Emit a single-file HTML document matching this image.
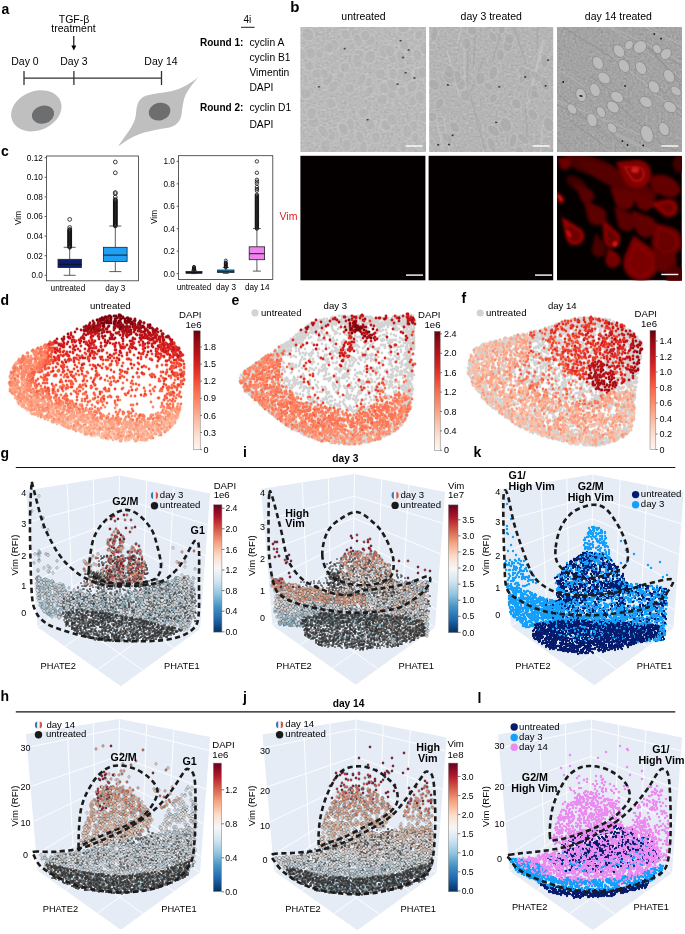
<!DOCTYPE html>
<html><head><meta charset="utf-8"><style>
html,body{margin:0;padding:0;background:#fff;width:685px;height:934px;overflow:hidden}
svg{display:block;will-change:transform}
text{font-family:"Liberation Sans",sans-serif}
</style></head><body>
<svg width="685" height="934" viewBox="0 0 685 934" fill="#000">
<text x="1.5" y="13.5" font-size="14" font-weight="bold">a</text><text x="74" y="22.5" font-size="10.5" text-anchor="middle">TGF-β</text><text x="73.5" y="31.7" font-size="10.5" text-anchor="middle">treatment</text><path d="M73.8 36V47" stroke="#000" stroke-width="1.1"/><path d="M71.3 45.5L73.8 50.6L76.3 45.5Z" fill="#000"/><text x="25" y="64.8" font-size="10.5" text-anchor="middle">Day 0</text><text x="74" y="64.8" font-size="10.5" text-anchor="middle">Day 3</text><text x="161" y="64.8" font-size="10.5" text-anchor="middle">Day 14</text><path d="M24 78.1H161.5M24 71V85M73.9 71V85M161.5 71V85" stroke="#333" stroke-width="1.3" fill="none"/><ellipse cx="36.3" cy="110.8" rx="26" ry="19.6" transform="rotate(-22 36.3 110.8)" fill="#bfbfc0"/><ellipse cx="43" cy="114.6" rx="11.3" ry="8.9" transform="rotate(-14 43 114.6)" fill="#6d6e70"/><path d="M199 76.6C190 84 180 89.5 171.3 91.2C162 93 150 93.5 143 97C137 101 136.5 108 136 114C135 122 131 128 126 135C123 139.5 120 143.5 118 146.6C124 142 131 137 139.2 134.2C148 131 160 129 168.4 127.7C176 126 180 122 181.5 115C182.5 108 183 100 186 94C190 87 195 81 199 76.6Z" fill="#bfbfc0"/><ellipse cx="159.6" cy="111.6" rx="11" ry="8.8" transform="rotate(-14 159.6 111.6)" fill="#6d6e70"/><text x="247.4" y="23.3" font-size="10" text-anchor="middle">4i</text><path d="M241 27.3H254.6" stroke="#000" stroke-width="0.9"/><text x="200" y="45.8" font-size="10" font-weight="bold">Round 1:</text><text x="249.4" y="45.8" font-size="10.3">cyclin A</text><text x="249.4" y="61" font-size="10.3">cyclin B1</text><text x="249.4" y="75.8" font-size="10.3">Vimentin</text><text x="249.4" y="91" font-size="10.3">DAPI</text><text x="249.4" y="110.8" font-size="10.3">cyclin D1</text><text x="249.4" y="127.7" font-size="10.3">DAPI</text><text x="200" y="110.8" font-size="10" font-weight="bold">Round 2:</text><text x="290.3" y="11.6" font-size="15" font-weight="bold">b</text><text x="363.5" y="19.8" font-size="10.5" text-anchor="middle">untreated</text><text x="491.2" y="19.8" font-size="10.5" text-anchor="middle">day 3 treated</text><text x="618.4" y="19.8" font-size="10.5" text-anchor="middle">day 14 treated</text><svg x="300.4" y="27" width="125.6" height="124.8" viewBox="0 0 125.6 124.8"><filter id="gr_untreated" x="0" y="0" width="100%" height="100%" color-interpolation-filters="sRGB"><feTurbulence type="fractalNoise" baseFrequency="0.45" numOctaves="2" seed="66"/><feColorMatrix type="matrix" values="0.1 0.1 0.1 0 0.58 0.1 0.1 0.1 0 0.58 0.1 0.1 0.1 0 0.58 0 0 0 0 1"/></filter><rect width="125.6" height="124.8" filter="url(#gr_untreated)"/><ellipse cx="101.5" cy="64.3" rx="4.6" ry="5.1" transform="rotate(-9 101.5 64.3)" fill="#b2b2b2" fill-opacity="0.6" stroke="#cfcfcf" stroke-width="0.6"/><ellipse cx="51.3" cy="5.7" rx="4.1" ry="7.5" transform="rotate(12 51.3 5.7)" fill="#b2b2b2" fill-opacity="0.6" stroke="#cfcfcf" stroke-width="0.6"/><ellipse cx="29.5" cy="54.3" rx="5.9" ry="7.2" transform="rotate(27 29.5 54.3)" fill="#b2b2b2" fill-opacity="0.6" stroke="#cfcfcf" stroke-width="0.6"/><ellipse cx="49.3" cy="61.5" rx="5.4" ry="5.2" transform="rotate(4 49.3 61.5)" fill="#b2b2b2" fill-opacity="0.6" stroke="#cfcfcf" stroke-width="0.6"/><ellipse cx="34.1" cy="109.8" rx="4.1" ry="6.7" transform="rotate(29 34.1 109.8)" fill="#b2b2b2" fill-opacity="0.6" stroke="#cfcfcf" stroke-width="0.6"/><ellipse cx="28.6" cy="111.8" rx="5.7" ry="5" transform="rotate(16 28.6 111.8)" fill="#b2b2b2" fill-opacity="0.6" stroke="#cfcfcf" stroke-width="0.6"/><ellipse cx="0.2" cy="62.8" rx="4.9" ry="5.5" transform="rotate(-14 0.2 62.8)" fill="#b2b2b2" fill-opacity="0.6" stroke="#cfcfcf" stroke-width="0.6"/><ellipse cx="101.3" cy="39.5" rx="4.3" ry="6.7" transform="rotate(-4 101.3 39.5)" fill="#b2b2b2" fill-opacity="0.6" stroke="#cfcfcf" stroke-width="0.6"/><ellipse cx="100.3" cy="29.4" rx="4.6" ry="7" transform="rotate(0 100.3 29.4)" fill="#b2b2b2" fill-opacity="0.6" stroke="#cfcfcf" stroke-width="0.6"/><ellipse cx="63.6" cy="29.5" rx="4" ry="7.3" transform="rotate(-33 63.6 29.5)" fill="#b2b2b2" fill-opacity="0.6" stroke="#cfcfcf" stroke-width="0.6"/><ellipse cx="106.1" cy="45.9" rx="5.9" ry="6" transform="rotate(34 106.1 45.9)" fill="#b2b2b2" fill-opacity="0.6" stroke="#cfcfcf" stroke-width="0.6"/><ellipse cx="69.9" cy="30" rx="5.5" ry="6.7" transform="rotate(14 69.9 30)" fill="#b2b2b2" fill-opacity="0.6" stroke="#cfcfcf" stroke-width="0.6"/><ellipse cx="58.3" cy="27.7" rx="5.3" ry="5.3" transform="rotate(15 58.3 27.7)" fill="#b2b2b2" fill-opacity="0.6" stroke="#cfcfcf" stroke-width="0.6"/><ellipse cx="79.8" cy="47" rx="5.6" ry="5.5" transform="rotate(-8 79.8 47)" fill="#b2b2b2" fill-opacity="0.6" stroke="#cfcfcf" stroke-width="0.6"/><ellipse cx="100.2" cy="47.5" rx="5.4" ry="6.5" transform="rotate(35 100.2 47.5)" fill="#b2b2b2" fill-opacity="0.6" stroke="#cfcfcf" stroke-width="0.6"/><ellipse cx="124.6" cy="90.3" rx="5.6" ry="5.4" transform="rotate(17 124.6 90.3)" fill="#b2b2b2" fill-opacity="0.6" stroke="#cfcfcf" stroke-width="0.6"/><ellipse cx="106.5" cy="50.1" rx="5.1" ry="6.2" transform="rotate(36 106.5 50.1)" fill="#b2b2b2" fill-opacity="0.6" stroke="#cfcfcf" stroke-width="0.6"/><ellipse cx="39.9" cy="50.2" rx="4" ry="6.1" transform="rotate(10 39.9 50.2)" fill="#b2b2b2" fill-opacity="0.6" stroke="#cfcfcf" stroke-width="0.6"/><ellipse cx="117.4" cy="115.3" rx="4.7" ry="7.5" transform="rotate(-24 117.4 115.3)" fill="#b2b2b2" fill-opacity="0.6" stroke="#cfcfcf" stroke-width="0.6"/><ellipse cx="103.4" cy="19.6" rx="4.8" ry="5.2" transform="rotate(28 103.4 19.6)" fill="#b2b2b2" fill-opacity="0.6" stroke="#cfcfcf" stroke-width="0.6"/><ellipse cx="104.1" cy="17.4" rx="5.1" ry="5.6" transform="rotate(0 104.1 17.4)" fill="#b2b2b2" fill-opacity="0.6" stroke="#cfcfcf" stroke-width="0.6"/><ellipse cx="69.5" cy="13.3" rx="5.7" ry="5.7" transform="rotate(-4 69.5 13.3)" fill="#b2b2b2" fill-opacity="0.6" stroke="#cfcfcf" stroke-width="0.6"/><ellipse cx="7.2" cy="0.3" rx="4.4" ry="5.9" transform="rotate(34 7.2 0.3)" fill="#b2b2b2" fill-opacity="0.6" stroke="#cfcfcf" stroke-width="0.6"/><ellipse cx="111.7" cy="60" rx="4.9" ry="6.7" transform="rotate(28 111.7 60)" fill="#b2b2b2" fill-opacity="0.6" stroke="#cfcfcf" stroke-width="0.6"/><ellipse cx="42.4" cy="99" rx="4.8" ry="6.5" transform="rotate(18 42.4 99)" fill="#b2b2b2" fill-opacity="0.6" stroke="#cfcfcf" stroke-width="0.6"/><ellipse cx="63" cy="86.2" rx="5.4" ry="5" transform="rotate(-36 63 86.2)" fill="#b2b2b2" fill-opacity="0.6" stroke="#cfcfcf" stroke-width="0.6"/><ellipse cx="18.7" cy="26.7" rx="4.4" ry="5.1" transform="rotate(-22 18.7 26.7)" fill="#b2b2b2" fill-opacity="0.6" stroke="#cfcfcf" stroke-width="0.6"/><ellipse cx="75.5" cy="110.6" rx="4.7" ry="5.9" transform="rotate(-6 75.5 110.6)" fill="#b2b2b2" fill-opacity="0.6" stroke="#cfcfcf" stroke-width="0.6"/><ellipse cx="85.5" cy="98" rx="5.9" ry="5.9" transform="rotate(16 85.5 98)" fill="#b2b2b2" fill-opacity="0.6" stroke="#cfcfcf" stroke-width="0.6"/><ellipse cx="42.9" cy="102.8" rx="4.5" ry="7.2" transform="rotate(0 42.9 102.8)" fill="#b2b2b2" fill-opacity="0.6" stroke="#cfcfcf" stroke-width="0.6"/><ellipse cx="91.1" cy="66.8" rx="4.6" ry="6.2" transform="rotate(-35 91.1 66.8)" fill="#b2b2b2" fill-opacity="0.6" stroke="#cfcfcf" stroke-width="0.6"/><ellipse cx="5.4" cy="66.1" rx="5" ry="7.1" transform="rotate(-38 5.4 66.1)" fill="#b2b2b2" fill-opacity="0.6" stroke="#cfcfcf" stroke-width="0.6"/><ellipse cx="69.9" cy="61.2" rx="5.2" ry="6.8" transform="rotate(1 69.9 61.2)" fill="#b2b2b2" fill-opacity="0.6" stroke="#cfcfcf" stroke-width="0.6"/><ellipse cx="70.7" cy="61.4" rx="5.2" ry="5.6" transform="rotate(4 70.7 61.4)" fill="#b2b2b2" fill-opacity="0.6" stroke="#cfcfcf" stroke-width="0.6"/><ellipse cx="84.5" cy="23.9" rx="6" ry="6.9" transform="rotate(36 84.5 23.9)" fill="#b2b2b2" fill-opacity="0.6" stroke="#cfcfcf" stroke-width="0.6"/><ellipse cx="36.9" cy="55.3" rx="4.5" ry="5.1" transform="rotate(-38 36.9 55.3)" fill="#b2b2b2" fill-opacity="0.6" stroke="#cfcfcf" stroke-width="0.6"/><ellipse cx="31" cy="107.5" rx="4.3" ry="6.7" transform="rotate(-20 31 107.5)" fill="#b2b2b2" fill-opacity="0.6" stroke="#cfcfcf" stroke-width="0.6"/><ellipse cx="8.2" cy="24" rx="5.4" ry="6.3" transform="rotate(3 8.2 24)" fill="#b2b2b2" fill-opacity="0.6" stroke="#cfcfcf" stroke-width="0.6"/><ellipse cx="56.9" cy="34.2" rx="5" ry="7.3" transform="rotate(-23 56.9 34.2)" fill="#b2b2b2" fill-opacity="0.6" stroke="#cfcfcf" stroke-width="0.6"/><ellipse cx="92" cy="31.3" rx="4.4" ry="5.8" transform="rotate(-32 92 31.3)" fill="#b2b2b2" fill-opacity="0.6" stroke="#cfcfcf" stroke-width="0.6"/><ellipse cx="117.5" cy="45.6" rx="4.4" ry="5" transform="rotate(-35 117.5 45.6)" fill="#b2b2b2" fill-opacity="0.6" stroke="#cfcfcf" stroke-width="0.6"/><ellipse cx="27" cy="52.1" rx="5.2" ry="7.5" transform="rotate(31 27 52.1)" fill="#b2b2b2" fill-opacity="0.6" stroke="#cfcfcf" stroke-width="0.6"/><ellipse cx="30.4" cy="76.3" rx="5.8" ry="5.3" transform="rotate(28 30.4 76.3)" fill="#b2b2b2" fill-opacity="0.6" stroke="#cfcfcf" stroke-width="0.6"/><ellipse cx="49.7" cy="97.6" rx="4.6" ry="6.6" transform="rotate(0 49.7 97.6)" fill="#b2b2b2" fill-opacity="0.6" stroke="#cfcfcf" stroke-width="0.6"/><ellipse cx="13.1" cy="94.8" rx="5.6" ry="6.2" transform="rotate(-8 13.1 94.8)" fill="#b2b2b2" fill-opacity="0.6" stroke="#cfcfcf" stroke-width="0.6"/><ellipse cx="119" cy="46.7" rx="5.8" ry="6" transform="rotate(-10 119 46.7)" fill="#b2b2b2" fill-opacity="0.6" stroke="#cfcfcf" stroke-width="0.6"/><ellipse cx="45.4" cy="7.5" rx="4.6" ry="5.6" transform="rotate(-35 45.4 7.5)" fill="#b2b2b2" fill-opacity="0.6" stroke="#cfcfcf" stroke-width="0.6"/><ellipse cx="68" cy="55.2" rx="4.1" ry="5.4" transform="rotate(33 68 55.2)" fill="#b2b2b2" fill-opacity="0.6" stroke="#cfcfcf" stroke-width="0.6"/><ellipse cx="16.8" cy="46.6" rx="5.9" ry="5.3" transform="rotate(-7 16.8 46.6)" fill="#b2b2b2" fill-opacity="0.6" stroke="#cfcfcf" stroke-width="0.6"/><ellipse cx="100.6" cy="2.4" rx="4.1" ry="7.3" transform="rotate(14 100.6 2.4)" fill="#b2b2b2" fill-opacity="0.6" stroke="#cfcfcf" stroke-width="0.6"/><ellipse cx="32.8" cy="59.9" rx="4.5" ry="7.2" transform="rotate(35 32.8 59.9)" fill="#b2b2b2" fill-opacity="0.6" stroke="#cfcfcf" stroke-width="0.6"/><ellipse cx="8.9" cy="65.4" rx="4.4" ry="6" transform="rotate(19 8.9 65.4)" fill="#b2b2b2" fill-opacity="0.6" stroke="#cfcfcf" stroke-width="0.6"/><ellipse cx="89.6" cy="23.7" rx="4.7" ry="6.1" transform="rotate(-9 89.6 23.7)" fill="#b2b2b2" fill-opacity="0.6" stroke="#cfcfcf" stroke-width="0.6"/><ellipse cx="85.7" cy="98.4" rx="4.7" ry="6.1" transform="rotate(-34 85.7 98.4)" fill="#b2b2b2" fill-opacity="0.6" stroke="#cfcfcf" stroke-width="0.6"/><ellipse cx="46.1" cy="118.2" rx="5" ry="6.4" transform="rotate(8 46.1 118.2)" fill="#b2b2b2" fill-opacity="0.6" stroke="#cfcfcf" stroke-width="0.6"/><ellipse cx="71.2" cy="100.4" rx="4.5" ry="5.8" transform="rotate(30 71.2 100.4)" fill="#b2b2b2" fill-opacity="0.6" stroke="#cfcfcf" stroke-width="0.6"/><ellipse cx="62.8" cy="119.8" rx="4.3" ry="7" transform="rotate(-2 62.8 119.8)" fill="#b2b2b2" fill-opacity="0.6" stroke="#cfcfcf" stroke-width="0.6"/><ellipse cx="59.5" cy="110" rx="4.3" ry="6.3" transform="rotate(-20 59.5 110)" fill="#b2b2b2" fill-opacity="0.6" stroke="#cfcfcf" stroke-width="0.6"/><ellipse cx="43.1" cy="102" rx="4.8" ry="7" transform="rotate(-38 43.1 102)" fill="#b2b2b2" fill-opacity="0.6" stroke="#cfcfcf" stroke-width="0.6"/><ellipse cx="125.5" cy="119.2" rx="5.4" ry="5.5" transform="rotate(12 125.5 119.2)" fill="#b2b2b2" fill-opacity="0.6" stroke="#cfcfcf" stroke-width="0.6"/><ellipse cx="23.9" cy="46.6" rx="4.1" ry="5.2" transform="rotate(-27 23.9 46.6)" fill="#b2b2b2" fill-opacity="0.6" stroke="#cfcfcf" stroke-width="0.6"/><ellipse cx="22.8" cy="104.6" rx="4.5" ry="7.1" transform="rotate(-39 22.8 104.6)" fill="#b2b2b2" fill-opacity="0.6" stroke="#cfcfcf" stroke-width="0.6"/><ellipse cx="7.3" cy="7.6" rx="5.9" ry="7" transform="rotate(-38 7.3 7.6)" fill="#b2b2b2" fill-opacity="0.6" stroke="#cfcfcf" stroke-width="0.6"/><ellipse cx="117" cy="28.3" rx="4.5" ry="6.5" transform="rotate(-23 117 28.3)" fill="#b2b2b2" fill-opacity="0.6" stroke="#cfcfcf" stroke-width="0.6"/><ellipse cx="122.5" cy="45.7" rx="5.1" ry="6.4" transform="rotate(-17 122.5 45.7)" fill="#b2b2b2" fill-opacity="0.6" stroke="#cfcfcf" stroke-width="0.6"/><ellipse cx="92.3" cy="123.8" rx="5.2" ry="5.2" transform="rotate(24 92.3 123.8)" fill="#b2b2b2" fill-opacity="0.6" stroke="#cfcfcf" stroke-width="0.6"/><ellipse cx="83.7" cy="61.1" rx="5.3" ry="5.7" transform="rotate(-15 83.7 61.1)" fill="#b2b2b2" fill-opacity="0.6" stroke="#cfcfcf" stroke-width="0.6"/><ellipse cx="64.7" cy="8.5" rx="5.2" ry="5.5" transform="rotate(-19 64.7 8.5)" fill="#b2b2b2" fill-opacity="0.6" stroke="#cfcfcf" stroke-width="0.6"/><ellipse cx="113" cy="73.4" rx="4.5" ry="6.7" transform="rotate(39 113 73.4)" fill="#b2b2b2" fill-opacity="0.6" stroke="#cfcfcf" stroke-width="0.6"/><ellipse cx="112.7" cy="99.7" rx="4.7" ry="6.5" transform="rotate(6 112.7 99.7)" fill="#b2b2b2" fill-opacity="0.6" stroke="#cfcfcf" stroke-width="0.6"/><ellipse cx="11.1" cy="86.4" rx="5" ry="6.3" transform="rotate(18 11.1 86.4)" fill="#b2b2b2" fill-opacity="0.6" stroke="#cfcfcf" stroke-width="0.6"/><ellipse cx="9.7" cy="26.5" rx="6" ry="5.7" transform="rotate(-19 9.7 26.5)" fill="#b2b2b2" fill-opacity="0.6" stroke="#cfcfcf" stroke-width="0.6"/><ellipse cx="9" cy="39" rx="5.1" ry="5.1" transform="rotate(-16 9 39)" fill="#b2b2b2" fill-opacity="0.6" stroke="#cfcfcf" stroke-width="0.6"/><ellipse cx="32.2" cy="19.2" rx="5.6" ry="7.4" transform="rotate(33 32.2 19.2)" fill="#b2b2b2" fill-opacity="0.6" stroke="#cfcfcf" stroke-width="0.6"/><ellipse cx="55.4" cy="8.3" rx="4.7" ry="6.3" transform="rotate(-9 55.4 8.3)" fill="#b2b2b2" fill-opacity="0.6" stroke="#cfcfcf" stroke-width="0.6"/><ellipse cx="91.8" cy="92.7" rx="5.8" ry="6.2" transform="rotate(-20 91.8 92.7)" fill="#b2b2b2" fill-opacity="0.6" stroke="#cfcfcf" stroke-width="0.6"/><ellipse cx="114.4" cy="110.4" rx="4.3" ry="5.5" transform="rotate(12 114.4 110.4)" fill="#b2b2b2" fill-opacity="0.6" stroke="#cfcfcf" stroke-width="0.6"/><ellipse cx="103.1" cy="119.8" rx="4" ry="5.5" transform="rotate(-6 103.1 119.8)" fill="#b2b2b2" fill-opacity="0.6" stroke="#cfcfcf" stroke-width="0.6"/><ellipse cx="69.2" cy="97.1" rx="5.1" ry="6.3" transform="rotate(-20 69.2 97.1)" fill="#b2b2b2" fill-opacity="0.6" stroke="#cfcfcf" stroke-width="0.6"/><ellipse cx="81.7" cy="72.7" rx="5.9" ry="5.5" transform="rotate(-30 81.7 72.7)" fill="#b2b2b2" fill-opacity="0.6" stroke="#cfcfcf" stroke-width="0.6"/><ellipse cx="44.4" cy="40.6" rx="4.9" ry="5.4" transform="rotate(16 44.4 40.6)" fill="#b2b2b2" fill-opacity="0.6" stroke="#cfcfcf" stroke-width="0.6"/><ellipse cx="103.3" cy="0.8" rx="5.8" ry="5.2" transform="rotate(-15 103.3 0.8)" fill="#b2b2b2" fill-opacity="0.6" stroke="#cfcfcf" stroke-width="0.6"/><ellipse cx="61.1" cy="52.9" rx="4.4" ry="6.8" transform="rotate(27 61.1 52.9)" fill="#b2b2b2" fill-opacity="0.6" stroke="#cfcfcf" stroke-width="0.6"/><ellipse cx="28.6" cy="20.6" rx="5" ry="5.4" transform="rotate(35 28.6 20.6)" fill="#b2b2b2" fill-opacity="0.6" stroke="#cfcfcf" stroke-width="0.6"/><ellipse cx="106.9" cy="104.2" rx="4.8" ry="7" transform="rotate(-8 106.9 104.2)" fill="#b2b2b2" fill-opacity="0.6" stroke="#cfcfcf" stroke-width="0.6"/><ellipse cx="57.5" cy="13.2" rx="4.1" ry="6.7" transform="rotate(-24 57.5 13.2)" fill="#b2b2b2" fill-opacity="0.6" stroke="#cfcfcf" stroke-width="0.6"/><ellipse cx="120.1" cy="70.5" rx="5.2" ry="7.2" transform="rotate(-16 120.1 70.5)" fill="#b2b2b2" fill-opacity="0.6" stroke="#cfcfcf" stroke-width="0.6"/><ellipse cx="1.4" cy="27.4" rx="4.9" ry="5.4" transform="rotate(-17 1.4 27.4)" fill="#b2b2b2" fill-opacity="0.6" stroke="#cfcfcf" stroke-width="0.6"/><ellipse cx="92.6" cy="47" rx="4.7" ry="5.6" transform="rotate(2 92.6 47)" fill="#b2b2b2" fill-opacity="0.6" stroke="#cfcfcf" stroke-width="0.6"/><ellipse cx="125" cy="21.1" rx="5.7" ry="6.9" transform="rotate(8 125 21.1)" fill="#b2b2b2" fill-opacity="0.6" stroke="#cfcfcf" stroke-width="0.6"/><ellipse cx="68.2" cy="64.9" rx="4.2" ry="6.4" transform="rotate(39 68.2 64.9)" fill="#b2b2b2" fill-opacity="0.6" stroke="#cfcfcf" stroke-width="0.6"/><ellipse cx="91.6" cy="58.2" rx="4.9" ry="7.2" transform="rotate(-39 91.6 58.2)" fill="#b2b2b2" fill-opacity="0.6" stroke="#cfcfcf" stroke-width="0.6"/><ellipse cx="25.1" cy="119.5" rx="5.3" ry="7.1" transform="rotate(2 25.1 119.5)" fill="#b2b2b2" fill-opacity="0.6" stroke="#cfcfcf" stroke-width="0.6"/><ellipse cx="5.2" cy="66.9" rx="5.3" ry="5.2" transform="rotate(-1 5.2 66.9)" fill="#b2b2b2" fill-opacity="0.6" stroke="#cfcfcf" stroke-width="0.6"/><ellipse cx="118.4" cy="7.8" rx="4.1" ry="5.3" transform="rotate(14 118.4 7.8)" fill="#b2b2b2" fill-opacity="0.6" stroke="#cfcfcf" stroke-width="0.6"/><circle cx="108.2" cy="22.9" r="0.9" fill="#222"/><circle cx="102.6" cy="30.5" r="0.9" fill="#222"/><circle cx="67.2" cy="92.7" r="0.9" fill="#222"/><circle cx="18.6" cy="59.8" r="0.9" fill="#222"/><circle cx="105.2" cy="45.7" r="0.9" fill="#222"/><circle cx="97.2" cy="57.2" r="0.9" fill="#222"/><circle cx="114" cy="51" r="0.9" fill="#222"/><circle cx="100.1" cy="13.7" r="0.9" fill="#222"/><circle cx="44.2" cy="21.7" r="0.9" fill="#222"/><path d="M105.1 119H122.1" stroke="#fff" stroke-width="1.4"/></svg><svg x="429.2" y="27" width="124" height="124.8" viewBox="0 0 124 124.8"><filter id="gr_day3" x="0" y="0" width="100%" height="100%" color-interpolation-filters="sRGB"><feTurbulence type="fractalNoise" baseFrequency="0.45" numOctaves="2" seed="79"/><feColorMatrix type="matrix" values="0.1 0.1 0.1 0 0.56 0.1 0.1 0.1 0 0.56 0.1 0.1 0.1 0 0.56 0 0 0 0 1"/></filter><rect width="124" height="124.8" filter="url(#gr_day3)"/><path d="M38.1 58.7L38.8 16.7" stroke="#a0a0a0" stroke-width="0.8"/><path d="M63.2 35.2L80.6 -28" stroke="#a0a0a0" stroke-width="0.8"/><path d="M40.7 66.5L55.1 30.6" stroke="#a0a0a0" stroke-width="0.8"/><path d="M22.2 134.5L14.2 89.9" stroke="#cdcdcd" stroke-width="0.8"/><path d="M35.1 74.7L35 14" stroke="#cdcdcd" stroke-width="0.8"/><path d="M-16.7 134.2L-14.4 81.2" stroke="#a0a0a0" stroke-width="0.8"/><path d="M44.3 39.9L47.6 -30.7" stroke="#a0a0a0" stroke-width="0.8"/><path d="M30.4 70.2L18.1 23.9" stroke="#cdcdcd" stroke-width="0.8"/><path d="M108 21.9L109.4 -44.6" stroke="#a0a0a0" stroke-width="0.8"/><path d="M77.5 2.5L80.3 -51.9" stroke="#cdcdcd" stroke-width="0.8"/><path d="M41.8 0.2L44.2 -30.3" stroke="#cdcdcd" stroke-width="0.8"/><path d="M28.2 16.8L39.6 -30" stroke="#cdcdcd" stroke-width="0.8"/><path d="M98 110.7L96.4 80.6" stroke="#a0a0a0" stroke-width="0.8"/><path d="M97.3 81.8L114.8 13.9" stroke="#cdcdcd" stroke-width="0.8"/><path d="M-9.6 142.1L0.7 85.1" stroke="#a0a0a0" stroke-width="0.8"/><path d="M110 144.6L113.7 97.6" stroke="#cdcdcd" stroke-width="0.8"/><path d="M-10.9 110.5L-19.9 49" stroke="#a0a0a0" stroke-width="0.8"/><path d="M58.8 134.5L40.4 65.9" stroke="#a0a0a0" stroke-width="0.8"/><path d="M14.2 122.8L6.8 92.1" stroke="#cdcdcd" stroke-width="0.8"/><path d="M96.7 36.9L82.2 -7.7" stroke="#a0a0a0" stroke-width="0.8"/><path d="M-1.7 1.6L9.1 -56.7" stroke="#cdcdcd" stroke-width="0.8"/><path d="M100 70.6L113.6 12.2" stroke="#cdcdcd" stroke-width="0.8"/><ellipse cx="25.5" cy="100.3" rx="4.3" ry="6.5" transform="rotate(-39 25.5 100.3)" fill="#a9a9a9" fill-opacity="0.6" stroke="#cccccc" stroke-width="0.6"/><ellipse cx="31.6" cy="56.8" rx="4.9" ry="6.4" transform="rotate(-5 31.6 56.8)" fill="#a9a9a9" fill-opacity="0.6" stroke="#cccccc" stroke-width="0.6"/><ellipse cx="93.9" cy="50.3" rx="3.5" ry="6.7" transform="rotate(25 93.9 50.3)" fill="#a9a9a9" fill-opacity="0.6" stroke="#cccccc" stroke-width="0.6"/><ellipse cx="4.7" cy="57.8" rx="4.8" ry="6.5" transform="rotate(-41 4.7 57.8)" fill="#a9a9a9" fill-opacity="0.6" stroke="#cccccc" stroke-width="0.6"/><ellipse cx="63.7" cy="10" rx="3.6" ry="6" transform="rotate(-35 63.7 10)" fill="#a9a9a9" fill-opacity="0.6" stroke="#cccccc" stroke-width="0.6"/><ellipse cx="62.5" cy="117.9" rx="3.9" ry="8" transform="rotate(-22 62.5 117.9)" fill="#a9a9a9" fill-opacity="0.6" stroke="#cccccc" stroke-width="0.6"/><ellipse cx="103.6" cy="65.2" rx="5.1" ry="7.6" transform="rotate(17 103.6 65.2)" fill="#a9a9a9" fill-opacity="0.6" stroke="#cccccc" stroke-width="0.6"/><ellipse cx="18.3" cy="111.2" rx="3.7" ry="7.2" transform="rotate(-46 18.3 111.2)" fill="#a9a9a9" fill-opacity="0.6" stroke="#cccccc" stroke-width="0.6"/><ellipse cx="37.2" cy="16.5" rx="4.7" ry="5.9" transform="rotate(-4 37.2 16.5)" fill="#a9a9a9" fill-opacity="0.6" stroke="#cccccc" stroke-width="0.6"/><ellipse cx="27.1" cy="49.8" rx="5.3" ry="6.8" transform="rotate(-11 27.1 49.8)" fill="#a9a9a9" fill-opacity="0.6" stroke="#cccccc" stroke-width="0.6"/><ellipse cx="90" cy="123.9" rx="4.2" ry="5.3" transform="rotate(-30 90 123.9)" fill="#a9a9a9" fill-opacity="0.6" stroke="#cccccc" stroke-width="0.6"/><ellipse cx="19.4" cy="50.6" rx="5" ry="7.3" transform="rotate(-41 19.4 50.6)" fill="#a9a9a9" fill-opacity="0.6" stroke="#cccccc" stroke-width="0.6"/><ellipse cx="20.1" cy="44.9" rx="5.2" ry="6.5" transform="rotate(-6 20.1 44.9)" fill="#a9a9a9" fill-opacity="0.6" stroke="#cccccc" stroke-width="0.6"/><ellipse cx="36.1" cy="68.6" rx="4.7" ry="6" transform="rotate(-1 36.1 68.6)" fill="#a9a9a9" fill-opacity="0.6" stroke="#cccccc" stroke-width="0.6"/><ellipse cx="93.5" cy="44.2" rx="4.4" ry="5.4" transform="rotate(-29 93.5 44.2)" fill="#a9a9a9" fill-opacity="0.6" stroke="#cccccc" stroke-width="0.6"/><ellipse cx="5" cy="7" rx="3.7" ry="7.7" transform="rotate(8 5 7)" fill="#a9a9a9" fill-opacity="0.6" stroke="#cccccc" stroke-width="0.6"/><ellipse cx="72.6" cy="99.6" rx="3.9" ry="6.1" transform="rotate(-3 72.6 99.6)" fill="#a9a9a9" fill-opacity="0.6" stroke="#cccccc" stroke-width="0.6"/><ellipse cx="106" cy="67.4" rx="3.8" ry="5.1" transform="rotate(-47 106 67.4)" fill="#a9a9a9" fill-opacity="0.6" stroke="#cccccc" stroke-width="0.6"/><ellipse cx="93.8" cy="111.6" rx="3.8" ry="7.4" transform="rotate(-46 93.8 111.6)" fill="#a9a9a9" fill-opacity="0.6" stroke="#cccccc" stroke-width="0.6"/><ellipse cx="103.6" cy="87.6" rx="4.4" ry="6.4" transform="rotate(-32 103.6 87.6)" fill="#a9a9a9" fill-opacity="0.6" stroke="#cccccc" stroke-width="0.6"/><ellipse cx="115.4" cy="34" rx="4" ry="7.3" transform="rotate(-3 115.4 34)" fill="#a9a9a9" fill-opacity="0.6" stroke="#cccccc" stroke-width="0.6"/><ellipse cx="64.1" cy="71.3" rx="3.7" ry="5.3" transform="rotate(28 64.1 71.3)" fill="#a9a9a9" fill-opacity="0.6" stroke="#cccccc" stroke-width="0.6"/><ellipse cx="87.1" cy="76.7" rx="4.6" ry="5.7" transform="rotate(-37 87.1 76.7)" fill="#a9a9a9" fill-opacity="0.6" stroke="#cccccc" stroke-width="0.6"/><ellipse cx="72.4" cy="1.3" rx="3.6" ry="6" transform="rotate(-3 72.4 1.3)" fill="#a9a9a9" fill-opacity="0.6" stroke="#cccccc" stroke-width="0.6"/><ellipse cx="115.3" cy="56.5" rx="4.1" ry="7.9" transform="rotate(-26 115.3 56.5)" fill="#a9a9a9" fill-opacity="0.6" stroke="#cccccc" stroke-width="0.6"/><ellipse cx="59.7" cy="59.6" rx="3.6" ry="5.3" transform="rotate(-49 59.7 59.6)" fill="#a9a9a9" fill-opacity="0.6" stroke="#cccccc" stroke-width="0.6"/><ellipse cx="98.5" cy="47.4" rx="4.9" ry="6.3" transform="rotate(-10 98.5 47.4)" fill="#a9a9a9" fill-opacity="0.6" stroke="#cccccc" stroke-width="0.6"/><ellipse cx="107.1" cy="49.2" rx="3.7" ry="7" transform="rotate(-47 107.1 49.2)" fill="#a9a9a9" fill-opacity="0.6" stroke="#cccccc" stroke-width="0.6"/><ellipse cx="63.9" cy="46" rx="4.4" ry="7.2" transform="rotate(17 63.9 46)" fill="#a9a9a9" fill-opacity="0.6" stroke="#cccccc" stroke-width="0.6"/><ellipse cx="119.4" cy="97.3" rx="5.1" ry="7.8" transform="rotate(-19 119.4 97.3)" fill="#a9a9a9" fill-opacity="0.6" stroke="#cccccc" stroke-width="0.6"/><ellipse cx="42.6" cy="3.5" rx="4.4" ry="5.2" transform="rotate(-32 42.6 3.5)" fill="#a9a9a9" fill-opacity="0.6" stroke="#cccccc" stroke-width="0.6"/><ellipse cx="51.2" cy="51.4" rx="5" ry="6.4" transform="rotate(6 51.2 51.4)" fill="#a9a9a9" fill-opacity="0.6" stroke="#cccccc" stroke-width="0.6"/><ellipse cx="2.8" cy="90" rx="5" ry="5" transform="rotate(-21 2.8 90)" fill="#a9a9a9" fill-opacity="0.6" stroke="#cccccc" stroke-width="0.6"/><ellipse cx="78.9" cy="17.2" rx="5.1" ry="7.9" transform="rotate(12 78.9 17.2)" fill="#a9a9a9" fill-opacity="0.6" stroke="#cccccc" stroke-width="0.6"/><ellipse cx="76.8" cy="97.8" rx="5.4" ry="7.9" transform="rotate(-23 76.8 97.8)" fill="#a9a9a9" fill-opacity="0.6" stroke="#cccccc" stroke-width="0.6"/><ellipse cx="80.3" cy="11.8" rx="5.3" ry="5.2" transform="rotate(-27 80.3 11.8)" fill="#a9a9a9" fill-opacity="0.6" stroke="#cccccc" stroke-width="0.6"/><ellipse cx="71.1" cy="27.9" rx="4.3" ry="6.1" transform="rotate(3 71.1 27.9)" fill="#a9a9a9" fill-opacity="0.6" stroke="#cccccc" stroke-width="0.6"/><ellipse cx="64.2" cy="103.6" rx="4.7" ry="7.2" transform="rotate(-48 64.2 103.6)" fill="#a9a9a9" fill-opacity="0.6" stroke="#cccccc" stroke-width="0.6"/><ellipse cx="83.8" cy="113.6" rx="3.8" ry="7.3" transform="rotate(12 83.8 113.6)" fill="#a9a9a9" fill-opacity="0.6" stroke="#cccccc" stroke-width="0.6"/><ellipse cx="10.3" cy="76.7" rx="4.1" ry="6.1" transform="rotate(29 10.3 76.7)" fill="#a9a9a9" fill-opacity="0.6" stroke="#cccccc" stroke-width="0.6"/><circle cx="70" cy="59.8" r="0.9" fill="#111"/><circle cx="95.9" cy="49.9" r="0.9" fill="#111"/><circle cx="19.8" cy="117.5" r="0.9" fill="#111"/><circle cx="23.4" cy="108.4" r="0.9" fill="#111"/><circle cx="116.4" cy="58.8" r="0.9" fill="#111"/><circle cx="18.7" cy="57.9" r="0.9" fill="#111"/><circle cx="66.9" cy="95.3" r="0.9" fill="#111"/><circle cx="118.9" cy="33.1" r="0.9" fill="#111"/><circle cx="8.9" cy="117.7" r="0.9" fill="#111"/><path d="M103.5 119H120.5" stroke="#fff" stroke-width="1.4"/></svg><svg x="557" y="27" width="124.8" height="124.8" viewBox="0 0 124.8 124.8"><filter id="gr_day14" x="0" y="0" width="100%" height="100%" color-interpolation-filters="sRGB"><feTurbulence type="fractalNoise" baseFrequency="0.45" numOctaves="2" seed="69"/><feColorMatrix type="matrix" values="0.1 0.1 0.1 0 0.49 0.1 0.1 0.1 0 0.49 0.1 0.1 0.1 0 0.49 0 0 0 0 1"/></filter><rect width="124.8" height="124.8" filter="url(#gr_day14)"/><path d="M119 109.3L206.3 164" stroke="#b8b8b8" stroke-width="0.8"/><path d="M1 66.6L53.8 113" stroke="#8e8e8e" stroke-width="0.8"/><path d="M42.8 112.2L97.3 172.4" stroke="#b8b8b8" stroke-width="0.8"/><path d="M86.2 -0.5L163 36.2" stroke="#b8b8b8" stroke-width="0.8"/><path d="M63.4 -18.7L100.6 4.2" stroke="#b8b8b8" stroke-width="0.8"/><path d="M-2 76.3L50.9 103.5" stroke="#8e8e8e" stroke-width="0.8"/><path d="M51.2 102.5L116.4 174.9" stroke="#8e8e8e" stroke-width="0.8"/><path d="M-12.8 -11.8L65.7 37.2" stroke="#8e8e8e" stroke-width="0.8"/><path d="M52.1 26.4L94.2 61.7" stroke="#b8b8b8" stroke-width="0.8"/><path d="M83.7 17.7L161 56.7" stroke="#8e8e8e" stroke-width="0.8"/><path d="M31.7 48.5L74.6 77.4" stroke="#8e8e8e" stroke-width="0.8"/><path d="M12.9 93.5L52.9 122.6" stroke="#8e8e8e" stroke-width="0.8"/><path d="M111.3 74.8L183.6 107.6" stroke="#b8b8b8" stroke-width="0.8"/><path d="M-13.9 67.6L82.6 107.5" stroke="#b8b8b8" stroke-width="0.8"/><path d="M27.3 -16.8L96.7 29.9" stroke="#b8b8b8" stroke-width="0.8"/><path d="M44.7 100.2L119 138.4" stroke="#b8b8b8" stroke-width="0.8"/><path d="M113.1 80.3L150.8 110.9" stroke="#8e8e8e" stroke-width="0.8"/><path d="M-29.8 21.5L28.8 60.7" stroke="#b8b8b8" stroke-width="0.8"/><path d="M56.5 73.8L109.7 121.5" stroke="#8e8e8e" stroke-width="0.8"/><path d="M-1 110L65.9 182.7" stroke="#8e8e8e" stroke-width="0.8"/><path d="M91.2 22.1L165.6 94.7" stroke="#8e8e8e" stroke-width="0.8"/><path d="M43.1 -5.8L140.1 42.3" stroke="#b8b8b8" stroke-width="0.8"/><path d="M55.8 104.5L108.6 130.5" stroke="#b8b8b8" stroke-width="0.8"/><path d="M91.5 62L154.4 110.9" stroke="#b8b8b8" stroke-width="0.8"/><path d="M90.8 18.3L132.9 68.4" stroke="#8e8e8e" stroke-width="0.8"/><path d="M99.7 58.3L142.3 103.9" stroke="#8e8e8e" stroke-width="0.8"/><ellipse cx="83" cy="20" rx="7" ry="6" transform="rotate(-41 83 20)" fill="#bcbcbc" stroke="#878787" stroke-width="0.7"/><ellipse cx="62" cy="24" rx="5" ry="7" transform="rotate(-36 62 24)" fill="#bcbcbc" stroke="#878787" stroke-width="0.7"/><ellipse cx="41" cy="36" rx="5" ry="7" transform="rotate(-29 41 36)" fill="#bcbcbc" stroke="#878787" stroke-width="0.7"/><ellipse cx="67" cy="39" rx="5" ry="7" transform="rotate(-31 67 39)" fill="#bcbcbc" stroke="#878787" stroke-width="0.7"/><ellipse cx="84" cy="41" rx="5" ry="7" transform="rotate(-32 84 41)" fill="#bcbcbc" stroke="#878787" stroke-width="0.7"/><ellipse cx="47" cy="51" rx="5" ry="7" transform="rotate(-51 47 51)" fill="#bcbcbc" stroke="#878787" stroke-width="0.7"/><ellipse cx="109" cy="27" rx="6" ry="5" transform="rotate(-46 109 27)" fill="#bcbcbc" stroke="#878787" stroke-width="0.7"/><ellipse cx="112" cy="49" rx="5" ry="7" transform="rotate(-30 112 49)" fill="#bcbcbc" stroke="#878787" stroke-width="0.7"/><ellipse cx="97" cy="60" rx="5" ry="7" transform="rotate(-36 97 60)" fill="#bcbcbc" stroke="#878787" stroke-width="0.7"/><ellipse cx="38" cy="63" rx="5" ry="7" transform="rotate(-23 38 63)" fill="#bcbcbc" stroke="#878787" stroke-width="0.7"/><ellipse cx="60" cy="70" rx="5" ry="7" transform="rotate(-57 60 70)" fill="#bcbcbc" stroke="#878787" stroke-width="0.7"/><ellipse cx="24" cy="68" rx="5" ry="7" transform="rotate(-20 24 68)" fill="#bcbcbc" stroke="#878787" stroke-width="0.7"/><ellipse cx="15" cy="82" rx="4" ry="6" transform="rotate(-40 15 82)" fill="#bcbcbc" stroke="#878787" stroke-width="0.7"/><ellipse cx="56" cy="80" rx="5" ry="7" transform="rotate(-48 56 80)" fill="#bcbcbc" stroke="#878787" stroke-width="0.7"/><ellipse cx="89" cy="75" rx="5" ry="7" transform="rotate(-55 89 75)" fill="#bcbcbc" stroke="#878787" stroke-width="0.7"/><ellipse cx="113" cy="80" rx="5" ry="7" transform="rotate(-57 113 80)" fill="#bcbcbc" stroke="#878787" stroke-width="0.7"/><ellipse cx="35" cy="93" rx="5" ry="7" transform="rotate(-20 35 93)" fill="#bcbcbc" stroke="#878787" stroke-width="0.7"/><ellipse cx="44" cy="85" rx="4" ry="6" transform="rotate(-28 44 85)" fill="#bcbcbc" stroke="#878787" stroke-width="0.7"/><ellipse cx="90" cy="107" rx="6" ry="9" transform="rotate(-20 90 107)" fill="#bcbcbc" stroke="#878787" stroke-width="0.7"/><ellipse cx="107" cy="102" rx="5" ry="7" transform="rotate(-26 107 102)" fill="#bcbcbc" stroke="#878787" stroke-width="0.7"/><ellipse cx="55" cy="101" rx="4" ry="6" transform="rotate(-42 55 101)" fill="#bcbcbc" stroke="#878787" stroke-width="0.7"/><ellipse cx="72" cy="18" rx="5" ry="4" transform="rotate(-52 72 18)" fill="#bcbcbc" stroke="#878787" stroke-width="0.7"/><ellipse cx="100" cy="22" rx="4" ry="5" transform="rotate(-38 100 22)" fill="#bcbcbc" stroke="#878787" stroke-width="0.7"/><ellipse cx="119" cy="64" rx="4" ry="6" transform="rotate(-50 119 64)" fill="#bcbcbc" stroke="#878787" stroke-width="0.7"/><circle cx="23.3" cy="68.8" r="0.9" fill="#111"/><circle cx="70.5" cy="118" r="0.9" fill="#111"/><circle cx="97.3" cy="7.1" r="0.9" fill="#111"/><circle cx="24.7" cy="69.1" r="0.9" fill="#111"/><circle cx="86.2" cy="118.5" r="0.9" fill="#111"/><circle cx="68.1" cy="58.9" r="0.9" fill="#111"/><circle cx="6.2" cy="55" r="0.9" fill="#111"/><circle cx="104" cy="11.7" r="0.9" fill="#111"/><circle cx="65.3" cy="114.1" r="0.9" fill="#111"/><path d="M104.3 119H121.3" stroke="#fff" stroke-width="1.4"/></svg><rect x="300.4" y="155.8" width="125" height="124.5" fill="#050000"/><path d="M406 275.1H423" stroke="#fff" stroke-width="1.4"/><rect x="428.6" y="155.8" width="124.6" height="124.5" fill="#050000"/><path d="M535 275.1H552" stroke="#fff" stroke-width="1.4"/><svg x="557" y="155.9" width="124.8" height="124.3" viewBox="0 0 124.8 124.3"><defs><filter id="rb" x="-20%" y="-20%" width="140%" height="140%"><feGaussianBlur stdDeviation="1.6"/></filter><filter id="rb1" x="-50%" y="-50%" width="200%" height="200%"><feGaussianBlur stdDeviation="0.9"/></filter></defs><rect width="124.8" height="124.3" fill="#050000"/><g filter="url(#rb)"><ellipse cx="35" cy="10" rx="30" ry="9" transform="rotate(18 35 10)" fill="#490000"/><ellipse cx="62" cy="24" rx="42" ry="9" transform="rotate(24 62 24)" fill="#550000"/><ellipse cx="108" cy="30" rx="16" ry="10" transform="rotate(25 108 30)" fill="#620000"/><ellipse cx="20" cy="28" rx="12" ry="6" transform="rotate(35 20 28)" fill="#3c0000"/><ellipse cx="122" cy="8" rx="6" ry="9" transform="rotate(0 122 8)" fill="#410000"/><path d="M59 5.9L78.6 3.9A14.2 14.2 0 1 1 67.1 23.8Z" fill="#830000"/><path d="M52.8 31.3L69.7 34.1A10 10 0 1 1 58.5 47.4Z" fill="#640000"/><path d="M74.5 34.7L89.5 37.3A8.8 8.8 0 1 1 79.7 49Z" fill="#620000"/><path d="M25.9 43.1L43.9 51.4A9.4 9.4 0 1 1 30.9 62.4Z" fill="#5b0000"/><path d="M4.1 60.2L23 72A9.4 9.4 0 1 1 8.8 82Z" fill="#6d0000"/><path d="M44.8 61.1L61.1 76.6A8.8 8.8 0 1 1 46.2 83.5Z" fill="#680000"/><path d="M38.9 76.7L47.9 90.1A7.1 7.1 0 1 1 35.1 92.3Z" fill="#490000"/><path d="M57.3 50.8L73.5 57.2A9.4 9.4 0 1 1 60.8 67.9Z" fill="#5a0000"/><path d="M74.9 54.1L92.8 61.1A10.6 10.6 0 1 1 78.6 73.1Z" fill="#600000"/><path d="M90.7 46.3L110.3 42.7A9.4 9.4 0 1 1 105.9 59.2Z" fill="#6f0000"/><path d="M99 66.9L114.2 71.2A15.3 15.3 0 1 1 95.1 82.2Z" fill="#6a0000"/><path d="M76.6 79.4L94.6 92.8A17.7 17.7 0 1 1 67.7 100Z" fill="#7a0000"/><path d="M101.2 86.4L114.5 95.2A11.8 11.8 0 1 1 96.7 101.6Z" fill="#640000"/><path d="M51.5 91.6L60.3 97.7A7.7 7.7 0 1 1 48.6 101.9Z" fill="#760000"/><path d="M115.7 107L123.3 112.2A9.4 9.4 0 1 1 110.3 114.5Z" fill="#4e0000"/><path d="M17.6 27.6L32.6 33.4A7.1 7.1 0 1 1 23.4 42.6Z" fill="#560000"/><path d="M-1.5 34.5L6.3 41.3A3.5 3.5 0 1 1 0.5 44.7Z" fill="#900000"/><path d="M0.4 1.6L8.4 2.1A5.9 5.9 0 1 1 2.3 9.4Z" fill="#680000"/></g><g filter="url(#rb1)" fill="none"><path d="M67.9 11L80 11A7 7 0 1 1 73.9 21.5Z" stroke="#ba1515" stroke-width="1.6"/><path d="M7.7 65.3L21.7 74.1A7 7 0 1 1 11.2 81.5Z" stroke="#ad0000" stroke-width="1.6"/><path d="M48.2 68.5L59.1 78.6A6 6 0 1 1 49 83.3Z" stroke="#9d0000" stroke-width="1.6"/><path d="M98.5 48.4L110.9 46.1A6 6 0 1 1 108.1 56.6Z" stroke="#9d0000" stroke-width="1.6"/><path d="M78.8 87.7L91.4 97.6A12 12 0 1 1 72.9 102.5Z" stroke="#900000" stroke-width="1.6"/><path d="M102 72.1L113.6 76.7A10 10 0 1 1 100.1 84.5Z" stroke="#890000" stroke-width="1.6"/></g><g filter="url(#rb1)"><ellipse cx="58" cy="88" rx="2.5" ry="3" transform="rotate(0 58 88)" fill="#d11313"/><ellipse cx="12" cy="78" rx="2" ry="4" transform="rotate(-30 12 78)" fill="#c30d0d"/><ellipse cx="3" cy="42" rx="1.3" ry="4" transform="rotate(-30 3 42)" fill="#d11a1a"/><ellipse cx="78" cy="14" rx="4" ry="3" transform="rotate(0 78 14)" fill="#d12222"/></g><path d="M104.3 118.5H121.3" stroke="#fff" stroke-width="1.4"/></svg><text x="279.5" y="220.2" font-size="10.5" fill="#e31a1c">Vim</text><text x="1" y="156" font-size="14" font-weight="bold">c</text><rect x="46.4" y="156" width="92" height="124.8" fill="none" stroke="#333" stroke-width="0.8"/><path d="M44.6 275.3H46.4" stroke="#333" stroke-width="0.8"/><text x="42.8" y="278.2" font-size="8.2" text-anchor="end">0.0</text><path d="M44.6 255.7H46.4" stroke="#333" stroke-width="0.8"/><text x="42.8" y="258.6" font-size="8.2" text-anchor="end">0.02</text><path d="M44.6 236.1H46.4" stroke="#333" stroke-width="0.8"/><text x="42.8" y="239" font-size="8.2" text-anchor="end">0.04</text><path d="M44.6 216.5H46.4" stroke="#333" stroke-width="0.8"/><text x="42.8" y="219.4" font-size="8.2" text-anchor="end">0.06</text><path d="M44.6 196.9H46.4" stroke="#333" stroke-width="0.8"/><text x="42.8" y="199.8" font-size="8.2" text-anchor="end">0.08</text><path d="M44.6 177.3H46.4" stroke="#333" stroke-width="0.8"/><text x="42.8" y="180.2" font-size="8.2" text-anchor="end">0.10</text><path d="M44.6 157.7H46.4" stroke="#333" stroke-width="0.8"/><text x="42.8" y="160.6" font-size="8.2" text-anchor="end">0.12</text><text transform="translate(20.8 218) rotate(-90)" font-size="8.2" text-anchor="middle">Vim</text><path d="M69.7 259.3V247.3M69.7 267.6V275.3M63.7 247.3H75.7M63.7 275.3H75.7" stroke="#333" stroke-width="0.8" fill="none"/><g fill="none" stroke="#111" stroke-width="0.8"><circle cx="69.7" cy="247.3" r="1.9"/><circle cx="69.7" cy="246.6" r="1.9"/><circle cx="69.7" cy="245.9" r="1.9"/><circle cx="69.7" cy="245.2" r="1.9"/><circle cx="69.7" cy="244.5" r="1.9"/><circle cx="69.7" cy="243.7" r="1.9"/><circle cx="69.7" cy="243" r="1.9"/><circle cx="69.7" cy="242.3" r="1.9"/><circle cx="69.7" cy="241.6" r="1.9"/><circle cx="69.7" cy="240.9" r="1.9"/><circle cx="69.7" cy="240.2" r="1.9"/><circle cx="69.7" cy="239.5" r="1.9"/><circle cx="69.7" cy="238.8" r="1.9"/><circle cx="69.7" cy="238" r="1.9"/><circle cx="69.7" cy="237.3" r="1.9"/><circle cx="69.7" cy="236.6" r="1.9"/><circle cx="69.7" cy="235.9" r="1.9"/><circle cx="69.7" cy="235.2" r="1.9"/><circle cx="69.7" cy="234.5" r="1.9"/><circle cx="69.7" cy="233.8" r="1.9"/><circle cx="69.7" cy="233.1" r="1.9"/><circle cx="69.7" cy="232.3" r="1.9"/><circle cx="69.7" cy="231.6" r="1.9"/><circle cx="69.7" cy="230.9" r="1.9"/><circle cx="69.7" cy="230.2" r="1.9"/><circle cx="69.7" cy="229.5" r="1.9"/><circle cx="69.7" cy="227.5" r="1.9"/><circle cx="69.7" cy="219.4" r="1.9"/></g><rect x="58" y="259.3" width="23.4" height="8.3" fill="#0c1f6e" stroke="#222" stroke-width="0.8"/><path d="M58 264.3H81.4" stroke="#111" stroke-width="0.9"/><path d="M115.3 247.3V226M115.3 261.5V271.6M109.3 226H121.3M109.3 271.6H121.3" stroke="#333" stroke-width="0.8" fill="none"/><g fill="none" stroke="#111" stroke-width="0.8"><circle cx="115.3" cy="226" r="1.9"/><circle cx="115.3" cy="225.2" r="1.9"/><circle cx="115.3" cy="224.5" r="1.9"/><circle cx="115.3" cy="223.7" r="1.9"/><circle cx="115.3" cy="223" r="1.9"/><circle cx="115.3" cy="222.2" r="1.9"/><circle cx="115.3" cy="221.5" r="1.9"/><circle cx="115.3" cy="220.7" r="1.9"/><circle cx="115.3" cy="219.9" r="1.9"/><circle cx="115.3" cy="219.2" r="1.9"/><circle cx="115.3" cy="218.4" r="1.9"/><circle cx="115.3" cy="217.7" r="1.9"/><circle cx="115.3" cy="216.9" r="1.9"/><circle cx="115.3" cy="216.2" r="1.9"/><circle cx="115.3" cy="215.4" r="1.9"/><circle cx="115.3" cy="214.6" r="1.9"/><circle cx="115.3" cy="213.9" r="1.9"/><circle cx="115.3" cy="213.1" r="1.9"/><circle cx="115.3" cy="212.4" r="1.9"/><circle cx="115.3" cy="211.6" r="1.9"/><circle cx="115.3" cy="210.9" r="1.9"/><circle cx="115.3" cy="210.1" r="1.9"/><circle cx="115.3" cy="209.3" r="1.9"/><circle cx="115.3" cy="208.6" r="1.9"/><circle cx="115.3" cy="207.8" r="1.9"/><circle cx="115.3" cy="207.1" r="1.9"/><circle cx="115.3" cy="206.3" r="1.9"/><circle cx="115.3" cy="205.6" r="1.9"/><circle cx="115.3" cy="204.8" r="1.9"/><circle cx="115.3" cy="204" r="1.9"/><circle cx="115.3" cy="203.3" r="1.9"/><circle cx="115.3" cy="202.5" r="1.9"/><circle cx="115.3" cy="201.8" r="1.9"/><circle cx="115.3" cy="201" r="1.9"/><circle cx="115.3" cy="200.3" r="1.9"/><circle cx="115.3" cy="199.5" r="1.9"/><circle cx="115.3" cy="197" r="1.9"/><circle cx="115.3" cy="193.6" r="1.9"/><circle cx="115.3" cy="192.5" r="1.9"/><circle cx="115.3" cy="172.8" r="1.9"/><circle cx="115.3" cy="162" r="1.9"/></g><rect x="103.5" y="247.3" width="23.6" height="14.2" fill="#1ea0f5" stroke="#222" stroke-width="0.8"/><path d="M103.5 255.1H127.1" stroke="#111" stroke-width="0.9"/><text x="67.9" y="290.6" font-size="8.2" text-anchor="middle">untreated</text><text x="115.3" y="290.6" font-size="8.2" text-anchor="middle">day 3</text><rect x="178.5" y="155.7" width="94.3" height="123.8" fill="none" stroke="#333" stroke-width="0.8"/><path d="M176.7 273.6H178.5" stroke="#333" stroke-width="0.8"/><text x="174.8" y="276.5" font-size="8.2" text-anchor="end">0.0</text><path d="M176.7 251.16H178.5" stroke="#333" stroke-width="0.8"/><text x="174.8" y="254.06" font-size="8.2" text-anchor="end">0.2</text><path d="M176.7 228.72H178.5" stroke="#333" stroke-width="0.8"/><text x="174.8" y="231.62" font-size="8.2" text-anchor="end">0.4</text><path d="M176.7 206.28H178.5" stroke="#333" stroke-width="0.8"/><text x="174.8" y="209.18" font-size="8.2" text-anchor="end">0.6</text><path d="M176.7 183.84H178.5" stroke="#333" stroke-width="0.8"/><text x="174.8" y="186.74" font-size="8.2" text-anchor="end">0.8</text><path d="M176.7 161.4H178.5" stroke="#333" stroke-width="0.8"/><text x="174.8" y="164.3" font-size="8.2" text-anchor="end">1.0</text><text transform="translate(157.2 217) rotate(-90)" font-size="8.2" text-anchor="middle">Vim</text><path d="M194 271.5V270.2M194 273.3V273.6M191 270.2H197M191 273.6H197" stroke="#333" stroke-width="0.8" fill="none"/><g fill="none" stroke="#111" stroke-width="0.8"><circle cx="194" cy="270" r="1.5"/><circle cx="194" cy="269.4" r="1.5"/><circle cx="194" cy="268.7" r="1.5"/><circle cx="194" cy="268.1" r="1.5"/><circle cx="194" cy="267.4" r="1.5"/><circle cx="194" cy="266.8" r="1.5"/></g><rect x="186" y="271.5" width="16" height="1.8" fill="#0c1f6e" stroke="#222" stroke-width="0.8"/><path d="M186 272.4H202" stroke="#111" stroke-width="0.9"/><path d="M225.8 270V267.5M225.8 272.6V273.4M222.8 267.5H228.8M222.8 273.4H228.8" stroke="#333" stroke-width="0.8" fill="none"/><g fill="none" stroke="#111" stroke-width="0.8"><circle cx="225.8" cy="267.5" r="1.5"/><circle cx="225.8" cy="266.8" r="1.5"/><circle cx="225.8" cy="266.1" r="1.5"/><circle cx="225.8" cy="265.4" r="1.5"/><circle cx="225.8" cy="264.6" r="1.5"/><circle cx="225.8" cy="263.9" r="1.5"/><circle cx="225.8" cy="263.2" r="1.5"/><circle cx="225.8" cy="262.5" r="1.5"/><circle cx="225.8" cy="260.6" r="1.5"/></g><rect x="217.6" y="270" width="16.4" height="2.6" fill="#1ea0f5" stroke="#222" stroke-width="0.8"/><path d="M217.6 271.3H234" stroke="#111" stroke-width="0.9"/><path d="M256.9 246.8V228.6M256.9 259.7V271.1M252.9 228.6H260.9M252.9 271.1H260.9" stroke="#333" stroke-width="0.8" fill="none"/><g fill="none" stroke="#111" stroke-width="0.8"><circle cx="256.9" cy="228.6" r="1.7"/><circle cx="256.9" cy="227.7" r="1.7"/><circle cx="256.9" cy="226.9" r="1.7"/><circle cx="256.9" cy="226" r="1.7"/><circle cx="256.9" cy="225.1" r="1.7"/><circle cx="256.9" cy="224.2" r="1.7"/><circle cx="256.9" cy="223.4" r="1.7"/><circle cx="256.9" cy="222.5" r="1.7"/><circle cx="256.9" cy="221.6" r="1.7"/><circle cx="256.9" cy="220.8" r="1.7"/><circle cx="256.9" cy="219.9" r="1.7"/><circle cx="256.9" cy="219" r="1.7"/><circle cx="256.9" cy="218.1" r="1.7"/><circle cx="256.9" cy="217.3" r="1.7"/><circle cx="256.9" cy="216.4" r="1.7"/><circle cx="256.9" cy="215.5" r="1.7"/><circle cx="256.9" cy="214.7" r="1.7"/><circle cx="256.9" cy="213.8" r="1.7"/><circle cx="256.9" cy="212.9" r="1.7"/><circle cx="256.9" cy="212" r="1.7"/><circle cx="256.9" cy="211.2" r="1.7"/><circle cx="256.9" cy="210.3" r="1.7"/><circle cx="256.9" cy="209.4" r="1.7"/><circle cx="256.9" cy="208.5" r="1.7"/><circle cx="256.9" cy="207.7" r="1.7"/><circle cx="256.9" cy="206.8" r="1.7"/><circle cx="256.9" cy="205.9" r="1.7"/><circle cx="256.9" cy="205.1" r="1.7"/><circle cx="256.9" cy="204.2" r="1.7"/><circle cx="256.9" cy="203.3" r="1.7"/><circle cx="256.9" cy="202.4" r="1.7"/><circle cx="256.9" cy="201.6" r="1.7"/><circle cx="256.9" cy="200.7" r="1.7"/><circle cx="256.9" cy="199.8" r="1.7"/><circle cx="256.9" cy="199" r="1.7"/><circle cx="256.9" cy="198.1" r="1.7"/><circle cx="256.9" cy="197.2" r="1.7"/><circle cx="256.9" cy="196.3" r="1.7"/><circle cx="256.9" cy="195.5" r="1.7"/><circle cx="256.9" cy="194.6" r="1.7"/><circle cx="256.9" cy="190.6" r="1.7"/><circle cx="256.9" cy="189" r="1.7"/><circle cx="256.9" cy="187" r="1.7"/><circle cx="256.9" cy="183.5" r="1.7"/><circle cx="256.9" cy="181.6" r="1.7"/><circle cx="256.9" cy="179.8" r="1.7"/><circle cx="256.9" cy="172.8" r="1.7"/><circle cx="256.9" cy="161.4" r="1.7"/></g><rect x="249.2" y="246.8" width="15.4" height="12.9" fill="#ee82ee" stroke="#222" stroke-width="0.8"/><path d="M249.2 253.7H264.6" stroke="#111" stroke-width="0.9"/><text x="194" y="289.5" font-size="8.2" text-anchor="middle">untreated</text><text x="226" y="289.5" font-size="8.2" text-anchor="middle">day 3</text><text x="257.2" y="289.5" font-size="8.2" text-anchor="middle">day 14</text><g stroke-linecap="round"><text x="0.5" y="305" font-size="14" font-weight="bold">d</text><text x="231.5" y="304.6" font-size="14" font-weight="bold">e</text><text x="461.5" y="302.5" font-size="14" font-weight="bold">f</text><text x="110.3" y="308.5" font-size="9.6" text-anchor="middle">untreated</text><path d="M36 406h0m17 12h0m108 4h0m-84 7h0m34-3h0m20 3h0m1-2h0m-50 4h0m17-2h0m8 6h0m9-3h0m27 1h0m-52 2h0m1 1h0m25 3h0m9 0h0m15-1h0m0-1h0m3-2h0m15 0h0" stroke="#fdd0bd" stroke-width="2.8"/><path d="M30 366h0m3 0h0m-16 10h0m0 14h0m1 2h0m7-2h0m2 0h0m1 1h0m-13 7h0m8-1h0m0 0h0m4 1h0m2-2h0m4 1h0m2 1h0m-12 7h0m0-1h0m3-1h0m1-2h0m0 2h0m3-3h0m22 4h0m-30 2h0m7 4h0m3-1h0m1-2h0m6 3h0m6-1h0m2 0h0m5 1h0m2-1h0m2-2h0m3-1h0m29 4h0m-47 2h0m1 1h0m4 4h0m8-5h0m8 3h0m8-4h0m10 5h0m4 1h0m6 0h0m75-3h0m7-3h0m6 2h0m-137 4h0m11 1h0m4 3h0m2-2h0m0 3h0m2 1h0m2-5h0m4 0h0m2 5h0m0-3h0m3 1h0m1-4h0m10 0h0m1 2h0m1 2h0m1 1h0m4-2h0m2 2h0m0-4h0m10 5h0m3-2h0m2 1h0m5-3h0m26 3h0m24-2h0m4 2h0m1-4h0m1 3h0m3 0h0m3 0h0m2 2h0m-118 0h0m6 2h0m5 0h0m1 3h0m4 0h0m3-1h0m1 1h0m1-3h0m6 1h0m0 3h0m6-5h0m2 3h0m5-4h0m0 6h0m4-1h0m4-2h0m0 0h0m4 2h0m7-1h0m0 0h0m3-3h0m5 4h0m1-1h0m3-2h0m2 3h0m3-3h0m4 2h0m2 0h0m2-2h0m0-1h0m0 3h0m4-1h0m7 1h0m1 1h0m1-2h0m2 2h0m2-1h0m5 1h0m1-3h0m1 4h0m1-1h0m4-4h0m2 2h0m-91 5h0m0 1h0m1-1h0m7-1h0m0 3h0m3-1h0m2-3h0m1 6h0m4-2h0m4-3h0m1 4h0m3-4h0m5 3h0m1-1h0m1-3h0m0 4h0m2 0h0m2 1h0m0-3h0m1 4h0m2-2h0m0-2h0m3 1h0m5 0h0m2-1h0m10 3h0m0-3h0m4 2h0m0 1h0m2-1h0m4 1h0m8-1h0m1-1h0m4-3h0m1 3h0m3-2h0m-69 5h0m4 3h0m3 0h0m3-2h0m1 1h0m5-2h0m0 3h0m0-2h0m0 2h0m4-1h0m2 3h0m1-4h0m0 2h0m0 1h0m0-4h0m3 2h0m3 0h0m2-1h0m5 5h0m7-4h0m1 3h0m2 0h0m2 0h0m0-1h0m4-1h0" stroke="#fcbba1" stroke-width="2.8"/><path d="M44 353h0m-28 10h0m2-2h0m1-2h0m6 1h0m10 3h0m0-1h0m5-4h0m2 1h0m-25 9h0m3-2h0m5 0h0m0 3h0m4-6h0m6 1h0m-21 9h0m17-4h0m-19 8h0m3-1h0m6 2h0m1-3h0m6 2h0m-19 6h0m3 1h0m2 0h0m1 2h0m2 1h0m0 0h0m0-2h0m1-3h0m0 0h0m0 0h0m4 5h0m-12 2h0m2 1h0m2 0h0m7 2h0m6 0h0m4-2h0m3 1h0m-21 3h0m2 1h0m5 1h0m1-2h0m2 1h0m4 2h0m6 2h0m1-4h0m1-2h0m1 2h0m6 1h0m3 1h0m20 2h0m-47 0h0m1 5h0m2-2h0m2 2h0m3-5h0m0 3h0m1 1h0m2 1h0m1 1h0m2 0h0m2-5h0m3 0h0m1 2h0m0-2h0m3 0h0m6 4h0m-25 2h0m2-1h0m3 4h0m1 0h0m0-4h0m1 4h0m0-2h0m2 4h0m5-3h0m1-3h0m1 0h0m2 2h0m3 0h0m1 3h0m0 1h0m1-4h0m1 2h0m2-3h0m2 3h0m0-3h0m0-1h0m3 0h0m1 6h0m1-5h0m1 2h0m4-2h0m3 2h0m2 0h0m-31 6h0m4 1h0m0 1h0m0-4h0m2 2h0m0-1h0m2 2h0m4 1h0m1 0h0m2-3h0m1 3h0m0-3h0m4 2h0m4 0h0m1-1h0m6 3h0m8-3h0m4 2h0m1 1h0m3-1h0m0 1h0m82 0h0m5-4h0m0-1h0m2 5h0m3-2h0m1 2h0m1-1h0m2-1h0m-132 4h0m13 3h0m1-2h0m2 2h0m0 1h0m2-1h0m0-2h0m0 0h0m4 1h0m1-4h0m1 3h0m0 1h0m1-4h0m1 6h0m2-2h0m0-2h0m1 2h0m0-4h0m2 6h0m0-2h0m7-1h0m1 1h0m2-1h0m1 2h0m0-3h0m5-1h0m2 1h0m2 2h0m4-1h0m0-2h0m5 4h0m2 0h0m5-1h0m0-2h0m3 2h0m0 2h0m2-3h0m3 3h0m0-4h0m4 3h0m1 0h0m0-1h0m5 1h0m0-2h0m1 3h0m9-2h0m2 1h0m3 1h0m0-2h0m6-3h0m2 4h0m5-3h0m4-2h0m1 1h0m1 1h0m2 2h0m2-1h0m1 3h0m4-6h0m-108 9h0m1 1h0m2 1h0m2 0h0m4 1h0m0-1h0m3-5h0m4 5h0m1-1h0m2 1h0m2 1h0m3-2h0m3 0h0m2-3h0m8 5h0m3-3h0m5 1h0m1-2h0m0-2h0m3 1h0m1-1h0m2 6h0m1-4h0m0-1h0m3 4h0m1-1h0m2-2h0m2 2h0m1 0h0m1-3h0m0-1h0m8 3h0m0 1h0m4 1h0m3-1h0m1 1h0m1-1h0m3-4h0m3 5h0m2-4h0m0 1h0m0-2h0m4 2h0m7 2h0m5-1h0m1 0h0m-91 3h0m6 3h0m0 2h0m8-5h0m0 3h0m2 2h0m11-1h0m9 1h0m5-4h0m1 1h0m4-2h0m6 4h0m4-2h0m3 0h0m5 0h0m0 0h0m1 2h0m1 2h0m5-5h0m6 4h0m3-3h0m-53 5h0m5 2h0m0-1h0m4-1h0m1 3h0m4 2h0m2-5h0m9 2h0m3 1h0m0-4h0m0 1h0m4 2h0m0-3h0m3 3h0m11-2h0m7-1h0" stroke="#fca486" stroke-width="2.8"/><path d="M32 351h0m5-2h0m8-1h0m3 1h0m-24 8h0m1 0h0m3-1h0m0-3h0m6-1h0m3 2h0m5 2h0m0-2h0m0 0h0m5 3h0m-28 3h0m1 1h0m3-2h0m6 3h0m1-1h0m0 1h0m1-3h0m0 4h0m1-4h0m3 0h0m0 3h0m0 0h0m1 0h0m0 1h0m2-4h0m1 0h0m1 4h0m1-2h0m0 0h0m1-4h0m0 5h0m0-1h0m5-4h0m-30 12h0m4-6h0m1 3h0m4 2h0m0-5h0m0 3h0m2 0h0m1 1h0m4-2h0m1 1h0m0 1h0m1-1h0m2-2h0m-23 10h0m1-4h0m4 3h0m2 1h0m1-2h0m1-1h0m0 2h0m3-2h0m0 1h0m3 0h0m2 3h0m2-5h0m-23 7h0m5 3h0m1-5h0m0 6h0m7-3h0m3 3h0m1-2h0m-12 6h0m10-1h0m2 0h0m-16 7h0m1-1h0m4-1h0m0 3h0m4-2h0m0 3h0m2-1h0m4-4h0m0 2h0m1 1h0m1-1h0m1-2h0m3 5h0m4-6h0m-16 9h0m2-2h0m11 3h0m6 1h0m2-3h0m5 2h0m3 1h0m2-1h0m3 1h0m1-1h0m27 2h0m84-2h0m-148 5h0m1-1h0m8-1h0m1 0h0m1 2h0m1-1h0m5 1h0m7-1h0m2 0h0m1 1h0m3-2h0m0 0h0m3 1h0m1 2h0m4 2h0m3-1h0m2 1h0m1-2h0m1-1h0m7-1h0m34 0h0m64 0h0m-132 7h0m28-1h0m1-1h0m3 4h0m1-2h0m2-3h0m3 0h0m2 2h0m0 0h0m1 3h0m8 1h0m1-3h0m19-1h0m10 1h0m52 0h0m13-1h0m-132 7h0m1 0h0m1 3h0m2-1h0m6 1h0m4-3h0m1-2h0m11 4h0m3-3h0m2-1h0m0 0h0m1 0h0m3 4h0m3 1h0m1-2h0m22-1h0m4 2h0m4-1h0m12-3h0m3 4h0m3 0h0m16 1h0m7-4h0m6 0h0m-117 5h0m15 4h0m11-3h0m4 2h0m4-3h0m0 2h0m5-1h0m2-1h0m5 2h0m5 1h0m4-2h0m8 4h0m2-1h0m3-2h0m2 2h0m14-2h0m8-2h0m3 1h0m8-1h0m12 4h0m-51 6h0m2 0h0m1-3h0m2 1h0m1-1h0m6 1h0m5-3h0m25 0h0m-56 8h0m25 1h0m7 0h0m16 0h0m8 6h0" stroke="#fc8c6c" stroke-width="2.8"/><path d="M45 346h0m3 0h0m1 4h0m-13 6h0m6-3h0m3-2h0m1 2h0m1 3h0m1-3h0m4-2h0m-32 10h0m2 1h0m2-3h0m4-2h0m3 3h0m11 1h0m1 1h0m3 0h0m2-3h0m3 2h0m-13 6h0m0 1h0m3 0h0m1-3h0m0-2h0m1 0h0m1 0h0m0 1h0m2 0h0m0-1h0m-19 7h0m1 2h0m6 3h0m1-3h0m-21 3h0m13 5h0m3-3h0m0 3h0m42-4h0m28 3h0m-87 3h0m10 3h0m6-1h0m2-1h0m33 3h0m21-2h0m7 3h0m58-2h0m22 0h0m9-1h0m-152 6h0m4-1h0m4 2h0m3 0h0m7 2h0m16-2h0m3-2h0m2-1h0m11 3h0m4-2h0m14 0h0m9 2h0m23 0h0m2-4h0m14 4h0m25-3h0m-127 10h0m5-3h0m1-1h0m0 1h0m1 2h0m6 1h0m5-3h0m5 1h0m17-2h0m11 0h0m0 0h0m14 3h0m38-2h0m12 3h0m7 0h0m1 0h0m4-3h0m3-1h0m1 2h0m2 2h0m3-4h0m-129 5h0m6 1h0m4 4h0m0 0h0m6-1h0m0-1h0m2-2h0m2 3h0m2-2h0m13 0h0m5 0h0m2 4h0m9-6h0m2 6h0m30 0h0m29-2h0m2-3h0m14 4h0m-110 2h0m12-1h0m2 0h0m10 4h0m3-2h0m3 2h0m1 1h0m64 0h0m5-4h0m-77 6h0m4 3h0m23-1h0m5 0h0m8-1h0m20 3h0m-28 11h0" stroke="#fb7555" stroke-width="2.8"/><path d="M45 345h0m7 3h0m-1 7h0m28 1h0m-28 4h0m19-1h0m81 0h0m-109 8h0m3-2h0m86-1h0m40 3h0m2 0h0m1 1h0m10-1h0m-148 2h0m12 4h0m11-3h0m0 1h0m28 1h0m33 2h0m17-1h0m5 0h0m12 2h0m12-2h0m17-1h0m1 2h0m0-2h0m-146 7h0m8-4h0m1 5h0m2-5h0m5 1h0m2-1h0m5 0h0m0 5h0m6-3h0m7-1h0m33 0h0m6 1h0m26 0h0m11-2h0m1 1h0m8 3h0m2-3h0m5 3h0m10-3h0m2 2h0m-116 4h0m5 3h0m4-3h0m0 2h0m16-3h0m23 3h0m1-2h0m5 0h0m15 1h0m5 1h0m3 1h0m35 1h0m0-3h0m-129 5h0m0-1h0m13 3h0m5-3h0m13 5h0m3-5h0m1 4h0m29-2h0m27 1h0m8-2h0m11-1h0m-84 7h0m7 0h0m9 2h0m7-3h0m32 2h0m9 1h0m24 2h0m8 0h0m-91 6h0m22-1h0m9 0h0m57-3h0m8 1h0m1-2h0m-83 10h0m33 3h0" stroke="#f85d41" stroke-width="2.8"/><path d="M51 345h0m48 5h0m45-5h0m35 4h0m-119 2h0m4 0h0m3 4h0m10 0h0m23 2h0m12-1h0m31-2h0m29 3h0m8-1h0m1-2h0m-128 7h0m5-2h0m7 1h0m4 1h0m8-2h0m26 1h0m3 0h0m13-1h0m22-2h0m0 0h0m19 1h0m4-1h0m5 3h0m5 3h0m-121 0h0m3 4h0m5-1h0m3 1h0m0-2h0m13 2h0m6-3h0m11 2h0m8 2h0m20-2h0m10 2h0m6-5h0m1 1h0m5 2h0m35 0h0m5-2h0m-144 8h0m18-1h0m5-2h0m8 6h0m10-6h0m1 2h0m10-2h0m4 2h0m15-1h0m56 2h0m3-3h0m2 2h0m3 2h0m6-3h0m-145 11h0m12-6h0m85 2h0m19 0h0m17-1h0m9-1h0m6 5h0m-118 1h0m29 4h0m20 4h0m17 1h0m-32 4h0m41 1h0m-23 5h0" stroke="#f14230" stroke-width="2.8"/><path d="M53 344h0m2-1h0m4 1h0m13-2h0m8-1h0m9 0h0m26 3h0m47 0h0m2-1h0m0 1h0m8-2h0m2 2h0m-110 1h0m9 4h0m29 2h0m13-1h0m0-3h0m8 1h0m1 0h0m5 1h0m1-2h0m13-1h0m5 1h0m12 0h0m1 3h0m0-3h0m10 1h0m5 0h0m-117 8h0m4-4h0m7 0h0m3 1h0m9 4h0m0-1h0m7-5h0m1 5h0m5-3h0m3-2h0m16 3h0m5 1h0m3 1h0m22-5h0m14 2h0m19 2h0m0-1h0m2 2h0m2 0h0m0-2h0m-129 6h0m28-2h0m5 0h0m67 2h0m14 1h0m4-3h0m8 0h0m-82 10h0m21-5h0m25 4h0m15-1h0m24-1h0m-56 7h0" stroke="#e02c26" stroke-width="2.8"/><path d="M84 331h0m12 1h0m32-1h0m3 1h0m9-1h0m14 2h0m-86 4h0m1 1h0m2-3h0m13 4h0m15-5h0m3 2h0m10 3h0m10-1h0m5-2h0m13 2h0m9-3h0m7 3h0m7-4h0m-101 11h0m2-2h0m4-1h0m4-2h0m2 0h0m5 0h0m1 0h0m0 3h0m1-2h0m11 2h0m13-3h0m5 3h0m13-4h0m10 0h0m0 5h0m8-4h0m2 2h0m5 1h0m9-3h0m3 0h0m2 5h0m5-1h0m4-3h0m0 3h0m3-1h0m-100 4h0m2-1h0m13 3h0m0-3h0m4 2h0m6 3h0m22-4h0m38 0h0m0-1h0m13 1h0m3 1h0m0 1h0m2 0h0m-111 5h0m44 1h0m58-4h0m-49 9h0m19-2h0m20-1h0m-76 8h0" stroke="#cb181d" stroke-width="2.8"/><path d="M98 320h0m-14 7h0m0 0h0m10-4h0m2 3h0m5-3h0m3 4h0m2-5h0m14 4h0m3-1h0m3-2h0m12 4h0m1-4h0m-64 9h0m2-3h0m10 2h0m2 2h0m1-1h0m3 0h0m2-1h0m9 0h0m18-3h0m4 3h0m1 1h0m13-5h0m1 5h0m2 0h0m5-1h0m10 1h0m3-1h0m-79 7h0m2-4h0m11 0h0m21-1h0m2 0h0m2 2h0m7-1h0m6 4h0m7-3h0m2 3h0m4-2h0m5 3h0m4-4h0m4 4h0m9-3h0m-76 4h0m15 3h0m3-4h0m54 1h0m8 4h0m5 6h0" stroke="#b51318" stroke-width="2.8"/><path d="M100 319h0m0 1h0m1 0h0m4-3h0m4-1h0m8 2h0m3-3h0m0 6h0m3-4h0m4 1h0m8 1h0m0 1h0m-45 3h0m3-2h0m1 3h0m6 2h0m3-2h0m4-3h0m8 4h0m1-4h0m4 2h0m4 4h0m7-4h0m1 0h0m0 1h0m2 1h0m4 0h0m1-1h0m2 2h0m7-1h0m-60 5h0m0-2h0m4 1h0m2 0h0m3 2h0m2-2h0m0 2h0m2-1h0m19-2h0m3 3h0m15 0h0m1-2h0m8 1h0m10-1h0m-45 8h0m33 1h0m0-4h0m15 3h0" stroke="#9c0d14" stroke-width="2.8"/><path d="M102 318h0m0 2h0m2 0h0m7-3h0m3-1h0m2 0h0m3-1h0m4 3h0m2 1h0m9 2h0m-36 5h0m4-3h0m9 0h0m8 2h0m0-4h0m10 1h0m4 3h0m1-3h0m5 1h0m-51 4h0m34 0h0m1 3h0m7-3h0m20 0h0" stroke="#79040f" stroke-width="2.8"/><path d="M143 432h0" stroke="#fee3d6" stroke-width="2.8"/><path d="M55 415h0m28 0h0m-23 3h0m110 3h0m-105 4h0m1 1h0m11-1h0m22 1h0m5 2h0m18 0h0m1-3h0m-26 10h0m31-1h0m8-3h0m13 4h0m9-1h0m-53 3h0m8 2h0m1-3h0m22 4h0m11-4h0" stroke="#fdd0bd" stroke-width="2.8"/><path d="M17 364h0m6 13h0m-1 15h0m4 1h0m7 5h0m-15 3h0m3 3h0m6-1h0m4 7h0m3 0h0m3-5h0m1 3h0m0-2h0m11 3h0m5-3h0m0 2h0m117 3h0m-137 2h0m13 2h0m3-1h0m8 1h0m2 0h0m11 1h0m5 0h0m2 1h0m4-2h0m9 0h0m68 0h0m11 0h0m4 0h0m4 2h0m-131 1h0m1-1h0m0 3h0m4 1h0m2 1h0m0-3h0m2 3h0m4-4h0m3 0h0m5 3h0m1 1h0m2 0h0m6-2h0m2-1h0m0 0h0m9 3h0m2 0h0m10 1h0m24-2h0m15 2h0m23-4h0m2 3h0m3 0h0m1-4h0m3 1h0m3 1h0m0-1h0m0 4h0m-117 1h0m5 1h0m2-1h0m2 0h0m1 1h0m3 1h0m2 1h0m3-2h0m1 4h0m1 0h0m1-4h0m2 0h0m6-1h0m8 1h0m3 2h0m1 0h0m10 0h0m3-1h0m4 2h0m1-4h0m1 3h0m7-1h0m2-1h0m4 0h0m4 0h0m3 1h0m0 0h0m0 0h0m9 1h0m1-2h0m5 0h0m1 2h0m2-3h0m2 0h0m2 2h0m0 2h0m1-1h0m5-1h0m0 0h0m5 2h0m3-4h0m-98 6h0m11 4h0m1-5h0m0 3h0m0 2h0m6-3h0m6 0h0m4 3h0m7-2h0m1 1h0m1-1h0m0 2h0m5-4h0m1 5h0m1-2h0m0 1h0m1-4h0m4 0h0m11 4h0m4-3h0m6 2h0m1 1h0m1-2h0m6 2h0m1-3h0m1 0h0m2 0h0m10-1h0m-65 7h0m2-1h0m1 1h0m1-1h0m2 3h0m0-2h0m6 0h0m2-1h0m1 1h0m0-1h0m3 4h0m1 1h0m6-1h0m2-4h0m0 3h0m1-1h0m2-2h0m1 0h0m5 4h0m3-3h0m2 2h0m1-1h0m0 2h0m0 0h0" stroke="#fcbba1" stroke-width="2.8"/><path d="M31 356h0m7-2h0m4-1h0m-17 9h0m5-4h0m5 0h0m-20 8h0m0 2h0m1 0h0m2 1h0m-3 2h0m0 3h0m2-4h0m1 2h0m1 2h0m4-4h0m1 2h0m-14 4h0m2 0h0m1 1h0m5 0h0m6-2h0m0 4h0m1 2h0m-15 2h0m2 3h0m0-4h0m0 1h0m13-2h0m2 6h0m2 0h0m-18 2h0m0 2h0m3-3h0m0 3h0m15-3h0m3 5h0m-13 5h0m3-1h0m5 0h0m0-3h0m0 0h0m6 4h0m2-4h0m1 5h0m2 0h0m5-4h0m-25 4h0m0 0h0m6 2h0m1 1h0m2-1h0m2 3h0m0 0h0m0 0h0m5-4h0m0-1h0m2 5h0m0-3h0m2 1h0m1-1h0m3 4h0m1-1h0m6-3h0m0 1h0m10 3h0m4 0h0m115 0h0m-156 1h0m2 1h0m7-2h0m1 4h0m0-1h0m2-2h0m1 3h0m3 2h0m0-5h0m1-1h0m0 5h0m3 0h0m0-1h0m4 2h0m7-1h0m4-5h0m1 2h0m1 1h0m1-1h0m1 2h0m1 0h0m3 1h0m8-1h0m8 0h0m4 2h0m88-1h0m2 0h0m0-1h0m4 2h0m1-1h0m-148 4h0m6-1h0m0-1h0m3 3h0m0-1h0m2 2h0m2-5h0m3 3h0m0 0h0m2 1h0m1 0h0m4 0h0m1 0h0m1 2h0m2-4h0m0-2h0m8 3h0m0 0h0m7 0h0m2 2h0m2-2h0m2-1h0m2 2h0m1 1h0m9-1h0m76-1h0m5 2h0m2-5h0m2 2h0m0 3h0m1-2h0m0-3h0m-132 6h0m3 0h0m5 3h0m5 1h0m7-1h0m3-1h0m0-1h0m2 0h0m1 2h0m1-3h0m1 4h0m4 1h0m1-2h0m2-1h0m2 1h0m1 1h0m2-4h0m7 4h0m2 0h0m1 0h0m1 2h0m0-3h0m1 0h0m0-2h0m7 5h0m1-5h0m0 1h0m5 1h0m1 2h0m1-1h0m12 2h0m2-1h0m5-1h0m2 2h0m2 0h0m5 0h0m3-5h0m15 3h0m1-2h0m7 2h0m0-3h0m0 5h0m3 0h0m1-4h0m2-1h0m2 4h0m0-3h0m-113 5h0m2 0h0m0 2h0m2 0h0m2 0h0m0 1h0m8-4h0m0 3h0m3-1h0m5 1h0m1-1h0m2 3h0m4 0h0m0-2h0m1 1h0m3-3h0m5 3h0m1 1h0m4-3h0m2 4h0m2-4h0m4 0h0m2 1h0m2-2h0m2 0h0m3 0h0m3-1h0m2 2h0m0-2h0m0 0h0m3 0h0m1 1h0m0 1h0m4 3h0m1 1h0m2-3h0m2-2h0m2 2h0m0 2h0m5-3h0m2 0h0m4 4h0m5-3h0m2 0h0m2 3h0m4-5h0m2 1h0m1 1h0m1-1h0m1-2h0m-98 6h0m1 0h0m5 1h0m6 3h0m0-2h0m4 2h0m8 0h0m2-2h0m3 3h0m4-4h0m1 4h0m6-1h0m0-4h0m2 0h0m2 6h0m1-1h0m1-1h0m8-1h0m3 3h0m5-1h0m3-2h0m8-1h0m5 1h0m7-2h0m-38 8h0m1 2h0m0 1h0m5-3h0m11 1h0m4 1h0m0-4h0m4 4h0" stroke="#fca486" stroke-width="2.8"/><path d="M41 347h0m1 2h0m2-2h0m0-1h0m2 1h0m-18 9h0m6-2h0m1-3h0m1 5h0m0-3h0m2 1h0m3 2h0m1-4h0m1 0h0m1 3h0m2-3h0m-27 11h0m3-4h0m2 3h0m1 0h0m3 0h0m1-1h0m0 1h0m2 0h0m8 0h0m5 0h0m-31 6h0m2-2h0m0-1h0m1-1h0m4 3h0m2 2h0m2-4h0m0 3h0m3 0h0m0 1h0m3-1h0m1-2h0m9-1h0m0 0h0m-26 5h0m4 0h0m1 0h0m6 3h0m3 0h0m3-3h0m1 0h0m1 2h0m2-3h0m-24 10h0m11-1h0m0-1h0m0 3h0m4 0h0m2-4h0m-18 8h0m1 2h0m1-3h0m2 1h0m0-2h0m11 3h0m1-3h0m0 1h0m2 0h0m-10 5h0m2 0h0m5-1h0m5 4h0m4-1h0m0 2h0m7-3h0m0 2h0m4 0h0m124-3h0m-151 10h0m1-4h0m2 3h0m1-2h0m1 0h0m4 3h0m3-2h0m5-3h0m0 0h0m2 3h0m1 1h0m1-3h0m1 0h0m6 3h0m1-2h0m1 2h0m-29 2h0m2 2h0m1-2h0m10 4h0m5 1h0m4-4h0m7 5h0m9-1h0m0 0h0m2-1h0m2-2h0m1 2h0m4-3h0m1 2h0m13 3h0m-49 0h0m4 4h0m4-2h0m0 3h0m3-3h0m3 3h0m4-2h0m3-2h0m4 2h0m12-1h0m2-1h0m0 2h0m9 1h0m12 0h0m4 2h0m3 0h0m71-6h0m4 3h0m4-1h0m-142 7h0m5-3h0m1 6h0m8-5h0m8-1h0m27 4h0m7-2h0m2 2h0m1-3h0m0 4h0m3-3h0m7 3h0m14 1h0m1-5h0m17 2h0m4 2h0m3-1h0m1 2h0m12-3h0m10 3h0m2-2h0m2-1h0m0-1h0m6-1h0m-123 10h0m43-3h0m2 2h0m2-3h0m11 1h0m4 2h0m5 0h0m5-2h0m6 0h0m6 2h0m4 1h0m3-2h0m10 3h0m0-1h0m2-4h0m-72 7h0m10 1h0m43-1h0m3-1h0m13 1h0m8 4h0m6-2h0m-49 7h0m2-3h0m28 3h0m10-4h0m3 5h0m-55 3h0m23-2h0" stroke="#fc8c6c" stroke-width="2.8"/><path d="M46 345h0m2 0h0m-15 6h0m8-2h0m-5 8h0m3-4h0m1-1h0m1 3h0m4 1h0m-22 4h0m6 3h0m10 0h0m5-3h0m2 2h0m2-5h0m1 4h0m-14 5h0m4-1h0m1 4h0m4-2h0m1 0h0m3 1h0m63-3h0m-85 6h0m7 3h0m8-3h0m-26 7h0m13-1h0m3-1h0m33 1h0m74 0h0m37 3h0m-146 1h0m0 4h0m24 1h0m10-1h0m60-2h0m52 4h0m6-4h0m-156 9h0m2-5h0m4 5h0m11-3h0m7 0h0m6 3h0m22-3h0m25 3h0m2-3h0m3 2h0m16-3h0m14 1h0m16 0h0m7 2h0m2-2h0m6 1h0m0-3h0m1 6h0m12-6h0m-136 10h0m2-2h0m1-2h0m7 4h0m4 1h0m18-4h0m18 1h0m9 1h0m27 0h0m13 0h0m7-2h0m26 1h0m-146 8h0m12-3h0m13 0h0m11 1h0m0-2h0m6 4h0m24-1h0m18 1h0m47 2h0m5-1h0m6 1h0m2-4h0m-128 7h0m36 1h0m3 1h0m30-5h0m4 5h0m12-1h0m32-2h0m4-1h0m1 2h0m-86 4h0m18 3h0m15-3h0m8 1h0m5 1h0m14 2h0m-35 1h0m25 3h0m4-1h0m11 0h0" stroke="#fb7555" stroke-width="2.8"/><path d="M48 345h0m5-2h0m-4 4h0m0-1h0m6 2h0m107 3h0m-117 8h0m1 2h0m5-4h0m0 0h0m1 3h0m27 0h0m52 0h0m41 3h0m5 0h0m-132 2h0m5-1h0m3 4h0m4-5h0m10 4h0m23-2h0m13-1h0m3 3h0m2 1h0m2-3h0m7 0h0m29 2h0m16-2h0m5 0h0m9 1h0m3-2h0m5 4h0m-151 6h0m0-2h0m1 0h0m1 0h0m6-3h0m10 3h0m14 3h0m11-1h0m21-1h0m25-2h0m5 1h0m26 3h0m13-1h0m14 0h0m2-1h0m-141 4h0m3 2h0m0 1h0m12-4h0m5 4h0m18-5h0m5 1h0m2 0h0m5 2h0m4 0h0m1-2h0m0-1h0m3 0h0m11 3h0m3-1h0m1 1h0m6-1h0m2-1h0m41 2h0m12-2h0m6 1h0m1-1h0m-147 8h0m1-3h0m3 3h0m6-1h0m16 4h0m8-6h0m11 4h0m3 0h0m8 1h0m41-5h0m27 0h0m1 0h0m6 4h0m-120 6h0m1-1h0m6-1h0m0 0h0m1-2h0m0 6h0m4-2h0m8-3h0m10 4h0m5-5h0m4 6h0m11-4h0m9-1h0m4 3h0m13-2h0m28 2h0m18-1h0m4-2h0m3-1h0m2 3h0m-124 3h0m10 5h0m24 0h0m11-1h0m5 0h0m8 0h0m6 0h0m48-1h0m2-2h0m3 1h0m-93 5h0m8-1h0m3 3h0m10 0h0m3-1h0" stroke="#f85d41" stroke-width="2.8"/><path d="M51 343h0m22 2h0m-20 3h0m0 0h0m121 1h0m-118 4h0m5 2h0m3 0h0m4 1h0m14 0h0m3-3h0m1 1h0m2 3h0m2-4h0m17 0h0m9 0h0m36 1h0m9 0h0m0 2h0m1 0h0m8 1h0m-116 4h0m2-1h0m2-2h0m5 5h0m5-3h0m6-1h0m0 3h0m14-3h0m24 2h0m4 0h0m11-2h0m1 0h0m13 0h0m40 1h0m2 1h0m-138 5h0m4 2h0m13-2h0m12 3h0m7-1h0m19-2h0m7 3h0m3-4h0m1-1h0m17 5h0m44-3h0m0 2h0m1-2h0m3 1h0m-134 4h0m3-2h0m2 6h0m16-3h0m1-1h0m6 1h0m2 0h0m6-1h0m4 3h0m14 1h0m18-3h0m6-2h0m2 1h0m21 3h0m20-2h0m10 2h0m9 0h0m-137 3h0m30 2h0m89 2h0m14-2h0m-126 5h0m20 3h0m23-2h0m23-4h0m60 5h0m0-1h0m5-1h0m-83 8h0m5-3h0m23 4h0m17 1h0" stroke="#f14230" stroke-width="2.8"/><path d="M145 337h0m-88 6h0m4 1h0m13-3h0m12 3h0m0-2h0m15 1h0m18 0h0m1 2h0m3-1h0m10-2h0m20-2h0m7 5h0m4-1h0m1-1h0m0 2h0m5-1h0m4-1h0m-114 6h0m34-1h0m8 2h0m1 0h0m18-2h0m1 0h0m2-1h0m6 4h0m13-5h0m0 3h0m15 0h0m4 0h0m0-4h0m0 4h0m2-1h0m1 1h0m3-3h0m5 3h0m1 1h0m3-2h0m-119 3h0m0 5h0m5 0h0m4-2h0m0-2h0m2 4h0m23-3h0m16 4h0m13-4h0m26 2h0m10-3h0m9-1h0m0 1h0m1 0h0m1 2h0m5-2h0m2 0h0m1 3h0m3 1h0m1-3h0m2 2h0m1 0h0m-124 3h0m0 2h0m15 1h0m15 0h0m5-3h0m8-1h0m56 4h0m19 2h0m1-6h0m0 1h0m1 0h0m2 2h0m-97 4h0m47 0h0m45 3h0m-34 6h0m23 6h0" stroke="#e02c26" stroke-width="2.8"/><path d="M140 327h0m-56 3h0m39 2h0m-50 5h0m8 1h0m12-2h0m2-2h0m28 2h0m4 0h0m10-1h0m5 1h0m1 2h0m5 1h0m0-1h0m1-4h0m2 2h0m6-1h0m9 2h0m3 0h0m-114 4h0m12 3h0m25-4h0m2 2h0m1-1h0m21 2h0m11 2h0m3-4h0m2 0h0m3-2h0m4 3h0m4 2h0m2 0h0m6-4h0m3 3h0m6-1h0m-105 7h0m2 1h0m13-3h0m26 1h0m5-1h0m4-1h0m11 4h0m4 1h0m12-3h0m3 0h0m1 1h0m9-1h0m8-1h0m3 2h0m0 2h0m2-5h0m11 1h0m0 2h0m2-1h0m1 3h0m4-4h0m0 0h0m1 1h0m2 0h0m-124 4h0m37-1h0m56 1h0m3-1h0m15 0h0m1 2h0m7 2h0" stroke="#cb181d" stroke-width="2.8"/><path d="M129 320h0m-2 6h0m16 0h0m5 1h0m-63 4h0m1-3h0m0 1h0m4-2h0m1 5h0m2 0h0m1-3h0m2 4h0m0-4h0m2 1h0m4 0h0m2 2h0m10-2h0m0-3h0m0 2h0m7 0h0m4 2h0m2-3h0m3 2h0m6-2h0m5 3h0m3-4h0m5 6h0m1 0h0m5-1h0m-91 5h0m19 0h0m1 1h0m8-2h0m6 0h0m13-1h0m0-1h0m2 1h0m2 3h0m8-4h0m6 1h0m7-1h0m0 0h0m11 2h0m0 2h0m2 0h0m2-3h0m2 3h0m1 0h0m2-4h0m0 2h0m3 2h0m-84 4h0m33-1h0m40 2h0m7-1h0m8-1h0m11 6h0m4 9h0" stroke="#b51318" stroke-width="2.8"/><path d="M100 320h0m8 0h0m0-3h0m1 1h0m21 1h0m-44 7h0m4 1h0m2 0h0m1-2h0m1-2h0m1 4h0m3-2h0m2-4h0m0 3h0m3 2h0m1 0h0m5 0h0m0-5h0m2 0h0m4 2h0m0-2h0m1 5h0m6-1h0m0 0h0m4-2h0m1-2h0m0 2h0m4-1h0m4 2h0m0 2h0m4-3h0m1-1h0m0 0h0m0-1h0m10 4h0m-62 2h0m1 2h0m2 1h0m3-2h0m1 1h0m0 2h0m2-4h0m18 1h0m8 1h0m2 2h0m0-4h0m1 2h0m1-1h0m4 2h0m4-2h0m4 2h0m5 2h0m1-1h0m4-4h0m8 2h0m-89 5h0m34-1h0m52 1h0m13 3h0m-18 2h0m14 0h0" stroke="#9c0d14" stroke-width="2.8"/><path d="M97 320h0m9-2h0m4-2h0m1 2h0m6 0h0m2-1h0m1 4h0m0-5h0m8 5h0m0-3h0m0 2h0m7 1h0m-45 6h0m14-3h0m27 0h0m2-2h0m11 1h0m6 2h0m-56 2h0" stroke="#79040f" stroke-width="2.8"/><path d="M68 412h0m4 10h0m1-2h0m25-2h0m2 3h0m77-2h0m-106 7h0m7 2h0m5 1h0m25-4h0m8 1h0m37 3h0m13-4h0m-83 7h0m13 0h0m2-1h0m12 2h0m2 2h0m2-2h0m2 0h0m5-3h0m12 4h0m17-4h0m-55 6h0m7 2h0m24 3h0m12-5h0" stroke="#fdd0bd" stroke-width="2.8"/><path d="M23 368h0m-8 2h0m0 7h0m0 14h0m19 7h0m-16 1h0m18 5h0m1-5h0m9 5h0m-21 4h0m2 2h0m2-1h0m3-3h0m5 4h0m7-4h0m1 0h0m5 4h0m4 1h0m0-4h0m8 1h0m3 1h0m-34 4h0m12 3h0m8-3h0m2 2h0m25 0h0m12 2h0m81-5h0m1 1h0m1 2h0m0 0h0m5 1h0m-126 6h0m5-4h0m2 0h0m2 5h0m1-5h0m8 1h0m12 3h0m4-3h0m3 4h0m4-1h0m3 1h0m13-2h0m6 1h0m34 0h0m7 1h0m8-1h0m1-2h0m2 2h0m0-4h0m5 4h0m1-2h0m1-1h0m-108 6h0m9 1h0m9 1h0m3 1h0m0 1h0m0-1h0m3 0h0m1-1h0m0-1h0m2 0h0m4 1h0m1-1h0m1 2h0m2-4h0m5 1h0m4 2h0m1 1h0m13-5h0m0 4h0m2 0h0m3-1h0m0 3h0m4-1h0m7-1h0m1-3h0m1 0h0m9 0h0m0 2h0m3 0h0m2 0h0m4-1h0m1 0h0m6 1h0m1-1h0m5-2h0m-93 8h0m6-1h0m2 1h0m0-1h0m1 3h0m1-2h0m1 4h0m7-4h0m4 3h0m3 0h0m0-2h0m3 1h0m8-3h0m0 1h0m1-1h0m4 1h0m2 3h0m1 0h0m0-5h0m0 4h0m3-1h0m3-2h0m7 4h0m3 0h0m2-4h0m0 0h0m1 2h0m0-2h0m0 5h0m2-5h0m2 5h0m5-5h0m3 3h0m1-1h0m0 0h0m4-2h0m4 1h0m0-1h0m1 1h0m-72 4h0m8 2h0m0 0h0m12 3h0m8-2h0m4 2h0m4 0h0m5-2h0m2 1h0m0 1h0m2-4h0m4 2h0m2-1h0m1 3h0m3-3h0m0-1h0m0 1h0m1 1h0" stroke="#fcbba1" stroke-width="2.8"/><path d="M31 358h0m4 1h0m3-2h0m-22 7h0m7 4h0m2-5h0m10 2h0m1 0h0m1-1h0m-26 10h0m0-1h0m1 0h0m6-1h0m1-1h0m5-1h0m1 5h0m3-4h0m-17 6h0m7 3h0m-6 2h0m0 0h0m1 3h0m0-3h0m3 1h0m1-1h0m1 4h0m1-4h0m3 4h0m0-3h0m0 1h0m1-3h0m2 1h0m0 3h0m-14 6h0m0 0h0m3-3h0m0 1h0m0 4h0m2-1h0m0-3h0m1 3h0m5-4h0m1 1h0m1 3h0m1-4h0m1 4h0m0 0h0m1-4h0m3 0h0m12 5h0m-26 4h0m1 2h0m1-2h0m0 0h0m1 2h0m2-3h0m2 1h0m1-1h0m0-2h0m1 4h0m2-2h0m1 1h0m0-2h0m3 4h0m3-3h0m5 2h0m4 0h0m1 0h0m-27 1h0m6 5h0m1 1h0m0-6h0m1 1h0m1 1h0m4 3h0m0-3h0m2 2h0m0-2h0m1 2h0m3-1h0m0 2h0m1-1h0m3-2h0m0 4h0m2-4h0m2-1h0m1 4h0m0-1h0m0-1h0m11 3h0m3-3h0m0 3h0m-33 3h0m3 0h0m0 1h0m0-3h0m1 4h0m5-3h0m1 0h0m2-1h0m4 5h0m0-2h0m1-4h0m4 5h0m3-3h0m1 0h0m1 0h0m15 3h0m0 1h0m4-4h0m5 3h0m2 0h0m9 0h0m77-1h0m8 1h0m1-2h0m7 0h0m-145 6h0m1 0h0m1-3h0m1 4h0m0-3h0m2 0h0m6 4h0m7-3h0m0-1h0m1 2h0m3-1h0m0 1h0m2-1h0m2 3h0m1-2h0m1 1h0m2 0h0m3-3h0m1 0h0m1 4h0m1-2h0m1 0h0m0 3h0m2-5h0m4 1h0m0-2h0m2 1h0m3 1h0m2 3h0m2 0h0m2-2h0m1-2h0m17 4h0m50-2h0m2 2h0m2-3h0m5 0h0m1 0h0m6 3h0m4-5h0m1 4h0m1-3h0m-135 5h0m1 1h0m1-1h0m3 1h0m3 3h0m4-1h0m3 0h0m1 1h0m3-3h0m0 2h0m1 2h0m7-4h0m3 0h0m5 1h0m2 0h0m3 2h0m2-4h0m5 5h0m2 0h0m12 0h0m4-1h0m2 0h0m2-1h0m0 1h0m6-2h0m0 1h0m5 1h0m4 2h0m19-1h0m1 0h0m5 0h0m1-4h0m2 3h0m1 0h0m2-4h0m1 3h0m1-2h0m0 0h0m5 2h0m10-2h0m-111 5h0m6 3h0m3-1h0m3 0h0m3 3h0m1-2h0m6 2h0m4-3h0m3 4h0m1-1h0m2-3h0m5-1h0m1 3h0m3 1h0m3-5h0m2 1h0m2 2h0m1 0h0m0 0h0m5 3h0m4-6h0m0 6h0m3-2h0m2-3h0m2 4h0m1-2h0m5-2h0m3 0h0m6 0h0m0 3h0m3-2h0m0 2h0m3-1h0m10-1h0m1-1h0m2 1h0m-88 6h0m9 3h0m2 0h0m2-3h0m1-2h0m4 4h0m5-4h0m1 0h0m9 3h0m0 3h0m1-4h0m4 3h0m3-4h0m1-1h0m1 2h0m14-2h0m1 1h0m3 4h0m0-5h0m1 5h0m0-4h0m3-1h0m2 5h0m5 0h0m2-5h0m5 5h0m2-5h0m3 3h0m1 1h0m6-3h0m-63 6h0m3-1h0m11 3h0m1-1h0m0-1h0m4 0h0m4 0h0m5-1h0m4 6h0m3-5h0m3 1h0m4 2h0m4-2h0m0 0h0m1 1h0" stroke="#fca486" stroke-width="2.8"/><path d="M33 351h0m3 0h0m3-2h0m-12 4h0m8 2h0m2-3h0m7 4h0m2 0h0m-27 6h0m3-4h0m4 1h0m1 1h0m0 1h0m0 1h0m2-2h0m0 3h0m3-4h0m3-1h0m0 1h0m1 1h0m2-2h0m2 2h0m2-1h0m3-1h0m-31 8h0m3 2h0m4 0h0m0-2h0m3-2h0m3 5h0m2-2h0m0-4h0m0 1h0m0 4h0m2-2h0m0 0h0m0 0h0m6-2h0m2 3h0m2-1h0m-30 6h0m3 0h0m1-2h0m3 0h0m5 1h0m0 3h0m2-1h0m3 1h0m2-1h0m2-3h0m0 0h0m6 0h0m2-1h0m-27 9h0m2 1h0m9-3h0m0 1h0m4-1h0m5 1h0m75 4h0m-98 4h0m2-3h0m0 2h0m5 0h0m1-2h0m10 2h0m0 2h0m1-1h0m1 1h0m1-1h0m0 1h0m-21 5h0m2 2h0m3-1h0m9 0h0m3-2h0m3-1h0m1 2h0m24 2h0m116-1h0m-153 4h0m1 2h0m5-1h0m7 0h0m4-4h0m0 2h0m2 3h0m0-2h0m1-2h0m8 2h0m1-2h0m1 4h0m0-2h0m8 3h0m-29 0h0m4 3h0m6 3h0m1 0h0m10-1h0m7 0h0m5-3h0m0 1h0m3 1h0m10 1h0m14 1h0m11-4h0m22-1h0m53 3h0m-142 3h0m1 4h0m0-5h0m11 3h0m0 2h0m5 0h0m11-5h0m1 0h0m4 4h0m4 1h0m4 1h0m0-3h0m3-1h0m0 0h0m2 0h0m4-2h0m1 2h0m35-2h0m36 2h0m8 0h0m2-1h0m3 5h0m5-2h0m6 0h0m2 0h0m-138 6h0m6 1h0m13-2h0m2-1h0m1-1h0m6 0h0m11-1h0m0 1h0m9 0h0m5 5h0m7-3h0m2 1h0m25 1h0m13-1h0m1 0h0m9 0h0m2 0h0m4 1h0m3 0h0m2-4h0m6 4h0m-114 3h0m5 0h0m9 0h0m25-2h0m4 1h0m5-1h0m7 3h0m4-2h0m5 2h0m0-3h0m3 2h0m5-2h0m13 0h0m1 5h0m10-3h0m15 0h0m-91 7h0m4-3h0m34 5h0m7-5h0m17 2h0m21-1h0m2 1h0m11 2h0m-79 7h0m9-5h0m9 0h0m40 0h0m4 1h0m12 2h0m-44 4h0m17 1h0" stroke="#fc8c6c" stroke-width="2.8"/><path d="M33 350h0m5-2h0m2 3h0m6-3h0m0 0h0m-23 8h0m18-4h0m4 0h0m3 3h0m0-4h0m-26 8h0m13 0h0m12 0h0m2-2h0m-34 11h0m6 0h0m11 1h0m5-2h0m3 0h0m0-1h0m0 3h0m2-5h0m1-1h0m5 1h0m127 1h0m-163 8h0m2-2h0m18 3h0m3-2h0m3 0h0m2-2h0m-25 9h0m3-3h0m11-1h0m4 5h0m10-2h0m1-3h0m40 3h0m87 0h0m-161 4h0m21-1h0m2 1h0m1 1h0m1 3h0m1-1h0m1 1h0m4 0h0m13 1h0m118-1h0m-136 2h0m3 3h0m4-1h0m0 3h0m0-1h0m11-3h0m6-2h0m14 4h0m80 0h0m8 0h0m0-2h0m-119 9h0m7 0h0m7-3h0m7 2h0m2-3h0m19 0h0m17 4h0m70-3h0m7 1h0m-123 5h0m1 2h0m2 0h0m0-3h0m1 1h0m5-2h0m3 5h0m14-3h0m11-2h0m1 0h0m8 3h0m49 0h0m19 2h0m0-4h0m11 4h0m-111 4h0m4-2h0m5 3h0m3-3h0m16 3h0m3-1h0m30-3h0m39 3h0m3-1h0m-77 5h0m4 1h0m1 4h0m27-5h0m11 4h0m5 0h0m-37 2h0m9 0h0m13-1h0m8 3h0m16-1h0m5-1h0" stroke="#fb7555" stroke-width="2.8"/><path d="M50 342h0m-1 8h0m1 0h0m2-1h0m1 1h0m-6 3h0m4 3h0m0-2h0m-5 8h0m2-2h0m0-2h0m1 4h0m30 1h0m39 0h0m-72 0h0m0 6h0m1-5h0m36 4h0m40-5h0m34 4h0m16 1h0m6-4h0m1 2h0m-148 7h0m2 0h0m8-2h0m16 0h0m9 3h0m21-1h0m33-1h0m31 2h0m9-2h0m6-2h0m9 4h0m1-1h0m3-3h0m2 5h0m-150 4h0m1-1h0m11 0h0m1 1h0m2 0h0m37 1h0m13-4h0m8 4h0m9 1h0m10-4h0m3 3h0m44-4h0m10 5h0m3-2h0m-147 6h0m6-2h0m4 0h0m9 2h0m15-4h0m1 1h0m1 2h0m3-3h0m18 3h0m17 1h0m22-1h0m36 3h0m9-1h0m0-1h0m4-4h0m-145 11h0m10-2h0m2 1h0m4 0h0m9-3h0m6-1h0m18 5h0m5-4h0m70 1h0m6-1h0m10 0h0m3 4h0m-131 2h0m7 2h0m0-1h0m9 1h0m2 0h0m10 1h0m18 1h0m15-2h0m8 1h0m7-3h0m46 0h0m3-1h0m7 4h0m-114 3h0m48 1h0m22 3h0m-4 7h0m7 4h0" stroke="#f85d41" stroke-width="2.8"/><path d="M51 344h0m2 0h0m109-1h0m-112 5h0m7 0h0m100 2h0m14-2h0m4-2h0m-126 10h0m3-4h0m42 3h0m3-1h0m37 1h0m7-1h0m17 0h0m6-2h0m4 1h0m-113 5h0m0 2h0m1-2h0m0 1h0m0 0h0m15 1h0m5-2h0m13 1h0m19 1h0m6-2h0m32-1h0m4 2h0m21 3h0m8-2h0m1-1h0m-122 5h0m4 3h0m13-2h0m18 0h0m41 0h0m15 4h0m17-4h0m11-2h0m3 1h0m-127 7h0m10 1h0m5-2h0m29 5h0m30-2h0m10 0h0m1-4h0m6 5h0m29-1h0m-118 2h0m13 2h0m5 0h0m21 3h0m7-2h0m19 0h0m35-1h0m19-2h0m9 1h0m-123 6h0m23-1h0m3 5h0m77 1h0m1-3h0m15 1h0m-131 3h0m5 2h0m9-1h0m9-2h0m102 5h0m-69 7h0" stroke="#f14230" stroke-width="2.8"/><path d="M91 326h0m0 12h0m64-3h0m-106 9h0m5-2h0m22-1h0m11 2h0m6 0h0m1 2h0m12 0h0m7-1h0m21-1h0m6 2h0m22 0h0m4-2h0m-102 4h0m14 2h0m3-3h0m4 3h0m3 2h0m3-3h0m0-3h0m5 2h0m29 0h0m6-1h0m1 0h0m12-1h0m4 2h0m17 1h0m2 0h0m2 1h0m2 0h0m1 0h0m2 1h0m2-2h0m3 1h0m-119 3h0m8 3h0m5-3h0m7-1h0m14 1h0m33 3h0m0-2h0m3-1h0m13 1h0m13 3h0m0-2h0m4 0h0m4 2h0m3-2h0m1 0h0m5-1h0m0 3h0m3-2h0m0-3h0m5 2h0m-127 4h0m1 3h0m7 2h0m7-3h0m5-1h0m19 0h0m2 0h0m6 1h0m9-1h0m7 0h0m12 1h0m30 0h0m8 2h0m6-4h0m1 3h0m2 0h0m-81 6h0m3-1h0m-45 6h0m119 1h0m9 3h0m-88 7h0" stroke="#e02c26" stroke-width="2.8"/><path d="M117 324h0m-20 9h0m13-1h0m9 0h0m3-1h0m12-4h0m12 2h0m-76 9h0m1-5h0m2 4h0m0 0h0m10-1h0m8 1h0m0-3h0m8 3h0m27-2h0m14 0h0m5 2h0m0-2h0m1 0h0m14 3h0m2-2h0m1 2h0m-107 4h0m7-1h0m21 1h0m6 1h0m2 0h0m7-4h0m24 2h0m8 3h0m18-5h0m0 4h0m1-3h0m2 4h0m2-2h0m1 1h0m2-2h0m6 3h0m5 1h0m3 0h0m0-1h0m-110 2h0m2 1h0m12 3h0m15-2h0m11-2h0m14 0h0m6 1h0m1 0h0m11 0h0m19-1h0m11 5h0m0-2h0m1-3h0m4 1h0m5 2h0m1 1h0m4 0h0m-88 5h0m30-3h0m19 1h0m26-1h0m5 3h0m10-3h0m-114 10h0m17-4h0" stroke="#cb181d" stroke-width="2.8"/><path d="M104 318h0m27 1h0m-2 8h0m5-5h0m4 3h0m-57 5h0m7 2h0m4 0h0m4-4h0m0 2h0m2-1h0m2-2h0m3 2h0m3 0h0m2 3h0m10-5h0m5 4h0m1 2h0m4-4h0m1 1h0m2 3h0m3-1h0m0-3h0m3-1h0m2 3h0m9 1h0m0 0h0m5 0h0m0-1h0m2-1h0m-93 9h0m2 0h0m5-2h0m17-2h0m2-1h0m15 3h0m0 1h0m2-2h0m5 2h0m4 1h0m13-2h0m13 1h0m2-3h0m1 2h0m2-3h0m7 1h0m3 1h0m4 1h0m3-3h0m1 3h0m-106 2h0m2 6h0m29 0h0m17-3h0m47-3h0m18 0h0m2 1h0" stroke="#b51318" stroke-width="2.8"/><path d="M99 321h0m8-1h0m1 0h0m1-2h0m11 0h0m-31 7h0m1 1h0m4-1h0m4-1h0m0-2h0m5 4h0m2-5h0m0 1h0m3 5h0m6-5h0m4 4h0m1-2h0m2 1h0m0-2h0m0 0h0m2 4h0m4-1h0m3 1h0m3 0h0m1-2h0m3 2h0m4-5h0m3 1h0m-60 7h0m2 0h0m11 0h0m1 0h0m9-1h0m0 3h0m13-5h0m9 5h0m6-2h0m5-2h0m1 0h0m4 1h0m4 4h0m1-5h0m2 0h0m1 1h0m0 0h0m0 1h0m3 1h0m-25 3h0m32 0h0m5 3h0" stroke="#9c0d14" stroke-width="2.8"/><path d="M101 320h0m0-1h0m1-1h0m1 1h0m2-1h0m1-1h0m0 0h0m1 4h0m4-2h0m4 0h0m6 0h0m0-3h0m9 4h0m-27 6h0m1-3h0m3 0h0m2 0h0m5 1h0m1-2h0m0-1h0m3 2h0m3 4h0m4-5h0m0-1h0m4 1h0m11 2h0m3 3h0m-23 2h0" stroke="#79040f" stroke-width="2.8"/><defs><linearGradient id="cbd" x1="0" y1="1" x2="0" y2="0"><stop offset="0.0" stop-color="#fff5f0"/><stop offset="0.1" stop-color="#fee4d8"/><stop offset="0.2" stop-color="#fdcab5"/><stop offset="0.3" stop-color="#fcab8e"/><stop offset="0.4" stop-color="#fc8a6a"/><stop offset="0.5" stop-color="#fb6a4a"/><stop offset="0.6" stop-color="#f14432"/><stop offset="0.7" stop-color="#d92623"/><stop offset="0.8" stop-color="#bc141a"/><stop offset="0.9" stop-color="#990c13"/><stop offset="1.0" stop-color="#67000d"/></linearGradient></defs><rect x="193.7" y="330.8" width="6.5" height="118.8" fill="url(#cbd)" stroke="#777" stroke-width="0.5"/><path d="M200.2 449.6H202" stroke="#444" stroke-width="0.7" stroke-linecap="butt"/><text x="203.4" y="452.7" font-size="9">0</text><path d="M200.2 432.5H202" stroke="#444" stroke-width="0.7" stroke-linecap="butt"/><text x="203.4" y="435.6" font-size="9">0.3</text><path d="M200.2 415.4H202" stroke="#444" stroke-width="0.7" stroke-linecap="butt"/><text x="203.4" y="418.5" font-size="9">0.6</text><path d="M200.2 398.3H202" stroke="#444" stroke-width="0.7" stroke-linecap="butt"/><text x="203.4" y="401.4" font-size="9">0.9</text><path d="M200.2 381.2H202" stroke="#444" stroke-width="0.7" stroke-linecap="butt"/><text x="203.4" y="384.3" font-size="9">1.2</text><path d="M200.2 364.1H202" stroke="#444" stroke-width="0.7" stroke-linecap="butt"/><text x="203.4" y="367.2" font-size="9">1.5</text><path d="M200.2 347H202" stroke="#444" stroke-width="0.7" stroke-linecap="butt"/><text x="203.4" y="350.1" font-size="9">1.8</text><text x="201.5" y="318.3" font-size="9.6" text-anchor="end">DAPI</text><text x="201.5" y="328.2" font-size="9.6" text-anchor="end">1e6</text><text x="335.3" y="309" font-size="9.6" text-anchor="middle">day 3</text><circle cx="255" cy="312.8" r="3.6" fill="#d3d3d3"/><text x="261" y="315.6" font-size="9.6">untreated</text><path d="M318 321h0m2-1h0m2 0h0m1 0h0m1-1h0m0 0h0m3 2h0m0 0h0m0-2h0m3 2h0m1-3h0m1 0h0m0 2h0m1 1h0m0-1h0m0-3h0m1 1h0m0 2h0m1 0h0m1-1h0m0-1h0m1 1h0m2-3h0m1 4h0m1 1h0m1-1h0m0-4h0m0 0h0m0 3h0m0-2h0m2 1h0m0-2h0m1 3h0m0-3h0m1 4h0m0-1h0m0 1h0m1-2h0m0 0h0m0-1h0m0 4h0m1-3h0m1-1h0m0 2h0m1-2h0m0 1h0m1-2h0m0 3h0m2-1h0m0 0h0m1-1h0m0 3h0m1 0h0m0-3h0m1 2h0m0 1h0m0-3h0m1 2h0m1-2h0m0-1h0m0 0h0m2 5h0m0-2h0m0-3h0m0 2h0m1-1h0m0 0h0m1 0h0m0 2h0m1 0h0m0-2h0m1 4h0m1-2h0m1-2h0m0 3h0m1-3h0m0 0h0m1 0h0m1 1h0m0 2h0m1-2h0m0-1h0m0 1h0m1-1h0m1 1h0m0 1h0m1 1h0m0-1h0m1 1h0m0 0h0m1-1h0m1 1h0m1-1h0m0 1h0m0-1h0m0 1h0m1-1h0m1 1h0m1-2h0m1 0h0m2 0h0m2 2h0m1 0h0m0 0h0m1-1h0m0 1h0m1-2h0m0 2h0m1 0h0m0 0h0m1 0h0m1 0h0m1-1h0m0-1h0m0 0h0m1 2h0m0-3h0m0 1h0m0 1h0m1 2h0m0-4h0m0 1h0m1 0h0m0 1h0m1-1h0m0 0h0m1-1h0m0-1h0m0 2h0m1 2h0m0 0h0m2-1h0m0-1h0m0-2h0m2 3h0m1-2h0m1-1h0m0 1h0m0-1h0m1 3h0m0 0h0m0-2h0m1 3h0m0-4h0m0 4h0m1-4h0m0 0h0m1 1h0m1-1h0m0 3h0m0 1h0m0-1h0m0 1h0m1-2h0m0 2h0m1-5h0m0 2h0m0 2h0m1 0h0m0-1h0m0-2h0m0 4h0m1-4h0m0 3h0m1 0h0m0 0h0m1 2h0m-108 5h0m2-1h0m2-1h0m0 1h0m1 0h0m0 2h0m0 0h0m1 0h0m1-1h0m0-1h0m0-1h0m1-1h0m0-1h0m0 4h0m0-4h0m0 3h0m1-1h0m0 1h0m1-3h0m0 5h0m0-3h0m0 0h0m1 2h0m0-2h0m0-3h0m1 0h0m1 0h0m0 6h0m1-1h0m1-2h0m1 2h0m0-4h0m0 2h0m1 1h0m0-3h0m0 0h0m0 1h0m1-1h0m0 1h0m0 2h0m1 1h0m0-3h0m1-1h0m0 3h0m0 1h0m0-4h0m1-1h0m0 3h0m0-2h0m1 1h0m0 2h0m1-3h0m1 1h0m1 3h0m0-1h0m1-1h0m1-1h0m1 1h0m0 0h0m0-1h0m0 1h0m0-1h0m0 1h0m1 0h0m0-2h0m0 3h0m1-2h0m1-2h0m0 2h0m2 0h0m1-1h0m0 2h0m0-1h0m0 0h0m1-1h0m0 1h0m0 1h0m0-2h0m0 1h0m1-1h0m1 0h0m1 2h0m0 0h0m0-2h0m0 2h0m0-2h0m0 2h0m1 0h0m0 1h0m1-1h0m1 0h0m0 1h0m1 2h0m0-3h0m0-3h0m1 3h0m0-3h0m0 0h0m0 3h0m1 1h0m1 0h0m1-1h0m1 0h0m1 0h0m0 0h0m2 0h0m0 0h0m1 0h0m1 0h0m3-2h0m0 1h0m2 2h0m0-3h0m1 2h0m1-1h0m0 1h0m1 0h0m1-1h0m1-1h0m0 0h0m0 0h0m1 2h0m0 0h0m1-2h0m0 4h0m0-1h0m1-3h0m1 2h0m0-1h0m0-1h0m1 4h0m0-1h0m0-1h0m0-3h0m0 1h0m1 0h0m0 1h0m2 3h0m0-4h0m0 3h0m0-3h0m0 3h0m1 0h0m0-3h0m0 2h0m1 0h0m0 2h0m1-1h0m1-2h0m1 3h0m0 0h0m0-4h0m0 3h0m1 1h0m0-2h0m1 0h0m0 2h0m1-4h0m0 1h0m0 1h0m1 0h0m0-2h0m1 1h0m1 2h0m0 1h0m0-4h0m1 2h0m0-1h0m0 0h0m0-1h0m1-1h0m0 0h0m0 1h0m0 0h0m1 3h0m1 0h0m0-3h0m1 3h0m1-2h0m0-1h0m1 4h0m0-4h0m0 2h0m1-1h0m0 1h0m1 0h0m1-2h0m0 1h0m0 0h0m1 1h0m1 0h0m0-3h0m1 2h0m1 3h0m1-5h0m0 5h0m0-3h0m0-1h0m1 1h0m0 1h0m1-2h0m1 5h0m0-4h0m0 3h0m0-2h0m1 2h0m0-4h0m1 2h0m1 3h0m0-5h0m0 4h0m0-3h0m0 4h0m0-2h0m1-1h0m0-2h0m0 2h0m2 1h0m0-3h0m1 0h0m0-1h0m1 5h0m0-2h0m0 2h0m-114 5h0m3-1h0m0 0h0m0 2h0m2-1h0m0 2h0m0-5h0m0 1h0m0 2h0m0-1h0m1 0h0m0 3h0m1-4h0m0-1h0m1 0h0m0 1h0m1 4h0m0 0h0m1-4h0m0-1h0m0 0h0m1 4h0m0-3h0m1 3h0m0-2h0m1-3h0m0 6h0m0-5h0m1 0h0m0 4h0m1-4h0m0 2h0m0 0h0m1 3h0m1-3h0m2-2h0m0 0h0m0 0h0m0 5h0m0-5h0m2 0h0m0 3h0m1 2h0m0-2h0m2-1h0m0-3h0m2 6h0m0-6h0m1 6h0m5-5h0m1 2h0m1 1h0m2 1h0m2-3h0m1-1h0m1 0h0m4 0h0m1 4h0m2-4h0m0 3h0m1-4h0m1 6h0m1-2h0m2 1h0m2-2h0m1 1h0m4-1h0m3-1h0m1 1h0m3 0h0m0 2h0m0-4h0m2 0h0m8 4h0m1 1h0m1-5h0m1 0h0m0 3h0m1-3h0m1 3h0m0-4h0m2 3h0m3 0h0m1 3h0m1-6h0m6 1h0m1 2h0m1-3h0m0 1h0m1 0h0m0 2h0m0-1h0m0 0h0m2 0h0m4 2h0m0 0h0m1-2h0m2 2h0m0 1h0m1-2h0m0-3h0m0 2h0m0-2h0m1 4h0m0 1h0m1 0h0m0-1h0m0 0h0m0 1h0m0-1h0m0 2h0m0-2h0m1 1h0m0-5h0m1 1h0m0 1h0m0 0h0m1 3h0m0-2h0m1 0h0m0-1h0m1 0h0m0-1h0m0 3h0m0-2h0m0-2h0m-120 10h0m1 2h0m1-4h0m1 3h0m0-2h0m1-2h0m1 3h0m1 0h0m0-1h0m0 2h0m0-5h0m0 5h0m0 0h0m1 1h0m0-5h0m0 4h0m1-2h0m0-3h0m0 1h0m0 4h0m0-2h0m1 3h0m0-2h0m0-4h0m0 5h0m0 0h0m0-1h0m0-3h0m1 1h0m0 0h0m0 0h0m0 0h0m0 3h0m1-1h0m0-3h0m0 4h0m1-3h0m1-1h0m0 1h0m0-2h0m1 2h0m0 0h0m1 3h0m2-1h0m1-4h0m4 1h0m3 3h0m1-1h0m4 2h0m0-3h0m1 4h0m0-3h0m3-1h0m0 0h0m2 1h0m3 2h0m2-4h0m2-1h0m3 1h0m5 0h0m2 1h0m2 0h0m2-1h0m1 3h0m3-1h0m0-1h0m2 2h0m2 0h0m1 0h0m2-2h0m6 2h0m3 1h0m0-2h0m0 3h0m2-2h0m5 1h0m1-1h0m1-1h0m3-1h0m0 4h0m2-4h0m1 1h0m5-2h0m3 1h0m2 1h0m4 2h0m2 1h0m4-2h0m0 1h0m2-5h0m0 1h0m0 3h0m0-2h0m1 1h0m0-2h0m0 2h0m0 3h0m0-3h0m0 1h0m1-1h0m0-2h0m0 0h0m2 5h0m1 0h0m0-5h0m0 3h0m0-2h0m1 0h0m0 2h0m0 0h0m0 1h0m-129 6h0m1 0h0m0-1h0m0 1h0m1 0h0m1 0h0m0 1h0m0 0h0m0-3h0m0 0h0m1 3h0m0 0h0m0-3h0m1-1h0m1 2h0m0-4h0m1 0h0m0 2h0m0-2h0m1 5h0m2-2h0m0 0h0m1 1h0m0 0h0m0-4h0m0 2h0m0-1h0m1 0h0m0 3h0m1-3h0m0 0h0m0 3h0m0-3h0m1-1h0m1 4h0m0-3h0m1 3h0m0-1h0m0 0h0m0 3h0m1-3h0m0 0h0m0 2h0m1-5h0m0 1h0m3 4h0m0 0h0m6-1h0m6-3h0m1 0h0m1 0h0m2 0h0m0 4h0m2-5h0m1 1h0m1 5h0m4-6h0m1 3h0m0 0h0m2-1h0m1 3h0m0-3h0m0 0h0m3-1h0m5 2h0m0 2h0m0-1h0m2-3h0m1 1h0m0 1h0m4 0h0m2 0h0m0-1h0m1 2h0m0 1h0m1-2h0m1 1h0m1 1h0m0-4h0m2 1h0m0 4h0m4-5h0m0 0h0m3 2h0m2 2h0m2-1h0m4 2h0m1-2h0m2-3h0m0 0h0m6 5h0m0-5h0m1 1h0m2-1h0m1 5h0m2-6h0m0 1h0m1 3h0m1-1h0m1 1h0m0-3h0m0 2h0m2 0h0m0-2h0m2 0h0m2 0h0m3 2h0m1 0h0m3-2h0m1 3h0m1-4h0m1 4h0m0-3h0m0 3h0m1 0h0m0-4h0m0 1h0m1 2h0m1 1h0m0-3h0m1 3h0m0-3h0m1 4h0m0-1h0m0 1h0m0 1h0m1-2h0m0-4h0m2 2h0m0 3h0m0-4h0m0 2h0m-139 8h0m1 0h0m0 1h0m3-1h0m0-3h0m0 1h0m1 2h0m0 1h0m0-3h0m0 0h0m1-2h0m0 5h0m0-2h0m0 2h0m1-6h0m0 2h0m0 1h0m1 1h0m0 0h0m0 1h0m0-3h0m1 3h0m0-3h0m0-2h0m1 5h0m0-4h0m0 2h0m0-1h0m1 0h0m0 4h0m1-5h0m1 3h0m0 1h0m0-5h0m0 3h0m0-2h0m1 4h0m0-4h0m1 4h0m1 0h0m0-4h0m0 1h0m3-2h0m0 1h0m2 2h0m0-2h0m1-1h0m2 4h0m0 2h0m6-2h0m8 1h0m4 0h0m0-1h0m2 0h0m7-2h0m3 1h0m3 3h0m1-5h0m2 2h0m0 3h0m0-3h0m1 0h0m0 1h0m2 1h0m2-3h0m1 1h0m3 1h0m1 2h0m0-1h0m3-1h0m1 0h0m0 2h0m3-6h0m0 2h0m1-1h0m2 0h0m0 0h0m2 0h0m0 4h0m1-4h0m1 1h0m4 1h0m2-2h0m1 5h0m4-4h0m0-1h0m1-1h0m1 1h0m2 1h0m1 2h0m2 0h0m0 1h0m0-1h0m0 0h0m2 0h0m0-1h0m4-3h0m2 2h0m0 0h0m0 1h0m4-2h0m1 0h0m0 0h0m0 3h0m4-2h0m0-2h0m1 2h0m2 3h0m1-3h0m2 0h0m1-1h0m0 4h0m2-4h0m3 1h0m0 2h0m1 0h0m0-2h0m0-2h0m1 4h0m1 2h0m1-5h0m0 4h0m0 0h0m1-5h0m0 1h0m0 2h0m1 2h0m0-1h0m1-4h0m0 2h0m1 0h0m0-1h0m0 3h0m0-4h0m0 3h0m-146 8h0m1-1h0m1 1h0m1 1h0m0-2h0m0 0h0m0-1h0m0 1h0m1 0h0m0 0h0m1 2h0m0-2h0m1 2h0m0 0h0m0-5h0m1-1h0m0 0h0m0 3h0m0-1h0m1 2h0m0 2h0m0-3h0m0-2h0m0 0h0m1 5h0m0-4h0m0 3h0m1-3h0m0 3h0m0-2h0m1-1h0m0 3h0m0 0h0m0-5h0m0 2h0m1 3h0m0-2h0m0-2h0m1 3h0m0-1h0m0 0h0m0 2h0m1-3h0m0 0h0m1-1h0m0 3h0m0-3h0m0 3h0m0-1h0m0 1h0m0-1h0m1-1h0m0 1h0m0-2h0m1 3h0m0-2h0m0-1h0m0 1h0m1-2h0m0 0h0m1 0h0m1 4h0m1-2h0m0 1h0m2-3h0m0 5h0m3 0h0m2-5h0m4 2h0m0 1h0m3-1h0m0 0h0m2 2h0m1-2h0m3 1h0m0 1h0m2 1h0m0-3h0m1 1h0m0-2h0m1 1h0m5 0h0m0 3h0m1 1h0m4-6h0m2 5h0m0-1h0m2 0h0m4-3h0m1 2h0m1 2h0m0-4h0m1 4h0m3-5h0m0 2h0m2 0h0m2 3h0m0-4h0m5 2h0m0 3h0m4-1h0m2 1h0m6-4h0m0-1h0m2 5h0m2-4h0m1 4h0m0-2h0m2-1h0m0 2h0m1-3h0m1 2h0m3 0h0m1 1h0m0-1h0m1-1h0m1 1h0m0 0h0m5 2h0m4-4h0m7 0h0m1 1h0m1-2h0m0 3h0m4 1h0m0-4h0m2 2h0m4-2h0m3 3h0m1-2h0m1 3h0m1-5h0m0 4h0m0-1h0m0-2h0m0 0h0m1 0h0m1 1h0m1 3h0m0-1h0m0-1h0m1 1h0m2-1h0m0 0h0m-154 8h0m0 0h0m0 1h0m0 0h0m1-2h0m1 2h0m0-2h0m0 1h0m0-2h0m2 2h0m0-3h0m0 2h0m0-1h0m1-1h0m0 3h0m0-1h0m0-1h0m2 2h0m0-3h0m1 2h0m0 0h0m0 1h0m0-2h0m0-3h0m1 4h0m0 1h0m0-3h0m0 1h0m1 0h0m0-1h0m0 4h0m1-6h0m0 3h0m1-2h0m0 4h0m0-4h0m1 2h0m0 2h0m0-3h0m0 2h0m0-1h0m1 1h0m0-3h0m0-1h0m1 5h0m1-4h0m2 4h0m1-4h0m1 1h0m1 0h0m3 3h0m8-5h0m5 0h0m4 5h0m1-2h0m1-3h0m2 2h0m1 0h0m5 0h0m2 3h0m1-3h0m0 3h0m1 0h0m6-4h0m4-1h0m0 0h0m1 3h0m2 1h0m0-2h0m0 4h0m1-4h0m1 3h0m3-3h0m1 4h0m4-1h0m0-4h0m3 0h0m4 1h0m1-1h0m1 0h0m0 4h0m3-2h0m1 2h0m1-5h0m1 3h0m2-2h0m0 4h0m1-3h0m1 1h0m3-2h0m1 0h0m0 1h0m0-2h0m1 3h0m4 2h0m1-3h0m1 0h0m1-1h0m3 1h0m0 2h0m1-2h0m2 1h0m1-2h0m1 4h0m5 1h0m1-2h0m1 0h0m5-2h0m1 0h0m1 2h0m1 2h0m0-3h0m2-1h0m2 3h0m2-2h0m0-2h0m2-1h0m0 2h0m0 0h0m0 0h0m1 4h0m2-2h0m2-2h0m2-1h0m1 1h0m1-2h0m0 4h0m0-3h0m0 4h0m0-2h0m0-1h0m1 1h0m1 0h0m0 0h0m0-1h0m2 1h0m0 0h0m-160 8h0m0 1h0m1-1h0m0 0h0m0-3h0m1 2h0m0 1h0m0 0h0m0-1h0m1-2h0m0 1h0m1 1h0m0-2h0m0-1h0m0 4h0m0-3h0m0 3h0m1 0h0m1-5h0m0 3h0m1-1h0m0-2h0m1 1h0m0 0h0m1 3h0m0 1h0m1-3h0m0 3h0m0-2h0m1-2h0m0 3h0m0-4h0m1 4h0m0-3h0m1 2h0m1 0h0m0 2h0m0-2h0m0 2h0m0-1h0m1 0h0m3-3h0m0-1h0m4 5h0m0-4h0m5 0h0m4 3h0m1-4h0m6 3h0m0 2h0m1-4h0m1 3h0m0-2h0m1-1h0m1 3h0m2-1h0m0 1h0m0-2h0m3 1h0m0 0h0m1-2h0m2 4h0m3-3h0m0 4h0m1 0h0m4-1h0m2-4h0m4 4h0m2-4h0m4 3h0m0 0h0m1-2h0m0 4h0m1 0h0m1-4h0m0 2h0m1 2h0m9 0h0m1-6h0m1 5h0m3-3h0m0 4h0m2-3h0m1 2h0m2-4h0m0 3h0m0 2h0m1-5h0m3 2h0m1-1h0m0 1h0m2 0h0m1-2h0m5-1h0m1 1h0m6 3h0m6 1h0m1 0h0m0 1h0m1-1h0m4 0h0m0 1h0m3-1h0m0-1h0m3-2h0m6-1h0m1-1h0m1 2h0m1 1h0m4 1h0m1 0h0m1 1h0m3-1h0m1-2h0m0-1h0m0-1h0m3 2h0m1-1h0m0 5h0m0-5h0m0 1h0m1 3h0m0-2h0m1-3h0m0 1h0m0 0h0m0 3h0m1-1h0m1 2h0m0-3h0m0 4h0m0-4h0m0 4h0m0-4h0m0-2h0m1 2h0m0 4h0m1-2h0m0-3h0m0 1h0m1 2h0m0-4h0m-170 12h0m1-2h0m0-1h0m1 1h0m0-1h0m1 0h0m0 0h0m1 1h0m0-3h0m2 0h0m0 0h0m0 4h0m0-4h0m0 0h0m1 1h0m1-1h0m0 2h0m0-1h0m0-1h0m0 2h0m1 1h0m0-4h0m1 1h0m1 4h0m0-4h0m1 5h0m0-6h0m0 1h0m0 1h0m1 1h0m1-1h0m1-1h0m0-1h0m0 1h0m0 0h0m1 1h0m2-2h0m1 4h0m0-3h0m0 0h0m1 0h0m0 3h0m1 0h0m1 2h0m7-1h0m0 0h0m0-3h0m0 1h0m2 1h0m1-4h0m3 6h0m0-6h0m1 5h0m2 1h0m1-5h0m1 0h0m1-1h0m1 2h0m0 1h0m6 1h0m1-1h0m1-3h0m6 2h0m4 3h0m6-3h0m3-2h0m2 1h0m4 4h0m1-4h0m0 2h0m1-2h0m2 1h0m2-1h0m1 0h0m1 5h0m0-3h0m0 1h0m1-4h0m2 5h0m7 0h0m1-5h0m2 2h0m1 1h0m1-2h0m2 5h0m2-1h0m2-5h0m0 4h0m1-4h0m1 5h0m1-4h0m5 5h0m0-5h0m2 3h0m2 0h0m1-1h0m1 1h0m1 1h0m2-3h0m2-2h0m3 0h0m0 1h0m1 4h0m1 1h0m4-4h0m0-1h0m1 4h0m1-5h0m1 3h0m7-1h0m1 0h0m0 0h0m1-1h0m0 2h0m0 1h0m1 1h0m3-4h0m0 0h0m1 4h0m0 0h0m1-2h0m0-3h0m2 0h0m1 6h0m1-5h0m0 1h0m0 4h0m1-4h0m2 2h0m0 2h0m1-4h0m0 3h0m1-2h0m2-2h0m1 0h0m0 2h0m0-1h0m0 0h0m1 1h0m1 0h0m1 1h0m0 0h0m1 2h0m0-2h0m2-2h0m0 3h0m0 1h0m1-2h0m0 1h0m0-4h0m1 2h0m0-1h0m1 4h0m-174 3h0m1-3h0m2 1h0m0-1h0m0 5h0m1-2h0m0-1h0m0-1h0m0 2h0m1-1h0m0 0h0m0 1h0m1 2h0m0 0h0m2 0h0m0-3h0m0 2h0m0-1h0m1-3h0m3 2h0m0 0h0m2-2h0m1 2h0m2 1h0m3-1h0m0 2h0m0-1h0m3 2h0m0 0h0m1-4h0m0-1h0m0 2h0m1 1h0m0-1h0m0-1h0m2 3h0m1-3h0m1 2h0m2 0h0m2 3h0m0-5h0m4 3h0m1-3h0m3 1h0m1 0h0m0 0h0m3 3h0m0-1h0m1-1h0m1 3h0m0-3h0m1 2h0m5 0h0m1 0h0m0 1h0m0-4h0m0 1h0m1 1h0m2 1h0m1-3h0m2 0h0m2-1h0m1-1h0m1 1h0m0 3h0m1 0h0m5 1h0m5 0h0m9-1h0m0 0h0m0 0h0m0-3h0m2 3h0m2 0h0m2-1h0m0 0h0m0 2h0m1-2h0m3-1h0m0-1h0m2 4h0m0-3h0m2 2h0m0 0h0m1 1h0m0-2h0m0 1h0m3-1h0m1-2h0m0 0h0m1 2h0m1-1h0m2-1h0m0 5h0m2-3h0m5 1h0m3-2h0m0 0h0m2 4h0m7-5h0m2 5h0m0-2h0m3 0h0m1 1h0m4-5h0m1 4h0m2-1h0m1-3h0m2 6h0m2-1h0m0-3h0m4 0h0m2 0h0m1 1h0m0-3h0m0 2h0m1 1h0m1-2h0m2 4h0m1-4h0m7-1h0m0 3h0m2-1h0m1 3h0m1 0h0m1-3h0m0-1h0m0 2h0m0 2h0m1-5h0m0 0h0m0 1h0m1 5h0m0-5h0m0 0h0m1 0h0m1 3h0m0-2h0m0-2h0m-172 7h0m1 0h0m1 1h0m0 0h0m1 4h0m0-4h0m0 4h0m1-4h0m0-1h0m0 0h0m0 4h0m1-3h0m1-2h0m1 6h0m1-6h0m1 5h0m0-3h0m0 2h0m0 0h0m0 2h0m1-5h0m1 4h0m0 0h0m6-3h0m0 3h0m2 1h0m8 0h0m0-6h0m6 3h0m0-2h0m2 2h0m0-1h0m1-2h0m3 2h0m0 1h0m1-2h0m4 1h0m1 3h0m1-5h0m1 5h0m2-3h0m0 2h0m1-4h0m2 5h0m0-1h0m1 2h0m1-4h0m1 2h0m0-3h0m1 1h0m2 1h0m0-1h0m2-1h0m1 2h0m0 2h0m0-2h0m1-1h0m0-1h0m0 2h0m7 0h0m1-2h0m0 3h0m6 0h0m1 1h0m1-4h0m7 5h0m4-6h0m4 5h0m0-3h0m0 2h0m1-1h0m1 1h0m1 2h0m3-4h0m0 2h0m1 1h0m4 0h0m2 1h0m3-2h0m2 1h0m0 1h0m0-4h0m0 0h0m5 0h0m2-2h0m0 4h0m2-3h0m1-1h0m0 6h0m1-3h0m1-3h0m0 3h0m1 0h0m1-1h0m3 4h0m2-4h0m2 4h0m0-5h0m3 0h0m0 0h0m1 5h0m1-2h0m2-2h0m7 1h0m0-3h0m1 1h0m2 3h0m1-3h0m0 4h0m0-5h0m1 3h0m0 2h0m1-1h0m0-3h0m3 0h0m0 5h0m2-5h0m2 0h0m0 3h0m2 2h0m1-1h0m0 0h0m1 1h0m1-3h0m0 1h0m1 1h0m1 1h0m1-3h0m0-2h0m1 5h0m0-5h0m1 1h0m0 1h0m1-2h0m1 2h0m1 2h0m-168 2h0m1-1h0m0 1h0m1 4h0m1-3h0m0 3h0m1-4h0m1 2h0m1-2h0m0-1h0m0 5h0m1-2h0m0 0h0m0 2h0m1 0h0m0 1h0m1-1h0m0-4h0m1-1h0m0 1h0m1 4h0m0-4h0m1 4h0m1-4h0m2 4h0m1 0h0m2-4h0m2 3h0m3-2h0m1 1h0m1 1h0m1-2h0m1 3h0m1-5h0m1 3h0m2-1h0m1-1h0m2 0h0m2-1h0m1 5h0m3-1h0m1 2h0m1-3h0m0-1h0m1-1h0m3 0h0m1 3h0m1 1h0m0-5h0m0 1h0m4 5h0m4-5h0m0 0h0m1-1h0m2 4h0m1-4h0m0 2h0m1-2h0m1 0h0m1 1h0m1 0h0m0 4h0m1-1h0m1-3h0m1 0h0m0 0h0m2 1h0m4 3h0m1-4h0m2 4h0m2-5h0m0 5h0m1-3h0m3 3h0m0-3h0m1 3h0m2 1h0m0-1h0m5-3h0m2 3h0m1 0h0m1-2h0m0 1h0m1-3h0m6 0h0m2 4h0m0-4h0m0 5h0m0-2h0m3-3h0m2 0h0m0 3h0m1-2h0m2-2h0m4 0h0m0 4h0m1 1h0m1 1h0m0-3h0m2-1h0m0 0h0m1-1h0m1 0h0m3 3h0m1 1h0m3-1h0m0-3h0m3 1h0m0 1h0m1-1h0m2-1h0m2 2h0m1-2h0m1 3h0m2-1h0m0 0h0m5-2h0m4 0h0m1 4h0m1 1h0m1-6h0m0 4h0m3 1h0m3-3h0m1 1h0m0 0h0m1-3h0m1 5h0m0-2h0m0-1h0m0 0h0m1 2h0m0-3h0m1 2h0m0-2h0m0 4h0m0-3h0m1 0h0m0 3h0m1-1h0m0-4h0m1 5h0m0-2h0m0 2h0m1-3h0m1-1h0m0 1h0m0 2h0m0-3h0m0 0h0m0 3h0m1-2h0m-164 5h0m1 1h0m1-2h0m1 1h0m0 0h0m1 4h0m0-2h0m0-1h0m1-1h0m0 0h0m1 2h0m0 0h0m2 2h0m0-1h0m0-2h0m0 0h0m1 4h0m1-2h0m1 0h0m1 1h0m0 0h0m1-2h0m0-1h0m1 3h0m0-1h0m0 0h0m1 1h0m0 0h0m0-4h0m1 2h0m8 0h0m1 0h0m0 1h0m0 1h0m0-4h0m5 2h0m0 2h0m0-5h0m1 3h0m0-1h0m3 0h0m1 0h0m1 0h0m1 1h0m0 0h0m1 2h0m1-4h0m2 1h0m0 4h0m2-3h0m1-2h0m0 0h0m4 5h0m0-2h0m0-3h0m1 3h0m2-3h0m3 1h0m0 1h0m5 3h0m1-5h0m3 5h0m2-2h0m12 0h0m1 2h0m0-5h0m1-1h0m1 4h0m2-1h0m1 1h0m6-3h0m2 3h0m5-1h0m1 0h0m0 0h0m0 1h0m1 1h0m1 0h0m0-4h0m1 5h0m0-3h0m1 2h0m1-3h0m2 4h0m1-3h0m2 2h0m0 0h0m1-2h0m1-3h0m1 1h0m2-1h0m5 2h0m3-1h0m1 3h0m0-4h0m4 3h0m2 3h0m1-6h0m6 4h0m1 1h0m1-4h0m2 2h0m1 2h0m1-2h0m4 2h0m3-4h0m0-1h0m0 5h0m1-4h0m0 5h0m3-4h0m0 3h0m2 1h0m1-3h0m1 1h0m0-4h0m0 3h0m0 3h0m0-5h0m2 3h0m2 0h0m0 2h0m0-5h0m0 1h0m0 3h0m0 0h0m0-3h0m2 4h0m0-5h0m0-1h0m1 1h0m0 2h0m0-1h0m0 4h0m1-5h0m-154 6h0m1 2h0m0 1h0m1 2h0m0-3h0m1 0h0m1 1h0m1 1h0m0 1h0m1-4h0m0 2h0m1-2h0m1 3h0m1-1h0m0-2h0m2 4h0m0-1h0m1-1h0m1-3h0m1 5h0m0-3h0m2 0h0m1 1h0m5-2h0m1 2h0m0 2h0m0-2h0m1-3h0m3 4h0m3-2h0m1 2h0m2-1h0m4-2h0m8 3h0m3-1h0m2 0h0m1 0h0m1-3h0m2 5h0m0-3h0m0 1h0m1-3h0m2 2h0m1 0h0m1-3h0m0 3h0m0 1h0m2 2h0m2-4h0m2 0h0m0 0h0m0-2h0m1 0h0m1 0h0m0 0h0m2 3h0m0 0h0m1 1h0m2 2h0m0-4h0m2 0h0m3-1h0m0 4h0m1 0h0m1 1h0m2-1h0m1-2h0m3 0h0m1 2h0m0-4h0m1 5h0m4-6h0m6 1h0m1 3h0m1-2h0m1-1h0m3 2h0m1-2h0m2 5h0m0-5h0m1 4h0m1-5h0m3 4h0m2-3h0m3 0h0m2 3h0m1-4h0m4 1h0m2 4h0m0-4h0m6-1h0m1 4h0m2 1h0m0-2h0m3 3h0m1-4h0m4 2h0m1-3h0m1 0h0m1 4h0m0-2h0m0-3h0m0 3h0m0 2h0m1-5h0m1 2h0m0 2h0m1 2h0m0-3h0m1 2h0m0-4h0m0 4h0m0-4h0m1 2h0m0 2h0m1-1h0m1-3h0m0 3h0m0 2h0m0-2h0m1 0h0m0 0h0m-148 4h0m1 1h0m0-1h0m2 2h0m1-1h0m0 2h0m0-4h0m2 0h0m0 2h0m1 1h0m0-3h0m0 1h0m1-1h0m2 1h0m0 2h0m0 1h0m0-5h0m1 2h0m0 0h0m0-1h0m0 0h0m1 4h0m1-2h0m4-2h0m1 5h0m1-1h0m4 0h0m0-4h0m2 2h0m3 2h0m0-3h0m2 3h0m2-3h0m0-2h0m1 5h0m1-1h0m0 0h0m1-4h0m0 2h0m3 2h0m3-1h0m1-2h0m0 2h0m1 2h0m2-3h0m0 0h0m1 1h0m0-2h0m1 2h0m0 1h0m3 0h0m4-2h0m1 2h0m3-1h0m4-2h0m2 2h0m4-3h0m0 5h0m1-2h0m2-2h0m0 2h0m4 2h0m0-4h0m2 0h0m6 1h0m1 3h0m1-2h0m2 1h0m0-3h0m1 2h0m0 2h0m1 0h0m0 0h0m2-3h0m1 4h0m2-1h0m2 1h0m0-3h0m0 0h0m1 1h0m4-1h0m0 1h0m1 1h0m2-1h0m1-1h0m0-1h0m0 1h0m1-1h0m0 2h0m1-1h0m3 1h0m1-4h0m2 2h0m3 0h0m3 3h0m0 1h0m4-3h0m0 3h0m1-2h0m9-1h0m0 2h0m1-1h0m1-1h0m2 1h0m1-1h0m0-1h0m1-2h0m0 3h0m0 3h0m0-4h0m1-2h0m0 3h0m1 2h0m0-3h0m0-1h0m1 1h0m0-1h0m1 2h0m0 1h0m1-4h0m0 2h0m0 0h0m0 2h0m0-1h0m1 3h0m0-3h0m0 0h0m1 2h0m0 1h0m1-4h0m0 0h0m0 1h0m0-3h0m1 2h0m-142 5h0m1 1h0m2-2h0m1 2h0m0-1h0m1 1h0m0 3h0m1 0h0m0 1h0m1-1h0m0-4h0m1 3h0m0-4h0m0 0h0m0 3h0m0 1h0m1 1h0m0 0h0m0-2h0m1-2h0m0 0h0m0 3h0m0-4h0m0 4h0m1-3h0m1 0h0m0 3h0m1 1h0m0 1h0m1-4h0m0 3h0m2-5h0m1 3h0m0 1h0m0-2h0m3 4h0m2-1h0m3-2h0m2-1h0m2-1h0m6-1h0m1 2h0m1 3h0m0-1h0m4-1h0m5 3h0m2-6h0m2 5h0m1-5h0m2 3h0m4-1h0m0-1h0m5 2h0m1 1h0m1 0h0m1-2h0m1-2h0m1 4h0m1-1h0m1-1h0m0 0h0m2 2h0m3-4h0m1 3h0m3 2h0m1-5h0m4 5h0m1-4h0m3 2h0m1-2h0m3 4h0m4-3h0m1 1h0m1 0h0m4 0h0m0 2h0m1-5h0m2 5h0m3-4h0m0 1h0m0 0h0m2 4h0m2-6h0m0 1h0m0-1h0m3 0h0m1 4h0m0 1h0m1 0h0m1-3h0m1 0h0m1 1h0m1-3h0m0 2h0m0 2h0m0-4h0m1 4h0m3 1h0m1 1h0m1-4h0m3 2h0m1 2h0m0-2h0m0-1h0m1-2h0m1 0h0m0 1h0m0-1h0m1 5h0m0-6h0m1 2h0m0-2h0m1 1h0m0 5h0m1-2h0m0 0h0m0-1h0m0-2h0m1 2h0m0 3h0m1-1h0m1-4h0m-133 5h0m1 1h0m0 0h0m1 0h0m1-1h0m1 0h0m1 0h0m0 1h0m1 2h0m0 1h0m1-3h0m0 0h0m1 4h0m0-2h0m0 0h0m0 3h0m1-1h0m1 1h0m0-2h0m0 1h0m0-1h0m1-3h0m1 2h0m0 0h0m1 0h0m0-2h0m0 4h0m1-5h0m0 4h0m0 0h0m0 0h0m0-2h0m1 3h0m0-2h0m0 2h0m0 0h0m0-4h0m1 5h0m0-1h0m0-2h0m1 0h0m0 0h0m1 0h0m1 0h0m0 2h0m1 1h0m1-3h0m0 1h0m6-1h0m1-2h0m3 1h0m2 0h0m2 1h0m1-2h0m0 1h0m4-1h0m0 5h0m2 0h0m2-2h0m0-4h0m2 1h0m0 5h0m1-6h0m0 4h0m1 1h0m0-3h0m4 1h0m2-1h0m1 3h0m0-4h0m2 5h0m2-5h0m2 4h0m0-3h0m2 3h0m0-4h0m0 4h0m1-3h0m1 1h0m2 2h0m1-4h0m0 5h0m3-4h0m1-1h0m1 3h0m3-1h0m0 1h0m2 0h0m3 1h0m1-4h0m1 4h0m0-1h0m6 0h0m2-4h0m1 0h0m0 5h0m3-2h0m1-2h0m0 0h0m2 4h0m0 1h0m2 0h0m2-4h0m3 0h0m0 3h0m1 1h0m2-2h0m6-1h0m1 3h0m0-4h0m3 1h0m1 3h0m0-2h0m0 1h0m1 0h0m1-3h0m0 1h0m0 1h0m0-2h0m1 0h0m0 3h0m0-2h0m1 0h0m0-1h0m1 4h0m0-4h0m0 1h0m1-2h0m0 5h0m1-5h0m0 1h0m0 1h0m0 3h0m1-5h0m0 4h0m0-2h0m1-1h0m0-1h0m0 2h0m3-2h0m-120 7h0m2 1h0m1 1h0m0-3h0m0 1h0m2-1h0m0 2h0m0 0h0m0-3h0m1 2h0m0 3h0m1-2h0m0 1h0m0-1h0m1 3h0m0 0h0m1 0h0m0-6h0m0 5h0m1-3h0m0 1h0m1 3h0m0-1h0m1-2h0m1-3h0m0 5h0m0-2h0m0-1h0m1 2h0m0 1h0m0-3h0m0 1h0m1 2h0m1-3h0m0 0h0m1 0h0m2 1h0m0 3h0m2-1h0m0-1h0m0 1h0m1-4h0m1 4h0m0-1h0m1 2h0m3-6h0m0 5h0m2 1h0m2-3h0m3 1h0m3 1h0m1-3h0m3 2h0m1-4h0m1 1h0m1 0h0m7 3h0m4-4h0m1 3h0m6-3h0m1 1h0m1 3h0m0 0h0m3-2h0m1 1h0m3 3h0m0-3h0m3 3h0m0-4h0m3-2h0m1 5h0m3-3h0m0 2h0m1-3h0m0 0h0m3 3h0m0-3h0m5 1h0m5 3h0m3-4h0m1 1h0m0 2h0m1 0h0m0 0h0m1 0h0m1 0h0m0-4h0m0 1h0m1 3h0m0-3h0m1 3h0m0-3h0m0 2h0m0 2h0m0-3h0m0 1h0m1-2h0m1 4h0m0-1h0m0 1h0m0-1h0m0 1h0m1-1h0m0 0h0m1-1h0m1 0h0m0-1h0m2 2h0m0 1h0m0 1h0m0-1h0m3-2h0m0-2h0m1 1h0m0-1h0m1 1h0m-110 4h0m3 1h0m0 0h0m1-1h0m1 2h0m1-1h0m2 0h0m0 1h0m1 2h0m0-2h0m0 2h0m1-2h0m0-2h0m0 1h0m0 3h0m1 1h0m1-1h0m0 0h0m1-3h0m0 3h0m0-1h0m1 1h0m0-2h0m0 3h0m2-2h0m0-2h0m0 3h0m0-3h0m0 2h0m0-2h0m1 1h0m0-2h0m0 3h0m0 1h0m0-2h0m1 2h0m0 1h0m1-4h0m0 2h0m0-2h0m1 3h0m1-3h0m0-1h0m0 2h0m0 2h0m1-1h0m0 0h0m0 2h0m1-4h0m0 1h0m1 2h0m0 1h0m1 0h0m0-2h0m0 1h0m2-1h0m0 2h0m2 0h0m1-1h0m0 2h0m0-4h0m0 4h0m1-1h0m1-1h0m1 1h0m1-4h0m0 5h0m2-1h0m1-2h0m2 3h0m2-4h0m0 2h0m1 1h0m2-3h0m1 4h0m2-2h0m1-1h0m4-2h0m1 0h0m0 4h0m1-4h0m3 4h0m0-3h0m2 0h0m1 1h0m1 0h0m2 0h0m1 2h0m1-2h0m3-2h0m1 0h0m1 0h0m2 0h0m0 4h0m1-4h0m0 4h0m1 0h0m2-3h0m1 4h0m0-3h0m1 1h0m1 0h0m0 0h0m0 2h0m2-4h0m1 4h0m0-4h0m0 3h0m0-2h0m0 1h0m1-3h0m0 3h0m0-1h0m0 3h0m1-1h0m0-4h0m0 2h0m1-1h0m0 0h0m1 1h0m1-1h0m0-1h0m1 0h0m0 0h0m0 0h0m0 2h0m0-2h0m1-1h0m0 4h0m0 1h0m0-1h0m1-3h0m0 5h0m0-4h0m0 3h0m0-2h0m0 0h0m2 2h0m1-2h0m0-2h0m0-1h0m0 4h0m0-2h0m1 1h0m0 2h0m0-1h0m1-1h0m0 2h0m3-5h0m0 3h0m0 2h0m2-2h0m0 0h0m3-2h0m0 0h0m-91 5h0m3 1h0m0 0h0m2 1h0m2-2h0m0 1h0m2 2h0m0-3h0m1 0h0m0 1h0m0 0h0m1 1h0m0 2h0m1-2h0m0 2h0m2-1h0m1-2h0m0 4h0m0 0h0m1-4h0m0 2h0m1 2h0m2 0h0m0-1h0m0 2h0m1-3h0m0 2h0m0-1h0m2-2h0m0 4h0m0-6h0m2 3h0m0 1h0m1-1h0m0 2h0m0-4h0m0 2h0m1 0h0m1-2h0m1 3h0m0-1h0m0 0h0m2 0h0m0-1h0m0 3h0m0-2h0m0 2h0m0-4h0m1 2h0m0 2h0m0-2h0m0-2h0m0 1h0m0 4h0m1-4h0m0 2h0m1 1h0m0-4h0m0 0h0m0 4h0m0-4h0m1 0h0m1 1h0m0 1h0m0 2h0m0-4h0m0-1h0m1 3h0m0 0h0m0-2h0m0 1h0m1 2h0m0-1h0m1-2h0m0 1h0m0-2h0m0 2h0m0 0h0m1 3h0m0-3h0m2 2h0m1 0h0m0 0h0m1-3h0m0 2h0m0 2h0m0-3h0m0-1h0m1 3h0m0-4h0m0 3h0m2 0h0m0-1h0m0 4h0m1-4h0m0 1h0m1 1h0m0-2h0m0-1h0m0 3h0m1 0h0m1-2h0m0 1h0m0 0h0m1 2h0m1-2h0m1 2h0m1-3h0m0-2h0m0 6h0m0-2h0m1-2h0m0-1h0m0 4h0m0-4h0m0 1h0m0 1h0m1 3h0m1-3h0m0 0h0m0 3h0m1-1h0m0-4h0m0 0h0m0 2h0m0 0h0m0 2h0m2-4h0m1 2h0m1 2h0m0 1h0m1-5h0m1 4h0m0-3h0m0 3h0m1-2h0m1 0h0m0-1h0m0 0h0m0 4h0m0-1h0m1 0h0m0-2h0m0-1h0m1 4h0m2-6h0m1 1h0m0 0h0m0 2h0m0 2h0m1-3h0m0 0h0m1 1h0m1 1h0m0-2h0m0-2h0m0 2h0m1 0h0m0 1h0m0-1h0m1-1h0m0 1h0m0-2h0m1 1h0m0 2h0m0-2h0m2 0h0m1 0h0m0 0h0m0-1h0m1 1h0m2-1h0m-63 6h0m7 2h0m1-2h0m1 2h0m1-1h0m3-1h0m1 1h0m1 2h0m1-1h0m2 0h0m0 0h0m1-2h0m1 2h0m0-1h0m1 1h0m1 1h0m2-2h0m2 0h0m2-1h0m0 3h0m1-3h0m1 3h0m0-1h0m0-1h0m1 1h0m0-1h0m1 1h0m3 0h0m2 0h0m1-1h0m1 0h0m1-1h0m1 1h0m0-1h0m0 1h0m0-1h0m1 1h0m1 0h0m1 0h0" stroke="#d3d3d3" stroke-width="2.8"/><path d="M349 444h0" stroke="#fcbba1" stroke-width="2.8"/><path d="M244 379h0m27 0h0m4 12h0m-20 6h0m17 1h0m15 4h0m-6 15h0m63-2h0m32 1h0m29-4h0m1 4h0m-124 5h0m4-1h0m29 3h0m53-4h0m-80 7h0m0-2h0m9 3h0m30 2h0m29-2h0m10-2h0m5 3h0m23-4h0m-86 5h0m7 5h0m17-2h0m31 3h0m10-2h0m0 0h0m7 1h0m10-3h0m-77 5h0m5 4h0m9-2h0m13-2h0m2 4h0m1-3h0m4 1h0m2 0h0m4 1h0m2 2h0m2-1h0m1-3h0m1-1h0m2 4h0m3 1h0m5-2h0m0-1h0m1 2h0m1 0h0m3-5h0m-39 6h0m16 0h0m0 0h0m2 1h0m1 2h0m15-3h0m0 1h0" stroke="#fca486" stroke-width="2.8"/><path d="M268 355h0m-11 8h0m5-1h0m2 0h0m0 1h0m0-3h0m3-1h0m2 2h0m3-1h0m4 2h0m4-1h0m-30 7h0m6 0h0m4-1h0m2-2h0m1 3h0m3 1h0m2-5h0m5 0h0m3 4h0m-31 6h0m4-4h0m9 1h0m4 1h0m5 0h0m2 0h0m7 2h0m-32 6h0m1 0h0m3-3h0m4 0h0m0 2h0m1-1h0m1-2h0m5 1h0m3 1h0m3 0h0m15-1h0m-33 9h0m3-4h0m1 4h0m2-1h0m3 1h0m4-3h0m1 3h0m2-3h0m0 2h0m2 2h0m5-2h0m-26 2h0m10 1h0m3 4h0m10 1h0m5-6h0m3 4h0m-18 5h0m5-2h0m3 2h0m6-3h0m1 2h0m5 1h0m1 1h0m6 0h0m1-3h0m114 4h0m5-1h0m2-1h0m3 2h0m-148 3h0m2-1h0m0 3h0m3-3h0m8 1h0m7 0h0m9 1h0m1 2h0m3 1h0m3 0h0m0-3h0m96-2h0m6 1h0m-137 4h0m2 1h0m5 1h0m12 0h0m0 3h0m2-3h0m8-1h0m3 0h0m12 1h0m20 1h0m35 0h0m12-1h0m4 3h0m8-4h0m2 3h0m1 0h0m2-2h0m2 1h0m2 2h0m8 1h0m4-1h0m-134 4h0m1 0h0m4 0h0m2 1h0m7 1h0m7-3h0m3-1h0m0 5h0m1-5h0m1 3h0m1-2h0m1 1h0m0-3h0m3 5h0m7 0h0m6-1h0m0 1h0m0-2h0m6 2h0m4-4h0m5 1h0m2 2h0m3 2h0m2-2h0m12 0h0m9 1h0m6-3h0m7 1h0m5 1h0m4-3h0m1 2h0m1 0h0m9 2h0m1-1h0m6-4h0m2 2h0m5 2h0m-128 3h0m2 0h0m6 5h0m3-6h0m4 1h0m0 2h0m19 2h0m3-1h0m3 1h0m0-1h0m12 1h0m2-2h0m3-1h0m3 2h0m1-1h0m2 0h0m0 0h0m11-1h0m1-1h0m4 1h0m4 4h0m16-5h0m3 4h0m0-4h0m0 2h0m7 3h0m0-5h0m4 0h0m3 0h0m4 1h0m1 3h0m0 1h0m4-2h0m-117 3h0m2 0h0m4 4h0m0 1h0m0-4h0m1 3h0m1-1h0m0-2h0m0 1h0m3 0h0m3-2h0m2 2h0m2-1h0m0-2h0m0 3h0m0 1h0m6 1h0m3 0h0m7-3h0m12 0h0m2 4h0m2-1h0m6-1h0m0-1h0m2 0h0m2 0h0m4-1h0m6 3h0m1-4h0m10 5h0m4-6h0m6 4h0m3 1h0m1-1h0m1 0h0m2-3h0m11 4h0m-90 6h0m1-1h0m4 0h0m2-1h0m2-1h0m6 3h0m4-4h0m4 1h0m1 1h0m0-1h0m1-1h0m2 2h0m10-2h0m2 3h0m1-3h0m10 0h0m5-1h0m2 0h0m0 1h0m1 0h0m16 5h0m0-4h0m4 1h0m4 0h0m2-1h0m5-1h0m-79 7h0m9 2h0m1-3h0m4 5h0m14-1h0m0 1h0m8-1h0m2-2h0m1-2h0m23 0h0m0 1h0m1 2h0m1-2h0m1 1h0m-19 5h0" stroke="#fc8c6c" stroke-width="2.8"/><path d="M269 356h0m8-2h0m5-1h0m2-2h0m-19 7h0m1 4h0m5 1h0m1-2h0m1 1h0m-23 6h0m10-4h0m0 1h0m4 2h0m7-1h0m1-2h0m1 3h0m2-2h0m4-1h0m1 0h0m-33 10h0m2 0h0m0 1h0m13-1h0m0 0h0m3 1h0m4-4h0m9 0h0m1 4h0m-22 3h0m1-2h0m4 4h0m0-3h0m2-1h0m4-1h0m4 4h0m10 1h0m123-4h0m-156 11h0m6-2h0m11-3h0m1-1h0m6 1h0m111 3h0m20-3h0m-159 8h0m2-3h0m0 3h0m2-3h0m0 3h0m23-3h0m2 4h0m1 1h0m2 0h0m0-1h0m0-4h0m3 5h0m1-2h0m9 2h0m92-1h0m1 1h0m-128 6h0m10-3h0m1 1h0m2 2h0m7-2h0m7-3h0m12 5h0m4 0h0m3 1h0m7-2h0m72-3h0m5 3h0m10-2h0m1 0h0m2 0h0m1 1h0m6 2h0m-143 4h0m17 3h0m1-2h0m1 2h0m11-2h0m0 0h0m0-4h0m1 0h0m0 3h0m13 1h0m8-1h0m71 3h0m9-3h0m1-1h0m2-1h0m12 4h0m3-5h0m-149 7h0m6 0h0m4 4h0m1 0h0m7 0h0m5-4h0m7 2h0m5-1h0m5 1h0m1-1h0m3 3h0m7-1h0m7-2h0m0-2h0m5 3h0m21 2h0m14-1h0m3-2h0m8 1h0m7 3h0m1-1h0m7 0h0m0-4h0m1 1h0m1 3h0m12 1h0m1-2h0m8 0h0m-128 7h0m5-3h0m5-1h0m3-1h0m5 3h0m8-3h0m3 4h0m12-2h0m1 1h0m1 2h0m8 0h0m0 1h0m5-5h0m18 5h0m3-1h0m5 0h0m2-2h0m8-2h0m5-1h0m0 5h0m1 0h0m5 0h0m5 0h0m2-2h0m0 1h0m11-4h0m4 4h0m-127 4h0m9-1h0m13 2h0m1 2h0m1-1h0m5 0h0m9 2h0m0-4h0m4 3h0m5 0h0m3-5h0m0 2h0m2-1h0m2 2h0m13 0h0m2 1h0m13 1h0m0-2h0m2 2h0m4-2h0m1-2h0m6 5h0m1-5h0m6 2h0m23-1h0m-109 8h0m9-3h0m11 4h0m7-4h0m0 5h0m2-5h0m5-1h0m1 0h0m4 1h0m2 5h0m0-3h0m15-3h0m0 3h0m2-3h0m16 5h0m7 0h0m-75 2h0m5 1h0m6 1h0m1 2h0m58-2h0m-16 4h0" stroke="#fb7555" stroke-width="2.8"/><path d="M283 354h0m-23 19h0m7 12h0m5 17h0m12 2h0m6-1h0m1 0h0m19 7h0m5 0h0m14 0h0m1-2h0m44-1h0m2 7h0m-52 6h0m13 2h0m42 2h0m-17 6h0" stroke="#f85d41" stroke-width="2.8"/><path d="M306 363h0m70-3h0m20 2h0m-67 3h0m54 0h0m-91 4h0m81 2h0m10 8h0m-14 3h0m14 1h0m-60 7h0m41-2h0m12 2h0m-61 5h0m3 3h0m5 5h0" stroke="#f14230" stroke-width="2.8"/><path d="M341 327h0m11 6h0m-28 5h0m25-5h0m-53 12h0m5 2h0m2-2h0m92 0h0m-105 9h0m58 3h0m15-2h0m35-1h0m-88 8h0m13-3h0m44 13h0m-54 4h0" stroke="#e02c26" stroke-width="2.8"/><path d="M363 320h0m-41 8h0m79 4h0m-14 5h0m16-4h0m-96 10h0m43 7h0m18-1h0m23-2h0m-37 4h0" stroke="#cb181d" stroke-width="2.8"/><path d="M338 442h0" stroke="#fcbba1" stroke-width="2.8"/><path d="M268 361h0m-13 7h0m-12 9h0m14 3h0m1-4h0m7 19h0m6 4h0m22-4h0m-33 6h0m44 3h0m6 4h0m-38 5h0m17 5h0m4 2h0m8 2h0m9 6h0m12-1h0m5-3h0m64 0h0m9 0h0m-100 5h0m6 2h0m9-1h0m20 1h0m10 3h0m3 0h0m1-2h0m2 1h0m30-1h0m6 1h0m7-2h0m1 0h0m-82 4h0m23 2h0m0 2h0m6 0h0m3-1h0m1-2h0m6 2h0m6 0h0m3 0h0m8-1h0m2 2h0m-39 3h0m0 0h0m7 0h0m6 0h0m3 2h0m2 0h0m9 0h0" stroke="#fca486" stroke-width="2.8"/><path d="M266 356h0m-7 6h0m5 1h0m1-2h0m0 1h0m1-4h0m5 3h0m0 0h0m8 0h0m2-1h0m-31 9h0m2-2h0m2-1h0m0 3h0m1-3h0m5-1h0m0 3h0m1-2h0m4-3h0m0 4h0m1 0h0m5 0h0m1-1h0m5-1h0m-28 7h0m15 3h0m3-6h0m8 3h0m4-2h0m-38 11h0m3-2h0m1 1h0m2-2h0m10-3h0m4 3h0m8-3h0m8 3h0m-36 5h0m2-1h0m8 3h0m1 1h0m5-5h0m4 4h0m0 0h0m4-3h0m5 5h0m2-5h0m2 3h0m4 2h0m-26 5h0m4-3h0m0 2h0m2-4h0m3 3h0m2 2h0m1-4h0m8 0h0m1 3h0m2 2h0m0-3h0m11 1h0m124-1h0m-154 7h0m1 1h0m2 0h0m3-3h0m6 3h0m8-3h0m0-1h0m104 3h0m22 1h0m2-4h0m-144 8h0m2 0h0m3-1h0m2 2h0m1-3h0m3 0h0m6 0h0m3 4h0m1-2h0m3-1h0m2-1h0m0 1h0m15 2h0m79 2h0m2-5h0m12 3h0m4 0h0m4-1h0m-137 3h0m1 1h0m2 1h0m5-2h0m2 1h0m3 4h0m1-2h0m8 2h0m7-4h0m0 3h0m5-2h0m1-1h0m3 5h0m4-5h0m8 1h0m3 4h0m5-3h0m55 0h0m5-1h0m6 4h0m5-2h0m6-4h0m1 1h0m4 0h0m0 2h0m-133 5h0m4 3h0m3-2h0m2 0h0m4 1h0m6-1h0m2-3h0m1 4h0m11-3h0m7 3h0m7-2h0m3 0h0m1-1h0m10 1h0m5 1h0m4-2h0m12 3h0m6-1h0m14 2h0m6-4h0m6 5h0m3-3h0m2 0h0m0 1h0m4 0h0m1 2h0m4-4h0m2 2h0m0 1h0m-120 3h0m0 0h0m4 0h0m0 1h0m4-3h0m0 2h0m4-1h0m2 4h0m5-4h0m3 4h0m2 1h0m1-5h0m1-1h0m2 4h0m1-1h0m1-1h0m0-2h0m2 5h0m10-4h0m2 5h0m0-5h0m6 1h0m6 0h0m21 1h0m1-2h0m2 3h0m0 1h0m3-1h0m7 1h0m8-4h0m0 1h0m3-1h0m1 0h0m10 4h0m2-4h0m5 1h0m2 3h0m2-2h0m-110 6h0m2 0h0m3 0h0m2 0h0m4-1h0m2 2h0m3-2h0m0 4h0m4-3h0m4 0h0m3-1h0m1 2h0m1-3h0m2 1h0m5 3h0m3-2h0m0-2h0m3 3h0m1-1h0m3 2h0m10-1h0m10-4h0m2 4h0m1-1h0m4 1h0m4-2h0m1 4h0m1-2h0m0-4h0m1 1h0m0 3h0m3-4h0m4 2h0m1 0h0m1 3h0m1-4h0m2 0h0m2 3h0m6-1h0m1 3h0m2-1h0m-99 3h0m7 0h0m2-1h0m7 2h0m4 1h0m2 0h0m2-2h0m0 0h0m1 0h0m1 3h0m0-4h0m1 1h0m5 2h0m1-3h0m3 2h0m1 0h0m0-3h0m6 3h0m3 2h0m6 0h0m3-4h0m2 1h0m2 3h0m9 0h0m4-1h0m2-1h0m13 2h0m3-4h0m-72 8h0m1 1h0m3 2h0m6-1h0m8-4h0m9 4h0m0 1h0m8-2h0m7 1h0m1-1h0m19-4h0m1 4h0" stroke="#fc8c6c" stroke-width="2.8"/><path d="M279 347h0m-1 8h0m-14 3h0m3 2h0m4 0h0m0 3h0m8-2h0m1 0h0m-24 2h0m4 1h0m9 4h0m0-1h0m9-1h0m2 1h0m7 0h0m-29 7h0m5-4h0m19 4h0m-25 6h0m7 0h0m9-3h0m5 3h0m0-2h0m-36 4h0m23 3h0m6 2h0m8-2h0m3 1h0m-29 7h0m9-3h0m0 2h0m9 0h0m2-1h0m1-4h0m2 3h0m1-1h0m2 0h0m4-2h0m2 5h0m1 0h0m4-1h0m90 0h0m5-3h0m14 0h0m0 5h0m-142 1h0m16 2h0m10 1h0m6 0h0m1-2h0m96 3h0m19 1h0m-150 1h0m4 1h0m1-1h0m2 3h0m1 2h0m6 0h0m3-2h0m1-1h0m3-2h0m2 4h0m1-1h0m4-3h0m1 4h0m4-2h0m7-2h0m12 3h0m4 1h0m70-5h0m5 4h0m1-1h0m0 1h0m5 1h0m5-2h0m1 1h0m4-2h0m5-2h0m-135 9h0m12-1h0m0 0h0m11-1h0m2 0h0m1 4h0m5-3h0m6 2h0m8 0h0m5 2h0m16-1h0m21 1h0m2-2h0m1-2h0m7 3h0m2-4h0m1 2h0m1 0h0m4-1h0m2 1h0m2-2h0m6 4h0m1-4h0m4 4h0m3-2h0m6 1h0m1-1h0m5 1h0m1 2h0m0-2h0m-126 3h0m0 1h0m1-1h0m2-1h0m4 5h0m1-5h0m2 3h0m0 0h0m2 2h0m8-4h0m4-1h0m9 1h0m3-1h0m8 2h0m9 0h0m0-2h0m3 0h0m8 2h0m2 3h0m2-1h0m7-1h0m5 0h0m5-1h0m15 2h0m3 1h0m2-4h0m2 4h0m2-2h0m1 2h0m3-3h0m0 2h0m-117 4h0m3 2h0m11-1h0m2-1h0m12-2h0m3 1h0m3 2h0m1 1h0m7-1h0m8-2h0m2 3h0m3-2h0m3 2h0m3-1h0m3 0h0m0-1h0m6 0h0m0-2h0m3 5h0m5-4h0m1 4h0m1-2h0m1 0h0m2 3h0m1-5h0m3 2h0m3 2h0m4-2h0m5 2h0m0 0h0m2 1h0m4-1h0m1-1h0m4 1h0m5-4h0m0 0h0m-101 7h0m11 2h0m11-3h0m1 4h0m14-1h0m11-1h0m2 0h0m9-1h0m0 2h0m7-4h0m4 3h0m14-2h0m2 1h0m9-1h0m10 0h0m0 0h0m-87 5h0m51 6h0m-46 1h0m7 5h0m30-3h0" stroke="#fb7555" stroke-width="2.8"/><path d="M277 360h0m-2 17h0m73 9h0m34-3h0m-106 11h0m34 3h0m28-4h0m24 7h0m20 1h0m-94 7h0m46 0h0m50 0h0m-55 8h0m48-1h0m-13 6h0m-50 4h0m5-2h0" stroke="#f85d41" stroke-width="2.8"/><path d="M376 355h0m-44 3h0m-26 11h0m34-4h0m-27 9h0m-12 3h0m58 3h0m-55 2h0m5 2h0m58-2h0m12 2h0m-18 3h0m16 0h0m1 4h0m-35 4h0m14 11h0" stroke="#f14230" stroke-width="2.8"/><path d="M364 321h0m-58 11h0m21 1h0m17-1h0m-51 8h0m80 7h0m36 5h0m-100 9h0m-5 5h0m63 0h0m4 2h0m-34 14h0m32 11h0" stroke="#e02c26" stroke-width="2.8"/><path d="M355 321h0m19 5h0m20-3h0m21 1h0m-38 6h0m-27 6h0m57 2h0m-66 28h0" stroke="#cb181d" stroke-width="2.8"/><path d="M332 442h0m25 0h0" stroke="#fcbba1" stroke-width="2.8"/><path d="M273 356h0m-14 7h0m-6 5h0m-6 4h0m12 22h0m9 11h0m16-5h0m115 5h0m-110 12h0m1-2h0m-11 3h0m24 1h0m27 5h0m11 0h0m54 3h0m-89 7h0m8-5h0m1 4h0m7 1h0m3-1h0m4-3h0m8 2h0m1 1h0m2-4h0m6 1h0m21 0h0m2 3h0m10-1h0m10 1h0m-80 3h0m4-1h0m1 2h0m1 0h0m2 1h0m1-2h0m1 2h0m1 2h0m7-3h0m2 1h0m8-2h0m1 3h0m8-1h0m4 3h0m2-4h0m4 0h0m1 1h0m5-3h0m6 4h0m3-1h0m2 2h0m3-1h0m1-2h0m1 0h0m1 1h0m-44 5h0m1-1h0m6 0h0m2 2h0m17-2h0" stroke="#fca486" stroke-width="2.8"/><path d="M273 355h0m-14 8h0m3-4h0m1 0h0m2-2h0m4 1h0m2 5h0m2-3h0m1 2h0m-21 6h0m5 0h0m10-5h0m5 1h0m0 0h0m16 0h0m-45 9h0m4-4h0m2 2h0m4-2h0m2 3h0m0 3h0m0-5h0m0 0h0m3 1h0m7 3h0m5-1h0m-29 8h0m8-2h0m14-2h0m0 1h0m0-1h0m1 4h0m5-5h0m6 3h0m-36 2h0m6 3h0m4 0h0m3 2h0m2-4h0m1 3h0m2 0h0m3 1h0m12-4h0m0 0h0m2 2h0m3-1h0m1 4h0m127-6h0m-161 10h0m4-1h0m0-2h0m7 4h0m9-5h0m7 3h0m1 2h0m0-2h0m3 1h0m4-2h0m6-2h0m-34 10h0m0-1h0m3-1h0m3 2h0m3-2h0m2-1h0m4 2h0m2-2h0m1 1h0m3 3h0m4-5h0m10 1h0m5-1h0m2 5h0m3 0h0m88-1h0m23 1h0m-151 2h0m3 3h0m1 0h0m3 0h0m13-3h0m2 2h0m6 1h0m2 1h0m1-3h0m4-1h0m3 3h0m6 1h0m76 0h0m1-3h0m3 4h0m17-1h0m1-1h0m2-2h0m9 1h0m-147 4h0m5 2h0m2-2h0m4 5h0m1-6h0m16 3h0m1-1h0m0 2h0m0-1h0m2 2h0m1-2h0m10 3h0m17-3h0m18 1h0m33 2h0m1-1h0m10 0h0m11-2h0m0-2h0m2 2h0m5 2h0m2-4h0m1 3h0m5-2h0m-141 4h0m4 3h0m6-1h0m15 4h0m2-5h0m3 4h0m6-5h0m2 6h0m6-3h0m3-2h0m3 0h0m2 4h0m3-3h0m4-1h0m8 1h0m7 1h0m1 1h0m17 2h0m5-1h0m1-2h0m25-3h0m6 4h0m2-1h0m0-1h0m1 0h0m1-2h0m1 1h0m3 0h0m0-1h0m-124 8h0m3 1h0m4 1h0m1 1h0m0-4h0m1 3h0m9-3h0m15 5h0m13-3h0m7-2h0m9 1h0m0 2h0m2-1h0m2 2h0m8 1h0m3 0h0m5-2h0m5-1h0m1-1h0m0 0h0m0 1h0m1 1h0m9 0h0m5-1h0m6-1h0m6 2h0m1 0h0m1-4h0m-113 7h0m11 4h0m0-3h0m7 1h0m1-3h0m1 5h0m0-4h0m3 4h0m3 0h0m3-3h0m1 0h0m2 3h0m0-1h0m4-3h0m3 3h0m3 2h0m7-5h0m1 4h0m1-3h0m2 4h0m2-4h0m2 4h0m1-4h0m10 2h0m2-4h0m4 2h0m14 0h0m2 3h0m0-4h0m2 0h0m3 2h0m1 1h0m3-2h0m2 1h0m1 0h0m1 2h0m1-2h0m4-3h0m1 2h0m-92 6h0m1 1h0m2 0h0m2-1h0m1-2h0m1 1h0m5 5h0m1-3h0m0-1h0m2-1h0m4 4h0m2-2h0m3-2h0m0 3h0m3-1h0m0-1h0m0 4h0m1-4h0m2 4h0m2-4h0m2 4h0m1-2h0m2-3h0m8 1h0m7 2h0m5-1h0m3 1h0m1 0h0m3 2h0m4-1h0m6 0h0m1-4h0m1 1h0m1 2h0m1-4h0m2 5h0m1-2h0m5 2h0m0 0h0m-77 3h0m4-2h0m6 1h0m3 3h0m6-1h0m4-2h0m6 2h0m6-2h0m0 0h0m6-1h0m1 2h0m21 3h0m3-1h0m1-2h0m-34 6h0m10 1h0" stroke="#fc8c6c" stroke-width="2.8"/><path d="M271 355h0m0 0h0m4-4h0m3 5h0m-10 2h0m13 1h0m-21 6h0m13 1h0m3 2h0m1-5h0m0 0h0m-32 10h0m0 1h0m0-3h0m8 4h0m4-4h0m3 3h0m2-2h0m3-2h0m7 1h0m0 0h0m2-2h0m2 6h0m1-4h0m2 1h0m-26 5h0m1 2h0m2-3h0m0 0h0m3 3h0m1 0h0m2 0h0m5-1h0m2 0h0m9-3h0m118 5h0m-155 3h0m4 2h0m0-1h0m5 1h0m1-3h0m14 4h0m-16 4h0m16-1h0m2-1h0m2 0h0m7 4h0m3 0h0m103-1h0m27 0h0m-149 6h0m3 1h0m18-1h0m9 1h0m2-3h0m0 1h0m1 3h0m98-2h0m4 1h0m5-3h0m-136 4h0m4 2h0m7 0h0m5 4h0m2-1h0m5-1h0m5 1h0m7-1h0m4 1h0m15 1h0m72-2h0m15-3h0m-140 9h0m11 0h0m7-3h0m0 0h0m4 1h0m0-2h0m8 6h0m1-3h0m3 2h0m7-3h0m3 4h0m0-1h0m1-3h0m9 2h0m6-2h0m3 3h0m46-5h0m3 2h0m5 3h0m1-2h0m0-1h0m3 1h0m14 3h0m7-2h0m1-3h0m-125 7h0m2 1h0m8-1h0m7-2h0m2 0h0m2 0h0m1 0h0m0 4h0m2-1h0m0 1h0m3 0h0m3-2h0m2 3h0m6-4h0m9 5h0m2-2h0m15 0h0m13-2h0m3-1h0m2 1h0m3 2h0m0 1h0m2-4h0m2 3h0m0 0h0m5 0h0m0 0h0m1 0h0m1-4h0m2 2h0m10 3h0m1-1h0m0 2h0m3-4h0m12-1h0m-127 6h0m22 5h0m3-1h0m1-3h0m7 2h0m11-2h0m1 0h0m5 0h0m5 4h0m1 0h0m4-5h0m1 1h0m3 1h0m8 2h0m0 0h0m1-2h0m17-1h0m1-1h0m1 1h0m5-1h0m3 3h0m6 1h0m6-2h0m0-2h0m1-1h0m8 0h0m-115 8h0m27 1h0m4 0h0m4-1h0m2 1h0m1 0h0m0 1h0m5-1h0m3-2h0m1 0h0m5 0h0m14 3h0m2-1h0m7 2h0m2-2h0m0 0h0m2 2h0m1-1h0m16-2h0m4 1h0m2-2h0m-68 10h0m25-4h0m8 5h0" stroke="#fb7555" stroke-width="2.8"/><path d="M376 373h0m-63 15h0m63 9h0m1 3h0m-63 15h0m61-4h0m-3 12h0" stroke="#f85d41" stroke-width="2.8"/><path d="M378 352h0m-68 23h0m77-3h0m-38 13h0m13 5h0m-1 14h0" stroke="#f14230" stroke-width="2.8"/><path d="M384 319h0m-70 26h0m22-1h0m29-2h0m31 3h0m-70 4h0m23 0h0m41-3h0m-60 8h0m19 2h0m16-1h0m26-3h0m-70 6h0m64 0h0m25 4h0m-43 7h0m12-6h0m34 2h0m-65 6h0m-44 8h0m30-3h0m25 4h0m-51 2h0" stroke="#e02c26" stroke-width="2.8"/><path d="M403 316h0m-77 10h0m2-1h0m18-4h0m25 4h0m33 2h0m-88 5h0m77-3h0m-74 6h0m87 1h0m-89 9h0m13-5h0m76 0h0m-90 9h0" stroke="#cb181d" stroke-width="2.8"/><path d="M337 320h0" stroke="#b51318" stroke-width="2.8"/><path d="M367 334h0" stroke="#d72422" stroke-width="2.8"/><path d="M350 323h0m3 4h0m0-1h0m1-2h0m2-3h0m6 6h0m1 0h0m-13 1h0m0 2h0m1 0h0m1 0h0m3 0h0m0 1h0m1-3h0m4-1h0m1 5h0m5-1h0m-4 2h0" stroke="#be151a" stroke-width="2.8"/><path d="M350 326h0m3-3h0m0 3h0m0-3h0m1 4h0m1-5h0m0 1h0m1-1h0m2 4h0m0 1h0m5-2h0m3 2h0m-21 0h0m7 1h0m2 3h0m1 1h0m2-5h0m0 0h0m0 1h0m1 0h0m0 0h0m1 2h0m0 0h0m1 1h0m0-3h0m1-1h0m0 1h0m1 0h0m2-1h0m-2 7h0" stroke="#a50f15" stroke-width="2.8"/><path d="M349 320h0m3-1h0m-2 5h0m4-2h0m1 1h0m0 3h0m1-1h0m1 2h0m-11 3h0m5-1h0m1 4h0m4-3h0m1-3h0m1 3h0m1-2h0m1 1h0m1-1h0m3 2h0m3 2h0m2 0h0m4-3h0" stroke="#7c0510" stroke-width="2.8"/><path d="M345 353h0" stroke="#f75a40" stroke-width="2.8"/><path d="M349 338h0m1 0h0m1 0h0m-8 17h0m1 1h0m3 0h0m-4 4h0" stroke="#ef3b2c" stroke-width="2.8"/><path d="M350 336h0m1 1h0m-7 8h0m1-2h0m1-1h0m2 2h0m1-1h0m1 0h0m4-1h0m0 0h0m-13 8h0m2-2h0m0 2h0m5 0h0m2-3h0m0 4h0m1-6h0m1 4h0m0-1h0m-12 5h0m2 0h0m2 3h0m0 0h0m1-3h0m-2 8h0" stroke="#d72422" stroke-width="2.8"/><path d="M354 339h0m-2 3h0m-8 4h0m6 1h0m-10 9h0m3-1h0m-1 6h0" stroke="#be151a" stroke-width="2.8"/><path d="M365 333h0m5 3h0m1 5h0" stroke="#d72422" stroke-width="2.8"/><path d="M366 333h0m-3 5h0m1-2h0m0-3h0m3 5h0m2-1h0m0 0h0m5-3h0m0 4h0m1-1h0m0-4h0m0 7h0m2-1h0" stroke="#be151a" stroke-width="2.8"/><path d="M367 338h0m1-1h0m1 0h0m0-1h0m1-1h0m2 0h0m-6 6h0" stroke="#a50f15" stroke-width="2.8"/><path d="M365 336h0m6 2h0" stroke="#7c0510" stroke-width="2.8"/><path d="M370 321h0" stroke="#ef3b2c" stroke-width="2.8"/><path d="M333 319h0m19 1h0m4-2h0m5-2h0m2 0h0m32 0h0m2 2h0m-85 5h0m1 2h0m0-1h0m1-1h0" stroke="#d72422" stroke-width="2.8"/><path d="M407 314h0m1 0h0m-92 6h0m19-2h0m0 1h0m9-2h0m1 0h0m7-1h0m2 1h0m2 0h0m4 1h0m2-3h0m14 3h0m3 0h0m1 0h0m6-2h0m0 2h0m6 2h0m7-2h0m0 3h0m8-4h0m1-1h0m-87 6h0m9-1h0m-29 9h0m5-2h0" stroke="#be151a" stroke-width="2.8"/><path d="M365 319h0m20 0h0m14-1h0m-86 6h0m26-2h0m-32 7h0m1-2h0" stroke="#a50f15" stroke-width="2.8"/><path d="M408 317h0m0 2h0m3-2h0m2 3h0m1 0h0m-6 4h0m5-2h0" stroke="#d72422" stroke-width="2.8"/><path d="M408 318h0m0 3h0m2-2h0m0 1h0m2 0h0m1-2h0m-5 5h0m4-1h0m0 0h0" stroke="#be151a" stroke-width="2.8"/><path d="M412 320h0m1-1h0m-4 5h0m4-1h0" stroke="#a50f15" stroke-width="2.8"/><path d="M413 332h0m0 11h0m0 11h0m2 10h0" stroke="#f75a40" stroke-width="2.8"/><path d="M412 335h0m-1 14h0m0 11h0m1 11h0" stroke="#ef3b2c" stroke-width="2.8"/><defs><linearGradient id="cbe" x1="0" y1="1" x2="0" y2="0"><stop offset="0.0" stop-color="#fff5f0"/><stop offset="0.1" stop-color="#fee4d8"/><stop offset="0.2" stop-color="#fdcab5"/><stop offset="0.3" stop-color="#fcab8e"/><stop offset="0.4" stop-color="#fc8a6a"/><stop offset="0.5" stop-color="#fb6a4a"/><stop offset="0.6" stop-color="#f14432"/><stop offset="0.7" stop-color="#d92623"/><stop offset="0.8" stop-color="#bc141a"/><stop offset="0.9" stop-color="#990c13"/><stop offset="1.0" stop-color="#67000d"/></linearGradient></defs><rect x="434.4" y="331.3" width="5.8" height="119" fill="url(#cbe)" stroke="#777" stroke-width="0.5"/><path d="M440.2 450.3H442" stroke="#444" stroke-width="0.7" stroke-linecap="butt"/><text x="444" y="453.4" font-size="9">0</text><path d="M440.2 430.9H442" stroke="#444" stroke-width="0.7" stroke-linecap="butt"/><text x="444" y="434" font-size="9">0.4</text><path d="M440.2 411.5H442" stroke="#444" stroke-width="0.7" stroke-linecap="butt"/><text x="444" y="414.6" font-size="9">0.8</text><path d="M440.2 392.1H442" stroke="#444" stroke-width="0.7" stroke-linecap="butt"/><text x="444" y="395.2" font-size="9">1.2</text><path d="M440.2 372.7H442" stroke="#444" stroke-width="0.7" stroke-linecap="butt"/><text x="444" y="375.8" font-size="9">1.6</text><path d="M440.2 353.3H442" stroke="#444" stroke-width="0.7" stroke-linecap="butt"/><text x="444" y="356.4" font-size="9">2.0</text><path d="M440.2 333.9H442" stroke="#444" stroke-width="0.7" stroke-linecap="butt"/><text x="444" y="337" font-size="9">2.4</text><text x="440.5" y="318.2" font-size="9.6" text-anchor="end">DAPI</text><text x="440.5" y="327.8" font-size="9.6" text-anchor="end">1e6</text><text x="562.3" y="308.9" font-size="9.6" text-anchor="middle">day 14</text><circle cx="480.2" cy="313" r="3.6" fill="#d3d3d3"/><text x="486" y="315.7" font-size="9.6">untreated</text><path d="M571 320h0m0 0h0m2-1h0m2 0h0m1 2h0m0-1h0m2-1h0m0 2h0m1-2h0m0-1h0m0 2h0m2 1h0m0-2h0m0-1h0m0 1h0m1 1h0m2-2h0m1 0h0m1 1h0m1-1h0m1 0h0m2 3h0m1-1h0m1 0h0m1 0h0m0 0h0m1 0h0m1 1h0m0 0h0m0-3h0m0 2h0m1-1h0m0 2h0m0-2h0m1 0h0m1 1h0m1 1h0m2-1h0m0-1h0m3 2h0m1 0h0m0-1h0m0 0h0m0-1h0m1 2h0m1-1h0m1 0h0m2 0h0m-61 7h0m3-1h0m4-2h0m2 0h0m1 1h0m1 2h0m1-4h0m1 1h0m0-1h0m0-1h0m1 3h0m1-2h0m0 0h0m1 1h0m0-3h0m0 6h0m0-5h0m1-1h0m1 1h0m0 0h0m0 1h0m1 0h0m0 4h0m1-1h0m0-2h0m0-2h0m2 4h0m0-5h0m0 1h0m0 5h0m1-2h0m0 1h0m0 0h0m1-1h0m1 1h0m0-4h0m1 4h0m0-1h0m0 1h0m1-5h0m0 4h0m1-2h0m1 3h0m0-1h0m0-2h0m0 1h0m1-2h0m0 3h0m0-3h0m1 3h0m0 1h0m1-3h0m0-2h0m0 1h0m0 0h0m0-1h0m0 6h0m1-3h0m1-2h0m0 3h0m1-3h0m0 3h0m0-2h0m2 0h0m0 4h0m1-6h0m1 5h0m0 0h0m0 1h0m0-5h0m0 2h0m0 0h0m1 2h0m0-3h0m1 3h0m0 0h0m1 1h0m0-3h0m1 1h0m0 0h0m1-2h0m0 1h0m1-1h0m0 1h0m0 0h0m0 0h0m1 2h0m0-2h0m2-3h0m0 1h0m1 4h0m0-1h0m0-1h0m0 0h0m0 2h0m0-2h0m0-1h0m1 3h0m0-4h0m0 4h0m0-1h0m0 2h0m1-1h0m0-3h0m0 0h0m0 1h0m0-1h0m1 3h0m1-5h0m0 4h0m1 1h0m0-3h0m0 1h0m1-3h0m0 3h0m0-3h0m1 2h0m0-1h0m1 1h0m0 3h0m0-2h0m1-1h0m1 2h0m1 0h0m1 1h0m2-3h0m0 1h0m0 2h0m1-3h0m0 0h0m0-1h0m0 4h0m1-4h0m0 2h0m2 2h0m1-3h0m1 2h0m0 0h0m2 0h0m0 0h0m0 1h0m1 0h0m3 0h0m-94 6h0m1 0h0m1 0h0m0 0h0m0 1h0m2-1h0m1-1h0m0 2h0m1-2h0m4 1h0m0 1h0m1-2h0m0 0h0m1-1h0m0 3h0m0-1h0m0 0h0m0 1h0m1-1h0m0-1h0m2 1h0m0-4h0m1 2h0m1 0h0m0 2h0m1-3h0m0 4h0m0-5h0m1 2h0m0 0h0m1-2h0m1 0h0m0 1h0m0 1h0m1-1h0m1 2h0m0 1h0m1 0h0m0-5h0m0 6h0m1-1h0m0-2h0m1-3h0m2 3h0m0 0h0m1 1h0m1-1h0m1-2h0m0 2h0m1 3h0m0 0h0m0-4h0m0 4h0m1-4h0m1 0h0m1-1h0m0 0h0m0 1h0m0 0h0m0-1h0m1 3h0m0-1h0m0 0h0m1-1h0m1-1h0m1 3h0m0-3h0m0 1h0m1 0h0m2-1h0m1-1h0m1 4h0m0 1h0m2 0h0m3 0h0m0-3h0m1-1h0m1 2h0m0-1h0m1 0h0m1 2h0m1-3h0m1 3h0m0-2h0m2 0h0m1-1h0m1 0h0m4 1h0m0 2h0m2 0h0m1-3h0m4 2h0m0 2h0m0-2h0m1 1h0m0-3h0m2-1h0m1 2h0m0 3h0m1-3h0m0-1h0m1 1h0m0-1h0m0 1h0m1 0h0m1-1h0m0-1h0m1 3h0m1-1h0m0-1h0m1 1h0m0-1h0m1 2h0m0-2h0m1 1h0m0 0h0m0 1h0m1 0h0m0 2h0m0-4h0m0 0h0m1 3h0m0 1h0m0-1h0m1 1h0m0 0h0m1-3h0m0 3h0m1-4h0m0 0h0m0 5h0m0-5h0m1 3h0m0-3h0m0 0h0m0 2h0m0-2h0m1 3h0m0-1h0m0 1h0m1 2h0m0-5h0m0 3h0m0 1h0m1-2h0m0-1h0m1 3h0m0-1h0m0 0h0m0 2h0m1 0h0m0-3h0m1-3h0m0 1h0m0 3h0m2 1h0m1-2h0m0 0h0m0 2h0m1 0h0m0-2h0m1 2h0m0-1h0m2 1h0m-126 6h0m4 1h0m2 0h0m0-1h0m2 1h0m0-2h0m0 0h0m0-1h0m1 2h0m0-1h0m0-1h0m2 0h0m1 3h0m0-3h0m0-1h0m0 4h0m2-3h0m0 2h0m2-3h0m0 0h0m0 0h0m1-1h0m0 2h0m1-1h0m0 3h0m1 0h0m0 1h0m0-3h0m1 1h0m0 0h0m0 2h0m1-4h0m0 0h0m0-1h0m1 4h0m1 1h0m0-1h0m1 0h0m1-4h0m1 1h0m0 3h0m0-1h0m0-1h0m1 2h0m1-2h0m0 0h0m0 0h0m1 2h0m0-4h0m1 4h0m0 0h0m0-3h0m1 2h0m0-4h0m0 4h0m1-4h0m0 5h0m0 0h0m0-2h0m1 2h0m0 0h0m2 0h0m0-4h0m0 2h0m1 1h0m0-1h0m1-1h0m0 1h0m1 3h0m0-4h0m0 2h0m1-3h0m1 2h0m2 2h0m0-1h0m0-3h0m0 1h0m1 1h0m0-2h0m1 3h0m1-4h0m0 2h0m1 1h0m0 1h0m0-2h0m1 3h0m0-2h0m0-1h0m1 2h0m0-2h0m1 2h0m0 1h0m1-4h0m0 5h0m0-2h0m3 0h0m1-3h0m0-1h0m3 1h0m2-1h0m1 3h0m1-3h0m0 3h0m1 3h0m0-4h0m1-1h0m0 4h0m2-3h0m0 0h0m1 0h0m1 3h0m1-5h0m1 2h0m0 2h0m0 2h0m1-3h0m0 0h0m1 2h0m1-3h0m0 1h0m2-2h0m2 1h0m1 0h0m2 4h0m3-3h0m1 2h0m2-1h0m0-3h0m0 4h0m1-5h0m1 4h0m1-3h0m1 1h0m4 3h0m1 0h0m2 0h0m1-2h0m2-1h0m2 1h0m1 2h0m0-2h0m1-2h0m1 5h0m1-6h0m1 6h0m1-1h0m2-5h0m1 3h0m0-3h0m0 1h0m1 1h0m2 1h0m1 1h0m0 2h0m0-3h0m1-1h0m0-1h0m0 3h0m1-1h0m1-1h0m2-1h0m0 1h0m0 2h0m0 1h0m0-1h0m1-2h0m0 3h0m1-4h0m0 0h0m0 2h0m1-2h0m0 4h0m1-1h0m0-1h0m0 1h0m1-2h0m0 3h0m0 1h0m0 0h0m0 0h0m2-1h0m0-1h0m0 0h0m0-3h0m0 0h0m1 3h0m1-2h0m1 4h0m0-2h0m0 0h0m0 0h0m2 0h0m0 0h0m0 0h0m-154 7h0m2 0h0m1 1h0m1-1h0m0 1h0m1-1h0m1 0h0m1-2h0m0 2h0m0 1h0m0 0h0m0-3h0m0 3h0m0-1h0m1-1h0m1 0h0m0 0h0m0 1h0m0-1h0m0-1h0m2 1h0m0-1h0m1 0h0m0-1h0m0 0h0m1 3h0m1 0h0m0-3h0m0 3h0m1 1h0m1-1h0m1-4h0m0 4h0m0 0h0m1-1h0m1 1h0m0 0h0m0 1h0m0-3h0m0 2h0m0-1h0m1-1h0m1 2h0m0-5h0m0 1h0m0 1h0m0-1h0m0 3h0m0 1h0m1-2h0m0-1h0m1 3h0m0-3h0m1 2h0m0-1h0m1-3h0m0 0h0m0 1h0m0-1h0m0 2h0m0 0h0m1 2h0m0-4h0m0 2h0m1 3h0m0-5h0m0 6h0m1-6h0m0 3h0m0-1h0m0 2h0m0 1h0m1-2h0m0 0h0m0 1h0m1 0h0m0-2h0m0-1h0m0 1h0m1 3h0m1-2h0m0 1h0m1 1h0m0-3h0m0 2h0m1 0h0m0 2h0m2-4h0m1-1h0m1 1h0m1 3h0m0-4h0m0 0h0m0 0h0m2 1h0m0-1h0m1 2h0m1 0h0m0 0h0m0 1h0m1-1h0m0-2h0m0 2h0m1 0h0m0-1h0m1-2h0m0 6h0m1-4h0m1 3h0m0-3h0m0-1h0m0 0h0m1 2h0m0-1h0m2 0h0m0 0h0m1-1h0m0 1h0m0-1h0m1 0h0m1 1h0m1 1h0m1-3h0m0 6h0m1-1h0m0-5h0m2 6h0m0-4h0m1 2h0m1-1h0m5-2h0m0 3h0m0-2h0m1 0h0m0 4h0m1-1h0m2-2h0m3-1h0m1 0h0m2-1h0m1 3h0m1 0h0m0-3h0m0 5h0m2-3h0m1 2h0m1-1h0m2 1h0m0-2h0m1 0h0m2 2h0m0-2h0m1 2h0m0-3h0m3-2h0m1 0h0m0 2h0m1 2h0m1-2h0m0-1h0m2 2h0m0-1h0m3 1h0m1 1h0m1-4h0m4 3h0m0-2h0m3 1h0m1 1h0m1-1h0m1-2h0m5 5h0m0-2h0m0 1h0m1-3h0m0 5h0m1 0h0m0-1h0m2-2h0m1 0h0m0 2h0m2-3h0m4 0h0m1 1h0m0 3h0m1-2h0m0-2h0m0 1h0m1 3h0m3-3h0m3 1h0m1-2h0m1 3h0m0-1h0m0 0h0m1-2h0m5-1h0m0 3h0m1 1h0m0-4h0m1-1h0m1 2h0m0-1h0m0 2h0m0-2h0m1 4h0m0-1h0m1-2h0m1 2h0m0 0h0m0-3h0m1-1h0m0 5h0m0-2h0m1 1h0m0-3h0m0-1h0m1 4h0m0-2h0m0-1h0m1-1h0m1 3h0m1 3h0m0-5h0m1 3h0m0 1h0m0-2h0m1 2h0m0-1h0m-167 7h0m2-2h0m0 2h0m1-2h0m1 1h0m1 1h0m0-2h0m0 3h0m0-3h0m2 2h0m0-4h0m1 5h0m0-2h0m0-2h0m0 3h0m0-5h0m1 3h0m0-3h0m0 4h0m1-2h0m0-1h0m0 2h0m0 2h0m1 0h0m1 0h0m0-2h0m0-1h0m0-1h0m1-1h0m0 5h0m0-4h0m1-1h0m1 5h0m0 0h0m1-4h0m0 1h0m0 3h0m1-4h0m0 2h0m0 2h0m1-2h0m1 0h0m1 0h0m0 2h0m2-4h0m1 3h0m0-2h0m1 0h0m0 4h0m1-2h0m0-1h0m1-2h0m1 3h0m1-1h0m0-2h0m0-1h0m0 2h0m0 0h0m1 0h0m1 1h0m0 0h0m0-2h0m1 2h0m0 3h0m3-6h0m1 4h0m0-2h0m0-2h0m1 5h0m0-1h0m1-4h0m0 0h0m0 1h0m0 0h0m0-1h0m1 6h0m1-1h0m2 0h0m1-2h0m1 0h0m1 0h0m2-3h0m2 0h0m0 3h0m0 1h0m1-2h0m1 0h0m1 2h0m2 2h0m0-4h0m1 3h0m2-3h0m1-1h0m3 2h0m2 0h0m0-1h0m2 0h0m0-1h0m1 2h0m2-2h0m1 4h0m1-5h0m2 1h0m0 2h0m1 2h0m0 0h0m1-1h0m0 1h0m1-1h0m0 0h0m1 0h0m0-3h0m4 5h0m0 0h0m0-4h0m2 0h0m0 0h0m0 3h0m2-3h0m0-2h0m0 0h0m3 4h0m1-4h0m1 3h0m1 0h0m1 1h0m2-2h0m0 1h0m1-1h0m0-2h0m2 0h0m0 5h0m0-3h0m0 3h0m0 1h0m0-2h0m3 0h0m0 0h0m1-4h0m0 5h0m1 0h0m2 0h0m1 0h0m1-3h0m1 0h0m1 0h0m0 2h0m1-3h0m1-1h0m0 2h0m1-1h0m2 3h0m0-1h0m2-3h0m0 1h0m2 2h0m3 3h0m1-2h0m1-3h0m1 5h0m1-3h0m1 3h0m2-5h0m0 0h0m1 2h0m1-3h0m2 2h0m1 2h0m1 1h0m1 0h0m0 1h0m1-2h0m0-4h0m2 2h0m0 1h0m0 2h0m0-2h0m1 3h0m0-2h0m2 0h0m1 1h0m1-4h0m0 5h0m3-4h0m0 1h0m0 2h0m1-2h0m1 0h0m0 0h0m1-3h0m0 4h0m1-2h0m0 4h0m1-3h0m0 2h0m2-1h0m0-3h0m0 0h0m1 3h0m0-2h0m0 1h0m0 2h0m1-3h0m3 0h0m2 0h0m0 2h0m0 0h0m0 1h0m1 1h0m0 0h0m0-5h0m0 3h0m1-3h0m0 0h0m1 4h0m1-5h0m0 2h0m1 0h0m1 2h0m0-4h0m1 2h0m0 1h0m2 2h0m0-2h0m0-2h0m2-1h0m-170 11h0m0 0h0m0 0h0m2-4h0m0 0h0m0 0h0m2 4h0m0-1h0m0 2h0m1-6h0m0 3h0m0-1h0m1 2h0m0-1h0m1-1h0m0 0h0m0-2h0m0 5h0m0-4h0m0 0h0m0 4h0m1-5h0m0 1h0m1 1h0m2-2h0m0 2h0m0-1h0m0-1h0m0 1h0m0 3h0m1-2h0m0 1h0m0-1h0m0 1h0m0-2h0m1 3h0m0 0h0m1-3h0m0-1h0m1 4h0m0-2h0m1-2h0m1 1h0m0-1h0m0 4h0m1 1h0m0-4h0m3 4h0m0-4h0m0-1h0m1 1h0m0 0h0m2 3h0m1-2h0m0 1h0m1-1h0m1 4h0m1-4h0m1-1h0m3-1h0m0 4h0m0-2h0m2 3h0m5-5h0m0 1h0m1 0h0m0 0h0m2 2h0m2 2h0m1 0h0m0-3h0m2 2h0m0-1h0m4 1h0m0-1h0m2 1h0m2 1h0m1 1h0m3-1h0m0-2h0m1 0h0m0-3h0m1 5h0m0-5h0m2 1h0m1 2h0m1-2h0m0 4h0m3 0h0m1-3h0m1 3h0m1-5h0m1 0h0m1 1h0m1 5h0m0-6h0m1 2h0m0 0h0m1 1h0m0 0h0m5-2h0m1 2h0m0-1h0m0 2h0m1-3h0m0 3h0m1 1h0m0-1h0m1-4h0m0 3h0m0-1h0m2-2h0m2 1h0m0 3h0m0-2h0m0 0h0m3 3h0m0-4h0m1 5h0m4-3h0m1 0h0m2 1h0m0-2h0m0-2h0m2 2h0m1-2h0m0 4h0m1 0h0m1 0h0m1 1h0m1 0h0m0 0h0m0 0h0m1-1h0m2-2h0m1 3h0m1-1h0m0 0h0m0 0h0m1 0h0m2-4h0m0 3h0m3 2h0m1 0h0m0-3h0m3 0h0m2 2h0m1 1h0m3-1h0m1-1h0m0 1h0m0 0h0m1-1h0m1 0h0m1-1h0m1 1h0m0-3h0m1 1h0m0 4h0m1 1h0m0 0h0m0-3h0m1 0h0m2 1h0m2 1h0m2-4h0m0 4h0m1 0h0m2-3h0m1-2h0m1 4h0m1 1h0m0-4h0m0 1h0m0-1h0m2 4h0m2-4h0m3 2h0m2 0h0m1-1h0m0 3h0m1 0h0m1-2h0m0-2h0m0 4h0m0-4h0m1 2h0m0-3h0m1 3h0m1-2h0m0 1h0m0 4h0m0-2h0m0-3h0m1 1h0m0 4h0m0-2h0m1-4h0m0 6h0m0-2h0m0 1h0m1-3h0m0 3h0m1-1h0m0-2h0m0 2h0m1-1h0m0 1h0m0 0h0m0 0h0m0 2h0m1-1h0m-171 7h0m0-3h0m1 0h0m0 1h0m1-3h0m0 2h0m1 1h0m1-2h0m0 2h0m1 0h0m0-3h0m2 2h0m0-3h0m0 5h0m0-4h0m1 2h0m0-1h0m0 3h0m1-4h0m1 1h0m0 0h0m2-2h0m1 1h0m1 4h0m0-4h0m2-1h0m1 4h0m2-1h0m0-2h0m4 3h0m0 2h0m0-3h0m0 1h0m7 1h0m0-3h0m0 3h0m0-4h0m3 1h0m1 0h0m1 2h0m1 2h0m1-3h0m0 0h0m2-1h0m1 2h0m1-2h0m0 0h0m0-2h0m1 2h0m0-1h0m1 1h0m0 2h0m1 1h0m0-2h0m3 2h0m3-1h0m1-3h0m0 4h0m0-2h0m1-1h0m0-1h0m0 1h0m1 2h0m3-3h0m1-1h0m1 3h0m1 3h0m2-3h0m1 0h0m1 0h0m1 3h0m1-1h0m1 0h0m0-4h0m1 4h0m1-5h0m0 5h0m1-5h0m3 4h0m2 1h0m0 0h0m0 0h0m1-4h0m2 5h0m0-5h0m0 1h0m2-1h0m0 4h0m1 0h0m1-4h0m1 1h0m1 4h0m2-5h0m1 2h0m2 0h0m1 1h0m2-3h0m0 0h0m0 3h0m1-1h0m0-2h0m0 0h0m1 1h0m1 3h0m1 0h0m0-1h0m1-3h0m0 1h0m1 0h0m1 2h0m0-1h0m1 0h0m1-1h0m1 4h0m4-3h0m0 3h0m3-3h0m1-2h0m0 4h0m0-2h0m1-1h0m0 3h0m2-3h0m1-1h0m2 0h0m2 2h0m1 2h0m0-1h0m1-4h0m2 6h0m2-2h0m0-1h0m0-3h0m1 4h0m1-1h0m1 1h0m1-2h0m1 4h0m0-5h0m3 0h0m4 3h0m1 1h0m0-2h0m0 3h0m1-4h0m0 1h0m1 2h0m1-4h0m1 4h0m1-2h0m2 1h0m0-4h0m1 6h0m0-1h0m0-3h0m1-2h0m0 0h0m1 5h0m2 1h0m0-4h0m0-1h0m1 3h0m3-3h0m1 2h0m2 3h0m1-4h0m0 3h0m0 1h0m0-6h0m0 5h0m0-2h0m1 0h0m1 0h0m0 2h0m1-4h0m0 1h0m3-1h0m0 4h0m0 0h0m0-2h0m1 0h0m0-1h0m0-2h0m0 5h0m0-1h0m1-4h0m0 5h0m0-2h0m1-2h0m0 1h0m0 4h0m1-2h0m0 0h0m1-2h0m1 0h0m0 3h0m0-1h0m0-1h0m2-1h0m0 0h0m1-1h0m-173 10h0m1-4h0m0 0h0m0 4h0m1-2h0m1 0h0m0-2h0m0 1h0m0-1h0m1 3h0m0-1h0m0-3h0m0 1h0m1 4h0m0-5h0m1 6h0m1-4h0m1 1h0m0-1h0m1 3h0m1-3h0m0-2h0m3 1h0m1 1h0m1 3h0m1 0h0m2 0h0m0-3h0m1 0h0m0 2h0m1 0h0m1-3h0m0 2h0m5-1h0m0 0h0m4 4h0m0-4h0m1 3h0m1-5h0m2 3h0m2 3h0m0-2h0m1-2h0m1 2h0m0-1h0m0 0h0m6 3h0m0-4h0m0 2h0m1 2h0m0-1h0m0-5h0m2 1h0m0 1h0m0 3h0m1-4h0m1-1h0m0 3h0m1 0h0m1 1h0m2 0h0m4 0h0m1 0h0m1 0h0m0 0h0m0-1h0m2-2h0m0 4h0m2 0h0m4-3h0m0-1h0m2 0h0m0 4h0m3-1h0m1-4h0m0 6h0m0-3h0m1 1h0m1 1h0m0-2h0m1-1h0m0-1h0m2 4h0m0-2h0m0-2h0m2 0h0m1 3h0m0 2h0m1-4h0m0 2h0m1-2h0m2-1h0m0 4h0m0-4h0m3 4h0m3 0h0m4-2h0m0 2h0m0-1h0m1 2h0m1 0h0m2-4h0m0-1h0m1 4h0m0-1h0m1 0h0m0-2h0m1-2h0m2 1h0m0 3h0m3 0h0m0 1h0m2 1h0m2-4h0m1-1h0m1 0h0m2 1h0m0 2h0m1-1h0m0 1h0m2-3h0m1 4h0m1-2h0m1 0h0m1 2h0m0-2h0m0 0h0m1-2h0m0 5h0m0-4h0m0 2h0m3 0h0m0 0h0m0 1h0m2 1h0m0-4h0m1 1h0m1-3h0m1 4h0m0 1h0m0-5h0m1 3h0m1-2h0m3 2h0m2 0h0m1 2h0m2-3h0m1 1h0m0-2h0m1-1h0m1 0h0m3 5h0m0-1h0m2-1h0m1-3h0m1 2h0m1 4h0m0-5h0m1 2h0m0-1h0m1 2h0m0-3h0m1 4h0m0 0h0m1-1h0m3 2h0m0-5h0m2-1h0m0 2h0m0-2h0m1 5h0m0-1h0m0-1h0m0-1h0m1 3h0m0-1h0m0-4h0m1 6h0m1 0h0m0-5h0m0 5h0m1-1h0m1-4h0m0 3h0m0-2h0m0 2h0m0-2h0m0 1h0m1-2h0m0 3h0m1 1h0m1-3h0m1 2h0m-171 5h0m0 1h0m0 1h0m1-4h0m0 2h0m0-2h0m0 1h0m0-1h0m1 0h0m0 4h0m0-4h0m0 1h0m0 0h0m1 1h0m0 1h0m0 1h0m1-1h0m0-4h0m1 0h0m1 4h0m1-3h0m0 0h0m0 2h0m0-2h0m1 1h0m1 3h0m0 0h0m0-2h0m0-1h0m0 0h0m1 3h0m0-5h0m1 6h0m0 0h0m2-2h0m0-2h0m2 3h0m0 0h0m1-2h0m0-2h0m1-1h0m0 4h0m1-4h0m2 2h0m1 3h0m1-2h0m0 2h0m1-3h0m1 3h0m0-3h0m1 0h0m0 2h0m2-4h0m0 1h0m0 3h0m0-2h0m1 3h0m1 0h0m0-3h0m1 3h0m2-3h0m1-2h0m1 0h0m2 1h0m0 4h0m1-3h0m0 2h0m0 2h0m3-5h0m0 5h0m2-5h0m0 2h0m3 0h0m1-1h0m1 3h0m5-5h0m0 6h0m1-5h0m1 1h0m2 2h0m1-3h0m2-1h0m0 0h0m1 3h0m1 0h0m0 2h0m2-1h0m0 1h0m3-4h0m1 4h0m1-3h0m1 1h0m0-3h0m4 4h0m0-1h0m0 3h0m0-1h0m5-4h0m0 2h0m0-1h0m3-2h0m3 2h0m1 3h0m2 0h0m0 0h0m2-5h0m2 5h0m2-3h0m0 1h0m1 2h0m1 1h0m1-3h0m1-1h0m3 4h0m0-2h0m1 0h0m1 1h0m2 0h0m4-2h0m3 1h0m1-4h0m1 2h0m0 4h0m1-4h0m1-2h0m1 6h0m1-1h0m0 0h0m3 1h0m1-6h0m1 4h0m0 1h0m2-3h0m0 2h0m0 0h0m3-1h0m0-2h0m0 2h0m4 0h0m1-3h0m2 2h0m0 0h0m2 0h0m0 3h0m3-2h0m0 1h0m1-4h0m2 1h0m0 4h0m1 0h0m0 0h0m3-4h0m0-1h0m0 4h0m1-2h0m2 3h0m0-2h0m0 2h0m1 0h0m0-1h0m2 0h0m0 0h0m1 0h0m2-3h0m2 4h0m1 0h0m0-3h0m1 1h0m0 1h0m0 1h0m1 1h0m1-4h0m0 0h0m0-1h0m1 3h0m0-1h0m0 2h0m1-2h0m0-2h0m1 1h0m0 1h0m0-1h0m1 3h0m0 0h0m0-3h0m1 3h0m0-4h0m0 1h0m1-1h0m1 3h0m0 1h0m0-3h0m1-1h0m0 0h0m1 3h0m0-2h0m-168 5h0m0 0h0m1 2h0m0 0h0m1 2h0m1-2h0m0-1h0m2 0h0m0 2h0m0-1h0m0 2h0m0-5h0m0 0h0m1 1h0m0 2h0m1-1h0m0-2h0m0 2h0m0 2h0m1-2h0m0 0h0m0 1h0m0 0h0m1 2h0m0 0h0m0-1h0m0 1h0m1-2h0m0 1h0m0 1h0m0-3h0m1 1h0m0 2h0m4-5h0m1 5h0m1 1h0m1-6h0m1 6h0m1-1h0m1-2h0m2 1h0m0-2h0m0-1h0m2 1h0m0 1h0m0-1h0m1 1h0m1 0h0m3-1h0m1 0h0m1-1h0m0 2h0m0 0h0m1 1h0m0-3h0m2 3h0m1 0h0m0 1h0m0-1h0m1-1h0m2 1h0m1 1h0m2-3h0m0-1h0m0 0h0m3 1h0m0 4h0m3-1h0m1-2h0m1-1h0m0 2h0m2-3h0m1 2h0m0-3h0m0 5h0m4-4h0m1 1h0m0 2h0m2 1h0m1 0h0m1-4h0m1 2h0m0-1h0m1 0h0m1 1h0m0 1h0m0-4h0m1 5h0m1-3h0m1 0h0m0 3h0m2-4h0m1 1h0m3 1h0m2-1h0m0 1h0m2-2h0m1-1h0m0 1h0m1 2h0m2 0h0m0 1h0m0 0h0m3-1h0m0 2h0m0-2h0m1-2h0m0 1h0m1 1h0m0 2h0m1 1h0m1-5h0m0 4h0m0-4h0m4 2h0m1 0h0m0 3h0m1-2h0m2-3h0m1 4h0m0-5h0m1 5h0m2-4h0m0 3h0m4 1h0m3-4h0m0 0h0m1 3h0m0-1h0m3-1h0m1-1h0m1 1h0m0 2h0m0-3h0m0-1h0m0 1h0m2 1h0m2-1h0m3 0h0m1 3h0m1 1h0m0-2h0m4-2h0m1 4h0m0-4h0m6 0h0m0 0h0m5 0h0m2 0h0m0 3h0m1-3h0m1 0h0m0 1h0m1-2h0m2 6h0m1-3h0m0 3h0m1-1h0m1-2h0m2 1h0m1 1h0m0-1h0m1 1h0m0-4h0m1 2h0m1 0h0m1 3h0m0-2h0m1-2h0m0 0h0m0 1h0m0 2h0m0 1h0m0-4h0m1 2h0m0 0h0m0-3h0m1 0h0m0 3h0m0 0h0m0 2h0m0-1h0m1-2h0m0 2h0m0-1h0m1 2h0m0-3h0m1-1h0m0-1h0m1 1h0m0 0h0m0-1h0m1 3h0m1-3h0m1 4h0m0-1h0m0-2h0m1 1h0m-164 7h0m0-1h0m0 0h0m1 1h0m0-1h0m1-3h0m1 4h0m0 1h0m0-2h0m1-3h0m1 1h0m0-1h0m0 1h0m0-1h0m0 6h0m1-2h0m0 1h0m0-3h0m1 4h0m0-4h0m0 1h0m0 3h0m1-4h0m0 0h0m0 0h0m0 3h0m0-2h0m0 2h0m1-4h0m2 5h0m0-2h0m0 1h0m1-5h0m0 2h0m0 2h0m1 1h0m0-1h0m2-3h0m2 2h0m0-3h0m0 2h0m1 2h0m0-1h0m1-3h0m1 6h0m0-1h0m0-1h0m1 0h0m0 1h0m2-2h0m2-1h0m0 0h0m3-1h0m1-1h0m0 1h0m0 2h0m1 1h0m0 0h0m1 0h0m1 1h0m0-4h0m0 5h0m1-5h0m1 3h0m4-3h0m0 3h0m0-3h0m5 3h0m1 1h0m0-3h0m0 0h0m2 0h0m1 0h0m0 0h0m1-1h0m1 1h0m1 0h0m1 3h0m0 0h0m0 1h0m1-3h0m1-2h0m1 0h0m0 0h0m1-1h0m1 4h0m1 2h0m0-4h0m1 1h0m2-3h0m0 2h0m0-1h0m1 3h0m2-2h0m0 0h0m2-1h0m1 3h0m1 2h0m0-2h0m1-4h0m1 1h0m0 1h0m5 0h0m2 1h0m2 3h0m1-1h0m1-2h0m3 0h0m1 1h0m5 0h0m0-2h0m1 1h0m0 2h0m0 1h0m0-1h0m1-3h0m0 0h0m0-1h0m1 1h0m1 2h0m0-3h0m3-1h0m3 2h0m3 2h0m2-3h0m3 2h0m1 0h0m0 0h0m1 0h0m0 2h0m1-4h0m3 1h0m1 2h0m0 1h0m0 0h0m1-4h0m1 2h0m0-1h0m2 0h0m1 0h0m0 2h0m2 2h0m0-6h0m1 6h0m0 0h0m1-6h0m1 0h0m3 1h0m1 4h0m2-1h0m0 2h0m1 0h0m2-4h0m2 3h0m4-5h0m0 5h0m0-2h0m2-2h0m1 0h0m2 2h0m1 2h0m1 1h0m0 0h0m2-3h0m1-1h0m1 4h0m0-6h0m1 0h0m1 2h0m1 0h0m1 2h0m1-3h0m0 2h0m1 3h0m0-3h0m0-2h0m1 4h0m1-1h0m0 1h0m0-4h0m1 2h0m0-1h0m1 3h0m1 1h0m0-5h0m1 1h0m1-2h0m0 2h0m0 0h0m1-1h0m-161 7h0m2 0h0m0 0h0m0 0h0m0 1h0m0 1h0m1-1h0m0 1h0m0-3h0m0 4h0m1-2h0m1-3h0m0 1h0m1 4h0m1 0h0m0-4h0m0 0h0m0 1h0m1 3h0m0-5h0m0 4h0m1 0h0m0 1h0m0-1h0m1-2h0m0 4h0m0-1h0m0-5h0m1 2h0m2 3h0m0 0h0m2 1h0m1-3h0m1 3h0m0-4h0m0 1h0m1-3h0m0 4h0m1-4h0m0 6h0m1-2h0m0 0h0m2-2h0m1-2h0m0 5h0m2 0h0m1 0h0m1 0h0m1-1h0m5-2h0m2 4h0m1-4h0m1 3h0m0-2h0m7 3h0m1-1h0m0-2h0m0 2h0m2 0h0m1-1h0m1-4h0m1 4h0m1-2h0m0 1h0m1-1h0m1-2h0m2 1h0m1 4h0m2-5h0m0 3h0m1 3h0m2-4h0m1 2h0m0 1h0m5-1h0m3-1h0m0 0h0m2 2h0m1-3h0m0 4h0m1-4h0m1 1h0m1 0h0m0-3h0m1 1h0m2 2h0m0 0h0m1-2h0m2 2h0m2-3h0m0 3h0m1 0h0m0 1h0m2-2h0m1-2h0m1 0h0m0 2h0m1 2h0m0-2h0m0 2h0m3-2h0m2 4h0m0-4h0m2 1h0m3-2h0m4 4h0m1-3h0m1 1h0m1 3h0m1-4h0m0 1h0m1 1h0m2 1h0m2-2h0m1-2h0m0 4h0m2-5h0m4 5h0m3-3h0m1 2h0m1 0h0m0 1h0m0-2h0m1-3h0m0 6h0m2-2h0m2-2h0m0-2h0m1 3h0m5-3h0m0 1h0m0 3h0m1-2h0m0 2h0m1-2h0m1 0h0m1-2h0m0 1h0m0 5h0m2 0h0m0-3h0m1 2h0m1-3h0m0 4h0m0-4h0m0-1h0m1 5h0m2-5h0m1 4h0m0-5h0m1 5h0m2-2h0m0 2h0m0-2h0m1-3h0m2 6h0m1-6h0m0 2h0m0 0h0m0-1h0m1 4h0m1-1h0m0 1h0m0 0h0m1 1h0m0 0h0m1-3h0m0 0h0m0-2h0m1-1h0m-155 6h0m1 1h0m0 1h0m1 1h0m0-1h0m1 1h0m0 1h0m0-2h0m0 4h0m0-4h0m1 2h0m0-2h0m1 4h0m0 0h0m0 0h0m1-4h0m0-1h0m0 2h0m1 3h0m0-1h0m1-3h0m0 3h0m1-3h0m0 3h0m1 0h0m1-1h0m0 0h0m1-3h0m0 1h0m0-2h0m1 2h0m0 0h0m2 1h0m0 2h0m0 1h0m1-3h0m3-1h0m1 0h0m3 0h0m0 2h0m0-3h0m1 0h0m1 0h0m0 4h0m0 0h0m0-4h0m1 2h0m1 3h0m0-4h0m0 4h0m2-5h0m0 4h0m0-3h0m1 2h0m2 0h0m2 0h0m0-2h0m2 0h0m2-1h0m2 5h0m0-3h0m0 2h0m1-2h0m0 0h0m0-2h0m1 2h0m0 3h0m1-4h0m0 2h0m2-3h0m1 3h0m1-4h0m0 1h0m2 3h0m1-1h0m0 2h0m4-2h0m3 0h0m1 2h0m3 0h0m2-1h0m1-1h0m0 0h0m1-1h0m1 0h0m1-2h0m2 1h0m4 3h0m0-4h0m3 1h0m3 4h0m0-3h0m1 2h0m0-4h0m1 4h0m4-4h0m0 5h0m0-3h0m0 1h0m2-2h0m1 1h0m1 2h0m0 0h0m0-3h0m1 3h0m0 2h0m2-1h0m1-2h0m0-1h0m2-2h0m2 0h0m0 5h0m1-3h0m0-1h0m1 4h0m1-3h0m0-2h0m1 1h0m0 1h0m2 2h0m2 1h0m6-4h0m0 1h0m0-2h0m1 2h0m2 2h0m0-1h0m1-1h0m0 3h0m1 0h0m1-2h0m1 2h0m1 1h0m0-3h0m0 1h0m0-4h0m1 3h0m0 1h0m0 0h0m3-1h0m1 2h0m2-1h0m1-3h0m0 4h0m1-2h0m0-1h0m1-2h0m2 6h0m2-1h0m1-4h0m1 2h0m0-2h0m2 2h0m1 0h0m1-2h0m0-1h0m0 2h0m3-2h0m0 6h0m0-1h0m3-5h0m0 3h0m1 3h0m1-2h0m0-3h0m0 1h0m0-1h0m1 1h0m0 0h0m0 2h0m2-3h0m0 0h0m0 3h0m0-1h0m1 0h0m1 1h0m0 1h0m2-2h0m0 2h0m0-4h0m-150 6h0m0-1h0m0 1h0m0-1h0m2 0h0m1 4h0m0-1h0m0 2h0m1 0h0m0-3h0m0-2h0m1 4h0m0 1h0m0-3h0m1 2h0m0 2h0m0-2h0m1-2h0m0 1h0m0 0h0m1-3h0m0 1h0m0 3h0m1-3h0m0 3h0m1-4h0m0 3h0m0 1h0m1-3h0m0 3h0m0-4h0m1 0h0m1 0h0m0 4h0m0 1h0m0 1h0m1-1h0m0-3h0m0 1h0m1-3h0m0 2h0m0 2h0m1-3h0m0 4h0m1-1h0m1 0h0m1 1h0m0-4h0m0 0h0m1 1h0m1 0h0m0 2h0m1-3h0m1-1h0m2 2h0m3 3h0m0-3h0m2 3h0m0-1h0m1 1h0m2-3h0m0 3h0m1-5h0m1 0h0m0 0h0m4 1h0m0 0h0m2 0h0m1 0h0m5-1h0m0 2h0m2-1h0m0 4h0m1 0h0m2-3h0m0 0h0m2-2h0m1 5h0m0-3h0m1 2h0m1 0h0m0 0h0m2-2h0m0-1h0m3 4h0m3-5h0m2 5h0m1 0h0m0 0h0m0-3h0m2 3h0m0 0h0m1 0h0m0-3h0m2 1h0m2-1h0m1 1h0m1-2h0m2 1h0m1 1h0m1-2h0m3 2h0m3-3h0m0 5h0m2-4h0m1 0h0m0-1h0m0 1h0m0-1h0m5 1h0m1 4h0m1-4h0m0 4h0m1 1h0m3-3h0m1 0h0m2 1h0m1 2h0m0-4h0m1 2h0m1-1h0m0-3h0m1 5h0m0-2h0m1-3h0m0 5h0m3-4h0m1 3h0m0-2h0m0 3h0m1 1h0m1-3h0m0 1h0m1 1h0m1 0h0m2-4h0m1 2h0m2 0h0m1 2h0m0 0h0m0-4h0m0 1h0m1 3h0m0-2h0m1-1h0m1 0h0m0 3h0m2-3h0m0 1h0m0-1h0m1 3h0m0 0h0m0 0h0m1-1h0m1 0h0m3 2h0m3-1h0m0-2h0m2 2h0m1-2h0m0 1h0m1-3h0m0 2h0m0 2h0m2 0h0m0-3h0m0 3h0m1-2h0m0 2h0m1-2h0m0-3h0m1 2h0m0 1h0m1 2h0m0-3h0m0 2h0m1 0h0m0-4h0m1 1h0m0 5h0m-143 1h0m1 0h0m1 2h0m2-3h0m0 3h0m1 1h0m0-3h0m1 1h0m1-1h0m0 1h0m0-2h0m1 3h0m0 2h0m1-4h0m1 1h0m0 2h0m0 1h0m0-4h0m1 0h0m0 2h0m1 2h0m0-5h0m0 4h0m1 0h0m0-3h0m1 4h0m0 0h0m3 1h0m0-5h0m0 3h0m0 1h0m1 0h0m1-4h0m1 4h0m5-2h0m6 1h0m0-3h0m1 0h0m0 5h0m1-5h0m2 1h0m1 0h0m1 1h0m1 2h0m1 1h0m1-6h0m0 6h0m1-5h0m0 2h0m1-2h0m1 5h0m1-5h0m2 1h0m1 2h0m1-3h0m1 0h0m0-1h0m1 1h0m0 4h0m3-4h0m0 1h0m1 1h0m0-2h0m1 0h0m0 0h0m1 4h0m1-2h0m2 3h0m0-3h0m1 1h0m0-2h0m0 4h0m2-5h0m2 4h0m2 1h0m1-3h0m0 2h0m1-2h0m1 3h0m0-5h0m0 0h0m1 3h0m1-2h0m0 0h0m2 3h0m2-3h0m0-2h0m1 6h0m0-3h0m0-1h0m0-2h0m2 4h0m2 1h0m1-2h0m0-1h0m2 0h0m0-2h0m0 6h0m0-6h0m1 4h0m1-2h0m1 1h0m0-3h0m1 6h0m0-4h0m0 3h0m3 0h0m2-3h0m1 4h0m0-2h0m1-1h0m1-1h0m1 1h0m0 0h0m2 0h0m1 1h0m1-3h0m2 4h0m1-4h0m1 0h0m0 2h0m3-3h0m1 5h0m0 1h0m0-1h0m0-3h0m2 1h0m0-2h0m4 2h0m1-1h0m2 0h0m0 1h0m1-2h0m0 4h0m1-2h0m0 0h0m1 0h0m1-3h0m1 0h0m3 6h0m1-5h0m0 3h0m3-2h0m1 4h0m0-2h0m1 0h0m0 1h0m2-1h0m1 1h0m0-5h0m1 5h0m1-2h0m0-2h0m0 3h0m1 0h0m0-2h0m0 2h0m0 1h0m0-4h0m1 4h0m0 0h0m1 0h0m1-1h0m0-4h0m0 2h0m0 1h0m0-3h0m1 0h0m0 5h0m1-2h0m0 1h0m1 1h0m0-1h0m0-3h0m1 2h0m-136 4h0m0 1h0m0-2h0m1 2h0m2 1h0m1 0h0m2 0h0m0-1h0m0 4h0m1-4h0m0 3h0m1-1h0m1-1h0m1 2h0m0-2h0m0 2h0m0-1h0m0-2h0m1 4h0m0-1h0m0-3h0m1 2h0m0 2h0m0-2h0m0-3h0m1 5h0m0-5h0m0 1h0m1 1h0m0 1h0m0-2h0m1 0h0m0 3h0m0-4h0m1 4h0m0-4h0m1 5h0m0-4h0m0 4h0m0-1h0m0 0h0m0-1h0m1 0h0m1 0h0m0 1h0m1-1h0m2-2h0m1-2h0m3 2h0m2 0h0m0 1h0m0-1h0m0 4h0m1-3h0m1 1h0m1 0h0m2 1h0m0-1h0m2 1h0m0-4h0m0 4h0m1-2h0m2-2h0m0 3h0m1-1h0m0-2h0m1 2h0m1 0h0m1 2h0m1 1h0m1 0h0m1-5h0m1 1h0m1-2h0m1 5h0m2-3h0m0 0h0m2 0h0m0-1h0m2 2h0m1 2h0m1 1h0m1-6h0m4 6h0m3-2h0m1 1h0m0 1h0m0-5h0m0 0h0m0 5h0m2-6h0m2 5h0m1-4h0m1 3h0m1 1h0m1-1h0m0-1h0m1 3h0m0-3h0m1 2h0m2-3h0m1 3h0m2-3h0m6 2h0m1-1h0m2 1h0m1 2h0m0-1h0m1-1h0m0 0h0m2-3h0m1 0h0m1 0h0m2 4h0m1-1h0m1 2h0m2-1h0m0-3h0m0 1h0m1 1h0m0 0h0m1-1h0m1 3h0m1-3h0m7 3h0m0-2h0m0 0h0m3 0h0m0 1h0m2 1h0m2-1h0m1-2h0m0-2h0m1 3h0m1-3h0m0 3h0m1 0h0m1-2h0m2-1h0m0 1h0m1 0h0m0-1h0m0 1h0m0 4h0m0-5h0m1 4h0m0-2h0m0 2h0m1 0h0m1-3h0m0 3h0m0 1h0m0-3h0m0 2h0m1-1h0m0-1h0m1-2h0m0 5h0m0-4h0m1-1h0m0 4h0m0-2h0m1 0h0m0-3h0m0 5h0m1-1h0m0 1h0m-128 1h0m1 0h0m1 1h0m0-1h0m3 3h0m0 0h0m0 0h0m1-3h0m0 5h0m0-2h0m1-2h0m1-1h0m0 2h0m1 0h0m0-1h0m1 0h0m1 3h0m0-2h0m1 3h0m1 0h0m0-4h0m0 2h0m1 2h0m0-5h0m0 6h0m1-3h0m0 2h0m0-5h0m1 5h0m0-5h0m1 3h0m0 2h0m1-4h0m0 1h0m1 0h0m1-2h0m0 3h0m1 0h0m1 1h0m0-3h0m0 4h0m1 1h0m1-1h0m1-1h0m0-3h0m1 1h0m0-1h0m1 4h0m0-1h0m0 2h0m0-3h0m1-2h0m1 1h0m0-1h0m2 2h0m0 0h0m0-1h0m0 2h0m2-2h0m1 0h0m1 0h0m0 0h0m3 1h0m3 2h0m1-1h0m2-1h0m3 1h0m0-4h0m1 2h0m0-2h0m3 3h0m1 1h0m0 1h0m1-5h0m2 3h0m1-2h0m1 4h0m0 0h0m1-1h0m0 1h0m1 0h0m0-2h0m0-2h0m0 2h0m1 2h0m2 1h0m1-3h0m1 1h0m0-1h0m3 2h0m0-5h0m0 5h0m1-1h0m1-2h0m1 3h0m0 0h0m2-5h0m1 4h0m4 0h0m0 0h0m0-4h0m1 5h0m0-4h0m1 0h0m1 1h0m0-1h0m2 3h0m1-2h0m2-2h0m3 0h0m1 3h0m2 2h0m0 0h0m1 0h0m0 0h0m0-2h0m0-3h0m1 5h0m2 0h0m1-5h0m0 6h0m0 0h0m1-4h0m1 0h0m0 3h0m1 0h0m1 0h0m0-1h0m0-3h0m3 0h0m0 1h0m2 0h0m4 3h0m2 0h0m1-2h0m0-1h0m0 0h0m2-2h0m0 4h0m2-4h0m0 1h0m0 2h0m2 2h0m0-2h0m0 0h0m0 3h0m1-3h0m1-1h0m2 2h0m0 2h0m1-3h0m1 3h0m0-4h0m0 2h0m1 0h0m0 0h0m1-2h0m0 3h0m0-2h0m1-1h0m1 1h0m-117 5h0m0 0h0m0 0h0m2 0h0m0-1h0m0 2h0m1 1h0m0-4h0m0 1h0m1 0h0m0-1h0m0 4h0m0-3h0m1 3h0m0 0h0m0-4h0m2 3h0m0 1h0m1-3h0m0 4h0m0-5h0m0 6h0m1-1h0m0-5h0m0 1h0m1 1h0m0 0h0m1 3h0m1-5h0m0 5h0m0 1h0m0-2h0m1-4h0m0 2h0m0-1h0m1 2h0m0 0h0m1 3h0m0-1h0m0-1h0m0-3h0m1 3h0m0-2h0m1 0h0m0-1h0m0 2h0m1 1h0m0-3h0m0-1h0m0 6h0m0-2h0m0 1h0m1-2h0m0 2h0m1 0h0m0-2h0m1-1h0m0 1h0m1-3h0m0 3h0m0 0h0m0 0h0m1 1h0m0-2h0m1 2h0m0 1h0m1 1h0m0-5h0m0 4h0m0 0h0m1-3h0m0-1h0m0 4h0m2-1h0m0 1h0m3-2h0m0-3h0m0 3h0m2 1h0m0 0h0m1 1h0m3-2h0m0-2h0m2 5h0m1-5h0m0 2h0m1 0h0m1 2h0m4-2h0m0-2h0m0 4h0m2-1h0m1-1h0m1 0h0m1 2h0m0-5h0m1 4h0m1-4h0m1 3h0m2-3h0m0 3h0m2-2h0m1 1h0m0-2h0m2 4h0m0 0h0m1-2h0m0-1h0m1 3h0m4 2h0m0-5h0m2 4h0m3-3h0m2 2h0m3-3h0m1 2h0m0 0h0m3-2h0m1 3h0m1-3h0m1 0h0m2 4h0m0-4h0m1 0h0m2 2h0m3-3h0m1 2h0m6 1h0m3-1h0m0 4h0m0 0h0m1-1h0m0 1h0m4-1h0m0 1h0m1-3h0m0 2h0m0-3h0m0 4h0m2 0h0m1-2h0m0 1h0m0 0h0m1-2h0m0-1h0m1 0h0m-104 4h0m0 0h0m3 0h0m1 1h0m1-1h0m0 2h0m1-1h0m0 2h0m1-2h0m0 3h0m0-4h0m0 2h0m1-2h0m2 1h0m0 2h0m1 0h0m1 0h0m0 2h0m0-2h0m1-1h0m2 4h0m1-5h0m0 1h0m0 1h0m1 2h0m2-1h0m0-3h0m1 3h0m0 0h0m2-3h0m0 3h0m1 1h0m0-5h0m0 5h0m0-2h0m0-2h0m1 1h0m1 0h0m1-1h0m0 5h0m0-1h0m1 1h0m0-3h0m0 2h0m0-3h0m1 1h0m0-2h0m0 4h0m1 1h0m0-1h0m0-3h0m1 1h0m1 0h0m0 2h0m0-2h0m0 3h0m0-1h0m1-1h0m0-1h0m0-2h0m0 3h0m0-1h0m0-1h0m0 0h0m2 4h0m1-2h0m0 1h0m1 0h0m1-2h0m1-2h0m1 0h0m2 4h0m0-1h0m1-2h0m0-1h0m1 3h0m0-2h0m0 3h0m2 0h0m1-4h0m1 4h0m0-2h0m2-2h0m2 0h0m1 4h0m1-1h0m1 1h0m1-2h0m0 2h0m0-4h0m1 4h0m1-1h0m4-1h0m1-3h0m1 5h0m1-2h0m2 1h0m0-1h0m1-1h0m1 3h0m0-2h0m3 0h0m1 1h0m0-4h0m1 4h0m0-3h0m1 5h0m6-1h0m1-5h0m0 6h0m0-1h0m1-2h0m3 3h0m0-3h0m1-1h0m1 3h0m0-3h0m0 0h0m0 3h0m0 0h0m2-3h0m0 2h0m1 0h0m0 0h0m0-1h0m2 2h0m0-1h0m0-1h0m0-1h0m1 2h0m1-3h0m1 1h0m0 3h0m1-3h0m0 3h0m1-2h0m1 1h0m0-1h0m1-2h0m0-1h0m0 3h0m0-2h0m1 1h0m0-1h0m1 4h0m0-4h0m1 2h0m0 1h0m1-2h0m1-1h0m0 0h0m-87 5h0m1 1h0m1-1h0m2 2h0m2 1h0m2-3h0m0 1h0m1 0h0m0-1h0m0 1h0m0 0h0m1 3h0m0-1h0m0-3h0m1 2h0m1 0h0m0-1h0m0 0h0m1 2h0m0 1h0m0-3h0m1 3h0m0 0h0m0-1h0m0 0h0m1 1h0m1 0h0m0 1h0m1-4h0m0 2h0m0 0h0m0-1h0m0 2h0m0-1h0m1 1h0m0-2h0m1 0h0m1-1h0m0 5h0m1-5h0m0 0h0m1 1h0m0 1h0m0 2h0m0-3h0m0 1h0m1-3h0m0 4h0m0 0h0m1 0h0m0-1h0m0 0h0m1-2h0m0 0h0m0 2h0m0 1h0m1-3h0m0 5h0m1-1h0m0-5h0m1 1h0m1 1h0m1 3h0m0 1h0m1-5h0m0 5h0m0-1h0m0-3h0m0-2h0m0 1h0m1 2h0m0-3h0m0 1h0m0 1h0m1 1h0m0 3h0m0-2h0m1-4h0m0 0h0m0 0h0m2 5h0m0 0h0m0-3h0m1 2h0m0-3h0m1 1h0m0 2h0m2-3h0m0 1h0m1 4h0m1-1h0m1 1h0m1-3h0m0-1h0m0 4h0m1-4h0m0 0h0m0 2h0m0 0h0m0-3h0m0 3h0m2-2h0m0 4h0m1-4h0m0-1h0m0 3h0m0-3h0m0 5h0m1-3h0m0-1h0m0 0h0m1 1h0m0 2h0m0 1h0m1-1h0m0-3h0m1 3h0m1-5h0m0 6h0m0-1h0m0-3h0m1 2h0m0-3h0m0 0h0m1 0h0m0 5h0m0-2h0m1-1h0m1 3h0m0-1h0m1-3h0m0 0h0m0 2h0m1-4h0m0 0h0m0 6h0m0-3h0m1 1h0m0 0h0m0-3h0m0 0h0m0 2h0m1 0h0m2 2h0m0-2h0m0 0h0m2 2h0m1 0h0m0-2h0m1-2h0m1 4h0m0-1h0m1-1h0m0 0h0m0 1h0m1-2h0m2 2h0m0-1h0m0 3h0m1-1h0m0-5h0m0 3h0m0-2h0m1 1h0m0 1h0m0 2h0m1-1h0m1-3h0m0 1h0m0 1h0m2-2h0m0 0h0m1 1h0m2-1h0m-62 5h0m0 0h0m0 0h0m1 0h0m6 2h0m1-2h0m1 3h0m4-1h0m0 1h0m1-1h0m0 0h0m0 0h0m0 1h0m1 0h0m0 0h0m1-2h0m0 2h0m1-1h0m0-2h0m2 1h0m2 2h0m1 1h0m0-4h0m0 4h0m1-1h0m0-1h0m1 2h0m0-2h0m0 2h0m1 0h0m1-1h0m0 0h0m1-3h0m0 0h0m1 4h0m0-2h0m0-1h0m1 2h0m0 1h0m1-1h0m0 0h0m1-1h0m0-1h0m1 3h0m0-2h0m0 0h0m0 2h0m0-4h0m1 3h0m0-1h0m1 3h0m1-5h0m1 2h0m0 0h0m0 2h0m0-2h0m1-2h0m0 3h0m1-1h0m0 2h0m1-3h0m1-1h0m1 3h0m1-1h0m0 1h0m1 0h0m0-1h0m0-1h0m1 0h0m2 1h0m0-1h0" stroke="#d3d3d3" stroke-width="2.8"/><path d="M525 336h0m-18 5h0m-9 8h0m-23 4h0m49-1h0m-39 8h0m-4 17h0m25 6h0m2-2h0m-30 7h0m23 0h0m-2 16h0m10-2h0m2-2h0m43 2h0m-64 3h0m3 0h0m6 1h0m21 6h0m51 0h0m59 5h0m-82 3h0m-25 6h0m8 2h0m1-3h0m41-1h0m42 1h0m-75 6h0m46 3h0m16-2h0m13 2h0m7 1h0m-70 0h0m32 1h0m-15 6h0m5 0h0" stroke="#fdd0bd" stroke-width="2.8"/><path d="M505 338h0m21-2h0m2 2h0m-38 5h0m4 1h0m5-1h0m2 1h0m0 0h0m9-1h0m11-2h0m0 2h0m2 0h0m1 0h0m-44 6h0m3 2h0m2-5h0m0 1h0m2 2h0m2-3h0m2 1h0m4 0h0m0-1h0m12 5h0m10-5h0m-46 9h0m4-3h0m1 1h0m5 3h0m10-2h0m2 3h0m4-1h0m8-3h0m9 1h0m7-2h0m-42 7h0m10 0h0m4-2h0m0 3h0m3-1h0m6 4h0m14-2h0m-41 3h0m2 4h0m5-3h0m0 4h0m6-1h0m4-2h0m11-1h0m4 1h0m-30 4h0m2 1h0m8 1h0m4 3h0m-12 3h0m4-2h0m14 3h0m-18 7h0m4-2h0m5-2h0m2 4h0m2-4h0m26 3h0m-25 4h0m5-2h0m1 1h0m25 0h0m2-1h0m85 5h0m11 0h0m-139 6h0m0 0h0m16-3h0m12-2h0m9 2h0m5 2h0m11-4h0m82 4h0m15-2h0m-146 4h0m17 3h0m2 1h0m5-2h0m15 2h0m20-4h0m0 4h0m30 0h0m27 1h0m16-3h0m11-2h0m-134 10h0m2-1h0m2 0h0m7-2h0m14 3h0m8-1h0m0-1h0m6 2h0m29-3h0m52 0h0m14 5h0m0 0h0m-128 2h0m7 1h0m20-2h0m8 4h0m1-3h0m1 3h0m1-2h0m10-3h0m4 1h0m23 0h0m42-1h0m2 2h0m2 0h0m-102 8h0m3 0h0m8 2h0m0-3h0m7 0h0m7-2h0m10 1h0m22 1h0m3 3h0m3-3h0m5 1h0m1 1h0m5-5h0m28 0h0m8 5h0m-109 1h0m2 1h0m8 2h0m2 0h0m5-1h0m19 3h0m0-4h0m8 2h0m15-2h0m1 0h0m2 3h0m21 1h0m-74 3h0m2-1h0m2 0h0m8-1h0m0 2h0m2 1h0m5 1h0m26 1h0m21 0h0m14-3h0m-69 5h0m11 0h0m11 0h0m10 3h0m1 0h0m15 1h0m2 0h0m3-5h0m0 3h0m0 2h0m5-2h0m9-2h0m5 0h0m-4 6h0" stroke="#fcbba1" stroke-width="2.8"/><path d="M519 338h0m0 0h0m5-3h0m-28 9h0m3 1h0m14-6h0m3 6h0m3-3h0m5-2h0m1 2h0m-40 3h0m2 2h0m5-1h0m4-1h0m7 0h0m6 5h0m1-4h0m7 2h0m3-1h0m1-2h0m6 3h0m-56 9h0m12 0h0m12-4h0m2 2h0m4 0h0m3 0h0m1-1h0m6 1h0m5-4h0m6 1h0m-52 8h0m8-1h0m9 4h0m4-2h0m8-1h0m4 1h0m0-3h0m3 0h0m4 5h0m5-3h0m-39 5h0m10 1h0m1 1h0m8 1h0m14-4h0m1 3h0m12-3h0m-47 8h0m24-3h0m5 2h0m1 4h0m3-3h0m2 1h0m-32 5h0m9-3h0m4 3h0m1 1h0m0-3h0m2 1h0m3 1h0m10 1h0m3-2h0m0-2h0m5 2h0m25 3h0m-68 2h0m1 1h0m2 3h0m3 1h0m0-4h0m19 2h0m3-2h0m3 1h0m15-3h0m-22 7h0m1 1h0m3 3h0m20-4h0m3 5h0m0-2h0m3-1h0m2 2h0m4-4h0m78 4h0m-128 5h0m18-1h0m31 1h0m4-3h0m2-1h0m16 5h0m56-2h0m6-1h0m0 2h0m5-2h0m4 3h0m6-4h0m3 1h0m-142 7h0m1-1h0m4 1h0m12 1h0m2 1h0m23-4h0m1 5h0m9-3h0m9 1h0m1-1h0m12 3h0m37-5h0m3 1h0m1-1h0m3 1h0m3 2h0m7-3h0m8-1h0m-122 9h0m4-2h0m0 5h0m5-6h0m9 5h0m3-3h0m5-2h0m4 5h0m5-4h0m1 5h0m0-6h0m1 5h0m2-3h0m6 4h0m0-5h0m3 5h0m3-4h0m3-1h0m8-1h0m1 2h0m8-1h0m2 0h0m16 4h0m11-4h0m13 1h0m5 0h0m6 0h0m-127 7h0m7 0h0m16-2h0m1 1h0m10 1h0m26-1h0m0 1h0m0 0h0m10 2h0m6 1h0m3-3h0m6-1h0m12-2h0m22 5h0m3 0h0m-112 4h0m29 1h0m7 0h0m16 0h0m1 0h0m0 0h0m6-4h0m1 5h0m1-2h0m2 1h0m5-3h0m1 0h0m2 0h0m5-1h0m2 1h0m1 0h0m9 2h0m1 3h0m3 0h0m16-2h0m-95 2h0m23 0h0m13 2h0m2 3h0m2-3h0m46 1h0m2 1h0m-75 3h0m8 3h0m15 0h0m4-4h0m19 2h0m8 2h0m1-1h0m6 2h0m14-3h0m0 2h0m13 1h0m-58 2h0m20 2h0m12 0h0m23-1h0m-21 6h0" stroke="#fca486" stroke-width="2.8"/><path d="M518 335h0m-1 18h0m-43 6h0m21 1h0m19 3h0m10-2h0m-45 7h0m14-5h0m16 4h0m9-1h0m-34 4h0m26 1h0m33 3h0m11-1h0m-35 5h0m17 7h0m-53 8h0m52-2h0m12 2h0m-36 0h0m17 1h0m8 2h0m4-1h0m16-2h0m9 5h0m2 0h0m17-2h0m26-2h0m15 3h0m2 1h0m6-2h0m-93 5h0m7 2h0m38-3h0m10 3h0m-24 5h0m5-1h0m4 3h0m3 1h0m17-5h0m4 0h0m-49 5h0m34 2h0m4 4h0m0-6h0m1 4h0m2 1h0m-64 2h0m51 1h0m22 2h0m8 2h0m-64 12h0m0-4h0m2-2h0m10 1h0m47 0h0" stroke="#fc8c6c" stroke-width="2.8"/><path d="M533 338h0m-3 5h0m-1 10h0m-2 8h0m1-2h0m15 1h0m6 1h0m24-1h0m2 1h0m26-3h0m-86 9h0m14-1h0m20 0h0m-6 8h0m21 1h0m-40 5h0m2-1h0m47 2h0m-43 5h0m19-3h0m20 0h0m-35 7h0m9-1h0m40 15h0m13-1h0" stroke="#fb7555" stroke-width="2.8"/><path d="M590 320h0m-35 6h0m31 0h0m1 0h0m-41 4h0m30 0h0m-6 8h0m3-3h0m-20 15h0m11-1h0m11-2h0m19 2h0m-48 11h0m7-3h0m10 5h0m19-4h0m6 4h0m-28 2h0m2 0h0m6 1h0m-33 7h0m33 1h0m3-3h0m1 4h0m-29 6h0m38-3h0m-44 10h0m64 9h0m-22 8h0" stroke="#f85d41" stroke-width="2.8"/><path d="M584 318h0m8 1h0m11 1h0m-35 1h0m4 4h0m14 0h0m2 0h0m1 2h0m6-3h0m11 3h0m-50 3h0m29 0h0m4 0h0m2 1h0m32-2h0m-91 7h0m2-1h0m17 2h0m9-2h0m8 0h0m1 1h0m11-2h0m21 2h0m16 1h0m-65 8h0m18-6h0m0 1h0m2 1h0m8 4h0m13-4h0m13-2h0m0 5h0m2 0h0m-31 4h0m3 3h0m15-5h0m10 1h0m-47 8h0m4 0h0m6-2h0m13 4h0m3-4h0m31 3h0m-60 3h0m6 0h0m8 2h0m8-1h0m2-2h0m5-1h0m13 0h0m-31 7h0m7 3h0m5-2h0m6 3h0m-15 3h0m0-1h0m3 2h0m3 2h0m6-4h0m5 2h0m30 1h0m5-1h0m-44 3h0m7 4h0m3 0h0m35-1h0m-5 5h0" stroke="#f14230" stroke-width="2.8"/><path d="M599 319h0m-36 5h0m14 3h0m2-6h0m0 1h0m38 4h0m5-1h0m-36 3h0m19 3h0m6 1h0m1-1h0m0 0h0m-36 4h0m1 2h0m0 0h0m9-2h0m13 0h0m2 1h0m3 2h0m8 0h0m11-3h0m-74 5h0m24 3h0m21-2h0m2 3h0m9-1h0m11-3h0m3 2h0m4-2h0m2 2h0m-70 7h0m20 0h0m12 0h0m20 1h0m3-5h0m12 4h0m-60 8h0m17-1h0m10 1h0m11-4h0m8 0h0m4 3h0m3-2h0m1 2h0m3-3h0m3 1h0m-68 6h0m39 0h0m14-1h0m1 3h0m0-1h0m-35 7h0m22-2h0m17 0h0m3 2h0m8-2h0m-52 6h0m1-2h0m2 1h0m46-2h0m-2 11h0m3-5h0m3 5h0" stroke="#e02c26" stroke-width="2.8"/><path d="M618 329h0m12 2h0m-6 4h0m6 0h0m-28 8h0m3-1h0m7 0h0m8-2h0m-20 9h0m8-2h0m4 3h0m13 3h0m2 4h0m6-1h0m-23 3h0m6 3h0m4-4h0m7 0h0m3 0h0m0 2h0m-37 3h0m8 3h0m18 0h0m8 3h0m1 0h0m0-4h0m4 2h0m-20 8h0m1-1h0m0-2h0m-16 5h0m27 3h0m-37 2h0m6 1h0m5 2h0m1 0h0m14 0h0m2 2h0m-3 2h0" stroke="#cb181d" stroke-width="2.8"/><path d="M617 323h0m9 8h0m6 5h0m2-2h0m1 3h0m-17 11h0m22 3h0m-42 11h0m3 0h0m32-3h0m-40 6h0m1 3h0m1-2h0m0-1h0m2-1h0m3 2h0m0 0h0m1 3h0m33-1h0m1-1h0m-40 4h0m3-1h0m6 4h0m7-3h0m24 0h0m-41 5h0m2 1h0m5 0h0m11 2h0m-19 6h0m2 0h0m3 2h0m0-4h0m12 2h0m3 0h0m0-2h0m2-1h0m-19 7h0m3 0h0m8 4h0" stroke="#b51318" stroke-width="2.8"/><path d="M640 343h0m-7 5h0m5-3h0m3 5h0m-1 3h0m-6 10h0m4 6h0m-43 5h0m8-4h0m5 4h0m6 0h0m-18 6h0m1-2h0m3-1h0m3-1h0m6 3h0m-16 5h0m9-3h0m11 5h0m3-1h0" stroke="#9c0d14" stroke-width="2.8"/><path d="M600 375h0m4 9h0m10-1h0" stroke="#79040f" stroke-width="2.8"/><path d="M613 438h0" stroke="#fee3d6" stroke-width="2.8"/><path d="M519 339h0m-33 5h0m21-4h0m0 9h0m-35 10h0m13 9h0m-12 4h0m12 0h0m-10 4h0m9 1h0m3-2h0m-11 6h0m9 1h0m12 1h0m-18 7h0m4 7h0m27 7h0m-11 6h0m52-4h0m68 2h0m14 0h0m-120 4h0m10 0h0m0 4h0m41-1h0m-33 2h0m4 3h0m8-1h0m13 1h0m7-1h0m66 2h0m2-1h0m-16 8h0m3 0h0m-91 2h0m12 0h0m6 5h0m68-5h0m6 3h0m4-1h0m-60 8h0m13 4h0m3-1h0m8 2h0" stroke="#fdd0bd" stroke-width="2.8"/><path d="M526 338h0m-38 7h0m6-2h0m2-1h0m14 1h0m0 1h0m2-5h0m10 2h0m-22 10h0m14-2h0m10-2h0m5 3h0m-47 7h0m5-2h0m17-3h0m1 5h0m-23 2h0m3 2h0m3-3h0m2 4h0m3 0h0m10-3h0m2-1h0m7 0h0m9 0h0m4 2h0m-52 8h0m2-3h0m1 3h0m0-3h0m3-1h0m3 1h0m6 1h0m14-3h0m11 5h0m-38 4h0m1 3h0m9-5h0m3 0h0m2 2h0m0 1h0m10 1h0m3-4h0m5 2h0m-33 4h0m8 3h0m2-3h0m11 5h0m4-2h0m10-1h0m1 2h0m-38 5h0m3 1h0m5-5h0m1 1h0m3 1h0m5 2h0m2-4h0m4 2h0m7-2h0m2 2h0m5 2h0m14-1h0m-37 8h0m17-3h0m8 0h0m7 4h0m0-3h0m2 0h0m3-2h0m2 1h0m96-1h0m9 2h0m-140 9h0m1-4h0m1 4h0m3-5h0m4 1h0m2-2h0m2 1h0m3 1h0m6-1h0m0 1h0m2 1h0m1 3h0m107 0h0m1-3h0m2 2h0m2 1h0m1-4h0m-138 7h0m0-1h0m1 3h0m5 0h0m1 1h0m5-6h0m8 2h0m23-1h0m1 2h0m2-2h0m2 5h0m4-1h0m0-4h0m2 5h0m3-5h0m0 2h0m11 2h0m42-1h0m19-3h0m8 2h0m-124 5h0m7-2h0m31 3h0m6 1h0m20 0h0m4-1h0m22 1h0m4-1h0m7 2h0m4 1h0m1-3h0m17 2h0m3-4h0m-125 9h0m1-4h0m2 3h0m7-2h0m1 3h0m6-3h0m3 2h0m1-1h0m1 1h0m3-2h0m30 4h0m6-1h0m12-2h0m22 1h0m8 1h0m9 0h0m2 1h0m15-3h0m-127 4h0m3 2h0m20 2h0m11-2h0m2 2h0m4-3h0m9 2h0m4-2h0m2 0h0m5 1h0m7 1h0m16-3h0m4 2h0m4-1h0m8 5h0m1-4h0m10 0h0m0 0h0m2 1h0m3-3h0m0 0h0m10 0h0m-117 7h0m2 0h0m2-1h0m0 0h0m4 1h0m2-1h0m12 5h0m28-1h0m12-1h0m14-1h0m5-1h0m3 2h0m2-2h0m1 2h0m22-1h0m4-2h0m-94 6h0m7 4h0m5 2h0m9-6h0m3 6h0m5-2h0m2-1h0m6 0h0m8-1h0m6 1h0m10-2h0m0 0h0m20 4h0m1 0h0m2-4h0m5 1h0m4 1h0m4-2h0m-73 9h0m0 0h0m12-1h0m0 3h0m4 0h0m2-1h0m5-1h0m1 0h0m14-2h0m1-2h0m14 2h0m6 1h0m-32 4h0m12-1h0" stroke="#fcbba1" stroke-width="2.8"/><path d="M511 338h0m5 1h0m4-1h0m-17 6h0m6-1h0m8-1h0m4-3h0m1 1h0m-36 11h0m9-2h0m9 1h0m3-4h0m9 1h0m10 0h0m0 0h0m1 2h0m-52 8h0m12-4h0m10-1h0m6 0h0m3 1h0m4 2h0m5 0h0m8 2h0m-50 5h0m1-3h0m8 0h0m5-2h0m11 6h0m10-3h0m2 1h0m1-1h0m10-3h0m4 0h0m-26 8h0m0 0h0m0 3h0m-17 3h0m23 1h0m5 3h0m1-2h0m-31 8h0m1-3h0m6-3h0m8 2h0m16-1h0m-20 8h0m1 1h0m8-3h0m5 1h0m6 2h0m8-1h0m3-1h0m-26 5h0m4 4h0m3-5h0m16 5h0m1 1h0m12 0h0m39-1h0m38 0h0m6 1h0m-129 6h0m2-5h0m20 4h0m6-1h0m10 2h0m12-2h0m17-2h0m67 2h0m2 2h0m2-5h0m-137 8h0m20 2h0m24 1h0m1-1h0m4-4h0m10-1h0m20 4h0m24 0h0m16 2h0m1-4h0m4-1h0m1 0h0m7 5h0m13-3h0m-124 5h0m9 2h0m7 0h0m19-1h0m33 2h0m18-1h0m0 1h0m15 0h0m13-3h0m12 1h0m-122 6h0m1-3h0m18 5h0m45-1h0m2 0h0m39-1h0m9 1h0m-99 4h0m23 2h0m5 0h0m2 2h0m3-5h0m10 1h0m2 1h0m4 2h0m1 1h0m2-3h0m7-2h0m10 2h0m3-1h0m1 1h0m1 1h0m1-1h0m0-2h0m4 4h0m1-2h0m1-1h0m2-1h0m2 2h0m3 1h0m2-2h0m4 0h0m1 3h0m4 0h0m-106 4h0m11 0h0m7 0h0m2 0h0m11 1h0m6-4h0m1 3h0m24-2h0m2 2h0m9-1h0m8 0h0m11-1h0m2 5h0m17-2h0m-91 5h0m9-3h0m0 2h0m0 3h0m12 0h0m3-3h0m0 1h0m20-1h0m2 2h0m2-2h0m17 3h0m3 0h0m1-1h0m2 0h0m-39 5h0m14 0h0m7 2h0m3 0h0m4-3h0m1 0h0m1 0h0m8 1h0m2-1h0m2 4h0m-47 0h0m26 4h0m3-1h0" stroke="#fca486" stroke-width="2.8"/><path d="M525 341h0m-19 18h0m11 5h0m-24 10h0m6-2h0m8 0h0m48-2h0m-73 9h0m38 2h0m15 3h0m41-2h0m-57 10h0m10-3h0m29 4h0m6-4h0m6 0h0m21 2h0m35 1h0m-116 5h0m28-1h0m25-1h0m40 0h0m1 4h0m6-1h0m-51 1h0m0 4h0m24 1h0m8-1h0m6-1h0m31-2h0m-86 10h0m2-2h0m1-2h0m3 3h0m8-1h0m5-3h0m15 0h0m2 1h0m1 3h0m9-1h0m9 0h0m3-1h0m6-2h0m10 0h0m-81 6h0m25 3h0m7 0h0m-18 14h0m29-2h0m1 0h0m-20 3h0" stroke="#fc8c6c" stroke-width="2.8"/><path d="M534 332h0m8 1h0m3-4h0m4 21h0m-22 6h0m9-1h0m-10 7h0m14-4h0m-16 7h0m25 5h0m-15 6h0m31 0h0m-43 5h0m10 1h0m1 4h0m5-3h0m33 2h0m-26 7h0m8-3h0m14 2h0m-20 5h0m26 1h0m29 1h0m-22 3h0m4 0h0m5 3h0m3 2h0" stroke="#fb7555" stroke-width="2.8"/><path d="M596 319h0m-3 5h0m-41 8h0m9-5h0m11 1h0m-29 11h0m2-5h0m10 3h0m20 1h0m-21 3h0m19 2h0m1 6h0m6-2h0m-18 8h0m13 2h0m-19 3h0m9-1h0m11-1h0m-12 7h0m2 1h0m17 3h0m-54 4h0m50-2h0m38 1h0m-86 14h0m36 8h0m18 10h0" stroke="#f85d41" stroke-width="2.8"/><path d="M565 321h0m3 2h0m5 3h0m5-5h0m-27 10h0m5-3h0m2 1h0m8 2h0m5-3h0m17 3h0m21-3h0m3 4h0m-81 1h0m22 6h0m26-2h0m12-1h0m23 0h0m-45 8h0m7-2h0m14 1h0m3 2h0m18-1h0m3-4h0m10-1h0m-58 11h0m1-4h0m1 4h0m11-1h0m15 1h0m24 1h0m-66 2h0m5 1h0m11-3h0m7 4h0m6-2h0m14 0h0m2-1h0m-34 5h0m3 3h0m5 1h0m18 0h0m4-3h0m23 4h0m1-4h0m3 2h0m-44 4h0m5 1h0m1 4h0m2-6h0m-19 8h0m10 2h0m8-2h0m0 3h0m-3 1h0m0 3h0m3-1h0" stroke="#f14230" stroke-width="2.8"/><path d="M591 321h0m7-1h0m2 1h0m6 0h0m-28 1h0m4 4h0m2 1h0m5-3h0m18 2h0m6 1h0m8-2h0m-69 5h0m2 3h0m10-3h0m7-2h0m9 3h0m28-3h0m-35 6h0m13 1h0m21 3h0m2-2h0m-21 6h0m16-2h0m13 1h0m1 3h0m1-2h0m-63 8h0m30-1h0m11 0h0m3-1h0m3-2h0m16 2h0m1-2h0m3 2h0m0-1h0m2 3h0m-62 2h0m5 5h0m2-6h0m6 2h0m9 3h0m0-2h0m0 0h0m5 2h0m13-1h0m2-3h0m1 0h0m7 4h0m2-2h0m-34 9h0m4-6h0m9 1h0m27 3h0m2-2h0m-49 5h0m3 4h0m40-1h0m2-4h0m9 3h0m-58 6h0m6 0h0m8 2h0m10-5h0m31 6h0m-45 4h0m44 2h0" stroke="#e02c26" stroke-width="2.8"/><path d="M610 333h0m3-5h0m8-1h0m-22 12h0m7-4h0m5 0h0m11-1h0m-19 7h0m21 1h0m-49 4h0m44 3h0m11 1h0m1-5h0m-21 7h0m2 2h0m1-3h0m-9 7h0m-14 10h0m2-2h0m26 0h0m-21 4h0m4 2h0m10 3h0m20-5h0m-27 6h0m20 4h0m9-2h0m0-2h0m-18 7h0m-10 7h0m3 1h0m1-4h0" stroke="#cb181d" stroke-width="2.8"/><path d="M609 323h0m25 13h0m-2 8h0m4-3h0m5 2h0m-10 5h0m-2 9h0m-34 5h0m4-1h0m21-1h0m18 2h0m-49 4h0m3-2h0m2 2h0m4 1h0m4 0h0m1-3h0m7 3h0m0 0h0m-20 3h0m8 5h0m15-2h0m18-1h0m2-2h0m-41 8h0m2-1h0m1 0h0m0-2h0m1 5h0m1-3h0m5 4h0m4-3h0m5 2h0m1-3h0m2 1h0m15 2h0m-32 3h0m3 1h0m3 0h0m7 1h0m13-3h0m-26 6h0" stroke="#b51318" stroke-width="2.8"/><path d="M640 345h0m-1 18h0m-43 10h0m34-3h0m3 3h0m3-2h0m-46 5h0m3 6h0m6 1h0m2 0h0m14 0h0m-17 5h0m11 2h0m0 0h0" stroke="#9c0d14" stroke-width="2.8"/><path d="M637 352h0m-36 19h0" stroke="#79040f" stroke-width="2.8"/><path d="M579 439h0" stroke="#fee3d6" stroke-width="2.8"/><path d="M507 350h0m11-3h0m-42 5h0m13 0h0m36 0h0m-50 6h0m0 1h0m0 26h0m8 0h0m4 3h0m36 11h0m107 2h0m-107 5h0m5 2h0m-11 5h0m5 1h0m4-1h0m4 4h0m1-3h0m0-1h0m67 4h0m29-3h0m6 1h0m-119 3h0m3 1h0m1 0h0m75 1h0m-40 7h0m16-4h0m61 6h0m2-4h0m0 0h0m-102 7h0m2-3h0m71 2h0m-62 4h0m71 6h0" stroke="#fdd0bd" stroke-width="2.8"/><path d="M511 338h0m-11 2h0m12 4h0m4 0h0m6 0h0m4-4h0m-47 8h0m4 1h0m2-1h0m2 3h0m4-5h0m3 0h0m3 1h0m1 2h0m0-4h0m5 1h0m26 2h0m-50 3h0m2 3h0m2 3h0m0-2h0m0 1h0m3-2h0m4-3h0m16 0h0m10 3h0m5 2h0m-52 5h0m13 2h0m6-1h0m3-5h0m8 5h0m0-4h0m-25 9h0m4 0h0m11-2h0m21 2h0m-41 7h0m1-4h0m3 1h0m1 2h0m8-1h0m15 2h0m14-2h0m-37 5h0m2 2h0m3-2h0m7 1h0m10 0h0m20 3h0m-21 2h0m18 3h0m117 0h0m-150 3h0m12 2h0m16-1h0m13-2h0m5 1h0m0 4h0m86-2h0m16 1h0m7-2h0m-152 5h0m10 2h0m21-2h0m1-2h0m0 5h0m6-3h0m17 4h0m67 0h0m7-5h0m6 1h0m-120 10h0m7-5h0m3 0h0m0-1h0m13 4h0m2 1h0m0-1h0m4-1h0m0-1h0m2 0h0m4 3h0m13-2h0m2-2h0m2 2h0m73-2h0m8 5h0m-135 3h0m1 0h0m1-1h0m4 4h0m2-5h0m15 2h0m1 2h0m5-2h0m1-2h0m26 2h0m4-3h0m0 5h0m2-2h0m49-1h0m24 3h0m3 0h0m-134 2h0m15 2h0m6-1h0m0 1h0m1 2h0m4-1h0m1-2h0m3 2h0m7 0h0m3 0h0m0-4h0m21 3h0m11 0h0m14 0h0m4 1h0m9-1h0m3 0h0m7-2h0m14 4h0m2-4h0m7 5h0m-115 2h0m2 1h0m4 0h0m0-2h0m8 5h0m2-2h0m3 1h0m0-2h0m5 0h0m14 1h0m7-3h0m2 4h0m12-4h0m10 3h0m5 0h0m9-4h0m10 1h0m2 0h0m5 3h0m7-1h0m8-3h0m2 1h0m-108 11h0m9-2h0m6-3h0m3 2h0m8 2h0m11-3h0m22 2h0m8-1h0m8-1h0m7 3h0m7 1h0m1-3h0m0 0h0m14 1h0m2-1h0m-105 3h0m12 2h0m2 3h0m3-2h0m22-2h0m2 1h0m0-2h0m4 6h0m8-1h0m8-2h0m1 0h0m11-2h0m8 3h0m10-1h0m-63 3h0m0 3h0m8-1h0m1 4h0m0-2h0m22-2h0m2 2h0m1 0h0m2 0h0m-18 4h0m8-2h0m8 1h0m4 2h0m10-2h0" stroke="#fcbba1" stroke-width="2.8"/><path d="M511 339h0m6-3h0m-21 6h0m13 1h0m14 0h0m3 1h0m1-3h0m-53 9h0m29-3h0m1 3h0m3-3h0m9 2h0m2 0h0m5 0h0m-47 7h0m31-3h0m4-1h0m8 4h0m1-2h0m4 0h0m2-1h0m-34 6h0m21 4h0m2-4h0m-31 7h0m8 2h0m1-1h0m20-2h0m-30 10h0m7-2h0m2-1h0m12 3h0m-31 3h0m5 3h0m5-4h0m3 0h0m4-2h0m1 5h0m5-4h0m3 3h0m11-4h0m0 4h0m1-3h0m0-1h0m17 2h0m-52 7h0m4-2h0m0 4h0m7-5h0m1 2h0m2 4h0m0-5h0m7 4h0m2-4h0m-16 8h0m20 1h0m0 1h0m12-2h0m18 2h0m44-4h0m-93 7h0m7-1h0m10 1h0m4 2h0m5-1h0m3 1h0m10-4h0m2 6h0m4-1h0m4 0h0m3-4h0m8 4h0m2 0h0m2 0h0m57 0h0m2-3h0m1 3h0m0-3h0m6-2h0m3 6h0m14-3h0m-112 4h0m1 1h0m3-1h0m2 5h0m9-1h0m1 1h0m2-6h0m5 1h0m3 2h0m4 0h0m3 0h0m0-2h0m1 3h0m19 1h0m15 1h0m18-3h0m4 0h0m9 2h0m2-5h0m8 6h0m3-6h0m-132 7h0m1 5h0m1-2h0m3-1h0m1-1h0m7 2h0m33-2h0m3 1h0m4 2h0m15-3h0m3 4h0m6-3h0m5 1h0m20-3h0m16 4h0m7-5h0m1 2h0m7 3h0m1-4h0m-121 10h0m9-2h0m1-1h0m5 2h0m46-2h0m0-2h0m15 3h0m15 2h0m13 0h0m10 0h0m-115 1h0m2 5h0m5-4h0m5 1h0m13 1h0m7 2h0m12-1h0m3 1h0m3-5h0m1 1h0m7 2h0m4 3h0m2-1h0m3-1h0m1-2h0m1-1h0m6 5h0m5-1h0m4-2h0m11 0h0m8-2h0m0 3h0m6 0h0m1-4h0m11 3h0m-94 4h0m1 2h0m15-1h0m1 3h0m1-4h0m1 2h0m6 0h0m18 2h0m7-1h0m10 2h0m18-4h0m0 1h0m4-1h0m-37 9h0m13-2h0m28 2h0m-72 4h0m20 2h0m3-2h0m4 1h0m1-3h0m34 3h0m-41 3h0m22 0h0" stroke="#fca486" stroke-width="2.8"/><path d="M493 351h0m29 2h0m-2 8h0m14-4h0m-24 11h0m6-3h0m-6 10h0m-9 8h0m13 3h0m28-4h0m14-1h0m33 3h0m-94 6h0m16 1h0m22-2h0m12 3h0m14-4h0m21 1h0m34 3h0m-102 6h0m15-3h0m12-1h0m5 3h0m11-1h0m28-1h0m33 3h0m-95 3h0m18 1h0m34 1h0m4-1h0m21 0h0m-29 8h0m10-5h0m-35 9h0m30 3h0m1-1h0m9-1h0m-26 4h0m2 1h0m3-2h0m22 3h0m34-4h0m-75 9h0m16 3h0m26-1h0m-1 2h0m18 5h0m19 0h0" stroke="#fc8c6c" stroke-width="2.8"/><path d="M576 334h0m-30 6h0m-16 7h0m-2 9h0m43-2h0m-30 4h0m1 1h0m-17 6h0m14-2h0m12 5h0m-24 4h0m36-1h0m-36 6h0m17-2h0m4 5h0m4-1h0m-19 6h0m5-1h0m14 1h0m-6 5h0m35-2h0m0 0h0m-37 7h0m12 2h0m4 4h0m35 0h0m3 2h0" stroke="#fb7555" stroke-width="2.8"/><path d="M562 322h0m4 3h0m17 1h0m-28 6h0m7-4h0m1 2h0m-33 5h0m20 4h0m11-3h0m-11 6h0m1-3h0m5 4h0m3 0h0m14-1h0m4-1h0m-33 7h0m7 0h0m6 0h0m6 1h0m9-3h0m12 4h0m14 1h0m8-4h0m-73 5h0m6 2h0m21 1h0m1 2h0m15-5h0m-28 7h0m2 0h0m19 0h0m-5 9h0m23 0h0m-67 2h0m1 4h0m48-3h0m-27 8h0m7-4h0m-19 13h0m36 1h0" stroke="#f85d41" stroke-width="2.8"/><path d="M575 319h0m0 1h0m15-1h0m2 0h0m-26 5h0m5 2h0m0-5h0m18 4h0m18-3h0m17 4h0m-84 5h0m46 0h0m9-2h0m11-1h0m4 1h0m-59 8h0m0-4h0m22 3h0m1 0h0m9-1h0m2 3h0m4-1h0m11-3h0m16 3h0m14 0h0m-82 4h0m5 2h0m12-1h0m2 2h0m2-4h0m9 3h0m6-4h0m2 5h0m1-5h0m6 4h0m4 1h0m7-4h0m2 3h0m-75 8h0m21-5h0m11 1h0m11 3h0m5 1h0m8 0h0m4-4h0m8 0h0m13-1h0m-55 5h0m14 0h0m12 0h0m24 5h0m4 0h0m7-1h0m0-3h0m10 1h0m-82 6h0m40-1h0m9 1h0m1-2h0m-37 8h0m8 4h0m1-2h0m6-3h0m9 4h0m5-5h0m-17 9h0m6-1h0m2 3h0m4-5h0m32 4h0" stroke="#f14230" stroke-width="2.8"/><path d="M578 320h0m6 0h0m6-2h0m1-1h0m2 2h0m-34 5h0m14 2h0m12-4h0m1 5h0m5-4h0m11 3h0m3-3h0m2 0h0m5 1h0m4 1h0m-61 7h0m7-3h0m17 4h0m11-2h0m2 0h0m0-2h0m24 2h0m-34 3h0m11 3h0m10 1h0m16-3h0m5 3h0m-59 1h0m23 4h0m3 1h0m7-1h0m3 2h0m8-1h0m7-2h0m5 0h0m12-3h0m-33 11h0m4-5h0m16 2h0m1 1h0m-58 4h0m0 1h0m2-2h0m7 4h0m4-4h0m2 4h0m10-3h0m7-1h0m1 3h0m4 0h0m7 3h0m5-6h0m11 1h0m-46 10h0m3 0h0m24-5h0m10 0h0m-46 8h0m16-2h0m29 0h0m1 3h0m9-3h0m-47 8h0m10 3h0m29-5h0m7 5h0m1 6h0" stroke="#e02c26" stroke-width="2.8"/><path d="M557 326h0m52-2h0m-21 9h0m23-1h0m11-2h0m0-3h0m-36 8h0m26-1h0m16 0h0m-44 6h0m30 4h0m12-3h0m1 0h0m13 1h0m-29 8h0m3-1h0m6-3h0m4-1h0m7 1h0m-2 5h0m-4 8h0m-35 7h0m11-2h0m8 3h0m8 0h0m5-4h0m4 5h0m5-1h0m-25 6h0m3 0h0m-10 7h0m25 1h0m-2 2h0m-21 7h0" stroke="#cb181d" stroke-width="2.8"/><path d="M609 323h0m22 12h0m2 8h0m0-2h0m0 4h0m1 1h0m1 5h0m2-5h0m1 1h0m-4 5h0m3 5h0m-47 11h0m4-1h0m8-3h0m0 3h0m2-2h0m33-1h0m-46 9h0m9 2h0m1-5h0m0 0h0m1-1h0m4 4h0m4 0h0m-19 5h0m6 0h0m4-1h0m2-2h0m-5 6h0m1 4h0m5-4h0m3 4h0m0 0h0m6-1h0m-6 6h0" stroke="#b51318" stroke-width="2.8"/><path d="M615 339h0m26 10h0m1 0h0m-4 8h0m1 3h0m-32 5h0m30-1h0m-48 11h0m49-5h0m-49 8h0m20-1h0m-5 5h0m3 3h0m3-3h0m-8 8h0m3-3h0" stroke="#9c0d14" stroke-width="2.8"/><defs><linearGradient id="cbf" x1="0" y1="1" x2="0" y2="0"><stop offset="0.0" stop-color="#fff5f0"/><stop offset="0.1" stop-color="#fee4d8"/><stop offset="0.2" stop-color="#fdcab5"/><stop offset="0.3" stop-color="#fcab8e"/><stop offset="0.4" stop-color="#fc8a6a"/><stop offset="0.5" stop-color="#fb6a4a"/><stop offset="0.6" stop-color="#f14432"/><stop offset="0.7" stop-color="#d92623"/><stop offset="0.8" stop-color="#bc141a"/><stop offset="0.9" stop-color="#990c13"/><stop offset="1.0" stop-color="#67000d"/></linearGradient></defs><rect x="650" y="330.5" width="5.8" height="119" fill="url(#cbf)" stroke="#777" stroke-width="0.5"/><path d="M655.8 449.5H657.6" stroke="#444" stroke-width="0.7" stroke-linecap="butt"/><text x="659.6" y="452.6" font-size="9">0</text><path d="M655.8 434H657.6" stroke="#444" stroke-width="0.7" stroke-linecap="butt"/><text x="659.6" y="437.1" font-size="9">0.2</text><path d="M655.8 418.5H657.6" stroke="#444" stroke-width="0.7" stroke-linecap="butt"/><text x="659.6" y="421.6" font-size="9">0.4</text><path d="M655.8 403H657.6" stroke="#444" stroke-width="0.7" stroke-linecap="butt"/><text x="659.6" y="406.1" font-size="9">0.6</text><path d="M655.8 387.5H657.6" stroke="#444" stroke-width="0.7" stroke-linecap="butt"/><text x="659.6" y="390.6" font-size="9">0.8</text><path d="M655.8 372H657.6" stroke="#444" stroke-width="0.7" stroke-linecap="butt"/><text x="659.6" y="375.1" font-size="9">1.0</text><path d="M655.8 356.5H657.6" stroke="#444" stroke-width="0.7" stroke-linecap="butt"/><text x="659.6" y="359.6" font-size="9">1.2</text><path d="M655.8 341H657.6" stroke="#444" stroke-width="0.7" stroke-linecap="butt"/><text x="659.6" y="344.1" font-size="9">1.4</text><text x="657" y="317.4" font-size="9.6" text-anchor="end">DAPI</text><text x="657" y="327" font-size="9.6" text-anchor="end">1e6</text><text x="0.5" y="458" font-size="14" font-weight="bold">g</text><text x="243" y="457" font-size="14" font-weight="bold">i</text><text x="473.5" y="456.5" font-size="14" font-weight="bold">k</text><text x="345.4" y="462" font-size="10.2" text-anchor="middle" font-weight="bold">day 3</text><path d="M15.8 467.5H675.3" stroke="#111" stroke-width="1.1" stroke-linecap="butt"/><text x="0.5" y="701.4" font-size="14" font-weight="bold">h</text><text x="243" y="701.8" font-size="14" font-weight="bold">j</text><text x="477.5" y="703" font-size="14" font-weight="bold">l</text><text x="348.6" y="706.9" font-size="10.2" text-anchor="middle" font-weight="bold">day 14</text><path d="M15.8 711.9H675.3" stroke="#111" stroke-width="1.1" stroke-linecap="butt"/><path d="M26 490.5L119.5 475.4L210.1 493.5L200 629L120.8 686.3L37.5 627Z" fill="#e5ecf6"/><path d="M67.14 483.86L72.92 602.8M93.32 479.63L95.46 587.4M28.65 522L119.15 497.69M31.27 553L118.81 519.63M33.71 582L118.49 540.15M35.98 609L118.2 559.26M146.68 480.83L142.6 589.1M173.86 486.26L167.2 606.2M119.15 497.69L207.77 524.77M118.81 519.63L205.48 555.54M118.49 540.15L203.33 584.33M118.2 559.26L201.33 611.13M145.06 590.81L64.99 646.57M91.43 590.15L173.86 647.91M177.04 613.04L97.48 669.7M60.04 611.6L142.98 670.26M119.5 475.4L118 572M37.5 627L118 572L200 629" stroke="#fff" stroke-width="0.9" fill="none" stroke-linecap="butt"/><text x="23.8" y="495.5" font-size="9" text-anchor="middle">4</text><text x="23.8" y="526.6" font-size="9" text-anchor="middle">3</text><text x="23.8" y="559.1" font-size="9" text-anchor="middle">2</text><text x="23.8" y="588.6" font-size="9" text-anchor="middle">1</text><text x="23.8" y="615.9" font-size="9" text-anchor="middle">0</text><text transform="translate(17.8 555) rotate(-90)" font-size="9.6" text-anchor="middle">Vim (RFI)</text><text x="40.5" y="668.7" font-size="9.3">PHATE2</text><text x="164.1" y="668.7" font-size="9.3">PHATE1</text><defs><path id="q1" d="M183 581h0m-127 6h0m72 4h0m29-4h0m7 2h0m4-3h0m11 4h0m-116 5h0m0-4h0m7 3h0m24 2h0m31-1h0m3-1h0m3 0h0m1-1h0m20 2h0m3-1h0m3-2h0m15 0h0m1-1h0m6 5h0m11-4h0m-104 7h0m9 2h0m1-3h0m8 3h0m4-3h0m1 2h0m34-2h0m1 2h0m3 1h0m12-3h0m8 4h0m-126 6h0m21-4h0m15 4h0m5-3h0m0-2h0m1 0h0m8 5h0m2-2h0m2 2h0m18-4h0m11 0h0m29 2h0m0-2h0m2 2h0m2 2h0m0-2h0m4-1h0m21 1h0m2 2h0m-130 2h0m38-1h0m21 3h0m28-3h0m8 6h0m10-3h0m5-1h0m2 3h0m-107 1h0m39 3h0m27 2h0m16-1h0m22-3h0m14 0h0m5 3h0m8-1h0m-66 5h0m16 1h0m3 0h0m8 1h0m3 8h0"/></defs><use href="#q1" stroke="#6e6e6e" stroke-width="2.8"/><use href="#q1" stroke="#8bc1dc" stroke-width="2"/><defs><path id="q2" d="M47 533h0m1 22h0m-8 25h0m7 3h0m111 1h0m5-2h0m12-2h0m3 3h0m9-1h0m4 0h0m-153 4h0m8-1h0m3 2h0m14 1h0m88 0h0m2-2h0m0 1h0m15-2h0m2 6h0m20-3h0m2-2h0m-147 7h0m10 3h0m2-2h0m1-1h0m1-2h0m1 5h0m8-1h0m2 0h0m42 1h0m24-2h0m3 3h0m6-3h0m3 0h0m1-1h0m0 1h0m1-2h0m4 4h0m2 0h0m0 0h0m6-2h0m3-3h0m2 3h0m8 2h0m12-2h0m3 1h0m0 1h0m2-2h0m-153 4h0m28 1h0m27-2h0m1 3h0m9 0h0m8 0h0m3-2h0m6 0h0m4 1h0m8 3h0m10-5h0m1 5h0m6-4h0m0 3h0m10 1h0m6-5h0m2 3h0m19 3h0m-146 3h0m5 2h0m1-1h0m6 0h0m14-2h0m6 0h0m6-1h0m13 1h0m5 1h0m2 0h0m9-1h0m0-1h0m2-1h0m1 4h0m3-1h0m6-2h0m4 1h0m1 1h0m18 2h0m5 0h0m8-2h0m1-2h0m2 5h0m5-5h0m8 3h0m8-4h0m2 5h0m2-2h0m4 3h0m-138 4h0m36-3h0m9 2h0m4 1h0m1-1h0m1-2h0m3 3h0m9-2h0m2-2h0m5 6h0m2-6h0m3 1h0m8-1h0m11 3h0m8 1h0m2-3h0m9 0h0m22 2h0m9 0h0m-144 3h0m1 0h0m59 3h0m3-2h0m1 3h0m20-4h0m14 6h0m1-5h0m11-1h0m3 3h0m29 0h0m0-1h0m-68 5h0m20-1h0m0 4h0m13-1h0m15 2h0m3 0h0m3-5h0m1 2h0m-5 6h0m8-1h0"/></defs><use href="#q2" stroke="#6e6e6e" stroke-width="2.8"/><use href="#q2" stroke="#c1ddec" stroke-width="2"/><defs><path id="q3" d="M39 496h0m9 70h0m-4 2h0m-6 13h0m3 0h0m12 1h0m115 1h0m15 1h0m2-2h0m0-2h0m4-1h0m2 6h0m-154 3h0m2-2h0m0 1h0m3 0h0m2 2h0m6 0h0m6 1h0m3-2h0m3-1h0m89 1h0m2-1h0m9 1h0m11 2h0m6-3h0m7 0h0m-144 6h0m4 1h0m13-2h0m38 5h0m20-3h0m10 3h0m1-5h0m1 4h0m8 1h0m4-5h0m7 0h0m5-1h0m2 2h0m4 3h0m1-4h0m8 2h0m2 2h0m8-4h0m2 1h0m5 2h0m7 1h0m0-4h0m-142 9h0m7-3h0m42-1h0m0 4h0m5-2h0m11 3h0m3 1h0m1-1h0m18-2h0m13-3h0m0 0h0m7 4h0m7 0h0m6-2h0m8-2h0m3 4h0m1 2h0m3-2h0m1 0h0m7-4h0m-152 6h0m24 1h0m3 1h0m2 2h0m1 0h0m1 0h0m2-2h0m5 3h0m12-1h0m1 2h0m4-4h0m4-2h0m9 2h0m3 0h0m2 2h0m16-2h0m0 3h0m2-3h0m9 0h0m1 1h0m3-1h0m2 1h0m9 2h0m1-2h0m1 2h0m0 0h0m3-1h0m1-3h0m15 3h0m3-2h0m6 0h0m7-1h0m-141 11h0m2-1h0m6-4h0m26 0h0m12 3h0m3-1h0m15 0h0m4 0h0m7 2h0m7-3h0m7-2h0m7 5h0m0-1h0m5-1h0m6 1h0m8 0h0m2 0h0m4-2h0m5 3h0m2-3h0m2 1h0m-120 3h0m36 3h0m7 0h0m18-2h0m19 0h0m6 1h0m2 3h0m3 0h0m8-2h0m4 2h0m2-1h0m1 2h0m7-6h0m7 1h0m-70 6h0m16 1h0m3 1h0m5-1h0m4 0h0m2-2h0m5 1h0m13 1h0m14 4h0m1 0h0m3-3h0m1-2h0m3 1h0m2 3h0m-27 2h0m1 0h0m5 1h0m3 3h0m2-5h0"/></defs><use href="#q3" stroke="#6e6e6e" stroke-width="2.8"/><use href="#q3" stroke="#e7f0f4" stroke-width="2"/><defs><path id="q4" d="M169 585h0m5-1h0m3-4h0m17-1h0m-46 7h0m19 1h0m3 3h0m22 4h0m-52 11h0m49-1h0m0 4h0m-44 8h0m10 0h0m17 3h0m13 0h0m-12 4h0m-13 13h0"/></defs><use href="#q4" stroke="#6e6e6e" stroke-width="2.8"/><use href="#q4" stroke="#faebe3" stroke-width="2"/><path d="M157 579h0m0 0h0m-73 2h0m1 2h0m24-1h0m2 0h0m9 3h0m4 0h0m3-3h0m6 0h0m3-2h0m1 2h0m3 3h0m2-1h0m4-3h0m10 2h0m3-2h0m5 1h0m2 1h0m-82 3h0m1 0h0m13 2h0m4 2h0m2-1h0m32 1h0m17 0h0m1-4h0m3 0h0m2 4h0m0 0h0m7-3h0m3 2h0m8-2h0m16 3h0m-123 5h0m1 0h0m2 2h0m3-5h0m14 2h0m6 2h0m4-4h0m36 3h0m27 1h0m6-2h0m1-2h0m7 0h0m3 0h0m7-1h0m2 3h0m2-2h0m-127 9h0m7-2h0m11 1h0m21 1h0m0-4h0m9 5h0m8 0h0m2-1h0m8-2h0m4 3h0m1-3h0m3 4h0m1-3h0m17 1h0m1 1h0m4-4h0m9 5h0m1-1h0m6-3h0m10 0h0m1 1h0m6 2h0m-98 7h0m1-6h0m3 4h0m2-3h0m9 3h0m18-1h0m2-3h0m5 1h0m7 2h0m0 3h0m1-1h0m3 1h0m14-6h0m10 4h0m15-1h0m3 1h0m-110 8h0m17-2h0m14-3h0m7 1h0m3 3h0m0 0h0m1-4h0m4 1h0m2-1h0m19 2h0m0-1h0m2-2h0m0 5h0m1-1h0m0-2h0m3 4h0m18-6h0m25 3h0m1 1h0m-132 3h0m49 1h0m1 0h0m12 2h0m4 0h0m15 1h0m14-3h0m8 4h0m8-3h0m12-3h0m1 3h0m3-2h0m4 2h0m-17 3h0" stroke="#333333" stroke-width="1.7"/><defs><path id="q5" d="M39 560h0m-2 19h0m6 2h0m6 2h0m106 7h0m19-4h0m-129 8h0m8 2h0m13-5h0m14 6h0m65-4h0m25 3h0m-118 2h0m24 1h0m11-2h0m2 4h0m10 0h0m9 0h0m7 1h0m1 1h0m1-1h0m5-4h0m25 3h0m3 2h0m4-5h0m3 5h0m-94 5h0m11-3h0m1-2h0m20 6h0m23-2h0m25-1h0m3 0h0m0-1h0m1 2h0m11-1h0m0-3h0m-76 7h0m23 1h0m6 0h0m9 3h0m38 1h0m8-2h0m-63 3h0m5 1h0m22 2h0m17-2h0m3 4h0m3-3h0m2 1h0m-14 4h0m1 0h0m24-2h0m-1 11h0m7-1h0m-17 2h0m9 1h0"/></defs><use href="#q5" stroke="#6e6e6e" stroke-width="2.8"/><use href="#q5" stroke="#8bc1dc" stroke-width="2"/><defs><path id="q6" d="M43 527h0m-5 50h0m1 0h0m6 2h0m133 0h0m7-2h0m-147 6h0m3-4h0m5 1h0m3 1h0m118 3h0m14-4h0m2 1h0m10 2h0m-155 5h0m0-2h0m25 0h0m1 1h0m10 3h0m72-3h0m7-1h0m5-1h0m18 2h0m10-1h0m8 3h0m-137 4h0m12 2h0m10-3h0m37 0h0m1 0h0m12 2h0m7 0h0m1 2h0m13 0h0m2-2h0m3 2h0m29-2h0m-140 8h0m1-4h0m2 4h0m1-4h0m1 0h0m21 0h0m13 2h0m0-2h0m1 5h0m1-4h0m4 1h0m4 1h0m4-2h0m6 1h0m7 2h0m5-3h0m2 3h0m5-2h0m8-1h0m5-2h0m6 1h0m5 1h0m9 3h0m3-1h0m19 0h0m0 0h0m1 2h0m11-1h0m2 0h0m1-4h0m-141 9h0m10 1h0m0-2h0m3-1h0m0 3h0m3-5h0m2 3h0m3 2h0m5-4h0m0 0h0m11 1h0m3-2h0m3 2h0m7-1h0m5 0h0m1 3h0m3-4h0m6 3h0m0 3h0m4-5h0m1 5h0m1-4h0m2 2h0m2 1h0m2 1h0m12-4h0m3 0h0m4-2h0m2 4h0m3-3h0m2 2h0m7-1h0m1 1h0m2-3h0m2 4h0m0-4h0m4 5h0m8-4h0m1 4h0m2-1h0m8 0h0m1 1h0m2-3h0m0-2h0m-148 8h0m4 3h0m16-4h0m2 1h0m1 2h0m1 0h0m1 0h0m16-4h0m3 0h0m10 2h0m10 1h0m1-3h0m14 2h0m13-1h0m17 0h0m1-1h0m1 4h0m8 1h0m7-1h0m5 0h0m5 1h0m4-4h0m4 3h0m-136 4h0m47 3h0m4-1h0m1 0h0m12-1h0m14 0h0m5-3h0m4 6h0m9-2h0m3-4h0m22 2h0m3 1h0m13 3h0m-49 3h0m2 0h0m0-1h0m10 0h0m5 3h0m14-1h0m0-1h0m5-3h0m4 1h0m2-1h0m0 3h0m5 2h0m-42 1h0m9 6h0m2 0h0m5 1h0"/></defs><use href="#q6" stroke="#6e6e6e" stroke-width="2.8"/><use href="#q6" stroke="#c1ddec" stroke-width="2"/><defs><path id="q7" d="M32 511h0m16 19h0m-13 24h0m2 29h0m4-1h0m12 3h0m115-1h0m12-3h0m-137 4h0m2 6h0m12-6h0m84 5h0m8-3h0m6 2h0m5-4h0m0 4h0m1 1h0m5-5h0m1 5h0m4-4h0m-133 9h0m2 0h0m0-2h0m1 1h0m7-1h0m18 0h0m5 3h0m2 0h0m7-1h0m11 1h0m39-4h0m6 3h0m4-3h0m0 2h0m1-1h0m7-2h0m9 5h0m16-2h0m3-3h0m0 5h0m2-5h0m3 4h0m1 0h0m-129 6h0m10-1h0m3-2h0m8 2h0m17-1h0m2 1h0m0 1h0m6 0h0m6-3h0m3 0h0m9 3h0m3-3h0m0 5h0m7-1h0m19 0h0m7 0h0m3-2h0m0 2h0m17 0h0m5-4h0m6 0h0m3 2h0m0 2h0m4-2h0m-148 6h0m4-1h0m1-2h0m2 2h0m6-2h0m3 2h0m6 3h0m7-4h0m6 0h0m13 0h0m1 1h0m7-1h0m9 1h0m1 0h0m5 0h0m2 3h0m3-1h0m6 2h0m5-5h0m10-1h0m5 2h0m4 0h0m7 2h0m12 2h0m13-5h0m3 1h0m3-1h0m0 0h0m-99 8h0m3-1h0m5-1h0m0 2h0m6-1h0m5 0h0m4 2h0m7 2h0m0-5h0m7 0h0m7 2h0m3-1h0m1 3h0m8-4h0m8 4h0m8-2h0m15-2h0m7 3h0m9-3h0m0 2h0m-87 8h0m3-3h0m2 3h0m5-3h0m2 4h0m4-4h0m1 0h0m3 3h0m25-4h0m0 4h0m6-5h0m1 2h0m6 1h0m7-1h0m-68 4h0m19 1h0m36 4h0m3-4h0m6-1h0m25 2h0m0-1h0m-44 6h0m8 0h0m1 4h0m11 0h0m6 0h0"/></defs><use href="#q7" stroke="#6e6e6e" stroke-width="2.8"/><use href="#q7" stroke="#e7f0f4" stroke-width="2"/><defs><path id="q8" d="M173 600h0m18-2h0m-10 10h0m-18 8h0m9 3h0m-14 4h0m11 4h0"/></defs><use href="#q8" stroke="#6e6e6e" stroke-width="2.8"/><use href="#q8" stroke="#faebe3" stroke-width="2"/><path d="M90 580h0m3 2h0m5 2h0m38 0h0m4 0h0m19-1h0m7 1h0m0-2h0m1 0h0m1 0h0m2 2h0m3 0h0m-83 5h0m1 2h0m7-3h0m1 1h0m3-3h0m5 1h0m5 2h0m7-2h0m1 4h0m15-2h0m15 0h0m0-1h0m1 1h0m15 2h0m2-1h0m6 1h0m11-3h0m-114 4h0m9 4h0m0-2h0m24 1h0m1 2h0m0-2h0m6-1h0m34-1h0m4 4h0m3-3h0m2 3h0m8-3h0m0-2h0m1 2h0m13 0h0m6 3h0m5-1h0m-119 3h0m0 4h0m2-4h0m3 0h0m0-1h0m5-1h0m4 2h0m2 1h0m1-2h0m1-1h0m3 5h0m9 0h0m6-4h0m1 4h0m4-3h0m4 2h0m24-4h0m9 1h0m5 5h0m10-2h0m1-2h0m4 3h0m0-1h0m4 0h0m11 2h0m10-2h0m-127 3h0m30 0h0m24 3h0m7 1h0m4-3h0m14 0h0m3 1h0m19-1h0m2 4h0m3-3h0m10-3h0m10 2h0m6 1h0m-124 6h0m15-2h0m6 5h0m8-4h0m4 4h0m8-3h0m6-2h0m1 0h0m1 1h0m6 3h0m5-2h0m1-1h0m0 4h0m11-1h0m12-3h0m6 1h0m1 0h0m11 1h0m1 2h0m4-5h0m12 1h0m2 0h0m-131 4h0m7 2h0m5 0h0m5-1h0m3 0h0m1-1h0m3 3h0m12-2h0m0 2h0m13-3h0m9 5h0m1-1h0m2-1h0m1 2h0m2-4h0m5 4h0m1-3h0m15 0h0m7 3h0m1-5h0m7 3h0m7 2h0m2-2h0m18 2h0m5-4h0m1 5h0m-7 0h0" stroke="#333333" stroke-width="1.7"/><defs><path id="q9" d="M38 554h0m-1 24h0m138 1h0m-112 6h0m100-1h0m-114 5h0m0-3h0m4 1h0m96 4h0m21-3h0m-120 4h0m23 2h0m30-2h0m2 1h0m37 2h0m-102 3h0m57 5h0m3-6h0m25 5h0m1-3h0m3-1h0m16 2h0m26-2h0m5-1h0m-128 7h0m9 2h0m15-2h0m17 0h0m19 4h0m6 1h0m11-5h0m15-1h0m1 6h0m3-2h0m5-4h0m9 2h0m19 3h0m4-3h0m-134 8h0m0-3h0m3 4h0m4-2h0m5-1h0m28-2h0m7 0h0m1 2h0m6 2h0m2 0h0m0-2h0m6 4h0m1-5h0m16 4h0m8-2h0m17 0h0m4-2h0m9 0h0m3-1h0m19 5h0m-84 7h0m58-4h0m8 0h0m1 0h0m-18 7h0m2-1h0m6 2h0m3 1h0m6 7h0m3-5h0m9 2h0"/></defs><use href="#q9" stroke="#6e6e6e" stroke-width="2.8"/><use href="#q9" stroke="#8bc1dc" stroke-width="2"/><defs><path id="q10" d="M39 556h0m0 5h0m-1 10h0m0 7h0m150-1h0m5 1h0m-156 1h0m0 5h0m1 1h0m6-5h0m16 5h0m97 0h0m18-2h0m10 1h0m1 0h0m1 1h0m-141 2h0m1 2h0m22-1h0m88 1h0m35-1h0m0-3h0m-147 12h0m6-1h0m1 0h0m8-2h0m7 2h0m21-3h0m7 2h0m6 1h0m3 0h0m4 0h0m7-3h0m32 4h0m12-2h0m8-1h0m1-2h0m-121 5h0m6 1h0m19-1h0m7 5h0m14 0h0m8-1h0m0-1h0m5-1h0m2 3h0m0 0h0m11 1h0m1-5h0m3 1h0m0 0h0m8 3h0m9-1h0m1-1h0m8-1h0m1 3h0m-107 5h0m3-3h0m3 2h0m13-2h0m9 5h0m2 0h0m6-2h0m4-2h0m9 4h0m6-4h0m2-1h0m7 2h0m0-2h0m7 5h0m10-6h0m2 6h0m1-2h0m7 0h0m6-1h0m1-2h0m0 0h0m1 0h0m6 3h0m11-4h0m22 4h0m5 1h0m5 0h0m-146 2h0m1 1h0m4 0h0m15 2h0m1 0h0m14-2h0m16-1h0m0 5h0m10-1h0m3-3h0m1 4h0m6-6h0m1 2h0m1 2h0m17-2h0m1 1h0m3 0h0m3 1h0m7-1h0m7 0h0m1 0h0m3 1h0m2 1h0m11 0h0m8 0h0m4-3h0m8-2h0m-134 9h0m1-1h0m43-2h0m14 2h0m5 4h0m2-2h0m29 2h0m13-4h0m5 0h0m8 1h0m7-3h0m3 5h0m1-2h0m-71 5h0m21 1h0m6-1h0m35 3h0m0-2h0m8-1h0m-25 4h0m16 3h0m4-3h0m0 2h0"/></defs><use href="#q10" stroke="#6e6e6e" stroke-width="2.8"/><use href="#q10" stroke="#c1ddec" stroke-width="2"/><defs><path id="q11" d="M53 573h0m133 6h0m1-2h0m0 1h0m-148 2h0m12 2h0m2 1h0m7 1h0m118 1h0m0-5h0m-129 11h0m6-1h0m2 0h0m90-1h0m11-2h0m18 0h0m4 1h0m-142 4h0m10 2h0m0-2h0m1 3h0m1-1h0m5-1h0m7 3h0m5 0h0m27 0h0m2-1h0m1 1h0m1-1h0m2 0h0m4-2h0m7 0h0m39 2h0m2 1h0m21 0h0m2-5h0m10 4h0m3 0h0m3-1h0m-152 4h0m15 0h0m25 1h0m25 2h0m4 0h0m0-2h0m1 3h0m7 0h0m2-3h0m4-1h0m4 3h0m3 1h0m1 1h0m16-5h0m9 1h0m3 3h0m3-2h0m10 1h0m5-3h0m11 2h0m4 2h0m-139 7h0m8-4h0m12-1h0m0 1h0m3 2h0m0 1h0m0-4h0m18 4h0m3 0h0m0 1h0m7-3h0m1-2h0m2 3h0m7-1h0m2 2h0m6-1h0m23-2h0m5 3h0m5 1h0m3 0h0m1-1h0m4-4h0m1-1h0m15 5h0m8 0h0m5-3h0m-144 7h0m10 2h0m45 0h0m2-4h0m4 5h0m1-4h0m4 3h0m2-3h0m1 1h0m28 2h0m4-1h0m6 1h0m1 0h0m3-3h0m1-1h0m5 3h0m2-3h0m0 0h0m1 3h0m18-2h0m3-1h0m1 1h0m-130 5h0m40 5h0m10-5h0m2 4h0m4-5h0m17 0h0m11 1h0m2 4h0m4-2h0m1 1h0m1-2h0m6-1h0m5 4h0m3 0h0m5 1h0m16-3h0m3 1h0m-43 6h0m2 2h0m2-4h0m12-1h0m8 3h0m1-2h0m2 0h0m-26 4h0m12 4h0m4 2h0m3-2h0m4 1h0m-7 2h0m1 0h0"/></defs><use href="#q11" stroke="#6e6e6e" stroke-width="2.8"/><use href="#q11" stroke="#e7f0f4" stroke-width="2"/><defs><path id="q12" d="M182 586h0m2 3h0m-11 6h0m1-1h0m18 1h0m-49 9h0m8 2h0m19-1h0m5 0h0m19 3h0m-5 2h0m-44 7h0m2 0h0m16 2h0m-17 3h0m5 4h0m4-4h0m21 1h0m12 3h0m-19 7h0"/></defs><use href="#q12" stroke="#6e6e6e" stroke-width="2.8"/><use href="#q12" stroke="#faebe3" stroke-width="2"/><path d="M81 583h0m21-2h0m0 2h0m5 1h0m16-3h0m8 3h0m3-4h0m5 3h0m5-1h0m5-1h0m2-1h0m9 4h0m7 1h0m5-1h0m-94 4h0m6 1h0m9-2h0m3 0h0m2 1h0m17-2h0m9 4h0m1 0h0m2-4h0m12 1h0m2-1h0m0 3h0m4-2h0m9 1h0m4-1h0m1 0h0m5 3h0m8-5h0m10 6h0m1-4h0m1 0h0m-107 8h0m3 0h0m7 0h0m1 1h0m0-5h0m1 1h0m13 0h0m2 5h0m6-4h0m1 0h0m17-1h0m14 1h0m28 3h0m4-1h0m5 0h0m2-2h0m0 0h0m11 4h0m-121 3h0m3-1h0m3 2h0m22-3h0m7 1h0m13-1h0m2 3h0m3-2h0m4 1h0m8 0h0m8 2h0m0-2h0m1-1h0m4 0h0m12-1h0m13 2h0m11-1h0m1 2h0m9 2h0m0-3h0m-123 7h0m6-3h0m2 1h0m12 1h0m1-1h0m3 3h0m9-3h0m0 3h0m0-4h0m24 0h0m0 0h0m7 2h0m20 0h0m1-2h0m3 4h0m4-2h0m2-3h0m12 1h0m3 4h0m3 0h0m3-5h0m2 3h0m-125 4h0m9 0h0m0 2h0m3 0h0m0 2h0m11-2h0m5 1h0m17-3h0m7 4h0m16-4h0m17 0h0m2 5h0m3 0h0m7-1h0m9-2h0m4 0h0m5 2h0m9 0h0m5 0h0m-126 3h0m10 1h0m2 0h0m5 0h0m7-2h0m4 0h0m6 1h0m0 1h0m3-2h0m1 1h0m9 2h0m4 1h0m8-3h0m1-1h0m24 4h0m10-3h0m7-1h0m1 2h0m6 2h0m0-2h0m5 0h0m1-2h0m4 1h0m0-2h0m11 6h0m-30 0h0m29 0h0" stroke="#333333" stroke-width="1.7"/><defs><path id="q13" d="M178 578h0m6 0h0m-145 7h0m6-2h0m8 0h0m115 0h0m19-3h0m-147 7h0m3 2h0m19 2h0m82-4h0m1 1h0m20 0h0m6-3h0m8 2h0m6 0h0m-145 9h0m18-5h0m13 4h0m65 1h0m6 0h0m27 0h0m16-5h0m-138 9h0m11 2h0m9-2h0m10 0h0m4-2h0m6 5h0m19-1h0m17 1h0m15-3h0m1 2h0m18-3h0m-115 5h0m5 4h0m1-3h0m4-1h0m27 4h0m3-1h0m9 1h0m13-5h0m0 2h0m42 2h0m13-3h0m12 0h0m12 5h0m-133 4h0m6-2h0m4 3h0m9-2h0m15-1h0m16 3h0m11-3h0m1-1h0m7 2h0m24-2h0m5 3h0m10-3h0m14 0h0m-113 6h0m64 4h0m3-1h0m5-2h0m10 0h0m5 4h0m0-1h0m3-3h0m12-1h0m10 5h0m19-2h0m-46 2h0m8 2h0m15-2h0m16 7h0"/></defs><use href="#q13" stroke="#6e6e6e" stroke-width="2.8"/><use href="#q13" stroke="#8bc1dc" stroke-width="2"/><defs><path id="q14" d="M39 551h0m7 3h0m3 18h0m-2 11h0m0-3h0m2 3h0m3-2h0m120 0h0m2 4h0m1-2h0m12 2h0m-149 3h0m6-3h0m4 0h0m5 3h0m2 2h0m7 0h0m82 0h0m3 1h0m5-4h0m3 2h0m5 1h0m14-1h0m10-2h0m5 2h0m-150 5h0m0-3h0m5 2h0m1 3h0m11-3h0m4 0h0m15 1h0m4 2h0m4-2h0m15 2h0m4 1h0m1-3h0m3 1h0m14-1h0m48 0h0m2-3h0m1 5h0m2-3h0m2 1h0m12 3h0m7-1h0m-145 5h0m4 0h0m1 0h0m12 1h0m2-2h0m14-2h0m1 0h0m6 2h0m2-3h0m6 4h0m0-1h0m4-2h0m3 5h0m7-6h0m3 2h0m3 1h0m1-3h0m1 4h0m9-4h0m15 5h0m2-3h0m9 3h0m2-2h0m25 0h0m13-1h0m-147 7h0m0-1h0m4 4h0m13-2h0m18-2h0m11 3h0m0 0h0m6 1h0m2-3h0m3-1h0m3-1h0m2 5h0m0-3h0m6-2h0m0 1h0m5 4h0m3-3h0m18-1h0m1-2h0m7 0h0m2 5h0m1-1h0m1-2h0m14 0h0m10 0h0m4 0h0m-136 7h0m2-1h0m1-1h0m19-1h0m0 5h0m0 0h0m5-4h0m14 0h0m2-1h0m14 1h0m2 1h0m0 1h0m4 0h0m1-2h0m6 0h0m2 1h0m2 3h0m0 1h0m1-6h0m9 0h0m13 3h0m5 1h0m5-2h0m1 2h0m2 1h0m3 1h0m6-6h0m10 1h0m12 4h0m1-2h0m-122 5h0m43 2h0m2 1h0m11 0h0m6-3h0m5 4h0m13-5h0m7 4h0m4-5h0m6 4h0m10-1h0m11 3h0m-42 0h0m11 5h0m19-1h0m8-2h0m1 2h0m8 0h0m1 1h0m-37 2h0m3 4h0m3 0h0m0 1h0m2-2h0m20-2h0"/></defs><use href="#q14" stroke="#6e6e6e" stroke-width="2.8"/><use href="#q14" stroke="#c1ddec" stroke-width="2"/><defs><path id="q15" d="M57 568h0m119 10h0m4 1h0m-143 0h0m7 4h0m10 1h0m123-1h0m5-1h0m3 0h0m1-3h0m-144 6h0m8 4h0m10-3h0m3 4h0m83 1h0m4-4h0m1 2h0m7-2h0m9 3h0m7 0h0m10 0h0m9 0h0m-142 7h0m10-1h0m10-2h0m0 1h0m10-4h0m7 2h0m18-1h0m5 4h0m9 1h0m1-1h0m7-2h0m0 0h0m0 1h0m4 1h0m5-4h0m1 3h0m3-3h0m8 2h0m2 1h0m1-1h0m7-2h0m2 4h0m13-3h0m1 3h0m9-3h0m0 1h0m10 0h0m0 1h0m-143 4h0m1 2h0m8 1h0m2 0h0m0 0h0m6-4h0m4 4h0m10-1h0m5 1h0m10-4h0m1 0h0m2 2h0m4 1h0m17-3h0m14 1h0m1 0h0m4 0h0m5 1h0m0 2h0m1-2h0m17 3h0m0-6h0m12 2h0m2 4h0m5-3h0m7-3h0m0 3h0m5-1h0m-120 6h0m6 4h0m14-1h0m2 0h0m4 1h0m4-5h0m1 4h0m4 0h0m9-5h0m1 2h0m1 0h0m0-2h0m22 5h0m1 0h0m2 0h0m1-5h0m1 1h0m1-1h0m10 1h0m6 3h0m4-3h0m1 0h0m6 4h0m-131 3h0m16-1h0m9 0h0m2 1h0m0 0h0m23 2h0m4-1h0m8-3h0m10 4h0m3-2h0m8 1h0m14 2h0m0-4h0m7 1h0m27-1h0m1 1h0m4-1h0m2-1h0m7 3h0m-130 5h0m57 2h0m15-3h0m9 2h0m4-2h0m1 1h0m3 3h0m6-5h0m1 6h0m32-4h0m2 4h0m1-1h0m-77 2h0m4-1h0m25 4h0m3-3h0m5 0h0m15 2h0m7 1h0m13-1h0m-41 3h0m11 3h0m29-2h0"/></defs><use href="#q15" stroke="#6e6e6e" stroke-width="2.8"/><use href="#q15" stroke="#e7f0f4" stroke-width="2"/><defs><path id="q16" d="M184 579h0m1 8h0m2-1h0m-45 8h0m7 12h0m12-2h0m11 1h0m-29 14h0m10 5h0m33 0h0m-21 6h0m19 0h0"/></defs><use href="#q16" stroke="#6e6e6e" stroke-width="2.8"/><use href="#q16" stroke="#faebe3" stroke-width="2"/><path d="M87 581h0m0 1h0m1 2h0m8 0h0m4 1h0m4-1h0m4-3h0m11 2h0m13 0h0m8-3h0m20 5h0m2-2h0m6 2h0m9-1h0m-80 7h0m1-4h0m6 4h0m0-4h0m3 0h0m1 2h0m3 0h0m4-1h0m2 3h0m3-2h0m2-4h0m18 5h0m2-4h0m4 4h0m21 0h0m16-2h0m11 2h0m-123 3h0m1 4h0m6-5h0m3 2h0m14 2h0m0 0h0m2 1h0m52-4h0m21 3h0m5-4h0m0 1h0m16 2h0m-124 6h0m3 1h0m4-3h0m5 4h0m8-5h0m6 5h0m1 0h0m8-2h0m19 0h0m1-4h0m6 5h0m8-3h0m14 2h0m4 0h0m9-3h0m4 3h0m3-3h0m2 3h0m17 1h0m-127 4h0m2 2h0m6-1h0m10-1h0m2 2h0m28-5h0m1 4h0m6-2h0m2 0h0m2 3h0m0-2h0m1 2h0m2-1h0m1-1h0m1 2h0m5 1h0m8-3h0m14-1h0m1 2h0m11 0h0m2-2h0m-94 7h0m3 3h0m1-1h0m20-2h0m5-2h0m1 1h0m6 0h0m18 1h0m7 0h0m25-1h0m2 3h0m3-4h0m3 0h0m5 0h0m3 3h0m1 2h0m3-1h0m7-1h0m8-2h0m-129 6h0m16 0h0m12-2h0m2 0h0m3 1h0m0 0h0m13-1h0m18 4h0m9 0h0m2 0h0m26-2h0m1 1h0m4 0h0m5-2h0m11 5h0m1-3h0m1 3h0m3-6h0" stroke="#333333" stroke-width="1.7"/><defs><path id="q17" d="M43 518h0m-3 35h0m-3 26h0m139-1h0m-8 3h0m-128 9h0m114 0h0m2-5h0m7 5h0m-114 3h0m14 2h0m15 1h0m17 1h0m42-5h0m7 3h0m1-3h0m4 4h0m16-3h0m14 0h0m7 3h0m-96 7h0m13-1h0m27-3h0m0 2h0m8 0h0m3-2h0m8 3h0m17-1h0m26 0h0m-137 8h0m29-3h0m8 3h0m0-5h0m3 3h0m8-3h0m3 3h0m10-1h0m6-1h0m1 2h0m15 0h0m1-4h0m30 0h0m3 6h0m1-6h0m2 5h0m-126 6h0m16 0h0m42-4h0m0 3h0m5-2h0m2 1h0m11 2h0m13-1h0m14-2h0m7 3h0m35-3h0m-88 8h0m31-3h0m9 0h0m5 4h0m33 0h0m6-4h0m-73 6h0m21 2h0m21-1h0m6 0h0m11-2h0"/></defs><use href="#q17" stroke="#6e6e6e" stroke-width="2.8"/><use href="#q17" stroke="#8bc1dc" stroke-width="2"/><defs><path id="q18" d="M57 561h0m-23 2h0m4 7h0m12-2h0m116 16h0m-126 1h0m10 2h0m14 2h0m82 2h0m2-4h0m8-1h0m18 5h0m-132 4h0m0-1h0m1 0h0m1 2h0m6-4h0m26 2h0m4-3h0m5 4h0m20 1h0m15-2h0m16 2h0m26 0h0m15-4h0m2 4h0m4-5h0m3 0h0m3 2h0m0 0h0m-151 5h0m20 1h0m4 3h0m2-4h0m4 5h0m3-4h0m5 0h0m1-1h0m9 1h0m3-2h0m3 5h0m7-1h0m1-4h0m18 2h0m1 1h0m2 2h0m27-1h0m8 0h0m3-2h0m23 3h0m6-1h0m-148 4h0m19 0h0m13 2h0m18 0h0m0 0h0m1-2h0m0-2h0m1 4h0m4 2h0m1-1h0m2-1h0m10-1h0m7 2h0m5-1h0m3 2h0m5 0h0m14-5h0m1 1h0m13 1h0m2 0h0m3-2h0m31 0h0m-137 10h0m4-3h0m29 1h0m14 1h0m0-4h0m4 2h0m3 1h0m1 0h0m1 1h0m0 2h0m5-1h0m19-5h0m9 5h0m1 1h0m7-5h0m1 2h0m0 3h0m0-5h0m4 2h0m0-2h0m2 0h0m2 4h0m1 0h0m4 0h0m8 1h0m0-3h0m3 2h0m1 0h0m2-4h0m12 0h0m-72 10h0m1-5h0m4 5h0m11-2h0m15-1h0m3-1h0m1 0h0m6 3h0m8 0h0m-50 4h0m14-1h0m1-1h0m5 4h0m5 0h0m1-1h0m2 1h0m8-4h0m4 1h0m7 0h0m14 1h0m-9 10h0"/></defs><use href="#q18" stroke="#6e6e6e" stroke-width="2.8"/><use href="#q18" stroke="#c1ddec" stroke-width="2"/><defs><path id="q19" d="M48 555h0m0 16h0m-9 7h0m139 0h0m-139 6h0m133-1h0m10 2h0m6-4h0m-151 9h0m10 0h0m5-2h0m7 2h0m0-4h0m88 1h0m5-1h0m2 3h0m6 2h0m16-3h0m10 3h0m3-2h0m0-2h0m-151 4h0m7 5h0m4-2h0m6-2h0m5 3h0m5 0h0m4-2h0m4 0h0m9 1h0m5 1h0m25 2h0m5-2h0m19-2h0m4 3h0m2 0h0m1-3h0m10 1h0m9-2h0m5 4h0m12-2h0m1 0h0m14-2h0m-155 9h0m2 0h0m4-3h0m15 0h0m8 0h0m27 0h0m2 4h0m0-4h0m2 1h0m12 3h0m1-2h0m2 1h0m3 1h0m10 1h0m5-2h0m15-1h0m1 3h0m4-5h0m10 3h0m0-1h0m1 0h0m2 2h0m10-3h0m3 0h0m7 3h0m4 1h0m-138 1h0m0 3h0m8-3h0m2 1h0m3 0h0m7 2h0m1-3h0m2 1h0m3 0h0m5 3h0m2 0h0m5-3h0m3 0h0m9 1h0m4 2h0m12-1h0m0 2h0m25-2h0m4 0h0m3 1h0m6-5h0m4 0h0m3 3h0m2-1h0m2 0h0m23-1h0m-136 7h0m5 2h0m5 2h0m1-4h0m0 4h0m3 0h0m1 0h0m2-2h0m2 0h0m15 0h0m2-4h0m29 1h0m1 0h0m2 4h0m0-4h0m0 2h0m4-3h0m2 3h0m1 3h0m3-6h0m7 2h0m2 2h0m0-3h0m11-1h0m3 5h0m3 1h0m5-1h0m2-1h0m6-3h0m3 4h0m3 0h0m12-1h0m-132 3h0m46-1h0m17 5h0m2-5h0m3 0h0m5 4h0m4-1h0m4-2h0m6 1h0m10-1h0m6 4h0m2 1h0m7-6h0m2 4h0m15 1h0m7-4h0m-75 6h0m4 1h0m2-1h0m1-1h0m33 3h0m2-1h0m1 2h0m17-1h0m1 1h0m5 0h0m-35 3h0m3 0h0m2 1h0m3 0h0m19 0h0m0 1h0m12-1h0"/></defs><use href="#q19" stroke="#6e6e6e" stroke-width="2.8"/><use href="#q19" stroke="#e7f0f4" stroke-width="2"/><defs><path id="q20" d="M164 591h0m-11 2h0m-3 7h0m-2 4h0m8 3h0m14-1h0m6 5h0m18-1h0m-2 5h0m-29 12h0m8-1h0"/></defs><use href="#q20" stroke="#6e6e6e" stroke-width="2.8"/><use href="#q20" stroke="#faebe3" stroke-width="2"/><path d="M140 579h0m-48 6h0m4-4h0m6-1h0m2 0h0m17 1h0m26 1h0m1 3h0m9-4h0m5 1h0m-84 5h0m4-1h0m1 3h0m3-3h0m1-1h0m0 5h0m3-1h0m0-3h0m11 2h0m8 1h0m1-1h0m4-2h0m4 0h0m1 1h0m4 2h0m7-1h0m8-2h0m8 2h0m4-2h0m3 0h0m8 2h0m1 1h0m25-1h0m5 1h0m-108 8h0m9-1h0m1-1h0m4-2h0m5 2h0m3-2h0m9 2h0m0-1h0m2-2h0m9 4h0m3-3h0m5-2h0m12 1h0m3 1h0m11-2h0m14 3h0m5-1h0m14 3h0m2-2h0m-132 8h0m1-3h0m0-1h0m5 3h0m4-2h0m4-1h0m6 1h0m9 2h0m2-3h0m7 0h0m4 2h0m10 1h0m1-2h0m0 3h0m2-4h0m2 2h0m11 2h0m2 0h0m16 0h0m6-4h0m12 2h0m18-2h0m7 0h0m0 4h0m4-1h0m-132 6h0m6-2h0m3 3h0m9-4h0m4 2h0m5-3h0m2 1h0m4 4h0m8-1h0m1-4h0m7 4h0m0 1h0m3 1h0m4-4h0m5 4h0m4-6h0m0 4h0m3 1h0m4-1h0m13-1h0m3 0h0m6-1h0m11 0h0m7 3h0m5-2h0m3 1h0m1 1h0m-115 5h0m1-3h0m3 3h0m12 0h0m6-4h0m1 4h0m15-3h0m5 4h0m2-2h0m1 0h0m18-2h0m9 4h0m10-4h0m2 3h0m4 2h0m10-4h0m16 2h0m2-1h0m-120 6h0m16-1h0m34-2h0m4 4h0m4-1h0m15 0h0m9 0h0m1-3h0m4 4h0m1-1h0m2 2h0m2-5h0m4 6h0m5-5h0m3 2h0m3 1h0m5-2h0m11-1h0" stroke="#333333" stroke-width="1.7"/><defs><path id="q21" d="M79 623h0m3 0h0m61 2h0m-2 8h0"/></defs><use href="#q21" stroke="#6e6e6e" stroke-width="2.8"/><use href="#q21" stroke="#8bc1dc" stroke-width="2"/><defs><path id="q22" d="M77 621h0m20-1h0m16 7h0"/></defs><use href="#q22" stroke="#6e6e6e" stroke-width="2.8"/><use href="#q22" stroke="#c1ddec" stroke-width="2"/><defs><path id="q23" d="M105 618h0m0 1h0m-4 13h0m17-5h0m33 3h0m-54 6h0"/></defs><use href="#q23" stroke="#6e6e6e" stroke-width="2.8"/><use href="#q23" stroke="#e7f0f4" stroke-width="2"/><path d="M72 613h0m1 0h0m4-2h0m6 2h0m0-2h0m6 4h0m3-1h0m0-2h0m1-1h0m2 2h0m4 1h0m3 0h0m4-1h0m2 2h0m2-2h0m2 2h0m-48 5h0m1-4h0m9 4h0m0-3h0m1 2h0m7-2h0m5 1h0m2 1h0m1 1h0m3 0h0m2 0h0m1 1h0m4-3h0m0-1h0m0 1h0m1 0h0m2 0h0m3 0h0m1-1h0m1 1h0m0 1h0m0-2h0m0-1h0m1 1h0m1 3h0m0-2h0m0 1h0m1-1h0m1-1h0m1 4h0m3-1h0m0-4h0m1 3h0m5 1h0m0 1h0m4-2h0m1-2h0m0 0h0m2 3h0m3-1h0m4 2h0m4-1h0m1 0h0m4 1h0m-79 1h0m2 2h0m1-3h0m3 3h0m0 1h0m1-2h0m1 0h0m1-1h0m3 4h0m2-3h0m0 3h0m2-4h0m0 0h0m3 1h0m2 4h0m0-5h0m1 2h0m1-1h0m1-1h0m2 4h0m3-2h0m2 0h0m0 1h0m1 0h0m4-3h0m1-1h0m1 5h0m2 1h0m2-1h0m1-4h0m0 3h0m5-1h0m3-1h0m2-2h0m5 5h0m0-5h0m2 6h0m0 0h0m2-1h0m3 1h0m6-5h0m0 4h0m1-4h0m0 2h0m5 1h0m2-3h0m2 2h0m1-2h0m3 0h0m7 4h0m1-1h0m-85 3h0m2-1h0m1 0h0m4 2h0m0 1h0m1 2h0m1 0h0m1-5h0m0 0h0m2 3h0m0-2h0m2-1h0m2 4h0m1-2h0m1-2h0m0 3h0m1-1h0m2 1h0m0 0h0m1 1h0m4-4h0m0 5h0m3-2h0m1-2h0m1 2h0m1-1h0m0-2h0m0 0h0m0 1h0m1 1h0m1 3h0m1-4h0m1-1h0m2 3h0m2 1h0m0-2h0m1 3h0m4-4h0m1 3h0m1-2h0m0 3h0m2-1h0m1-2h0m1-1h0m1 3h0m0-3h0m4 1h0m0 3h0m1-3h0m1 1h0m1-1h0m2-1h0m2 0h0m1 2h0m3 0h0m2 2h0m1-1h0m0-4h0m2 1h0m3-1h0m2 0h0m2 1h0m0 3h0m2 2h0m0-2h0m2-4h0m1 5h0m2 0h0m1-3h0m0 4h0m1-4h0m0-1h0m1 0h0m1 1h0m3 1h0m1 1h0m0-3h0m1 0h0m1 2h0m1 0h0m1 3h0m7-4h0m2 2h0m-101 3h0m1 0h0m7 0h0m4 4h0m0-4h0m1-1h0m2 1h0m0 5h0m2-5h0m0 1h0m0 4h0m0-5h0m1 2h0m1-2h0m0 2h0m2 2h0m1 0h0m4-1h0m0 0h0m1-2h0m0 2h0m1 2h0m1-2h0m3-1h0m4-1h0m2 1h0m0 1h0m1 1h0m1-1h0m2 0h0m1 0h0m6 1h0m4 1h0m1-1h0m0-5h0m2 2h0m1 4h0m0-1h0m1-2h0m0-1h0m1 3h0m2-1h0m1-3h0m2 3h0m0-2h0m1 3h0m0-1h0m4-3h0m1 2h0m0 1h0m0 0h0m2-1h0m3 0h0m0 1h0m0 0h0m0-1h0m1 0h0m1-1h0m1 1h0m2 2h0m2-5h0m2 2h0m8-2h0m-77 7h0m4 0h0m0-1h0m2 1h0m1-1h0m2 1h0m1 1h0m0-1h0m1 1h0m1-1h0m8 0h0m4 0h0m2 1h0m9-1h0m8 1h0m0-1h0" stroke="#333333" stroke-width="1.7"/><defs><path id="q24" d="M96 621h0"/></defs><use href="#q24" stroke="#6e6e6e" stroke-width="2.8"/><use href="#q24" stroke="#8bc1dc" stroke-width="2"/><defs><path id="q25" d="M100 619h0m-12 5h0m4 3h0m33-6h0m0 4h0m7 0h0m-24 9h0m27 1h0"/></defs><use href="#q25" stroke="#6e6e6e" stroke-width="2.8"/><use href="#q25" stroke="#c1ddec" stroke-width="2"/><defs><path id="q26" d="M82 621h0m6 1h0m19 8h0m12-2h0m14 1h0m15-1h0"/></defs><use href="#q26" stroke="#6e6e6e" stroke-width="2.8"/><use href="#q26" stroke="#e7f0f4" stroke-width="2"/><path d="M63 613h0m5 0h0m1 2h0m0-3h0m3-1h0m1 3h0m4 0h0m0-4h0m2 2h0m1 1h0m1 1h0m4-4h0m2 1h0m0 1h0m1 0h0m4 1h0m1-1h0m2 0h0m2 1h0m2 1h0m4-1h0m2 0h0m-40 5h0m2 3h0m3-5h0m1 4h0m2-2h0m2-2h0m0 3h0m5 1h0m0-1h0m2 1h0m1-1h0m2-1h0m2-1h0m4-1h0m2 1h0m0 4h0m0-5h0m8 4h0m2 0h0m1-2h0m2 0h0m1 2h0m0-5h0m1 6h0m1-4h0m1-1h0m3 4h0m3-4h0m0 2h0m2-2h0m4 1h0m0 1h0m0 2h0m1-4h0m3 4h0m6-3h0m0 1h0m3 1h0m2 0h0m1 1h0m5 0h0m-76 3h0m1-1h0m4 2h0m0-2h0m1 5h0m1-4h0m1 2h0m4 0h0m1-4h0m3 1h0m0 0h0m2 4h0m0 0h0m0-3h0m3 2h0m0-3h0m1-1h0m0 5h0m2 0h0m0-4h0m0 3h0m0-2h0m0 2h0m2-4h0m0 0h0m1 2h0m1-1h0m2-1h0m2 2h0m1-1h0m2 3h0m1-2h0m5 2h0m0-1h0m2 2h0m2-2h0m2 1h0m2 0h0m0-4h0m2 3h0m0 2h0m2-1h0m1-2h0m0 2h0m1-3h0m3 4h0m1-1h0m3 0h0m1-2h0m1 2h0m1-3h0m2 1h0m2 1h0m0 2h0m2-5h0m2 2h0m1-1h0m1 4h0m0-5h0m0 1h0m2 0h0m0 5h0m1-4h0m0 3h0m2-5h0m0 5h0m1-1h0m0-2h0m10 2h0m4 1h0m3-1h0m2 2h0m5 0h0m-100 1h0m0 1h0m3 0h0m1 0h0m1 2h0m3 2h0m0-3h0m0-2h0m1 3h0m3 1h0m0-3h0m1 0h0m0-1h0m2 4h0m1-4h0m2 0h0m0 4h0m5-1h0m1-3h0m6 1h0m0 2h0m7 0h0m2-2h0m1 1h0m1-2h0m0 2h0m2 3h0m0-3h0m2 3h0m0-3h0m1-3h0m6 1h0m1 2h0m0 0h0m1 1h0m1-2h0m0 4h0m3 0h0m0-1h0m3-2h0m1 1h0m0-3h0m3 3h0m1 0h0m4-4h0m2 6h0m0-3h0m4-3h0m1 3h0m1 1h0m0 2h0m2-1h0m1-4h0m4 5h0m1-1h0m1-4h0m2 2h0m0 0h0m0 0h0m2-3h0m4 4h0m0-1h0m1-1h0m0 4h0m3 0h0m0-4h0m1 4h0m1-3h0m1-2h0m2 3h0m1 1h0m2-3h0m2 1h0m1 0h0m-98 5h0m0-1h0m1 1h0m1-2h0m0 3h0m1 1h0m1 0h0m1-1h0m0 0h0m5-1h0m2 3h0m8 0h0m0-2h0m0 0h0m5 3h0m4-5h0m1 2h0m0 1h0m2 0h0m1-1h0m3-2h0m1 0h0m2 1h0m2-2h0m2 4h0m5-1h0m1 1h0m2-2h0m2 1h0m1 1h0m1-2h0m3 1h0m0 0h0m3-2h0m1-1h0m1 2h0m2-2h0m1 4h0m1 2h0m2-2h0m2-4h0m1 6h0m3-5h0m1-1h0m1 0h0m5 1h0m1 3h0m0-1h0m0 0h0m1-3h0m2 1h0m4 0h0m-75 5h0m12 1h0m0 0h0m6 1h0m0-1h0m1-1h0m0 0h0m3 0h0m7 0h0m1 1h0" stroke="#333333" stroke-width="1.7"/><defs><path id="q27" d="M121 619h0m-38 3h0"/></defs><use href="#q27" stroke="#6e6e6e" stroke-width="2.8"/><use href="#q27" stroke="#8bc1dc" stroke-width="2"/><defs><path id="q28" d="M101 619h0m11-2h0m13 9h0m25 1h0m-13 8h0"/></defs><use href="#q28" stroke="#6e6e6e" stroke-width="2.8"/><use href="#q28" stroke="#c1ddec" stroke-width="2"/><defs><path id="q29" d="M92 631h0m7 1h0m42-4h0"/></defs><use href="#q29" stroke="#6e6e6e" stroke-width="2.8"/><use href="#q29" stroke="#e7f0f4" stroke-width="2"/><path d="M63 612h0m0 2h0m5 1h0m1-1h0m2 1h0m0-1h0m2-2h0m5 3h0m3-6h0m1 1h0m0 4h0m0-3h0m0-2h0m5 4h0m1 2h0m2-3h0m6 1h0m0-1h0m5 1h0m2 0h0m2 1h0m4 0h0m3 0h0m-41 7h0m1-3h0m0 2h0m2-1h0m2 1h0m2-1h0m1 0h0m3 1h0m1-5h0m0 5h0m0 0h0m0-1h0m1-3h0m1-1h0m1 5h0m0-4h0m5 5h0m1-6h0m0 5h0m2-3h0m0 1h0m0-2h0m7 0h0m1 2h0m1 1h0m1 0h0m2-4h0m6 3h0m1 2h0m0-3h0m1 2h0m6-3h0m0 0h0m1 2h0m0-2h0m2 3h0m2-2h0m0 3h0m1-1h0m1-1h0m2 2h0m3-2h0m0 1h0m1 2h0m3-2h0m10 2h0m-80 3h0m1-1h0m2 3h0m3-1h0m2 0h0m4 1h0m0-1h0m4 1h0m0-5h0m1 2h0m1-2h0m0 6h0m1-6h0m0 4h0m6-4h0m2 1h0m0 1h0m0-2h0m5 3h0m3-3h0m1 0h0m0 3h0m0 3h0m3-3h0m1-1h0m8-2h0m1 1h0m1 1h0m1 3h0m1-5h0m1 3h0m0 1h0m0-1h0m2-2h0m1 2h0m1-1h0m2 0h0m0 2h0m2-3h0m0 0h0m3 1h0m2-1h0m0 5h0m5-1h0m3 1h0m2-5h0m1-1h0m1 3h0m0 3h0m1-6h0m1 3h0m1-1h0m4 0h0m1 1h0m1 2h0m0-3h0m2 2h0m0-1h0m4 3h0m5-2h0m5 2h0m-97 0h0m2 2h0m1-1h0m0 3h0m1-1h0m1-2h0m1 3h0m1-3h0m2 0h0m7 5h0m0-2h0m1-4h0m3 4h0m2 0h0m1-2h0m7 2h0m0 0h0m2-2h0m0-1h0m1 5h0m0-2h0m1-1h0m0 0h0m8 0h0m4 3h0m1-1h0m0 0h0m2 0h0m0-2h0m2 1h0m2 0h0m1 1h0m1 0h0m2-4h0m4 3h0m0-4h0m1 2h0m2 3h0m1 1h0m7-3h0m0-2h0m2 2h0m1-2h0m2 1h0m0-1h0m2 0h0m0 1h0m2-2h0m1 4h0m3 1h0m2 0h0m1-2h0m2-1h0m4 4h0m0-2h0m0-2h0m1 2h0m0 2h0m2-4h0m1 0h0m2 2h0m0-2h0m1 2h0m1 2h0m0-6h0m0 6h0m1-5h0m3 3h0m-93 2h0m2 1h0m3 0h0m0 2h0m7 2h0m1-3h0m0 0h0m3 2h0m1-3h0m1 0h0m0 1h0m2 2h0m0 1h0m0-5h0m1 4h0m2-1h0m4-1h0m2 0h0m0 3h0m0 1h0m1-1h0m1 0h0m0-4h0m1 1h0m0 2h0m1-1h0m3-2h0m1 4h0m1-3h0m0 3h0m0-4h0m1 3h0m5-4h0m0 4h0m0 0h0m3-3h0m1-1h0m1 2h0m0 3h0m1-4h0m3 1h0m2 3h0m0-4h0m1 0h0m1 0h0m0 0h0m1 4h0m0-2h0m2 0h0m0-3h0m1 5h0m1 0h0m2-3h0m3 1h0m0-1h0m0 3h0m1 0h0m1-3h0m1 0h0m3 0h0m3 0h0m2 1h0m2 0h0m1 1h0m5-2h0m-72 4h0m5 0h0m9 2h0m2-1h0m1 0h0m3 1h0m5-1h0m3 1h0m1-1h0m3 1h0m3-1h0m3 0h0m6 0h0m3 0h0" stroke="#333333" stroke-width="1.7"/><defs><path id="q30" d="M71 615h0m27 18h0"/></defs><use href="#q30" stroke="#6e6e6e" stroke-width="2.8"/><use href="#q30" stroke="#8bc1dc" stroke-width="2"/><defs><path id="q31" d="M107 623h0m18 2h0m8 2h0m-14 9h0m8 0h0"/></defs><use href="#q31" stroke="#6e6e6e" stroke-width="2.8"/><use href="#q31" stroke="#c1ddec" stroke-width="2"/><defs><path id="q32" d="M85 620h0m9-4h0m-13 5h0m36 0h0m1 14h0m2-1h0"/></defs><use href="#q32" stroke="#6e6e6e" stroke-width="2.8"/><use href="#q32" stroke="#e7f0f4" stroke-width="2"/><path d="M66 615h0m1-2h0m2-1h0m2 3h0m3-1h0m2-4h0m1 0h0m1 3h0m1-4h0m0 3h0m0-3h0m8 3h0m4 3h0m2 0h0m5 0h0m2-2h0m0-1h0m2 1h0m3 2h0m2-2h0m2 1h0m3 1h0m5 0h0m-51 4h0m1 2h0m2-2h0m2-1h0m4 0h0m4 1h0m2-4h0m0 6h0m2-4h0m3 3h0m0-4h0m0 4h0m6-4h0m1 2h0m2-2h0m1 0h0m1-1h0m3 4h0m1-2h0m0 1h0m1 0h0m1 1h0m2-3h0m0 4h0m11-2h0m1 1h0m3 2h0m1-6h0m1 2h0m0 0h0m0 3h0m0-1h0m4 1h0m0-3h0m4 1h0m1 2h0m1-2h0m8 1h0m1 0h0m-76 3h0m1 2h0m0 2h0m1-1h0m1-2h0m4 0h0m0 1h0m0 3h0m1-5h0m1 1h0m1-1h0m0 1h0m1 2h0m2-3h0m0 0h0m1 0h0m1 2h0m1 2h0m2-4h0m4 1h0m1 2h0m4 1h0m1-1h0m1 1h0m1 0h0m0-4h0m1 2h0m0-3h0m5 2h0m1-1h0m2 4h0m1-4h0m0 2h0m0 1h0m1 2h0m2-5h0m1 0h0m4 3h0m1-1h0m0 2h0m2-2h0m1 3h0m2-6h0m0 2h0m1-1h0m0 4h0m2-1h0m7-2h0m1 1h0m1 2h0m1-5h0m2 4h0m0 2h0m1-2h0m4-1h0m0 3h0m1-1h0m0-3h0m1 1h0m2-3h0m0 5h0m0-5h0m2 6h0m2-2h0m0-3h0m2 0h0m1 2h0m1-1h0m2 3h0m2-3h0m2 4h0m1-3h0m3 2h0m2 1h0m2 0h0m-93 2h0m0 0h0m1-1h0m1 2h0m3 2h0m0-5h0m1 2h0m2-2h0m2 6h0m1-3h0m3 1h0m2 2h0m0 0h0m3-2h0m0 1h0m1-3h0m4 2h0m3 0h0m1-4h0m1 0h0m1 5h0m0 1h0m0-6h0m2 1h0m1 3h0m1 0h0m2-3h0m1 3h0m1-2h0m0 1h0m1 0h0m0 0h0m2 0h0m0 2h0m1 0h0m1 0h0m1-1h0m8-3h0m1 5h0m3-3h0m5-1h0m1 0h0m3-2h0m2 3h0m1-2h0m3 0h0m1 4h0m2-4h0m2 0h0m1 3h0m1-3h0m1 2h0m2 1h0m1-2h0m3 1h0m0 3h0m1-5h0m1 4h0m0-1h0m2 1h0m1-1h0m3 1h0m0 1h0m2-5h0m1 0h0m1-1h0m1 6h0m1-5h0m2 0h0m3 4h0m1-1h0m3-1h0m-103 3h0m4 0h0m4 3h0m0-2h0m3 1h0m0 2h0m1-2h0m0 2h0m4 0h0m1-3h0m3 5h0m1-4h0m3 4h0m1-2h0m3 0h0m0 2h0m0-5h0m4 4h0m5-2h0m1-1h0m0 1h0m2-1h0m1 3h0m1-2h0m1-1h0m0-2h0m4 4h0m6-3h0m1 2h0m1-1h0m0 3h0m1-3h0m0 3h0m3-5h0m0 4h0m5 0h0m7-3h0m0 4h0m1-1h0m1-3h0m6 5h0m3-5h0m2 3h0m1 1h0m2-2h0m0-1h0m0-1h0m0 0h0m3 3h0m1-2h0m1 0h0m0-2h0m-59 7h0m3 1h0m13 0h0m4-1h0m0-1h0m7 1h0m1-1h0m5 1h0m2 0h0m1-1h0m1 1h0m2-1h0m5 0h0" stroke="#333333" stroke-width="1.7"/><defs><path id="q33" d="M138 626h0m-5 6h0"/></defs><use href="#q33" stroke="#6e6e6e" stroke-width="2.8"/><use href="#q33" stroke="#8bc1dc" stroke-width="2"/><defs><path id="q34" d="M73 615h0m42 4h0m33 7h0m-35 4h0m-20 4h0"/></defs><use href="#q34" stroke="#6e6e6e" stroke-width="2.8"/><use href="#q34" stroke="#c1ddec" stroke-width="2"/><defs><path id="q35" d="M74 617h0m22 2h0m21 1h0m9 2h0m6 4h0m-18 7h0m12-5h0m3 5h0"/></defs><use href="#q35" stroke="#6e6e6e" stroke-width="2.8"/><use href="#q35" stroke="#e7f0f4" stroke-width="2"/><path d="M66 612h0m4 1h0m7-3h0m0 2h0m4 2h0m5-1h0m2-2h0m0 0h0m4 1h0m0 1h0m0-1h0m2 1h0m2-1h0m4 1h0m2 2h0m1-2h0m2 2h0m4-1h0m2 1h0m5 0h0m-49 2h0m1-2h0m1 5h0m1-3h0m0 0h0m4 0h0m1 2h0m1-1h0m0 0h0m1 3h0m1-2h0m1-1h0m2 2h0m1-3h0m0 2h0m0-1h0m2 2h0m1-3h0m0-2h0m3 0h0m3 4h0m2 2h0m1-1h0m1-2h0m1 0h0m0 0h0m0 0h0m0 3h0m2-2h0m1-3h0m2 1h0m0-1h0m2 5h0m0-4h0m2 3h0m1-2h0m1-1h0m3 0h0m0 4h0m1-2h0m3-1h0m0 3h0m1-5h0m2-1h0m1 6h0m4-3h0m8 0h0m3 1h0m1 1h0m2-1h0m-69 3h0m1 2h0m2 2h0m2-2h0m1 0h0m9 0h0m2 0h0m2 1h0m2-1h0m0 2h0m1-3h0m0 0h0m1-1h0m1 4h0m2-1h0m0-1h0m0-1h0m1 3h0m3-4h0m1 1h0m0 0h0m1 1h0m0-2h0m0 3h0m3 2h0m1-4h0m1 2h0m3 1h0m4-5h0m1 0h0m2 4h0m2-3h0m0 5h0m6-3h0m0 3h0m4-5h0m0 4h0m1-3h0m2 1h0m1 1h0m1 0h0m1-1h0m2 0h0m4 3h0m1-1h0m4-2h0m1 0h0m0-2h0m4 2h0m2 1h0m2-1h0m3 0h0m-80 6h0m2 2h0m0-4h0m0 0h0m0 1h0m1 2h0m4 1h0m3-5h0m0 1h0m4 3h0m2 0h0m3 2h0m6-6h0m0 5h0m3-1h0m4 0h0m0 0h0m3 1h0m0-5h0m1 6h0m1-5h0m2 2h0m3-1h0m0 1h0m0 1h0m0 0h0m6 1h0m4-3h0m2 0h0m1 2h0m1 1h0m0-1h0m0-4h0m2 5h0m3 0h0m0-2h0m1 2h0m3-4h0m0 2h0m0-1h0m1 0h0m1 2h0m1-2h0m4 0h0m1 3h0m7-3h0m0 1h0m0 2h0m2-2h0m4 0h0m1-2h0m1 1h0m1 4h0m3 0h0m1-4h0m1-2h0m3 3h0m0-3h0m0 2h0m1-1h0m2 0h0m0 2h0m1 2h0m1-1h0m3-1h0m-101 3h0m3 0h0m2 1h0m2 2h0m0-3h0m3 5h0m2-1h0m2 1h0m1-4h0m2 1h0m0-2h0m1 0h0m2 4h0m1-2h0m0 3h0m2-2h0m1 2h0m0 0h0m1 0h0m2-1h0m1 0h0m0 0h0m0 1h0m1-3h0m0 2h0m0 1h0m1-1h0m2-4h0m1 2h0m0 2h0m0-3h0m0 5h0m1-5h0m1 3h0m1 1h0m1-3h0m1 3h0m1 0h0m1-2h0m0-3h0m0 4h0m0 2h0m1-4h0m4-1h0m1 0h0m0-1h0m2 2h0m1 1h0m1-1h0m3 1h0m1-2h0m1 1h0m1-1h0m1 5h0m0-4h0m2-1h0m0-1h0m8 1h0m1 4h0m0-4h0m3-1h0m0 5h0m1-2h0m1 2h0m1-3h0m0 1h0m1 0h0m1-2h0m2 2h0m0 1h0m2-2h0m1 2h0m6-3h0m5-1h0m3 1h0m-76 6h0m8 0h0m4 0h0m13 0h0m2 1h0m3-2h0m2 2h0m1-2h0m1 3h0m11-3h0" stroke="#333333" stroke-width="1.7"/><defs><path id="q36" d="M114 548h0m-2 4h0m19 0h0m-13 5h0m13 1h0m11 1h0m-29 2h0m5 7h0m18 1h0m5-2h0m-33 7h0m30 4h0m2-1h0m-20 5h0m15-3h0"/></defs><use href="#q36" stroke="#6e6e6e" stroke-width="2.8"/><use href="#q36" stroke="#860a24" stroke-width="2"/><defs><path id="q37" d="M130 532h0m-22 10h0m12-2h0m16 4h0m-4 8h0m-14 12h0m19 0h0m-26 7h0m11-1h0m10 3h0m1 3h0m6-3h0m3 5h0m-36 3h0m3-1h0m19 1h0m1-2h0m4 2h0"/></defs><use href="#q37" stroke="#6e6e6e" stroke-width="2.8"/><use href="#q37" stroke="#bb2a34" stroke-width="2"/><defs><path id="q38" d="M112 535h0m11 2h0m-3 6h0m74 8h0m-85 9h0m2 0h0m10 0h0m-32 3h0m26 0h0m1 1h0m6 1h0m16 0h0m-28 3h0m6 2h0m2 3h0m0-4h0m-7 6h0m7 2h0m21-2h0m-32 10h0m15-6h0"/></defs><use href="#q38" stroke="#6e6e6e" stroke-width="2.8"/><use href="#q38" stroke="#d96651" stroke-width="2"/><defs><path id="q39" d="M121 552h0m-5 6h0m-25 8h0m8-1h0m4 0h0m13 2h0m-26 4h0m0-1h0m33-3h0m6 5h0m2-2h0m-24 5h0m2 1h0m5 0h0m5 3h0m23-1h0m1-1h0m-37 6h0m14-2h0"/></defs><use href="#q39" stroke="#6e6e6e" stroke-width="2.8"/><use href="#q39" stroke="#f19f7e" stroke-width="2"/><defs><path id="q40" d="M98 554h0m79 8h0m8 0h0m-67 9h0m7-2h0m1-1h0m-18 7h0m19 2h0m6-2h0m2 1h0m1 0h0m-45 7h0m16 0h0m12 2h0m21-1h0"/></defs><use href="#q40" stroke="#6e6e6e" stroke-width="2.8"/><use href="#q40" stroke="#fbceb6" stroke-width="2"/><path d="M104 556h0m22 2h0m4 0h0m-31 3h0m0 3h0m4 1h0m4 2h0m35-1h0m3-3h0m-50 10h0m2-1h0m5 0h0m1 0h0m1-1h0m2 1h0m5 0h0m0 0h0m2-4h0m10-1h0m8 1h0m3 3h0m1 1h0m4-5h0m5 5h0m3-2h0m-56 3h0m2 5h0m1-4h0m0 0h0m3 0h0m0 1h0m0 3h0m0 0h0m1-2h0m0 0h0m0 3h0m1-3h0m2 2h0m2-4h0m19 0h0m7-1h0m8 1h0m3 0h0m0 1h0m-48 7h0m2-3h0m1 3h0m0-2h0m0-1h0m1 2h0m0-2h0m2 3h0m9-2h0m16 1h0m5-1h0m-7 6h0" stroke="#333333" stroke-width="1.7"/><defs><path id="q41" d="M119 533h0m-7 14h0m23 4h0m-24 5h0m23 4h0m0-4h0m5 9h0m-31 6h0m0 1h0m2-2h0m1 2h0m6-1h0m25 0h0m-34 3h0"/></defs><use href="#q41" stroke="#6e6e6e" stroke-width="2.8"/><use href="#q41" stroke="#860a24" stroke-width="2"/><defs><path id="q42" d="M115 521h0m3 12h0m-4 7h0m1-2h0m5 8h0m-13 20h0m6 1h0m-7 1h0m15 2h0m2-1h0m-16 9h0m9 1h0m18-1h0m7 0h0m0-4h0"/></defs><use href="#q42" stroke="#6e6e6e" stroke-width="2.8"/><use href="#q42" stroke="#bb2a34" stroke-width="2"/><defs><path id="q43" d="M118 531h0m-2 5h0m5 6h0m-3 8h0m10 2h0m-21 5h0m25 1h0m10-1h0m-57 5h0m54 1h0m40 0h0m-72 8h0m8-1h0m3-2h0m5 0h0m5 3h0m2-3h0m2 5h0m-19 5h0m8-3h0m-15 4h0m2 1h0m4 1h0m17 4h0m4-6h0m7 2h0"/></defs><use href="#q43" stroke="#6e6e6e" stroke-width="2.8"/><use href="#q43" stroke="#d96651" stroke-width="2"/><defs><path id="q44" d="M173 548h0"/></defs><use href="#q44" stroke="#6e6e6e" stroke-width="2.8"/><use href="#q44" stroke="#e7f0f4" stroke-width="2"/><defs><path id="q45" d="M132 547h0m-14 4h0m1 1h0m2-2h0m9 2h0m11 0h0m41 0h0m-89 4h0m30 0h0m7 0h0m-6 10h0m21 1h0m-42 10h0m22 0h0m13-2h0"/></defs><use href="#q45" stroke="#6e6e6e" stroke-width="2.8"/><use href="#q45" stroke="#f19f7e" stroke-width="2"/><defs><path id="q46" d="M123 572h0m-27 5h0m6-4h0m19 3h0m-16 4h0m3 1h0m32 2h0m2-2h0m0 2h0"/></defs><use href="#q46" stroke="#6e6e6e" stroke-width="2.8"/><use href="#q46" stroke="#fbceb6" stroke-width="2"/><path d="M101 556h0m1 2h0m2-1h0m9 4h0m1-1h0m11 0h0m0-2h0m11 0h0m6 2h0m-40 2h0m2 1h0m7 1h0m1-2h0m5 3h0m12-4h0m3 6h0m2-2h0m6-1h0m4 0h0m2 3h0m0-2h0m-53 8h0m1-1h0m7-2h0m3 1h0m10-2h0m1 3h0m6-3h0m7 4h0m8-4h0m2 2h0m1 1h0m5 0h0m1-2h0m3 3h0m-63 1h0m1 0h0m8 1h0m0 0h0m1 0h0m0 2h0m2-3h0m1 3h0m1 1h0m2-3h0m2 4h0m10-1h0m3-3h0m2-1h0m20 2h0m7-2h0m0 4h0m-53 3h0m5 2h0m2-3h0m4 0h0m0 0h0m5 2h0m11 1h0m11-1h0m1 1h0m10 1h0m-42 3h0m10-2h0m12 2h0" stroke="#333333" stroke-width="1.7"/><defs><path id="q47" d="M114 516h0m10-1h0m11 12h0m-14 8h0m-7 5h0m-1 13h0m25-2h0m-6 6h0m7 2h0m-16 7h0m7 1h0m0-1h0m-13 1h0m15 5h0m-10 2h0m17 2h0m0-3h0m-31 10h0m13-3h0m18-1h0"/></defs><use href="#q47" stroke="#6e6e6e" stroke-width="2.8"/><use href="#q47" stroke="#860a24" stroke-width="2"/><defs><path id="q48" d="M112 517h0m3 19h0m0 5h0m2-4h0m19 7h0m-20 6h0m-7 9h0m8 1h0m-7 3h0m10 3h0m23 0h0m1 7h0m-4 4h0m44 1h0m-52 2h0m3 1h0"/></defs><use href="#q48" stroke="#6e6e6e" stroke-width="2.8"/><use href="#q48" stroke="#bb2a34" stroke-width="2"/><defs><path id="q49" d="M195 569h0"/></defs><use href="#q49" stroke="#6e6e6e" stroke-width="2.8"/><use href="#q49" stroke="#c1ddec" stroke-width="2"/><defs><path id="q50" d="M125 520h0m7 8h0m-9 9h0m-15 6h0m5-1h0m2-1h0m7 5h0m11 2h0m-14 3h0m21-1h0m-26 5h0m3 6h0m2 0h0m16-4h0m-22 10h0m5-3h0m18-1h0m-28 8h0m28-1h0m6-2h0m-32 6h0m0 4h0m2-1h0m1-1h0m6 2h0m16-1h0m-34 5h0m15 0h0m3-3h0m2 4h0m1 0h0m1-1h0m6-3h0m7 1h0m8 3h0"/></defs><use href="#q50" stroke="#6e6e6e" stroke-width="2.8"/><use href="#q50" stroke="#d96651" stroke-width="2"/><defs><path id="q51" d="M114 532h0m-5 9h0m14 0h0m11 8h0m-23 2h0m20-1h0m-45 14h0m28 1h0m-12 7h0m17 1h0m20-4h0m0-2h0m-48 9h0m20 2h0m18-1h0m8-3h0m1 3h0m3-2h0m2-1h0m-51 10h0m48-3h0"/></defs><use href="#q51" stroke="#6e6e6e" stroke-width="2.8"/><use href="#q51" stroke="#f19f7e" stroke-width="2"/><defs><path id="q52" d="M85 562h0m32 10h0m3-2h0m19 0h0m-24 12h0m23-3h0"/></defs><use href="#q52" stroke="#6e6e6e" stroke-width="2.8"/><use href="#q52" stroke="#fbceb6" stroke-width="2"/><path d="M102 558h0m1 0h0m5 3h0m12 0h0m12-2h0m1 1h0m-34 6h0m18-2h0m1-2h0m24 3h0m-49 7h0m0 1h0m8 0h0m18-1h0m3 0h0m20 1h0m-48 4h0m2-1h0m0 2h0m1-2h0m0 0h0m0 2h0m1 0h0m0-1h0m2-1h0m8-2h0m0-1h0m1 6h0m1-3h0m0-2h0m2 1h0m34-1h0m1 0h0m-53 7h0m1 2h0m0-3h0m3 4h0m7-3h0m25-1h0m15 2h0m1 0h0m1 1h0m1 1h0m-50 1h0m10 1h0m28 1h0" stroke="#333333" stroke-width="1.7"/><defs><path id="q53" d="M110 529h0m4 12h0m4 11h0m22 2h0m-33 2h0m15 6h0m8 2h0m-10 8h0m3 1h0m10-5h0m-26 7h0m3 2h0m2-1h0m22-2h0m4 2h0m-15 6h0"/></defs><use href="#q53" stroke="#6e6e6e" stroke-width="2.8"/><use href="#q53" stroke="#860a24" stroke-width="2"/><defs><path id="q54" d="M120 539h0m3 3h0m-14 7h0m4-6h0m26 3h0m-1 5h0m-9 8h0m1-1h0m-8 5h0m20 0h0m-13 8h0m4-3h0m4 0h0m-18 8h0m-1 3h0m3 4h0m8-1h0"/></defs><use href="#q54" stroke="#6e6e6e" stroke-width="2.8"/><use href="#q54" stroke="#bb2a34" stroke-width="2"/><defs><path id="q55" d="M127 515h0m-9 17h0m-7 7h0m3 0h0m9 3h0m-10 4h0m1-2h0m-6 6h0m5 2h0m2 0h0m14 0h0m6-1h0m-39 7h0m14-1h0m10 2h0m11 2h0m-47 8h0m35 3h0m21-3h0m-31 4h0m4 5h0m26-2h0m-18 6h0"/></defs><use href="#q55" stroke="#6e6e6e" stroke-width="2.8"/><use href="#q55" stroke="#d96651" stroke-width="2"/><defs><path id="q56" d="M123 548h0m-14 2h0m20 3h0m-18 6h0m3 0h0m14 8h0m16-5h0m-41 7h0m0 1h0m5 2h0m14-2h0m8 2h0m7 0h0m-48 6h0m12-3h0m12 0h0m23-2h0m3 5h0m-44 3h0m17 0h0m20 1h0"/></defs><use href="#q56" stroke="#6e6e6e" stroke-width="2.8"/><use href="#q56" stroke="#f19f7e" stroke-width="2"/><defs><path id="q57" d="M185 567h0"/></defs><use href="#q57" stroke="#6e6e6e" stroke-width="2.8"/><use href="#q57" stroke="#faebe3" stroke-width="2"/><defs><path id="q58" d="M94 564h0m2 1h0m13 2h0m11 2h0m-35 15h0m16 1h0m6-3h0m19-2h0"/></defs><use href="#q58" stroke="#6e6e6e" stroke-width="2.8"/><use href="#q58" stroke="#fbceb6" stroke-width="2"/><path d="M115 559h0m16 0h0m0-2h0m4 3h0m0 0h0m-33 3h0m4-1h0m3 0h0m8 0h0m11 3h0m1 1h0m-38 5h0m15-3h0m2 5h0m5-3h0m6 0h0m12-1h0m1 4h0m4-2h0m11-3h0m0 5h0m-58 3h0m2 1h0m1 0h0m0-3h0m3 0h0m1 1h0m1 3h0m0-5h0m1 2h0m1 3h0m1-1h0m0-2h0m0-1h0m1 4h0m3-2h0m0 0h0m1 1h0m0-2h0m1 3h0m9-4h0m3 4h0m6 0h0m2-5h0m12 5h0m1-1h0m-43 6h0m4-1h0m3-2h0m1-1h0m4 1h0m3 2h0m3 2h0m2 0h0m6-2h0m1 1h0m1 0h0m2-2h0m6 5h0" stroke="#333333" stroke-width="1.7"/><defs><path id="q59" d="M111 519h0m7 0h0m8 9h0m-16 12h0m10 0h0m4-1h0m4 13h0m5 4h0m-12 8h0m0-1h0m10 3h0m7-1h0m-29 6h0m28-3h0m2 1h0m-24 7h0m22 0h0m-32 6h0m3-2h0m22 0h0"/></defs><use href="#q59" stroke="#6e6e6e" stroke-width="2.8"/><use href="#q59" stroke="#860a24" stroke-width="2"/><defs><path id="q60" d="M131 520h0m-13 13h0m-10 11h0m10 4h0m-1 4h0m20 1h0m-14 6h0m5-1h0m1 1h0m-5 2h0m9 3h0m6 2h0m3 0h0m-23 2h0m1 4h0m8-5h0m9 1h0m-25 8h0"/></defs><use href="#q60" stroke="#6e6e6e" stroke-width="2.8"/><use href="#q60" stroke="#bb2a34" stroke-width="2"/><defs><path id="q61" d="M116 529h0m-2 14h0m-6 1h0m2 2h0m9 1h0m21 7h0m-18 2h0m6 10h0m1-3h0m11 4h0m-26 4h0m14-3h0m16 3h0m-25 7h0m11-4h0m6 1h0m1 2h0"/></defs><use href="#q61" stroke="#6e6e6e" stroke-width="2.8"/><use href="#q61" stroke="#d96651" stroke-width="2"/><defs><path id="q62" d="M186 557h0m-24 7h0m20 11h0"/></defs><use href="#q62" stroke="#6e6e6e" stroke-width="2.8"/><use href="#q62" stroke="#e7f0f4" stroke-width="2"/><defs><path id="q63" d="M108 540h0m10 9h0m20 12h0m-51 3h0m56 1h0m-58 6h0m45-4h0m1 0h0m3 5h0m-28 3h0m12 3h0m4-4h0m11 1h0m2-1h0m5 1h0m-54 9h0m7-3h0m0 1h0m19 1h0"/></defs><use href="#q63" stroke="#6e6e6e" stroke-width="2.8"/><use href="#q63" stroke="#f19f7e" stroke-width="2"/><defs><path id="q64" d="M91 559h0m-7 2h0m50 5h0m-36 6h0m4-1h0m9-3h0m29 1h0m-39 7h0m-7 6h0m19 0h0m18-3h0m0 5h0m7-1h0"/></defs><use href="#q64" stroke="#6e6e6e" stroke-width="2.8"/><use href="#q64" stroke="#fbceb6" stroke-width="2"/><path d="M98 558h0m3 1h0m10 0h0m4-2h0m4 0h0m2-1h0m13 1h0m-31 8h0m12-2h0m0 0h0m2 2h0m12-2h0m5 1h0m1-2h0m11 3h0m-56 7h0m22 0h0m7-3h0m4 0h0m8 1h0m16-1h0m-57 8h0m8-4h0m1 6h0m0-1h0m1-1h0m0 0h0m1-1h0m6 1h0m1 2h0m15-3h0m1 0h0m1-1h0m1 2h0m2-4h0m1 2h0m1-2h0m0 6h0m7 0h0m3 0h0m5-5h0m-48 8h0m1 0h0m2 0h0m6 1h0m2 0h0m3 0h0m9-4h0m21 0h0m1 4h0m5 1h0m-33 1h0m5 2h0m6-1h0m15 1h0" stroke="#333333" stroke-width="1.7"/><path d="M31.5 484.5C31 490 30.17 507.42 30 520C29.83 532.58 30.17 547.33 30.5 560C30.83 572.67 31.25 587.67 32 596C32.75 604.33 33.33 606 35 610C36.67 614 38.5 617 42 620C45.5 623 48 625.08 56 628C64 630.92 79 635.33 90 637.5C101 639.67 110.92 640.47 122 641C133.08 641.53 147.1 641.37 156.5 640.7C165.9 640.03 172.32 638.95 178.4 637C184.48 635.05 189.65 632.5 193 629C196.35 625.5 197.5 624.17 198.5 616C199.5 607.83 198.95 591.67 199 580C199.05 568.33 199.43 552.55 198.8 546C198.17 539.45 196.42 540.73 195.2 540.7C193.98 540.67 193.33 542.75 191.5 545.8C189.67 548.85 186.38 555.35 184.2 559C182.02 562.65 180.6 565.03 178.4 567.7C176.2 570.37 173.18 573.05 171 575C168.82 576.95 167.72 578.07 165.3 579.4C162.88 580.73 160.4 582.02 156.5 583C152.6 583.98 146.77 584.8 141.9 585.3C137.03 585.8 132.62 585.88 127.3 586C121.98 586.12 114.57 586.33 110 586C105.43 585.67 104.25 585.43 99.9 584C95.55 582.57 89.05 580.4 83.9 577.4C78.75 574.4 73.32 570.07 69 566C64.68 561.93 61.5 558.17 58 553C54.5 547.83 50.78 540.83 48 535C45.22 529.17 43.8 526 41.3 518C38.8 510 34.63 492.58 33 487C31.37 481.42 32 479 31.5 484.5Z" fill="none" stroke="#1b1b1b" stroke-width="2.6" stroke-dasharray="5.2 3.4" stroke-linecap="butt"/><path d="M88.7 571C89.23 565.12 90.57 547.47 93.5 538.9C96.43 530.33 101.22 524.42 106.3 519.6C111.38 514.78 118.63 510.8 124 510C129.37 509.2 133.95 511.6 138.5 514.8C143.05 518 148.22 524.17 151.3 529.2C154.38 534.23 155.38 539.03 157 545C158.62 550.97 160.83 559.83 161 565C161.17 570.17 159.62 573.4 158 576C156.38 578.6 155.63 579.3 151.3 580.6C146.97 581.9 139.5 583.53 132 583.8C124.5 584.07 113.25 583.8 106.3 582.2C99.35 580.6 93.23 576.07 90.3 574.2C87.37 572.33 88.17 576.88 88.7 571Z" fill="none" stroke="#1b1b1b" stroke-width="2.6" stroke-dasharray="5.2 3.4" stroke-linecap="butt"/><text x="112.3" y="504.9" font-size="10.7" font-weight="bold">G2/M</text><text x="190.6" y="534" font-size="10.7" font-weight="bold">G1</text><clipPath id="fl2040"><circle cx="154.5" cy="495.4" r="3.7"/></clipPath><g clip-path="url(#fl2040)"><rect x="150.8" y="491.7" width="2.67" height="7.4" fill="#3a78b8"/><rect x="153.27" y="491.7" width="2.67" height="7.4" fill="#f4f4f4"/><rect x="155.73" y="491.7" width="2.47" height="7.4" fill="#d8554a"/></g><text x="159.8" y="498.2" font-size="9.6">day 3</text><circle cx="154.5" cy="505.8" r="3.7" fill="#1a1a1a"/><text x="159.8" y="508.1" font-size="9.6">untreated</text><defs><linearGradient id="cbg" x1="0" y1="1" x2="0" y2="0"><stop offset="0.0" stop-color="#053061"/><stop offset="0.1" stop-color="#2166ac"/><stop offset="0.2" stop-color="#4393c3"/><stop offset="0.3" stop-color="#92c5de"/><stop offset="0.4" stop-color="#d1e5f0"/><stop offset="0.5" stop-color="#f7f7f7"/><stop offset="0.6" stop-color="#fddbc7"/><stop offset="0.7" stop-color="#f4a582"/><stop offset="0.8" stop-color="#d6604d"/><stop offset="0.9" stop-color="#b2182b"/><stop offset="1.0" stop-color="#67001f"/></linearGradient></defs><rect x="213.7" y="504.8" width="8.2" height="127.3" fill="url(#cbg)" stroke="#777" stroke-width="0.5"/><path d="M221.9 631.8H224.5" stroke="#444" stroke-width="0.7" stroke-linecap="butt"/><text x="225.4" y="634.9" font-size="8.6">0.0</text><path d="M221.9 611.2H224.5" stroke="#444" stroke-width="0.7" stroke-linecap="butt"/><text x="225.4" y="614.3" font-size="8.6">0.4</text><path d="M221.9 590.6H224.5" stroke="#444" stroke-width="0.7" stroke-linecap="butt"/><text x="225.4" y="593.7" font-size="8.6">0.8</text><path d="M221.9 570H224.5" stroke="#444" stroke-width="0.7" stroke-linecap="butt"/><text x="225.4" y="573.1" font-size="8.6">1.2</text><path d="M221.9 549.4H224.5" stroke="#444" stroke-width="0.7" stroke-linecap="butt"/><text x="225.4" y="552.5" font-size="8.6">1.6</text><path d="M221.9 528.8H224.5" stroke="#444" stroke-width="0.7" stroke-linecap="butt"/><text x="225.4" y="531.9" font-size="8.6">2.0</text><path d="M221.9 508.2H224.5" stroke="#444" stroke-width="0.7" stroke-linecap="butt"/><text x="225.4" y="511.3" font-size="8.6">2.4</text><text x="213.7" y="488.5" font-size="9.6">DAPI</text><text x="213.7" y="498.2" font-size="9.6">1e6</text><path d="M261 489L354.5 473.9L445.1 492L435 627.5L355.8 684.8L272.5 625.5Z" fill="#e5ecf6"/><path d="M302.14 482.36L307.92 601.3M328.32 478.13L330.46 585.9M263.65 520.5L354.15 496.19M266.27 551.5L353.81 518.13M268.71 580.5L353.49 538.65M270.98 607.5L353.2 557.76M381.68 479.33L377.6 587.6M408.86 484.76L402.2 604.7M354.15 496.19L442.77 523.27M353.81 518.13L440.48 554.04M353.49 538.65L438.33 582.83M353.2 557.76L436.33 609.63M380.06 589.31L299.99 645.07M326.43 588.65L408.86 646.41M412.04 611.54L332.48 668.2M295.04 610.1L377.98 668.76M354.5 473.9L353 570.5M272.5 625.5L353 570.5L435 627.5" stroke="#fff" stroke-width="0.9" fill="none" stroke-linecap="butt"/><text x="262.5" y="495.8" font-size="9" text-anchor="middle">4</text><text x="262.5" y="529.7" font-size="9" text-anchor="middle">3</text><text x="262.5" y="562.3" font-size="9" text-anchor="middle">2</text><text x="262.5" y="593.5" font-size="9" text-anchor="middle">1</text><text x="262.5" y="621.1" font-size="9" text-anchor="middle">0</text><text transform="translate(254.6 555.7) rotate(-90)" font-size="9.6" text-anchor="middle">Vim (RFI)</text><text x="276.3" y="668.9" font-size="9.3">PHATE2</text><text x="398.5" y="668.9" font-size="9.3">PHATE1</text><defs><path id="q65" d="M292 621h0m3-4h0m-15 7h0m17 2h0m44-3h0"/></defs><use href="#q65" stroke="#6e6e6e" stroke-width="2.8"/><use href="#q65" stroke="#4a97c5" stroke-width="2"/><defs><path id="q66" d="M387 590h0m24-2h0m7 13h0m8-1h0m-60 6h0m19 2h0m15 1h0m12-4h0m-68 8h0m69 0h0m5 0h0m-132 5h0m8 2h0m29-1h0m2-1h0m0 1h0m9-2h0m5 3h0m19-3h0m24-1h0m45 1h0m-135 8h0m4-3h0m0 2h0m10 0h0m5-2h0m0 2h0m14-3h0m22 0h0m26 4h0m27-2h0m-30 10h0m1 6h0m11-4h0"/></defs><use href="#q66" stroke="#6e6e6e" stroke-width="2.8"/><use href="#q66" stroke="#8bc1dc" stroke-width="2"/><defs><path id="q67" d="M390 582h0m15 1h0m22 1h0m-56 6h0m18-1h0m19-4h0m1 0h0m3 5h0m-35 1h0m14 4h0m5 1h0m24 0h0m-141 6h0m93-4h0m21 0h0m15 3h0m-130 5h0m0 2h0m0 0h0m21-3h0m2 3h0m61 1h0m4-1h0m1-1h0m10 2h0m1-2h0m7-3h0m4 0h0m1 4h0m9 0h0m11-1h0m4-3h0m-138 7h0m3 2h0m0 2h0m3-1h0m2-4h0m2 2h0m11 3h0m1-4h0m3 2h0m7-2h0m1 1h0m2-2h0m0 1h0m3-2h0m1 2h0m0 0h0m4 1h0m0-3h0m1 4h0m1 1h0m11-4h0m3 3h0m3 0h0m0-1h0m0 2h0m3-4h0m1 3h0m1 0h0m0 2h0m6-2h0m6 0h0m3 0h0m4-3h0m0 3h0m16 2h0m14-2h0m11-4h0m1 3h0m5 0h0m14-2h0m-146 7h0m24 1h0m1 1h0m2-2h0m3 0h0m8 3h0m5-3h0m1-2h0m14 5h0m1 0h0m3-2h0m8 0h0m3-1h0m1 2h0m3-3h0m20 3h0m22-3h0m18 4h0m11-1h0m-117 3h0m13-1h0m27 2h0m19 1h0m18 1h0m10-3h0m33 2h0m-58 3h0m3 1h0m5 0h0m41 2h0m-48 8h0m1-4h0m25-1h0m3 0h0m2 4h0m-29 3h0"/></defs><use href="#q67" stroke="#6e6e6e" stroke-width="2.8"/><use href="#q67" stroke="#c1ddec" stroke-width="2"/><defs><path id="q68" d="M396 582h0m29 1h0m-59 5h0m7 0h0m11 1h0m8-1h0m-27 3h0m30 4h0m3-3h0m1 3h0m-122 3h0m0 5h0m0-3h0m6 0h0m2-3h0m6 1h0m104 3h0m1-3h0m-116 10h0m3-1h0m7-3h0m1 3h0m0 0h0m5-2h0m5 1h0m12 0h0m3-2h0m0 4h0m7-3h0m4 0h0m15 1h0m7 1h0m0 1h0m6-1h0m1 0h0m9-1h0m6-2h0m14 4h0m26-4h0m7 4h0m-101 3h0m3 1h0m4 0h0m4 0h0m0-3h0m0 3h0m7-1h0m5-1h0m3 2h0m12-2h0m2 3h0m6 0h0m12-1h0m20-2h0m29 4h0m-125 2h0m2 0h0m64 5h0m2-2h0m19 1h0m12-2h0m4 1h0m4-1h0m5 0h0m15 1h0m-137 6h0m138-2h0m-53 7h0m2 2h0m0-5h0m25 5h0m23 1h0m-43 0h0m5 1h0m5 3h0m6 0h0m6-3h0m7 5h0m15-4h0"/></defs><use href="#q68" stroke="#6e6e6e" stroke-width="2.8"/><use href="#q68" stroke="#e7f0f4" stroke-width="2"/><defs><path id="q69" d="M397 595h0m6-3h0m5 9h0m13 4h0m-56 14h0m2-3h0m19 2h0m-3 5h0m3 1h0m24 4h0"/></defs><use href="#q69" stroke="#6e6e6e" stroke-width="2.8"/><use href="#q69" stroke="#f19f7e" stroke-width="2"/><defs><path id="q70" d="M385 583h0m14 0h0m19-2h0m8 4h0m-60 4h0m6-1h0m14 2h0m31-3h0m-135 9h0m103 1h0m8-2h0m4-1h0m5 0h0m0 0h0m12-3h0m8 0h0m6 5h0m-152 2h0m6-1h0m3 5h0m6-1h0m0-2h0m7 4h0m69-2h0m1-2h0m2 3h0m6-3h0m1 0h0m1-1h0m19 2h0m12 0h0m11-3h0m-134 6h0m22 2h0m24 1h0m33 2h0m11-1h0m6-1h0m27 0h0m6 0h0m1-2h0m5 2h0m-118 5h0m67 0h0m13 2h0m27-1h0m11-1h0m3 0h0m3 1h0m-48 8h0m3-4h0m3 0h0m5 1h0m21 3h0m3-3h0m-46 5h0m10 4h0m15-2h0m4-3h0m13 2h0m1 0h0m3-1h0m2 2h0m4 1h0m-53 3h0m24 4h0m-22 4h0m4-2h0m6 4h0m9-3h0m1 3h0m4-1h0m2 1h0m0-3h0m9 3h0m13-4h0m-28 6h0m4 1h0m10-1h0"/></defs><use href="#q70" stroke="#6e6e6e" stroke-width="2.8"/><use href="#q70" stroke="#faebe3" stroke-width="2"/><defs><path id="q71" d="M393 583h0m13 0h0m11-2h0m-50 10h0m17 0h0m2-4h0m1 3h0m8-3h0m10 0h0m5 1h0m0-2h0m6 3h0m4-1h0m-47 4h0m40 4h0m11 0h0m-102 7h0m52-1h0m22-2h0m8-1h0m4 3h0m9-3h0m8 3h0m-52 2h0m20 2h0m1 1h0m2 0h0m8 0h0m-38 5h0m17-2h0m9 3h0m16 0h0m13-2h0m-57 8h0m33-2h0m3 0h0m4 2h0m9 0h0m1-1h0m3-3h0m0 5h0m3 4h0m-51 4h0m13 3h0m4-2h0m28 3h0m-45 2h0m18 1h0m20 0h0m-35 6h0m7-1h0"/></defs><use href="#q71" stroke="#6e6e6e" stroke-width="2.8"/><use href="#q71" stroke="#fbceb6" stroke-width="2"/><path d="M353 576h0m6 2h0m16-1h0m7-1h0m7 0h0m2 3h0m6-5h0m1 4h0m-97 4h0m13-1h0m16 2h0m5-3h0m0 4h0m2 1h0m1-1h0m1-4h0m18 1h0m8 1h0m6-2h0m1 2h0m3-2h0m0 1h0m13-1h0m8 3h0m20 0h0m-105 6h0m37 2h0m1-4h0m2 3h0m1-5h0m13 2h0m1-2h0m27 3h0m2-1h0m-91 5h0m7-1h0m14 3h0m46-2h0m12 1h0m9-2h0m10 3h0m0 0h0m16 0h0m7-2h0m3-1h0m-109 7h0m6 1h0m8 2h0m1-1h0m7-2h0m3 3h0m8-3h0m6 4h0m3-1h0m3-1h0m6-3h0m2 3h0m11 3h0m2-4h0m23 1h0m19 0h0m-123 8h0m4-1h0m5 1h0m5-5h0m10 1h0m10 2h0m23 0h0m12 2h0m1-4h0m2 4h0m4-3h0m11 2h0m13-3h0m9 3h0m14-2h0m2-1h0m-118 8h0m12-1h0m3 1h0m2-3h0m5 0h0m0 1h0m19-1h0m8 1h0m11 1h0m1 3h0m1-4h0m14 0h0m38 4h0m-122 5h0m2-1h0m7 2h0m5-2h0m11-1h0m0 2h0m12-2h0m34 2h0m24 0h0m3-3h0m1 0h0m20 0h0" stroke="#333333" stroke-width="1.7"/><defs><path id="q72" d="M291 625h0m8-3h0m2 2h0m5 1h0m6 0h0m4-3h0m2 2h0m3 0h0"/></defs><use href="#q72" stroke="#6e6e6e" stroke-width="2.8"/><use href="#q72" stroke="#4a97c5" stroke-width="2"/><defs><path id="q73" d="M377 580h0m18 3h0m11 2h0m18-1h0m-9 1h0m10 5h0m-39 6h0m15-4h0m13 1h0m-49 12h0m13-1h0m40 3h0m-133 7h0m1-5h0m21 0h0m4 1h0m23 5h0m1 0h0m87-4h0m-137 9h0m15-2h0m8 3h0m13-1h0m0-2h0m2 1h0m1-2h0m2-1h0m8 5h0m7-2h0m13-3h0m2 0h0m11 1h0m35 1h0m21 2h0m-144 2h0m3 0h0m7 3h0m2 0h0m7-1h0m8-2h0m2 3h0m3-3h0m6 1h0m2-1h0m7 0h0m1 1h0m41 8h0m49 3h0"/></defs><use href="#q73" stroke="#6e6e6e" stroke-width="2.8"/><use href="#q73" stroke="#8bc1dc" stroke-width="2"/><defs><path id="q74" d="M399 584h0m1 0h0m16-2h0m0 7h0m-53 8h0m0-3h0m4-1h0m6 0h0m15 2h0m20 0h0m13-1h0m-43 4h0m14 0h0m2 0h0m22 1h0m0 2h0m0 0h0m-139 7h0m1 1h0m27-4h0m23 3h0m1 0h0m10-1h0m4 2h0m4-2h0m2 0h0m13-3h0m4 2h0m1 0h0m9 2h0m8-1h0m11-2h0m-115 6h0m7 3h0m1-2h0m8 2h0m6 1h0m3-5h0m11 4h0m3-2h0m9-1h0m2 3h0m3-4h0m9 4h0m2 1h0m4-2h0m1 1h0m6-2h0m19-3h0m2 5h0m5-4h0m4 3h0m8 1h0m3-3h0m2 1h0m7-3h0m-113 9h0m3-3h0m3 0h0m7 4h0m14 2h0m3-1h0m5-3h0m1-1h0m2 1h0m14-2h0m11 3h0m2 2h0m4 0h0m16-5h0m0 4h0m19-2h0m-102 5h0m6 0h0m16 3h0m2-1h0m10-1h0m6-1h0m5-1h0m39 6h0m0-4h0m3-1h0m4 3h0m6-3h0m8 4h0m1-1h0m5-2h0m2 0h0m6 1h0m-45 4h0m17 3h0m5-3h0m1 3h0m14 2h0m15-1h0m-41 6h0m4 0h0m7 0h0m0 0h0m14 1h0m5-5h0m4 0h0"/></defs><use href="#q74" stroke="#6e6e6e" stroke-width="2.8"/><use href="#q74" stroke="#c1ddec" stroke-width="2"/><defs><path id="q75" d="M383 582h0m-13 4h0m9 2h0m0 0h0m34-2h0m5 2h0m7-1h0m-25 5h0m5 2h0m18 2h0m-124 4h0m0 2h0m9 0h0m56-4h0m17 3h0m16-4h0m23 1h0m-143 9h0m3-3h0m9 2h0m2-2h0m1 5h0m0-2h0m3 0h0m9-2h0m1 1h0m3 1h0m2-1h0m14 2h0m1-3h0m9 0h0m0 2h0m1-1h0m1 0h0m8 3h0m17-1h0m12-5h0m7 6h0m36-2h0m-135 5h0m9 2h0m7 0h0m6-3h0m2 1h0m0-2h0m1 2h0m5-1h0m3 2h0m1 1h0m8-4h0m4 3h0m2-1h0m7-3h0m3 1h0m47 3h0m-99 3h0m8 3h0m76-4h0m18 3h0m11 3h0m20-6h0m4 2h0m1 1h0m-49 8h0m25-4h0m13 2h0m8-2h0m5 5h0m-55 5h0m5-4h0m3 3h0m15-2h0m1-2h0m29 2h0m2 1h0m-53 7h0m4 1h0m0-4h0m14 2h0m13-1h0m10 0h0m-20 4h0"/></defs><use href="#q75" stroke="#6e6e6e" stroke-width="2.8"/><use href="#q75" stroke="#e7f0f4" stroke-width="2"/><defs><path id="q76" d="M424 594h0m-36 14h0m7-1h0m2-1h0m2 8h0"/></defs><use href="#q76" stroke="#6e6e6e" stroke-width="2.8"/><use href="#q76" stroke="#f19f7e" stroke-width="2"/><defs><path id="q77" d="M394 583h0m-17 4h0m0-2h0m5 1h0m16 3h0m3-1h0m3 2h0m16-3h0m-144 9h0m2 0h0m6 1h0m106 0h0m10-3h0m18-2h0m1 1h0m-132 7h0m6-2h0m9 4h0m2 0h0m66-3h0m11 4h0m2-4h0m19 2h0m8-4h0m12 2h0m-143 5h0m0 4h0m3-4h0m2 2h0m5-3h0m12 0h0m67 4h0m28 2h0m21-4h0m-138 5h0m25 2h0m84-2h0m13 1h0m3 2h0m8 2h0m1-4h0m0 3h0m-31 6h0m1-3h0m20 3h0m12-5h0m4 4h0m3-3h0m3 4h0m-28 7h0m1-2h0m22 0h0m-50 6h0m26-2h0m3 3h0m6 0h0m-3 5h0m4 0h0m2-2h0m7 0h0m12-1h0m-29 5h0"/></defs><use href="#q77" stroke="#6e6e6e" stroke-width="2.8"/><use href="#q77" stroke="#faebe3" stroke-width="2"/><defs><path id="q78" d="M394 584h0m21-3h0m-34 4h0m9 1h0m15 4h0m3-1h0m1-3h0m1-1h0m2 1h0m-128 11h0m87-6h0m4 4h0m6-2h0m14 2h0m4-3h0m13 1h0m3 3h0m-136 1h0m2 2h0m118-1h0m6 5h0m3-3h0m4-1h0m-17 5h0m2 1h0m5 3h0m8 0h0m13 0h0m-59 6h0m1 1h0m5-3h0m0 0h0m21-2h0m21 1h0m6-2h0m3 3h0m-39 5h0m2 3h0m3-3h0m0 3h0m6-3h0m2 2h0m8-3h0m3 2h0m3-1h0m17 0h0m-56 6h0m20-1h0m4 4h0m28-2h0m-55 3h0m2 0h0m11 4h0m10 0h0m0-1h0m2-3h0m17 2h0m-33 4h0m14 6h0m17-2h0m-16 3h0"/></defs><use href="#q78" stroke="#6e6e6e" stroke-width="2.8"/><use href="#q78" stroke="#fbceb6" stroke-width="2"/><path d="M366 578h0m1 0h0m7-1h0m5 1h0m8 0h0m0-2h0m10-1h0m1 2h0m7 1h0m-101 4h0m7 0h0m3 1h0m14 2h0m14-3h0m1 2h0m6-4h0m2 1h0m0 0h0m13 0h0m3 3h0m14-4h0m5 4h0m0-3h0m27 0h0m3 1h0m-109 4h0m16 2h0m18 1h0m1-2h0m9 1h0m4 2h0m13-2h0m9 1h0m12 1h0m5-2h0m19 2h0m2 0h0m2 1h0m6-4h0m5 2h0m-116 4h0m8 1h0m15-3h0m2 3h0m40-2h0m9 4h0m13-3h0m4 1h0m19 0h0m2-2h0m2-1h0m4 5h0m-100 3h0m4-1h0m3 4h0m15-4h0m1 4h0m4 0h0m23-2h0m2 1h0m17 0h0m4-2h0m22 2h0m4 0h0m-118 6h0m4 2h0m11-5h0m30 3h0m12-4h0m16 1h0m5 4h0m28-4h0m-111 6h0m24 0h0m4 4h0m12-5h0m16 3h0m4-1h0m1 2h0m16-2h0m10 1h0m4 2h0m6 1h0m3-2h0m3-4h0m13 1h0m4 1h0m-118 10h0m29-1h0m5-4h0m18 2h0m16-2h0m20 4h0m4-5h0m2 3h0m1-3h0m0 1h0m17 0h0m3-1h0m-10 6h0" stroke="#333333" stroke-width="1.7"/><defs><path id="q79" d="M355 620h0m-71 5h0m28 0h0m10-2h0"/></defs><use href="#q79" stroke="#6e6e6e" stroke-width="2.8"/><use href="#q79" stroke="#4a97c5" stroke-width="2"/><defs><path id="q80" d="M427 582h0m-4 9h0m0-3h0m-36 8h0m8-2h0m7 10h0m-109 11h0m11-2h0m58-1h0m12-2h0m10 2h0m25 2h0m13 0h0m-140 6h0m20-4h0m16 4h0m3 0h0m6-3h0m6 0h0m1 2h0m15 2h0m11-2h0m16 2h0m13-4h0m9-1h0m-117 7h0m7-2h0m3 4h0m9 1h0m2-1h0m4-1h0m2 0h0m4-2h0m5 3h0m0-1h0m4-2h0m11 2h0m3-2h0m2 1h0m3 0h0m7-2h0m60 3h0m2 4h0m15 6h0m-39 6h0m13 0h0"/></defs><use href="#q80" stroke="#6e6e6e" stroke-width="2.8"/><use href="#q80" stroke="#8bc1dc" stroke-width="2"/><defs><path id="q81" d="M375 582h0m12 2h0m26 0h0m9 1h0m-45 3h0m15 3h0m2-6h0m13 5h0m6-1h0m11 2h0m1-1h0m-54 2h0m5 3h0m18-2h0m0-2h0m1 5h0m2-2h0m10-2h0m-42 11h0m1-3h0m1-1h0m10 2h0m4-1h0m23 1h0m19 2h0m1-1h0m-129 5h0m42-1h0m49 2h0m33-3h0m7 2h0m-145 7h0m4-1h0m5-1h0m11-1h0m2-1h0m0 0h0m8 3h0m8-1h0m5-2h0m11 1h0m4 0h0m0 0h0m6 4h0m1-2h0m28-2h0m24 1h0m10-2h0m-122 7h0m2 3h0m0-3h0m1 3h0m9-5h0m6 4h0m3 0h0m7-1h0m13-2h0m14 0h0m7 3h0m7-4h0m6 1h0m16 3h0m9-1h0m1-3h0m7 1h0m5 0h0m17 0h0m-131 6h0m1 0h0m11 2h0m10-1h0m15 0h0m4-1h0m2 2h0m9-3h0m4 1h0m2 0h0m9-1h0m31 5h0m6-5h0m10 4h0m0 2h0m14-5h0m-44 11h0m16-5h0m8 3h0m17 1h0m3-4h0m-40 10h0m28-2h0m3-2h0m5 4h0m13-5h0m1 1h0m-36 5h0m11 1h0m7 0h0"/></defs><use href="#q81" stroke="#6e6e6e" stroke-width="2.8"/><use href="#q81" stroke="#c1ddec" stroke-width="2"/><defs><path id="q82" d="M376 585h0m21-2h0m16-1h0m-48 9h0m8-5h0m2 1h0m1 1h0m11 2h0m1 1h0m5-5h0m7 5h0m3-6h0m7 0h0m9 3h0m5 3h0m0-2h0m-28 5h0m2 1h0m3 1h0m10 0h0m0 1h0m-135 5h0m3 1h0m89-6h0m20 5h0m1-1h0m3 0h0m4 1h0m5 0h0m14-4h0m5-1h0m-144 10h0m1-1h0m0-2h0m8 3h0m1 1h0m8-4h0m1 4h0m9 1h0m0 0h0m4-1h0m8 1h0m2-3h0m3 0h0m3 2h0m1 0h0m12-1h0m2-2h0m3 2h0m7 0h0m1 1h0m0-1h0m1 0h0m42 0h0m7-2h0m16 3h0m-141 4h0m13-3h0m4 5h0m14-4h0m1 0h0m15-1h0m3 3h0m4-3h0m13 1h0m6 1h0m2-2h0m-48 9h0m16-3h0m24 2h0m5 1h0m20 0h0m40 1h0m4 1h0m-15 4h0m21 1h0m2 1h0m8-1h0m-57 4h0m7 2h0m3-1h0m2 1h0m1-2h0m2 3h0m6-1h0m4 1h0m11-1h0m9-2h0m-34 8h0m20-1h0m12-2h0m-27 6h0"/></defs><use href="#q82" stroke="#6e6e6e" stroke-width="2.8"/><use href="#q82" stroke="#e7f0f4" stroke-width="2"/><defs><path id="q83" d="M406 588h0m0 2h0m-123 6h0m108 1h0m12-2h0m-6 11h0m-32 3h0m6 10h0m1 11h0m22-1h0m23 2h0m-23 3h0m25 0h0"/></defs><use href="#q83" stroke="#6e6e6e" stroke-width="2.8"/><use href="#q83" stroke="#f19f7e" stroke-width="2"/><defs><path id="q84" d="M375 581h0m7 2h0m19-1h0m-16 8h0m6-2h0m11 2h0m6-5h0m7 1h0m10 2h0m-144 8h0m100-2h0m6-1h0m10 4h0m12-5h0m6 0h0m4 3h0m3-2h0m-143 4h0m1 2h0m7 2h0m3 0h0m13 0h0m100 0h0m11 2h0m7-1h0m-130 2h0m1-1h0m20 0h0m35 4h0m3 1h0m17-2h0m32-2h0m10 5h0m8-6h0m0 6h0m-111 4h0m50-4h0m14 2h0m16 3h0m9-2h0m16 0h0m-41 5h0m13 1h0m6 0h0m27-1h0m5 2h0m5-2h0m-57 9h0m21-3h0m11-1h0m3 0h0m-36 10h0m0-3h0m0 1h0m1 3h0m-1 1h0m5 0h0m12 3h0m25-2h0m8 2h0"/></defs><use href="#q84" stroke="#6e6e6e" stroke-width="2.8"/><use href="#q84" stroke="#faebe3" stroke-width="2"/><defs><path id="q85" d="M379 581h0m3-2h0m6 3h0m6 3h0m4 0h0m9-2h0m17 0h0m2 2h0m-56 1h0m12-1h0m32 3h0m-31 7h0m11 2h0m19-5h0m-129 5h0m92 0h0m5 0h0m3 4h0m4-2h0m15 0h0m19 0h0m4 2h0m1 0h0m-146 2h0m85 1h0m19 5h0m29-6h0m2 2h0m-50 10h0m34-3h0m-2 8h0m5 0h0m18 0h0m-56 2h0m5 4h0m19-1h0m3-1h0m4 1h0m1-2h0m8 3h0m-24 4h0m5 2h0m0-4h0m11 4h0m16 1h0m-35 1h0m3 1h0m6 2h0m18-3h0"/></defs><use href="#q85" stroke="#6e6e6e" stroke-width="2.8"/><use href="#q85" stroke="#fbceb6" stroke-width="2"/><path d="M339 579h0m24-3h0m3 2h0m5-2h0m5 0h0m9-3h0m12 3h0m5 0h0m-83 5h0m5 2h0m24-4h0m10 1h0m4 2h0m9-1h0m4 0h0m0 1h0m6 2h0m4-1h0m0-3h0m6 1h0m3-1h0m3 2h0m12 2h0m15 1h0m-118 0h0m11 1h0m5 0h0m8 4h0m3-2h0m4 3h0m13-2h0m13-1h0m1-1h0m5 0h0m6 1h0m15 0h0m15 2h0m5-2h0m3 0h0m7 2h0m-119 5h0m14 1h0m1 0h0m19-2h0m39 2h0m9-1h0m6-2h0m2-1h0m1 4h0m3-3h0m31-1h0m-123 10h0m11-1h0m14-2h0m3 2h0m4 1h0m24 1h0m18-6h0m1 5h0m1-1h0m25 0h0m3 0h0m-103 3h0m1 4h0m20-3h0m20-1h0m6-1h0m4 2h0m14 2h0m10 0h0m12-3h0m1 3h0m1-3h0m33 0h0m2 0h0m-95 6h0m15 3h0m11 0h0m12 2h0m8-3h0m13-2h0m5 3h0m22-4h0m1 6h0m1 0h0m4-3h0m0 2h0m-118 5h0m18-3h0m18 2h0m6 1h0m11 0h0m10-2h0m2 1h0m2 3h0m1-2h0m4-3h0m3 5h0m10-6h0m3 1h0m5 0h0m0 0h0m14 1h0m1-2h0m-1 7h0m7-1h0m3 1h0" stroke="#333333" stroke-width="1.7"/><defs><path id="q86" d="M336 619h0m-43 6h0m1-3h0m12 3h0"/></defs><use href="#q86" stroke="#6e6e6e" stroke-width="2.8"/><use href="#q86" stroke="#4a97c5" stroke-width="2"/><defs><path id="q87" d="M391 585h0m15-3h0m-37 4h0m6 1h0m21 2h0m-26 7h0m27 0h0m8-2h0m15-3h0m-145 20h0m50 2h0m52 0h0m33 1h0m-127 4h0m1 0h0m7 0h0m1-1h0m3 3h0m21-2h0m9 3h0m4-4h0m3 4h0m9-2h0m3 1h0m1-1h0m1 1h0m4 0h0m5 0h0m1-1h0m4 2h0m2-1h0m-82 4h0m5 0h0m6-3h0m0 3h0m1 0h0m7 0h0m2-1h0m4 0h0m5 2h0m7-4h0m12 0h0m7 0h0m20 0h0m17 4h0m7-1h0m32 0h0m11 2h0m1 1h0m1-5h0m-54 8h0m13-1h0m28 1h0"/></defs><use href="#q87" stroke="#6e6e6e" stroke-width="2.8"/><use href="#q87" stroke="#8bc1dc" stroke-width="2"/><defs><path id="q88" d="M372 584h0m11-1h0m18 1h0m-26 2h0m0 0h0m5 5h0m27-4h0m3 0h0m5 3h0m9 0h0m-50 3h0m3 0h0m4-1h0m21 1h0m2 0h0m12-1h0m6 5h0m-60 1h0m7 0h0m3 4h0m8-4h0m12 5h0m31-1h0m-136 4h0m22-1h0m35 1h0m9 1h0m24 1h0m38-3h0m8 4h0m-146 1h0m2 0h0m1 4h0m1-4h0m3 1h0m9-1h0m0 3h0m2 2h0m2-6h0m7 1h0m1 5h0m6-4h0m2 3h0m0-1h0m2-2h0m7-1h0m0 5h0m0-4h0m9 3h0m1-2h0m10 2h0m7 0h0m1-2h0m0 2h0m5-3h0m0 2h0m7 0h0m5-4h0m5 1h0m14 3h0m0 2h0m1-1h0m3 1h0m12-4h0m1 0h0m3-1h0m-127 7h0m1-1h0m6 2h0m1-2h0m9 1h0m10 4h0m2-6h0m2 2h0m15-1h0m5 5h0m3-6h0m2 4h0m18-4h0m4 0h0m2 5h0m1-4h0m5 5h0m2-2h0m5-2h0m10 1h0m20 2h0m4 0h0m13-2h0m-136 3h0m16 2h0m0 1h0m7-1h0m19 1h0m55-3h0m17 5h0m17-3h0m10 0h0m-47 8h0m8-4h0m11 2h0m5 1h0m24 0h0m3 1h0m-44 7h0m1-1h0m5-3h0m12 5h0m-19 2h0"/></defs><use href="#q88" stroke="#6e6e6e" stroke-width="2.8"/><use href="#q88" stroke="#c1ddec" stroke-width="2"/><defs><path id="q89" d="M415 582h0m6 7h0m0 0h0m-25 4h0m1 3h0m2-1h0m3 1h0m5 1h0m12-1h0m-140 6h0m17-2h0m67-2h0m10 5h0m6-3h0m16-1h0m26 4h0m-145 3h0m1 1h0m4-3h0m1 3h0m0 0h0m1-4h0m0 3h0m1 3h0m12-2h0m2-3h0m6 2h0m6-2h0m0 4h0m8-4h0m4 0h0m5 4h0m2 0h0m2-3h0m2 4h0m1-4h0m4 3h0m5-2h0m1 2h0m10-1h0m8-3h0m30 1h0m-102 9h0m1-2h0m2-2h0m0 2h0m9 0h0m4-3h0m13 3h0m13-3h0m1 2h0m2 1h0m1 1h0m3-3h0m3 0h0m0 0h0m7-1h0m1 5h0m0 1h0m1-4h0m4 3h0m10 1h0m7-6h0m4 5h0m1 0h0m20-5h0m16 5h0m0-2h0m-129 4h0m1 1h0m95 2h0m4-4h0m2 5h0m5-2h0m15-2h0m-126 7h0m24-1h0m68 0h0m10 0h0m2-1h0m12 1h0m12 1h0m-40 5h0m7 5h0m15-6h0m17 1h0m9 0h0m-31 5h0m1 2h0m1-1h0m7 4h0m-21 2h0"/></defs><use href="#q89" stroke="#6e6e6e" stroke-width="2.8"/><use href="#q89" stroke="#e7f0f4" stroke-width="2"/><defs><path id="q90" d="M411 586h0m-25 7h0m-15 21h0m31 17h0m23 4h0"/></defs><use href="#q90" stroke="#6e6e6e" stroke-width="2.8"/><use href="#q90" stroke="#f19f7e" stroke-width="2"/><defs><path id="q91" d="M373 584h0m12-4h0m36 2h0m-50 8h0m16-3h0m8 1h0m5 0h0m1-1h0m0 1h0m6-1h0m7-1h0m1-1h0m-137 11h0m3 0h0m87-2h0m40 2h0m-133 7h0m2-1h0m0-2h0m11-3h0m3 3h0m4 2h0m13 1h0m5 0h0m61-2h0m23 0h0m1 1h0m3-1h0m24 1h0m2 0h0m-149 3h0m0-1h0m8 1h0m1 3h0m9 0h0m27 0h0m13-3h0m10 0h0m29 3h0m42-1h0m6 1h0m0-2h0m-142 3h0m90 3h0m12 3h0m10-4h0m9 0h0m9-1h0m-12 9h0m-6 7h0m9-2h0m2-2h0m4 0h0m5 1h0m11-1h0m-27 7h0m1 2h0m19-2h0m1 3h0m3 0h0m-42 6h0m15-2h0m1 1h0m8 2h0m9-1h0m0-2h0m3 2h0m-36 2h0"/></defs><use href="#q91" stroke="#6e6e6e" stroke-width="2.8"/><use href="#q91" stroke="#faebe3" stroke-width="2"/><defs><path id="q92" d="M393 581h0m-14 7h0m13-1h0m2 0h0m0-1h0m1 5h0m1-4h0m11-2h0m-38 10h0m12 4h0m17 2h0m2-4h0m-32 10h0m12 1h0m6-5h0m9 4h0m8 1h0m3-4h0m0 1h0m7 0h0m-45 4h0m11 1h0m18 4h0m4-5h0m-16 7h0m39 4h0m-55 5h0m0 1h0m20 0h0m20 1h0m10-5h0m-49 10h0m4-4h0m0 0h0m23 3h0m2-3h0m1 3h0m3-3h0m-18 10h0m30-3h0m12 1h0"/></defs><use href="#q92" stroke="#6e6e6e" stroke-width="2.8"/><use href="#q92" stroke="#fbceb6" stroke-width="2"/><path d="M364 577h0m7 1h0m14-2h0m16 1h0m-94 7h0m14 1h0m6-3h0m1 1h0m3-4h0m2 4h0m48-1h0m4-2h0m4 3h0m23-1h0m-104 8h0m9 0h0m25-3h0m4 1h0m2-2h0m8 0h0m47 4h0m1-3h0m1 2h0m7-3h0m7 0h0m-115 10h0m13 0h0m12-5h0m14 3h0m0 1h0m21-1h0m1 2h0m13 1h0m19-5h0m22 2h0m-109 6h0m6 0h0m11-2h0m1 5h0m3-4h0m18-1h0m16 0h0m19 5h0m3-4h0m0 1h0m5 2h0m8 0h0m2-5h0m23 2h0m3 3h0m-124 1h0m6 4h0m1 2h0m13-3h0m21 2h0m5 0h0m12-1h0m20 1h0m6-1h0m4-1h0m10 0h0m13 0h0m2 0h0m-97 7h0m8-3h0m0 4h0m5-4h0m0 3h0m17-1h0m7 1h0m2 2h0m1-4h0m9 0h0m6 2h0m21 2h0m24-5h0m3 0h0m4 0h0m2 1h0m-119 7h0m4-1h0m37-1h0m4 3h0m17-3h0m17 2h0m7 3h0m4-2h0m8-3h0m7 0h0m-112 5h0m2 1h0m23 0h0m53 0h0m2 0h0m2-1h0m26 1h0" stroke="#333333" stroke-width="1.7"/><defs><path id="q93" d="M286 624h0m37-2h0"/></defs><use href="#q93" stroke="#6e6e6e" stroke-width="2.8"/><use href="#q93" stroke="#4a97c5" stroke-width="2"/><defs><path id="q94" d="M395 582h0m20 2h0m6 4h0m-26 13h0m12-2h0m-53 9h0m-37 4h0m6 2h0m27 0h0m31 1h0m5-5h0m17 1h0m-117 6h0m9 0h0m0 4h0m8-5h0m4 5h0m10-6h0m2 3h0m13 2h0m1-1h0m6-2h0m2 0h0m34 4h0m51-2h0m-146 5h0m5 0h0m3-1h0m4 2h0m1-2h0m14 3h0m1-2h0m3 0h0m6 1h0m4-3h0m2 0h0m7 0h0m3 0h0m15 0h0m41-1h0m2 11h0m23-2h0m-44 4h0m27 5h0m-1 1h0"/></defs><use href="#q94" stroke="#6e6e6e" stroke-width="2.8"/><use href="#q94" stroke="#8bc1dc" stroke-width="2"/><defs><path id="q95" d="M406 583h0m8-2h0m8 3h0m6-1h0m-49 5h0m5-2h0m25 3h0m-42 2h0m21 0h0m1 3h0m-102 5h0m96 2h0m15 1h0m4-1h0m7 2h0m5-5h0m8 0h0m-118 6h0m5 4h0m1 1h0m0-1h0m0-3h0m6-1h0m4 1h0m10 2h0m27 2h0m33-3h0m22-2h0m4 1h0m11 1h0m-149 5h0m1-1h0m4-1h0m2 1h0m9 4h0m3-5h0m1 4h0m4-2h0m3 2h0m4 0h0m7-1h0m3 0h0m1 1h0m6-1h0m0 0h0m1-1h0m1 4h0m2-5h0m3 0h0m1 3h0m1-1h0m1 2h0m19 0h0m1-1h0m18 2h0m2 0h0m2 0h0m2-3h0m18 1h0m22 1h0m5-1h0m-144 6h0m0-3h0m6 5h0m7-5h0m2 5h0m4-4h0m1 1h0m16 1h0m12-2h0m9 0h0m6-1h0m12 4h0m3-2h0m9 2h0m6-1h0m13-1h0m17 0h0m10 0h0m2-1h0m-120 5h0m11 3h0m12-1h0m52-1h0m0 9h0m6-5h0m19 3h0m30-1h0m-24 11h0"/></defs><use href="#q95" stroke="#6e6e6e" stroke-width="2.8"/><use href="#q95" stroke="#c1ddec" stroke-width="2"/><defs><path id="q96" d="M401 582h0m23 1h0m-53 7h0m13-2h0m31 0h0m9-3h0m-138 12h0m125-6h0m-127 11h0m6 1h0m1-5h0m16 3h0m2 1h0m53-2h0m29-2h0m7-1h0m10 4h0m-133 8h0m8-3h0m2-2h0m5 2h0m0 0h0m3 0h0m3-3h0m5 2h0m2 1h0m3 1h0m1-1h0m6-1h0m3 3h0m4 0h0m2 1h0m6-4h0m0 1h0m3 2h0m5-3h0m5 1h0m13 1h0m1 0h0m8 1h0m1-1h0m28 1h0m17-1h0m9 0h0m-133 6h0m3-3h0m26 3h0m4-3h0m12 2h0m4-1h0m5 3h0m5-3h0m0 2h0m0-4h0m3 5h0m0-3h0m1 0h0m11-1h0m4 1h0m16 3h0m2-3h0m1 3h0m26-2h0m9-2h0m5 1h0m-115 7h0m4 1h0m45-1h0m3 1h0m5-3h0m2 0h0m0 1h0m18 1h0m17-1h0m12 3h0m10-1h0m5 0h0m-134 6h0m108 1h0m3-3h0m21 3h0m-47 6h0m7 1h0m22-5h0m-34 11h0m18 0h0"/></defs><use href="#q96" stroke="#6e6e6e" stroke-width="2.8"/><use href="#q96" stroke="#e7f0f4" stroke-width="2"/><defs><path id="q97" d="M368 590h0m2-4h0m35 2h0m-125 9h0m24 5h0m59-3h0m31 20h0m8 15h0"/></defs><use href="#q97" stroke="#6e6e6e" stroke-width="2.8"/><use href="#q97" stroke="#f19f7e" stroke-width="2"/><defs><path id="q98" d="M375 583h0m2 1h0m18-1h0m30-1h0m-60 8h0m3-4h0m27-1h0m12 4h0m5-2h0m4 0h0m-49 9h0m12-4h0m17 4h0m19 0h0m-134 3h0m4 0h0m14 4h0m6-1h0m6 0h0m54 0h0m45-5h0m7 4h0m-135 7h0m3 1h0m5-2h0m10-2h0m2-2h0m7 4h0m15-4h0m3 1h0m17 2h0m6 1h0m12-4h0m19 6h0m29-3h0m1-2h0m2 1h0m-32 8h0m34-3h0m3-1h0m10 4h0m-55 4h0m11 4h0m8-2h0m4-4h0m21 4h0m8 2h0m-56 4h0m2-3h0m1 5h0m26-6h0m3 0h0m3 3h0m7 2h0m10-2h0m-47 5h0m5 2h0m2 2h0m5-5h0m-16 7h0m2-1h0m4 2h0m1-1h0m8 2h0m17 2h0m14-3h0m-28 4h0m0 1h0m3-2h0m16 0h0"/></defs><use href="#q98" stroke="#6e6e6e" stroke-width="2.8"/><use href="#q98" stroke="#faebe3" stroke-width="2"/><defs><path id="q99" d="M378 580h0m2 0h0m2-1h0m4 2h0m4 1h0m32 3h0m-20 6h0m8-1h0m6-2h0m3-2h0m-38 11h0m4-2h0m32-1h0m-119 7h0m91-3h0m8 5h0m5-3h0m4-2h0m4 5h0m3-2h0m5-1h0m8 0h0m-50 6h0m2 2h0m4 0h0m15 1h0m19-3h0m3-2h0m-26 9h0m3 1h0m13-4h0m16 4h0m-49 6h0m1-2h0m4-1h0m2 0h0m3 4h0m0-4h0m7 1h0m13 0h0m10 1h0m9 0h0m-28 6h0m4-4h0m15 6h0m-46 0h0m3 1h0m3 2h0m4 0h0m3-3h0m0 2h0m19 2h0m-3 2h0m16 2h0m9-1h0m-25 7h0"/></defs><use href="#q99" stroke="#6e6e6e" stroke-width="2.8"/><use href="#q99" stroke="#fbceb6" stroke-width="2"/><path d="M362 577h0m8-2h0m13 3h0m5 1h0m3-6h0m10 2h0m-83 8h0m2 0h0m7-3h0m4 3h0m4-4h0m13 3h0m1 0h0m31-1h0m-77 6h0m13-1h0m2 4h0m14-1h0m3-3h0m10 4h0m4-4h0m2 0h0m3 2h0m6-1h0m9-2h0m2 2h0m2 3h0m14-4h0m18 4h0m12-2h0m-109 4h0m5 1h0m2 1h0m4-2h0m1 5h0m2-2h0m1-1h0m29-3h0m17 3h0m5-1h0m0 2h0m11-3h0m3 4h0m4 0h0m17-4h0m-90 6h0m7 2h0m6 1h0m2-2h0m18 3h0m31-3h0m3 3h0m13-4h0m4 3h0m9 0h0m4 1h0m12-1h0m-115 2h0m1 2h0m1 1h0m0-1h0m6 2h0m19-2h0m10 3h0m15-3h0m12 1h0m14 2h0m0 0h0m12-5h0m27 3h0m-128 4h0m12 3h0m7 0h0m18 0h0m3-3h0m7 1h0m1 2h0m0-1h0m1-2h0m1 5h0m4-5h0m9 2h0m0-2h0m6 4h0m8-2h0m26 2h0m1-2h0m5 1h0m1-4h0m2 0h0m-110 8h0m0 4h0m2-1h0m2-4h0m8 0h0m6 2h0m15 0h0m1 0h0m1 3h0m13-5h0m1 2h0m1-1h0m15 2h0m7-2h0m5 3h0m9 0h0m1-3h0m9 4h0m6-4h0m4 1h0m5 0h0m2 2h0m-69 1h0" stroke="#333333" stroke-width="1.7"/><defs><path id="q100" d="M331 618h0m22-2h0m-36 9h0m74-3h0m-54 6h0m7 2h0m22-1h0m3 4h0m28-6h0m13 3h0m-16 4h0"/></defs><use href="#q100" stroke="#6e6e6e" stroke-width="2.8"/><use href="#q100" stroke="#8bc1dc" stroke-width="2"/><defs><path id="q101" d="M406 621h0m-10 2h0m14-2h0m-1 12h0m-58 4h0m24-1h0m18 1h0m8-3h0m-59 6h0"/></defs><use href="#q101" stroke="#6e6e6e" stroke-width="2.8"/><use href="#q101" stroke="#c1ddec" stroke-width="2"/><defs><path id="q102" d="M286 586h0m12 7h0m26 4h0m-6 0h0m4 3h0m15 2h0m27-4h0"/></defs><use href="#q102" stroke="#6e6e6e" stroke-width="2.8"/><use href="#q102" stroke="#d96651" stroke-width="2"/><defs><path id="q103" d="M369 616h0m-24 9h0m26-1h0m0 3h0m-15 6h0m19-5h0m10 3h0m-41 6h0m25-3h0m-18 10h0"/></defs><use href="#q103" stroke="#6e6e6e" stroke-width="2.8"/><use href="#q103" stroke="#e7f0f4" stroke-width="2"/><defs><path id="q104" d="M272 578h0m1 4h0m1 2h0m0-1h0m0-1h0m3-2h0m5 4h0m2 0h0m4 1h0m-8 4h0m1-3h0m1 4h0m5-2h0m3 2h0m6 1h0m1-2h0m3-1h0m5 1h0m2 0h0m9-1h0m-32 7h0m2-1h0m4 3h0m6-5h0m4 3h0m0-1h0m3-2h0m0-1h0m6 1h0m1 0h0m0 0h0m22 4h0m7-1h0m3 0h0m0 1h0m3-3h0m1 3h0m2 0h0m4-2h0m0 1h0m8 0h0m-62 3h0m4 0h0m20 1h0m7-2h0m7 2h0m0-1h0m4 3h0m4-1h0m0 1h0m0 2h0m2-1h0m1-2h0m4 0h0m2-1h0m5-1h0m0-1h0m2 4h0m0 1h0m1-1h0m0 0h0m2-3h0m-8 6h0m8-1h0"/></defs><use href="#q104" stroke="#6e6e6e" stroke-width="2.8"/><use href="#q104" stroke="#f19f7e" stroke-width="2"/><defs><path id="q105" d="M281 584h0m2 6h0m15 0h0m1 0h0m24-1h0m-38 6h0m12-3h0m10 2h0m10 0h0m2 3h0m1-3h0m24 0h0m0 0h0m14 2h0m4-1h0m-74 3h0m17 0h0m1 0h0m22 3h0m15-3h0m4 4h0m2 1h0m2-2h0m12 2h0"/></defs><use href="#q105" stroke="#6e6e6e" stroke-width="2.8"/><use href="#q105" stroke="#fbceb6" stroke-width="2"/><path d="M320 615h0m0-2h0m1 1h0m3 0h0m0 1h0m1-2h0m1 1h0m0-1h0m6 0h0m0 0h0m7 1h0m3 0h0m10 1h0m2 0h0m1-1h0m5 1h0m6 0h0m0-1h0m4 0h0m7 0h0m-68 4h0m2 3h0m0-4h0m3-1h0m2 2h0m0-1h0m0 0h0m3 4h0m1-4h0m1 3h0m4-3h0m0 1h0m1-3h0m2 1h0m1 3h0m0-3h0m1 0h0m0 0h0m2 2h0m3-3h0m1 3h0m3 1h0m0 1h0m2-3h0m0 1h0m1-3h0m1 3h0m1-3h0m0 3h0m2-2h0m1 2h0m4-1h0m0 3h0m2-2h0m1 3h0m2-2h0m0 2h0m2-6h0m0 2h0m3 4h0m1-1h0m2 0h0m1-2h0m1-1h0m4 1h0m2 2h0m0-4h0m2-1h0m0 4h0m1-1h0m3-1h0m0 0h0m4-1h0m4-1h0m4 1h0m2 3h0m1 0h0m1-1h0m4 0h0m0 1h0m3-1h0m1-1h0m3 1h0m2 1h0m1 0h0m2-1h0m0 2h0m-102 5h0m2 0h0m0-2h0m5 4h0m3-1h0m2-3h0m1-1h0m6 4h0m3-2h0m2-1h0m1 1h0m0-2h0m3 5h0m0-1h0m2-4h0m2 2h0m3-3h0m1 4h0m0-3h0m2 0h0m1 3h0m5-2h0m0 1h0m6 3h0m1-2h0m2 0h0m2 0h0m3 2h0m0-5h0m1-1h0m2 3h0m0-1h0m5 3h0m0-1h0m3 1h0m1-1h0m0-1h0m2 0h0m1 2h0m0-3h0m0 2h0m2 0h0m1 0h0m4-2h0m4 2h0m1 1h0m2-2h0m1 0h0m3-1h0m1 2h0m0 0h0m7-3h0m1 0h0m3 0h0m5 1h0m3 3h0m3-2h0m1 0h0m-118 5h0m0 3h0m1-4h0m1 4h0m0-2h0m1-1h0m0 1h0m1 0h0m3 3h0m0-3h0m2 3h0m1-5h0m3 2h0m0 2h0m2-5h0m5 2h0m0 2h0m5 1h0m2-2h0m4-2h0m0-1h0m2 1h0m0-1h0m0 1h0m10 3h0m2-1h0m1-1h0m1 1h0m2 1h0m1 0h0m0 1h0m1-3h0m2-2h0m5 2h0m2 1h0m2 2h0m2-4h0m1 0h0m5 2h0m0 1h0m1-3h0m2 5h0m2-5h0m0 4h0m1-2h0m0 1h0m2 1h0m2-3h0m1 0h0m1-1h0m2 0h0m2 2h0m1-1h0m2 0h0m0 0h0m1 2h0m2 1h0m1-1h0m2-4h0m0 4h0m1-1h0m2 2h0m1-4h0m3 2h0m2-2h0m1 2h0m1 2h0m2-1h0m0-3h0m3 1h0m1-1h0m2 0h0m1 1h0m0 1h0m1 2h0m1-2h0m-117 4h0m9 4h0m0-4h0m1 1h0m1-1h0m8 2h0m0 2h0m6-2h0m1 0h0m2 1h0m0-2h0m1 2h0m1 0h0m0-1h0m1-1h0m0-2h0m2 4h0m0-1h0m4 0h0m2 3h0m0-6h0m0 2h0m3 4h0m2 0h0m0-4h0m4 0h0m1 4h0m1-6h0m2 4h0m2-2h0m0 3h0m2-2h0m1 3h0m1-2h0m1-4h0m3 4h0m2 0h0m1-1h0m0 1h0m5-3h0m0 1h0m4 3h0m0 0h0m1 0h0m6-1h0m0-2h0m1 0h0m0-2h0m1 2h0m1-2h0m1 3h0m1 3h0m0-5h0m4 3h0m3 1h0m0 1h0m0-6h0m4 4h0m5 0h0m2-3h0m0 4h0m3-1h0m2-3h0m2 1h0m1 0h0m0 1h0m1 2h0m0-3h0m4 0h0m-106 5h0m3 2h0m0 2h0m0-2h0m1 3h0m1 0h0m1-3h0m1-2h0m0 0h0m2 1h0m1 0h0m1-1h0m2-1h0m0 5h0m2-3h0m5 3h0m0-3h0m2 1h0m1-2h0m1 1h0m0 2h0m1-3h0m1 4h0m0-3h0m3 4h0m2-3h0m2-2h0m5 3h0m0 0h0m1 0h0m1-1h0m4 2h0m1 0h0m1 1h0m1-6h0m1 5h0m4-4h0m2 1h0m3 4h0m1-5h0m1 1h0m1-2h0m2 5h0m3-3h0m0 0h0m7-1h0m8 5h0m2-2h0m2-4h0m1 5h0m3-3h0m6-2h0m0 3h0m3-2h0m1 0h0m-92 6h0m4-1h0m3 1h0m4 0h0m6-1h0m7 3h0m3-3h0m3 1h0m1 1h0m1-1h0m2-1h0m3 0h0m9 3h0m0-1h0m2 0h0m1-1h0m1 1h0m0 1h0m1-3h0m15 2h0" stroke="#333333" stroke-width="1.7"/><defs><path id="q106" d="M333 627h0m50-3h0m13 1h0m-23 9h0m-39 7h0m5-1h0"/></defs><use href="#q106" stroke="#6e6e6e" stroke-width="2.8"/><use href="#q106" stroke="#8bc1dc" stroke-width="2"/><defs><path id="q107" d="M355 621h0m35 3h0m15-3h0m3 2h0m-33 10h0m-42 2h0m53-1h0"/></defs><use href="#q107" stroke="#6e6e6e" stroke-width="2.8"/><use href="#q107" stroke="#c1ddec" stroke-width="2"/><defs><path id="q108" d="M281 587h0m26 3h0m-25 3h0m25 3h0m30 1h0m8-2h0m-50 3h0m14 1h0m37 2h0m2 1h0m17-2h0"/></defs><use href="#q108" stroke="#6e6e6e" stroke-width="2.8"/><use href="#q108" stroke="#d96651" stroke-width="2"/><defs><path id="q109" d="M320 619h0m45 1h0m-42 5h0m7 0h0m50-3h0m-54 10h0m82-1h0m-65 10h0m22 1h0m21-3h0m13 3h0"/></defs><use href="#q109" stroke="#6e6e6e" stroke-width="2.8"/><use href="#q109" stroke="#e7f0f4" stroke-width="2"/><defs><path id="q110" d="M273 583h0m2-1h0m9 1h0m1 1h0m-10 4h0m2-2h0m4 1h0m3-2h0m4 5h0m1-2h0m1 3h0m1-2h0m1 2h0m7-3h0m1 1h0m15 1h0m2-1h0m2 0h0m10 1h0m-47 1h0m1 0h0m1 5h0m20-5h0m3 3h0m1 0h0m4 3h0m3-6h0m2 6h0m2-6h0m1 6h0m1-2h0m1-1h0m0 3h0m5 0h0m3-6h0m9 1h0m1 4h0m14-2h0m11 3h0m-66 1h0m2-1h0m1 1h0m3 2h0m9 1h0m2-1h0m8-2h0m3 4h0m5 1h0m1-3h0m3 1h0m3 1h0m3-1h0m1-2h0m0 2h0m2 0h0m1 2h0m1-6h0m5 4h0m1 2h0m4-5h0m1 3h0m1-3h0m2 1h0m-19 5h0m10-1h0m9 0h0"/></defs><use href="#q110" stroke="#6e6e6e" stroke-width="2.8"/><use href="#q110" stroke="#f19f7e" stroke-width="2"/><defs><path id="q111" d="M275 580h0m2 1h0m2 0h0m2 3h0m12 2h0m3-1h0m7 3h0m12 0h0m-31 3h0m1 2h0m33 4h0m29-3h0m-24 8h0m1-5h0m16 5h0m19-2h0"/></defs><use href="#q111" stroke="#6e6e6e" stroke-width="2.8"/><use href="#q111" stroke="#fbceb6" stroke-width="2"/><path d="M321 613h0m2 0h0m4 1h0m10 0h0m10-1h0m2 1h0m0 0h0m1 0h0m15 1h0m7-1h0m5 1h0m-74 6h0m1-1h0m1 0h0m2 0h0m0-2h0m4 2h0m2 1h0m0-1h0m0 0h0m1-4h0m2 3h0m1-1h0m1-1h0m4 2h0m0-1h0m1 0h0m0 2h0m6-4h0m1 5h0m1-3h0m4-2h0m0 0h0m1-1h0m1 6h0m3-3h0m3 3h0m0-3h0m2-3h0m0 3h0m2-3h0m1 1h0m1 4h0m0 0h0m3-4h0m3 2h0m1 1h0m1-1h0m1 1h0m1 2h0m1 0h0m3-1h0m4 1h0m1-2h0m2 0h0m0 0h0m0-2h0m5 1h0m2-3h0m1 3h0m1 2h0m3-5h0m1 4h0m1 0h0m1-4h0m2 6h0m0-6h0m1 1h0m1 0h0m2 4h0m2-2h0m1 3h0m1-1h0m0 1h0m1-4h0m1 3h0m13-1h0m2 2h0m-109 2h0m1 1h0m1 2h0m0 0h0m2-2h0m5 2h0m1-1h0m2-4h0m0 1h0m3-1h0m2 2h0m1 1h0m1-2h0m2 4h0m1-4h0m5 0h0m1 2h0m1 1h0m7-3h0m1 3h0m0 1h0m3 1h0m1-1h0m3-1h0m1 1h0m0-4h0m2 3h0m0 2h0m0-5h0m0 5h0m3-2h0m3-2h0m0 0h0m2 0h0m2 1h0m0 0h0m5 1h0m1-2h0m0 4h0m0-3h0m2 1h0m0 0h0m14-2h0m2 3h0m0-2h0m1 0h0m4 2h0m1-1h0m2-1h0m6-1h0m1 3h0m0-2h0m4 0h0m1-2h0m1 0h0m3 1h0m2 1h0m2 0h0m4-2h0m0-1h0m0 6h0m3-6h0m2 4h0m0-1h0m3 0h0m-117 7h0m0-3h0m0 1h0m9 4h0m2-5h0m1 2h0m2 1h0m0-1h0m3 1h0m2 0h0m0 0h0m1-3h0m4 2h0m1-2h0m3 2h0m2-1h0m2-1h0m6 2h0m0 3h0m1-1h0m1 1h0m1-1h0m5-3h0m1 3h0m0-4h0m1 5h0m0-2h0m0 1h0m5-5h0m1 3h0m1-2h0m3 0h0m2 4h0m2-1h0m3 0h0m0 1h0m3-1h0m1-2h0m1 3h0m0-2h0m1-1h0m0 1h0m2-1h0m1 1h0m1 2h0m1-1h0m2 0h0m0-2h0m4-1h0m0 0h0m3 3h0m0 0h0m2-1h0m0 0h0m1 2h0m2-3h0m0 4h0m2-3h0m1 3h0m4-1h0m1-2h0m0 0h0m1 3h0m0-4h0m1-1h0m1 4h0m2 1h0m3-3h0m2 0h0m1-3h0m1 6h0m4-2h0m2-2h0m0 3h0m0-2h0m0 2h0m0-2h0m1-2h0m-118 6h0m0 2h0m2-2h0m0 1h0m0 1h0m0-1h0m1 2h0m1-1h0m3 1h0m0 0h0m0 0h0m0 1h0m1-1h0m1 1h0m5 1h0m0-4h0m2 0h0m0 3h0m3-2h0m0-2h0m1 5h0m1-3h0m1 0h0m2 1h0m1 0h0m3 1h0m1-3h0m0 1h0m0 2h0m2-4h0m4 0h0m0 0h0m6 4h0m0-1h0m2 1h0m0-2h0m1 2h0m13-3h0m8-1h0m1 4h0m0 0h0m0-5h0m0 3h0m2 2h0m1-2h0m5-1h0m0 3h0m0-1h0m1-1h0m2 0h0m3-2h0m1 3h0m1-1h0m5 0h0m4-2h0m0 1h0m2-1h0m1 1h0m0 3h0m3-2h0m1-3h0m0 5h0m1-2h0m1 1h0m3-1h0m2 2h0m4 0h0m2-3h0m2-1h0m2 1h0m1 0h0m0 1h0m1 0h0m1-2h0m0 1h0m0 0h0m-108 8h0m3-1h0m1-3h0m1 2h0m0 4h0m0-4h0m0 0h0m1 0h0m1 1h0m0-3h0m5 6h0m2-5h0m3 0h0m1-1h0m0 2h0m3 1h0m1 2h0m0-2h0m5-2h0m2-1h0m3 1h0m1-1h0m3 6h0m2-2h0m1 0h0m2 2h0m3-5h0m0 0h0m7 3h0m0-2h0m1 0h0m1 2h0m1 2h0m0-1h0m0 1h0m1-2h0m0-2h0m0 2h0m1 1h0m3-3h0m3 3h0m3-3h0m1-1h0m0 1h0m1 2h0m1-3h0m1 2h0m1 2h0m1 0h0m1-2h0m0 2h0m2-3h0m3 4h0m2-2h0m5-1h0m2 2h0m3-3h0m1-2h0m-81 7h0m14 0h0m7-1h0m1 3h0m3-3h0m1 2h0m5 0h0m1-2h0m1 3h0m3 1h0m2-1h0m0 1h0m4-3h0m0 3h0m3-4h0m7 1h0m21-1h0m0 1h0" stroke="#333333" stroke-width="1.7"/><defs><path id="q112" d="M356 618h0m6-1h0m27 2h0m-69 13h0m50-1h0m3-2h0m36 3h0m-65 6h0m17-3h0m12-2h0m18 0h0m3 9h0"/></defs><use href="#q112" stroke="#6e6e6e" stroke-width="2.8"/><use href="#q112" stroke="#8bc1dc" stroke-width="2"/><defs><path id="q113" d="M364 619h0m4 0h0m-31 5h0m18 1h0m26-2h0m-51 8h0m34 1h0m-1 2h0m37-1h0m-45 8h0m24 1h0"/></defs><use href="#q113" stroke="#6e6e6e" stroke-width="2.8"/><use href="#q113" stroke="#c1ddec" stroke-width="2"/><defs><path id="q114" d="M283 583h0m24 8h0m1 1h0m13 5h0m-21 3h0m33 2h0m20-5h0m-9 6h0m8 1h0"/></defs><use href="#q114" stroke="#6e6e6e" stroke-width="2.8"/><use href="#q114" stroke="#d96651" stroke-width="2"/><defs><path id="q115" d="M351 617h0m-24 5h0m12 0h0m52 2h0m5-2h0m11 5h0m-58 5h0m31-1h0m6 1h0m-20 5h0m12-3h0m25 4h0m-59 3h0m31 1h0m1 0h0"/></defs><use href="#q115" stroke="#6e6e6e" stroke-width="2.8"/><use href="#q115" stroke="#e7f0f4" stroke-width="2"/><defs><path id="q116" d="M273 582h0m1 1h0m9 1h0m-8 6h0m3-1h0m0 0h0m6 1h0m0-1h0m0-2h0m4-1h0m2 0h0m1-1h0m2 0h0m6 4h0m3 1h0m13 0h0m-29 6h0m5-1h0m2-4h0m7 2h0m6-2h0m1 5h0m3-5h0m0 2h0m0 2h0m1-3h0m10-1h0m3 5h0m1-1h0m1 1h0m13-3h0m5 1h0m12 2h0m8-1h0m-69 2h0m14 2h0m5-1h0m7-1h0m4 4h0m11 1h0m2 0h0m0-3h0m4 1h0m7 2h0m2-2h0m3-1h0m0 4h0m3-3h0m-3 3h0"/></defs><use href="#q116" stroke="#6e6e6e" stroke-width="2.8"/><use href="#q116" stroke="#f19f7e" stroke-width="2"/><defs><path id="q117" d="M276 580h0m-1 9h0m0 2h0m30 0h0m-15 3h0m1-1h0m3 3h0m4-1h0m3-1h0m2-2h0m3 4h0m2-2h0m0 1h0m22 0h0m2-4h0m14 2h0m-39 6h0m5-2h0m17 5h0m0 0h0m4-1h0m7 1h0m0-3h0m12 3h0m7 1h0"/></defs><use href="#q117" stroke="#6e6e6e" stroke-width="2.8"/><use href="#q117" stroke="#fbceb6" stroke-width="2"/><path d="M319 614h0m5 0h0m5-1h0m10 1h0m17 1h0m3-1h0m2-1h0m10 1h0m5 0h0m-74 6h0m1 0h0m2 0h0m1 0h0m13-4h0m0 2h0m0 0h0m5 2h0m2-2h0m1-1h0m2-1h0m6 5h0m1 0h0m0-2h0m1-1h0m0-3h0m0 3h0m1-1h0m4 1h0m0 3h0m11-2h0m0 0h0m4-4h0m2 5h0m1-1h0m4 1h0m1-5h0m3 3h0m0 1h0m2-3h0m0 3h0m3-1h0m0 3h0m4-4h0m0 1h0m0 1h0m3 1h0m5 0h0m1 0h0m3-2h0m0-2h0m2 2h0m2 3h0m0-2h0m0 2h0m2 0h0m1-5h0m1 1h0m0 1h0m2 2h0m1-2h0m3 0h0m1 2h0m1 0h0m0-1h0m1-2h0m4 3h0m6 1h0m3-1h0m0 1h0m2-1h0m2 1h0m-121 2h0m2 3h0m0-5h0m2 0h0m0 4h0m1 0h0m12 0h0m8 1h0m1-3h0m0 3h0m1 0h0m2-2h0m2-2h0m1 3h0m2-2h0m0 0h0m2 0h0m0 2h0m2-3h0m1 1h0m1 0h0m0 3h0m5-2h0m0-1h0m0-1h0m2 0h0m1 3h0m0 1h0m3 1h0m2-1h0m1-3h0m1 2h0m1-2h0m1 2h0m0 2h0m1-3h0m0 0h0m1-3h0m1 1h0m4 3h0m0-4h0m1 1h0m1 5h0m2-1h0m0-3h0m0 2h0m3-2h0m0 3h0m1-5h0m2 3h0m3-3h0m1 2h0m2-1h0m2 0h0m2 2h0m7-2h0m3 0h0m1-1h0m1 1h0m0 4h0m1 0h0m2-4h0m3 1h0m2 3h0m0-3h0m4 1h0m2-2h0m1 2h0m2-3h0m4 4h0m3 0h0m1-1h0m0 1h0m-118 4h0m1-1h0m4 4h0m1-4h0m12 3h0m0-2h0m1 4h0m0-3h0m0 0h0m1 1h0m2 0h0m1-1h0m5 2h0m1-3h0m3-1h0m1 5h0m0-1h0m5 1h0m2-5h0m1 0h0m1 3h0m0 0h0m2 0h0m1-4h0m2 3h0m3 0h0m4-2h0m0-1h0m1 1h0m1 4h0m0 0h0m1 0h0m1-3h0m1-2h0m3 3h0m5 0h0m0 1h0m1 0h0m3 0h0m0-3h0m0-1h0m5 1h0m0 5h0m1-5h0m3 4h0m0-1h0m3 0h0m0 1h0m0-1h0m1-2h0m1 1h0m6-2h0m3 1h0m2 2h0m6-2h0m1 2h0m0-1h0m0-3h0m2 0h0m2 5h0m1-2h0m0 2h0m3-1h0m0 1h0m1-2h0m1-3h0m0 5h0m2-2h0m1 0h0m1-3h0m0 2h0m1 1h0m1-3h0m-119 8h0m1-2h0m3 5h0m0-2h0m1-2h0m0 1h0m1 4h0m0-3h0m1 2h0m1-3h0m0 4h0m0-4h0m3-2h0m3 5h0m1 0h0m2-3h0m0 2h0m1-3h0m2 1h0m1 3h0m1-2h0m3 2h0m0-3h0m0 1h0m3 3h0m1-4h0m2-1h0m0 2h0m3-2h0m1 1h0m7 1h0m2 2h0m0-5h0m0 1h0m3 5h0m7-6h0m0 5h0m3-3h0m1 0h0m5 3h0m0 0h0m0-1h0m4 1h0m1-3h0m1-1h0m4 0h0m1 4h0m2-4h0m3 2h0m1 3h0m0-2h0m1-3h0m3 3h0m4 0h0m1-1h0m2-2h0m1 4h0m5-5h0m0 1h0m1 3h0m1-3h0m7 1h0m2 2h0m1-2h0m1 0h0m2 0h0m-99 9h0m0-3h0m3 1h0m1-3h0m4 3h0m0-2h0m1 4h0m1-3h0m1 0h0m0 3h0m0-3h0m0 1h0m3-2h0m1 1h0m0 1h0m2-2h0m2 1h0m0 3h0m3-1h0m1-2h0m2 1h0m2 2h0m2 0h0m1-3h0m0 3h0m2-3h0m3-2h0m0 0h0m1 5h0m1-4h0m2 0h0m1 3h0m1 1h0m2 1h0m0-4h0m0 3h0m1-2h0m0 2h0m2-1h0m0-2h0m0 0h0m4 2h0m1 2h0m2-6h0m1 1h0m2-1h0m1 5h0m2-4h0m6-1h0m3 2h0m4 0h0m3 3h0m4-2h0m0 0h0m1 3h0m4-3h0m4 0h0m8-2h0m-92 5h0m13 2h0m5-2h0m0 1h0m2 2h0m3-2h0m2 1h0m7 0h0m1-1h0m4 0h0m2 2h0m1-3h0m0 3h0m1 0h0m0 1h0m6-1h0m1 0h0m1-1h0m2 0h0m2-2h0m0 0h0m2 3h0m1-2h0m2 0h0m2-1h0m5 2h0m1-2h0m9 0h0" stroke="#333333" stroke-width="1.7"/><defs><path id="q118" d="M361 616h0m7 1h0m11 0h0m-20 9h0m15-1h0m33-2h0m1 0h0m-70 15h0m14 4h0"/></defs><use href="#q118" stroke="#6e6e6e" stroke-width="2.8"/><use href="#q118" stroke="#8bc1dc" stroke-width="2"/><defs><path id="q119" d="M329 625h0m33-3h0m8 0h0m37 1h0m-27 8h0m-29 3h0"/></defs><use href="#q119" stroke="#6e6e6e" stroke-width="2.8"/><use href="#q119" stroke="#c1ddec" stroke-width="2"/><defs><path id="q120" d="M277 583h0m4 12h0m32 3h0m10 0h0m4 5h0m37 0h0"/></defs><use href="#q120" stroke="#6e6e6e" stroke-width="2.8"/><use href="#q120" stroke="#d96651" stroke-width="2"/><defs><path id="q121" d="M397 620h0m-38 4h0m44-2h0m-20 11h0m2-5h0m16 0h0m-57 8h0m37 2h0m-36 3h0"/></defs><use href="#q121" stroke="#6e6e6e" stroke-width="2.8"/><use href="#q121" stroke="#e7f0f4" stroke-width="2"/><defs><path id="q122" d="M272 585h0m2-5h0m0 4h0m2-4h0m2 2h0m-6 4h0m3 1h0m1-1h0m1-1h0m4 2h0m3-2h0m3 4h0m2 1h0m7-3h0m2 1h0m10 2h0m2-2h0m1 0h0m1 1h0m6 1h0m-39 1h0m9 5h0m10-2h0m3 2h0m1-3h0m1 0h0m4 2h0m3-3h0m7 3h0m8-1h0m7-1h0m0 3h0m10-2h0m5 1h0m4 0h0m8 0h0m0 1h0m-51 2h0m7 0h0m3 2h0m6 2h0m3-4h0m3 3h0m14-2h0m8-2h0m0 1h0m9 4h0m-21 1h0m21 1h0m3 1h0"/></defs><use href="#q122" stroke="#6e6e6e" stroke-width="2.8"/><use href="#q122" stroke="#f19f7e" stroke-width="2"/><defs><path id="q123" d="M273 582h0m5 3h0m17 0h0m-19 0h0m16 1h0m2 0h0m2 0h0m-10 9h0m3 0h0m16-3h0m14 4h0m1-2h0m11 2h0m6-3h0m14 1h0m-54 3h0m15 2h0m7-2h0m22 3h0m19-2h0m-8 6h0"/></defs><use href="#q123" stroke="#6e6e6e" stroke-width="2.8"/><use href="#q123" stroke="#fbceb6" stroke-width="2"/><path d="M325 615h0m3 0h0m0 0h0m1 0h0m1-1h0m2 0h0m8-1h0m10 1h0m13 1h0m13 0h0m-70 5h0m1-2h0m2-1h0m1 0h0m1 2h0m1 1h0m1-3h0m2-2h0m2 2h0m5 0h0m2 2h0m2 2h0m3-4h0m0 3h0m2-3h0m0 3h0m1 0h0m1-1h0m4 1h0m1-2h0m2-1h0m0-1h0m1-1h0m1 0h0m1 1h0m3 5h0m2-1h0m0-2h0m1 1h0m1 1h0m1-4h0m1 1h0m0 1h0m1 3h0m3-1h0m3-4h0m0 3h0m2 0h0m1-1h0m2-1h0m1-1h0m2 3h0m3 0h0m1-2h0m1 3h0m1 0h0m0-2h0m1 0h0m0-2h0m1-1h0m0 2h0m0 2h0m1-3h0m2 1h0m3 3h0m1 0h0m2-3h0m3-1h0m0 3h0m4 2h0m1-5h0m5 4h0m4-3h0m5 1h0m1 3h0m2-2h0m5 2h0m-113 2h0m2 4h0m0-6h0m5 1h0m2 1h0m1 4h0m1-2h0m0-2h0m4 2h0m1-2h0m1 0h0m0-1h0m1-1h0m2 3h0m0-2h0m0 5h0m2-3h0m1-2h0m3 4h0m1 0h0m0 0h0m1-3h0m1 2h0m0 1h0m2-4h0m1 3h0m2-4h0m3 5h0m1-4h0m0 0h0m2 0h0m2 0h0m1 1h0m2-1h0m2 5h0m3-4h0m0 2h0m1 1h0m1-4h0m5 2h0m0-2h0m1 0h0m5 2h0m0 0h0m1-2h0m1 0h0m0 1h0m0 1h0m1 1h0m2-3h0m1 1h0m0 2h0m3-3h0m0-1h0m1 3h0m1-3h0m6 2h0m1 0h0m2 1h0m2 3h0m1-3h0m0 3h0m0-5h0m4 1h0m2 0h0m3-1h0m0 2h0m5 0h0m7-1h0m2 4h0m2-5h0m1 0h0m3 1h0m1 3h0m0-5h0m1 1h0m1 0h0m0 4h0m-115 4h0m3 0h0m2-1h0m2 3h0m2 0h0m1 0h0m0-5h0m1 1h0m1 3h0m0-2h0m1 4h0m1-5h0m3 3h0m1-1h0m0 1h0m1-2h0m6 0h0m2 0h0m1 2h0m0 0h0m1-1h0m3 2h0m1-1h0m1 0h0m0-4h0m2 1h0m0 1h0m3 1h0m1 2h0m1-1h0m2 2h0m0-2h0m3-3h0m0 0h0m0 1h0m0 3h0m1-3h0m1 4h0m1-2h0m1 1h0m1-3h0m0 0h0m1 3h0m2-3h0m0 4h0m1-3h0m1-3h0m7 2h0m0-2h0m3 3h0m0 0h0m1 1h0m1-4h0m0 1h0m3 0h0m0 4h0m2-1h0m12-1h0m2-1h0m1-2h0m1 6h0m2-6h0m1 6h0m0-1h0m1-5h0m2 2h0m12 4h0m0-2h0m0-1h0m7-1h0m3-2h0m1 1h0m0 3h0m1 1h0m0-3h0m1 3h0m0-5h0m0 1h0m1 0h0m0 3h0m-117 3h0m8 3h0m0-4h0m4 0h0m0 2h0m1-1h0m0 5h0m0-4h0m1 2h0m1 1h0m1-4h0m0 3h0m5 0h0m2-4h0m4 2h0m0-2h0m2 2h0m1 3h0m0 0h0m0-1h0m1-1h0m2 1h0m2-2h0m0 3h0m0-2h0m1-1h0m3 4h0m2 0h0m4-4h0m0 1h0m1 1h0m1-3h0m0 0h0m3 4h0m0-1h0m2-4h0m1 3h0m3 0h0m5-2h0m8 4h0m1-5h0m2 3h0m2 1h0m2 1h0m2 1h0m3-1h0m1-2h0m0 0h0m4 0h0m3 1h0m0-2h0m0 4h0m0 0h0m1-4h0m2-2h0m5 6h0m1-3h0m4-2h0m5 0h0m2 2h0m2-1h0m1-2h0m1 3h0m3-1h0m-108 5h0m0 2h0m1-2h0m2 0h0m0 2h0m2 2h0m0-2h0m0-3h0m4 2h0m0 2h0m0-3h0m1 3h0m1-1h0m1-1h0m2-2h0m1 2h0m2 2h0m0 1h0m3-4h0m3 1h0m1 1h0m1-3h0m0 0h0m0 4h0m2-3h0m2 4h0m0-1h0m1-3h0m0 2h0m1-2h0m4 4h0m1-2h0m1 2h0m3-2h0m1-3h0m0 1h0m1 2h0m1-3h0m0 6h0m2-4h0m2 0h0m0 3h0m5-2h0m1 0h0m2-3h0m6 1h0m3 2h0m7-1h0m0 4h0m8-1h0m2 0h0m0-3h0m1-1h0m1 4h0m1 0h0m1 0h0m1-3h0m4 0h0m1-1h0m0 1h0m4 0h0m1-1h0m-93 5h0m9 2h0m3-2h0m2 0h0m14 1h0m1 1h0m2 0h0m2 0h0m8 3h0m0-1h0m1-4h0m1 3h0m1-1h0m0 3h0m1-5h0m2 1h0m2 1h0m0 0h0m1 0h0m1-2h0m0 3h0m9-3h0m1 3h0m10-3h0m1 1h0m1 1h0m1-1h0m5 0h0" stroke="#333333" stroke-width="1.7"/><defs><path id="q124" d="M355 621h0m25 6h0m0-2h0m11 1h0m20-5h0m-75 16h0m3-3h0m9 2h0m13 2h0m10-2h0m-34 5h0"/></defs><use href="#q124" stroke="#6e6e6e" stroke-width="2.8"/><use href="#q124" stroke="#8bc1dc" stroke-width="2"/><defs><path id="q125" d="M354 625h0m-20 3h0m74 4h0m-87 1h0m55 3h0m11-1h0m2 2h0m-8 3h0m9-1h0m0 3h0"/></defs><use href="#q125" stroke="#6e6e6e" stroke-width="2.8"/><use href="#q125" stroke="#c1ddec" stroke-width="2"/><defs><path id="q126" d="M287 586h0m9 7h0m33 0h0m21 4h0m1-2h0m-46 3h0m57 4h0"/></defs><use href="#q126" stroke="#6e6e6e" stroke-width="2.8"/><use href="#q126" stroke="#d96651" stroke-width="2"/><defs><path id="q127" d="M309 623h0m73 0h0m7 7h0m1 2h0m-51 1h0m1 9h0m33-1h0m13 1h0"/></defs><use href="#q127" stroke="#6e6e6e" stroke-width="2.8"/><use href="#q127" stroke="#e7f0f4" stroke-width="2"/><defs><path id="q128" d="M279 584h0m2-2h0m2-1h0m6 3h0m-10 2h0m0 3h0m4-4h0m4 2h0m2 3h0m0-5h0m9 3h0m0-1h0m1-1h0m0 1h0m3 2h0m8-1h0m6 2h0m-37 6h0m9-2h0m6-1h0m5 3h0m4-1h0m5-1h0m2-3h0m5 6h0m3 0h0m1-1h0m1-4h0m2 3h0m10 2h0m4-6h0m1 4h0m4-1h0m1-1h0m2 2h0m3 1h0m4-1h0m-54 4h0m10 0h0m5-1h0m8 0h0m0 2h0m2-2h0m3 3h0m5 1h0m6-3h0m3-1h0m1 4h0m4-2h0m2 0h0m1 1h0m2-2h0m0 1h0m2 0h0m13-1h0m-19 5h0m2-1h0m14 1h0"/></defs><use href="#q128" stroke="#6e6e6e" stroke-width="2.8"/><use href="#q128" stroke="#f19f7e" stroke-width="2"/><defs><path id="q129" d="M273 582h0m7 0h0m9 3h0m-4 3h0m16 3h0m-19 5h0m0-4h0m2 0h0m1 0h0m5 1h0m5 4h0m5 0h0m0-3h0m8-1h0m4-1h0m2 1h0m3-1h0m15 3h0m6 0h0m5-1h0m3 2h0m-15 6h0m1 0h0m10-3h0m0 3h0m5-3h0m2 1h0m2-2h0m13 4h0"/></defs><use href="#q129" stroke="#6e6e6e" stroke-width="2.8"/><use href="#q129" stroke="#fbceb6" stroke-width="2"/><path d="M326 613h0m5 2h0m3-2h0m9 2h0m4-1h0m9-1h0m3 1h0m2 1h0m-55 3h0m7 0h0m2 3h0m2-1h0m0-3h0m2-2h0m1 3h0m1-2h0m2-1h0m0 1h0m2 3h0m1-2h0m0 0h0m1 3h0m3-5h0m1 2h0m0 1h0m2-2h0m2 2h0m0-3h0m6 1h0m1 0h0m0 1h0m1 4h0m2-4h0m1-2h0m2 1h0m5 1h0m2 0h0m0-2h0m1 2h0m2 4h0m2-1h0m4-3h0m0 3h0m2-1h0m2 1h0m0-2h0m1 1h0m0 0h0m1 2h0m2-2h0m3-3h0m2 4h0m3-2h0m0-2h0m1 2h0m1 3h0m3-5h0m1 1h0m0 2h0m2-4h0m1 2h0m1 3h0m6-2h0m1 1h0m1 0h0m0-2h0m2 0h0m4 2h0m2-1h0m4 1h0m7 1h0m-115 4h0m2-2h0m2 4h0m0-4h0m1 3h0m1 1h0m0-3h0m2 1h0m1 1h0m1 1h0m0 0h0m3-1h0m4 1h0m0 0h0m6-3h0m1 2h0m1-4h0m3 6h0m3-1h0m0-3h0m2 1h0m2 0h0m2 2h0m4-3h0m2-1h0m6 3h0m7-3h0m2 3h0m3-1h0m0-1h0m4 4h0m0-3h0m2-1h0m0 0h0m0 1h0m0 1h0m0 0h0m4-2h0m3-1h0m1 4h0m2-4h0m2 0h0m1 4h0m4-4h0m0 0h0m0 4h0m1-5h0m4 5h0m1-2h0m2-2h0m6 3h0m0-4h0m4 4h0m2 1h0m2-2h0m3-1h0m3 1h0m1 0h0m1 2h0m3-1h0m2 0h0m1-2h0m0 1h0m1 2h0m-118 4h0m1 0h0m1-1h0m0 3h0m1-2h0m0 0h0m1 1h0m1-2h0m3 4h0m1-4h0m1-2h0m1 3h0m0 1h0m2-1h0m2-1h0m1 3h0m0-1h0m3 0h0m2-2h0m2 2h0m1-2h0m0 3h0m2-4h0m1 5h0m3-4h0m2 2h0m2-2h0m0 4h0m1 0h0m1-6h0m1 5h0m0-5h0m3 5h0m0-4h0m1 1h0m1-1h0m1 5h0m0 0h0m10-6h0m1 2h0m1 4h0m2-4h0m2 2h0m1-3h0m2 5h0m3-3h0m3-1h0m3 0h0m0 2h0m3 1h0m0-3h0m1 1h0m1 2h0m2-3h0m1-2h0m0 2h0m2 3h0m1 1h0m3-5h0m2 5h0m5-6h0m5 1h0m1 0h0m2-1h0m0 4h0m0-3h0m2 0h0m1 3h0m2 1h0m0-2h0m0 1h0m5-3h0m0 4h0m0 0h0m0-4h0m1 4h0m1-5h0m2 5h0m0-2h0m5 1h0m0 2h0m-119 2h0m2-1h0m1 1h0m0 2h0m1-2h0m1 2h0m2-4h0m4 0h0m1 4h0m0-1h0m1-1h0m2 0h0m2-2h0m2 6h0m1-2h0m0-2h0m3-1h0m4 2h0m0 0h0m0-3h0m4 6h0m1-1h0m1-1h0m0-3h0m4 4h0m0 1h0m1-4h0m0-1h0m1 0h0m3 3h0m0-3h0m1-1h0m1 4h0m0 0h0m1-4h0m0 3h0m1-2h0m0-1h0m0 0h0m4 6h0m3-5h0m2 2h0m2 1h0m0-2h0m1 0h0m2-1h0m0 5h0m3-3h0m2-1h0m2 0h0m2 3h0m0-3h0m1-1h0m1-1h0m2 1h0m1 5h0m3-5h0m4-1h0m1 3h0m3-2h0m4-1h0m1 4h0m1-3h0m4 3h0m2 1h0m1 0h0m1 0h0m0-4h0m5 3h0m2-3h0m0 1h0m3 3h0m0-1h0m1-1h0m3 0h0m1-3h0m3 2h0m2-2h0m-108 8h0m2 3h0m1-1h0m2 2h0m1-2h0m1-2h0m1-2h0m0 2h0m4 1h0m0 0h0m6 0h0m0 2h0m0-2h0m2-3h0m0 5h0m0-4h0m2 2h0m1-1h0m2 2h0m6 2h0m2-1h0m1 0h0m1 0h0m1-1h0m0-3h0m2 1h0m4 0h0m1 2h0m0-2h0m1 1h0m2-1h0m1 3h0m1-3h0m1 1h0m0 0h0m7 1h0m2 0h0m0-4h0m0 2h0m0 3h0m1-4h0m3 4h0m2-4h0m2 5h0m1-5h0m4 3h0m1 0h0m1-1h0m1 0h0m1 1h0m5-3h0m7 1h0m1-1h0m5-1h0m3 1h0m2 0h0m0-1h0m0 1h0m-90 5h0m8 1h0m6 0h0m3 1h0m12 1h0m3 1h0m4-2h0m3-2h0m1 2h0m3 1h0m8-3h0m3 1h0m6 0h0m10 0h0m1 0h0" stroke="#333333" stroke-width="1.7"/><defs><path id="q130" d="M275 542h0m93 0h0m-95 2h0m78 4h0m-4 2h0m9 4h0m4-1h0m-81 3h0m8 1h0m4 4h0m-9 18h0m8-2h0m118 1h0m10-5h0m-137 14h0m12 0h0"/></defs><use href="#q130" stroke="#6e6e6e" stroke-width="2.8"/><use href="#q130" stroke="#860a24" stroke-width="2"/><defs><path id="q131" d="M370 549h0m-85 11h0m140 10h0"/></defs><use href="#q131" stroke="#6e6e6e" stroke-width="2.8"/><use href="#q131" stroke="#bb2a34" stroke-width="2"/><defs><path id="q132" d="M342 559h0m32 0h0m3-3h0m-30 6h0m34 1h0"/></defs><use href="#q132" stroke="#6e6e6e" stroke-width="2.8"/><use href="#q132" stroke="#d96651" stroke-width="2"/><defs><path id="q133" d="M349 554h0m7-2h0m3 3h0m1 1h0m2 4h0m1-2h0m10 0h0m4 2h0m-19 5h0m15 2h0m7-4h0m-40 8h0m13 1h0m10-1h0m3-1h0m0-1h0m2 3h0m3-2h0m19 2h0m-46 7h0m19-5h0"/></defs><use href="#q133" stroke="#6e6e6e" stroke-width="2.8"/><use href="#q133" stroke="#f19f7e" stroke-width="2"/><defs><path id="q134" d="M379 571h0m-35 5h0m27 0h0m3 0h0m15 2h0m-48 7h0m24 1h0m22 5h0"/></defs><use href="#q134" stroke="#6e6e6e" stroke-width="2.8"/><use href="#q134" stroke="#faebe3" stroke-width="2"/><defs><path id="q135" d="M356 553h0m-15 10h0m1 1h0m2 0h0m9 1h0m3 0h0m26 2h0m-39 6h0m6-1h0m17-1h0m20-2h0m-42 7h0m33 1h0m12-1h0m-48 4h0m13 1h0m7 0h0m4 3h0m8-4h0m13 0h0m4 4h0m-18 4h0m-28 3h0m22 0h0"/></defs><use href="#q135" stroke="#6e6e6e" stroke-width="2.8"/><use href="#q135" stroke="#fbceb6" stroke-width="2"/><path d="M343 558h0m7-1h0m-20 6h0m6 3h0m1-3h0m11 3h0m26-3h0m2 0h0m-46 6h0m1 3h0m2 1h0m0-4h0m3 0h0m2 2h0m0 2h0m1 0h0m4-5h0m6 0h0m25 5h0m7-2h0m1-3h0m6 3h0m-62 7h0m4 0h0m0-5h0m0 6h0m2-2h0m1-2h0m2 1h0m4 0h0m10 3h0m18-4h0m11 1h0m4-1h0m0 0h0m4-1h0m-57 11h0m4-2h0m0-1h0m1 3h0m0-5h0m1 0h0m1 0h0m2 1h0m1-1h0m0 3h0m0-4h0m3 1h0m2-1h0m0 0h0m2 0h0m0 6h0m21-4h0m5-1h0m16 0h0m-59 10h0m3-3h0m1 0h0m2 1h0m3-3h0m4 3h0m6-1h0m14 2h0m5-2h0m-39 7h0m9 1h0m0 0h0m1-3h0m3-1h0m5 1h0m3 2h0m4 1h0m3 0h0m6 0h0m3 0h0m18-2h0m1-1h0m2 2h0m5-1h0" stroke="#333333" stroke-width="1.7"/><defs><path id="q136" d="M371 546h0m-18 5h0m3 3h0m-81 3h0m4-1h0"/></defs><use href="#q136" stroke="#6e6e6e" stroke-width="2.8"/><use href="#q136" stroke="#860a24" stroke-width="2"/><defs><path id="q137" d="M364 542h0m6-3h0m-93 10h0m74 3h0m13-2h0m-77 12h0m-12 19h0m4 1h0"/></defs><use href="#q137" stroke="#6e6e6e" stroke-width="2.8"/><use href="#q137" stroke="#bb2a34" stroke-width="2"/><defs><path id="q138" d="M349 554h0m-5 2h0m2 1h0m21 2h0m0 0h0m-24 5h0m23-1h0m19 1h0m3 1h0m0 8h0m-114 7h0m1 0h0m0 3h0m1-2h0m4-2h0"/></defs><use href="#q138" stroke="#6e6e6e" stroke-width="2.8"/><use href="#q138" stroke="#d96651" stroke-width="2"/><defs><path id="q139" d="M348 584h0m33 7h0"/></defs><use href="#q139" stroke="#6e6e6e" stroke-width="2.8"/><use href="#q139" stroke="#e7f0f4" stroke-width="2"/><defs><path id="q140" d="M349 561h0m8-5h0m2 4h0m7 0h0m3-1h0m11-1h0m-34 7h0m8-3h0m11 4h0m2-2h0m6 1h0m12 1h0m-35 3h0m40 1h0m-47 3h0m7 2h0"/></defs><use href="#q140" stroke="#6e6e6e" stroke-width="2.8"/><use href="#q140" stroke="#f19f7e" stroke-width="2"/><defs><path id="q141" d="M362 576h0m14-1h0m-9 10h0m-20 6h0m0-4h0m4 1h0m15-2h0m0 1h0m5 2h0m3-4h0m12 0h0m-32 6h0m22 0h0"/></defs><use href="#q141" stroke="#6e6e6e" stroke-width="2.8"/><use href="#q141" stroke="#faebe3" stroke-width="2"/><defs><path id="q142" d="M360 566h0m26 0h0m3 0h0m-42 2h0m4 2h0m6-3h0m18 4h0m1 0h0m2-4h0m0 3h0m1 2h0m2 0h0m4 0h0m-39 3h0m6-1h0m5 4h0m20-4h0m4 2h0m6-2h0m-47 6h0m11 3h0m12 2h0m16-1h0m2-3h0m3 4h0m1-2h0m2-2h0m4 4h0m-15 6h0"/></defs><use href="#q142" stroke="#6e6e6e" stroke-width="2.8"/><use href="#q142" stroke="#fbceb6" stroke-width="2"/><path d="M348 561h0m5-1h0m-28 7h0m9-3h0m1 1h0m4-2h0m3 3h0m1 0h0m12-2h0m1-2h0m12 0h0m2 5h0m20-2h0m-58 6h0m3 2h0m5-1h0m15-4h0m9 0h0m12 5h0m9-1h0m-58 2h0m3 3h0m1 0h0m1-2h0m4 2h0m2 2h0m22-5h0m17 4h0m-50 5h0m2 1h0m2-2h0m6-3h0m0 1h0m2 4h0m2-4h0m0 1h0m3-2h0m1 5h0m10-2h0m2 2h0m8-1h0m2-4h0m2 5h0m4-3h0m4-2h0m1 1h0m9 1h0m2 1h0m0-3h0m2 2h0m-59 5h0m1 4h0m3 0h0m2-5h0m1 3h0m1-1h0m8-2h0m3 2h0m11 2h0m13-4h0m14 2h0m4 2h0m-48 6h0m14-1h0m0-1h0m13 0h0m8-1h0m13 0h0m1 1h0" stroke="#333333" stroke-width="1.7"/><defs><path id="q143" d="M352 538h0m17 10h0m-9 6h0m-81 27h0m20 6h0"/></defs><use href="#q143" stroke="#6e6e6e" stroke-width="2.8"/><use href="#q143" stroke="#860a24" stroke-width="2"/><defs><path id="q144" d="M357 535h0m-12 19h0m26-3h0m-90 32h0"/></defs><use href="#q144" stroke="#6e6e6e" stroke-width="2.8"/><use href="#q144" stroke="#bb2a34" stroke-width="2"/><defs><path id="q145" d="M371 554h0m4-2h0m-10 6h0m8 0h0m9 2h0m-22 2h0m14 7h0m-96 14h0"/></defs><use href="#q145" stroke="#6e6e6e" stroke-width="2.8"/><use href="#q145" stroke="#d96651" stroke-width="2"/><defs><path id="q146" d="M355 555h0m-12 3h0m21 1h0m3 0h0m12 0h0m-32 2h0m5 6h0m3-3h0m34 1h0m-41 4h0m7 0h0m2-1h0m7-1h0m12 7h0m14 0h0m-45 5h0m2 3h0m39-2h0"/></defs><use href="#q146" stroke="#6e6e6e" stroke-width="2.8"/><use href="#q146" stroke="#f19f7e" stroke-width="2"/><defs><path id="q147" d="M380 573h0m-5 5h0m-28 7h0m1-3h0m19 2h0m4-2h0m4 3h0m4-5h0m8 0h0m-44 9h0m20-2h0m5 3h0m5-1h0m1 1h0m12-3h0m0-1h0m4 3h0m-41 3h0"/></defs><use href="#q147" stroke="#6e6e6e" stroke-width="2.8"/><use href="#q147" stroke="#faebe3" stroke-width="2"/><defs><path id="q148" d="M342 564h0m41-1h0m-41 9h0m16-2h0m6 3h0m7-1h0m-27 6h0m1-1h0m11 1h0m12-2h0m10 1h0m2-3h0m-20 7h0m5-1h0m12 4h0m1-4h0m0 2h0m6 2h0m1-1h0m4-2h0m-39 9h0m11-4h0m27 2h0m0-1h0"/></defs><use href="#q148" stroke="#6e6e6e" stroke-width="2.8"/><use href="#q148" stroke="#fbceb6" stroke-width="2"/><path d="M346 559h0m7 0h0m10 2h0m-32 5h0m2 0h0m2-2h0m18 2h0m0 0h0m0 0h0m5-3h0m5 1h0m5 0h0m3-3h0m1 2h0m-38 10h0m7-1h0m10-2h0m2 1h0m20-4h0m7 1h0m0 1h0m-51 8h0m2-1h0m0 1h0m4 2h0m2-6h0m0 2h0m1 1h0m0 0h0m0 2h0m0-2h0m1 2h0m0-1h0m0-4h0m3 1h0m1 2h0m0 1h0m1 0h0m0 0h0m3-4h0m7 1h0m3 2h0m5 0h0m8 1h0m18-4h0m-59 11h0m1-1h0m2-4h0m2 3h0m0 1h0m1-2h0m1-2h0m1 1h0m0-1h0m0 0h0m2 1h0m1 0h0m1 1h0m9 3h0m1-1h0m10-1h0m24 1h0m7-2h0m-65 7h0m2 0h0m4 2h0m1-3h0m0-2h0m0 0h0m0 1h0m3 2h0m8 0h0m7-1h0m1 3h0m34-1h0m2 1h0m-31 3h0m16-2h0m1 2h0m19-1h0" stroke="#333333" stroke-width="1.7"/><defs><path id="q149" d="M357 541h0m6 8h0m-86 3h0m74 2h0m7-2h0m-72 11h0m113-2h0m-2 10h0"/></defs><use href="#q149" stroke="#6e6e6e" stroke-width="2.8"/><use href="#q149" stroke="#860a24" stroke-width="2"/><defs><path id="q150" d="M274 549h0m105 7h0m29 5h0"/></defs><use href="#q150" stroke="#6e6e6e" stroke-width="2.8"/><use href="#q150" stroke="#bb2a34" stroke-width="2"/><defs><path id="q151" d="M361 553h0m9 1h0m6 1h0m0-2h0m-30 4h0m12 1h0m16-2h0m-17 6h0m2 0h0"/></defs><use href="#q151" stroke="#6e6e6e" stroke-width="2.8"/><use href="#q151" stroke="#d96651" stroke-width="2"/><defs><path id="q152" d="M359 552h0m-16 7h0m6 1h0m0 0h0m7-4h0m11 5h0m1 0h0m10-5h0m-33 7h0m0 1h0m20 2h0m2 0h0m1 0h0m3-2h0m5-2h0m-27 11h0m38 1h0m-3 9h0"/></defs><use href="#q152" stroke="#6e6e6e" stroke-width="2.8"/><use href="#q152" stroke="#f19f7e" stroke-width="2"/><defs><path id="q153" d="M342 579h0m2-5h0m19 9h0m1 1h0m7-1h0m0 1h0m9-1h0m1-2h0m2 0h0m1 3h0m-41 2h0m18 4h0m12-5h0m3 1h0m8-1h0m0 4h0m2 1h0m-41 2h0m29-1h0"/></defs><use href="#q153" stroke="#6e6e6e" stroke-width="2.8"/><use href="#q153" stroke="#faebe3" stroke-width="2"/><defs><path id="q154" d="M355 557h0m17 8h0m-11 8h0m1-2h0m0 1h0m0-2h0m3 2h0m3 1h0m3-6h0m11 2h0m-41 5h0m3 1h0m1 4h0m18-2h0m16-3h0m2 4h0m2 0h0m2-3h0m3 3h0m1-1h0m-38 8h0m1-2h0m0 2h0m19-6h0m20 0h0m-40 11h0m30-1h0m-41 2h0"/></defs><use href="#q154" stroke="#6e6e6e" stroke-width="2.8"/><use href="#q154" stroke="#fbceb6" stroke-width="2"/><path d="M341 560h0m9-1h0m2 2h0m3-2h0m-28 5h0m3-1h0m1-1h0m10 3h0m10-3h0m0 4h0m9-1h0m5 0h0m4-3h0m3 1h0m-43 5h0m3 2h0m5 0h0m1 2h0m3-3h0m12 1h0m1-1h0m6 2h0m2-1h0m0-2h0m1 1h0m1 0h0m6 2h0m5-3h0m-45 8h0m4 0h0m0-1h0m1-1h0m1 3h0m0-2h0m7 3h0m3-3h0m1 0h0m7 2h0m5 0h0m19-3h0m8 0h0m0 3h0m4 2h0m-57 4h0m2-2h0m0-1h0m2-1h0m5 3h0m2 3h0m0-4h0m4 3h0m1-5h0m5 4h0m10-1h0m0 2h0m4-2h0m7 2h0m8-1h0m7-2h0m-61 4h0m5 2h0m2 1h0m5-1h0m3 1h0m28 2h0m4-3h0m12 3h0m-62 4h0m0-2h0m25 1h0m12 1h0m29 1h0" stroke="#333333" stroke-width="1.7"/><defs><path id="q155" d="M351 536h0m-74 6h0m12 13h0m129 12h0m12 4h0m-141 2h0"/></defs><use href="#q155" stroke="#6e6e6e" stroke-width="2.8"/><use href="#q155" stroke="#860a24" stroke-width="2"/><defs><path id="q156" d="M368 540h0m-87 39h0"/></defs><use href="#q156" stroke="#6e6e6e" stroke-width="2.8"/><use href="#q156" stroke="#bb2a34" stroke-width="2"/><defs><path id="q157" d="M349 553h0m5 1h0m3 0h0m0-1h0m17 1h0m-23 3h0m15 14h0m-90 11h0m3 1h0"/></defs><use href="#q157" stroke="#6e6e6e" stroke-width="2.8"/><use href="#q157" stroke="#d96651" stroke-width="2"/><defs><path id="q158" d="M348 587h0m34 4h0"/></defs><use href="#q158" stroke="#6e6e6e" stroke-width="2.8"/><use href="#q158" stroke="#e7f0f4" stroke-width="2"/><defs><path id="q159" d="M350 554h0m10 0h0m7 1h0m-26 6h0m11-5h0m19 0h0m-8 8h0m9 0h0m0-3h0m3 5h0m3-3h0m-28 6h0m21-2h0m-28 9h0m3-1h0m4 3h0m12-4h0"/></defs><use href="#q159" stroke="#6e6e6e" stroke-width="2.8"/><use href="#q159" stroke="#f19f7e" stroke-width="2"/><defs><path id="q160" d="M367 570h0m-22 8h0m14 1h0m31-2h0m-41 5h0m31 1h0m-34 7h0m0-3h0m7 0h0m3 0h0m3 3h0m15-2h0m13 2h0m-27 2h0m22-1h0"/></defs><use href="#q160" stroke="#6e6e6e" stroke-width="2.8"/><use href="#q160" stroke="#faebe3" stroke-width="2"/><defs><path id="q161" d="M363 554h0m1 7h0m4-5h0m-9 7h0m14 0h0m7 0h0m-24 6h0m1 4h0m1-1h0m0 0h0m4-2h0m4 2h0m1-3h0m7 0h0m14 4h0m-35 5h0m24-2h0m1 1h0m4-1h0m-20 4h0m1 2h0m4 2h0m12-5h0m3 0h0m3 2h0m1 4h0m-26 1h0m1 0h0m17 1h0m8 2h0"/></defs><use href="#q161" stroke="#6e6e6e" stroke-width="2.8"/><use href="#q161" stroke="#fbceb6" stroke-width="2"/><path d="M337 559h0m4-1h0m14 0h0m14 2h0m1 1h0m-40 6h0m10-1h0m2 0h0m7-4h0m20 1h0m-40 9h0m11-4h0m14 0h0m2 4h0m5-5h0m5 1h0m3 4h0m3-2h0m4 1h0m8-4h0m2 3h0m-54 4h0m1 0h0m0 0h0m1 3h0m3-1h0m1-3h0m0 1h0m1 4h0m4-1h0m2 2h0m2-5h0m1 2h0m1 3h0m16-4h0m3 0h0m11 3h0m2-2h0m0-1h0m-53 8h0m0 0h0m5-3h0m3 0h0m2 3h0m0-2h0m2 1h0m0 2h0m2-1h0m2-1h0m5 2h0m4-2h0m12 1h0m15-3h0m0 4h0m8-4h0m4-1h0m-62 8h0m1-2h0m8 5h0m10-4h0m3 3h0m5-3h0m5 3h0m3-1h0m6 1h0m2 1h0m20 1h0m-62 1h0m3 2h0m12-1h0m3-1h0m4 1h0m5 1h0m5 0h0m14-1h0m6 2h0" stroke="#333333" stroke-width="1.7"/><path d="M269.3 494C268.72 498.33 268.47 511 268.5 522C268.53 533 268.4 549.02 269.5 560C270.6 570.98 272.7 581.67 275.1 587.9C277.5 594.13 280 594.72 283.9 597.4C287.8 600.08 292.42 602.07 298.5 604C304.58 605.93 313.1 607.67 320.4 609C327.7 610.33 335.28 611.38 342.3 612C349.32 612.62 355.38 612.95 362.5 612.7C369.62 612.45 378.75 611.37 385 610.5C391.25 609.63 395 609.5 400 607.5C405 605.5 411 601.25 415 598.5C419 595.75 421.5 593.75 424 591C426.5 588.25 429.25 584.5 430 582C430.75 579.5 430.25 576.5 428.5 576C426.75 575.5 423 577.75 419.5 579C416 580.25 413.25 582 407.5 583.5C401.75 585 392.92 586.75 385 588C377.08 589.25 365.9 589.8 360 591C354.1 592.2 353.77 594.75 349.6 595.2C345.43 595.65 339.38 594.57 335 593.7C330.62 592.83 327.43 591.58 323.3 590C319.17 588.42 313.85 586.13 310.2 584.2C306.55 582.27 304.32 581.07 301.4 578.4C298.48 575.73 295.13 571.85 292.7 568.2C290.27 564.55 288.75 562.87 286.8 556.5C284.85 550.13 283.47 540.08 281 530C278.53 519.92 273.95 502 272 496C270.05 490 269.88 489.67 269.3 494Z" fill="none" stroke="#1b1b1b" stroke-width="2.6" stroke-dasharray="5.2 3.4" stroke-linecap="butt"/><path d="M322.3 555.7C321.85 548.57 324.23 538.35 327.3 532.2C330.37 526.05 335.58 522.13 340.7 518.8C345.82 515.47 352.12 511.17 358 512.2C363.88 513.23 371.5 520.87 376 525C380.5 529.13 382.25 532 385 537C387.75 542 391.13 549.5 392.5 555C393.87 560.5 393.95 566 393.2 570C392.45 574 391.87 576.5 388 579C384.13 581.5 376.75 584.25 370 585C363.25 585.75 354.17 585.17 347.5 583.5C340.83 581.83 334.2 579.63 330 575C325.8 570.37 322.75 562.83 322.3 555.7Z" fill="none" stroke="#1b1b1b" stroke-width="2.6" stroke-dasharray="5.2 3.4" stroke-linecap="butt"/><text x="285.3" y="516.5" font-size="10.7" font-weight="bold">High</text><text x="285.3" y="527.2" font-size="10.7" font-weight="bold">Vim</text><clipPath id="fl4446"><circle cx="395.1" cy="495.3" r="3.7"/></clipPath><g clip-path="url(#fl4446)"><rect x="391.4" y="491.6" width="2.67" height="7.4" fill="#3a78b8"/><rect x="393.87" y="491.6" width="2.67" height="7.4" fill="#f4f4f4"/><rect x="396.33" y="491.6" width="2.47" height="7.4" fill="#d8554a"/></g><text x="400.5" y="498" font-size="9.6">day 3</text><circle cx="395.1" cy="505.4" r="3.7" fill="#1a1a1a"/><text x="400.5" y="508" font-size="9.6">untreated</text><defs><linearGradient id="cbi" x1="0" y1="1" x2="0" y2="0"><stop offset="0.0" stop-color="#053061"/><stop offset="0.1" stop-color="#2166ac"/><stop offset="0.2" stop-color="#4393c3"/><stop offset="0.3" stop-color="#92c5de"/><stop offset="0.4" stop-color="#d1e5f0"/><stop offset="0.5" stop-color="#f7f7f7"/><stop offset="0.6" stop-color="#fddbc7"/><stop offset="0.7" stop-color="#f4a582"/><stop offset="0.8" stop-color="#d6604d"/><stop offset="0.9" stop-color="#b2182b"/><stop offset="1.0" stop-color="#67001f"/></linearGradient></defs><rect x="448.5" y="504.9" width="9.5" height="127.7" fill="url(#cbi)" stroke="#777" stroke-width="0.5"/><path d="M458 632.4H460.6" stroke="#444" stroke-width="0.7" stroke-linecap="butt"/><text x="462.3" y="635.5" font-size="8.6">0.0</text><path d="M458 616.31H460.6" stroke="#444" stroke-width="0.7" stroke-linecap="butt"/><text x="462.3" y="619.41" font-size="8.6">0.5</text><path d="M458 600.22H460.6" stroke="#444" stroke-width="0.7" stroke-linecap="butt"/><text x="462.3" y="603.32" font-size="8.6">1.0</text><path d="M458 584.13H460.6" stroke="#444" stroke-width="0.7" stroke-linecap="butt"/><text x="462.3" y="587.23" font-size="8.6">1.5</text><path d="M458 568.04H460.6" stroke="#444" stroke-width="0.7" stroke-linecap="butt"/><text x="462.3" y="571.14" font-size="8.6">2.0</text><path d="M458 551.95H460.6" stroke="#444" stroke-width="0.7" stroke-linecap="butt"/><text x="462.3" y="555.05" font-size="8.6">2.5</text><path d="M458 535.86H460.6" stroke="#444" stroke-width="0.7" stroke-linecap="butt"/><text x="462.3" y="538.96" font-size="8.6">3.0</text><path d="M458 519.77H460.6" stroke="#444" stroke-width="0.7" stroke-linecap="butt"/><text x="462.3" y="522.87" font-size="8.6">3.5</text><text x="448" y="488.6" font-size="9.6">Vim</text><text x="448" y="498.3" font-size="9.6">1e7</text><path d="M499.5 489.5L593 474.4L683.6 492.5L673.5 628L594.3 685.3L511 626Z" fill="#e5ecf6"/><path d="M540.64 482.86L546.42 601.8M566.82 478.63L568.96 586.4M502.15 521L592.65 496.69M504.77 552L592.31 518.63M507.21 581L591.99 539.15M509.48 608L591.7 558.26M620.18 479.83L616.1 588.1M647.36 485.26L640.7 605.2M592.65 496.69L681.27 523.77M592.31 518.63L678.98 554.54M591.99 539.15L676.83 583.33M591.7 558.26L674.83 610.13M618.56 589.81L538.49 645.57M564.93 589.15L647.36 646.91M650.54 612.04L570.98 668.7M533.54 610.6L616.48 669.26M593 474.4L591.5 571M511 626L591.5 571L673.5 628" stroke="#fff" stroke-width="0.9" fill="none" stroke-linecap="butt"/><text x="497.8" y="494.9" font-size="9" text-anchor="middle">4</text><text x="497.8" y="524.5" font-size="9" text-anchor="middle">3</text><text x="497.8" y="559.3" font-size="9" text-anchor="middle">2</text><text x="497.8" y="590.5" font-size="9" text-anchor="middle">1</text><text x="497.8" y="618.4" font-size="9" text-anchor="middle">0</text><text transform="translate(488.5 555.1) rotate(-90)" font-size="9.6" text-anchor="middle">Vim (RFI)</text><text x="515.2" y="668.5" font-size="9.3">PHATE2</text><text x="636.7" y="668.5" font-size="9.3">PHATE1</text><path d="M612 584h0m31 1h0m-31 1h0m10 2h0m16 0h0m15 1h0m4-2h0m-25 6h0m7 2h0m3 1h0m1 0h0m3-1h0m5-1h0m5 2h0m2-4h0m2 3h0m1 1h0m-89 6h0m48 0h0m15-4h0m16 3h0m6 2h0m6 0h0m3-2h0m-121 5h0m6-2h0m3 2h0m2-2h0m8 1h0m1 1h0m8 2h0m1 1h0m4 0h0m10-2h0m27-3h0m0 1h0m5-1h0m5 0h0m25 0h0m1 0h0m2 3h0m1-1h0m3 2h0m0-4h0m9 0h0m-119 7h0m7 0h0m15 2h0m7-2h0m3-1h0m1 0h0m4 3h0m5-3h0m1 2h0m34-2h0m6 2h0m30-2h0m3 5h0m-116 0h0m0 1h0m7 0h0m16-1h0m3 1h0m4 0h0m0-1h0m7 4h0m13-2h0m5 3h0m19-3h0m0-2h0m3 5h0m3-1h0m0-2h0m10 4h0m2-1h0m11-2h0m8 1h0m-97 6h0m11-3h0m3 5h0m1-3h0m9 2h0m1-1h0m7-4h0m8 0h0m2 2h0m1 4h0m2-2h0m2 1h0m2-1h0m1-3h0m4 3h0m8 0h0m7 0h0m9-1h0m7 2h0m11-4h0m4 4h0m2-3h0m-99 6h0m19-2h0m11 4h0m29 2h0m6-5h0m8 1h0m3 2h0m5-3h0m0 2h0m1 2h0m10-3h0m-71 5h0m9 2h0m33 3h0m5-3h0m6-2h0m11-1h0m4 2h0m8 3h0m1-4h0m-45 8h0m8 0h0m26-3h0m4 1h0" stroke="#061a6c" stroke-width="2.3"/><path d="M507 529h0m0 4h0m14 28h0m-12 2h0m3 1h0m2-1h0m2-2h0m5 4h0m-7 3h0m0 5h0m12-4h0m0-1h0m1 3h0m-12 2h0m1 4h0m2-4h0m4 4h0m12-1h0m-21 5h0m3 2h0m2 1h0m0-1h0m96 1h0m1-1h0m10 0h0m-117 4h0m3-1h0m0-1h0m1 5h0m3 0h0m3-2h0m1 0h0m2 3h0m0-2h0m0 2h0m94-1h0m7-4h0m3 1h0m6 3h0m1-3h0m0 1h0m14 1h0m1 1h0m1-3h0m4-1h0m-140 10h0m2-3h0m9 2h0m4 0h0m3-3h0m3 4h0m90 0h0m3-3h0m0 4h0m3-3h0m3-1h0m5 2h0m1 1h0m0-2h0m2 0h0m9 1h0m5-2h0m0 1h0m2 0h0m2-1h0m1 4h0m1 0h0m1-2h0m3-4h0m1 1h0m1 2h0m1-3h0m-156 7h0m3 1h0m2-2h0m1 6h0m3 0h0m1-5h0m1 5h0m0-1h0m0-1h0m2 1h0m3-3h0m7-1h0m2 5h0m0-2h0m0-3h0m6 0h0m4 2h0m0 0h0m1 2h0m5 1h0m1 0h0m12 0h0m4 0h0m43-4h0m3-2h0m1 6h0m4-4h0m3 1h0m1 1h0m0-3h0m8 0h0m10 5h0m3-2h0m1-2h0m5 4h0m1-4h0m1 1h0m2 2h0m4-3h0m3 3h0m3-4h0m1 4h0m-153 6h0m3 0h0m0-4h0m2 3h0m0-2h0m0-2h0m1 4h0m0 1h0m1-5h0m3 5h0m1 0h0m1-3h0m5 1h0m2 3h0m0-5h0m3 2h0m5-2h0m0 0h0m2 1h0m1-2h0m0 3h0m1-1h0m2 1h0m0 2h0m1 0h0m5 0h0m2-3h0m2 0h0m1 4h0m0-1h0m1 1h0m1-4h0m0-1h0m1 0h0m1 3h0m0-1h0m1-1h0m1-1h0m1 3h0m0-2h0m1 3h0m0-3h0m1-2h0m7 2h0m0 0h0m1 3h0m1 1h0m2 0h0m2-4h0m10 2h0m2-2h0m4 0h0m1 3h0m0-4h0m9 4h0m0-3h0m6 0h0m7 2h0m0-2h0m3 3h0m0-4h0m1 2h0m0 0h0m1-1h0m1 1h0m3 3h0m2-2h0m1-1h0m5 2h0m2 0h0m1 0h0m2 0h0m9-3h0m5 0h0m1 2h0m2-3h0m2 0h0m3-1h0m2 1h0m-153 8h0m0 2h0m5-2h0m0-3h0m2 1h0m0 4h0m2-4h0m3-1h0m1 6h0m5-1h0m0 0h0m3-1h0m3-3h0m0 2h0m1 0h0m2-3h0m1 2h0m2-2h0m1 2h0m1 3h0m1-5h0m0 3h0m0 3h0m1-1h0m3 0h0m2-2h0m0 1h0m1-1h0m0 1h0m3-2h0m2 2h0m1-2h0m0 3h0m1-3h0m0 2h0m2 2h0m1-2h0m1-2h0m1 3h0m1-2h0m5 2h0m4-3h0m1 4h0m10-6h0m3 2h0m8-1h0m1 3h0m3-2h0m6 2h0m2 1h0m2-4h0m2 4h0m1-2h0m2-3h0m4 0h0m7 4h0m0 0h0m1-2h0m4 2h0m6-2h0m1 3h0m8-3h0m1 1h0m9-3h0m0 5h0m1-4h0m5 0h0m1 3h0m-148 4h0m1 0h0m7 1h0m8 0h0m1-1h0m0 3h0m1-2h0m3-2h0m0 3h0m1 0h0m2 0h0m7-3h0m2 1h0m0-2h0m1 0h0m0 4h0m1-2h0m0 1h0m2 0h0m0-1h0m2 1h0m2 0h0m2-2h0m1 3h0m1-2h0m1 3h0m0-4h0m0 2h0m1 2h0m0 0h0m0-4h0m1 2h0m3 2h0m2-4h0m0 2h0m11 1h0m1-1h0m2 1h0m0-4h0m2 3h0m1-2h0m4 3h0m5 1h0m1-4h0m0-1h0m1 4h0m5 1h0m2-2h0m8-2h0m2 3h0m1 1h0m3-5h0m3 6h0m0-3h0m11 0h0m7 2h0m1-1h0m11 0h0m1 0h0m3-1h0m0-1h0m7 2h0m0-2h0m5-2h0m-144 7h0m0 0h0m1 1h0m1 3h0m0-2h0m2-1h0m1-1h0m0-1h0m3 6h0m0-6h0m4 5h0m4-5h0m2 2h0m5 3h0m0 0h0m2-5h0m2 1h0m1 1h0m3 4h0m0-5h0m2 1h0m3-1h0m1 5h0m0-4h0m1 4h0m1-3h0m1 3h0m1-5h0m1 0h0m8 1h0m0 3h0m1-1h0m4-3h0m3 3h0m0-4h0m0 0h0m3 2h0m2 3h0m1-2h0m0-2h0m3 1h0m1-2h0m1 3h0m11-2h0m2 3h0m4 0h0m5-1h0m1-1h0m1 3h0m1-5h0m0 1h0m2 1h0m2 4h0m8-3h0m0 0h0m1 3h0m1-1h0m2-1h0m4 1h0m0-1h0m1 1h0m3 1h0m1-3h0m2 2h0m4-5h0m1 2h0m1 0h0m0-2h0m5 4h0m2-3h0m2 4h0m2-5h0m5 5h0m-125 1h0m1 2h0m1-1h0m2 1h0m2 0h0m4 0h0m15-1h0m1 0h0m3 0h0m0-1h0m1 2h0m2 1h0m2 1h0m2-2h0m1 2h0m1 0h0m1-3h0m2 2h0m1 1h0m2 0h0m2-1h0m1 2h0m4-1h0m3 0h0m7-2h0m5 1h0m4 3h0m7-1h0m4-3h0m6-1h0m6 5h0m2-1h0m1-4h0m3 5h0m1-5h0m3 4h0m2 1h0m5-5h0m2 3h0m3 0h0m6-4h0m-79 7h0m12 1h0m1 2h0m1-4h0m5 0h0m5 2h0m1 1h0m1 1h0m1 0h0m1-2h0m1 4h0m4-5h0m2 1h0m6-2h0m3 2h0m1 1h0m2-3h0m6 2h0m0 2h0m1-1h0m0 1h0m3-1h0m5 1h0m3-4h0m3 6h0m7-3h0m2 2h0m1 1h0m4-3h0m1-2h0m-60 6h0m1 0h0m1 0h0m3 0h0m11 1h0m6-1h0m1 4h0m1-4h0m0-1h0m2 5h0m0-3h0m1 1h0m1 0h0m5-1h0m1-1h0m0 2h0m4-2h0m2 1h0m5-2h0m14 1h0" stroke="#17a0fa" stroke-width="2.4"/><path d="M621 583h0m15 5h0m26 3h0m-49 5h0m4-3h0m1 2h0m5-1h0m1-1h0m14 0h0m2-1h0m2 2h0m9 1h0m12-1h0m-118 7h0m12 0h0m24 2h0m14 0h0m25 0h0m31-4h0m4-1h0m0 4h0m-95 3h0m4 0h0m0 2h0m1-4h0m1 6h0m3-2h0m9 1h0m5 0h0m3-5h0m25 2h0m7 0h0m1 2h0m1-3h0m13 4h0m1-2h0m6 0h0m3 0h0m0-1h0m4 0h0m1-2h0m8 1h0m3 0h0m2 0h0m-100 7h0m7-1h0m4 0h0m16 1h0m3 1h0m4-1h0m17-1h0m4 3h0m6 1h0m1-5h0m2 2h0m12 3h0m2-3h0m1-1h0m17 1h0m0 3h0m-84 4h0m5 0h0m1 0h0m9 1h0m16 0h0m2-4h0m4 2h0m11 3h0m11-5h0m6 5h0m15-2h0m12 0h0m-112 4h0m6 3h0m8 2h0m2-1h0m1-4h0m4 1h0m4 2h0m21-3h0m14 5h0m4-3h0m15-2h0m6 3h0m3-4h0m4 2h0m0 1h0m2-2h0m7 4h0m-81 2h0m7 5h0m7-2h0m7 1h0m2-5h0m1 4h0m1-3h0m8 4h0m13 1h0m7-5h0m0 4h0m15-2h0m8 0h0m2 3h0m2-4h0m4 0h0m3 0h0m5 2h0m-74 5h0m22 1h0m3-2h0m0 0h0m28 4h0m5-2h0m-42 3h0m17 0h0m2 1h0m8 2h0m3-4h0m3 2h0m19-1h0" stroke="#061a6c" stroke-width="2.3"/><path d="M507 526h0m1 8h0m8 21h0m-10 6h0m6 1h0m2 4h0m-8 4h0m4 0h0m3 0h0m3 0h0m4-2h0m0 2h0m1-3h0m2 4h0m7 0h0m-21 3h0m-1 6h0m3 4h0m11-5h0m3 0h0m11 4h0m75-2h0m6 3h0m1-1h0m5 1h0m8 0h0m14 1h0m-136 4h0m1-3h0m2 1h0m3 4h0m1-3h0m3 0h0m2 3h0m0-1h0m3 1h0m3 0h0m88-2h0m3-1h0m14-1h0m7 2h0m1-3h0m3 1h0m3 2h0m1 2h0m1-1h0m5-2h0m1 0h0m3 1h0m-143 5h0m9 2h0m0-1h0m1-1h0m1 0h0m0-1h0m4 4h0m3-3h0m2 2h0m77-1h0m2 1h0m1-4h0m0 2h0m0 0h0m13-2h0m3 4h0m11-3h0m1-2h0m19 3h0m2 2h0m1-1h0m-155 7h0m1-3h0m3 2h0m0 0h0m1-3h0m1 4h0m1-3h0m1 1h0m1 0h0m1-2h0m4 0h0m0 1h0m1 0h0m0-1h0m0 4h0m2-3h0m2 2h0m2-3h0m1 0h0m0 2h0m1 1h0m0-2h0m1 1h0m2 1h0m4-2h0m0 2h0m2-3h0m2 1h0m0-1h0m1 1h0m2 4h0m1-2h0m0-2h0m7 3h0m1-1h0m2 1h0m6-1h0m18 2h0m4 0h0m35-1h0m0 0h0m3-5h0m0 5h0m0-1h0m2-3h0m3 0h0m3 4h0m3-1h0m6 1h0m10 0h0m2-2h0m4 2h0m2 1h0m2-2h0m2-3h0m1 5h0m0 0h0m2-1h0m0-4h0m2 0h0m-152 6h0m0 0h0m4 4h0m2-5h0m6 1h0m3 3h0m1-1h0m1-1h0m1-1h0m0 2h0m2 2h0m3 0h0m0-1h0m2-2h0m2 0h0m1 4h0m2-2h0m2 2h0m0-4h0m1 4h0m0-2h0m1 0h0m1 1h0m1 0h0m0-3h0m0 1h0m2 2h0m0-5h0m2 2h0m0 0h0m0 3h0m2 1h0m0-4h0m1 2h0m1 1h0m1-2h0m1-1h0m4 0h0m2 0h0m1 2h0m1 0h0m0 0h0m4-2h0m3-1h0m3 1h0m2 2h0m5-4h0m1 5h0m1-1h0m6-2h0m2 2h0m2-3h0m3 1h0m4 2h0m1-2h0m2 2h0m9-1h0m4-3h0m2 3h0m17 0h0m1-3h0m2 5h0m3-3h0m4 4h0m0-5h0m2 2h0m5-1h0m2 1h0m0 1h0m4 1h0m2-3h0m1-2h0m-155 7h0m1 0h0m2 3h0m2 0h0m1-1h0m0 0h0m1-2h0m0 5h0m0-5h0m2 0h0m0-1h0m5 4h0m1-2h0m2 0h0m2 3h0m2-1h0m6 1h0m9-4h0m2 1h0m1-1h0m0 5h0m1-2h0m1 0h0m4-2h0m2 4h0m1-5h0m2 4h0m1-4h0m0-1h0m7 0h0m6 4h0m1-3h0m4 2h0m8-1h0m1 1h0m1 2h0m1 0h0m1-5h0m3 4h0m2 0h0m2-3h0m4 4h0m4-2h0m1-2h0m4-1h0m5 2h0m1-2h0m2 5h0m2-2h0m1 1h0m0 2h0m3-2h0m3-3h0m2 1h0m1 1h0m0-2h0m2 1h0m1 4h0m1 0h0m2-4h0m5 4h0m2-5h0m2 4h0m2-5h0m0 5h0m2-4h0m1 0h0m1 5h0m1-6h0m1 0h0m3 4h0m1 0h0m1-4h0m2 5h0m3-1h0m-151 4h0m0 0h0m1 0h0m2 3h0m4-2h0m2-3h0m2 2h0m1 2h0m2-3h0m0-1h0m0 0h0m1 1h0m0 1h0m2-1h0m6 0h0m3 2h0m2-1h0m0-1h0m1 1h0m0-1h0m0 2h0m4-3h0m1 1h0m1-1h0m0 3h0m4 3h0m0-5h0m1 0h0m1 2h0m1-3h0m0 2h0m3 2h0m2-3h0m0 5h0m2-5h0m0 2h0m3 3h0m0-2h0m3-1h0m0 0h0m2-1h0m1 1h0m3 2h0m1-1h0m1 2h0m0-2h0m1-3h0m3 1h0m2 0h0m3 4h0m0-4h0m3 4h0m0-6h0m7 0h0m1 3h0m5 2h0m2-5h0m4 5h0m1 0h0m1 1h0m4-4h0m0 2h0m2-3h0m2-1h0m3 2h0m4 3h0m1-3h0m1 1h0m0 0h0m4-1h0m3 0h0m1 1h0m2 2h0m1 1h0m1-1h0m0-1h0m15 0h0m8-2h0m2 1h0m1-1h0m-141 9h0m0 0h0m1-1h0m7-2h0m4 3h0m3-1h0m2 1h0m4-1h0m3-3h0m1-1h0m1 2h0m1-2h0m5 2h0m0 0h0m0 3h0m3-2h0m1-2h0m0 1h0m2-1h0m2 4h0m4-3h0m3 2h0m4 1h0m4-3h0m4 3h0m3-2h0m2-1h0m1-1h0m2 3h0m6 1h0m2-2h0m1-3h0m5 6h0m2-3h0m4-1h0m1 1h0m5 1h0m1 0h0m0-2h0m1 3h0m4-5h0m0 5h0m1 0h0m1-3h0m2 3h0m1-4h0m1 0h0m2 3h0m2-3h0m10 2h0m2 2h0m2-2h0m1 2h0m0-1h0m1-2h0m2 2h0m8 1h0m1 0h0m1-3h0m2 3h0m1-1h0m0-1h0m-121 5h0m2-1h0m0 0h0m0 0h0m5-1h0m17 0h0m6 1h0m1-1h0m3 1h0m7 5h0m3-5h0m5 1h0m3 4h0m4-2h0m4 0h0m0-1h0m1 3h0m4-3h0m5 1h0m14 0h0m2-3h0m1 0h0m3 5h0m1-4h0m1-1h0m1-1h0m4 2h0m0 4h0m10-2h0m3-3h0m6 4h0m5 0h0m-79 2h0m0 1h0m2 0h0m5 0h0m1 0h0m2 0h0m1-2h0m2 2h0m2 2h0m1-3h0m0 4h0m1-4h0m4 3h0m1-1h0m0 2h0m9-4h0m4 4h0m2-2h0m1 1h0m1-4h0m4 4h0m6 1h0m1-2h0m3-2h0m1 2h0m6-3h0m2 1h0m0 0h0m3 3h0m0 1h0m1-1h0m1-1h0m2 3h0m1-5h0m1-1h0m3 4h0m1-2h0m5-2h0m-53 7h0m4-1h0m3 3h0m9 2h0" stroke="#17a0fa" stroke-width="2.4"/><path d="M625 590h0m6-1h0m0 0h0m15-3h0m-36 9h0m18 0h0m0-4h0m0 2h0m15 0h0m3-1h0m14 5h0m2-1h0m0 0h0m0 0h0m-117 7h0m11-1h0m8 0h0m48-1h0m10 0h0m0-3h0m1 5h0m16-4h0m10 0h0m3 1h0m1 3h0m10-4h0m-117 6h0m3 1h0m1 0h0m1-1h0m1 3h0m16 0h0m2-2h0m0 1h0m4 0h0m11 1h0m10-2h0m2-1h0m3 3h0m2 1h0m9-5h0m11-1h0m11 5h0m7-3h0m5 1h0m12 2h0m1-4h0m4 0h0m-105 9h0m9 2h0m10-4h0m2-1h0m12 0h0m12 0h0m1-1h0m5 1h0m5 0h0m11 3h0m4 0h0m14-1h0m2-3h0m6 5h0m-103 3h0m11 3h0m0 0h0m4-2h0m4-1h0m5 4h0m6-1h0m2-2h0m5 1h0m22-2h0m1 3h0m9-2h0m15-3h0m4 5h0m4-2h0m0-2h0m4 4h0m4-1h0m2-1h0m14-2h0m1 0h0m-104 11h0m5-5h0m2 2h0m18 0h0m5-2h0m3-1h0m4 5h0m17-1h0m6-3h0m16 4h0m0 0h0m1-1h0m6 2h0m8-2h0m4 2h0m1-2h0m-84 6h0m1-3h0m3 4h0m1 1h0m3-4h0m2-1h0m29 5h0m0-3h0m2-1h0m0 2h0m2-2h0m14-1h0m0 1h0m2 2h0m12-2h0m4-1h0m13 3h0m1-2h0m1 3h0m-71 4h0m1-2h0m14 1h0m15-2h0m1 5h0m9-2h0m1-2h0m6 1h0m7 4h0m2-3h0m10 0h0m0 1h0m6 0h0m1 2h0m-46 3h0m29-1h0m9 0h0m4-1h0" stroke="#061a6c" stroke-width="2.3"/><path d="M511 519h0m3 5h0m-1 13h0m-3 23h0m5 0h0m4 0h0m5 1h0m-13 5h0m7-3h0m5 2h0m2 4h0m5 2h0m-20 5h0m3-3h0m2 5h0m6-4h0m5 3h0m2 0h0m-22 6h0m0 1h0m1 0h0m1-4h0m9 3h0m11-2h0m3-1h0m90 4h0m7 0h0m-120 1h0m0 2h0m3 1h0m1 0h0m1 1h0m0 0h0m3 1h0m1-1h0m2-4h0m1 6h0m3-5h0m89 5h0m8-4h0m2 3h0m8-4h0m11 3h0m0-4h0m6 4h0m-138 7h0m4-4h0m1 1h0m2 0h0m5 4h0m3-3h0m6-1h0m5 1h0m1 1h0m74 0h0m2 1h0m0-5h0m1 5h0m5-4h0m6 1h0m4 0h0m2-1h0m0 0h0m2 0h0m1 3h0m1-3h0m11 2h0m9-2h0m2 4h0m6-3h0m4-1h0m1 2h0m-158 5h0m0-1h0m2 5h0m0-3h0m4 0h0m1 1h0m9-2h0m1 0h0m1 3h0m12-4h0m1-1h0m1 1h0m1 1h0m0 4h0m2-2h0m1 1h0m0-2h0m5 1h0m0 2h0m0-1h0m2-2h0m1 1h0m8 1h0m6-1h0m6 1h0m54-4h0m1 2h0m1 1h0m8-1h0m2 2h0m5-3h0m1 2h0m7 0h0m1 1h0m0-1h0m0 0h0m1-4h0m8 5h0m3 1h0m1-1h0m-154 5h0m9-4h0m3 0h0m1 5h0m2-2h0m4 1h0m0-1h0m0 3h0m0 0h0m2-2h0m2-2h0m1 1h0m1 2h0m0-5h0m3 2h0m1 0h0m1-2h0m2 2h0m5 1h0m0 2h0m1-5h0m1 1h0m1 1h0m0 4h0m3-3h0m3 0h0m1 0h0m1 2h0m0-1h0m2-4h0m2 5h0m0-3h0m1 3h0m6-1h0m14-3h0m0 0h0m3 0h0m2 0h0m0 1h0m2 1h0m1 2h0m1-3h0m3 2h0m0 1h0m3-3h0m5 2h0m0 1h0m1-4h0m1 2h0m3-2h0m5 4h0m2-1h0m4-1h0m5 2h0m6 0h0m2-2h0m1 2h0m6 1h0m6-2h0m2 0h0m2 2h0m1-1h0m1-4h0m8 4h0m1-2h0m-152 6h0m6-1h0m1 1h0m1 2h0m1-1h0m0-3h0m2 2h0m1-3h0m1 2h0m4 3h0m4-5h0m1 1h0m2 4h0m1 1h0m1-5h0m2 2h0m2-2h0m1 4h0m2-4h0m1 4h0m2-4h0m0 0h0m1 4h0m0 1h0m1-2h0m1 0h0m0-1h0m0-2h0m0 3h0m2-4h0m0 3h0m0 1h0m1-1h0m3 2h0m1-1h0m0 0h0m0-3h0m1 0h0m1 1h0m2-1h0m2 4h0m0-4h0m2 4h0m0-5h0m5 6h0m7-6h0m3 1h0m2 3h0m7 2h0m2-1h0m1-5h0m0 3h0m3 0h0m5 2h0m5-2h0m1 1h0m2 1h0m0-4h0m5 4h0m3-1h0m4-2h0m1-2h0m1 1h0m1 0h0m6 0h0m1 1h0m1 1h0m4 2h0m2-1h0m2-1h0m1-1h0m2 2h0m2-3h0m1-1h0m1 5h0m0-2h0m0 1h0m2-2h0m2 0h0m5 3h0m0 0h0m5 0h0m3-2h0m1-1h0m1 0h0m2-2h0m0 5h0m-152 1h0m1 1h0m4 3h0m1-2h0m1 4h0m0-6h0m2 6h0m1-4h0m1 2h0m3-3h0m1 1h0m4 1h0m2 0h0m0-1h0m0 2h0m1-2h0m1 1h0m1 2h0m0-3h0m7 1h0m2-2h0m1-1h0m4 2h0m1 1h0m2 0h0m0-1h0m0 0h0m1 0h0m0 1h0m3-1h0m3-2h0m1 4h0m2 1h0m4-1h0m6-2h0m2 2h0m1 1h0m2-4h0m1 3h0m2 0h0m1-3h0m0 4h0m2-5h0m3 1h0m1 1h0m0-1h0m5 0h0m4 0h0m11 5h0m4-5h0m0 1h0m2 1h0m2 1h0m4-2h0m0-1h0m0 4h0m2-2h0m2 1h0m6-2h0m2-1h0m0 1h0m3 2h0m1-1h0m4-1h0m0 3h0m7-2h0m2 0h0m1 3h0m2-5h0m2 3h0m1 2h0m3-2h0m1-2h0m0 1h0m1 0h0m-139 3h0m0 4h0m3 0h0m4 0h0m2 0h0m0-1h0m1 1h0m2-1h0m2-2h0m3 3h0m2 1h0m2-1h0m0-3h0m3 0h0m1 2h0m3-3h0m1 1h0m2-1h0m2 4h0m0-1h0m3-2h0m1 5h0m0-4h0m0 1h0m1 3h0m0-4h0m1-1h0m2-1h0m0 1h0m2 0h0m2 2h0m1 2h0m5-3h0m9-2h0m2 3h0m3 1h0m2 0h0m5-1h0m6 3h0m3-2h0m2-1h0m0 2h0m8-4h0m3 2h0m0 2h0m1-5h0m6 1h0m2 4h0m3-2h0m8-1h0m0 3h0m8-4h0m3 1h0m1-2h0m1 2h0m7 1h0m0-3h0m7 1h0m2 2h0m-131 4h0m4 2h0m4-3h0m6 1h0m17 0h0m10 1h0m3 3h0m2-3h0m5 3h0m2-1h0m8-4h0m1 1h0m1 2h0m1 2h0m0 0h0m0-4h0m3 2h0m10-1h0m1 2h0m1-1h0m1 3h0m0-1h0m7 1h0m1-3h0m0-1h0m1 1h0m0 1h0m12-3h0m1 3h0m0-3h0m5 2h0m3-2h0m7 4h0m1-5h0m1 1h0m3 0h0m1 4h0m4-1h0m1-1h0m1-1h0m-66 9h0m1-4h0m1 0h0m3 3h0m1 0h0m8-1h0m1 1h0m1 1h0m2-2h0m0 0h0m1 1h0m10 0h0m2 0h0m4 2h0m0-3h0m7 0h0m7 0h0m2 0h0m9-2h0m2 1h0m1 1h0m3-3h0m1 2h0m-49 8h0m0-2h0m4 3h0m1 1h0m1-1h0m1 0h0m3-3h0m6 0h0m1 0h0m1 1h0m2-2h0m6-1h0m0 1h0m8 1h0m7 0h0" stroke="#17a0fa" stroke-width="2.4"/><path d="M611 583h0m3-1h0m1 2h0m2-1h0m-6 3h0m6 1h0m1-1h0m3 2h0m17-2h0m9 1h0m0 0h0m1 1h0m11 2h0m0 0h0m1-2h0m2 2h0m2-1h0m2 0h0m-55 7h0m17-4h0m0 2h0m2 1h0m1-2h0m21 1h0m2-2h0m1 0h0m3 3h0m6-3h0m2 3h0m-119 6h0m3 0h0m66-2h0m1 0h0m2 2h0m1-3h0m2 0h0m11 4h0m6-3h0m1 0h0m2 1h0m1-1h0m0-2h0m1 0h0m7 2h0m8-1h0m5 3h0m-118 5h0m0-1h0m15 3h0m24 0h0m0-4h0m19 4h0m3-3h0m5 1h0m11-2h0m17 3h0m22-2h0m1 1h0m-103 8h0m8-4h0m0 0h0m2 2h0m3 2h0m5-3h0m5 0h0m7 2h0m3-1h0m14 3h0m4-6h0m11 5h0m10-4h0m2-1h0m22 2h0m4 0h0m2 3h0m-109 4h0m18 0h0m23-1h0m11 3h0m5-4h0m6 4h0m14-4h0m4 3h0m15 1h0m3-2h0m13-1h0m-107 8h0m3 1h0m14-2h0m1-2h0m24-1h0m8 2h0m2 2h0m1 0h0m6-2h0m2 0h0m1-2h0m0 3h0m9 0h0m0 1h0m2-3h0m9-1h0m15 5h0m10-3h0m-100 6h0m16 0h0m13-1h0m14 4h0m2-2h0m5 3h0m17 0h0m0-6h0m1 4h0m2-3h0m18 1h0m9-1h0m-63 6h0m4 3h0m9-2h0m8 1h0m4 0h0m1-1h0m9-2h0m4 3h0m6-2h0m2 2h0m1 2h0m4-2h0m3 3h0m2-5h0m-39 9h0m4 2h0m5-4h0m7 1h0m6-3h0m7 2h0m15-1h0" stroke="#061a6c" stroke-width="2.3"/><path d="M507 504h0m3 4h0m9 51h0m-12 6h0m9 2h0m11-2h0m-18 5h0m6-1h0m2-1h0m1 5h0m1-1h0m5-1h0m-15 7h0m4 0h0m9-4h0m1 0h0m0 4h0m5 0h0m-17 3h0m2-2h0m2 5h0m12 1h0m2-1h0m0-4h0m4 2h0m83 1h0m8 1h0m12 0h0m-129 3h0m1 2h0m2 0h0m4 1h0m2 0h0m1-4h0m1 5h0m7-5h0m91-1h0m1 4h0m3 0h0m6 0h0m8 0h0m3 1h0m2 0h0m0-3h0m4 1h0m7-2h0m5 4h0m2-4h0m1 3h0m3-2h0m1 2h0m1 1h0m-153 5h0m0-1h0m2 2h0m2-2h0m1 3h0m1-2h0m1-3h0m3 0h0m1 3h0m5-3h0m2 4h0m4-1h0m0-2h0m2 2h0m1 1h0m76 1h0m1-6h0m3 4h0m1 0h0m0-3h0m3 4h0m6-3h0m3 2h0m1 0h0m4-2h0m0 0h0m2 3h0m0-4h0m1 2h0m4-2h0m2 1h0m3-1h0m2 3h0m4 1h0m6 1h0m-148 5h0m1-3h0m0 2h0m1 0h0m1-3h0m4 5h0m2 0h0m0-3h0m4-2h0m1 0h0m2 0h0m1 0h0m1 1h0m2 3h0m0-3h0m1 0h0m0-2h0m1 5h0m1 1h0m4-5h0m3 2h0m1 2h0m0-2h0m1 0h0m2 0h0m7 2h0m0-2h0m8 3h0m6 0h0m4-1h0m45-3h0m5-1h0m11 4h0m2-2h0m13 0h0m7-1h0m3 0h0m6-2h0m-150 10h0m0-4h0m5 3h0m1-1h0m1 3h0m0-2h0m1-2h0m1 3h0m0 1h0m1 1h0m1-6h0m2 5h0m5-1h0m0-3h0m0 4h0m2 0h0m1-1h0m3-4h0m0 6h0m1-3h0m1 0h0m1 3h0m1-3h0m2-2h0m1 0h0m1 2h0m3-3h0m1 6h0m0-1h0m2-2h0m0-3h0m0 3h0m2 1h0m1 2h0m0-2h0m1 1h0m0 0h0m2-2h0m1 0h0m1-3h0m0 6h0m1-4h0m0-2h0m1 1h0m1 4h0m1-1h0m0-1h0m0 2h0m2-4h0m2 5h0m1-1h0m2-2h0m4-2h0m1 0h0m2 2h0m2 2h0m0-3h0m1-1h0m2 1h0m11 3h0m3-2h0m2 3h0m1-2h0m0 0h0m2-3h0m1 3h0m5 2h0m1-1h0m3-3h0m2-1h0m3-1h0m2 6h0m3-4h0m10 2h0m2-1h0m7 1h0m1 0h0m5 2h0m6-4h0m1 1h0m5 2h0m7 0h0m5-5h0m-153 11h0m2-2h0m1-2h0m2 2h0m0-1h0m7-1h0m1 4h0m2 1h0m3-3h0m3 2h0m0-2h0m0 1h0m2 0h0m8 2h0m1-5h0m1 2h0m0 0h0m1 2h0m4-5h0m0 6h0m4-5h0m0 2h0m3-2h0m0 0h0m1 3h0m1-3h0m3 0h0m2 5h0m1-1h0m0-4h0m4 3h0m0 0h0m2-3h0m1 1h0m6 3h0m9 0h0m2-4h0m3-1h0m2 0h0m5 4h0m11-1h0m0 0h0m4-2h0m1 3h0m2 2h0m1-1h0m2-4h0m2 2h0m1 2h0m3-1h0m1 1h0m7-3h0m4-2h0m1 2h0m7-1h0m0 1h0m3 1h0m1-2h0m1 5h0m2 0h0m4-2h0m0-2h0m0 2h0m1-4h0m0 2h0m5 3h0m-152 2h0m3-1h0m4 5h0m2-5h0m1 4h0m2-1h0m6-3h0m3 1h0m1 5h0m1-4h0m2-1h0m3-1h0m1 4h0m5-1h0m0-2h0m2 0h0m1 0h0m3 4h0m3-3h0m2 1h0m1-2h0m0 3h0m2-3h0m1 0h0m1 0h0m2 0h0m0 4h0m6-2h0m4-2h0m0 3h0m1 1h0m6-3h0m2 2h0m4-1h0m4-3h0m0 4h0m5-2h0m0 0h0m1 3h0m4-4h0m5-1h0m1 0h0m0 6h0m1-5h0m2 1h0m10-1h0m0 1h0m1-2h0m0 1h0m1 3h0m0-2h0m1-1h0m3 0h0m5 2h0m3-1h0m2 2h0m2-2h0m4 1h0m4-1h0m6 0h0m1 2h0m2-2h0m0 4h0m5-1h0m-141 1h0m1 0h0m5 6h0m1-1h0m0-2h0m1 3h0m0-5h0m2 4h0m1 0h0m0-4h0m5 0h0m1 0h0m4 0h0m1 2h0m0 1h0m6-3h0m2 4h0m0-1h0m1-3h0m4 3h0m4-2h0m4 1h0m0 0h0m0 1h0m2-3h0m0 1h0m1-1h0m1 1h0m1 3h0m3-1h0m1-3h0m3 3h0m1-1h0m3-2h0m1 5h0m2-2h0m1-3h0m3 4h0m4 0h0m0 0h0m2 0h0m2-5h0m7 2h0m0-2h0m1 2h0m3 3h0m0-4h0m1 1h0m11-1h0m0 3h0m1-3h0m1 0h0m5 4h0m5-3h0m2 3h0m1 1h0m6-3h0m2 1h0m1-1h0m10 2h0m1-2h0m9 3h0m2-6h0m-119 8h0m11-2h0m6 0h0m9 3h0m10 1h0m4 0h0m2 0h0m12 1h0m5-1h0m2 0h0m1-1h0m3-1h0m4 1h0m4 1h0m2-2h0m4-2h0m2 2h0m1 0h0m1 1h0m3 0h0m1-2h0m2 3h0m8 0h0m2-2h0m0 1h0m3 1h0m3 0h0m4-1h0m2-2h0m3 4h0m2-4h0m0 2h0m0 0h0m1-1h0m2-2h0m-77 8h0m1-2h0m6 3h0m0 0h0m1 0h0m0-3h0m2 0h0m0 1h0m1 3h0m4 0h0m12 0h0m4 0h0m6 2h0m7-6h0m0 1h0m2 3h0m0-1h0m1 3h0m1-4h0m0 3h0m6-4h0m1 1h0m6 1h0m2 1h0m1-1h0m9-2h0m0 5h0m-46 0h0m0 1h0m4 0h0m6 0h0m2 1h0m0 0h0m1-1h0m2 0h0m1 3h0m3-3h0m17 0h0m5 0h0m5 0h0" stroke="#17a0fa" stroke-width="2.4"/><path d="M611 583h0m16 0h0m13 2h0m-23 4h0m3-2h0m2-2h0m0 1h0m10-1h0m0 6h0m8-4h0m6 2h0m2-3h0m12 2h0m-36 4h0m12 0h0m2 3h0m12-2h0m2 3h0m13-1h0m-86 8h0m2 0h0m39-4h0m1 4h0m3-3h0m23-1h0m2 1h0m12 3h0m-108 2h0m0 4h0m9-5h0m1 4h0m2-2h0m6-3h0m2 3h0m2-3h0m6 0h0m7 3h0m5 3h0m3-5h0m15 5h0m1-2h0m5-4h0m0 5h0m1-2h0m0-1h0m3 1h0m3 2h0m4-2h0m27 1h0m2-3h0m5 1h0m2-2h0m2 1h0m-114 8h0m3 1h0m22 0h0m10 1h0m6-3h0m2 3h0m9-3h0m0 1h0m1 1h0m16-1h0m4 3h0m16-2h0m1 2h0m8-2h0m8 2h0m6-4h0m-105 9h0m4-3h0m4 1h0m1 2h0m9-1h0m6 1h0m3 0h0m4-4h0m61 0h0m4 3h0m11 0h0m-94 7h0m5-4h0m2 2h0m4-3h0m0 4h0m3-1h0m15-1h0m10 0h0m8 4h0m3-4h0m9 2h0m1-1h0m6 2h0m10-3h0m-74 7h0m8-3h0m15 5h0m2 0h0m3-3h0m6 3h0m3-4h0m5 4h0m3-2h0m11-1h0m7 3h0m0 0h0m10 0h0m1-1h0m1-3h0m3 2h0m-54 7h0m8-1h0m1-1h0m0 2h0m2 2h0m3-2h0m9 1h0m5-2h0m14 0h0m11-2h0m0 3h0m8-2h0m-48 7h0m12 0h0m4 2h0m30-4h0" stroke="#061a6c" stroke-width="2.3"/><path d="M511 545h0m-3 6h0m5 0h0m-8 12h0m1 1h0m3 1h0m7 2h0m4-3h0m0 5h0m1 2h0m0-1h0m-8 5h0m4 0h0m2 2h0m4-1h0m1 1h0m5-1h0m0 1h0m-21 7h0m6-4h0m16 0h0m3 0h0m4 0h0m79 1h0m3 2h0m1 2h0m17-1h0m-129 4h0m0 0h0m3 1h0m1-1h0m2 0h0m3-1h0m2 1h0m95 0h0m2 3h0m3-1h0m3-2h0m5-1h0m2-1h0m3-1h0m2 4h0m8 2h0m7 0h0m8-1h0m-148 2h0m1 4h0m1-1h0m2 2h0m0-2h0m5-3h0m1 0h0m2 5h0m0-3h0m0-2h0m1 1h0m1 3h0m5-5h0m3 4h0m3 2h0m1-1h0m75-2h0m3 1h0m1-2h0m17 0h0m6 2h0m3-4h0m3 1h0m0-1h0m1 4h0m1-3h0m0 4h0m3-2h0m8 2h0m1-3h0m1 4h0m7-1h0m-152 3h0m1 2h0m0-3h0m1 4h0m5-2h0m0 2h0m2-3h0m4 4h0m1-2h0m1-3h0m3 1h0m0 1h0m0 3h0m1-1h0m1-1h0m0-3h0m0-1h0m4 3h0m0-1h0m1 3h0m3-2h0m2-2h0m2 3h0m1 0h0m4-1h0m1 2h0m0 1h0m8-2h0m0 1h0m0 0h0m3 0h0m7 1h0m9 0h0m4-1h0m6 1h0m2 0h0m22-2h0m3 2h0m1-5h0m5 2h0m4 1h0m3-1h0m2-1h0m4-2h0m9 3h0m23-3h0m-157 8h0m0-1h0m1 4h0m3-5h0m0 1h0m0 4h0m2-4h0m0 0h0m2 4h0m4-1h0m0-2h0m0 2h0m4 0h0m2 1h0m4 1h0m0-5h0m0 3h0m2-3h0m1 1h0m3 2h0m1 0h0m1 1h0m2-3h0m1-1h0m0 2h0m2 2h0m0-1h0m0 1h0m2 0h0m0-1h0m1 0h0m0 0h0m3 0h0m1-3h0m0 0h0m1 3h0m2 0h0m0 1h0m1-1h0m0-2h0m1 3h0m1-1h0m1-1h0m5 1h0m1 2h0m0-6h0m0 5h0m3-5h0m0 1h0m10-1h0m0 2h0m0 3h0m1-3h0m5 1h0m2 0h0m2-3h0m0 3h0m4-2h0m3 4h0m6-1h0m1-2h0m3-2h0m1 5h0m1-3h0m0 2h0m6 1h0m1-5h0m2 4h0m1-1h0m2 2h0m2 0h0m1-1h0m1-2h0m20 3h0m8-3h0m1 0h0m1 0h0m0-1h0m1 5h0m1-1h0m1-3h0m12 0h0m-154 10h0m0-4h0m1-1h0m4 2h0m1 2h0m4 0h0m1 0h0m3 0h0m0 1h0m0-3h0m1 2h0m0-4h0m3 5h0m0-5h0m0 5h0m2 0h0m0-3h0m3-1h0m0 2h0m2-1h0m1 1h0m1 0h0m1 0h0m0 1h0m4-2h0m1-2h0m0 4h0m0-2h0m1-1h0m1-1h0m0 2h0m1-3h0m0 1h0m1 4h0m0-5h0m3 1h0m0 3h0m0 0h0m1 0h0m0-2h0m1 2h0m3-4h0m3 6h0m1-4h0m1 3h0m1-3h0m4 0h0m3 1h0m5 1h0m0 0h0m5-2h0m1 1h0m1 1h0m7 2h0m5-2h0m4-1h0m2-1h0m0 3h0m1-5h0m1 4h0m2-4h0m2 5h0m5-4h0m1 0h0m4 1h0m1 2h0m2-1h0m3 1h0m0-4h0m5 4h0m3-1h0m0 3h0m2-1h0m2-2h0m5 0h0m0 2h0m5 0h0m7 0h0m1 1h0m4-5h0m0 5h0m3-5h0m0 0h0m5 3h0m-150 4h0m2 1h0m2-1h0m0 2h0m1 0h0m1-1h0m1 2h0m6-5h0m4 3h0m0 1h0m1-2h0m0 3h0m0-3h0m2-1h0m2 4h0m1-5h0m5 5h0m1-4h0m0 0h0m6 2h0m5-1h0m0 3h0m1-1h0m1 2h0m1-4h0m0-1h0m0 3h0m0-3h0m2 4h0m5-4h0m8-1h0m3 3h0m15-1h0m4 1h0m4 0h0m1-3h0m1 2h0m2-1h0m1 2h0m1-3h0m0 3h0m6 3h0m4-3h0m0-1h0m2 3h0m1 1h0m4-5h0m2 3h0m0 0h0m5-2h0m8 1h0m0 1h0m4-1h0m4 1h0m6-3h0m6 0h0m2 0h0m3 3h0m-141 3h0m4 4h0m1-2h0m3-2h0m3 4h0m0-3h0m2 1h0m3-1h0m0-1h0m2 4h0m4-1h0m3-3h0m4 3h0m2-1h0m1 1h0m3-1h0m0 0h0m0 2h0m5-3h0m0 2h0m1 0h0m2 1h0m2 0h0m0-4h0m1 2h0m4-3h0m0 6h0m13 0h0m2 0h0m1-6h0m2 3h0m3 2h0m0-3h0m1-2h0m0 5h0m1 0h0m1-5h0m2 0h0m4 3h0m10 0h0m3-1h0m1 0h0m3-2h0m7 2h0m4 1h0m4 0h0m8 2h0m0 0h0m3-3h0m1 1h0m12 0h0m6 0h0m-137 3h0m11 0h0m0 2h0m2 1h0m2-1h0m11-1h0m0-1h0m19 2h0m4 3h0m1-3h0m2 3h0m0-2h0m1-3h0m0 1h0m3 0h0m7 4h0m1-4h0m4 2h0m1 1h0m1-1h0m1 0h0m3-2h0m2 0h0m6 0h0m3-1h0m2 2h0m5 3h0m2 0h0m3 0h0m1-2h0m8 3h0m1-4h0m4 0h0m1 0h0m1 1h0m0 0h0m5 2h0m1-4h0m0 4h0m1-1h0m13-4h0m4 4h0m1-1h0m-75 4h0m1 0h0m0 3h0m3-1h0m3-1h0m1 1h0m2-2h0m4-1h0m4 4h0m1-1h0m7-2h0m1 0h0m3 0h0m1 2h0m10-2h0m4 1h0m6-2h0m4 1h0m3 0h0m1 1h0m7-1h0m0 4h0m0-3h0m3 3h0m0-2h0m2-2h0m0 3h0m5-3h0m-58 7h0m10 1h0m5-3h0m3 0h0m3 5h0m1-4h0m3 1h0m0 1h0m6-3h0m0 3h0m3 0h0m1-1h0m3-1h0m2 1h0m8-1h0m2 0h0m3-1h0" stroke="#17a0fa" stroke-width="2.4"/><path d="M537 624h0m1 1h0m2-1h0m11 2h0m4 0h0m0-4h0m3 3h0m3-2h0m1 0h0m6-1h0m3 5h0m1-2h0m3-3h0m3 4h0m7-3h0m5-1h0m0 1h0m1 3h0m1-4h0m2 3h0m1 0h0m1 0h0m1-1h0m0 1h0m1-3h0m2 1h0m3-1h0m0 4h0m0-3h0m1 2h0m3-2h0m2-1h0m1 2h0m4-1h0m4 0h0m1 3h0m2-2h0m1 3h0m1-1h0m3 0h0m3-2h0m0 0h0m2 3h0m4-3h0m2 0h0m3 1h0m0 1h0m3 0h0m7 0h0m3-1h0m5 1h0m-125 5h0m1-1h0m2 3h0m4-1h0m1-4h0m0 1h0m6 2h0m1-2h0m0 4h0m1-5h0m2 2h0m0-1h0m0-1h0m1-1h0m0 0h0m1 3h0m5 2h0m0-4h0m1 4h0m1-2h0m0-3h0m2 4h0m4 1h0m0-1h0m0 1h0m0-2h0m1-2h0m5 2h0m3 2h0m3-3h0m1 0h0m0-1h0m2 2h0m0-2h0m4 0h0m4 4h0m0 0h0m1-3h0m5 0h0m1 1h0m2 0h0m1 3h0m1-5h0m0 0h0m1 5h0m0-4h0m7-1h0m0 0h0m1 0h0m0 4h0m0-1h0m3-2h0m1 1h0m0-2h0m2 2h0m2 2h0m2 0h0m2-5h0m1 2h0m7-1h0m8 0h0m1 2h0m1-1h0m1 0h0m1 1h0m0-1h0m2 0h0m2 0h0m3 3h0m0-3h0m1-1h0m3 5h0m0-6h0m1 2h0m1 0h0m0 1h0m2-2h0m1 5h0m1-4h0m-118 7h0m9-2h0m1 1h0m2-2h0m0 2h0m2 2h0m0-2h0m2 1h0m1 0h0m0-1h0m0 3h0m3-4h0m1-1h0m1 4h0m0-4h0m1 5h0m1-1h0m0-1h0m1 2h0m3 0h0m2-3h0m6 0h0m0 2h0m0 2h0m2-5h0m1 4h0m3-2h0m4 0h0m2 2h0m1-3h0m8 2h0m0 2h0m7-4h0m1 4h0m2-6h0m6 4h0m0 0h0m3-3h0m4 5h0m0-1h0m1 1h0m6-6h0m0 2h0m0 3h0m4-2h0m1-2h0m1 4h0m0-3h0m0 2h0m2 2h0m1-2h0m0-1h0m1-2h0m1 4h0m5-1h0m3-2h0m1 2h0m0 0h0m3-2h0m6 0h0m-120 4h0m4 2h0m2 3h0m4-1h0m1 1h0m2 1h0m3-4h0m2 2h0m1 2h0m1-4h0m4 2h0m3-3h0m9-1h0m1 4h0m3-1h0m3-2h0m1 2h0m1 2h0m0 0h0m1-1h0m1-1h0m2-1h0m4 3h0m3-1h0m1-1h0m0 1h0m0 0h0m1 1h0m2-2h0m0-1h0m1 4h0m0-2h0m1 1h0m0 0h0m2 0h0m1-1h0m0-2h0m2-2h0m1 3h0m2-3h0m3 6h0m0-1h0m4-4h0m1 2h0m3-2h0m1 0h0m1-1h0m0 5h0m1-2h0m4-2h0m3 0h0m3 4h0m1-2h0m2 1h0m2-1h0m5-2h0m0 1h0m2 1h0m2-1h0m-95 6h0m1-2h0m0 2h0m1 1h0m1-1h0m1 0h0m1 1h0m2-1h0m4 1h0m0-1h0m1 1h0m0-3h0m0 5h0m2 1h0m5-5h0m3 0h0m1 3h0m11 1h0m2-3h0m1-1h0m1 4h0m1-2h0m1-2h0m9 1h0m2-2h0m1 5h0m4 0h0m0-1h0m0 2h0m1-3h0m0-2h0m5 0h0m4 0h0m0-1h0m1 1h0m1 1h0m1 2h0m0 0h0m-40 5h0m2-1h0m6 0h0m7 0h0m11-2h0" stroke="#061a6c" stroke-width="2.3"/><path d="M568 619h0m5 0h0m14-1h0m1 2h0m45 1h0m2 0h0m-87 5h0m30-2h0m6 0h0m17 3h0m28-1h0m8-4h0m-83 7h0m17-1h0m5 4h0m0-5h0m9 6h0m11-4h0m1 1h0m15 0h0m8 1h0m4 0h0m-65 4h0m9-1h0m7 0h0m1 4h0m2-2h0m20-3h0m2 2h0m4 3h0m16-3h0m14-1h0m-48 5h0" stroke="#17a0fa" stroke-width="2.4"/><path d="M574 621h0m1-1h0m9 1h0m-46 4h0m1 2h0m3-1h0m3 1h0m8-2h0m1 1h0m0-3h0m1 1h0m0-1h0m0 2h0m0-3h0m1 4h0m2-3h0m2-1h0m0 3h0m2-3h0m0 2h0m3 1h0m4 1h0m5-3h0m0 0h0m0 2h0m1-4h0m1 4h0m0 1h0m2-2h0m1 0h0m0 0h0m1 0h0m1-1h0m1-1h0m5 2h0m2 2h0m0-3h0m2 0h0m4-2h0m1 4h0m3 1h0m1 0h0m0-4h0m2 0h0m2 2h0m2-1h0m1 1h0m2-1h0m1 4h0m3-1h0m0 0h0m4 0h0m0-1h0m1 2h0m2-2h0m1-3h0m4 1h0m2 0h0m9 1h0m4 1h0m1-1h0m3 1h0m0 1h0m5-1h0m-113 3h0m1 0h0m2 4h0m3-2h0m2 2h0m7-1h0m1-1h0m1-1h0m0-1h0m0 4h0m1-2h0m0 1h0m1 0h0m0-4h0m4 6h0m3-2h0m1 0h0m2-1h0m4-2h0m3 3h0m1 0h0m3-2h0m8 0h0m5 1h0m1-1h0m3 4h0m2-1h0m3-1h0m0-3h0m3 5h0m2-3h0m1 1h0m1-2h0m0 1h0m1-2h0m0 3h0m6 0h0m0-1h0m2 0h0m2-1h0m3 1h0m2 0h0m3 2h0m3-4h0m1 4h0m2-4h0m1 4h0m0-4h0m2 3h0m0-4h0m2 4h0m3 1h0m1-1h0m3-4h0m2 5h0m1-4h0m1 0h0m2 1h0m3 4h0m2-5h0m5 0h0m0 1h0m-125 7h0m1-2h0m0 4h0m2-3h0m0-1h0m4 0h0m1 2h0m1 2h0m0-5h0m0 2h0m4 4h0m2-2h0m2 2h0m9-1h0m0-2h0m0 2h0m1 0h0m1-2h0m0 1h0m2-2h0m0-2h0m0 2h0m4 3h0m4-2h0m1-3h0m2 5h0m0-5h0m5 3h0m3 1h0m1 0h0m3 0h0m4-3h0m2 4h0m3-2h0m0 3h0m0-1h0m1-2h0m1-2h0m4 2h0m9-1h0m2 1h0m0-1h0m6 3h0m6-3h0m0 2h0m3 1h0m2-1h0m2-1h0m2 2h0m4-4h0m1-1h0m0 2h0m2 0h0m1-1h0m10-1h0m0 2h0m0 2h0m2-2h0m2-2h0m-115 6h0m0 2h0m3 0h0m0 0h0m3 2h0m2-1h0m1-3h0m1 4h0m0 0h0m0 0h0m1 1h0m0-2h0m2 2h0m1-4h0m7 4h0m6 0h0m13-2h0m0 2h0m2 0h0m1-4h0m1 1h0m1-1h0m0 1h0m1-1h0m3 1h0m2 1h0m3 2h0m0-2h0m1 3h0m0-4h0m4 2h0m0-1h0m3-3h0m1 6h0m1-5h0m3 2h0m5 2h0m4-3h0m1-1h0m2 3h0m1-4h0m1 1h0m1 1h0m7 2h0m3-4h0m1 1h0m5-1h0m2 0h0m7 1h0m-99 6h0m6 3h0m2-1h0m0-2h0m2 0h0m2 4h0m1-3h0m1 2h0m2-2h0m2 0h0m5 0h0m3 4h0m0-6h0m2 1h0m0 0h0m1 0h0m1 1h0m1 0h0m2-1h0m2 3h0m2-1h0m1-1h0m1 3h0m1-1h0m0-2h0m0 0h0m3 2h0m0-3h0m1 3h0m5-2h0m2 2h0m1-2h0m4 0h0m0-2h0m2 4h0m3-2h0m0 0h0m0 3h0m3-4h0m0 0h0m2 0h0m0 2h0m1 2h0m1-4h0m3 1h0m0-1h0m1 0h0m8 1h0m-60 5h0m2-1h0m2 0h0m5 1h0m5 1h0m8-2h0" stroke="#061a6c" stroke-width="2.3"/><path d="M576 620h0m7 0h0m7-2h0m12 2h0m9-2h0m3 2h0m7-1h0m-75 5h0m5-2h0m40 2h0m1 0h0m3-1h0m8 0h0m8 0h0m4 0h0m8 0h0m12-2h0m2 1h0m6 3h0m8-1h0m-104 6h0m9-3h0m0 1h0m6-1h0m6 3h0m3-2h0m13 2h0m16 3h0m0-1h0m1 1h0m36-4h0m-77 6h0m17-1h0m4 2h0m16 1h0m2-1h0m7 3h0" stroke="#17a0fa" stroke-width="2.4"/><path d="M571 620h0m6 0h0m-41 6h0m3-2h0m2 2h0m8-1h0m1-3h0m1 2h0m4 1h0m5-3h0m4 0h0m3 1h0m2 1h0m1-1h0m0 1h0m4 0h0m0 2h0m2-1h0m0 0h0m3-1h0m0-1h0m4 3h0m0-1h0m1-2h0m0 2h0m1 1h0m4-1h0m2 1h0m2 0h0m1-4h0m1 2h0m0 2h0m1-1h0m4 1h0m0-1h0m1 0h0m2 2h0m2-2h0m1 1h0m1-3h0m0 3h0m1-1h0m2 1h0m1-3h0m1 0h0m8 0h0m0 1h0m3-2h0m1 2h0m1 1h0m0-1h0m4 1h0m5 1h0m3-1h0m0 1h0m6 0h0m1-1h0m4 0h0m11 2h0m-124 1h0m1 4h0m1-1h0m5-4h0m0 4h0m1-3h0m2 4h0m1 0h0m0-2h0m2 0h0m0 1h0m4 1h0m0 0h0m1 0h0m2-4h0m2 3h0m0 1h0m2 0h0m0-1h0m3-3h0m1 1h0m3 1h0m2 3h0m1-2h0m0 1h0m1-4h0m2 2h0m2-2h0m5 2h0m0-2h0m0 4h0m2-1h0m4-4h0m1 3h0m7 2h0m1 1h0m3-4h0m4 4h0m3-1h0m10 1h0m2-6h0m0 4h0m1 1h0m0 0h0m0-1h0m1-2h0m5 0h0m2 1h0m0-2h0m2 3h0m1 0h0m1-2h0m2 3h0m3-3h0m0-1h0m2 0h0m0 2h0m1-2h0m1 0h0m1 4h0m2 1h0m2-1h0m1-4h0m0 1h0m4 2h0m1-1h0m2-3h0m1 6h0m1-3h0m5 1h0m-125 3h0m2 2h0m2 0h0m0 2h0m0-4h0m2 3h0m3 1h0m2-4h0m3 2h0m0-1h0m3 0h0m0 1h0m4 1h0m1 1h0m0 1h0m2-6h0m7 3h0m1 0h0m5 3h0m1-6h0m3 5h0m0-5h0m2 3h0m1 1h0m1-2h0m3 0h0m2 1h0m6-2h0m4 2h0m4 0h0m1-1h0m4-1h0m3 3h0m2 1h0m1-1h0m1 1h0m0 1h0m1-4h0m0 3h0m7-2h0m2 2h0m3-4h0m3 1h0m0-1h0m3 2h0m1 1h0m2 0h0m1-1h0m3-2h0m1 0h0m5 0h0m0 4h0m3-3h0m2-1h0m1 0h0m0 5h0m1-5h0m1-1h0m2 3h0m0 0h0m1 1h0m-110 6h0m2 0h0m1-4h0m3 3h0m2 1h0m1 2h0m1-4h0m0 1h0m2-2h0m0 1h0m2 0h0m0 0h0m5 2h0m6-2h0m3 2h0m1 1h0m0 0h0m1-3h0m3 0h0m2 2h0m2 0h0m4 0h0m2 0h0m0-3h0m2 0h0m1 1h0m1 2h0m0 1h0m1-4h0m2 1h0m2 4h0m5-4h0m0 0h0m2-1h0m1 0h0m3 2h0m1 0h0m0 3h0m1-4h0m1-1h0m1 3h0m0 2h0m1 0h0m11-4h0m0 0h0m1 3h0m2-4h0m1 1h0m0 3h0m0-1h0m1-4h0m0 3h0m3 1h0m2-2h0m1 0h0m0 2h0m1 1h0m0-4h0m1 1h0m7 1h0m1-1h0m-96 6h0m6 0h0m1-2h0m0 0h0m0 4h0m9 1h0m0 0h0m0-5h0m2 4h0m1-2h0m2-1h0m2 3h0m4-3h0m1 4h0m1-2h0m3-2h0m2 0h0m1 4h0m7-4h0m0 2h0m1-1h0m3 2h0m14-1h0m0-1h0m1 1h0m0 0h0m2-2h0m0-1h0m2 2h0m1-2h0m1 2h0m2-2h0m5 2h0m1-1h0m1 3h0m0 0h0m1-3h0m5 1h0m1-2h0m-63 6h0m10 0h0m4 1h0m2 1h0m1-1h0m6-1h0" stroke="#061a6c" stroke-width="2.3"/><path d="M566 618h0m14 1h0m16 1h0m17-2h0m-32 5h0m26 3h0m14-1h0m2-3h0m17 3h0m3 0h0m5-1h0m-77 5h0m13-1h0m2 3h0m22 1h0m20-5h0m-64 8h0m2 1h0m2-3h0m2 1h0m3 3h0m5 2h0m4-2h0m37 0h0m10-4h0m3 3h0m6-2h0m2 0h0m-63 6h0" stroke="#17a0fa" stroke-width="2.4"/><path d="M540 624h0m3 1h0m2-1h0m1 1h0m2 1h0m3 1h0m0-4h0m1 3h0m2-3h0m4 3h0m0-3h0m3 3h0m1-5h0m1 2h0m2 0h0m1 3h0m0-3h0m4 0h0m3-2h0m1 5h0m1-3h0m2 0h0m0 0h0m0-1h0m1 2h0m1-3h0m2 3h0m1-3h0m1 4h0m1-1h0m1 0h0m1 1h0m0 0h0m4 2h0m1-5h0m0 3h0m1-3h0m1 0h0m7 1h0m1 1h0m6-1h0m4 2h0m0-1h0m3 3h0m5-2h0m2-1h0m2-1h0m11 3h0m1-2h0m1 1h0m6 2h0m7-1h0m2-1h0m6 1h0m-123 4h0m6 1h0m1-2h0m1 0h0m1 0h0m1 2h0m2 2h0m10-1h0m0-2h0m1 0h0m5 2h0m7-4h0m4 3h0m2 1h0m1-3h0m0 2h0m1 2h0m0-1h0m1 1h0m1-2h0m2 0h0m0-3h0m4 3h0m0-1h0m1-1h0m2 2h0m0 1h0m1 1h0m3-4h0m1 0h0m3-1h0m1 3h0m2 2h0m9-2h0m0-2h0m0-2h0m0 3h0m1 0h0m2 1h0m0 1h0m1-2h0m2-1h0m0 4h0m1-4h0m1-1h0m1 3h0m0 2h0m0-5h0m1 0h0m2 4h0m1-1h0m1 0h0m2 1h0m3-5h0m0 3h0m1 0h0m0 1h0m3 0h0m1 2h0m0 0h0m1-3h0m4 1h0m2-1h0m1 0h0m2 3h0m2-4h0m4-2h0m2 1h0m0 4h0m1 0h0m4-5h0m1 0h0m1 1h0m1 1h0m-120 10h0m0-6h0m0 3h0m1-1h0m2 1h0m0-2h0m2 3h0m2-3h0m0 0h0m1 4h0m0 1h0m3 0h0m3-4h0m11 2h0m1-3h0m1 0h0m0 3h0m5-3h0m5 4h0m1-3h0m0 1h0m7-2h0m3 5h0m0-3h0m0-2h0m2 5h0m4-4h0m4 1h0m1 0h0m0-2h0m8 0h0m0 3h0m1 1h0m0-4h0m1 3h0m1-2h0m4 3h0m3-3h0m0 1h0m0-1h0m5 3h0m0-4h0m1 2h0m2-2h0m1 1h0m0 1h0m4-1h0m5 4h0m4-4h0m0 3h0m3-4h0m1 1h0m3 4h0m1-4h0m5 2h0m2 0h0m2-2h0m1-2h0m-116 9h0m1-2h0m2 3h0m3-3h0m1 1h0m1 2h0m3 1h0m0-1h0m3-4h0m3 4h0m5-4h0m2 2h0m2 3h0m0-4h0m1 2h0m0 0h0m3-1h0m1-2h0m2 5h0m3-3h0m0-2h0m1 3h0m1-2h0m2 4h0m4 0h0m2-4h0m2 3h0m3-2h0m0 3h0m0 1h0m4-5h0m3 1h0m1 1h0m0-3h0m4 5h0m2-5h0m3 1h0m5 3h0m0 1h0m4-4h0m0 0h0m1 2h0m0 3h0m7-3h0m2 1h0m1 2h0m4 0h0m0-3h0m0-2h0m3 0h0m0 4h0m1-3h0m0-1h0m1 3h0m2-3h0m5 1h0m1-1h0m-98 6h0m2 0h0m2 3h0m3-2h0m3-1h0m2 4h0m0-4h0m1 0h0m3 2h0m3 1h0m2 0h0m1 2h0m1-2h0m1-1h0m0-2h0m2 1h0m1-1h0m1 2h0m0-2h0m1 2h0m2 1h0m1-1h0m2-1h0m2-2h0m0 5h0m1-5h0m0 0h0m1 4h0m1-3h0m2 2h0m1-3h0m7 4h0m0 0h0m3 1h0m2-4h0m5 2h0m3 2h0m2-2h0m5 0h0m3-2h0m2 1h0m1 0h0m-49 5h0m2 0h0m1 0h0m7-1h0m4 2h0m0-1h0m6 0h0" stroke="#061a6c" stroke-width="2.3"/><path d="M573 620h0m8-3h0m4 0h0m21 3h0m-40 2h0m28 0h0m2-1h0m11 1h0m29 2h0m1-2h0m4 2h0m1-1h0m4 1h0m2 1h0m-85 6h0m11-3h0m4 2h0m0-3h0m4 0h0m4 0h0m8 5h0m23-4h0m18-1h0m1 3h0m-71 6h0m2-1h0m34-1h0m0 1h0m1 0h0m19-2h0m-46 7h0m10 1h0m15-2h0" stroke="#17a0fa" stroke-width="2.4"/><path d="M563 621h0m21 0h0m-49 4h0m8-1h0m0-1h0m2 4h0m5 0h0m2-2h0m0-1h0m1 2h0m1-3h0m4 4h0m0-6h0m4 5h0m2 1h0m0-1h0m1 0h0m5 0h0m0-4h0m1 0h0m0 2h0m4 1h0m2 0h0m4-1h0m3 0h0m1 0h0m2 2h0m0 0h0m0-3h0m1-1h0m1 4h0m5 0h0m3-3h0m3 3h0m1-2h0m4 2h0m1-2h0m2 2h0m3-1h0m2-2h0m0 2h0m5-1h0m0 0h0m17 3h0m6-1h0m7-1h0m0 1h0m-110 3h0m3 3h0m3-3h0m0 0h0m2 2h0m1-1h0m1 0h0m0 2h0m2-2h0m0 1h0m4 2h0m1-1h0m1-3h0m4-1h0m3 4h0m3-2h0m4 1h0m1-1h0m1-3h0m5 4h0m1-4h0m4 2h0m0 0h0m1 0h0m5 3h0m0-2h0m3-2h0m5 2h0m3-2h0m0-1h0m1 0h0m1 3h0m7 1h0m2-3h0m3 4h0m0 0h0m2-3h0m6 4h0m2-1h0m1-4h0m0 3h0m3-3h0m1 2h0m4-1h0m2 2h0m1-3h0m1 1h0m0 1h0m2 2h0m0-5h0m3 4h0m0 2h0m1-5h0m1 0h0m2 2h0m2-3h0m3 3h0m1 2h0m0 0h0m4 0h0m0-3h0m1-2h0m1 2h0m-122 10h0m1 0h0m1-5h0m0 1h0m1 3h0m1-3h0m0 1h0m2 2h0m2-1h0m4-2h0m2 4h0m1-2h0m0 1h0m1-1h0m0 2h0m0 0h0m0-1h0m0-5h0m1 2h0m1 4h0m0-3h0m1-1h0m1 1h0m0-1h0m0 2h0m2-4h0m1 6h0m7-1h0m1 0h0m0-2h0m2-2h0m7 0h0m2 5h0m1-2h0m0-1h0m1-1h0m0-2h0m3 5h0m3-3h0m0 3h0m2-4h0m0 1h0m2-1h0m1 3h0m0-3h0m3 0h0m4 2h0m2-2h0m1 1h0m1 3h0m3-2h0m2-2h0m0 3h0m1 1h0m0-4h0m2 3h0m0 1h0m1-5h0m0 6h0m2-3h0m3 1h0m3-2h0m1 1h0m2 0h0m3-2h0m1-1h0m3 5h0m0-2h0m3 0h0m0-2h0m2 2h0m3 1h0m3 2h0m0-2h0m0-1h0m0-2h0m3 5h0m0-2h0m4 0h0m1-4h0m1 4h0m0-3h0m3 4h0m3-1h0m-116 3h0m6 3h0m3-1h0m0 2h0m1-5h0m1 2h0m4 1h0m4-2h0m3 0h0m2 3h0m0-2h0m1 1h0m1 2h0m3-5h0m2 5h0m8-2h0m1-2h0m3 1h0m3 1h0m0 3h0m0-3h0m4 0h0m0 0h0m1-2h0m2 3h0m2 1h0m5 0h0m1 0h0m0-1h0m1 1h0m0-3h0m0 0h0m1-1h0m1 3h0m0 1h0m2 0h0m1-2h0m2 0h0m2-1h0m1 1h0m3-1h0m2 0h0m1-1h0m3 2h0m4 0h0m6-2h0m1 4h0m1 0h0m2-2h0m4-2h0m1 0h0m4 0h0m1 0h0m1 0h0m-92 6h0m2 0h0m9 3h0m1 2h0m2-6h0m0 4h0m4 1h0m2 1h0m5-3h0m1 2h0m5 0h0m1-2h0m0 0h0m4 0h0m2 1h0m0-2h0m0 4h0m4-2h0m1-1h0m5-2h0m0 4h0m2-2h0m0-2h0m1 0h0m1 3h0m7-1h0m0 1h0m1 0h0m3-3h0m6 2h0m0-3h0m7 2h0m0-1h0m-50 5h0m4 1h0m1-1h0m2 2h0m1 0h0m2 0h0m11-2h0m4 1h0m0-1h0" stroke="#061a6c" stroke-width="2.3"/><path d="M561 618h0m14 0h0m5-1h0m8 2h0m5-3h0m15 4h0m10-2h0m4 3h0m-76 0h0m10 5h0m15-4h0m13 5h0m14-5h0m2 2h0m5 1h0m4-2h0m4-1h0m8 1h0m8-1h0m20 1h0m-96 6h0m4 1h0m9-1h0m9 2h0m20 1h0m1-3h0m28 2h0m11-4h0m4 1h0m-62 8h0m1-2h0m13 0h0m1 3h0m21-1h0m-24 3h0" stroke="#17a0fa" stroke-width="2.4"/><path d="M586 554h0m15 0h0m-27 6h0m1 1h0m2-1h0m1-3h0m1 2h0m0-3h0m1 5h0m1-2h0m5-2h0m4-1h0m2 0h0m1 4h0m2 0h0m2-3h0m6 2h0m2-1h0m2 0h0m1 1h0m-37 2h0m1 1h0m0 3h0m2-1h0m2-1h0m2 3h0m3-4h0m4 1h0m0 2h0m7 0h0m2-1h0m1-1h0m1 3h0m6 1h0m5-4h0m1 1h0m0-3h0m2 3h0m5 2h0m3 1h0m-55 3h0m0 1h0m0 1h0m2-1h0m2-1h0m1-2h0m1 4h0m3 1h0m4-3h0m8 3h0m2-4h0m3-2h0m2 0h0m2 5h0m2 0h0m1 0h0m1-3h0m3-1h0m7 1h0m4-1h0m2 4h0m2 0h0m1-5h0m1 2h0m-52 8h0m0 0h0m3-1h0m5 3h0m3-6h0m3 4h0m3-1h0m0-2h0m2 2h0m1 2h0m1 1h0m1-6h0m1 5h0m3-4h0m4 1h0m2 0h0m2 3h0m4-2h0m10 0h0m1-1h0m-57 7h0m4 2h0m6 0h0m1-1h0m0 1h0m4-1h0m1 1h0m4 0h0m3 1h0m0-1h0m2-2h0m1 2h0m14-2h0m4 3h0m6-1h0m1-2h0m3 3h0m0-2h0m1 0h0m0-2h0m3 1h0m1 1h0m2-4h0m2 0h0m2 3h0m1-2h0m1-1h0m0 4h0m-60 5h0m0-2h0m7 4h0m1-2h0m1-3h0m0 1h0m6 3h0m1-4h0m5 1h0m1 0h0m1-1h0m3 3h0m1-1h0m2 2h0m3 1h0m0-3h0m6 2h0m5-3h0m1 2h0m4-1h0m2-1h0m4 1h0m2 2h0m0-3h0m1 4h0m2-5h0m2 4h0m-64 3h0m6-1h0m2 5h0m0-1h0m4-3h0m4 0h0m4 1h0m2-2h0m2 3h0m2-2h0m5 0h0m2 4h0m0-3h0m1-1h0m0-1h0m1 4h0m5 1h0m6-1h0m3-2h0m3 3h0m1-2h0m1-2h0m5-1h0m2 1h0m1 1h0m-60 9h0m1-5h0m1 2h0m4 2h0m1 1h0m5-5h0m1 0h0m2 2h0m8-1h0m0 1h0m0 1h0m11-2h0m2 2h0m0-2h0m1 1h0m9-1h0m0 0h0" stroke="#061a6c" stroke-width="2.3"/><path d="M589 528h0m5-1h0m7 3h0m-11 2h0m12-1h0m3 2h0m-21 7h0m1-2h0m4 3h0m2-4h0m6 4h0m5-2h0m0 4h0m3-4h0m-15 5h0m0 4h0m1-4h0m2 1h0m3 3h0m5 0h0m4-3h0m1-2h0m2 4h0m-20 6h0m0 1h0m10-4h0m2-1h0m3 4h0m6-3h0m25 4h0m-51 2h0m2 4h0m1-5h0m1 1h0m1 3h0m3-2h0m4 2h0m3-3h0m11 2h0m1 0h0m-34 4h0m6 0h0m0 0h0m3 2h0m3-3h0m1 2h0m7 4h0m2-3h0m0-1h0m5-2h0m6 1h0m51 0h0m-94 8h0m23 0h0m3 0h0m2 0h0m3-1h0m1 3h0m0 0h0m10-3h0m3 3h0m40-4h0m-91 6h0m13 1h0m9 0h0m2 0h0m17-2h0m12 5h0m-57 5h0m1-2h0m5-1h0m24 1h0m3-2h0m8 2h0m10-1h0m7 3h0m4-4h0m1 1h0m6 4h0m-62 5h0m23 1h0m1 0h0m7-2h0m4 3h0m3-2h0m5 1h0m6-5h0m2 5h0m-15 3h0m2-2h0m3 5h0m5-2h0m9 0h0m-53 4h0m6-1h0m1 3h0m3 1h0m7-1h0m0 0h0m16 1h0" stroke="#17a0fa" stroke-width="2.4"/><path d="M585 555h0m1-2h0m4 0h0m12 1h0m-28 6h0m0-1h0m1 1h0m2-2h0m4-3h0m2 3h0m3 1h0m2 1h0m2-1h0m2-2h0m3 4h0m4 0h0m-28 3h0m9-3h0m3 3h0m1 2h0m0 0h0m1-1h0m4 1h0m0-3h0m1 1h0m0-2h0m4 5h0m1-2h0m5-1h0m1 0h0m3 3h0m0-1h0m0-1h0m2-1h0m5 3h0m3-2h0m-50 3h0m5 3h0m1 0h0m7-3h0m1 2h0m0-1h0m0 0h0m1-1h0m0 3h0m2 0h0m4-3h0m3-1h0m1 1h0m3 3h0m14-3h0m2 4h0m0-1h0m5 2h0m1-4h0m1-1h0m1 0h0m3 2h0m-62 7h0m8-1h0m1 1h0m8-1h0m1 3h0m1-3h0m8 1h0m2-3h0m3 4h0m3 1h0m3-2h0m2-1h0m0-2h0m4 2h0m3 0h0m1-2h0m4 1h0m8 3h0m6-4h0m-64 7h0m2 4h0m2-2h0m1-3h0m0 4h0m5-1h0m1 0h0m4 0h0m1-3h0m1 4h0m6-4h0m5 1h0m3 2h0m5-2h0m17 1h0m7 2h0m4 1h0m0-2h0m1 1h0m0-4h0m-62 6h0m2 1h0m3-2h0m2 1h0m5 4h0m1-2h0m3 1h0m7-1h0m9 1h0m0-4h0m3 1h0m0 4h0m4-5h0m0 6h0m1 0h0m2-3h0m1 2h0m0-4h0m1 5h0m2-4h0m3 1h0m0-1h0m1 4h0m0-6h0m7 4h0m4 1h0m2-1h0m0 0h0m1-3h0m3 3h0m-70 8h0m10-4h0m13 2h0m3-4h0m3 1h0m1 3h0m0-1h0m0-3h0m8 2h0m2 1h0m0 0h0m2-1h0m3-2h0m8 5h0m4-5h0m3 4h0m-59 3h0m6 0h0m2-1h0m0 3h0m1 0h0m3 0h0m5-1h0m2-1h0m5 2h0m1-1h0m8 2h0m12-1h0m0-2h0m6 0h0" stroke="#061a6c" stroke-width="2.3"/><path d="M593 528h0m-4 8h0m2-2h0m2-1h0m0 3h0m0-1h0m5-1h0m1-1h0m2-2h0m1 2h0m3 3h0m-17 1h0m7 0h0m2 2h0m2 2h0m1-1h0m0-1h0m2 0h0m0 3h0m1 0h0m-17 5h0m2-3h0m0 0h0m0 5h0m1 0h0m1-4h0m9 1h0m-3 7h0m4-2h0m6 1h0m0 2h0m3 0h0m-26 7h0m5-5h0m0 4h0m2-2h0m1-1h0m0 1h0m2 1h0m5-3h0m2 2h0m2 1h0m1-1h0m6 0h0m0 1h0m0-2h0m-40 9h0m15 1h0m15-4h0m1 0h0m3 1h0m3-1h0m2 1h0m0 0h0m1 0h0m-33 6h0m0-2h0m4 3h0m7-2h0m9 1h0m1-1h0m6 3h0m11 0h0m-53 5h0m12-3h0m4 2h0m1-2h0m1 1h0m2 0h0m7 2h0m8-3h0m2 0h0m8 3h0m15 0h0m42 0h0m4-2h0m-107 7h0m18-2h0m2-1h0m1 1h0m1 2h0m18 0h0m25 3h0m-65 3h0m4 3h0m2-4h0m10-1h0m4 3h0m5-4h0m3 3h0m2 1h0m5 2h0m2 0h0m2-5h0m3 5h0m1-1h0m23-4h0m-69 8h0m5-2h0m1 4h0m3 0h0m6-4h0m5 0h0m8 0h0m9 4h0m0-3h0m6 1h0m1 2h0m2-5h0m10 3h0m9-2h0m5 0h0m-64 10h0m1-4h0m6 4h0m2-2h0m2 1h0m4-1h0m2-2h0m6 4h0m1-3h0m1 1h0m6-2h0m14 0h0" stroke="#17a0fa" stroke-width="2.4"/><path d="M584 554h0m3-2h0m3 2h0m0-1h0m9 1h0m2 0h0m1 0h0m-27 6h0m0-1h0m6-2h0m2-2h0m3 0h0m8 5h0m0-4h0m2 2h0m5 1h0m-31 5h0m1-1h0m2 3h0m1 0h0m1 1h0m7-6h0m3 3h0m1 2h0m0-5h0m2 0h0m2 1h0m0-1h0m1 4h0m1-4h0m8 4h0m1 0h0m1 0h0m1 0h0m0-1h0m4-2h0m2 2h0m3 1h0m2-1h0m-52 8h0m6-1h0m11 0h0m5-2h0m0 2h0m1-3h0m7-1h0m8 5h0m6-3h0m1 1h0m1 1h0m4 0h0m2-2h0m3-2h0m0 6h0m-60 4h0m4-1h0m0 2h0m0-2h0m1 3h0m0-6h0m0 5h0m3-1h0m0-3h0m1-1h0m2 3h0m0-2h0m4-1h0m3 1h0m1 0h0m0 1h0m4 3h0m4-1h0m2 2h0m5-5h0m12 3h0m2 1h0m1-4h0m0 4h0m1-3h0m1 1h0m2 3h0m4-6h0m3 2h0m1 0h0m1 0h0m-61 9h0m1-3h0m5 3h0m2 0h0m2-1h0m2 0h0m2 0h0m5-4h0m1 2h0m0 0h0m1 3h0m2-4h0m3 4h0m4-2h0m2 1h0m0-2h0m2 4h0m1-6h0m1 1h0m2 1h0m5 2h0m5 1h0m4 0h0m0-3h0m1 3h0m5 0h0m1-3h0m3-1h0m3 1h0m1 3h0m2-1h0m-66 7h0m0-3h0m1 1h0m1-2h0m0 2h0m1 0h0m1-2h0m6 3h0m3-4h0m1 2h0m0 4h0m1-3h0m1 2h0m7 0h0m6 1h0m1-2h0m3 2h0m1-3h0m0-1h0m1 1h0m3 2h0m5-2h0m7 0h0m3-3h0m1 2h0m1-1h0m1 1h0m-59 6h0m2-2h0m2 1h0m1 4h0m4 0h0m3 0h0m2-4h0m17 0h0m3 1h0m6 4h0m1-3h0m0-3h0m2 2h0m2 0h0m1 3h0m6 0h0m0-5h0m2 1h0m5 1h0m13-1h0m-71 5h0m5 0h0m3 4h0m0-1h0m1-2h0m5 3h0m0-1h0m1-3h0m4 4h0m6-3h0m3 3h0m11-2h0m2-1h0m2 2h0m7-2h0" stroke="#061a6c" stroke-width="2.3"/><path d="M593 530h0m1 1h0m3-1h0m0 0h0m1-1h0m1-1h0m2 2h0m-14 7h0m2-1h0m0-3h0m2 0h0m6 1h0m5 2h0m-6 3h0m-12 6h0m1-2h0m0 4h0m1 1h0m6-4h0m11 1h0m0 0h0m-15 10h0m10-1h0m7 0h0m21-4h0m-46 7h0m3 4h0m3-2h0m7 2h0m1-3h0m0-3h0m3 5h0m1 1h0m1 0h0m4-5h0m0-1h0m0 0h0m2 3h0m2-1h0m-39 8h0m8-1h0m6-3h0m4 2h0m3 2h0m2-2h0m10 1h0m47 1h0m-85 6h0m4-3h0m12 1h0m23 3h0m4-1h0m5-2h0m3-1h0m5 4h0m-60 4h0m1 2h0m1-1h0m4 1h0m6 1h0m8-1h0m2 0h0m1-5h0m3 2h0m2 1h0m14-3h0m4 3h0m4-2h0m0 3h0m7-4h0m-50 10h0m2-1h0m3-3h0m6 2h0m9 2h0m8 0h0m1-4h0m4 1h0m0 2h0m5-1h0m3 2h0m3-4h0m1 2h0m-45 5h0m15 1h0m20 4h0m1-3h0m21 3h0m0-5h0m-58 7h0m2 1h0m14 0h0m4 2h0m15-5h0m7 3h0m8 2h0m4-2h0m4 0h0m-50 7h0m2-2h0m7 0h0m8 1h0m2 2h0" stroke="#17a0fa" stroke-width="2.4"/><path d="M586 554h0m4 0h0m2-1h0m10 1h0m-25 6h0m3-4h0m4 5h0m2-5h0m1 4h0m0 1h0m6-1h0m2-3h0m7 1h0m1-3h0m-37 12h0m0 0h0m4-2h0m0 0h0m13 1h0m5-4h0m1 2h0m12 2h0m1-3h0m2 3h0m2 1h0m2-1h0m0 1h0m2-3h0m-46 4h0m4 3h0m3 0h0m2-3h0m4 5h0m3-1h0m1-4h0m2 3h0m4-3h0m0 1h0m1-2h0m2 1h0m0-1h0m2 1h0m4 4h0m0-3h0m4 1h0m6-2h0m0 0h0m3 1h0m1 0h0m3 0h0m3-2h0m-61 11h0m6-3h0m1-1h0m6 5h0m5-5h0m1 3h0m1 0h0m2 1h0m1-1h0m2 0h0m0 0h0m9 2h0m2-1h0m3-4h0m3 0h0m5 3h0m1 0h0m0 1h0m1 0h0m0-3h0m2-1h0m2 3h0m5-1h0m9 0h0m-65 5h0m1 2h0m2-2h0m0 2h0m5 2h0m1-4h0m7 1h0m1-2h0m6 4h0m1-3h0m6 3h0m2-1h0m9 1h0m2-2h0m2 3h0m2-2h0m4 1h0m5 0h0m3-1h0m1 0h0m1-2h0m2 4h0m0-1h0m2-1h0m3 2h0m0-2h0m1 0h0m0 0h0m-66 3h0m2 2h0m2-3h0m2 2h0m4 1h0m0-2h0m1 3h0m1 0h0m0-4h0m5 6h0m3-3h0m3-1h0m2 2h0m4-1h0m5-1h0m3 1h0m1-1h0m3 1h0m0 1h0m4-4h0m1 1h0m0 3h0m5-3h0m6 1h0m1 1h0m1-3h0m5 4h0m1-4h0m1 3h0m1 0h0m0 2h0m1 0h0m-71 5h0m3-2h0m1 2h0m4 0h0m1 1h0m1 0h0m4 1h0m1-5h0m4 1h0m4 2h0m1 0h0m4 2h0m2-1h0m5-5h0m1 3h0m4 3h0m3 0h0m6-3h0m1 1h0m1-1h0m0-2h0m2 5h0m10-4h0m4-1h0m3-1h0m1 0h0m-67 8h0m5 0h0m0 3h0m1-2h0m0 1h0m2-3h0m1 1h0m6 2h0m6-2h0m1 2h0m6-3h0m6 4h0m5-3h0m4 1h0m2-2h0" stroke="#061a6c" stroke-width="2.3"/><path d="M592 527h0m4 1h0m2 0h0m-10 6h0m8 2h0m0-3h0m4 3h0m1-3h0m-16 7h0m8 2h0m1-5h0m4 5h0m2 1h0m21-2h0m-35 7h0m3-1h0m4 0h0m14-1h0m-20 7h0m3 2h0m0-1h0m4 1h0m1-2h0m6 1h0m5-2h0m3 0h0m-29 5h0m5 1h0m4-1h0m2 2h0m2-4h0m1 5h0m4-1h0m0 2h0m1-5h0m0 1h0m1-1h0m0 1h0m8 2h0m1-1h0m3 3h0m-45 2h0m3 3h0m18-3h0m7 0h0m1-2h0m7 6h0m2-1h0m5-1h0m11-2h0m6-1h0m-63 7h0m15 1h0m0 2h0m9-3h0m5-1h0m15 4h0m-44 3h0m4-1h0m32 3h0m0 0h0m17 0h0m-53 3h0m2 3h0m0 1h0m11 0h0m3-3h0m7 1h0m0 3h0m31-1h0m1 0h0m1-2h0m4 0h0m1 2h0m2 1h0m-64 5h0m5-4h0m1 1h0m15-1h0m8 1h0m9-1h0m1 4h0m3 0h0m7-1h0m4 1h0m11 0h0m-69 4h0m1-2h0m5 3h0m0-3h0m5 1h0m7-1h0m10 1h0m1 3h0m25-1h0m-51 7h0m4-4h0m8 3h0m11 1h0m4-4h0m0 0h0m3 0h0m2 0h0m0 2h0m9 0h0" stroke="#17a0fa" stroke-width="2.4"/><path d="M583 553h0m1 0h0m3 1h0m8 0h0m-19 6h0m4 0h0m1 0h0m0 0h0m3-1h0m2 1h0m2-2h0m2-2h0m12 3h0m1 1h0m2-2h0m2-2h0m4 4h0m-44 5h0m3-3h0m4 2h0m2 1h0m3 1h0m2-5h0m0 2h0m3 2h0m4 1h0m1-1h0m2 1h0m9 0h0m4-3h0m0 4h0m5 0h0m1-2h0m-46 3h0m0 2h0m0 3h0m6-2h0m8-3h0m7 0h0m1 2h0m0 1h0m1 0h0m1-1h0m22-2h0m1 1h0m4 3h0m1 0h0m-54 2h0m4 3h0m2-3h0m7 2h0m1-2h0m6 0h0m1 2h0m2-2h0m7 2h0m0 0h0m1 3h0m5-5h0m1-1h0m4 5h0m3 1h0m0-1h0m10-5h0m1 3h0m5 1h0m1-1h0m-64 8h0m1 0h0m1-3h0m0-1h0m0-1h0m2 1h0m9 4h0m1-2h0m0 2h0m1 0h0m2-2h0m6 2h0m11-2h0m2-2h0m2 5h0m4-3h0m1 2h0m1-1h0m3-2h0m1 4h0m6-6h0m3 6h0m1 0h0m6-6h0m-64 12h0m1-1h0m4-2h0m0 1h0m2 2h0m5-3h0m4 2h0m2-3h0m3 0h0m1-1h0m1 0h0m3 3h0m0-4h0m17 1h0m8 0h0m4 2h0m3-1h0m6 3h0m2-1h0m0 0h0m2-3h0m-68 9h0m2 0h0m1-3h0m2 3h0m0 1h0m11 0h0m3-3h0m1 4h0m0-1h0m4 0h0m8-1h0m1-4h0m9 5h0m1 0h0m1-5h0m2 6h0m7-3h0m2 0h0m5 1h0m4-2h0m-64 7h0m2 0h0m3 0h0m6 0h0m3-2h0m4 0h0m4 2h0m0-1h0m1 3h0m1-5h0m2 1h0m11-1h0m1 2h0m2 3h0m1-1h0m1-2h0m3-2h0m3 1h0m2 0h0" stroke="#061a6c" stroke-width="2.3"/><path d="M590 530h0m4-1h0m-6 4h0m1-1h0m2-1h0m2 2h0m9-2h0m3 1h0m-18 11h0m5-4h0m7 2h0m1-2h0m2-2h0m1 5h0m1 1h0m0-2h0m2-3h0m-21 11h0m2-2h0m1 2h0m2-5h0m0 1h0m1-1h0m0 4h0m0-4h0m7 3h0m7 0h0m-20 8h0m3-1h0m1-5h0m2 0h0m5 6h0m4-4h0m5-1h0m-25 11h0m12-3h0m0 1h0m10-3h0m2 3h0m3-3h0m-39 10h0m3 0h0m5-3h0m4 2h0m5-1h0m0-2h0m2-1h0m0 3h0m3 1h0m0 0h0m7-4h0m3 1h0m1 1h0m-37 8h0m4 0h0m3-2h0m1 2h0m7-2h0m3-1h0m4 2h0m20-1h0m0 3h0m1-5h0m6 6h0m1-4h0m2 4h0m-58 2h0m4 1h0m4 0h0m4 1h0m8 2h0m17-3h0m10-1h0m10-2h0m0 3h0m-50 9h0m6-3h0m0 2h0m2-1h0m0-1h0m1-1h0m2 1h0m1 1h0m4-1h0m2 1h0m14-1h0m26-2h0m-66 10h0m0-1h0m1-1h0m1-2h0m0 4h0m1-1h0m1 1h0m11-3h0m0-2h0m21 3h0m9 2h0m0 1h0m13-2h0m-52 2h0m2 5h0m0 1h0m6 0h0m2-4h0m2-1h0m5 0h0m4 3h0m11-3h0m12 3h0m3 0h0m2-3h0m6 0h0m5 0h0m0-1h0m-62 10h0m4-4h0m0 0h0m11 5h0m6-3h0m4 3h0m5-2h0m4-3h0m1 0h0m4 4h0m0-3h0m1 3h0m2-4h0m2 1h0m5 0h0" stroke="#17a0fa" stroke-width="2.4"/><path d="M503.7 494.5C503.03 500.42 503.37 519.08 503.5 530C503.63 540.92 503.98 550.35 504.5 560C505.02 569.65 504.33 581.32 506.6 587.9C508.87 594.48 512 595.65 518.1 599.5C524.2 603.35 534.22 608.43 543.2 611C552.18 613.57 562.53 614.23 572 614.9C581.47 615.57 592.3 615.32 600 615C607.7 614.68 611 613.98 618.2 613C625.4 612.02 636.13 611.35 643.2 609.1C650.27 606.85 656.1 603.03 660.6 599.5C665.1 595.97 668.12 590.95 670.2 587.9C672.28 584.85 673.42 582.65 673.1 581.2C672.78 579.75 672.65 578.73 668.3 579.2C663.95 579.67 655.35 581.9 647 584C638.65 586.1 627.82 589.87 618.2 591.8C608.58 593.73 598.6 595.28 589.3 595.6C580 595.92 569.45 594.98 562.4 593.7C555.35 592.42 551.82 590.8 547 587.9C542.18 585 537.35 582.08 533.5 576.3C529.65 570.52 527.1 561.87 523.9 553.2C520.7 544.53 517.03 534.08 514.3 524.3C511.57 514.52 509.27 499.47 507.5 494.5C505.73 489.53 504.37 488.58 503.7 494.5Z" fill="none" stroke="#1b1b1b" stroke-width="2.6" stroke-dasharray="5.2 3.4" stroke-linecap="butt"/><path d="M555.7 547.4C556.33 541.93 557.78 533.97 560.5 528.2C563.22 522.43 567.05 516.67 572 512.8C576.95 508.93 584.75 505.8 590.2 505C595.65 504.2 600.37 505.1 604.7 508C609.03 510.9 612.98 517.43 616.2 522.4C619.42 527.37 622.07 532.67 624 537.8C625.93 542.93 627.48 548.7 627.8 553.2C628.12 557.7 628.15 561.58 625.9 564.8C623.65 568.02 620.4 570.25 614.3 572.5C608.2 574.75 595.68 577.67 589.3 578.3C582.92 578.93 580.15 577.58 576 576.3C571.85 575.02 567.62 573.15 564.4 570.6C561.18 568.05 558.15 564.87 556.7 561C555.25 557.13 555.07 552.87 555.7 547.4Z" fill="none" stroke="#1b1b1b" stroke-width="2.6" stroke-dasharray="5.2 3.4" stroke-linecap="butt"/><text x="508.6" y="478.9" font-size="10.7" font-weight="bold">G1/</text><text x="508.6" y="490.1" font-size="10.7" font-weight="bold">High Vim</text><text x="590.7" y="490.1" font-size="10.7" text-anchor="middle" font-weight="bold">G2/M</text><text x="590.7" y="500.9" font-size="10.7" text-anchor="middle" font-weight="bold">High Vim</text><circle cx="635.6" cy="494.6" r="3.7" fill="#061a6c"/><text x="640.8" y="497" font-size="9.6">untreated</text><circle cx="635.6" cy="504.7" r="3.7" fill="#17a0fa"/><text x="640.8" y="507.4" font-size="9.6">day 3</text><path d="M26 734L119.5 718.9L210.1 737L200 872.5L120.8 929.8L37.5 870.5Z" fill="#e5ecf6"/><path d="M67.14 727.36L72.92 846.3M93.32 723.13L95.46 830.9M27.14 747.5L119.35 728.45M30.42 786.5L118.92 756.05M33.37 821.5L118.54 780.82M36.15 854.5L118.18 804.18M146.68 724.33L142.6 832.6M173.86 729.76L167.2 849.7M119.35 728.45L209.1 750.4M118.92 756.05L206.22 789.12M118.54 780.82L203.63 823.86M118.18 804.18L201.18 856.62M145.06 834.31L64.99 890.07M91.43 833.65L173.86 891.41M177.04 856.54L97.48 913.2M60.04 855.1L142.98 913.76M119.5 718.9L118 815.5M37.5 870.5L118 815.5L200 872.5" stroke="#fff" stroke-width="0.9" fill="none" stroke-linecap="butt"/><text x="25.5" y="750.7" font-size="9" text-anchor="middle">30</text><text x="25.5" y="790.2" font-size="9" text-anchor="middle">20</text><text x="25.5" y="825.5" font-size="9" text-anchor="middle">10</text><text x="25.5" y="858.4" font-size="9" text-anchor="middle">0</text><text transform="translate(17.6 806) rotate(-90)" font-size="9.6" text-anchor="middle">Vim (RFI)</text><text x="42.7" y="911.6" font-size="9.3">PHATE2</text><text x="161.2" y="911.6" font-size="9.3">PHATE1</text><defs><path id="q162" d="M193 804h0m-10 4h0m12 5h0m1-3h0m-19 4h0m-3 14h0m12 3h0m0-5h0m-36 11h0m24-5h0m6 0h0m7 1h0m-55 10h0m10 0h0m13-4h0m3 0h0m5 2h0m1-1h0m4 2h0m17-1h0m7-2h0m-63 9h0m15-2h0m3 0h0m0-2h0m9-1h0m4 3h0m2 1h0m0-1h0m16 0h0m13-3h0m-105 10h0m9 0h0m4 2h0m8 0h0m27-3h0m5 0h0m5 0h0m10 0h0m1-2h0m9 0h0m9 1h0m2 3h0m5-3h0m1 4h0m2-4h0m1-2h0m4 5h0m-134 6h0m5-4h0m0 4h0m15-2h0m1-2h0m13 2h0m10-3h0m12 5h0m0-1h0m4-2h0m25-1h0m12 5h0m3-4h0m3 2h0m1 1h0m0 0h0m5 0h0m-117 4h0m18-2h0m9 5h0m5-1h0m10-3h0m21 2h0m24-1h0m10 3h0m9-2h0m2-2h0m0 1h0m1 0h0m0-1h0m21 1h0m6 2h0m3-4h0m-127 6h0m3 4h0m15 0h0m17 0h0m3-2h0m19-3h0m4 3h0m9 0h0m5 1h0m3-2h0m29 0h0m14 4h0m0-1h0m-97 3h0m5 2h0m5-2h0m23 1h0m1 0h0m21 2h0m3-4h0m1 1h0m9 0h0m12 4h0m11-2h0m3-3h0m1 3h0m8-2h0m-107 8h0m2-2h0m3 1h0m46-2h0m1 1h0m5 3h0m9-3h0m32-2h0m-81 6h0m36 0h0m8 3h0m0 0h0m8-2h0"/></defs><use href="#q162" stroke="#6e6e6e" stroke-width="2.8"/><use href="#q162" stroke="#c1ddec" stroke-width="2"/><defs><path id="q163" d="M191 800h0m-18 4h0m2 2h0m4-3h0m15 1h0m2 1h0m-14 7h0m2-5h0m11 0h0m-26 9h0m11-1h0m-9 7h0m6 0h0m15-3h0m3 3h0m-35 5h0m16 0h0m12 0h0m6 2h0m-33 6h0m15-3h0m1 1h0m4 3h0m1-4h0m2 1h0m5 1h0m0-2h0m1 0h0m4 2h0m1 0h0m-65 8h0m11-2h0m2-2h0m17 3h0m5-3h0m3 4h0m3-1h0m7 1h0m0-3h0m1 2h0m2-2h0m5-2h0m0 4h0m-72 7h0m6-3h0m9 0h0m12-1h0m4-1h0m10 2h0m8 0h0m13 0h0m3 3h0m3-1h0m3-4h0m0 2h0m8 1h0m-129 7h0m5 0h0m2 2h0m7-1h0m10-3h0m8-1h0m4 3h0m13-3h0m0 4h0m1 0h0m3 0h0m2 0h0m0-1h0m0 1h0m6-2h0m3 1h0m6-3h0m16 4h0m3-3h0m7 0h0m3-1h0m0 2h0m3-1h0m1 0h0m5 1h0m2-1h0m1 1h0m4 3h0m10-1h0m6-3h0m-139 9h0m10-4h0m1 3h0m14 0h0m3 2h0m2-1h0m3-3h0m3 2h0m7 2h0m3-6h0m12 0h0m1 4h0m4-3h0m26 2h0m10 0h0m0 0h0m4 2h0m16 0h0m6 0h0m4-2h0m6 2h0m-145 4h0m7-1h0m1 0h0m10 1h0m1-2h0m2 2h0m14 0h0m3-1h0m4-2h0m15 1h0m19 2h0m8 3h0m3-3h0m4-2h0m1 2h0m15-2h0m5 4h0m21-4h0m1 4h0m7 1h0m-131 6h0m15-1h0m10-1h0m2 0h0m16-1h0m3 2h0m16-5h0m3 3h0m3-2h0m9 3h0m4-2h0m11 1h0m1 3h0m6-1h0m29-5h0m0 0h0m-125 6h0m8 6h0m4-2h0m8-3h0m2 2h0m13 2h0m6-2h0m2-1h0m7 4h0m4-3h0m12 3h0m8-4h0m5 3h0m8-4h0m2 3h0m9-4h0m1 6h0m14-2h0m10 0h0m3-2h0m-114 7h0m26 0h0m12 2h0m2-5h0m16 3h0m1-1h0m6-1h0m9 1h0m7 2h0m7 1h0m2-1h0m1-4h0m-64 6h0m6 2h0m10 0h0m5-1h0m8-1h0m19 1h0"/></defs><use href="#q163" stroke="#6e6e6e" stroke-width="2.8"/><use href="#q163" stroke="#e7f0f4" stroke-width="2"/><defs><path id="q164" d="M195 802h0m-20 8h0m21 0h0m-5 9h0m-15 1h0m9 4h0m8-5h0m-26 7h0m20 5h0m8-4h0m-39 10h0m25-1h0m6-2h0m8 0h0m-50 8h0m-75 11h0m21-2h0m20-2h0m24 2h0m24 1h0m-108 6h0m15 1h0m52-1h0m35 1h0m-102 4h0m13 1h0m66 2h0m13-1h0m32 0h0m14-3h0m-144 5h0m61 5h0m14 0h0m20 1h0m12-2h0m8 1h0m9-4h0m-99 7h0m5 3h0m14-2h0m13 0h0m16-3h0m24 4h0m4 0h0m1 0h0m10 0h0m20 0h0m-48 4h0m16 2h0m20-1h0"/></defs><use href="#q164" stroke="#6e6e6e" stroke-width="2.8"/><use href="#q164" stroke="#faebe3" stroke-width="2"/><path d="M158 839h0m18 1h0m11 0h0m-54 7h0m23 1h0m7-2h0m20 3h0m-100 4h0m20-2h0m1 4h0m15-4h0m1 1h0m0-3h0m4 2h0m6 1h0m1-1h0m8 1h0m5-2h0m1 1h0m5 1h0m9-2h0m2 0h0m4 3h0m15-1h0m3-2h0m-122 9h0m22-1h0m14-1h0m17-1h0m13 0h0m10 4h0m20-5h0m6 1h0m7 2h0m15 2h0m-105 5h0m40 1h0m7-4h0m0 5h0m0-2h0m5 0h0m25-2h0m22-1h0" stroke="#333333" stroke-width="1.7"/><defs><path id="q165" d="M174 801h0m19 22h0m-19 4h0m-18 8h0m25-1h0m4 1h0m2 1h0m2 1h0m0-4h0m0 3h0m-69 7h0m9 0h0m25-2h0m9 1h0m15-2h0m10-3h0m-77 9h0m1 0h0m2-1h0m5 2h0m5-2h0m11 3h0m9-1h0m22-1h0m5 0h0m9-3h0m-101 8h0m6 4h0m2-3h0m11 2h0m0-5h0m16 4h0m5-1h0m16 3h0m22-1h0m1-5h0m4 1h0m3 0h0m4 3h0m2-1h0m2-1h0m7 3h0m3-1h0m6-3h0m-147 9h0m9-2h0m3 3h0m6-4h0m4 4h0m22-4h0m2 3h0m0-1h0m8 3h0m4-2h0m3 0h0m18 0h0m23 1h0m1-3h0m17 3h0m4 0h0m13-2h0m15-2h0m-142 10h0m10 0h0m15 1h0m35-1h0m1-3h0m8 1h0m7-1h0m1-1h0m1 0h0m19 3h0m15-1h0m13 0h0m1-3h0m8 5h0m-138 3h0m3 1h0m8 1h0m9 0h0m2-4h0m15 1h0m3 3h0m5-1h0m11 2h0m17-3h0m10-1h0m4 0h0m8 4h0m1-5h0m0 6h0m2-1h0m9-5h0m19 5h0m3-1h0m-114 2h0m5 3h0m5-2h0m2 0h0m9 0h0m3 4h0m6-1h0m9-4h0m1 5h0m0-4h0m7-1h0m9 6h0m12 0h0m1-1h0m2-1h0m12 0h0m0-1h0m1-2h0m4 4h0m2-3h0m1-2h0m1 3h0m4 0h0m6 3h0m7-4h0m4 1h0m-84 6h0m5 1h0m1 1h0m3-3h0m4 3h0m0-5h0m14 1h0m14 3h0m16 1h0m6 1h0m-42 5h0m0 0h0m1-1h0m8-3h0"/></defs><use href="#q165" stroke="#6e6e6e" stroke-width="2.8"/><use href="#q165" stroke="#c1ddec" stroke-width="2"/><defs><path id="q166" d="M192 788h0m0 1h0m-7 6h0m-2 15h0m1-1h0m10 4h0m-11 5h0m-20 6h0m4 7h0m15-1h0m3 0h0m11-3h0m-42 8h0m4 1h0m8-2h0m6 2h0m0-1h0m5 0h0m2 1h0m3-3h0m6 0h0m2 3h0m-50 2h0m2 1h0m2-1h0m3 4h0m3-1h0m2 0h0m18-2h0m1-1h0m2 0h0m1 5h0m2-5h0m-73 9h0m17 0h0m12-2h0m34 0h0m14-2h0m1 6h0m9-4h0m3-1h0m-108 9h0m3-1h0m3-2h0m3 5h0m5-1h0m0-4h0m1 5h0m25 0h0m17-5h0m5 2h0m7-1h0m4 4h0m0-3h0m17 2h0m1-3h0m-133 7h0m5 2h0m3-1h0m4 2h0m5-1h0m19 1h0m3-3h0m6-1h0m1-1h0m7 2h0m3 1h0m24-1h0m5 0h0m15 1h0m1 1h0m2 0h0m0 0h0m7-4h0m10 1h0m5 0h0m1 0h0m5 2h0m8-1h0m1 0h0m2-1h0m1 2h0m1 1h0m1-4h0m1 2h0m2 0h0m-144 4h0m6-1h0m7 6h0m2-3h0m15-2h0m20 1h0m1 0h0m22 0h0m13-1h0m11 1h0m5-2h0m3 2h0m1-1h0m1 0h0m5 2h0m6-3h0m9 4h0m0-1h0m1 1h0m2 0h0m7-2h0m4 0h0m6-1h0m-141 8h0m3-1h0m3 2h0m6-1h0m4 1h0m2-2h0m1-1h0m9 4h0m4 1h0m2-5h0m15 4h0m11 0h0m9-4h0m4 1h0m0 0h0m7 3h0m4-1h0m1 2h0m1 0h0m3-1h0m1-4h0m2 1h0m1 3h0m0-2h0m4 2h0m4-4h0m1 0h0m7 2h0m1 2h0m11-4h0m5 4h0m4-4h0m5 3h0m-131 3h0m10 1h0m8 3h0m1-1h0m14-3h0m0 0h0m8 1h0m15 3h0m9-4h0m1 1h0m18 3h0m1-3h0m6 4h0m1 0h0m1-2h0m23-2h0m5 2h0m-110 4h0m2 0h0m1 1h0m11-1h0m19-1h0m2 2h0m5-3h0m15 0h0m2 3h0m2-3h0m5 4h0m7-2h0m3 2h0m2-4h0m3 1h0m4 2h0m9-3h0m12 1h0m-62 7h0m1 2h0m9-2h0m4 1h0m2 0h0m14-2h0m3 2h0m11-2h0"/></defs><use href="#q166" stroke="#6e6e6e" stroke-width="2.8"/><use href="#q166" stroke="#e7f0f4" stroke-width="2"/><defs><path id="q167" d="M188 788h0m-19 22h0m4 9h0m11-3h0m-16 7h0m19 4h0m5 3h0m3 5h0m-1 4h0m-59 6h0m21 1h0m2-2h0m0 0h0m-101 10h0m87-1h0m10 0h0m8-1h0m-107 4h0m53 0h0m14 4h0m19-3h0m4 2h0m36-1h0m10-1h0m-127 10h0m28 0h0m26-5h0m10-1h0m23 3h0m16-2h0m14 3h0m-130 5h0m3 0h0m41 2h0m29-2h0m9-1h0m5 3h0m-38 6h0m1-4h0m20 3h0m62-2h0m-32 8h0m1 1h0m-55 2h0"/></defs><use href="#q167" stroke="#6e6e6e" stroke-width="2.8"/><use href="#q167" stroke="#faebe3" stroke-width="2"/><path d="M141 842h0m17-4h0m1 5h0m29 0h0m-62 0h0m2 0h0m15 4h0m-77 7h0m40-3h0m3 0h0m19 2h0m19 1h0m39-1h0m-128 5h0m38 2h0m3-2h0m7 0h0m10 1h0m14-4h0m8 3h0m13 1h0m7-1h0m21 0h0m-126 5h0m2 2h0m27-2h0m26 0h0m1 3h0m43-4h0m15 3h0m2-2h0m24 1h0" stroke="#333333" stroke-width="1.7"/><defs><path id="q168" d="M191 795h0m4 3h0m-2 4h0m1 4h0m-16 4h0m7 1h0m1 0h0m-39 26h0m15-2h0m2 1h0m1-2h0m1-1h0m4-1h0m12 2h0m5-1h0m2 0h0m1 4h0m-35 1h0m3 5h0m1-1h0m17-2h0m1-2h0m1 2h0m2 0h0m-86 9h0m18-1h0m4-3h0m9-1h0m13 4h0m11-1h0m27 2h0m8-2h0m-110 7h0m2-1h0m12-2h0m36 1h0m28-3h0m20 3h0m6-2h0m-120 7h0m6 3h0m8 0h0m8-1h0m9 0h0m1-3h0m3 4h0m0-1h0m9 0h0m8-2h0m2 1h0m14 1h0m4-1h0m9 2h0m10 0h0m0-5h0m6 3h0m1-1h0m10 2h0m6-3h0m4 3h0m8-1h0m-137 5h0m3-1h0m9-1h0m2 2h0m27 3h0m20 1h0m1-3h0m4 0h0m9 0h0m14 1h0m0-4h0m5 2h0m11-1h0m8 3h0m2 0h0m9-4h0m2 5h0m9 0h0m1-2h0m-130 8h0m5-5h0m7 5h0m2 0h0m9-1h0m1-2h0m6 1h0m19 2h0m9-5h0m2 3h0m8 1h0m34-1h0m3 1h0m10 2h0m5-3h0m2 1h0m4 0h0m2 1h0m3-4h0m-130 5h0m4 2h0m6 3h0m13 1h0m6-6h0m2 5h0m16 0h0m6-1h0m11 1h0m1-1h0m11-3h0m26 3h0m2-3h0m12 4h0m3 1h0m4-3h0m0 1h0m4-3h0m0 1h0m2 0h0m-107 6h0m9 3h0m6-2h0m8-1h0m8 0h0m4 1h0m7 0h0m2 2h0m15-4h0m20 1h0m-47 5h0m14 1h0"/></defs><use href="#q168" stroke="#6e6e6e" stroke-width="2.8"/><use href="#q168" stroke="#c1ddec" stroke-width="2"/><defs><path id="q169" d="M185 796h0m-7 6h0m16 4h0m-26 6h0m2 2h0m8 4h0m11-2h0m-19 8h0m10-2h0m1-2h0m7 5h0m7-2h0m-33 8h0m25 0h0m2-3h0m-40 8h0m3 0h0m11 0h0m17-5h0m2 4h0m4-4h0m-61 12h0m3-3h0m21-2h0m10 2h0m2 2h0m4-5h0m0 4h0m1 1h0m7 0h0m10-4h0m6 2h0m5 2h0m-69 1h0m5 3h0m27 0h0m1-2h0m5 1h0m2 4h0m3 0h0m7-2h0m12 2h0m1-2h0m-99 7h0m13-4h0m6 1h0m0-1h0m2 3h0m1-3h0m15 1h0m22 2h0m2 1h0m16 1h0m3-1h0m11-4h0m4 4h0m2 1h0m-145 0h0m13 6h0m0-1h0m8-5h0m0 3h0m9-1h0m12 1h0m0 2h0m8-1h0m1 1h0m2-1h0m10-2h0m4 2h0m9-4h0m6 4h0m20-3h0m2 0h0m1 3h0m2 1h0m8-1h0m2 2h0m1-2h0m7 0h0m1-2h0m13 4h0m3-2h0m0 2h0m3-4h0m5-1h0m-142 8h0m13-2h0m27 1h0m6 0h0m5-2h0m2 3h0m23-2h0m9 1h0m1 1h0m2-2h0m8 0h0m1 0h0m1 3h0m1-3h0m7 0h0m1 0h0m2 5h0m9-6h0m0 6h0m4-5h0m10 4h0m8-1h0m-134 7h0m13-2h0m0 3h0m3-6h0m1 1h0m7 4h0m2 0h0m6-3h0m1 1h0m3 3h0m10-5h0m0 1h0m4 4h0m5-6h0m9 1h0m1 4h0m1-2h0m12 0h0m3-3h0m0 0h0m17 1h0m4 5h0m3-4h0m2 1h0m1-3h0m0 3h0m0 2h0m6-1h0m20-3h0m-121 8h0m8-1h0m1 4h0m13-4h0m1-1h0m8 5h0m8-1h0m2 0h0m5-3h0m9 2h0m13 1h0m4-3h0m9-2h0m3 4h0m1 0h0m-76 4h0m3 0h0m2 3h0m3-1h0m6-2h0m7-1h0m7 5h0m2-3h0m5 3h0m30-1h0m6-3h0m0 0h0m11 3h0m16-5h0m1 0h0m-47 9h0m16-2h0"/></defs><use href="#q169" stroke="#6e6e6e" stroke-width="2.8"/><use href="#q169" stroke="#e7f0f4" stroke-width="2"/><defs><path id="q170" d="M185 812h0m-12 4h0m16 0h0m2 5h0m1 13h0m-63 8h0m21 1h0m17-3h0m14 2h0m-65 1h0m15 3h0m20-1h0m39 2h0m-119 7h0m7 0h0m27 0h0m23-3h0m48 0h0m-104 8h0m5-1h0m7 0h0m14 1h0m13-2h0m27-1h0m28 2h0m9 2h0m-120 4h0m3 2h0m2-4h0m5-1h0m13 1h0m35-1h0m60 5h0m4 1h0m17-5h0m-109 6h0m26 2h0m56 1h0m-82 6h0m19 2h0m9-1h0m39-5h0m1 1h0m18 0h0m-19 8h0m6-2h0m4 4h0m-59 3h0m13-1h0"/></defs><use href="#q170" stroke="#6e6e6e" stroke-width="2.8"/><use href="#q170" stroke="#faebe3" stroke-width="2"/><path d="M186 835h0m4 1h0m-31 6h0m5-1h0m12 1h0m1-3h0m-31 10h0m7-4h0m22 0h0m2 3h0m1-3h0m-92 8h0m2-1h0m10 0h0m6-2h0m2 4h0m7-3h0m42 2h0m0-1h0m12 0h0m-40 4h0m8 1h0m2 1h0m16 2h0m19-3h0m1 4h0m4-5h0m2-1h0m-130 7h0m4 2h0m3 1h0m6-2h0m0 2h0m1-2h0m6-1h0m9 1h0m4 2h0m15-1h0m13 3h0m11-3h0m7 2h0m39 1h0m22 0h0m-105 0h0m61 0h0m11 0h0m27 0h0" stroke="#333333" stroke-width="1.7"/><defs><path id="q171" d="M173 804h0m18 17h0m-1 7h0m-14 8h0m1-5h0m6 2h0m1 1h0m-53 6h0m27 2h0m8 1h0m5-4h0m-58 6h0m20 2h0m5-2h0m3 3h0m4-2h0m5 0h0m29-1h0m6 4h0m-121 6h0m7-3h0m5 0h0m2 1h0m2 0h0m5 0h0m7 1h0m2-3h0m5-1h0m4 2h0m4-1h0m1 0h0m8 1h0m7 0h0m13 0h0m3-2h0m17-1h0m6 1h0m18 4h0m7-4h0m-142 8h0m0-2h0m7 3h0m9-2h0m12 2h0m17 0h0m4-2h0m0 1h0m7 0h0m6 3h0m0-5h0m3 4h0m1-3h0m23 2h0m3-3h0m29 1h0m23-1h0m0 0h0m-131 9h0m1 0h0m24 1h0m7 1h0m8-4h0m29-1h0m5 0h0m12 5h0m2-5h0m1 2h0m17 2h0m8-2h0m8 0h0m5 0h0m5 2h0m-135 2h0m4 4h0m7-1h0m7-1h0m4 3h0m8-6h0m3 6h0m9-2h0m1-3h0m10 0h0m7 4h0m9-1h0m3-3h0m1 1h0m2 1h0m13 2h0m5-1h0m2-1h0m1 3h0m32-6h0m-125 8h0m17-1h0m11 2h0m1 2h0m0-4h0m2 1h0m6-1h0m13-1h0m0 5h0m9-2h0m3-3h0m5 3h0m17 2h0m1-5h0m3 0h0m0 1h0m9-1h0m0 0h0m1 2h0m3 4h0m0-3h0m7-1h0m3 1h0m2-2h0m9 2h0m-109 3h0m16 0h0m1 5h0m3-3h0m4 0h0m9 1h0m5 2h0m44-1h0m0-1h0m-50 6h0m9 1h0m13-3h0m4 0h0m10 0h0m1 1h0"/></defs><use href="#q171" stroke="#6e6e6e" stroke-width="2.8"/><use href="#q171" stroke="#c1ddec" stroke-width="2"/><defs><path id="q172" d="M188 787h0m-6 8h0m4-5h0m-9 8h0m-3 7h0m8-2h0m-1 8h0m11-4h0m-16 10h0m0 0h0m17-3h0m-23 11h0m15-3h0m10-1h0m-34 8h0m16 1h0m3 0h0m-21 4h0m15-2h0m7 1h0m0-2h0m4 3h0m-65 9h0m5-2h0m8 1h0m9-2h0m16 3h0m11-5h0m4 2h0m20 2h0m-90 5h0m16-2h0m4 2h0m1-3h0m5 1h0m8 2h0m0-1h0m6 0h0m6 1h0m1-2h0m2 3h0m2-2h0m3 3h0m11-2h0m1-1h0m4 0h0m2 0h0m2 2h0m4-4h0m2 4h0m-89 6h0m7-4h0m5 1h0m6-2h0m9 1h0m10 1h0m3-1h0m6 1h0m3 1h0m14-2h0m2 0h0m2 0h0m0 3h0m2-3h0m2 0h0m15 5h0m7-6h0m4 5h0m2-4h0m2-1h0m-149 10h0m11 2h0m15-4h0m2 0h0m1-2h0m8 4h0m13-1h0m18 0h0m2 2h0m24-3h0m0-2h0m2 5h0m2-2h0m4-1h0m13 0h0m1 2h0m3-1h0m-117 4h0m4 2h0m12 2h0m7-4h0m4 0h0m1 3h0m32-2h0m4 3h0m1-3h0m9 4h0m13-2h0m1-1h0m5 3h0m4-1h0m3-4h0m2 0h0m16 2h0m14-1h0m10-2h0m2 5h0m-138 4h0m3-1h0m2 0h0m2 1h0m3 0h0m5 0h0m3 2h0m8-2h0m6 0h0m5 0h0m5-2h0m12 0h0m14 0h0m2 0h0m3 4h0m3-1h0m8 0h0m15 1h0m0-1h0m15 1h0m4-3h0m2 4h0m10-1h0m1-2h0m3 0h0m-112 4h0m12 3h0m2-2h0m3-2h0m14 6h0m2-2h0m17-3h0m0 1h0m14 0h0m4 3h0m15 0h0m7-3h0m0 0h0m2 3h0m9-5h0m5 1h0m-110 8h0m0-1h0m3 0h0m1-1h0m14 4h0m3 0h0m0-2h0m3 0h0m18 1h0m8 0h0m5-2h0m1 0h0m2 4h0m16-5h0m6 3h0m8-3h0m1 4h0m7-4h0m-62 5h0m6 4h0m2-3h0m6 2h0m1-2h0m5 2h0m13-1h0"/></defs><use href="#q172" stroke="#6e6e6e" stroke-width="2.8"/><use href="#q172" stroke="#e7f0f4" stroke-width="2"/><defs><path id="q173" d="M183 802h0m1 16h0m11 1h0m1 4h0m-48 13h0m18-5h0m1 3h0m13 1h0m-49 7h0m18-5h0m15 2h0m-30 9h0m-67 11h0m9-3h0m12 0h0m38 5h0m21-2h0m41-2h0m2-1h0m-129 8h0m9 3h0m3-4h0m24-2h0m29 1h0m11-1h0m48 5h0m4-5h0m-133 11h0m28-2h0m12-1h0m17 1h0m39 1h0m-86 3h0m53 1h0m25 3h0m20-1h0m17-1h0m-84 7h0m1 1h0m31-4h0m33 2h0m-17 5h0"/></defs><use href="#q173" stroke="#6e6e6e" stroke-width="2.8"/><use href="#q173" stroke="#faebe3" stroke-width="2"/><path d="M177 836h0m-44 6h0m35-1h0m20 2h0m-63 1h0m6 0h0m14 3h0m4 1h0m4-4h0m11 3h0m8-1h0m4 3h0m2-1h0m0-3h0m-86 5h0m6 4h0m1 0h0m24 0h0m9 0h0m25-5h0m17 2h0m-100 4h0m9 6h0m7-5h0m8 3h0m8 2h0m1-3h0m18-1h0m2 3h0m14 0h0m4-3h0m11 4h0m20-6h0m-126 8h0m16 0h0m10 0h0m2-1h0m17 1h0m14 2h0m13 2h0m2-3h0m12-1h0m6 2h0m8-2h0m12-1h0m15-1h0m4 1h0m12 4h0m-141 1h0" stroke="#333333" stroke-width="1.7"/><defs><path id="q174" d="M190 793h0m-6 18h0m-16 7h0m3-3h0m4 0h0m-16 21h0m8-3h0m1-1h0m2 4h0m4-3h0m6 3h0m2 0h0m6-4h0m2 1h0m-60 9h0m12-3h0m2 1h0m2 3h0m7-1h0m17-3h0m17-1h0m0 4h0m-87 7h0m11-1h0m16-2h0m3-1h0m3-2h0m3 4h0m1-1h0m6 0h0m9 0h0m2-3h0m13 2h0m5 3h0m9-2h0m-122 8h0m28-3h0m9-1h0m11 2h0m13-2h0m2 2h0m12-2h0m0 5h0m3-6h0m1 5h0m6-4h0m8 3h0m38-3h0m2 3h0m-147 5h0m10 0h0m10 2h0m0-4h0m13 2h0m2-2h0m0 3h0m0-2h0m12 0h0m9 3h0m8 0h0m3-2h0m20-1h0m3 2h0m2 0h0m16 0h0m5-2h0m26 1h0m-137 3h0m15 4h0m2-1h0m5-1h0m8 3h0m17-1h0m11 1h0m3-1h0m30 1h0m7-1h0m13 0h0m7-3h0m6 1h0m3-2h0m7 3h0m3-2h0m5 4h0m-124 3h0m3 2h0m12 1h0m1-4h0m1 2h0m1 3h0m10-1h0m8-4h0m15 5h0m13-5h0m10 4h0m8-5h0m1 3h0m11 1h0m9-1h0m13-3h0m1 4h0m-120 3h0m17 0h0m2-1h0m5 6h0m9-3h0m11 1h0m36 1h0m14-2h0m5 2h0m10 0h0m8-3h0m-105 7h0m7-3h0m8 2h0m8 0h0m2 0h0m1 3h0m9 0h0m6-2h0m2 0h0m2-2h0m6 4h0m14-4h0m6 5h0m5-4h0m2 1h0m21-2h0m-73 6h0m3-1h0m1 3h0m9-2h0m2 1h0m1-2h0"/></defs><use href="#q174" stroke="#6e6e6e" stroke-width="2.8"/><use href="#q174" stroke="#c1ddec" stroke-width="2"/><defs><path id="q175" d="M181 799h0m6 8h0m-4 3h0m4 0h0m5 1h0m-11 3h0m10 1h0m2-1h0m-28 6h0m2 2h0m7-2h0m5 0h0m3 0h0m-21 8h0m5 1h0m-9 7h0m13-2h0m3 1h0m12-1h0m0-2h0m4 4h0m5-3h0m0 2h0m-62 6h0m8 1h0m26-4h0m16 5h0m0-3h0m1 1h0m4-3h0m1 0h0m7 2h0m-95 9h0m5-1h0m2 1h0m15-6h0m1 1h0m1 0h0m0 3h0m3 1h0m1-5h0m16 1h0m1 2h0m2 0h0m8 1h0m5-2h0m24 1h0m2 1h0m4 0h0m-106 4h0m15 0h0m6 4h0m8-4h0m8-1h0m1 4h0m2-2h0m5 3h0m5-5h0m3 4h0m2-5h0m1 3h0m7-1h0m2-1h0m5 1h0m18-1h0m1 1h0m-121 7h0m7 1h0m5-3h0m6 1h0m3 2h0m3 1h0m2-2h0m17-2h0m9 3h0m1 2h0m1-4h0m1 1h0m16 2h0m1 1h0m12-1h0m2-4h0m10 4h0m1-2h0m0-2h0m11 0h0m17 3h0m3 2h0m3-1h0m3-3h0m-134 7h0m5 1h0m16-3h0m0 2h0m2-3h0m12 6h0m0-4h0m5 2h0m1-3h0m6 5h0m8-3h0m1-2h0m27 3h0m12 0h0m21-2h0m-101 4h0m10 5h0m1-1h0m18 1h0m2 1h0m23-1h0m1 1h0m1-4h0m3-1h0m11 0h0m6 3h0m8 1h0m0-2h0m3-3h0m1 3h0m12-1h0m8 1h0m1-2h0m7 0h0m1 2h0m4 1h0m-130 3h0m8 3h0m8-3h0m18 0h0m4 5h0m2-1h0m1-2h0m3 1h0m25-1h0m9 3h0m9-4h0m21 3h0m4 0h0m0-3h0m0-1h0m9 5h0m2-5h0m2 3h0m-110 5h0m16-2h0m2 1h0m2 3h0m6-2h0m13-1h0m0 4h0m6-1h0m3-4h0m10 0h0m21 0h0m4-1h0m-46 8h0m0 0h0m15-1h0m5-1h0m6 1h0m2 0h0m0 0h0m2 1h0m10 0h0m6-1h0"/></defs><use href="#q175" stroke="#6e6e6e" stroke-width="2.8"/><use href="#q175" stroke="#e7f0f4" stroke-width="2"/><defs><path id="q176" d="M180 806h0m4-2h0m1 8h0m-19 4h0m5 1h0m7 2h0m8-5h0m-21 10h0m0 1h0m15 15h0m13-1h0m-88 8h0m29-2h0m23 2h0m21-3h0m6 0h0m4 1h0m-80 10h0m30-1h0m31-3h0m25 1h0m-135 7h0m12-2h0m8 1h0m21-3h0m5 2h0m23 4h0m42-4h0m-35 7h0m5 1h0m-68 2h0m1 3h0m15 1h0m28-2h0m2 3h0m5-3h0m21 1h0m6 2h0m5-2h0m28-2h0m-95 6h0m46 0h0m0 1h0m6 0h0m-37 8h0m14-4h0m16 5h0m24-1h0m-50 5h0m6-2h0m16 1h0m19-1h0m3 0h0"/></defs><use href="#q176" stroke="#6e6e6e" stroke-width="2.8"/><use href="#q176" stroke="#faebe3" stroke-width="2"/><path d="M185 834h0m-14 3h0m8 5h0m9-1h0m1 0h0m-46 7h0m10-4h0m16 5h0m5-5h0m14 1h0m3 0h0m3 3h0m-124 6h0m14-1h0m33 1h0m20-3h0m35-1h0m2 3h0m7 1h0m5 0h0m-133 5h0m3 0h0m2-3h0m19 4h0m27-5h0m16 4h0m19 1h0m1-3h0m8 1h0m4 2h0m14-1h0m13-2h0m6 0h0m8 0h0m-133 9h0m27-3h0m33-1h0m5-1h0m16 1h0m33 0h0m-50 6h0m4 0h0m40 0h0" stroke="#333333" stroke-width="1.7"/><defs><path id="q177" d="M148 879h0"/></defs><use href="#q177" stroke="#6e6e6e" stroke-width="2.8"/><use href="#q177" stroke="#8bc1dc" stroke-width="2"/><defs><path id="q178" d="M166 877h0m-73 8h0m35-1h0"/></defs><use href="#q178" stroke="#6e6e6e" stroke-width="2.8"/><use href="#q178" stroke="#c1ddec" stroke-width="2"/><defs><path id="q179" d="M129 883h0m-14 2h0m31 1h0"/></defs><use href="#q179" stroke="#6e6e6e" stroke-width="2.8"/><use href="#q179" stroke="#e7f0f4" stroke-width="2"/><path d="M46 865h0m1-1h0m2 1h0m5 1h0m2 0h0m117 1h0m2-1h0m2-1h0m7 2h0m1-4h0m2-1h0m2 1h0m0 1h0m0-3h0m-138 7h0m0 4h0m0 0h0m0-3h0m0 4h0m4-2h0m1-2h0m0 1h0m4 0h0m0-2h0m0 2h0m1 1h0m3 1h0m0-3h0m1 2h0m0-3h0m6 2h0m5 0h0m0 3h0m12 0h0m75 0h0m3-2h0m2-2h0m6-1h0m0 3h0m0-1h0m3-2h0m1 2h0m1 0h0m0 3h0m1-1h0m4 1h0m1-3h0m0 1h0m3-1h0m-138 4h0m3 2h0m1-3h0m1 3h0m3 0h0m0-1h0m2 2h0m2-2h0m3 2h0m4-1h0m2-3h0m0 1h0m0 1h0m3-1h0m0 0h0m2 5h0m0-4h0m1 4h0m0-2h0m1-3h0m0 4h0m0-3h0m1 0h0m3 3h0m0 1h0m1-2h0m1-4h0m2 6h0m0-3h0m1 0h0m1 1h0m6 2h0m2-3h0m1 0h0m1-1h0m1 0h0m0 2h0m2-3h0m3 0h0m0 3h0m2-1h0m2 1h0m3 1h0m0 0h0m2-2h0m2-1h0m1 4h0m7-2h0m0-1h0m2 0h0m1 0h0m3 2h0m1-3h0m0 0h0m5 1h0m2 2h0m4 0h0m2-1h0m1-3h0m1 1h0m1-1h0m2 1h0m0 0h0m0-2h0m1 4h0m2 2h0m0-2h0m1 0h0m0 0h0m1-2h0m3 2h0m1 2h0m1 0h0m1-3h0m3-1h0m1-2h0m2 6h0m1-4h0m1-1h0m0 4h0m1-4h0m6 3h0m1-3h0m2 1h0m1-1h0m0 0h0m0 4h0m0-4h0m1 3h0m0 0h0m1-2h0m1 1h0m1 0h0m0 2h0m3-1h0m0-1h0m1-1h0m-127 5h0m4 1h0m0 1h0m0 0h0m1 1h0m9-3h0m3 4h0m3 1h0m4-2h0m0-3h0m1 3h0m2-3h0m0-1h0m2 5h0m3-3h0m1-1h0m1 5h0m1-2h0m2-2h0m0 2h0m0 1h0m0-5h0m1 1h0m1 3h0m3-3h0m2 0h0m3 3h0m3 2h0m2-3h0m0 2h0m0 0h0m3-1h0m1-2h0m1 1h0m4-1h0m1-1h0m0 2h0m1 1h0m5-3h0m1 2h0m1 1h0m0 0h0m1 0h0m1 2h0m1-1h0m1-3h0m2-1h0m1 0h0m0 4h0m2-1h0m3 0h0m1-4h0m1 6h0m1-2h0m4 1h0m2-1h0m0-2h0m0 4h0m1-4h0m2 3h0m2-5h0m4 6h0m3-1h0m0 1h0m1-2h0m2 2h0m0 0h0m2 0h0m3-5h0m1-1h0m0 3h0m2-3h0m5 1h0m-105 6h0m4 2h0m1-1h0m1 1h0m2-2h0m1 2h0m3 2h0m0 0h0m2-3h0m2 3h0m1-4h0m3 5h0m1-2h0m1-2h0m0 0h0m1 0h0m0 3h0m1-3h0m2 0h0m0 0h0m3 0h0m5 1h0m1 0h0m1 0h0m1 3h0m1-2h0m0 1h0m1-1h0m0-3h0m1 2h0m1-3h0m2 5h0m1-4h0m1 0h0m1 0h0m0 4h0m1-2h0m1 2h0m2-1h0m2 1h0m1-4h0m1 1h0m0 3h0m1-5h0m1 0h0m1 2h0m1 3h0m1 1h0m1-2h0m1-2h0m1 2h0m3-1h0m0-1h0m1 2h0m0-3h0m1-1h0m3 3h0m0-3h0m10 1h0m2 0h0m0 0h0m1 2h0m3-2h0m2 1h0m-53 4h0m8 1h0m2 0h0m3 1h0m2 0h0m15-2h0" stroke="#333333" stroke-width="1.7"/><defs><path id="q180" d="M121 886h0m1 0h0"/></defs><use href="#q180" stroke="#6e6e6e" stroke-width="2.8"/><use href="#q180" stroke="#8bc1dc" stroke-width="2"/><defs><path id="q181" d="M82 880h0m84-1h0m-24 9h0m2-2h0"/></defs><use href="#q181" stroke="#6e6e6e" stroke-width="2.8"/><use href="#q181" stroke="#c1ddec" stroke-width="2"/><path d="M47 866h0m4 0h0m1 1h0m4 0h0m122-2h0m3 0h0m3 0h0m3 1h0m2-4h0m-141 6h0m0 0h0m0 0h0m3 3h0m1 2h0m0-6h0m3 3h0m0 0h0m0-1h0m3-1h0m0 3h0m0 1h0m3-4h0m1 2h0m2 2h0m1-3h0m8 2h0m1 1h0m0-2h0m1 1h0m6 1h0m6 1h0m65 0h0m3-1h0m4 1h0m2-2h0m2 0h0m0 1h0m4 0h0m1-1h0m2 0h0m2-4h0m0 1h0m3 4h0m0-2h0m0-2h0m1 2h0m1 3h0m3-4h0m0-1h0m1 1h0m1-1h0m2 3h0m3-4h0m-134 8h0m0 3h0m1-4h0m0 2h0m0-2h0m0 2h0m1 2h0m2-1h0m1 1h0m3-2h0m0-1h0m2-1h0m2 0h0m1 0h0m0 5h0m3-2h0m2 1h0m1-2h0m1-1h0m2 3h0m1-4h0m0 3h0m1 2h0m0-4h0m1 2h0m1-3h0m2 1h0m2 0h0m2 0h0m0 3h0m0-3h0m0-1h0m1 3h0m0 1h0m1 0h0m6-4h0m2 2h0m2 1h0m1-3h0m1 5h0m0-3h0m9-1h0m3 2h0m1 2h0m3-4h0m1 4h0m3-3h0m2 3h0m0-2h0m1 0h0m1 2h0m1-3h0m1 2h0m2-1h0m3 1h0m0-1h0m0 0h0m2-1h0m0 2h0m1-3h0m0-1h0m2 2h0m2 2h0m1 1h0m0-2h0m1-3h0m2 2h0m2 0h0m1 1h0m1 2h0m1-1h0m1-1h0m2-1h0m1 2h0m0 0h0m2-5h0m5 6h0m3-5h0m1 2h0m1 0h0m0 0h0m0 0h0m1 0h0m0-2h0m1 3h0m0 1h0m0-5h0m3 3h0m1-1h0m1 3h0m3-2h0m6-2h0m0 0h0m0 2h0m1 1h0m2-2h0m1 0h0m2 2h0m1-1h0m0 0h0m1-2h0m2 1h0m-125 7h0m5 2h0m2-4h0m2 0h0m1 0h0m0 2h0m0 0h0m3 2h0m2-4h0m2 1h0m1 0h0m0 1h0m1 3h0m1-4h0m2 0h0m1 4h0m1-4h0m2-2h0m1 4h0m1 0h0m3-3h0m0 1h0m2 0h0m4 0h0m7-2h0m1 0h0m0 5h0m1-3h0m0 2h0m2-3h0m2 0h0m0 1h0m1 2h0m5-3h0m1 3h0m3 0h0m0 1h0m0-2h0m0 3h0m2-4h0m2-1h0m1 2h0m1 2h0m2-4h0m1 2h0m1 0h0m3 0h0m2 2h0m1-4h0m1 0h0m0 3h0m2-4h0m0 2h0m1 2h0m4-3h0m0 1h0m1 3h0m2-2h0m3-1h0m1 2h0m2-2h0m1 1h0m2 2h0m0-3h0m1 2h0m1-4h0m1 3h0m1 1h0m5-4h0m1 4h0m0-3h0m3-1h0m-100 7h0m5 1h0m2 1h0m1-1h0m0-2h0m3 3h0m2 2h0m3-4h0m0 1h0m2 0h0m2 3h0m1 0h0m0 0h0m1-1h0m4 0h0m1 0h0m0-2h0m0 2h0m0-4h0m0 4h0m1-1h0m2 0h0m6 0h0m1 1h0m0-4h0m2 1h0m0 3h0m1-2h0m0 0h0m1 1h0m1-3h0m0 2h0m1 0h0m0-1h0m1 4h0m5-4h0m3 1h0m4 0h0m1 0h0m2 3h0m1-1h0m2 2h0m0-2h0m1-1h0m1 2h0m1-2h0m1 0h0m0-1h0m3-2h0m1 1h0m4 0h0m5 1h0m3-2h0m3 1h0m6-1h0m-54 7h0m5 1h0m3-1h0m5 2h0m3-3h0m7 1h0m3-1h0m3 0h0" stroke="#333333" stroke-width="1.7"/><defs><path id="q182" d="M165 876h0m-78 4h0m60 0h0"/></defs><use href="#q182" stroke="#6e6e6e" stroke-width="2.8"/><use href="#q182" stroke="#8bc1dc" stroke-width="2"/><defs><path id="q183" d="M75 879h0m12 1h0m19 3h0m35 1h0m6-2h0m10 0h0m-17 5h0"/></defs><use href="#q183" stroke="#6e6e6e" stroke-width="2.8"/><use href="#q183" stroke="#c1ddec" stroke-width="2"/><path d="M48 866h0m7 1h0m3 0h0m1 0h0m121-3h0m0 3h0m5-4h0m1 0h0m0 4h0m1 0h0m1-1h0m1-2h0m0-2h0m-139 5h0m2 0h0m2 5h0m0-4h0m3 0h0m0 1h0m1 2h0m6 0h0m3-3h0m1 2h0m11 2h0m5 0h0m1 0h0m2 1h0m66 0h0m2-1h0m3 1h0m6-2h0m4-2h0m0 4h0m3-5h0m0 4h0m0-1h0m4-3h0m4 3h0m0-2h0m0 3h0m2-1h0m1-1h0m4 1h0m0-3h0m1 1h0m0-2h0m0 5h0m0-3h0m-137 5h0m4 2h0m0 2h0m2 1h0m0-4h0m0-1h0m3 5h0m3-5h0m0 1h0m2 2h0m6-2h0m0 2h0m2-2h0m8 1h0m0 0h0m1-1h0m1-2h0m1 3h0m2 2h0m0-4h0m1 5h0m2-1h0m0 0h0m1 1h0m1-4h0m0 2h0m0-3h0m0 3h0m1 1h0m2-4h0m1 4h0m3 1h0m1-4h0m1-1h0m2 0h0m1 2h0m1-2h0m0 1h0m2 1h0m3 0h0m1-1h0m5 3h0m0-2h0m3 1h0m0-1h0m3 3h0m3-3h0m0 1h0m1 1h0m3 0h0m2-3h0m1 1h0m1 0h0m1 1h0m5-3h0m3 0h0m0 1h0m1 2h0m1-2h0m6-1h0m1 0h0m4 3h0m1 1h0m3-1h0m0-1h0m3-2h0m0 3h0m1-2h0m0 0h0m3 2h0m0-1h0m1 3h0m2-1h0m1 0h0m0-2h0m0 0h0m3-3h0m7 2h0m1 1h0m0 1h0m0-3h0m1 1h0m0 4h0m2-5h0m1 3h0m2-2h0m-122 4h0m2 4h0m2 0h0m5-2h0m1-1h0m0 2h0m0-1h0m1 4h0m1-5h0m4 2h0m0-1h0m0 3h0m3-4h0m3 3h0m3-3h0m1 2h0m1 1h0m1-3h0m2 0h0m1 2h0m0-2h0m2 4h0m1 0h0m1-3h0m0 1h0m0 3h0m1-6h0m1 4h0m1-3h0m1 0h0m1 2h0m0 0h0m0 2h0m1 0h0m2-4h0m0 2h0m7 1h0m0 1h0m0 1h0m2-6h0m0 2h0m2 2h0m0-2h0m2 4h0m5-1h0m1-3h0m1 2h0m1-2h0m1 3h0m0-3h0m2-2h0m5 3h0m2-2h0m4 1h0m1 0h0m0 2h0m1-1h0m0 2h0m1 0h0m3-3h0m0-1h0m5 0h0m1 1h0m1-1h0m0 5h0m0-1h0m2-3h0m1 3h0m4 0h0m1-4h0m1 4h0m0 0h0m1-5h0m2 3h0m1 1h0m1-1h0m4 0h0m0 1h0m1-3h0m-99 6h0m2 2h0m9 2h0m1-4h0m3 1h0m0 0h0m4-2h0m1 0h0m3 1h0m0 5h0m3-5h0m0 3h0m1-2h0m1 3h0m2-2h0m0-3h0m1 3h0m1 2h0m1 1h0m1-1h0m1-4h0m0 2h0m0-1h0m1 3h0m1-4h0m2 1h0m2 2h0m2 1h0m0-3h0m4-1h0m0 5h0m1-3h0m1 0h0m0 0h0m1 1h0m1 0h0m3-2h0m2-1h0m0 2h0m0 1h0m1 2h0m1-6h0m2 1h0m0 2h0m2-2h0m1 5h0m4-2h0m1 1h0m2-3h0m1-1h0m1 4h0m0-4h0m1 4h0m1-2h0m2-2h0m1 1h0m0 0h0m1-1h0m1 3h0m4-2h0m1-2h0m-59 7h0m1-1h0m6 1h0m2-1h0m6 2h0m0-1h0m7 0h0m3 0h0m1-1h0m2 2h0m2-1h0m5-1h0" stroke="#333333" stroke-width="1.7"/><defs><path id="q184" d="M141 882h0m2 0h0m-28 4h0m23 0h0m2 3h0"/></defs><use href="#q184" stroke="#6e6e6e" stroke-width="2.8"/><use href="#q184" stroke="#8bc1dc" stroke-width="2"/><defs><path id="q185" d="M107 885h0m6 4h0"/></defs><use href="#q185" stroke="#6e6e6e" stroke-width="2.8"/><use href="#q185" stroke="#c1ddec" stroke-width="2"/><defs><path id="q186" d="M141 882h0m9 4h0"/></defs><use href="#q186" stroke="#6e6e6e" stroke-width="2.8"/><use href="#q186" stroke="#e7f0f4" stroke-width="2"/><path d="M48 867h0m2-2h0m2 2h0m1-1h0m6 1h0m2 0h0m115 0h0m4 0h0m6-4h0m1-1h0m2 3h0m-141 4h0m1 0h0m4 3h0m0 0h0m2-4h0m0 5h0m4-4h0m2 1h0m1-3h0m1 1h0m4 2h0m0-1h0m1 4h0m0-2h0m1-2h0m2 0h0m1 3h0m7-1h0m4 1h0m1 1h0m5-1h0m2 1h0m71-2h0m1 0h0m2 1h0m2-1h0m1 1h0m2 0h0m1-5h0m2 2h0m1-1h0m0 0h0m2 4h0m0-5h0m2 4h0m2 1h0m0-4h0m1 0h0m1 5h0m1-1h0m1 1h0m1-5h0m0 0h0m3-1h0m-134 8h0m1 3h0m0-1h0m1-3h0m1 3h0m3-2h0m1 3h0m2-3h0m2-1h0m0-1h0m0 3h0m0-1h0m1 1h0m0 2h0m1-2h0m1-2h0m1 4h0m0-2h0m0-1h0m1 0h0m0 3h0m1-2h0m0-3h0m0 2h0m1 2h0m3 1h0m1 0h0m1-2h0m5 1h0m3 2h0m2-2h0m0 0h0m0-1h0m1-2h0m0 2h0m2 3h0m1-5h0m5 0h0m1 4h0m1-3h0m3 1h0m1-2h0m0 2h0m1 0h0m3 2h0m2-3h0m5 4h0m3-1h0m3-2h0m11 2h0m1-2h0m5-1h0m2 1h0m1 1h0m1-1h0m1 3h0m1-4h0m1-2h0m4 1h0m0 4h0m2 0h0m1-3h0m2 2h0m2-1h0m2-1h0m2 2h0m1 0h0m0-2h0m4 4h0m3-2h0m3-4h0m0 5h0m0-4h0m2 4h0m1-2h0m1-1h0m1 1h0m5 1h0m0-2h0m0 0h0m0-1h0m2 1h0m5-2h0m-121 10h0m3-1h0m2 2h0m1-2h0m0-2h0m1-1h0m0 4h0m1-2h0m2 2h0m2 0h0m1 0h0m2-3h0m4 4h0m4-2h0m3 2h0m0 1h0m2-6h0m0 4h0m3 2h0m1-6h0m0 0h0m1 1h0m1 2h0m0 1h0m2 0h0m2 1h0m0 1h0m1-1h0m1-3h0m1 0h0m0-1h0m1 2h0m0 1h0m1-1h0m2-3h0m2 4h0m1-2h0m0 3h0m0-3h0m0 4h0m1-1h0m0-3h0m3 2h0m0 1h0m0-2h0m3 1h0m0 2h0m4-3h0m4 0h0m7 3h0m0-4h0m0 0h0m0 4h0m2-4h0m0 4h0m0-3h0m0-2h0m0 4h0m2-1h0m3 1h0m1 1h0m1-2h0m0-2h0m1 1h0m1 2h0m0-3h0m1 2h0m6-2h0m0 2h0m0-1h0m1 1h0m4-1h0m0 0h0m1-2h0m1 4h0m2-4h0m1 1h0m2 3h0m1-1h0m1-2h0m1 1h0m0-2h0m2 0h0m0 3h0m0-4h0m0 4h0m-98 3h0m2-1h0m2 3h0m2 1h0m0-3h0m4 0h0m2 1h0m0 0h0m1 3h0m2 0h0m1-2h0m2-1h0m1-1h0m0 1h0m1 2h0m3-2h0m2 1h0m7-1h0m2 1h0m0-1h0m4 3h0m2-1h0m1-1h0m1 0h0m0-3h0m1 4h0m0 0h0m1 0h0m2 1h0m0 0h0m7-4h0m0 0h0m0 4h0m1-1h0m2 0h0m0 2h0m3-2h0m1 1h0m1-1h0m0-3h0m2 1h0m3 2h0m3-2h0m2 1h0m0 2h0m2-3h0m3-1h0m1 1h0m0 3h0m1-2h0m4 1h0m1-1h0m1-2h0m1 2h0m2-1h0m2-1h0m0 0h0m-50 5h0m1 2h0m4-1h0m2 1h0m8 0h0m5-2h0" stroke="#333333" stroke-width="1.7"/><defs><path id="q187" d="M140 885h0m15-5h0"/></defs><use href="#q187" stroke="#6e6e6e" stroke-width="2.8"/><use href="#q187" stroke="#8bc1dc" stroke-width="2"/><defs><path id="q188" d="M161 877h0m-89 2h0"/></defs><use href="#q188" stroke="#6e6e6e" stroke-width="2.8"/><use href="#q188" stroke="#c1ddec" stroke-width="2"/><defs><path id="q189" d="M112 887h0"/></defs><use href="#q189" stroke="#6e6e6e" stroke-width="2.8"/><use href="#q189" stroke="#e7f0f4" stroke-width="2"/><path d="M48 865h0m3 1h0m3 1h0m0-2h0m122 0h0m4-1h0m1 1h0m2-1h0m1 0h0m1 1h0m0 1h0m2 0h0m0-1h0m1 1h0m-139 6h0m2-1h0m6-3h0m3 2h0m0-2h0m1 2h0m1 2h0m0 1h0m1-5h0m0 5h0m4-1h0m1-1h0m3-1h0m2 1h0m1 0h0m2-1h0m1 1h0m0 2h0m7 0h0m1 0h0m5 0h0m61 0h0m1-1h0m14 0h0m3 1h0m1-2h0m0-1h0m2-1h0m0-1h0m1 2h0m1 0h0m11 0h0m1 2h0m-134 6h0m2-1h0m1 1h0m0 0h0m1-1h0m1 0h0m1-2h0m0 3h0m1-1h0m1 1h0m2-2h0m1-2h0m0 0h0m0 2h0m0 3h0m3-6h0m2 2h0m2 1h0m8-2h0m3 2h0m1 0h0m4 0h0m0 3h0m0-3h0m2 2h0m3-4h0m0 3h0m1-3h0m4 4h0m0-4h0m1 2h0m0 0h0m2 2h0m0-4h0m2 4h0m1-3h0m3 1h0m0 0h0m1 0h0m4 0h0m3 1h0m1-1h0m5 1h0m1 1h0m2-2h0m0 3h0m3-2h0m2-1h0m0 0h0m2 0h0m1 2h0m1 0h0m1-2h0m0 2h0m3-2h0m2 3h0m0-3h0m0 1h0m0 2h0m0-4h0m0 0h0m1 3h0m1-1h0m1-1h0m0 0h0m2 2h0m3-5h0m2 6h0m1-5h0m1 3h0m1-1h0m2 0h0m0 1h0m4-3h0m2 2h0m3 1h0m1-2h0m2-2h0m1 4h0m2 2h0m2-3h0m2-1h0m2 4h0m1-3h0m0-3h0m1 2h0m0 3h0m1 0h0m4 0h0m0-4h0m3 4h0m2-2h0m0 0h0m1-2h0m1 1h0m1-2h0m0 1h0m-125 7h0m0-1h0m4 2h0m0 2h0m1-5h0m3 2h0m3 2h0m1-2h0m0 2h0m2 0h0m1 0h0m1 0h0m5 1h0m1-3h0m0 4h0m3-1h0m1 0h0m0-4h0m0 4h0m0-4h0m1 3h0m0 0h0m0-1h0m1 2h0m1-2h0m4-2h0m0 3h0m0-3h0m0 0h0m4-1h0m2 6h0m5-4h0m2 2h0m1 2h0m2-1h0m0-1h0m1-1h0m2 3h0m2-5h0m0 3h0m0 0h0m1 1h0m3-2h0m1-3h0m0 6h0m1-3h0m2 0h0m1 0h0m0 2h0m0 0h0m2 0h0m1-2h0m2-2h0m8 4h0m0 0h0m3-3h0m1-1h0m2 2h0m3 1h0m0-3h0m0 2h0m1 0h0m3 2h0m3-3h0m1 3h0m1-3h0m1-1h0m3 5h0m0-3h0m2-1h0m5 2h0m1-3h0m0 0h0m9 0h0m-104 7h0m1 0h0m0-2h0m1 1h0m4 1h0m2 1h0m0-1h0m1 0h0m1 0h0m1 2h0m1-2h0m1 3h0m2-5h0m2 2h0m1 1h0m2-2h0m2-1h0m1 4h0m1 0h0m0 2h0m1 0h0m0-4h0m1 1h0m1 1h0m0-2h0m1 3h0m3-1h0m0 1h0m3-4h0m2 2h0m0-1h0m7 3h0m0-2h0m1-2h0m0 3h0m1 0h0m5 1h0m1-2h0m1-3h0m1 2h0m0 0h0m0 4h0m4-5h0m3 0h0m0 4h0m3-4h0m0 4h0m3-1h0m1 1h0m2-5h0m0 1h0m1 1h0m2 1h0m1-1h0m1-2h0m2 3h0m2 0h0m2-1h0m0-2h0m1 2h0m2-2h0m1 3h0m0-2h0m2 0h0m-65 5h0m3 0h0m8 1h0m12 1h0m0-2h0m2 2h0m2-1h0m2 0h0m1 0h0m6 0h0" stroke="#333333" stroke-width="1.7"/><defs><path id="q190" d="M99 779h0m6-1h0m-2 10h0m-2 12h0m8-3h0"/></defs><use href="#q190" stroke="#6e6e6e" stroke-width="2.8"/><use href="#q190" stroke="#860a24" stroke-width="2"/><defs><path id="q191" d="M101 787h0m-2 17h0"/></defs><use href="#q191" stroke="#6e6e6e" stroke-width="2.8"/><use href="#q191" stroke="#bb2a34" stroke-width="2"/><defs><path id="q192" d="M127 782h0m-16 5h0m0 1h0m6-4h0m-19 11h0m21-5h0m5 9h0m45 1h0m-37 6h0m38-4h0m-23 25h0"/></defs><use href="#q192" stroke="#6e6e6e" stroke-width="2.8"/><use href="#q192" stroke="#d96651" stroke-width="2"/><defs><path id="q193" d="M121 771h0m-8 16h0m4 1h0m3 0h0m-24 4h0m8 2h0m0-2h0m3 2h0m1-3h0m23 4h0m-28 4h0m3-1h0m6 0h0m5 1h0m1-1h0m5 2h0m3 1h0m3-1h0m-33 4h0m16 1h0m12-4h0m41 5h0m-68 6h0m21 0h0m16-3h0m0 0h0m7 1h0m0 3h0m0-1h0m-49 4h0m35-1h0m21-1h0m-59 7h0m28 3h0m9-3h0m0 1h0m5 0h0m13 0h0m-56 5h0m30 2h0m4 1h0m16 0h0m-40 2h0m9-1h0"/></defs><use href="#q193" stroke="#6e6e6e" stroke-width="2.8"/><use href="#q193" stroke="#f19f7e" stroke-width="2"/><defs><path id="q194" d="M107 805h0m23 4h0m-7 6h0m12 5h0m-7 8h0m2-2h0m-35 7h0m32 0h0m14-1h0m-55 11h0m0-3h0m6 2h0m34-4h0m-42 5h0"/></defs><use href="#q194" stroke="#6e6e6e" stroke-width="2.8"/><use href="#q194" stroke="#faebe3" stroke-width="2"/><defs><path id="q195" d="M109 774h0m20 3h0m-24 22h0m6-1h0m-19 4h0m13 3h0m4-1h0m13 2h0m6 0h0m5-4h0m9 0h0m24 0h0m-74 7h0m8-1h0m2 2h0m2-1h0m9 2h0m0-3h0m0 0h0m26 1h0m7 0h0m-52 6h0m10 2h0m3-3h0m0 4h0m7-4h0m11 4h0m3-4h0m4 2h0m6 3h0m4-1h0m3-2h0m5 0h0m-58 4h0m4-1h0m4 5h0m1-2h0m7-2h0m1 2h0m1 2h0m1 0h0m2-4h0m2 0h0m0 1h0m1 3h0m3-3h0m5-1h0m1 4h0m4 0h0m2-2h0m2 0h0m5 1h0m10-1h0m0-2h0m-58 8h0m6 2h0m1-3h0m6 0h0m5 2h0m4 2h0m4-2h0m1-2h0m1-1h0m1 2h0m16-2h0m-47 6h0m5 3h0m6 1h0m5-5h0m30 4h0m2-3h0m-45 8h0m6-1h0m4 1h0m6-2h0m-24 7h0m20 0h0"/></defs><use href="#q195" stroke="#6e6e6e" stroke-width="2.8"/><use href="#q195" stroke="#fbceb6" stroke-width="2"/><path d="M140 822h0m-11 5h0m3 0h0m1-1h0m2 2h0m6 2h0m0-4h0m-43 9h0m14 2h0m10-4h0m6 0h0m3-1h0m8 3h0m1-2h0m13 0h0m-66 9h0m14-2h0m7 0h0m30-1h0m11 2h0m-65 4h0" stroke="#333333" stroke-width="1.7"/><defs><path id="q196" d="M104 772h0m49 1h0m-47 16h0m0 0h0m1 10h0m-4 8h0"/></defs><use href="#q196" stroke="#6e6e6e" stroke-width="2.8"/><use href="#q196" stroke="#860a24" stroke-width="2"/><defs><path id="q197" d="M108 782h0m-10 7h0m0 2h0"/></defs><use href="#q197" stroke="#6e6e6e" stroke-width="2.8"/><use href="#q197" stroke="#bb2a34" stroke-width="2"/><defs><path id="q198" d="M166 770h0m-61 24h0m1 0h0m5 6h0m15-3h0m6-1h0m1 5h0m-10 8h0m-2 13h0"/></defs><use href="#q198" stroke="#6e6e6e" stroke-width="2.8"/><use href="#q198" stroke="#d96651" stroke-width="2"/><defs><path id="q199" d="M98 820h0m37 13h0"/></defs><use href="#q199" stroke="#6e6e6e" stroke-width="2.8"/><use href="#q199" stroke="#e7f0f4" stroke-width="2"/><defs><path id="q200" d="M103 746h0m21 25h0m-5 4h0m-8 4h0m-2 13h0m1 1h0m16 0h0m30-2h0m-61 9h0m7 0h0m1-2h0m5-2h0m7 0h0m4 0h0m5-1h0m15 4h0m-48 7h0m8-2h0m9-2h0m1 4h0m0 0h0m6-1h0m5-4h0m9 1h0m1 2h0m8 2h0m1-1h0m1-1h0m27 1h0m-76 2h0m21 4h0m0-2h0m12 3h0m2-4h0m11 2h0m-36 8h0m3 0h0m20-3h0m19 4h0m0-6h0m1 2h0m6 1h0m-62 4h0m6 1h0m11 0h0m15 0h0m9 4h0m-33 3h0m37 0h0"/></defs><use href="#q200" stroke="#6e6e6e" stroke-width="2.8"/><use href="#q200" stroke="#f19f7e" stroke-width="2"/><defs><path id="q201" d="M111 810h0m8 8h0m-2 6h0m15-2h0m-9 5h0m19 3h0m-57 2h0m25 3h0m2-2h0m17 1h0m0 1h0m7-4h0m-46 11h0m3-1h0m1-1h0m29-2h0m2 0h0m-40 6h0m6-1h0"/></defs><use href="#q201" stroke="#6e6e6e" stroke-width="2.8"/><use href="#q201" stroke="#faebe3" stroke-width="2"/><defs><path id="q202" d="M106 779h0m48 10h0m-52 6h0m1 4h0m21-2h0m5 3h0m8 0h0m38 1h0m-71 5h0m24 0h0m-24 6h0m2 1h0m13-1h0m4 0h0m0-3h0m7 3h0m4 0h0m0-4h0m10 2h0m-53 5h0m8-1h0m7 1h0m4-2h0m12 1h0m22-1h0m0 4h0m-50 3h0m6 2h0m2 1h0m8-3h0m1-1h0m4 4h0m6 0h0m5-3h0m12 5h0m5-3h0m3-1h0m-57 7h0m11 0h0m1 0h0m5 1h0m2-3h0m2 4h0m9-3h0m2 2h0m9-4h0m2 4h0m2 0h0m2 1h0m1 0h0m7-4h0m-49 8h0m13-1h0m0 2h0m7-3h0m19 4h0m1-4h0m-51 8h0m9 2h0m9-1h0m1 0h0m1 1h0m16-1h0m3-1h0m-36 5h0m21-2h0"/></defs><use href="#q202" stroke="#6e6e6e" stroke-width="2.8"/><use href="#q202" stroke="#fbceb6" stroke-width="2"/><path d="M132 824h0m-5 5h0m0-3h0m21 5h0m-35 1h0m8 4h0m17-2h0m3 1h0m10 1h0m1 1h0m0-4h0m-70 9h0m11-2h0m27 0h0m14 2h0m4-4h0m2 1h0m6-1h0m-48 7h0m9-1h0m0 1h0" stroke="#333333" stroke-width="1.7"/><defs><path id="q203" d="M101 775h0m4 3h0m-6 15h0m9-4h0m1 3h0m-10 4h0m2 0h0m8 8h0m-6 4h0"/></defs><use href="#q203" stroke="#6e6e6e" stroke-width="2.8"/><use href="#q203" stroke="#860a24" stroke-width="2"/><defs><path id="q204" d="M99 797h0"/></defs><use href="#q204" stroke="#6e6e6e" stroke-width="2.8"/><use href="#q204" stroke="#bb2a34" stroke-width="2"/><defs><path id="q205" d="M122 774h0m-12 14h0m1 2h0m4 4h0m13-2h0m5-2h0m-24 9h0m55-2h0m-34 8h0m10 6h0"/></defs><use href="#q205" stroke="#6e6e6e" stroke-width="2.8"/><use href="#q205" stroke="#d96651" stroke-width="2"/><defs><path id="q206" d="M114 775h0m-11 13h0m7 1h0m3-2h0m25 1h0m-37 5h0m3 1h0m8 1h0m2-2h0m2-3h0m7 2h0m2-1h0m-26 5h0m18 5h0m0-2h0m7 0h0m9-2h0m1-1h0m-38 6h0m2 4h0m10-1h0m23 0h0m8 1h0m-45 4h0m5 2h0m1-3h0m15 2h0m1-2h0m5 4h0m5-6h0m4 0h0m2 5h0m1-4h0m6 1h0m5 3h0m18-4h0m-71 9h0m18-2h0m11-2h0m1 1h0m3 2h0m10-2h0m-34 8h0m7-1h0m7 4h0m29-3h0m1 0h0m-56 5h0m7-2h0m20 1h0m16-1h0m-20 10h0m-13 7h0"/></defs><use href="#q206" stroke="#6e6e6e" stroke-width="2.8"/><use href="#q206" stroke="#f19f7e" stroke-width="2"/><defs><path id="q207" d="M87 813h0m35 11h0m-17 3h0m6 9h0m6-4h0m-27 7h0m1 1h0m40-3h0m-50 6h0"/></defs><use href="#q207" stroke="#6e6e6e" stroke-width="2.8"/><use href="#q207" stroke="#faebe3" stroke-width="2"/><defs><path id="q208" d="M116 780h0m-11 8h0m13-4h0m5 3h0m49 0h0m-65 6h0m1-2h0m9 0h0m9 4h0m29-4h0m-51 4h0m1 3h0m29 2h0m-43 5h0m0 0h0m9-2h0m0-2h0m12 6h0m4 0h0m9-2h0m14-3h0m-40 10h0m2-4h0m15 4h0m5 0h0m0 0h0m10-2h0m15 2h0m-55 7h0m3-2h0m8-3h0m2 2h0m16-3h0m22 3h0m-51 5h0m7 3h0m17-4h0m6 1h0m24 3h0m2 0h0m-63 3h0m0 1h0m1 2h0m1 1h0m0-6h0m3 0h0m0 0h0m1 1h0m3 5h0m6-3h0m13 2h0m1-1h0m3 0h0m5-2h0m10 2h0m4 0h0m0 0h0m7-3h0m1 5h0m-60 3h0m4 3h0m0-2h0m7-2h0m1 3h0m16-1h0m14 0h0m5-2h0m2 1h0m-40 4h0m9 3h0m-1 3h0m9 0h0"/></defs><use href="#q208" stroke="#6e6e6e" stroke-width="2.8"/><use href="#q208" stroke="#fbceb6" stroke-width="2"/><path d="M140 822h0m-13 8h0m-14 3h0m6-1h0m4 3h0m2 1h0m9-3h0m15-1h0m-60 9h0m14 1h0m8-2h0m0-3h0m3 3h0m0-3h0m8 0h0m11 6h0m16-1h0m-45 3h0m2-1h0m16-1h0m18 2h0" stroke="#333333" stroke-width="1.7"/><defs><path id="q209" d="M102 776h0m-2 4h0m3-1h0m-6 15h0m11 1h0m3 0h0m-7 8h0m-3 7h0m5-2h0"/></defs><use href="#q209" stroke="#6e6e6e" stroke-width="2.8"/><use href="#q209" stroke="#860a24" stroke-width="2"/><defs><path id="q210" d="M106 774h0"/></defs><use href="#q210" stroke="#6e6e6e" stroke-width="2.8"/><use href="#q210" stroke="#bb2a34" stroke-width="2"/><defs><path id="q211" d="M131 765h0m-11 17h0m-20 16h0m60-2h0m-20 10h0m24 1h0m-33 6h0"/></defs><use href="#q211" stroke="#6e6e6e" stroke-width="2.8"/><use href="#q211" stroke="#d96651" stroke-width="2"/><defs><path id="q212" d="M121 754h0m-15 32h0m5 2h0m19 0h0m-26 7h0m1-3h0m1 2h0m1-2h0m7 3h0m5-5h0m9 4h0m-30 4h0m5 1h0m4 2h0m3-5h0m5 3h0m11-1h0m4 1h0m3-2h0m43 4h0m-85 3h0m6 0h0m11 1h0m0-3h0m11 5h0m8-6h0m34 6h0m-70 5h0m2 0h0m19 1h0m0 0h0m24-4h0m0 2h0m12-1h0m-57 3h0m8 4h0m5 2h0m1-5h0m30 2h0m5 0h0m2 2h0m5-2h0m-17 6h0m7-1h0m14-1h0m-46 11h0m15-5h0m22 4h0m-19 5h0m4 2h0m13-5h0m-23 6h0m-26 7h0"/></defs><use href="#q212" stroke="#6e6e6e" stroke-width="2.8"/><use href="#q212" stroke="#f19f7e" stroke-width="2"/><defs><path id="q213" d="M124 817h0m11-2h0m-35 10h0m1-6h0m31 5h0m-43 6h0m35-1h0m-40 3h0m2 1h0m17 2h0m0 0h0m6 1h0m7 0h0m1-1h0m4-1h0m6 3h0m2-4h0m-44 9h0m2 0h0m24-1h0m8-3h0"/></defs><use href="#q213" stroke="#6e6e6e" stroke-width="2.8"/><use href="#q213" stroke="#faebe3" stroke-width="2"/><defs><path id="q214" d="M168 768h0m-54 7h0m4 5h0m-12 12h0m4-1h0m7 0h0m4 1h0m6 0h0m4 0h0m28-2h0m-48 6h0m5 8h0m1-1h0m1 0h0m4 1h0m4-1h0m2 0h0m6 0h0m-40 8h0m11 1h0m12-1h0m12-3h0m14-1h0m4 3h0m2 3h0m-54 1h0m5 5h0m5-6h0m2 6h0m5-2h0m1-1h0m1-2h0m2 3h0m5-3h0m1 5h0m-36 4h0m19-1h0m16-2h0m23 3h0m1-1h0m4-1h0m-63 5h0m19-1h0m14 4h0m6-4h0m1 1h0m3 4h0m2 1h0m-48 5h0m5-4h0m9 2h0m6 2h0m6 0h0m5-3h0m6 0h0m8 1h0m4-2h0m3 2h0m2 1h0m-56 6h0m3-3h0m1 4h0m8-2h0m13 0h0"/></defs><use href="#q214" stroke="#6e6e6e" stroke-width="2.8"/><use href="#q214" stroke="#fbceb6" stroke-width="2"/><path d="M123 827h0m25 2h0m-38 3h0m10 1h0m16 0h0m-41 9h0m6 0h0m10-2h0m2 2h0m8-5h0m7 3h0m0 1h0m4-3h0m6 2h0m3-2h0m2 1h0m4 1h0m-59 5h0m1 0h0m6 2h0" stroke="#333333" stroke-width="1.7"/><defs><path id="q215" d="M111 746h0m-6 29h0m8 0h0m-3 18h0m-12 5h0m8-1h0m3 0h0m-9 9h0m2 3h0"/></defs><use href="#q215" stroke="#6e6e6e" stroke-width="2.8"/><use href="#q215" stroke="#860a24" stroke-width="2"/><defs><path id="q216" d="M107 787h0m2-4h0m-11 18h0"/></defs><use href="#q216" stroke="#6e6e6e" stroke-width="2.8"/><use href="#q216" stroke="#bb2a34" stroke-width="2"/><defs><path id="q217" d="M143 750h0m-7 11h0m-17 33h0m3-2h0m1-2h0m4 1h0m1 0h0m-20 5h0m18 7h0m23 13h0"/></defs><use href="#q217" stroke="#6e6e6e" stroke-width="2.8"/><use href="#q217" stroke="#d96651" stroke-width="2"/><defs><path id="q218" d="M96 749h0m27 15h0m-10 24h0m1 0h0m8 0h0m-23 7h0m1-2h0m1-1h0m2-1h0m1 2h0m6 0h0m16 0h0m39-2h0m5 3h0m-76 6h0m9-2h0m3-1h0m4 3h0m6-2h0m1-2h0m4 3h0m11 1h0m47-1h0m-86 6h0m11-3h0m2 0h0m1 1h0m3-1h0m0 2h0m3-1h0m2 1h0m23-2h0m5 5h0m-32 6h0m14-2h0m14-2h0m-51 9h0m17-2h0m4 2h0m12-4h0m4 0h0m-35 9h0m12 0h0m2-4h0m25 5h0m11-2h0m0-2h0m-39 9h0m9 5h0m12-2h0m3 1h0"/></defs><use href="#q218" stroke="#6e6e6e" stroke-width="2.8"/><use href="#q218" stroke="#f19f7e" stroke-width="2"/><defs><path id="q219" d="M100 809h0m-2 10h0m38-2h0m-28 2h0m25 5h0m-16 7h0m-31 5h0m8 0h0m9-3h0m12-2h0m8 2h0m6 2h0m6-2h0m1 2h0m-55 8h0m8-2h0m0-3h0m0-1h0m3 4h0m1-2h0m1 2h0m1-2h0m9 3h0m8-3h0m3 1h0m0-1h0m2-1h0m-25 6h0m1 2h0m4 1h0"/></defs><use href="#q219" stroke="#6e6e6e" stroke-width="2.8"/><use href="#q219" stroke="#faebe3" stroke-width="2"/><defs><path id="q220" d="M156 764h0m-54 23h0m13 14h0m21-3h0m-25 6h0m4 1h0m19 0h0m9 1h0m2 1h0m-52 3h0m33 3h0m19 0h0m-34 5h0m2-1h0m5-3h0m1 5h0m7-1h0m5-1h0m4 1h0m11-3h0m0 2h0m4 1h0m-49 3h0m2 3h0m17-4h0m3 5h0m4-6h0m9 1h0m13 1h0m1 2h0m2-3h0m-67 7h0m9-1h0m14 4h0m3-4h0m7 1h0m2 3h0m0 1h0m5-1h0m13-2h0m10-2h0m1 1h0m-66 6h0m2 0h0m3-2h0m18 5h0m0 1h0m12-1h0m2-1h0m8-2h0m2 1h0m-44 6h0m4-2h0m19 3h0m4 1h0m11-3h0m-37 7h0m3 0h0m16-3h0"/></defs><use href="#q220" stroke="#6e6e6e" stroke-width="2.8"/><use href="#q220" stroke="#fbceb6" stroke-width="2"/><path d="M139 821h0m-11 6h0m-18 9h0m15 0h0m20 1h0m-60 4h0m5 0h0m24 2h0m5-1h0m17-4h0m0 1h0m10 4h0m2 1h0" stroke="#333333" stroke-width="1.7"/><path d="M34 851.7C37.72 851.05 48.22 852.37 56.3 851.7C64.38 851.03 73.75 850.12 82.5 847.7C91.25 845.28 100.03 841.15 108.8 837.2C117.57 833.25 127.22 828.82 135.1 824C142.98 819.18 149.97 813.97 156.1 808.3C162.23 802.63 167.52 795.68 171.9 790C176.28 784.32 179.78 777.72 182.4 774.2C185.02 770.68 185.63 768.47 187.6 768.9C189.57 769.33 192.88 770.67 194.2 776.8C195.52 782.93 195.5 794.33 195.5 805.7C195.5 817.07 195.07 835.37 194.2 845C193.33 854.63 193.15 857.78 190.3 863.5C187.45 869.22 184.12 874.92 177.1 879.3C170.08 883.68 158.27 887.62 148.2 889.8C138.13 891.98 127.65 892.85 116.7 892.4C105.75 891.95 92.57 889.73 82.5 887.1C72.43 884.47 63.3 880.1 56.3 876.6C49.3 873.1 44.22 869.6 40.5 866.1C36.78 862.6 35.08 858 34 855.6C32.92 853.2 30.28 852.35 34 851.7Z" fill="none" stroke="#1b1b1b" stroke-width="2.6" stroke-dasharray="5.2 3.4" stroke-linecap="butt"/><path d="M78.6 847.7C78.38 841.58 78.8 819.25 81.2 808.3C83.6 797.35 88.83 788.57 93 782C97.17 775.43 101.82 771.65 106.2 768.9C110.58 766.15 114.48 765.5 119.3 765.5C124.12 765.5 130.07 766.8 135.1 768.9C140.13 771 145.78 774.58 149.5 778.1C153.22 781.62 156.73 785.85 157.4 790C158.07 794.15 155.9 798.63 153.5 803C151.1 807.37 146.95 812.7 143 816.2C139.05 819.7 134.63 821.6 129.8 824C124.97 826.4 119.68 828.18 114 830.6C108.32 833.02 100.95 836.1 95.7 838.5C90.45 840.9 85.35 843.47 82.5 845C79.65 846.53 78.82 853.82 78.6 847.7Z" fill="none" stroke="#1b1b1b" stroke-width="2.6" stroke-dasharray="5.2 3.4" stroke-linecap="butt"/><text x="110.6" y="761" font-size="10.7" font-weight="bold">G2/M</text><text x="182.5" y="764.7" font-size="10.7" font-weight="bold">G1</text><clipPath id="fl1110"><circle cx="38.5" cy="725" r="3.7"/></clipPath><g clip-path="url(#fl1110)"><rect x="34.8" y="721.3" width="2.67" height="7.4" fill="#3a78b8"/><rect x="37.27" y="721.3" width="2.67" height="7.4" fill="#f4f4f4"/><rect x="39.73" y="721.3" width="2.47" height="7.4" fill="#d8554a"/></g><text x="46.4" y="727.7" font-size="9.6">day 14</text><circle cx="38.5" cy="734.7" r="3.7" fill="#1a1a1a"/><text x="45.9" y="737.2" font-size="9.6">untreated</text><defs><linearGradient id="cbh" x1="0" y1="1" x2="0" y2="0"><stop offset="0.0" stop-color="#053061"/><stop offset="0.1" stop-color="#2166ac"/><stop offset="0.2" stop-color="#4393c3"/><stop offset="0.3" stop-color="#92c5de"/><stop offset="0.4" stop-color="#d1e5f0"/><stop offset="0.5" stop-color="#f7f7f7"/><stop offset="0.6" stop-color="#fddbc7"/><stop offset="0.7" stop-color="#f4a582"/><stop offset="0.8" stop-color="#d6604d"/><stop offset="0.9" stop-color="#b2182b"/><stop offset="1.0" stop-color="#67001f"/></linearGradient></defs><rect x="213.4" y="763.1" width="8" height="128.4" fill="url(#cbh)" stroke="#777" stroke-width="0.5"/><path d="M221.4 891.8H224" stroke="#444" stroke-width="0.7" stroke-linecap="butt"/><text x="225.3" y="894.9" font-size="8.6">0.0</text><path d="M221.4 857.8H224" stroke="#444" stroke-width="0.7" stroke-linecap="butt"/><text x="225.3" y="860.9" font-size="8.6">0.4</text><path d="M221.4 823.8H224" stroke="#444" stroke-width="0.7" stroke-linecap="butt"/><text x="225.3" y="826.9" font-size="8.6">0.8</text><path d="M221.4 789.8H224" stroke="#444" stroke-width="0.7" stroke-linecap="butt"/><text x="225.3" y="792.9" font-size="8.6">1.2</text><text x="212.3" y="748.2" font-size="9.6">DAPI</text><text x="212.3" y="758" font-size="9.6">1e6</text><path d="M262.5 734.5L356 719.4L446.6 737.5L436.5 873L357.3 930.3L274 871Z" fill="#e5ecf6"/><path d="M303.64 727.86L309.42 846.8M329.82 723.63L331.96 831.4M263.64 748L355.85 728.95M266.92 787L355.42 756.55M269.87 822L355.04 781.32M272.65 855L354.68 804.68M383.18 724.83L379.1 833.1M410.36 730.26L403.7 850.2M355.85 728.95L445.6 750.9M355.42 756.55L442.72 789.62M355.04 781.32L440.13 824.36M354.68 804.68L437.68 857.12M381.56 834.81L301.49 890.57M327.94 834.15L410.36 891.91M413.54 857.04L333.98 913.7M296.54 855.6L379.48 914.26M356 719.4L354.5 816M274 871L354.5 816L436.5 873" stroke="#fff" stroke-width="0.9" fill="none" stroke-linecap="butt"/><text x="265" y="754.4" font-size="9" text-anchor="middle">30</text><text x="265" y="794" font-size="9" text-anchor="middle">20</text><text x="265" y="829.3" font-size="9" text-anchor="middle">10</text><text x="265" y="862.9" font-size="9" text-anchor="middle">0</text><text transform="translate(254.5 805.9) rotate(-90)" font-size="9.6" text-anchor="middle">Vim (RFI)</text><text x="285.3" y="911.7" font-size="9.3">PHATE2</text><text x="400.5" y="911.7" font-size="9.3">PHATE1</text><defs><path id="q221" d="M337 887h0m26-1h0"/></defs><use href="#q221" stroke="#6e6e6e" stroke-width="2.8"/><use href="#q221" stroke="#4a97c5" stroke-width="2"/><defs><path id="q222" d="M290 872h0m4-4h0m40-1h0m13 5h0m-41 2h0m22 1h0m8 3h0m34 0h0m2-2h0m3 2h0m20-2h0m4 1h0m13 0h0m-102 2h0m3 2h0m4 1h0m12-3h0m32 6h0m2-4h0m23-1h0m6 3h0m3 1h0m-74 4h0m8-2h0m10 1h0m9-1h0m12 0h0m3 2h0m4 0h0m1-1h0m22 0h0m-35 4h0m4 2h0"/></defs><use href="#q222" stroke="#6e6e6e" stroke-width="2.8"/><use href="#q222" stroke="#8bc1dc" stroke-width="2"/><defs><path id="q223" d="M421 813h0"/></defs><use href="#q223" stroke="#6e6e6e" stroke-width="2.8"/><use href="#q223" stroke="#bb2a34" stroke-width="2"/><defs><path id="q224" d="M387 852h0m3 3h0m3-1h0m-109 6h0m17-2h0m76 1h0m30 0h0m13-1h0m9-3h0m-145 9h0m5 1h0m12-3h0m5 3h0m15-1h0m7 2h0m11 0h0m49-5h0m22 5h0m16-5h0m-139 9h0m1 2h0m0-3h0m4-2h0m3 4h0m11 2h0m25-1h0m10-2h0m5 2h0m3-3h0m13-1h0m25 0h0m2 5h0m1-2h0m7-1h0m1 1h0m3-2h0m0 0h0m11-2h0m4 0h0m7 5h0m2 0h0m-130 3h0m6 2h0m0 1h0m5-1h0m12 2h0m14-2h0m22-2h0m3-1h0m1 3h0m3-4h0m12 2h0m5 0h0m11-1h0m3 3h0m3 1h0m3-1h0m7-4h0m-97 8h0m6 0h0m4 3h0m3-5h0m3 4h0m12 1h0m10 1h0m3 0h0m4-4h0m1 4h0m5-6h0m1 2h0m1 0h0m2-2h0m4 1h0m0 4h0m2-4h0m5 2h0m13 0h0m4-3h0m6 3h0m-71 4h0m3 2h0m17 1h0m3 0h0m4-2h0m5 2h0m1-2h0m5 3h0m7-3h0m7 1h0"/></defs><use href="#q224" stroke="#6e6e6e" stroke-width="2.8"/><use href="#q224" stroke="#c1ddec" stroke-width="2"/><defs><path id="q225" d="M408 812h0m20-1h0m-24 5h0"/></defs><use href="#q225" stroke="#6e6e6e" stroke-width="2.8"/><use href="#q225" stroke="#d96651" stroke-width="2"/><defs><path id="q226" d="M357 843h0m14-4h0m5 3h0m10 0h0m6 0h0m13-2h0m-46 8h0m23-4h0m1 0h0m3 5h0m6 0h0m1 0h0m0-4h0m2 3h0m16-1h0m16 0h0m-104 7h0m2 1h0m3-5h0m20 0h0m2 4h0m10-4h0m10 1h0m6 0h0m23 3h0m3-5h0m5 0h0m3 5h0m6-5h0m4 4h0m-144 5h0m1 2h0m2-1h0m5 1h0m1-2h0m3 0h0m10 2h0m9 0h0m1-5h0m17 0h0m5 2h0m3 0h0m1 2h0m1 0h0m2-2h0m1 2h0m3 2h0m5 0h0m11-3h0m4 1h0m6 1h0m7-2h0m11-1h0m2 0h0m13 2h0m1-3h0m1-1h0m0 6h0m2-4h0m1 0h0m5-1h0m6 5h0m4-1h0m10-1h0m-148 3h0m3 2h0m8-1h0m5 1h0m1-2h0m5 1h0m2 2h0m5-3h0m7 5h0m2-3h0m5 0h0m10-1h0m1-1h0m4 2h0m7 2h0m3-5h0m19 6h0m1-3h0m0-2h0m5 4h0m1 0h0m11-4h0m14-1h0m3 5h0m0-2h0m3 3h0m2-5h0m7 4h0m2-5h0m1 2h0m2 3h0m7 0h0m-139 5h0m39 0h0m7-2h0m2 4h0m6-4h0m4 3h0m3 0h0m4 0h0m17-5h0m1 0h0m3 4h0m6-1h0m2 2h0m1-1h0m1 0h0m9 0h0m3-1h0m1 1h0m9 1h0m0-3h0m4 2h0m2-2h0m2 2h0m-85 4h0m10-2h0m32 5h0m17-1h0m3-2h0m8-1h0m4 2h0m7-2h0m-109 6h0m25 1h0m21 3h0m5 0h0m-27 3h0m42 0h0"/></defs><use href="#q226" stroke="#6e6e6e" stroke-width="2.8"/><use href="#q226" stroke="#e7f0f4" stroke-width="2"/><defs><path id="q227" d="M405 812h0m4-3h0m6 0h0m10 2h0m-12 5h0m19 0h0m-8 4h0m-17 9h0m21 0h0m-47 5h0m19-1h0m13 0h0"/></defs><use href="#q227" stroke="#6e6e6e" stroke-width="2.8"/><use href="#q227" stroke="#f19f7e" stroke-width="2"/><defs><path id="q228" d="M412 829h0m10 1h0m3 0h0m3 1h0m3-1h0m-45 6h0m12-1h0m11-2h0m4-2h0m12 3h0m3 0h0m3-1h0m-72 10h0m2-4h0m4 0h0m1 0h0m18 1h0m1-2h0m5 0h0m2-1h0m10 3h0m2 0h0m7 2h0m11 0h0m3-1h0m5-1h0m3 2h0m-95 3h0m11-1h0m7 2h0m5-3h0m15 2h0m15-1h0m1 0h0m3 4h0m0-5h0m13 1h0m3 1h0m8 2h0m2-2h0m9 2h0m2 2h0m-114 5h0m3-2h0m3 3h0m21-1h0m9-4h0m0-1h0m17 0h0m5 2h0m2 3h0m9-2h0m10-1h0m12 1h0m1-2h0m3 4h0m3-2h0m7 0h0m2 1h0m7-1h0m0-2h0m-151 10h0m2-2h0m13-1h0m7-1h0m25 1h0m14 4h0m2-4h0m27 0h0m8 1h0m15 1h0m2-2h0m2 2h0m9 1h0m17-5h0m3 5h0m-148 2h0m7 4h0m6-5h0m47 5h0m43 0h0m27-1h0m9-1h0m-124 7h0m22-2h0"/></defs><use href="#q228" stroke="#6e6e6e" stroke-width="2.8"/><use href="#q228" stroke="#faebe3" stroke-width="2"/><defs><path id="q229" d="M406 816h0m23-1h0m0 3h0m-20 6h0m3-4h0m11 0h0m-31 11h0m13-1h0m12 0h0m5-3h0m2 2h0m5 2h0m-55 4h0m1 0h0m9-2h0m3 2h0m2-3h0m3 1h0m12-1h0m14 2h0m1-1h0m4-2h0m2 6h0m2-2h0m5-3h0m-45 9h0m5-2h0m6 3h0m3-1h0m-48 3h0m3 2h0m9-2h0m2 4h0m2-4h0m52 3h0m1-4h0"/></defs><use href="#q229" stroke="#6e6e6e" stroke-width="2.8"/><use href="#q229" stroke="#fbceb6" stroke-width="2"/><path d="M400 834h0m7 0h0m13 0h0m-55 3h0m16 6h0m16-3h0m21 2h0m-92 5h0m4 1h0m4-2h0m10-1h0m11-1h0m12 2h0m7-1h0m11 1h0m19-2h0m20 1h0m-113 7h0m33-3h0m1 3h0m25-2h0m16 4h0m2 0h0m7-1h0m-56 7h0m17-2h0m39-1h0m3 0h0m6 0h0m5 2h0m-86 5h0m16 1h0m16-1h0m42 3h0m33-1h0m-133 2h0m7 0h0m64-1h0m28 2h0m28-1h0" stroke="#333333" stroke-width="1.7"/><defs><path id="q230" d="M339 885h0"/></defs><use href="#q230" stroke="#6e6e6e" stroke-width="2.8"/><use href="#q230" stroke="#4a97c5" stroke-width="2"/><defs><path id="q231" d="M323 873h0m9-1h0m-21 7h0m25-1h0m15 0h0m22-1h0m11 0h0m10 1h0m1 0h0m2-3h0m3 3h0m10-2h0m3 0h0m7-2h0m-103 9h0m9 0h0m26 2h0m2-4h0m37 3h0m2-4h0m16 2h0m-70 5h0m5 1h0m21-2h0m3 0h0"/></defs><use href="#q231" stroke="#6e6e6e" stroke-width="2.8"/><use href="#q231" stroke="#8bc1dc" stroke-width="2"/><defs><path id="q232" d="M350 850h0m15 4h0m7 0h0m-86 6h0m13-1h0m56 1h0m8-4h0m20-1h0m18 2h0m13 3h0m-134 3h0m15 3h0m14-1h0m2 2h0m41-4h0m3-1h0m14 1h0m1 1h0m45 0h0m6-2h0m-134 6h0m6 0h0m0 1h0m6 2h0m10-4h0m1 4h0m3 2h0m8-5h0m0 1h0m5 2h0m4 0h0m8 0h0m19 1h0m3-4h0m1 0h0m1 3h0m1 0h0m1 1h0m5-4h0m5 2h0m9 0h0m22 1h0m6-4h0m7 4h0m4 0h0m4-1h0m-136 6h0m9 2h0m5-2h0m1-1h0m2 1h0m12-3h0m18 4h0m28-1h0m4-1h0m2 1h0m0-1h0m1 3h0m2-4h0m5-1h0m3 1h0m1 2h0m10-2h0m18-1h0m9 2h0m-115 4h0m1 0h0m8 3h0m3 0h0m7-1h0m2 1h0m4-3h0m5 4h0m5-3h0m0 2h0m8-2h0m6 5h0m4-3h0m1 0h0m6 0h0m5 3h0m17-5h0m4 3h0m14-1h0m-51 9h0m0-3h0m0 0h0m2 0h0m3 2h0m8-2h0m8 0h0m0-3h0"/></defs><use href="#q232" stroke="#6e6e6e" stroke-width="2.8"/><use href="#q232" stroke="#c1ddec" stroke-width="2"/><defs><path id="q233" d="M410 804h0m5-3h0m13 0h0m1 12h0m0-4h0"/></defs><use href="#q233" stroke="#6e6e6e" stroke-width="2.8"/><use href="#q233" stroke="#d96651" stroke-width="2"/><defs><path id="q234" d="M413 834h0m-8 4h0m15 5h0m-61 4h0m3-1h0m4 0h0m7 1h0m2 1h0m10 1h0m2-2h0m10 0h0m2-1h0m2-1h0m15 2h0m-108 8h0m7-2h0m6 0h0m12 2h0m21-5h0m4 1h0m5 0h0m2-2h0m0 1h0m9 2h0m8-1h0m4-1h0m10 1h0m1-2h0m0 0h0m3 4h0m2-1h0m0 2h0m6 0h0m5-1h0m3-1h0m-133 6h0m2 1h0m1-2h0m2 4h0m3-3h0m0 1h0m8 0h0m1-2h0m2 2h0m11-4h0m3 5h0m2-3h0m12 0h0m4 1h0m2 1h0m7-3h0m19 5h0m13-1h0m13-1h0m18 1h0m5-3h0m0-2h0m4 3h0m1 3h0m2-3h0m13-1h0m0 2h0m-111 4h0m8 2h0m2-1h0m7 0h0m9 2h0m1-1h0m1-2h0m0 3h0m5-2h0m11 1h0m5 1h0m3-4h0m10 5h0m3 0h0m1-3h0m1 1h0m24-4h0m8 4h0m4-1h0m0-2h0m-139 6h0m25-1h0m13 2h0m2-1h0m2 2h0m0 0h0m13 0h0m0 3h0m2-3h0m5 2h0m14-1h0m1-2h0m1 3h0m10-3h0m1 2h0m6-2h0m12 4h0m9-6h0m2 0h0m3 2h0m0 0h0m6 1h0m2 0h0m1 0h0m5 0h0m-117 6h0m12-2h0m5-1h0m33 4h0m25-2h0m11 1h0m4 2h0m20-5h0m-91 10h0m9-3h0m7 0h0m9 1h0m11-1h0m19 1h0m19-1h0m15 0h0m-75 9h0m56-3h0"/></defs><use href="#q234" stroke="#6e6e6e" stroke-width="2.8"/><use href="#q234" stroke="#e7f0f4" stroke-width="2"/><defs><path id="q235" d="M421 795h0m-14 11h0m0 6h0m20 3h0m-3 15h0m-36 5h0m8-4h0"/></defs><use href="#q235" stroke="#6e6e6e" stroke-width="2.8"/><use href="#q235" stroke="#f19f7e" stroke-width="2"/><defs><path id="q236" d="M431 825h0m-36 5h0m6 1h0m20-3h0m-52 8h0m5 0h0m4 0h0m6 1h0m2-4h0m19 0h0m1 2h0m1 0h0m8-2h0m4 2h0m1 0h0m3 2h0m4-1h0m-75 5h0m8-2h0m3 2h0m1 0h0m2-4h0m11 6h0m13-2h0m26-1h0m12 3h0m3-1h0m-99 7h0m6-2h0m1 2h0m5-2h0m4-1h0m1 3h0m49-5h0m5 2h0m4-1h0m3 2h0m4-4h0m3 4h0m13-4h0m1 6h0m-123 6h0m20-5h0m2 4h0m3 1h0m2-6h0m2 1h0m18-1h0m0 2h0m6 2h0m3 2h0m0-3h0m0-1h0m1 0h0m4 4h0m6-3h0m2-1h0m10-1h0m10 3h0m5 0h0m7 0h0m12-1h0m0-1h0m0 2h0m-121 3h0m2 0h0m17 0h0m7 2h0m15-2h0m1 2h0m14-1h0m1 1h0m2-1h0m6-2h0m8 1h0m3 3h0m6 2h0m5-5h0m1 0h0m9 1h0m7 0h0m20-2h0m-63 10h0m21-2h0m5-2h0m13 0h0m4 2h0m11-1h0m-126 7h0m35 3h0m48-5h0m50 5h0m-44 7h0"/></defs><use href="#q236" stroke="#6e6e6e" stroke-width="2.8"/><use href="#q236" stroke="#faebe3" stroke-width="2"/><defs><path id="q237" d="M433 800h0m-14 5h0m-11 13h0m9 2h0m-16 8h0m5 3h0m6-5h0m-26 8h0m3 3h0m2-4h0m1 2h0m0-4h0m14 0h0m0 6h0m13-5h0m0 0h0m6 4h0m7-1h0m1 0h0m-71 7h0m8-5h0m17 4h0m37 1h0m4 1h0m1-5h0m-91 9h0m9-3h0m28 3h0m47 3h0m-124 7h0"/></defs><use href="#q237" stroke="#6e6e6e" stroke-width="2.8"/><use href="#q237" stroke="#fbceb6" stroke-width="2"/><path d="M418 834h0m1 3h0m7-6h0m-73 12h0m10-5h0m26 4h0m2-5h0m2 6h0m18-1h0m2-3h0m8 1h0m0-2h0m2 1h0m2-1h0m1 4h0m0-1h0m-69 3h0m6 3h0m40-1h0m8 1h0m12-3h0m4 3h0m-125 7h0m8-4h0m7 4h0m5-3h0m31 3h0m11 0h0m28-3h0m15 1h0m9 2h0m-108 7h0m2 0h0m3-3h0m5 0h0m47-1h0m1 0h0m32 3h0m2-2h0m17 1h0m2-4h0m5 1h0m4 2h0m1 3h0m-113 0h0m5 1h0m3 2h0m29 0h0m9 3h0m9-1h0m23 0h0m11-4h0m13 0h0m13 4h0m-109 3h0m9 0h0m71 0h0" stroke="#333333" stroke-width="1.7"/><defs><path id="q238" d="M387 866h0m-92 6h0m1 1h0m65-3h0m36-2h0m-97 10h0m50-4h0m29 0h0m8 4h0m3-2h0m17 2h0m-89 7h0m40-2h0m14 1h0m9-4h0m1 1h0m18 1h0m-78 5h0m18-2h0m1 4h0m15 1h0m6 0h0m6-4h0m8 0h0"/></defs><use href="#q238" stroke="#6e6e6e" stroke-width="2.8"/><use href="#q238" stroke="#8bc1dc" stroke-width="2"/><defs><path id="q239" d="M427 850h0m4 4h0m-141 5h0m13-2h0m11 2h0m35-1h0m13 0h0m17-1h0m38 3h0m15 1h0m-147 3h0m5-2h0m10 0h0m2 3h0m11 0h0m7-2h0m1 2h0m11-3h0m17 4h0m15 0h0m11-2h0m1-3h0m7 6h0m5-3h0m34 0h0m-129 9h0m1-2h0m13 1h0m5-3h0m5-1h0m2 2h0m10 3h0m6-4h0m9 1h0m18 2h0m7 0h0m2-1h0m2 1h0m2-5h0m19 3h0m8 3h0m8-2h0m12 1h0m-109 5h0m3 0h0m0 1h0m17 1h0m8-1h0m2-1h0m7 1h0m4-2h0m5 1h0m7-1h0m3 0h0m1-1h0m4 1h0m17 1h0m10 2h0m0-5h0m8 2h0m1-1h0m-106 6h0m1 1h0m13-1h0m2-1h0m6 5h0m0-1h0m3-5h0m1 4h0m8-2h0m3-1h0m2 4h0m2-5h0m22 0h0m4 2h0m19 0h0m15 0h0m-88 5h0m3 2h0m16-3h0m7 3h0m3-2h0m1 1h0m3-2h0m7 0h0m1 2h0m2 0h0m9 1h0m1 1h0m2-2h0m17 0h0"/></defs><use href="#q239" stroke="#6e6e6e" stroke-width="2.8"/><use href="#q239" stroke="#c1ddec" stroke-width="2"/><defs><path id="q240" d="M409 802h0m8 4h0m9 3h0"/></defs><use href="#q240" stroke="#6e6e6e" stroke-width="2.8"/><use href="#q240" stroke="#d96651" stroke-width="2"/><defs><path id="q241" d="M383 836h0m43 0h0m-73 6h0m70-3h0m-66 5h0m4 4h0m11-3h0m11 0h0m6 2h0m1 0h0m5 0h0m12-4h0m16 4h0m-93 8h0m14-1h0m0-2h0m13 0h0m5-2h0m11 1h0m4 4h0m5-1h0m13-4h0m5 0h0m2 3h0m1-4h0m2 4h0m0 0h0m20-4h0m-149 10h0m3-1h0m1 0h0m11 1h0m9 0h0m13-3h0m9 3h0m1-2h0m1 0h0m2 0h0m1-1h0m1 3h0m7 1h0m2-1h0m1 0h0m3-1h0m2-1h0m6 1h0m1 3h0m5-3h0m1 1h0m0-2h0m4-1h0m3 0h0m1 5h0m5-2h0m9 0h0m11-1h0m2-1h0m0 1h0m6-2h0m4 1h0m2 0h0m12 0h0m8 0h0m-141 7h0m6-2h0m5 0h0m8-1h0m4 2h0m6-1h0m7 4h0m4-2h0m2-1h0m13-1h0m1 2h0m6-3h0m0 2h0m4 2h0m3-4h0m9 4h0m1-2h0m8 1h0m9-2h0m1 1h0m11 0h0m9 1h0m4-1h0m1 1h0m8 0h0m3 0h0m1-2h0m9 0h0m1 0h0m3 3h0m1-3h0m-138 8h0m3 3h0m7-5h0m12 3h0m2-2h0m0 0h0m6-1h0m0 1h0m8-2h0m3 5h0m7 0h0m8-4h0m0 4h0m4-2h0m4 1h0m6 1h0m0-5h0m5 2h0m1 0h0m18 4h0m7-5h0m1 0h0m15 3h0m4 2h0m11-5h0m-116 7h0m18-2h0m9 1h0m17 1h0m14-1h0m15 4h0m27-3h0m-62 6h0m27-1h0m25 0h0"/></defs><use href="#q241" stroke="#6e6e6e" stroke-width="2.8"/><use href="#q241" stroke="#e7f0f4" stroke-width="2"/><defs><path id="q242" d="M428 791h0m0 2h0m-11 8h0m1-2h0m-5 8h0m-5 4h0m-3 4h0m5 2h0m13 11h0m-26 5h0m7 3h0m-43 12h0"/></defs><use href="#q242" stroke="#6e6e6e" stroke-width="2.8"/><use href="#q242" stroke="#f19f7e" stroke-width="2"/><defs><path id="q243" d="M417 824h0m-17 3h0m9 2h0m-34 5h0m7 1h0m4-2h0m20 1h0m4 1h0m9 0h0m8-3h0m4 4h0m-70 3h0m2 0h0m6 3h0m0 0h0m0-4h0m7 0h0m1 5h0m5-4h0m10 1h0m2-1h0m1 1h0m0-1h0m2 3h0m14 1h0m0-5h0m0 3h0m4 0h0m2-1h0m0 2h0m4 0h0m0-4h0m2 5h0m8-2h0m2 0h0m-85 7h0m2-3h0m6 0h0m1 4h0m8-6h0m34 0h0m14 3h0m0-1h0m4 2h0m5-2h0m6 1h0m3 2h0m1-1h0m-111 7h0m0 0h0m18-1h0m4-1h0m6-1h0m8 1h0m0 1h0m0 2h0m8-3h0m3-2h0m5 2h0m1 0h0m14-1h0m5 2h0m7-1h0m3 1h0m3 2h0m11-2h0m5 1h0m7-3h0m3 3h0m-139 5h0m2 2h0m3-4h0m8 0h0m16-1h0m3 3h0m1-3h0m16 3h0m23 0h0m21-1h0m4 1h0m36-4h0m-144 8h0m2 0h0m13 0h0m1 2h0m98 2h0m23 4h0m-56 7h0m-17 2h0"/></defs><use href="#q243" stroke="#6e6e6e" stroke-width="2.8"/><use href="#q243" stroke="#faebe3" stroke-width="2"/><defs><path id="q244" d="M414 809h0m5 0h0m-1 7h0m-10 3h0m11 11h0m1 0h0m6-3h0m1 1h0m-54 7h0m24-2h0m4 2h0m7 0h0m3-4h0m11 2h0m11 2h0m-62 4h0m5-2h0m28 2h0m0 2h0m12-2h0m-73 10h0m0-5h0m14 0h0m26 5h0m2-2h0m9-2h0m20-2h0m9 3h0m9-2h0m-33 8h0"/></defs><use href="#q244" stroke="#6e6e6e" stroke-width="2.8"/><use href="#q244" stroke="#fbceb6" stroke-width="2"/><path d="M388 834h0m10 1h0m1-2h0m8 3h0m5-3h0m-51 8h0m4 2h0m0-2h0m1-1h0m1 2h0m15-4h0m6 0h0m19 3h0m7 2h0m-55 2h0m20 4h0m7-4h0m36-1h0m6 2h0m-102 8h0m34 0h0m1-2h0m1 0h0m2-2h0m2 2h0m14-3h0m10 4h0m2-1h0m11-2h0m16 3h0m-116 3h0m12 3h0m12 0h0m3-1h0m1 2h0m3 1h0m13-4h0m19 4h0m11-5h0m53 3h0m1 0h0m1-1h0m-124 5h0m8 0h0m13 2h0m15-3h0m5 1h0m0 2h0m57-1h0m14 0h0m-103 5h0m3 1h0m9-1h0m6 1h0m4-1h0m24 1h0m22-1h0" stroke="#333333" stroke-width="1.7"/><defs><path id="q245" d="M340 859h0m46 5h0m-26 6h0m7 2h0m16 0h0m38-2h0m-113 9h0m22-6h0m3 6h0m12-5h0m18 4h0m20-2h0m-53 5h0m1 4h0m2-2h0m8-1h0m8 1h0m7 2h0m1-1h0m6-4h0m12 5h0m2-4h0m28 2h0m-79 5h0m13 2h0m5-3h0m9 2h0m2-1h0m8 0h0m2 0h0m2 3h0m-4 1h0"/></defs><use href="#q245" stroke="#6e6e6e" stroke-width="2.8"/><use href="#q245" stroke="#8bc1dc" stroke-width="2"/><defs><path id="q246" d="M332 851h0m32 2h0m-70 4h0m8 0h0m58 3h0m2-1h0m51-1h0m-127 6h0m2-1h0m0 1h0m0 3h0m9-1h0m8 0h0m48-1h0m0-1h0m4 2h0m12-1h0m3-3h0m16 1h0m4 2h0m1 0h0m3 0h0m2 0h0m2-3h0m28 3h0m-123 7h0m7-1h0m2-2h0m4 4h0m1-3h0m0 0h0m2 2h0m10-1h0m12-2h0m5 2h0m19-3h0m2 1h0m1 1h0m8 2h0m18-3h0m0 0h0m2-1h0m9 3h0m6 0h0m1-2h0m3-1h0m5 2h0m5-2h0m-136 6h0m25 3h0m2 0h0m3-2h0m12-1h0m1 3h0m3-4h0m2 4h0m9 0h0m2-1h0m6 0h0m2 3h0m1-1h0m1 0h0m18-2h0m11 0h0m19-3h0m5 2h0m2-1h0m2 0h0m5-1h0m-122 6h0m13 1h0m7 1h0m6-2h0m8 6h0m9-3h0m3 0h0m1 1h0m1 0h0m3 1h0m3 0h0m2-4h0m5 1h0m7 2h0m18 1h0m12 0h0m2-1h0m5 0h0m-84 5h0m27-2h0m2 3h0m33-1h0m2 0h0"/></defs><use href="#q246" stroke="#6e6e6e" stroke-width="2.8"/><use href="#q246" stroke="#c1ddec" stroke-width="2"/><defs><path id="q247" d="M425 786h0m-2 8h0m6-2h0m-18 7h0m11-1h0m4-2h0m-3 8h0"/></defs><use href="#q247" stroke="#6e6e6e" stroke-width="2.8"/><use href="#q247" stroke="#d96651" stroke-width="2"/><defs><path id="q248" d="M372 835h0m3 6h0m20-3h0m6 0h0m-60 7h0m6 1h0m26-1h0m1 0h0m19-1h0m14 3h0m18-4h0m2 4h0m1-1h0m-124 9h0m10-1h0m25-1h0m13-3h0m24 4h0m3 0h0m4-5h0m1 6h0m11 0h0m4-3h0m1-3h0m9 5h0m1-2h0m8 1h0m6-2h0m2 0h0m-144 9h0m15 0h0m2 0h0m0 0h0m2 1h0m3-5h0m4 2h0m33 2h0m2 0h0m9-2h0m11-2h0m0 0h0m9 0h0m3 4h0m12-5h0m8 2h0m5 3h0m9 0h0m0-4h0m2 1h0m1 1h0m10 1h0m2-1h0m1 1h0m0-3h0m-139 7h0m10 1h0m18-3h0m2 3h0m3-3h0m0 6h0m10-6h0m1 4h0m1-3h0m4 1h0m5 0h0m3 1h0m0-3h0m4 4h0m13 1h0m1-1h0m5 1h0m9-3h0m7 3h0m2-1h0m10 1h0m0 1h0m5-3h0m10 1h0m6 0h0m4-3h0m1 0h0m7 0h0m2 1h0m-141 9h0m2-4h0m2-1h0m1 3h0m4 1h0m3 1h0m7-1h0m15-2h0m10 1h0m12-2h0m3 3h0m13-2h0m1 0h0m16-1h0m3 5h0m20-5h0m3 0h0m13 4h0m1-1h0m3 1h0m1 0h0m0-1h0m6 0h0m-118 5h0m1-1h0m12 3h0m0-2h0m1-3h0m37 1h0m9 1h0m8-1h0m6 3h0m21-3h0m19 1h0m-116 6h0m96-2h0m-53 7h0m3 0h0"/></defs><use href="#q248" stroke="#6e6e6e" stroke-width="2.8"/><use href="#q248" stroke="#e7f0f4" stroke-width="2"/><defs><path id="q249" d="M416 798h0m-2 6h0m18 3h0m-14 3h0m3 8h0m-4 6h0m-4 6h0m8 2h0m5-1h0m4 8h0"/></defs><use href="#q249" stroke="#6e6e6e" stroke-width="2.8"/><use href="#q249" stroke="#f19f7e" stroke-width="2"/><defs><path id="q250" d="M426 822h0m-20 6h0m2-1h0m10-1h0m-50 10h0m9-2h0m6-1h0m15 4h0m2-2h0m1-1h0m2-3h0m4 5h0m1 1h0m16-4h0m7 3h0m-79 6h0m9-4h0m10 1h0m9-1h0m2 4h0m29-3h0m14-1h0m-69 10h0m3-1h0m4 2h0m4 0h0m6-5h0m2 0h0m5 0h0m4 0h0m3 0h0m11 1h0m2 2h0m0-3h0m3 2h0m6-1h0m16 4h0m4-3h0m1 2h0m-118 6h0m9 1h0m6-4h0m2 0h0m3-1h0m1 4h0m7 0h0m6-1h0m7-1h0m10 2h0m2-4h0m12 1h0m0 2h0m1-2h0m12 1h0m1-3h0m1 2h0m6 3h0m13 0h0m9-2h0m-129 4h0m0 2h0m1 2h0m8-3h0m17-1h0m6 2h0m4 0h0m2-1h0m4 0h0m14-2h0m4 0h0m7 2h0m4 2h0m2 0h0m1-3h0m3 2h0m25 0h0m3-3h0m-113 10h0m41 2h0m7-4h0m1 3h0m36-3h0m24-2h0m27 4h0m-118 8h0m34-6h0"/></defs><use href="#q250" stroke="#6e6e6e" stroke-width="2.8"/><use href="#q250" stroke="#faebe3" stroke-width="2"/><defs><path id="q251" d="M418 815h0m2 3h0m5-2h0m-24 11h0m7 2h0m13 0h0m2 0h0m4-2h0m-37 6h0m10 0h0m2 1h0m5 2h0m4-4h0m4 4h0m0-3h0m0 0h0m2 0h0m4-1h0m5 1h0m-43 4h0m14 2h0m2 0h0m2 0h0m-54 10h0m29-1h0m14-5h0m22 3h0m11-2h0m8-1h0m-49 12h0m15-4h0m29-1h0m4 1h0m-65 4h0m49 1h0m16 2h0"/></defs><use href="#q251" stroke="#6e6e6e" stroke-width="2.8"/><use href="#q251" stroke="#fbceb6" stroke-width="2"/><path d="M372 837h0m24-1h0m20 0h0m9-4h0m-69 11h0m25-6h0m-58 12h0m24-5h0m17 2h0m18 3h0m5-1h0m8 0h0m7-5h0m9 5h0m8-2h0m-112 7h0m1-1h0m7-3h0m5 1h0m46 3h0m2-1h0m12-2h0m6 4h0m6-4h0m9 4h0m25-1h0m-117 4h0m8 3h0m66-3h0m10 3h0m8 0h0m16-5h0m1 1h0m2 4h0m11-5h0m-131 10h0m4-1h0m0-2h0m11 0h0m4 4h0m0 0h0m55-5h0m30 5h0m8 0h0m7 0h0m13-1h0m-120 4h0m73 1h0m18-1h0m3-1h0m2-1h0" stroke="#333333" stroke-width="1.7"/><defs><path id="q252" d="M382 869h0"/></defs><use href="#q252" stroke="#6e6e6e" stroke-width="2.8"/><use href="#q252" stroke="#4a97c5" stroke-width="2"/><defs><path id="q253" d="M392 867h0m-36 6h0m15-3h0m-71 7h0m7-3h0m43 2h0m48 2h0m1-2h0m-87 6h0m10-2h0m6 3h0m1-2h0m5 1h0m7 2h0m9-1h0m8-3h0m1 1h0m4 2h0m3-3h0m27 3h0m3-3h0m-73 6h0m2 1h0m4 1h0m5 1h0m14-3h0m0 0h0m16 0h0m11 0h0m14 0h0"/></defs><use href="#q253" stroke="#6e6e6e" stroke-width="2.8"/><use href="#q253" stroke="#8bc1dc" stroke-width="2"/><defs><path id="q254" d="M390 853h0m3-3h0m9 2h0m-98 5h0m30-2h0m9 4h0m43-1h0m6-2h0m5 1h0m2 3h0m14-1h0m6 1h0m-132 5h0m4-1h0m6-2h0m2 3h0m7 0h0m3-2h0m33 1h0m21 0h0m4 2h0m7 1h0m10-4h0m7 2h0m1-1h0m4 2h0m1-5h0m15 2h0m2-2h0m-129 6h0m3 4h0m3 2h0m3-4h0m17-2h0m7 2h0m1 3h0m3-2h0m1-2h0m4 4h0m3-2h0m6-3h0m10 5h0m8-2h0m1 2h0m2-2h0m3-2h0m6 5h0m5-4h0m2 3h0m7-1h0m3 1h0m11-2h0m10 2h0m2-4h0m1 1h0m0 0h0m3 1h0m5 0h0m10 0h0m0 3h0m2-3h0m-133 6h0m3-3h0m11 2h0m1-1h0m2 2h0m2-1h0m2-1h0m3 3h0m7 0h0m2 0h0m5-4h0m4 1h0m11 5h0m2-1h0m3-2h0m5-2h0m5 1h0m2 4h0m5-2h0m5 0h0m0-3h0m8 4h0m1 0h0m7-4h0m1 1h0m5 2h0m9-2h0m2 1h0m1 0h0m8 1h0m-100 6h0m1 0h0m1-4h0m17 1h0m10 0h0m4 3h0m1 0h0m1 1h0m7-1h0m9-3h0m0 0h0m1 3h0m4-4h0m26 0h0m10 2h0m-77 5h0m10 3h0m2 0h0m1-3h0m23 0h0m14 3h0m2-2h0m9 0h0m2-2h0m2 1h0m-39 6h0"/></defs><use href="#q254" stroke="#6e6e6e" stroke-width="2.8"/><use href="#q254" stroke="#c1ddec" stroke-width="2"/><defs><path id="q255" d="M424 788h0m-5 3h0"/></defs><use href="#q255" stroke="#6e6e6e" stroke-width="2.8"/><use href="#q255" stroke="#d96651" stroke-width="2"/><defs><path id="q256" d="M371 841h0m3 0h0m4-3h0m13 3h0m4-3h0m15 4h0m14 1h0m7-1h0m-94 7h0m9-3h0m15-2h0m17 3h0m36-2h0m13-1h0m3 1h0m-102 7h0m27 3h0m3-2h0m11 1h0m18 1h0m4-2h0m4 0h0m1 2h0m8-3h0m0-1h0m3 3h0m7 1h0m2 0h0m9-2h0m-146 8h0m35 0h0m0-4h0m0 3h0m12-1h0m2 0h0m6-3h0m2 1h0m7 2h0m4-3h0m0 2h0m1-2h0m37 0h0m9 4h0m1-3h0m5 2h0m2 1h0m4 1h0m0 0h0m4-1h0m2-1h0m2-1h0m3 0h0m0-2h0m5 5h0m0-5h0m2 3h0m-143 5h0m0-2h0m3 2h0m8-2h0m11 5h0m4-5h0m0 3h0m6-3h0m11 0h0m6 2h0m7-2h0m2 5h0m1-2h0m1 1h0m5 0h0m12-3h0m2 4h0m2-4h0m2 3h0m12 0h0m0-5h0m3 5h0m8-3h0m5 3h0m5-1h0m5-2h0m0 2h0m15-2h0m0 0h0m4 4h0m6-4h0m-141 5h0m6 2h0m7-2h0m22 4h0m3-2h0m1-2h0m18 4h0m4 1h0m4-2h0m2 0h0m14 2h0m32-3h0m8 0h0m5 0h0m-105 3h0m0 3h0m5 3h0m28-6h0m8 2h0m4 2h0m27 1h0m5-5h0m5 3h0m2-1h0m0 4h0m7-4h0m8 3h0m15-2h0m-85 10h0"/></defs><use href="#q256" stroke="#6e6e6e" stroke-width="2.8"/><use href="#q256" stroke="#e7f0f4" stroke-width="2"/><defs><path id="q257" d="M427 787h0m0 4h0m-16 9h0m5 6h0m1-2h0m1-2h0m2-1h0m-15 10h0m8 1h0m7 0h0m13-4h0m-13 9h0m1-2h0m9 8h0m-17 5h0m17 2h0m-15 12h0"/></defs><use href="#q257" stroke="#6e6e6e" stroke-width="2.8"/><use href="#q257" stroke="#f19f7e" stroke-width="2"/><defs><path id="q258" d="M392 831h0m11-1h0m24 1h0m2-6h0m2 2h0m-49 8h0m8 2h0m6-4h0m13-2h0m19 2h0m4 0h0m0 3h0m-75 3h0m5 1h0m13 1h0m1-3h0m14 0h0m10 3h0m1 0h0m5 1h0m23-1h0m-81 3h0m15 0h0m1 4h0m7-1h0m3-3h0m6 2h0m1-3h0m2 0h0m11 2h0m1-2h0m37 0h0m0 6h0m-120 5h0m7-1h0m27-2h0m18 0h0m1 1h0m1-2h0m3 3h0m11 1h0m2-1h0m1-1h0m0-1h0m4 1h0m6 0h0m1 0h0m2 0h0m9 1h0m3 1h0m11-2h0m-132 5h0m17 4h0m27-5h0m1 2h0m22 1h0m5 2h0m27-3h0m2 2h0m35-5h0m2 4h0m6-3h0m-145 8h0m15-1h0m68 3h0m13 0h0m16-3h0m20-1h0m-91 13h0m48-1h0"/></defs><use href="#q258" stroke="#6e6e6e" stroke-width="2.8"/><use href="#q258" stroke="#faebe3" stroke-width="2"/><defs><path id="q259" d="M414 818h0m15-1h0m-28 7h0m18-2h0m9-2h0m-25 11h0m12-2h0m-38 7h0m4-2h0m3 3h0m4-1h0m4 0h0m6-3h0m8-1h0m4 0h0m5 0h0m8 3h0m0-1h0m3-1h0m5 2h0m-72 6h0m19-3h0m33 4h0m9-1h0m-64 5h0m5-3h0m60 5h0m-49 2h0m23 1h0m21-1h0m8 0h0m-47 12h0"/></defs><use href="#q259" stroke="#6e6e6e" stroke-width="2.8"/><use href="#q259" stroke="#fbceb6" stroke-width="2"/><path d="M407 832h0m8 0h0m15 2h0m-69 8h0m13-2h0m5 2h0m51-2h0m-84 3h0m26 4h0m16-4h0m15 3h0m3 2h0m5 1h0m1-5h0m6 4h0m11-1h0m-108 5h0m15 1h0m28 0h0m9-1h0m14 2h0m7-5h0m4 2h0m2 2h0m0-1h0m-99 3h0m7 6h0m20-2h0m5 2h0m3-1h0m23 0h0m11-5h0m19 3h0m6 2h0m6-1h0m30 0h0m-136 3h0m30 1h0m25 3h0m17-2h0m9-1h0m6 2h0m33-1h0m10 1h0m5-1h0m-137 5h0m96-2h0m1 2h0m21 0h0m12 1h0" stroke="#333333" stroke-width="1.7"/><defs><path id="q260" d="M348 887h0m6 3h0"/></defs><use href="#q260" stroke="#6e6e6e" stroke-width="2.8"/><use href="#q260" stroke="#8bc1dc" stroke-width="2"/><defs><path id="q261" d="M414 876h0m-83 11h0m6-2h0m20 2h0m8 1h0m18-1h0"/></defs><use href="#q261" stroke="#6e6e6e" stroke-width="2.8"/><use href="#q261" stroke="#c1ddec" stroke-width="2"/><path d="M422 866h0m2-1h0m1 2h0m-138 0h0m0 3h0m1 0h0m0 0h0m2-2h0m1 2h0m3 0h0m9 3h0m2-1h0m2-1h0m101 0h0m2-1h0m1 2h0m2-4h0m2 1h0m0-1h0m1 2h0m0 3h0m2-2h0m4-2h0m0-1h0m2 5h0m1-5h0m0 5h0m3-2h0m-138 3h0m3 0h0m2 3h0m3-2h0m1 2h0m0 0h0m1 0h0m0 2h0m0-3h0m1 0h0m6-1h0m3 2h0m1-3h0m0 5h0m2 0h0m4-5h0m6 3h0m3-2h0m4 2h0m3-1h0m4 2h0m4-1h0m2 2h0m0-2h0m4 0h0m3 1h0m9 0h0m3 1h0m3 0h0m3-1h0m3 0h0m0 0h0m2 0h0m5-1h0m1 1h0m0-1h0m2 1h0m2 0h0m2-3h0m0 2h0m3 2h0m2-3h0m1-1h0m1 2h0m1-2h0m1 3h0m0-1h0m1-2h0m3 0h0m0 2h0m3-1h0m3-1h0m0 3h0m1-2h0m2-2h0m1 3h0m1-3h0m2 1h0m0 2h0m0-1h0m2-1h0m4 2h0m1 2h0m2-6h0m1 0h0m0 0h0m0 4h0m4-1h0m0 0h0m0 3h0m-128 0h0m0 1h0m5 2h0m0 2h0m3-1h0m3-1h0m2-2h0m0 4h0m9-4h0m2 3h0m2-3h0m1 2h0m1-2h0m1 3h0m2 2h0m1-3h0m2 1h0m2 0h0m1-4h0m2 2h0m1 0h0m0-1h0m1 1h0m3-1h0m2 2h0m0-3h0m1 2h0m1 2h0m2-2h0m1 1h0m0 1h0m1 2h0m1-3h0m2-3h0m2 6h0m1-3h0m1-1h0m0 2h0m4 0h0m1 0h0m2-2h0m3 3h0m0-3h0m0 1h0m3 1h0m2 1h0m1-2h0m4 0h0m2-1h0m1 0h0m0 3h0m6 1h0m1-5h0m2 4h0m2-1h0m2-1h0m0-2h0m0 2h0m0-2h0m2 5h0m1-3h0m0-2h0m0 3h0m0-3h0m1 2h0m2-2h0m2 0h0m0 4h0m2-4h0m2 4h0m1-3h0m1-1h0m2 0h0m1 4h0m4-2h0m1-2h0m2 0h0m2 1h0m0-1h0m0 0h0m2 1h0m-113 5h0m2 1h0m7 3h0m1-5h0m1 5h0m1-4h0m1 4h0m0 0h0m2-1h0m1-4h0m1 5h0m1-2h0m6 2h0m1-1h0m1 2h0m1 0h0m2-4h0m0 2h0m1 2h0m0 0h0m0-4h0m1 3h0m0 0h0m0-3h0m2 1h0m3-3h0m0 4h0m5-2h0m0 1h0m3 1h0m0-3h0m2 3h0m0-3h0m2 0h0m0 2h0m0-3h0m2 0h0m0 6h0m2-5h0m1 1h0m4 4h0m0-4h0m2 0h0m1-1h0m2 2h0m0 2h0m3-2h0m1-1h0m0 3h0m0-2h0m3 1h0m2-1h0m1 0h0m0-2h0m1 1h0m1 2h0m3 1h0m1-5h0m1 4h0m1-2h0m2-1h0m0 5h0m0-2h0m2 0h0m0 1h0m1 0h0m3-2h0m3 0h0m2 0h0m1-1h0m1 1h0m0 0h0m1-2h0m3-1h0m-80 6h0m1 1h0m1 0h0m6 0h0m2 1h0m0-1h0m4-1h0m1 2h0m3-1h0m9 0h0m0 1h0m4-1h0m2 2h0m0 1h0m0-3h0m5 1h0m3 0h0m5-1h0m2 1h0m3-2h0" stroke="#333333" stroke-width="1.7"/><defs><path id="q262" d="M320 884h0m26 3h0m28-2h0m2 0h0m4 4h0"/></defs><use href="#q262" stroke="#6e6e6e" stroke-width="2.8"/><use href="#q262" stroke="#8bc1dc" stroke-width="2"/><defs><path id="q263" d="M403 879h0m-19 2h0m12 3h0"/></defs><use href="#q263" stroke="#6e6e6e" stroke-width="2.8"/><use href="#q263" stroke="#c1ddec" stroke-width="2"/><path d="M422 866h0m0-1h0m6 2h0m0-1h0m1-3h0m0 2h0m1-2h0m-141 9h0m1 0h0m2-1h0m0-1h0m2 0h0m1-1h0m3 2h0m1 0h0m2 1h0m107 0h0m2 0h0m0 1h0m0-4h0m2 0h0m1 0h0m2 1h0m1 2h0m1-2h0m0 1h0m1 1h0m1 0h0m1 0h0m1-4h0m1-1h0m5 4h0m-136 6h0m3-3h0m2 2h0m1 3h0m1 0h0m3-2h0m2-3h0m0 4h0m1 0h0m1 0h0m1 0h0m0-2h0m0-1h0m1-2h0m2 3h0m1 2h0m1-2h0m4-2h0m3 4h0m1 0h0m1-1h0m1 0h0m3 1h0m6 1h0m9-1h0m0-1h0m1 2h0m0-2h0m17 2h0m8 0h0m2-2h0m3 1h0m4 1h0m4-2h0m0 0h0m3 0h0m1 1h0m2-1h0m8-2h0m1 2h0m2-2h0m2-1h0m0 2h0m3-2h0m0 5h0m1-4h0m0-1h0m1 4h0m3-4h0m2 0h0m1 2h0m0-1h0m0 4h0m1-4h0m1 3h0m0 0h0m1-4h0m1 3h0m0 1h0m3-4h0m0 1h0m1 3h0m2-5h0m1 3h0m0 1h0m2-3h0m2 1h0m1 2h0m0 1h0m3-3h0m-131 4h0m2 3h0m4 2h0m0-3h0m0-2h0m1 5h0m0-2h0m1 0h0m3 0h0m0-2h0m1 0h0m0 1h0m1 0h0m4-1h0m3-1h0m0 2h0m0 3h0m6-2h0m0 2h0m0-2h0m2-2h0m0 3h0m2-1h0m1 0h0m1 2h0m0-1h0m0 0h0m1-4h0m1 3h0m0 1h0m1 1h0m0-4h0m0 0h0m1 5h0m1-2h0m0 2h0m0-3h0m0-1h0m3 4h0m4-2h0m1-3h0m3 5h0m2-4h0m1 2h0m0-2h0m0 4h0m1-4h0m3 2h0m2-2h0m5 2h0m0-3h0m2 4h0m3-4h0m4 1h0m0-1h0m4 2h0m1-2h0m2 4h0m0 0h0m0-1h0m3-2h0m2-1h0m0 4h0m2-1h0m1-2h0m4 4h0m0-4h0m0 4h0m1-5h0m0 3h0m2 0h0m1 2h0m3-3h0m2-1h0m1 2h0m1 1h0m0 1h0m4-1h0m1-4h0m1 1h0m2 3h0m0-2h0m2-2h0m1 1h0m1 1h0m0 3h0m3-1h0m5-3h0m0-2h0m2 3h0m3-2h0m-112 6h0m5 4h0m1-3h0m0 2h0m1 0h0m0-3h0m7 2h0m5 1h0m1-1h0m4 0h0m1 3h0m1-2h0m1-3h0m0 1h0m1-1h0m0 4h0m1-5h0m1 1h0m0 2h0m1 1h0m0-3h0m0 0h0m3 0h0m3 3h0m1 0h0m1 0h0m3-3h0m6 3h0m0 1h0m2-2h0m3-1h0m2 0h0m4 3h0m1-5h0m2 1h0m0 0h0m0 3h0m1-1h0m3 1h0m2-2h0m0 1h0m1 0h0m1-1h0m2 4h0m0-2h0m2 0h0m0 2h0m1 0h0m0-4h0m2 2h0m1-1h0m0 0h0m1-1h0m1 3h0m2 0h0m1-4h0m0 4h0m0-1h0m6-4h0m0 3h0m6-3h0m2 0h0m-85 6h0m4 1h0m4 0h0m14 0h0m2 1h0m3 0h0m1 0h0m2-2h0m0 3h0m2 0h0m3 1h0m1-4h0m2 3h0m2-2h0m1-1h0m2 3h0m3-1h0m14-2h0" stroke="#333333" stroke-width="1.7"/><defs><path id="q264" d="M388 890h0"/></defs><use href="#q264" stroke="#6e6e6e" stroke-width="2.8"/><use href="#q264" stroke="#8bc1dc" stroke-width="2"/><defs><path id="q265" d="M329 885h0m1-4h0m54 3h0m-38 4h0m28 2h0m8-2h0"/></defs><use href="#q265" stroke="#6e6e6e" stroke-width="2.8"/><use href="#q265" stroke="#c1ddec" stroke-width="2"/><path d="M420 866h0m1 0h0m5 0h0m0-2h0m4 0h0m-141 7h0m2-1h0m3 0h0m4-1h0m3 1h0m1 1h0m3 0h0m1 0h0m0 1h0m2 1h0m1 0h0m94-1h0m1 1h0m4-3h0m4 3h0m1-2h0m4 0h0m1-2h0m1-1h0m1 0h0m0-1h0m4 1h0m0 0h0m0 0h0m2-1h0m2 4h0m1-1h0m-140 4h0m3 0h0m0 0h0m0 5h0m1-6h0m1 5h0m0 0h0m3 0h0m0-2h0m2-2h0m1 3h0m0 0h0m5-3h0m0 4h0m0 0h0m1-1h0m3-2h0m3-2h0m0 2h0m1 3h0m3-1h0m1 1h0m3-2h0m1 0h0m0 2h0m3-2h0m2-1h0m3 3h0m2-1h0m0 1h0m2 1h0m6 0h0m8-1h0m12 1h0m11-1h0m3-1h0m1 0h0m3 1h0m1-2h0m1 3h0m1-3h0m1 3h0m6-3h0m1 1h0m0 0h0m1 0h0m2-1h0m1 2h0m0-4h0m0 3h0m7-2h0m3-1h0m1 2h0m0 3h0m1-6h0m1 5h0m2-2h0m0-3h0m0 6h0m1-3h0m0 0h0m2 0h0m8 0h0m1 1h0m0 2h0m1-5h0m2 5h0m1-4h0m3-1h0m1 0h0m1 0h0m-131 6h0m5 0h0m1 1h0m1 3h0m7-1h0m3 1h0m0 0h0m1-3h0m2 3h0m1-2h0m1 2h0m1-3h0m2 3h0m0-1h0m1 0h0m2-3h0m0-1h0m0 3h0m3 1h0m1 2h0m1 0h0m0-3h0m0-1h0m2-1h0m1 1h0m0-1h0m1 0h0m6 5h0m1 0h0m0-1h0m1 1h0m0-4h0m1-2h0m3 4h0m0 0h0m2 0h0m1-1h0m0 2h0m7-2h0m1 2h0m1-5h0m0 3h0m1 2h0m0-4h0m0 0h0m1 4h0m2-5h0m1 4h0m0-3h0m1 0h0m0-1h0m1 4h0m1-1h0m1 2h0m3 0h0m0-3h0m1 3h0m1-3h0m2-1h0m1-1h0m1 1h0m4 1h0m1 0h0m3 3h0m0 1h0m0-5h0m1 0h0m1 4h0m2 0h0m2-4h0m1 4h0m2-1h0m0-1h0m1-1h0m3 3h0m1-4h0m1 3h0m3-1h0m0-3h0m5 4h0m1-3h0m0 3h0m1 1h0m1-1h0m6-3h0m-109 6h0m6 2h0m1-2h0m1 4h0m4-4h0m1 1h0m1 2h0m0 0h0m2-3h0m1-1h0m1 4h0m0 0h0m2 1h0m0 0h0m2-2h0m2-3h0m1 5h0m2-3h0m3-1h0m1 3h0m1 0h0m0-3h0m1-1h0m0 6h0m2-6h0m1 4h0m1-2h0m1-2h0m1 5h0m0-3h0m1 1h0m0 0h0m2 3h0m5-5h0m1 2h0m4-2h0m1-1h0m0 3h0m1 1h0m0-4h0m1 5h0m1-2h0m0-2h0m5 1h0m4 2h0m3 2h0m0-6h0m0 6h0m5-4h0m3-1h0m0 4h0m1-1h0m1 0h0m2-3h0m2 0h0m1 4h0m1-1h0m0 1h0m4-5h0m1 4h0m2-2h0m3 0h0m0-1h0m1 1h0m-83 4h0m6 1h0m1-1h0m3 2h0m6 0h0m1-1h0m1 0h0m1 0h0m3 0h0m6 1h0m1 1h0m1-1h0m0-1h0m7 0h0m3 3h0m4-1h0m3-2h0m0-1h0m1 3h0m1-1h0m2-1h0m0 0h0" stroke="#333333" stroke-width="1.7"/><defs><path id="q266" d="M341 889h0m4-1h0"/></defs><use href="#q266" stroke="#6e6e6e" stroke-width="2.8"/><use href="#q266" stroke="#8bc1dc" stroke-width="2"/><defs><path id="q267" d="M361 887h0"/></defs><use href="#q267" stroke="#6e6e6e" stroke-width="2.8"/><use href="#q267" stroke="#c1ddec" stroke-width="2"/><path d="M429 866h0m-139 5h0m2-2h0m1-1h0m1 5h0m1-3h0m2 2h0m1 0h0m2-1h0m5 1h0m4 0h0m0 0h0m97-1h0m0 1h0m1-2h0m1 2h0m2 0h0m1-3h0m2 2h0m4-3h0m0 4h0m1 0h0m2-3h0m0 2h0m1-2h0m2 4h0m1-5h0m1 4h0m1-3h0m0 1h0m1 3h0m0-1h0m-137 2h0m0 2h0m3 2h0m1-4h0m1 3h0m1-4h0m1 3h0m6 2h0m1-2h0m3 2h0m1-2h0m0 2h0m0-5h0m0 1h0m3 1h0m1 4h0m0-1h0m1 1h0m1-4h0m1 2h0m2 2h0m0-4h0m0 3h0m7-3h0m5 4h0m0 0h0m6-2h0m3 1h0m2-1h0m1 1h0m0-2h0m2 2h0m3 1h0m5-1h0m11 0h0m5 0h0m6-1h0m1 0h0m2-1h0m3 2h0m2-2h0m4 0h0m1 0h0m2 0h0m1 2h0m2 1h0m2-1h0m0-3h0m1 2h0m2-2h0m1-1h0m2 1h0m3 4h0m1-2h0m1-3h0m2 3h0m4-3h0m0-1h0m1 5h0m1-3h0m0 3h0m1-2h0m2 1h0m2-1h0m1 2h0m1-3h0m2 2h0m2-4h0m0 3h0m1 2h0m1-2h0m-131 4h0m1 0h0m0-1h0m2 1h0m3 3h0m3-1h0m1 0h0m1-1h0m0 1h0m0-2h0m2 4h0m1-5h0m1 1h0m1-1h0m0 0h0m1 6h0m2-5h0m0 3h0m3 1h0m1-2h0m1-1h0m1-2h0m0 2h0m1 1h0m1-1h0m1-1h0m1 4h0m0 0h0m0-3h0m0 1h0m3 0h0m0-2h0m2 3h0m1 0h0m4-3h0m4 1h0m0 0h0m0 4h0m2-3h0m3 2h0m2-4h0m1 3h0m4-3h0m0 3h0m0 0h0m3 1h0m1-3h0m0 3h0m1-4h0m0-1h0m1 0h0m0 0h0m1 3h0m0-2h0m2 3h0m0-1h0m1-3h0m0 3h0m2 0h0m1 1h0m0 1h0m1-1h0m1-2h0m1 2h0m1 1h0m1-2h0m2 2h0m4-1h0m5-3h0m1 0h0m2 4h0m1-2h0m2 1h0m1-2h0m2 1h0m1-2h0m4 3h0m1-3h0m1-1h0m0 5h0m1-1h0m3-2h0m3-1h0m0 4h0m0 0h0m3-3h0m1 0h0m2 3h0m0-2h0m1 0h0m1 1h0m0 0h0m1 1h0m0 1h0m4-4h0m4 0h0m1-1h0m-112 6h0m4 0h0m3 2h0m1-1h0m0-1h0m0 3h0m1-2h0m0 3h0m1 1h0m1-5h0m0 4h0m2 1h0m3-4h0m1 1h0m7 0h0m1-1h0m0 1h0m2-2h0m3 4h0m0-2h0m0 2h0m1-2h0m1 0h0m1 2h0m0-3h0m1 3h0m4-1h0m2-3h0m0 1h0m0 3h0m4 1h0m0-4h0m6 3h0m1-4h0m0 1h0m1 1h0m9 0h0m1-1h0m1 2h0m1 1h0m0-4h0m1 4h0m2-1h0m5 2h0m1-1h0m2 0h0m1-5h0m1 2h0m0 3h0m1-2h0m1-2h0m4 0h0m2 0h0m0 0h0m1 1h0m0 1h0m0-1h0m8 2h0m7-3h0m-83 6h0m8 0h0m1 1h0m5 0h0m1 0h0m0-1h0m1 1h0m4-1h0m1 0h0m1-1h0m6 1h0m6 0h0m0 0h0m1 1h0m5 0h0m1-1h0m2 1h0m0-1h0m3 1h0" stroke="#333333" stroke-width="1.7"/><defs><path id="q268" d="M406 879h0m-17 2h0m12-1h0m-63 6h0m12 2h0m1 2h0"/></defs><use href="#q268" stroke="#6e6e6e" stroke-width="2.8"/><use href="#q268" stroke="#8bc1dc" stroke-width="2"/><defs><path id="q269" d="M339 889h0m19-1h0m7-1h0m14-1h0"/></defs><use href="#q269" stroke="#6e6e6e" stroke-width="2.8"/><use href="#q269" stroke="#c1ddec" stroke-width="2"/><path d="M424 867h0m4-1h0m-141 3h0m1 1h0m1 2h0m1-1h0m0-1h0m0-1h0m1 3h0m1-2h0m1 0h0m0 0h0m1-1h0m2 2h0m3 1h0m1-1h0m1-1h0m1 1h0m5 2h0m4 0h0m93-1h0m2 0h0m10 0h0m3-4h0m2 3h0m7 2h0m0 0h0m-137 4h0m0-3h0m1 3h0m8-1h0m0-3h0m0 2h0m3-1h0m1 1h0m1 2h0m1-1h0m1 0h0m2 0h0m1 0h0m1-1h0m1-1h0m1 4h0m3-1h0m0 0h0m7 0h0m3-1h0m0 0h0m1 0h0m6 1h0m2 1h0m1 0h0m1-1h0m2 0h0m5 1h0m1 0h0m1 0h0m10 0h0m4 0h0m12-1h0m1 1h0m3 1h0m2-2h0m3 1h0m2 0h0m1 0h0m1-1h0m2 1h0m1 0h0m1 0h0m1 1h0m0-2h0m2 0h0m1-3h0m1 5h0m0-3h0m1-1h0m2 2h0m0-1h0m2-3h0m1 5h0m2-3h0m1 1h0m1-2h0m2 3h0m1-3h0m0 4h0m3-2h0m1-2h0m1 2h0m0-1h0m7 4h0m0-2h0m1-3h0m1 2h0m3 3h0m2-5h0m0 0h0m0 1h0m1-1h0m1 1h0m-125 5h0m2 3h0m1 1h0m5-1h0m1-2h0m1-1h0m0 2h0m0 0h0m2-2h0m0 0h0m2 0h0m0 3h0m2-1h0m2 1h0m7-3h0m0 1h0m0 3h0m2-2h0m3 0h0m1-1h0m4-2h0m0 5h0m1-3h0m2 2h0m1-2h0m1 0h0m0 2h0m2-2h0m1 4h0m0-5h0m3 1h0m0 4h0m3-2h0m2-4h0m0 5h0m5-2h0m1-2h0m0 0h0m1-1h0m2 3h0m2 1h0m1-2h0m0 0h0m1 0h0m0 1h0m1-2h0m2 0h0m1-1h0m1 0h0m3 5h0m0-1h0m4 1h0m1-3h0m0 4h0m5-5h0m1 2h0m0-3h0m1 4h0m0 1h0m0-5h0m0 3h0m1 1h0m1 1h0m0-1h0m2 0h0m2 1h0m0-2h0m0-2h0m2 5h0m0-2h0m0 2h0m3-5h0m0 5h0m1-3h0m1-2h0m1-1h0m0 5h0m0 0h0m1-3h0m2 2h0m0 1h0m1 0h0m2-3h0m1 2h0m2-2h0m1 2h0m1-1h0m2 0h0m2-1h0m4-1h0m-111 7h0m1-1h0m1-1h0m4 2h0m3 1h0m2-1h0m6 4h0m0-5h0m0 5h0m1-6h0m4 4h0m0 0h0m0 1h0m2-1h0m2-3h0m1 1h0m3 2h0m2-1h0m0 0h0m1-3h0m1 5h0m1-3h0m1-1h0m0 4h0m2-1h0m0 0h0m1-1h0m1-1h0m0-2h0m0 2h0m1 4h0m2-3h0m0 1h0m0 1h0m0 0h0m1-2h0m1 0h0m3 1h0m3-1h0m2-1h0m2 0h0m3 0h0m4 1h0m3 0h0m2 0h0m1 0h0m1 1h0m1-4h0m0 4h0m0-2h0m0 3h0m2-3h0m1 4h0m1-2h0m1 1h0m1 1h0m0-2h0m2-4h0m1 4h0m0 1h0m5-1h0m3-1h0m4 0h0m6-2h0m-77 5h0m6 2h0m2-2h0m4 1h0m5 1h0m8-2h0m0 1h0m0 0h0m2 1h0m5 1h0m1 1h0m4-2h0m1 1h0m0-2h0m6-1h0m3 0h0" stroke="#333333" stroke-width="1.7"/><defs><path id="q270" d="M359 758h0m33 0h0m-24 7h0m-25 7h0m4 2h0m6 0h0m32-1h0m0 2h0m-51 5h0m22 6h0m71-3h0m-85 7h0m20-1h0m32 2h0m-34 7h0m63 3h0m8 2h0"/></defs><use href="#q270" stroke="#6e6e6e" stroke-width="2.8"/><use href="#q270" stroke="#860a24" stroke-width="2"/><defs><path id="q271" d="M389 773h0m-45 12h0m31 0h0m41 2h0m-67 6h0"/></defs><use href="#q271" stroke="#6e6e6e" stroke-width="2.8"/><use href="#q271" stroke="#bb2a34" stroke-width="2"/><defs><path id="q272" d="M347 787h0m5 2h0m-3 1h0m1 0h0m18 1h0m-24 6h0m17 3h0m-11 4h0m39 2h0m-36 5h0m-21 3h0"/></defs><use href="#q272" stroke="#6e6e6e" stroke-width="2.8"/><use href="#q272" stroke="#d96651" stroke-width="2"/><defs><path id="q273" d="M356 794h0m20 0h0m-41 7h0m20-5h0m0 3h0m3-4h0m0 4h0m8 2h0m5-4h0m6 0h0m-43 8h0m6-2h0m4 4h0m1-4h0m4 0h0m6 2h0m9 0h0m4 0h0m7 1h0m-45 3h0m4-1h0m2 0h0m1 4h0m10-3h0m4 3h0m28 1h0m-54 6h0m18-6h0m2 0h0m5 3h0m22-3h0m10 4h0m3-2h0m-53 8h0m4 1h0m6-2h0m3 2h0m18-1h0m-26 7h0m34-5h0"/></defs><use href="#q273" stroke="#6e6e6e" stroke-width="2.8"/><use href="#q273" stroke="#f19f7e" stroke-width="2"/><defs><path id="q274" d="M335 805h0m57 5h0m-54 11h0m-4 4h0m0 3h0m7-3h0m-14 9h0m1-2h0m10 2h0m2 3h0m8-6h0m12 3h0m2 2h0m-41 3h0m7 1h0m34-2h0m-43 5h0m3 4h0"/></defs><use href="#q274" stroke="#6e6e6e" stroke-width="2.8"/><use href="#q274" stroke="#faebe3" stroke-width="2"/><defs><path id="q275" d="M350 791h0m9 8h0m17 0h0m-2 5h0m1 1h0m-43 6h0m9 0h0m1-2h0m15 3h0m10-5h0m5 2h0m15-1h0m5 5h0m-65 2h0m20 4h0m18-3h0m1 1h0m-42 6h0m25-2h0m6 2h0m2 1h0m1 0h0m8 0h0m14-4h0m4 2h0m2 1h0m-55 7h0m2-3h0m1-1h0m2 1h0m12-1h0m18 1h0m0 1h0m10-2h0m8 1h0m-53 5h0m11-1h0m0 3h0m0-2h0m14 2h0m9 2h0m-31 1h0m2 5h0m3-5h0m0 2h0m2-1h0m-21 9h0m4-1h0"/></defs><use href="#q275" stroke="#6e6e6e" stroke-width="2.8"/><use href="#q275" stroke="#fbceb6" stroke-width="2"/><path d="M359 833h0m13-2h0m8 6h0m9-5h0m3 4h0m-49 2h0m-14 5h0m3 1h0m13 0h0m4 1h0m3-1h0m6 3h0m21-3h0m0 1h0m-51 4h0" stroke="#333333" stroke-width="1.7"/><defs><path id="q276" d="M370 747h0m6 23h0m17-4h0m-53 9h0m2-2h0m27 4h0m18-6h0m-6 11h0m28 6h0m13 1h0m-14 14h0"/></defs><use href="#q276" stroke="#6e6e6e" stroke-width="2.8"/><use href="#q276" stroke="#860a24" stroke-width="2"/><defs><path id="q277" d="M348 780h0m-6 3h0m9 5h0m5-2h0m16-3h0m-20 10h0m7-3h0m52 11h0"/></defs><use href="#q277" stroke="#6e6e6e" stroke-width="2.8"/><use href="#q277" stroke="#bb2a34" stroke-width="2"/><defs><path id="q278" d="M343 795h0m18 0h0m3 6h0m3-5h0m6-1h0m-37 7h0m9 5h0m10-1h0m13 3h0"/></defs><use href="#q278" stroke="#6e6e6e" stroke-width="2.8"/><use href="#q278" stroke="#d96651" stroke-width="2"/><defs><path id="q279" d="M329 839h0"/></defs><use href="#q279" stroke="#6e6e6e" stroke-width="2.8"/><use href="#q279" stroke="#e7f0f4" stroke-width="2"/><defs><path id="q280" d="M340 794h0m5 0h0m8-3h0m19 4h0m-26 5h0m8-5h0m7 4h0m9 0h0m2 2h0m11-3h0m-31 5h0m4-1h0m9 1h0m17 1h0m2-1h0m-51 8h0m14 2h0m2-5h0m26 5h0m1-1h0m12-4h0m-61 5h0m11 3h0m5 2h0m10-1h0m0-1h0m3-2h0m1 1h0m5 0h0m23-1h0m-60 7h0m26 2h0m7-1h0m3 2h0m10-4h0m7 2h0m-11 9h0m10-4h0m-53 10h0"/></defs><use href="#q280" stroke="#6e6e6e" stroke-width="2.8"/><use href="#q280" stroke="#f19f7e" stroke-width="2"/><defs><path id="q281" d="M334 812h0m-6 16h0m6-3h0m17 1h0m0 0h0m-21 9h0m2 1h0m41-3h0m-54 10h0m2-6h0m14 5h0m1 1h0m1-2h0"/></defs><use href="#q281" stroke="#6e6e6e" stroke-width="2.8"/><use href="#q281" stroke="#faebe3" stroke-width="2"/><defs><path id="q282" d="M348 807h0m2 0h0m5-3h0m16-1h0m16 1h0m-40 5h0m8 2h0m6-3h0m3 4h0m12-3h0m2-1h0m1 2h0m-37 8h0m0-2h0m12-1h0m7 4h0m6-4h0m10 3h0m0 0h0m14-4h0m0 2h0m-66 8h0m5-1h0m3 2h0m1-1h0m32-2h0m1-1h0m2 1h0m3-2h0m0 4h0m1-2h0m3 2h0m11-3h0m-61 4h0m7 4h0m6-3h0m7-1h0m1 2h0m2 3h0m16-3h0m1-1h0m1 5h0m7-4h0m-42 8h0m3-1h0m17 3h0m8-3h0m3-2h0m-43 11h0m12 0h0m5-1h0m17-3h0m1-1h0"/></defs><use href="#q282" stroke="#6e6e6e" stroke-width="2.8"/><use href="#q282" stroke="#fbceb6" stroke-width="2"/><path d="M368 831h0m6-6h0m3 5h0m11-1h0m-31 6h0m1 1h0m-24 6h0m7-2h0m9 3h0m14-6h0m11 0h0m6 2h0m-54 5h0m4 1h0m5 4h0m21-1h0m8-4h0m3 0h0m6 1h0m3 0h0" stroke="#333333" stroke-width="1.7"/><defs><path id="q283" d="M404 753h0m-21 10h0m25 6h0m-72 4h0m23 1h0m29-2h0m15 1h0m-34 9h0m4 1h0m52-2h0m-95 5h0m23 0h0m67 22h0"/></defs><use href="#q283" stroke="#6e6e6e" stroke-width="2.8"/><use href="#q283" stroke="#860a24" stroke-width="2"/><defs><path id="q284" d="M368 775h0m-17 5h0m-14 9h0m14 10h0m60 0h0m20 2h0"/></defs><use href="#q284" stroke="#6e6e6e" stroke-width="2.8"/><use href="#q284" stroke="#bb2a34" stroke-width="2"/><defs><path id="q285" d="M365 778h0m-15 11h0m6-2h0m1 1h0m6 0h0m1-4h0m12 2h0m-31 6h0m7-1h0m11-2h0m11 3h0m-35 6h0m8-1h0m1 2h0m6 7h0m27-2h0m-11 16h0"/></defs><use href="#q285" stroke="#6e6e6e" stroke-width="2.8"/><use href="#q285" stroke="#d96651" stroke-width="2"/><defs><path id="q286" d="M357 792h0m13 1h0m-27 5h0m10-3h0m6 3h0m4 0h0m14 0h0m-36 4h0m12 1h0m11 1h0m1 0h0m2 2h0m1-3h0m4 1h0m2 2h0m8 0h0m-51 3h0m4-1h0m4 0h0m15 2h0m4-2h0m6 5h0m8-3h0m18-1h0m-55 8h0m13 1h0m0 0h0m7-3h0m10 2h0m2 1h0m-29 1h0m4 4h0m5 1h0m22 0h0m2-4h0m1 4h0m-43 3h0m5-1h0m7 0h0m26 0h0"/></defs><use href="#q286" stroke="#6e6e6e" stroke-width="2.8"/><use href="#q286" stroke="#f19f7e" stroke-width="2"/><defs><path id="q287" d="M344 805h0m47 9h0m-50 10h0m13 5h0m8 2h0m-28 2h0m21 3h0m15-3h0m-50 9h0m10 0h0m3-3h0m1 3h0m0-2h0m12-1h0m12 1h0m-31 6h0m1 1h0m19-3h0"/></defs><use href="#q287" stroke="#6e6e6e" stroke-width="2.8"/><use href="#q287" stroke="#faebe3" stroke-width="2"/><defs><path id="q288" d="M348 792h0m11 1h0m16 1h0m-27 3h0m-8 6h0m-9 5h0m8 3h0m1 2h0m4-2h0m1-1h0m18 2h0m4-4h0m4 2h0m4-1h0m4 0h0m7 2h0m-57 7h0m19 0h0m18-4h0m-40 9h0m17 0h0m3 1h0m10-4h0m28 2h0m-62 5h0m1-1h0m2 3h0m5-1h0m10 1h0m1 0h0m0 0h0m28 0h0m-41 4h0m40-1h0m6 1h0m-52 6h0m7 2h0m6 3h0"/></defs><use href="#q288" stroke="#6e6e6e" stroke-width="2.8"/><use href="#q288" stroke="#fbceb6" stroke-width="2"/><path d="M380 823h0m-26 13h0m3 1h0m0-5h0m3-1h0m1 3h0m22 0h0m3-2h0m2 2h0m0-2h0m-52 11h0m5-1h0m7-1h0m23-1h0m-45 4h0m3 2h0m8 0h0m4 2h0m1-1h0m3-1h0m3-2h0m1 3h0m18-2h0" stroke="#333333" stroke-width="1.7"/><defs><path id="q289" d="M353 775h0m-7 4h0m10-1h0m3 8h0m10-3h0m26 2h0m-44 5h0m37 7h0m43-2h0m-14 8h0"/></defs><use href="#q289" stroke="#6e6e6e" stroke-width="2.8"/><use href="#q289" stroke="#860a24" stroke-width="2"/><defs><path id="q290" d="M359 773h0m0 6h0m68 8h0m-64 2h0m47 3h0m4 3h0m17 5h0m-2 1h0"/></defs><use href="#q290" stroke="#6e6e6e" stroke-width="2.8"/><use href="#q290" stroke="#bb2a34" stroke-width="2"/><defs><path id="q291" d="M370 777h0m-25 10h0m34-2h0m-41 7h0m19 1h0m13-3h0m-17 10h0m16-4h0m13 4h0m-38 6h0m16-4h0m4 2h0m25 4h0m-61 9h0"/></defs><use href="#q291" stroke="#6e6e6e" stroke-width="2.8"/><use href="#q291" stroke="#d96651" stroke-width="2"/><defs><path id="q292" d="M352 790h0m5 0h0m11-1h0m10 6h0m-41 2h0m3-1h0m1-1h0m2 6h0m39-1h0m-50 3h0m7 1h0m4-3h0m11 5h0m7-4h0m14 4h0m2-4h0m7 4h0m-54 2h0m39 0h0m8 3h0m1 0h0m4-3h0m-52 5h0m5 4h0m4-3h0m0 0h0m7 3h0m19-3h0m23 1h0m-61 9h0m45 0h0m-40 5h0m6 0h0m4 1h0m-7 4h0m18-1h0"/></defs><use href="#q292" stroke="#6e6e6e" stroke-width="2.8"/><use href="#q292" stroke="#f19f7e" stroke-width="2"/><defs><path id="q293" d="M337 815h0m-9 10h0m1-2h0m1 0h0m20-3h0m6 5h0m-1 5h0m-10 2h0m3 0h0m-26 7h0m2 2h0m4-2h0m16-1h0m8 3h0m-32 2h0m1 0h0m11 2h0m12-2h0"/></defs><use href="#q293" stroke="#6e6e6e" stroke-width="2.8"/><use href="#q293" stroke="#faebe3" stroke-width="2"/><defs><path id="q294" d="M362 800h0m-27 6h0m3-4h0m10 1h0m11 2h0m1 2h0m3-4h0m-21 7h0m17-2h0m3 5h0m5-2h0m3-1h0m15-2h0m2 1h0m-61 7h0m5-2h0m15 4h0m5-2h0m26 0h0m7 3h0m3-2h0m-58 8h0m11-2h0m16 2h0m7-2h0m3-3h0m3 4h0m8-4h0m7 3h0m0-1h0m-60 3h0m0 4h0m9-1h0m12 2h0m0-4h0m21 4h0m15-3h0m2-1h0m-60 7h0m7 1h0m1-1h0m10-1h0m0 0h0m11 3h0m2-3h0m10 1h0m-32 10h0m18 0h0"/></defs><use href="#q294" stroke="#6e6e6e" stroke-width="2.8"/><use href="#q294" stroke="#fbceb6" stroke-width="2"/><path d="M372 828h0m11-2h0m5 3h0m4 1h0m-35 6h0m14-3h0m1 2h0m6 2h0m10 0h0m-59 4h0m1 1h0m29-5h0m3 1h0m11 2h0m13 1h0m1-3h0m2 5h0m-56 6h0m12-3h0m-20 3h0" stroke="#333333" stroke-width="1.7"/><defs><path id="q295" d="M370 776h0m15 1h0m7-6h0m-17 10h0m0-2h0m8 1h0m-42 6h0m22 7h0m13-3h0m10 3h0m2-1h0m-56 6h0m24 1h0m26-1h0"/></defs><use href="#q295" stroke="#6e6e6e" stroke-width="2.8"/><use href="#q295" stroke="#860a24" stroke-width="2"/><defs><path id="q296" d="M345 774h0m22 10h0m-21 9h0m27 6h0m34 8h0"/></defs><use href="#q296" stroke="#6e6e6e" stroke-width="2.8"/><use href="#q296" stroke="#bb2a34" stroke-width="2"/><defs><path id="q297" d="M371 782h0m-28 10h0m15-3h0m11 3h0m-25 8h0m8-3h0m4 0h0m17 6h0m15 1h0m-17 7h0m-15 4h0"/></defs><use href="#q297" stroke="#6e6e6e" stroke-width="2.8"/><use href="#q297" stroke="#d96651" stroke-width="2"/><defs><path id="q298" d="M349 795h0m0-1h0m7 0h0m-12 5h0m3-1h0m2-1h0m5-2h0m1 4h0m27-1h0m-48 4h0m1 3h0m4 0h0m5 0h0m11 0h0m10-1h0m5-3h0m1 2h0m7-2h0m2 3h0m4-2h0m-53 9h0m5-3h0m2 3h0m10-4h0m2 0h0m8 0h0m0 5h0m1-2h0m0-3h0m2 3h0m4-3h0m1 2h0m12 0h0m8 0h0m1-1h0m-47 6h0m8 0h0m3 5h0m15 0h0m0-3h0m22 1h0m-35 8h0m9-1h0m10-1h0m3-1h0m2 0h0"/></defs><use href="#q298" stroke="#6e6e6e" stroke-width="2.8"/><use href="#q298" stroke="#f19f7e" stroke-width="2"/><defs><path id="q299" d="M333 816h0m-7 5h0m18 9h0m34-4h0m2 3h0m-51 4h0m21 1h0m2 1h0m3 0h0m8 2h0m-40 6h0m23-4h0m2 2h0m5-1h0m1-3h0m-35 8h0m10 1h0m4 0h0m15-2h0"/></defs><use href="#q299" stroke="#6e6e6e" stroke-width="2.8"/><use href="#q299" stroke="#faebe3" stroke-width="2"/><defs><path id="q300" d="M366 797h0m-33 8h0m5-1h0m15 0h0m20 1h0m2-2h0m15 4h0m-48 5h0m23-3h0m-34 5h0m5 0h0m14 4h0m14-2h0m4 1h0m2-1h0m19-1h0m-59 7h0m6 1h0m5 2h0m27-4h0m2 1h0m7-1h0m3 1h0m-58 5h0m12 4h0m7-2h0m7-3h0m8 5h0m6-4h0m1 4h0m16-5h0m-49 10h0m14-1h0m2-1h0m12 0h0m3 1h0m2-3h0m6 2h0m2-1h0m-49 9h0m1 0h0m11-4h0m1 3h0m5-3h0m8 2h0m-23 4h0m15 0h0"/></defs><use href="#q300" stroke="#6e6e6e" stroke-width="2.8"/><use href="#q300" stroke="#fbceb6" stroke-width="2"/><path d="M383 826h0m-2 9h0m-48 6h0m4-1h0m3 2h0m2-4h0m10 2h0m3 3h0m-27 4h0m7 1h0m7-1h0m26-4h0m8 1h0" stroke="#333333" stroke-width="1.7"/><path d="M272.9 854.3C275.75 852.98 283.87 853.65 291.3 853C298.73 852.35 308.75 852.15 317.5 850.4C326.25 848.65 335.03 846.02 343.8 842.5C352.57 838.98 362.22 833.68 370.1 829.3C377.98 824.92 384.97 821.45 391.1 816.2C397.23 810.95 402.08 803.93 406.9 797.8C411.72 791.67 416.72 783.78 420 779.4C423.28 775.02 424.4 771.5 426.6 771.5C428.8 771.5 431.75 771.52 433.2 779.4C434.65 787.28 435.3 806.1 435.3 818.8C435.3 831.5 434.43 846.83 433.2 855.6C431.97 864.37 431.85 866.8 427.9 871.4C423.95 876 417.82 879.7 409.5 883.2C401.18 886.7 388.95 890.65 378 892.4C367.05 894.15 355.18 894.58 343.8 893.7C332.42 892.82 319.33 890.38 309.7 887.1C300.07 883.82 291.92 878.37 286 874C280.08 869.63 276.38 864.18 274.2 860.9C272.02 857.62 270.05 855.62 272.9 854.3Z" fill="none" stroke="#1b1b1b" stroke-width="2.6" stroke-dasharray="5.2 3.4" stroke-linecap="butt"/><path d="M318.9 845C318.03 840.83 318.68 827.55 320.2 818.8C321.72 810.05 324.5 800.38 328 792.5C331.5 784.62 335.93 775.87 341.2 771.5C346.47 767.13 353.47 766.3 359.6 766.3C365.73 766.3 372.32 768.43 378 771.5C383.68 774.57 390.42 780.32 393.7 784.7C396.98 789.08 397.7 793.87 397.7 797.8C397.7 801.73 396.55 804.8 393.7 808.3C390.85 811.8 385.42 815.73 380.6 818.8C375.78 821.87 370.93 823.63 364.8 826.7C358.67 829.77 350.37 834.35 343.8 837.2C337.23 840.05 329.55 842.5 325.4 843.8C321.25 845.1 319.77 849.17 318.9 845Z" fill="none" stroke="#1b1b1b" stroke-width="2.6" stroke-dasharray="5.2 3.4" stroke-linecap="butt"/><text x="416.3" y="751.2" font-size="10.7" font-weight="bold">High</text><text x="418" y="762.3" font-size="10.7" font-weight="bold">Vim</text><clipPath id="fl3520"><circle cx="279.6" cy="724.7" r="3.7"/></clipPath><g clip-path="url(#fl3520)"><rect x="275.9" y="721" width="2.67" height="7.4" fill="#3a78b8"/><rect x="278.37" y="721" width="2.67" height="7.4" fill="#f4f4f4"/><rect x="280.83" y="721" width="2.47" height="7.4" fill="#d8554a"/></g><text x="285.3" y="727.2" font-size="9.6">day 14</text><circle cx="279.6" cy="734.7" r="3.7" fill="#1a1a1a"/><text x="285.3" y="737.2" font-size="9.6">untreated</text><defs><linearGradient id="cbj" x1="0" y1="1" x2="0" y2="0"><stop offset="0.0" stop-color="#053061"/><stop offset="0.1" stop-color="#2166ac"/><stop offset="0.2" stop-color="#4393c3"/><stop offset="0.3" stop-color="#92c5de"/><stop offset="0.4" stop-color="#d1e5f0"/><stop offset="0.5" stop-color="#f7f7f7"/><stop offset="0.6" stop-color="#fddbc7"/><stop offset="0.7" stop-color="#f4a582"/><stop offset="0.8" stop-color="#d6604d"/><stop offset="0.9" stop-color="#b2182b"/><stop offset="1.0" stop-color="#67001f"/></linearGradient></defs><rect x="448.5" y="763.1" width="9.3" height="128.6" fill="url(#cbj)" stroke="#777" stroke-width="0.5"/><path d="M457.8 890.9H460.4" stroke="#444" stroke-width="0.7" stroke-linecap="butt"/><text x="461.7" y="894" font-size="8.6">0.0</text><path d="M457.8 871.83H460.4" stroke="#444" stroke-width="0.7" stroke-linecap="butt"/><text x="461.7" y="874.93" font-size="8.6">0.5</text><path d="M457.8 852.76H460.4" stroke="#444" stroke-width="0.7" stroke-linecap="butt"/><text x="461.7" y="855.86" font-size="8.6">1.0</text><path d="M457.8 833.69H460.4" stroke="#444" stroke-width="0.7" stroke-linecap="butt"/><text x="461.7" y="836.79" font-size="8.6">1.5</text><path d="M457.8 814.62H460.4" stroke="#444" stroke-width="0.7" stroke-linecap="butt"/><text x="461.7" y="817.72" font-size="8.6">2.0</text><path d="M457.8 795.55H460.4" stroke="#444" stroke-width="0.7" stroke-linecap="butt"/><text x="461.7" y="798.65" font-size="8.6">2.5</text><path d="M457.8 776.48H460.4" stroke="#444" stroke-width="0.7" stroke-linecap="butt"/><text x="461.7" y="779.58" font-size="8.6">3.0</text><text x="447.5" y="747.2" font-size="9.6">Vim</text><text x="447.5" y="757.9" font-size="9.6">1e8</text><path d="M498 734.5L591.5 719.4L682.1 737.5L672 873L592.8 930.3L509.5 871Z" fill="#e5ecf6"/><path d="M539.14 727.86L544.92 846.8M565.32 723.63L567.46 831.4M499.14 748L591.35 728.95M502.42 787L590.92 756.55M505.37 822L590.54 781.32M508.15 855L590.18 804.68M618.68 724.83L614.6 833.1M645.86 730.26L639.2 850.2M591.35 728.95L681.1 750.9M590.92 756.55L678.22 789.62M590.54 781.32L675.63 824.36M590.18 804.68L673.18 857.12M617.06 834.81L536.99 890.57M563.43 834.15L645.86 891.91M649.04 857.04L569.48 913.7M532.04 855.6L614.98 914.26M591.5 719.4L590 816M509.5 871L590 816L672 873" stroke="#fff" stroke-width="0.9" fill="none" stroke-linecap="butt"/><text x="499.4" y="748.9" font-size="9" text-anchor="middle">30</text><text x="499.4" y="790" font-size="9" text-anchor="middle">20</text><text x="499.4" y="827.1" font-size="9" text-anchor="middle">10</text><text x="499.4" y="861.6" font-size="9" text-anchor="middle">0</text><text transform="translate(488.5 806.5) rotate(-90)" font-size="9.6" text-anchor="middle">Vim (RFI)</text><text x="511.9" y="910" font-size="9.3">PHATE2</text><text x="633.5" y="910" font-size="9.3">PHATE1</text><path d="M607 847h0m4-1h0m6 1h0m1-1h0m5 0h0m12 2h0m12 0h0m4-4h0m-74 6h0m11 1h0m35 2h0m3 1h0m26-4h0m3 4h0m-107 4h0m5 2h0m2-2h0m3-2h0m0 2h0m0-3h0m5 5h0m13 0h0m3-2h0m13 1h0m3-3h0m11 2h0m9 0h0m4 1h0m13 0h0m15 1h0m1 1h0m3-4h0m3-1h0m1 1h0m4 1h0m-104 6h0m7-3h0m3 4h0m11 0h0m9-4h0m0 1h0m5 3h0m0-1h0m3 1h0m13 1h0m18 0h0m12-4h0m8 1h0m-64 5h0m1 0h0m4 1h0m23 0h0m16-2h0" stroke="#061a6c" stroke-width="2.3"/><path d="M636 841h0m1-2h0m4 4h0m-23 3h0m20 0h0m-34 9h0m6-2h0m4 1h0m17-1h0m3-4h0m-113 11h0m2 0h0m3 0h0m4 0h0m21 0h0m6-1h0m4-1h0m13 1h0m2-3h0m21 5h0m1-5h0m32 1h0m9 4h0m-123 4h0m1 1h0m1 0h0m0-5h0m1 1h0m1 2h0m0 2h0m1 0h0m1-4h0m0-1h0m1 3h0m0-1h0m0 1h0m2 2h0m1 1h0m2-1h0m0 1h0m1-2h0m7 1h0m1-1h0m4 2h0m14-4h0m14 1h0m17 2h0m1-4h0m11 0h0m34 2h0m12-2h0m-126 10h0m6-2h0m0 2h0m2-1h0m2 1h0m3-1h0m1-1h0m1 2h0m1 0h0m0-3h0m1 2h0m1-2h0m1-1h0m3 4h0m4 0h0m1 0h0m0-2h0m15 1h0m9-1h0m1 1h0m8-1h0m7 0h0m8 1h0m3-3h0m4 0h0m8 2h0m18-2h0m-97 9h0m0-4h0m3 1h0m0 2h0m2 3h0m0-4h0m2 0h0m1 1h0m1 0h0m5-2h0m-4 6h0" stroke="#17a0fa" stroke-width="2.4"/><path d="M638 824h0m-15 6h0m10-1h0m1-4h0m1 5h0m0-1h0m3-2h0m2-1h0m4-1h0m2 2h0m1 4h0m-29 3h0m5 2h0m0-2h0m1 1h0m1-3h0m2 1h0m1-1h0m7 1h0m6 3h0m4-1h0m1-1h0m3 0h0m-51 8h0m1-1h0m2 0h0m1 1h0m1-1h0m3 0h0m0-1h0m11 1h0m2 0h0m1-3h0m6 1h0m2 2h0m3 0h0m3 1h0m0 0h0m1-4h0m0 2h0m3 3h0m6-5h0m1 0h0m1-1h0m0 6h0m1-3h0m0-1h0m6 0h0m-72 8h0m10 1h0m0-3h0m2 0h0m3 0h0m3 0h0m2 0h0m1 4h0m1-3h0m0-1h0m2 1h0m3-2h0m10-1h0m1 5h0m0-2h0m3 0h0m3 0h0m1-2h0m2 4h0m2-3h0m1 1h0m1 3h0m2-5h0m2 4h0m6-1h0m1-3h0m5 2h0m1 2h0m3-5h0m2 4h0m2-3h0m-107 11h0m2-1h0m1 1h0m1-2h0m5 1h0m5-2h0m5-2h0m4 3h0m2 1h0m6-4h0m2 2h0m0 1h0m7-2h0m1 0h0m3 1h0m2 1h0m0 0h0m1-1h0m4-1h0m5 1h0m2 0h0m8 0h0m1 1h0m2 1h0m1 1h0m0-2h0m2-3h0m8-1h0m2 5h0m2-3h0m1 2h0m2-1h0m1 1h0m3 1h0m1-2h0m4-3h0m0 1h0m1 3h0m3 0h0m2-1h0m1 0h0m4 1h0m-139 8h0m11 0h0m1-3h0m3 1h0m6-3h0m1 4h0m1-1h0m3-4h0m1 1h0m1 2h0m0-1h0m1 4h0m5-6h0m2 6h0m2-4h0m2 3h0m2-3h0m2 3h0m9 0h0m0 0h0m5-3h0m1-1h0m10 0h0m2 1h0m0 0h0m3 2h0m5-2h0m0 0h0m3-1h0m2 1h0m1 4h0m2-4h0m0 2h0m9-3h0m0 3h0m7-4h0m4 4h0m1 0h0m0-3h0m1 0h0m4 2h0m3 0h0m17 0h0m1 0h0m2-1h0m1 1h0m0 3h0m1-5h0m1 0h0m0-1h0m0 4h0m-126 4h0m1 0h0m0-1h0m1 0h0m1 3h0m1 1h0m1-3h0m1 2h0m0-2h0m9 2h0m6 0h0m0 1h0m1-3h0m2 0h0m1 3h0m2 0h0m3-3h0m1 3h0m1 0h0m10-3h0m5 3h0m3-1h0m4 1h0m0-2h0m0 2h0m3-3h0m1 0h0m1 3h0m4-5h0m0 6h0m1 0h0m5-1h0m1 0h0m1-3h0m11 4h0m0-2h0m1-3h0m6 1h0m9 1h0m3 1h0m1-2h0m3 3h0m2-5h0m4 0h0m0 1h0m8 2h0m1-3h0m3 6h0m-125 0h0m5 2h0m0 4h0m1-5h0m1 4h0m0-4h0m3 2h0m0-2h0m1 1h0m1 4h0m13-3h0m4 0h0m1-1h0m3 0h0m1 1h0m1-2h0m3 3h0m1-2h0m4 2h0m0-3h0m4 2h0m5-1h0m1 1h0m0-2h0m4 2h0m1 0h0m1-1h0m4 0h0m1 3h0m2 0h0m1-4h0m1 3h0m3-2h0m3 1h0m7-3h0m2 2h0m4 3h0m1-2h0m1 2h0m7 0h0m1-2h0m4 0h0m1 0h0m4-2h0m5 2h0m4 2h0m1-1h0m2-1h0m1-1h0m4 4h0m3-3h0m-116 4h0m3 2h0m0-2h0m1 0h0m6 1h0m2 4h0m1-6h0m10 5h0m7 0h0m3-1h0m7-3h0m0 1h0m2 3h0m8-3h0m7 3h0m6-3h0m2 0h0m9 2h0m4-3h0m2 4h0m2-4h0m2 2h0m4 2h0m4-1h0m1-2h0m6 2h0m1-2h0m7-1h0m-75 6h0m4 2h0m6-3h0m2 4h0m7 0h0m2-1h0m1 0h0m2-1h0m17 1h0m1-1h0m0-2h0m5 3h0m6-2h0" stroke="#eb8cf0" stroke-width="2.5"/><path d="M637 841h0m2 0h0m-42 8h0m5-3h0m4 2h0m23-5h0m-70 11h0m17 1h0m12-2h0m7-1h0m9 0h0m2-3h0m2 4h0m6-3h0m2 5h0m4-2h0m5-3h0m4 1h0m5 3h0m6-5h0m7 4h0m3-4h0m5 3h0m-105 6h0m12 2h0m14-5h0m6 4h0m2-2h0m3 1h0m20-2h0m1 2h0m9 0h0m25-2h0m2-1h0m5 0h0m-80 9h0m11-2h0m4 2h0m11 2h0m0-2h0m10 1h0m6-1h0m19-2h0m12 1h0m0-1h0m7 1h0m-90 7h0m13-2h0m37-1h0m1 5h0m2-5h0" stroke="#061a6c" stroke-width="2.3"/><path d="M624 842h0m7-1h0m21 1h0m-41 5h0m21 0h0m1-4h0m5 0h0m1 4h0m14-1h0m-60 6h0m25 2h0m2 0h0m36-4h0m-145 9h0m2 0h0m2 0h0m1 1h0m5 0h0m0 1h0m1-1h0m1 0h0m33-1h0m5 0h0m4 1h0m3-3h0m19 4h0m10-4h0m1 0h0m20 3h0m22-1h0m2-3h0m2 5h0m11-1h0m-144 2h0m2 0h0m3 0h0m1 1h0m4 2h0m5 2h0m1-4h0m1-2h0m1 2h0m1-1h0m0 4h0m3-3h0m1 2h0m2-1h0m24 1h0m3-2h0m11-1h0m1 1h0m1-2h0m5 6h0m8-2h0m0-2h0m0 3h0m9-5h0m18 2h0m12 0h0m3 0h0m11-2h0m-123 10h0m3 0h0m2 1h0m2-4h0m2-1h0m0 3h0m1 0h0m2 2h0m0 0h0m2-1h0m0-3h0m1 0h0m3 0h0m0 4h0m2-3h0m0 2h0m3-3h0m3 2h0m0 0h0m0 1h0m16-2h0m19 2h0m34 0h0m7-2h0m2 1h0m9-2h0m-108 5h0m3 3h0m4 0h0m1 2h0m1-2h0m5-3h0m4 5h0m3-4h0m-6 7h0m1-1h0" stroke="#17a0fa" stroke-width="2.4"/><path d="M639 824h0m-8 7h0m4-2h0m1 2h0m7-1h0m1-3h0m0 3h0m3 1h0m2-1h0m-36 7h0m10-2h0m1-1h0m4 0h0m3 2h0m3-1h0m9-1h0m3 0h0m4 1h0m-48 6h0m1-1h0m1 0h0m2-1h0m4-1h0m2 2h0m5 2h0m1-5h0m1 1h0m1-1h0m3 5h0m3-1h0m5-1h0m5 3h0m4-4h0m1 3h0m4-1h0m2-3h0m0 3h0m1-2h0m3 2h0m2-1h0m1-1h0m0 3h0m1-4h0m-86 11h0m9-1h0m3-1h0m5 2h0m7-1h0m1-4h0m2 5h0m2-1h0m3-2h0m0-2h0m1-1h0m3 6h0m4-5h0m4 3h0m3 1h0m1 0h0m5-1h0m1 2h0m2 0h0m3-4h0m0-1h0m3 2h0m9 1h0m0-1h0m1 1h0m5-2h0m7-2h0m-108 11h0m2 1h0m7 0h0m10-3h0m7 0h0m7 1h0m5-1h0m1-2h0m0 1h0m4 3h0m0-4h0m1 3h0m4-1h0m4-1h0m1 2h0m4-2h0m1 1h0m0 2h0m0-2h0m1-2h0m3 1h0m12 2h0m5 0h0m2 0h0m1-1h0m1 1h0m2 0h0m1-2h0m7 4h0m4-2h0m1 0h0m1-2h0m6 1h0m2-2h0m1 1h0m1 2h0m-130 7h0m2 0h0m2-1h0m1-2h0m4 2h0m2 0h0m5 0h0m1-1h0m2-3h0m2 6h0m0-3h0m0-1h0m3 0h0m5 0h0m0 1h0m3 1h0m4 2h0m2-5h0m3 3h0m1 1h0m0-3h0m7 3h0m4-4h0m6 1h0m1 3h0m1 1h0m2-1h0m2 0h0m3-2h0m1 0h0m2 1h0m4-1h0m3 0h0m1 0h0m1 2h0m6 0h0m2 0h0m2-3h0m3 1h0m1 0h0m4-3h0m3 1h0m5 5h0m0 0h0m2-5h0m1 0h0m5 3h0m1-1h0m4-2h0m3 0h0m2 4h0m1 0h0m4-3h0m1 3h0m2-4h0m1 3h0m-140 2h0m2 1h0m4 0h0m5 3h0m2-3h0m2 1h0m3-2h0m0 0h0m2 1h0m0 3h0m1 1h0m4-1h0m0 0h0m3-3h0m6 0h0m6 0h0m3 3h0m4 1h0m1-1h0m1-2h0m1 4h0m3-6h0m1 1h0m2 3h0m1 1h0m5-4h0m5 2h0m2 1h0m2 0h0m0-3h0m3 1h0m1 3h0m0-3h0m1 1h0m2 1h0m1 1h0m1-1h0m1 1h0m8 1h0m0-5h0m1 2h0m1 0h0m1 3h0m6-3h0m2-1h0m1-2h0m0 1h0m2 0h0m1 1h0m2 4h0m0-4h0m1-1h0m9 2h0m1-2h0m5 2h0m6-1h0m4 2h0m0-1h0m1 2h0m0 0h0m0-4h0m1 3h0m4-2h0m2-1h0m-122 7h0m8-2h0m1 4h0m1-3h0m1 3h0m3-4h0m1 3h0m4 3h0m2-5h0m1 5h0m4-4h0m2 3h0m2 0h0m5-1h0m0-1h0m3 3h0m0-2h0m0 1h0m8-3h0m1-1h0m0 0h0m4 0h0m3 5h0m4-1h0m8-2h0m1-1h0m8 3h0m1-5h0m2 3h0m6 1h0m4 1h0m6-4h0m3 0h0m2 1h0m3 2h0m0-2h0m5 2h0m0 1h0m4-4h0m3 5h0m-112 1h0m12 1h0m1-2h0m8 1h0m1 2h0m5-1h0m4 4h0m2-1h0m6 1h0m0-2h0m0-2h0m1 3h0m9-3h0m6 2h0m2-1h0m10 1h0m2 0h0m0-4h0m4 5h0m2 1h0m5-3h0m1 2h0m1-2h0m1 0h0m3-2h0m6 0h0m3-1h0m1 3h0m11-2h0m2 0h0m-85 6h0m13 0h0m3 2h0m4 2h0m10-2h0m6 0h0m1 0h0m10-2h0m12 1h0m4-2h0" stroke="#eb8cf0" stroke-width="2.5"/><path d="M642 838h0m4 3h0m1-3h0m5 4h0m-53 5h0m6-1h0m6-1h0m0 3h0m13-1h0m2-1h0m5-1h0m4 0h0m5 1h0m11 0h0m-68 5h0m6-2h0m3 2h0m6 2h0m9-3h0m1 4h0m2-5h0m12 2h0m2 3h0m17-3h0m11-1h0m1 0h0m1 1h0m-102 5h0m1 1h0m27 3h0m1-4h0m1 2h0m0 0h0m8 0h0m7 1h0m27-1h0m14 2h0m5-3h0m9 4h0m2-4h0m0-1h0m0 2h0m-100 6h0m2-3h0m6 0h0m9 2h0m3 1h0m5-2h0m44 1h0m1 4h0m3-4h0m3 2h0m21-3h0m-81 8h0m8-1h0m10 2h0m7-1h0m1 1h0m2-3h0m0 0h0m1 0h0m9 3h0" stroke="#061a6c" stroke-width="2.3"/><path d="M635 842h0m8 0h0m3-4h0m1 8h0m-84 7h0m15 0h0m3 1h0m12 0h0m2 0h0m0-4h0m6 1h0m16 0h0m18 1h0m8-1h0m5-2h0m-135 10h0m45 2h0m35-5h0m1 4h0m13-1h0m4 0h0m9-2h0m5-2h0m9 2h0m9 1h0m5 1h0m-136 2h0m3 0h0m3 4h0m4-1h0m6 2h0m1 0h0m1-4h0m2 0h0m1 2h0m4 3h0m0-3h0m1 3h0m28-1h0m10-3h0m4 2h0m2-4h0m11 2h0m15 0h0m5 2h0m2 0h0m1 0h0m9-3h0m16 2h0m-122 8h0m0-4h0m1 2h0m1-1h0m2 0h0m0-1h0m0-1h0m5 5h0m1-2h0m0 2h0m1-2h0m3 1h0m1 0h0m1-4h0m2 2h0m1-2h0m1 4h0m1-3h0m1 2h0m0-3h0m3 3h0m1 1h0m19 0h0m26 0h0m4-3h0m7-1h0m19 5h0m9-4h0m-105 7h0m3 1h0m10 3h0m4-5h0m1 5h0m-6 0h0m0 1h0m2 0h0m3-1h0" stroke="#17a0fa" stroke-width="2.4"/><path d="M638 823h0m0 0h0m5-2h0m1-1h0m-13 8h0m11 1h0m3-2h0m0 4h0m0-1h0m6 0h0m-35 6h0m6 0h0m4-4h0m1 0h0m3 1h0m0 0h0m1 0h0m4 2h0m0-3h0m2 0h0m4 0h0m0 1h0m1 3h0m9-4h0m2 3h0m0-2h0m-49 10h0m8-1h0m3-2h0m1-2h0m2 3h0m3 2h0m1-6h0m2 3h0m5 0h0m7 0h0m1-2h0m4 1h0m1 2h0m4 2h0m0-2h0m5 2h0m3-5h0m-83 10h0m1 0h0m2 0h0m8-1h0m4-3h0m4-1h0m0 6h0m2-2h0m0-4h0m1 4h0m0-3h0m2 1h0m0 2h0m3-3h0m2 1h0m22 0h0m3 1h0m0-3h0m0 6h0m1-6h0m2 4h0m0-4h0m0 6h0m7-5h0m2 1h0m6 3h0m3 0h0m1-5h0m1 0h0m0 5h0m4-5h0m2 2h0m-97 6h0m4 4h0m9-1h0m4 0h0m2-5h0m4 1h0m1 2h0m12 3h0m2-5h0m5 3h0m0 1h0m4-1h0m3-1h0m5-2h0m1-1h0m0 5h0m0 0h0m3 0h0m4-1h0m2 1h0m14-4h0m1 4h0m1-4h0m0 4h0m3-1h0m4-4h0m3 1h0m3 1h0m-114 10h0m1-1h0m1-3h0m2 0h0m0 0h0m0 0h0m0 1h0m3-3h0m2 4h0m0-2h0m3-1h0m1 0h0m3-1h0m0 2h0m5-1h0m1-1h0m4 2h0m2-1h0m6 2h0m5 0h0m2 3h0m1-3h0m5-3h0m5 4h0m6 2h0m1-2h0m15-4h0m1 4h0m1-1h0m2 3h0m4-3h0m1 2h0m0-2h0m6 2h0m1-3h0m0 3h0m1-4h0m8 4h0m0-3h0m0 4h0m1-4h0m2 0h0m2-1h0m1 4h0m1-2h0m4-2h0m12 4h0m-140 2h0m3 4h0m6-2h0m8 3h0m3-4h0m1 2h0m3 0h0m1-2h0m1 1h0m0 3h0m0-2h0m3 2h0m1-4h0m0-2h0m6 1h0m2 0h0m1 3h0m3-3h0m2 4h0m4 0h0m1-5h0m4 1h0m7 3h0m3 1h0m8-2h0m1-2h0m2 1h0m0 0h0m1-1h0m0 0h0m3-1h0m5 0h0m2 3h0m1-1h0m3 1h0m0 1h0m1-2h0m1 4h0m1-4h0m1 1h0m2 0h0m2 2h0m1-4h0m1 2h0m1-1h0m4-1h0m1 4h0m10 1h0m0-5h0m4 5h0m2-1h0m3-2h0m5-2h0m1 4h0m3-4h0m3 3h0m-121 5h0m0 1h0m1-1h0m1 0h0m6 2h0m1-2h0m0-1h0m3-2h0m0 6h0m1-3h0m3-2h0m6 3h0m3-4h0m1 3h0m2-1h0m1 1h0m4 1h0m5 0h0m0-1h0m0 1h0m3 2h0m4-4h0m2 1h0m2-3h0m0 1h0m1 1h0m5 0h0m5 0h0m4 0h0m0 4h0m2-3h0m9 1h0m4 0h0m7 1h0m0-3h0m5 0h0m0 2h0m0-2h0m5 4h0m1-1h0m0-4h0m3 1h0m5-1h0m1 0h0m1 2h0m12-1h0m1-1h0m-117 5h0m3 1h0m2 2h0m1-2h0m8 1h0m0 0h0m8 4h0m1-4h0m2 0h0m2-2h0m6 4h0m3-3h0m1 3h0m1 0h0m3-3h0m0 4h0m1 0h0m0-5h0m6 6h0m1-4h0m1-1h0m1 1h0m0 1h0m3 0h0m4-1h0m5-1h0m4 0h0m3 1h0m2 0h0m6-1h0m3 4h0m0-2h0m5-3h0m8 3h0m2 0h0m1 1h0m7 0h0m3-3h0m3-1h0m1 3h0m-82 3h0m0 2h0m2-2h0m2 3h0m1-1h0m22 2h0m7-4h0m1 0h0m2 0h0m8 2h0m8-1h0m5 1h0m1-1h0" stroke="#eb8cf0" stroke-width="2.5"/><path d="M648 839h0m-52 8h0m33-1h0m1-2h0m11 2h0m7-3h0m2 4h0m-48 4h0m4-1h0m4 2h0m17 0h0m1 2h0m5-5h0m16 4h0m8 1h0m-107 5h0m10 0h0m17-3h0m5 4h0m4-2h0m14 2h0m3-5h0m5 2h0m11 0h0m3-1h0m21 2h0m1 1h0m5-4h0m-78 11h0m2-1h0m6-2h0m4 0h0m5 3h0m4-4h0m4 4h0m2-1h0m2-3h0m7 3h0m2-2h0m2 0h0m6 2h0m12 1h0m4-5h0m20 1h0m-94 7h0m28 3h0m11-3h0m3 3h0m3-1h0m8 0h0m10-1h0" stroke="#061a6c" stroke-width="2.3"/><path d="M627 841h0m6 0h0m9-1h0m0-1h0m-54 9h0m2 1h0m49-3h0m7 0h0m-72 8h0m5 0h0m2-4h0m5 1h0m12 4h0m6-3h0m3-2h0m13 4h0m27 1h0m3-1h0m0-1h0m-134 7h0m0-1h0m3 0h0m1 1h0m1 0h0m4 1h0m25-4h0m25 3h0m4 0h0m10-4h0m25 3h0m20-1h0m22 1h0m-143 4h0m1 3h0m0-2h0m4 3h0m2-1h0m5 0h0m0 0h0m1-4h0m1 0h0m0 2h0m1 2h0m12 0h0m0 0h0m14-4h0m17 2h0m2 1h0m3-1h0m3 2h0m6-1h0m0-1h0m18 3h0m2-6h0m6 6h0m8-3h0m15 1h0m8 0h0m-126 4h0m0 1h0m2-1h0m1 3h0m2 0h0m0-2h0m0 1h0m3-1h0m2-3h0m1 3h0m2-2h0m1 2h0m2 2h0m1 1h0m2-4h0m3 3h0m3-4h0m2 1h0m1 0h0m2 1h0m1 0h0m43 2h0m13-1h0m24-3h0m-105 6h0m3-1h0m2 1h0m1 2h0m1-1h0m5 3h0m0-1h0m5 1h0m1-2h0m0-3h0m0 6h0m3-3h0m-4 3h0m2 1h0" stroke="#17a0fa" stroke-width="2.4"/><path d="M641 822h0m2 0h0m1 0h0m-21 8h0m4-1h0m3 0h0m1-2h0m1 0h0m18 2h0m0 1h0m-32 3h0m1 3h0m3-4h0m7 1h0m0 2h0m2 2h0m5-4h0m1-2h0m4 3h0m5-1h0m1 0h0m8 4h0m-60 5h0m1 0h0m10 0h0m2-1h0m0-2h0m2 2h0m0 0h0m4-1h0m1-3h0m1 5h0m6 1h0m3-1h0m19-2h0m1 2h0m3-5h0m4 1h0m2 2h0m-65 9h0m7-2h0m3-4h0m1 1h0m4 4h0m2-5h0m0 1h0m2-1h0m0 5h0m2-1h0m6-4h0m1 4h0m3 0h0m4-1h0m5-2h0m8 3h0m2-2h0m4-1h0m3 1h0m4 0h0m0 2h0m1-2h0m3 3h0m1-4h0m-102 10h0m1 1h0m1-3h0m0 2h0m8-3h0m6 0h0m7 3h0m2-4h0m10 3h0m3 2h0m1-4h0m0 1h0m8 1h0m1-3h0m1 2h0m4 1h0m2-1h0m0-2h0m6 1h0m9 4h0m1-2h0m2 2h0m2-4h0m0-1h0m7 1h0m4-1h0m1 1h0m5 1h0m2 0h0m0-2h0m7 2h0m1 2h0m-137 5h0m5-1h0m2 2h0m3 0h0m2-1h0m1-1h0m2 0h0m0 2h0m2-1h0m0 0h0m1-1h0m3 1h0m0-1h0m5 0h0m2-1h0m3-1h0m1 2h0m3 2h0m2-1h0m0-1h0m3-3h0m1 5h0m3-2h0m5 2h0m3-5h0m2 4h0m3 2h0m4-1h0m5-3h0m7-1h0m1 4h0m8-5h0m2 4h0m2 0h0m2 0h0m1 0h0m0 2h0m4-4h0m4-2h0m4 4h0m0-3h0m1 3h0m3-3h0m0 2h0m1-2h0m2 4h0m0 0h0m2-2h0m3 1h0m4-4h0m11 0h0m5 1h0m4 4h0m0-2h0m-134 4h0m0 3h0m0-1h0m1-2h0m4 3h0m2-2h0m2 1h0m2 0h0m0-2h0m2 0h0m0 3h0m14 1h0m6-4h0m7 1h0m2 2h0m2-4h0m3 1h0m0 3h0m1-2h0m5 4h0m0-3h0m1 0h0m2 1h0m1-1h0m5-2h0m1 2h0m0-1h0m1 3h0m1-2h0m3 0h0m3-1h0m6 1h0m1-2h0m8 0h0m2 0h0m0 0h0m0 4h0m1 0h0m1-2h0m0 1h0m4 2h0m3 0h0m1-4h0m0 0h0m1 3h0m7-1h0m3 1h0m1 1h0m0 0h0m2-5h0m4 3h0m0-1h0m0 3h0m1 0h0m1-6h0m1 1h0m2 1h0m2 2h0m0-2h0m4-1h0m3 0h0m-125 6h0m9 0h0m13 4h0m0-3h0m4 1h0m0-3h0m3 4h0m3-3h0m0-1h0m2 5h0m0 1h0m3-1h0m0-5h0m4 6h0m0-5h0m4 4h0m3-5h0m1 3h0m0-1h0m2 1h0m2 0h0m0-2h0m2 4h0m2-1h0m1 2h0m1-1h0m2-5h0m3 4h0m7-2h0m0 2h0m7-1h0m1 2h0m0-3h0m2 3h0m1-5h0m1 1h0m1 0h0m1 2h0m0 2h0m1-2h0m0 0h0m0-2h0m1 2h0m1 2h0m1-3h0m6-1h0m3 2h0m5 2h0m1-4h0m6 4h0m4-1h0m0-2h0m4 1h0m-105 4h0m3 0h0m2 1h0m5-2h0m0 6h0m8-3h0m4 0h0m4-1h0m0-1h0m9 3h0m5 1h0m6-3h0m3 1h0m1-3h0m8 1h0m0 3h0m6-4h0m0 4h0m3-1h0m1-1h0m7-1h0m3 3h0m1-2h0m1 2h0m1 2h0m3-4h0m5 0h0m1 2h0m3-1h0m0-2h0m1 2h0m1 1h0m2-4h0m-68 6h0m10 4h0m1-2h0m0 2h0m2-2h0m1 1h0m6-2h0m4 1h0m1-1h0m21 0h0m1 0h0" stroke="#eb8cf0" stroke-width="2.5"/><path d="M649 836h0m-5 2h0m-27 9h0m10-1h0m8-3h0m3 3h0m3-3h0m2 1h0m-64 7h0m4-2h0m6 2h0m7 1h0m9 0h0m4 1h0m6-1h0m27-2h0m10 4h0m-82 7h0m5 0h0m0-4h0m1 3h0m8 0h0m2-2h0m6-1h0m12-2h0m1 2h0m4 1h0m13 1h0m9-3h0m17 5h0m-86 3h0m10 3h0m34-4h0m3 0h0m9 4h0m3-5h0m0 4h0m13 0h0m13-3h0m-81 8h0m4-1h0m17 1h0m6-2h0m21 3h0" stroke="#061a6c" stroke-width="2.3"/><path d="M625 841h0m0 0h0m3 1h0m0-2h0m-27 7h0m8-3h0m12 2h0m4-1h0m20 1h0m-67 7h0m2-2h0m2 0h0m5 4h0m16-3h0m27-3h0m6 3h0m2 0h0m2 2h0m1 1h0m0-5h0m2 4h0m-127 6h0m0 0h0m6 0h0m44-4h0m1 0h0m3 0h0m12 1h0m11 3h0m27 0h0m2 1h0m8-6h0m3 3h0m12 1h0m-128 7h0m1-3h0m0 2h0m1-4h0m1 5h0m2-3h0m0-1h0m0 4h0m1-4h0m2 2h0m2-1h0m1 2h0m0 1h0m1 0h0m0-4h0m10 3h0m32-3h0m3 3h0m3-3h0m7 0h0m21 4h0m6-3h0m3 3h0m3-2h0m16 0h0m-118 4h0m3 0h0m3 1h0m0 0h0m3 2h0m2 1h0m2 0h0m1 0h0m1-2h0m0-3h0m2 5h0m1-3h0m1 2h0m1 0h0m2-2h0m1-2h0m1 1h0m3 2h0m3 0h0m1 0h0m30-1h0m7 2h0m2 0h0m0-1h0m-59 3h0m3 4h0m1-3h0m0 3h0m0-1h0m3-3h0m1 5h0m0 1h0m2-1h0m1-5h0m2 0h0m3 6h0" stroke="#17a0fa" stroke-width="2.4"/><path d="M641 823h0m2 0h0m2 1h0m0 1h0m0-2h0m-21 7h0m2 0h0m1-2h0m2 1h0m7-3h0m4 3h0m2-1h0m2-2h0m3 5h0m-34 5h0m15 0h0m5-1h0m2-2h0m5 0h0m6 0h0m1 4h0m3-5h0m-45 10h0m7-4h0m1 4h0m2 0h0m0-5h0m5 3h0m2 0h0m2 1h0m3 1h0m0-5h0m4 5h0m2 0h0m4 0h0m0-3h0m9 2h0m6-2h0m2 1h0m2-1h0m-78 9h0m12 1h0m0-5h0m8 2h0m1 0h0m10 0h0m6 3h0m3-3h0m0 2h0m1-2h0m0-1h0m1 3h0m7-3h0m7-1h0m0 1h0m1 0h0m1 0h0m0 3h0m8-2h0m5-2h0m0 0h0m5 0h0m2 4h0m-117 7h0m7-2h0m1 0h0m3 2h0m2 0h0m2-1h0m9-3h0m3-2h0m2 4h0m1 1h0m6-1h0m2 0h0m2-3h0m4 0h0m0-1h0m1 2h0m3-1h0m1-1h0m2 5h0m0-5h0m0 6h0m2-6h0m3 6h0m1-1h0m1-2h0m0-1h0m10-1h0m6 1h0m2 3h0m1 1h0m2-1h0m1-3h0m0 3h0m2 0h0m1-3h0m0 1h0m12 2h0m0-1h0m0-2h0m2-2h0m3 3h0m3 3h0m0-3h0m6-2h0m3 3h0m0 0h0m1-4h0m2 5h0m-135 6h0m6 0h0m4 1h0m1-3h0m4 3h0m2-1h0m3-1h0m3-3h0m1 0h0m0 3h0m11 1h0m0-3h0m9-2h0m2 2h0m2 2h0m0 0h0m1-3h0m4 5h0m2-3h0m1 0h0m1-1h0m1 2h0m2-1h0m0 0h0m11-1h0m3-2h0m5 3h0m9-2h0m1 4h0m2-2h0m0 2h0m13-3h0m1 1h0m1 0h0m0 3h0m4-4h0m11-1h0m5 2h0m0 0h0m1 0h0m1-1h0m2 1h0m3 2h0m0 1h0m3-5h0m2 3h0m1-3h0m-139 7h0m3-1h0m4 1h0m5 3h0m1-3h0m3-1h0m0 4h0m6-1h0m1 0h0m2-4h0m1 4h0m1-4h0m2 5h0m6-1h0m2 1h0m1-3h0m9 0h0m4 3h0m2-4h0m2 0h0m3 4h0m9 0h0m0-4h0m6 4h0m1-4h0m0 1h0m0-2h0m1 6h0m4-4h0m2 4h0m0-3h0m0-3h0m3 4h0m1-3h0m9-1h0m5 1h0m1-1h0m4 4h0m1 2h0m2-2h0m0-1h0m0-1h0m0 3h0m3-2h0m2-1h0m1 0h0m3 0h0m0-1h0m1 4h0m2-5h0m6 1h0m3-1h0m0 4h0m0-4h0m5 0h0m2 2h0m1-1h0m0 0h0m3-1h0m-136 6h0m10 4h0m1 1h0m4-2h0m4 0h0m0-2h0m3 0h0m0 2h0m1-2h0m2 1h0m1 0h0m1 4h0m0-6h0m5 4h0m4-2h0m1 0h0m10 4h0m4-5h0m2 4h0m6-4h0m7 2h0m0 1h0m3-3h0m3 3h0m2 2h0m1-3h0m2-2h0m2 2h0m6 3h0m0-4h0m1-1h0m0 3h0m3 1h0m4-2h0m7 0h0m2-1h0m2-2h0m5 3h0m6 1h0m5-3h0m1 2h0m0 2h0m3-3h0m1 4h0m1-1h0m0-5h0m1 5h0m1 0h0m-110 2h0m2-1h0m1 4h0m0-1h0m1 1h0m5 0h0m8-2h0m8 2h0m2 1h0m5-5h0m1 5h0m0-4h0m0-1h0m8 4h0m3-3h0m2 1h0m0-2h0m0 2h0m2-1h0m1 4h0m0 1h0m7-3h0m2 0h0m0 1h0m2-2h0m1-1h0m2-1h0m8 2h0m5 3h0m2-4h0m10 2h0m2 3h0m2-5h0m3 0h0m6-1h0m-79 8h0m3-1h0m8 0h0m3 1h0m6 3h0m1-5h0m8 1h0m8 1h0m4-1h0m3 1h0m1 1h0m5-1h0m2-2h0m2 3h0m8-3h0m5 0h0" stroke="#eb8cf0" stroke-width="2.5"/><path d="M637 883h0m0 0h0m2 2h0m2-2h0m2-2h0m1 3h0m1-3h0m0-1h0m1 3h0m0-1h0m0 2h0m1-3h0m0 2h0m0 1h0m0-5h0m1 1h0m0 1h0m-104 5h0m1 1h0m4-1h0m1 1h0m0-1h0m0 0h0m2 2h0m0 1h0m2 1h0m0 0h0m2-3h0m3 2h0m0-1h0m1 2h0m1-1h0m1-2h0m1 1h0m8 2h0m0 1h0m0-1h0m8 0h0m5 1h0m9-1h0m26 0h0m0-1h0m5 1h0m1-2h0m1 2h0m2-4h0m1 2h0m4-2h0m0 0h0m2 4h0m0-4h0m1-1h0m4 2h0m-86 6h0m0-1h0m1 0h0m2 1h0m3-2h0m1 3h0m0-2h0m3 1h0m1-1h0m0 1h0m0 1h0m0-1h0m2 2h0m0-2h0m2 1h0m4 2h0m1-5h0m3 4h0m0-2h0m1 2h0m1-2h0m6 0h0m0 1h0m5 2h0m0-4h0m0 0h0m1 0h0m0 3h0m1-2h0m4 3h0m1-5h0m1 4h0m0 1h0m1-1h0m1-1h0m2-3h0m0 3h0m1-2h0m0 0h0m1 3h0m1-2h0m0 1h0m0-1h0m2 3h0m3-4h0m1 1h0m1-1h0m0 2h0m1 0h0m8-2h0m1-1h0m1 2h0" stroke="#061a6c" stroke-width="2.3"/><path d="M661 866h0m-133 7h0m121-2h0m0 1h0m8-2h0m3 3h0m-130 5h0m1-1h0m13 0h0m18 1h0m61-1h0m2-1h0m0 2h0m2-1h0m7 1h0m5 0h0m6-5h0m0 3h0m1 1h0m0 2h0m3-4h0m0-1h0m0 2h0m3-1h0m1 3h0m1 1h0m-112 2h0m2 0h0m1 1h0m14 1h0m3 2h0m1-2h0m1-3h0m3 4h0m1-5h0m4 5h0m0 0h0m2-2h0m1 3h0m5-3h0m2-2h0m3 1h0m1 2h0m2 2h0m5-3h0m1-2h0m1 2h0m11-2h0m4 0h0m3 4h0m1-4h0m0 1h0m4 0h0m4 0h0m3 2h0m3-1h0m3-3h0m0 4h0m4 1h0m1-1h0m1 0h0m2 0h0m1-1h0m1-2h0m1 4h0m2-1h0m0 0h0m1-3h0m2 1h0m-97 6h0m1-1h0m1 1h0m6-1h0m1 2h0m4-3h0m2 2h0m5 0h0m8 0h0m3 4h0m1-3h0m6 0h0m0-3h0m4 4h0m1 0h0m1 1h0m0 1h0m8-6h0m1 4h0m6 0h0m0 1h0m4 0h0m0-5h0m2 1h0m1 0h0m3 3h0" stroke="#17a0fa" stroke-width="2.4"/><path d="M642 871h0m-98 3h0m24 3h0m53 2h0m1 0h0m16-6h0m-73 7h0m11 1h0m1-1h0m38 4h0m4-4h0m3 1h0m8-1h0m0 1h0m0 0h0" stroke="#eb8cf0" stroke-width="2.5"/><path d="M650 878h0m1-1h0m1 1h0m-108 7h0m1 0h0m95 0h0m6-5h0m2-1h0m1 1h0m-104 6h0m0 2h0m3-2h0m1 2h0m3 0h0m4-1h0m2 0h0m11 4h0m4-1h0m21 0h0m11-1h0m2 2h0m2-2h0m2 1h0m5 1h0m3-2h0m0 1h0m3 0h0m5 1h0m3-4h0m0 3h0m0 0h0m0-1h0m4 0h0m0-2h0m12 0h0m1-2h0m-94 7h0m3 0h0m0 0h0m5 2h0m2-2h0m2 2h0m0 0h0m0-2h0m8 0h0m0 2h0m1-1h0m1 1h0m2-2h0m0 2h0m1 1h0m2-3h0m0-1h0m3 5h0m1-2h0m1-1h0m1-1h0m2 5h0m3-1h0m1-2h0m1 2h0m3-2h0m1-1h0m1 3h0m0 1h0m0-4h0m1 3h0m0-1h0m1 1h0m2-2h0m0 1h0m0-4h0m0 2h0m2 3h0m0-2h0m3-3h0m2 5h0m3-1h0m2 0h0m3-3h0m1-1h0m5 1h0m2 0h0m-51 5h0" stroke="#061a6c" stroke-width="2.3"/><path d="M645 873h0m1 0h0m7-4h0m1 0h0m1 4h0m4-5h0m1 0h0m0 0h0m-133 6h0m1 0h0m1 2h0m1 1h0m1-4h0m3 3h0m0 2h0m1-3h0m2-1h0m1 4h0m3-3h0m1 2h0m2 0h0m1-1h0m0 2h0m1 1h0m2-1h0m3-1h0m0 2h0m9 0h0m2 0h0m47 0h0m13 0h0m1-2h0m0 1h0m8-2h0m3 3h0m4-3h0m1 0h0m4-2h0m1 0h0m2 5h0m1-1h0m6-1h0m0 1h0m1-2h0m6-1h0m-123 5h0m4-1h0m4 2h0m6 2h0m1-1h0m3 0h0m1-3h0m2 2h0m2-2h0m2 5h0m0-1h0m5-1h0m1-1h0m0-1h0m1 0h0m0 2h0m4 1h0m2-1h0m5 1h0m0 1h0m1-4h0m3 2h0m1 0h0m8-1h0m1-1h0m2 4h0m1 0h0m12-2h0m1 0h0m1 1h0m3-1h0m1 2h0m2 1h0m0 0h0m1-3h0m0 2h0m9 1h0m1-3h0m1-1h0m5-1h0m0 2h0m2-1h0m2 0h0m0 3h0m0-3h0m2 3h0m1-3h0m4 0h0m-96 5h0m1 2h0m9 0h0m2-1h0m5 2h0m2 0h0m4-1h0m0-3h0m9 4h0m6-2h0m3 2h0m2-3h0m6 0h0m1 2h0m1 1h0m2-1h0m0-2h0m3 1h0m3 1h0m3-3h0m2 4h0m3-2h0m3 0h0m4 1h0m9-1h0" stroke="#17a0fa" stroke-width="2.4"/><path d="M638 871h0m9 1h0m4-3h0m-89 10h0m8-1h0m11 0h0m65-4h0m-75 6h0m4 3h0m3 0h0m5-2h0m39 3h0m-50 1h0" stroke="#eb8cf0" stroke-width="2.5"/><path d="M650 878h0m3 0h0m-17 6h0m1-1h0m5-2h0m1 2h0m4-3h0m0 2h0m0-1h0m1 2h0m4-4h0m-111 6h0m1 0h0m2 1h0m1 1h0m2 2h0m0-3h0m0 0h0m6 3h0m1 1h0m6-2h0m0 2h0m5-2h0m0 1h0m1-1h0m7 3h0m1 0h0m24-2h0m1 2h0m5-1h0m2 1h0m13-1h0m2-1h0m0-1h0m2 2h0m1-2h0m4-2h0m0 0h0m1 0h0m0 2h0m1-1h0m1-1h0m2-1h0m0 5h0m1 0h0m1-4h0m0 2h0m1-1h0m1-2h0m0 1h0m5 1h0m0 1h0m-93 3h0m1 0h0m1 1h0m2-1h0m4 1h0m1 0h0m5 0h0m2 1h0m4 0h0m1 1h0m3-2h0m1 1h0m2-1h0m0 1h0m0 2h0m7 1h0m4-2h0m2-1h0m1 1h0m0 2h0m3 1h0m0-2h0m1-4h0m0 3h0m0 1h0m1-3h0m0 4h0m0-3h0m2 1h0m1 2h0m1-2h0m1-1h0m7-1h0m1 0h0m2 0h0m1 2h0m1 2h0m1-1h0m1-1h0m9-2h0m0 0h0m-47 5h0m4 1h0" stroke="#061a6c" stroke-width="2.3"/><path d="M660 865h0m-15 7h0m2 1h0m4-4h0m2 3h0m6-1h0m2-4h0m1 0h0m0 6h0m-131 3h0m4 0h0m1-2h0m0 0h0m1 4h0m0-3h0m6 1h0m6 1h0m3 1h0m1-1h0m70 0h0m18-1h0m1 0h0m3-1h0m3 0h0m3 0h0m2 2h0m3-4h0m5 1h0m-119 5h0m1 4h0m5-4h0m5 1h0m0 0h0m1 2h0m0 2h0m2-3h0m3 2h0m2 0h0m5-3h0m0 4h0m1-1h0m2-1h0m1-1h0m0-1h0m0 0h0m1 2h0m5 0h0m2 1h0m6-1h0m0 1h0m2 1h0m6-3h0m2 3h0m0 0h0m1-4h0m1 0h0m3 4h0m1-3h0m8 0h0m1 2h0m2-2h0m3 2h0m1 1h0m2-5h0m1 3h0m0-1h0m1 1h0m1-1h0m8 1h0m2 2h0m7-3h0m1 0h0m6 2h0m0-1h0m2-2h0m5-1h0m-90 8h0m2 2h0m3-3h0m2 4h0m4-4h0m3 0h0m1 1h0m5-2h0m3 5h0m5-4h0m3 4h0m1 0h0m3 0h0m1-1h0m1 0h0m1-1h0m1-2h0m5 4h0m1-4h0m2 1h0m2 2h0m2-4h0m0 0h0m1 3h0m2-2h0m0 2h0m1-1h0m2 0h0m1-2h0m8 0h0m0 2h0" stroke="#17a0fa" stroke-width="2.4"/><path d="M655 868h0m2-1h0m-116 8h0m8 2h0m85 2h0m2-3h0m7-1h0m-85 6h0m4-2h0m6 3h0m24 2h0m21-3h0m4 0h0m2 3h0" stroke="#eb8cf0" stroke-width="2.5"/><path d="M653 877h0m-112 7h0m93 0h0m2 0h0m1 0h0m6-1h0m3 2h0m1-2h0m2-3h0m0 1h0m-104 7h0m1 0h0m0 0h0m1-1h0m2-2h0m2 3h0m2 0h0m0-2h0m2 3h0m6-1h0m2 0h0m0 1h0m0 0h0m2 1h0m2-1h0m0 0h0m2-1h0m20 2h0m9 0h0m1 0h0m3 0h0m12 1h0m3-3h0m1 1h0m2 2h0m4-3h0m6-3h0m1 4h0m1-2h0m0 1h0m0 2h0m0-3h0m2 0h0m0 2h0m2 0h0m0 0h0m0-4h0m2 2h0m0-1h0m2 0h0m0 0h0m1-1h0m1 2h0m2-1h0m1 2h0m-89 5h0m1 1h0m2 0h0m2 1h0m1-4h0m4 3h0m1 0h0m0 2h0m1-4h0m4 3h0m2-2h0m0 0h0m2 3h0m0-3h0m2 0h0m0 3h0m3-3h0m0 2h0m1-1h0m1 0h0m0-2h0m1 3h0m1-1h0m2-2h0m1 4h0m5-1h0m1-2h0m1-1h0m0 0h0m1 1h0m2 1h0m0-1h0m2 0h0m3 1h0m1 1h0m2 0h0m0-2h0m0 2h0m1-4h0m0 3h0m1-2h0m3 0h0m0 4h0m0-5h0m4 3h0m2-2h0m3-1h0m1 1h0m5-1h0m1 1h0m0-1h0m-51 6h0m13 0h0" stroke="#061a6c" stroke-width="2.3"/><path d="M660 865h0m-12 6h0m6 2h0m1-3h0m5 2h0m2-2h0m0-2h0m-132 10h0m2-1h0m1 0h0m14-1h0m1 1h0m6 1h0m0 0h0m77 0h0m1-2h0m3 1h0m3 0h0m5 0h0m2 2h0m3-5h0m2 4h0m3-2h0m1-2h0m0-1h0m5 1h0m-120 9h0m7-3h0m0 0h0m3 5h0m2-5h0m0 1h0m0 1h0m2-1h0m0-1h0m4 2h0m1 1h0m2-1h0m4-2h0m6 4h0m4-2h0m0-1h0m3 3h0m1-5h0m3 1h0m1 3h0m1 0h0m4-2h0m3 3h0m3-2h0m2-1h0m2 1h0m1 1h0m3 1h0m1 0h0m1-2h0m4-2h0m5 4h0m4-4h0m1 3h0m5-3h0m2 2h0m0 1h0m5-2h0m5 1h0m1-3h0m1 6h0m1-2h0m1 1h0m2-1h0m0 0h0m1-2h0m6 1h0m1-3h0m-96 7h0m7 1h0m4 2h0m7-2h0m1 1h0m4 1h0m1-4h0m2 1h0m1 1h0m3 2h0m0 1h0m5-1h0m8-3h0m3 5h0m7-2h0m1 1h0m1 0h0m5-1h0m0-4h0m3 2h0m2 0h0m14 0h0m4-1h0m-43 6h0" stroke="#17a0fa" stroke-width="2.4"/><path d="M652 871h0m-92 9h0m3 1h0m11 3h0m1 0h0m13 1h0m1-1h0m24-4h0m0 0h0" stroke="#eb8cf0" stroke-width="2.5"/><path d="M654 876h0m-113 9h0m97 0h0m1-2h0m6-3h0m0 1h0m6-1h0m-109 5h0m2 1h0m2 1h0m10 3h0m3 0h0m0 1h0m3-3h0m0 3h0m1-1h0m0-1h0m8 0h0m2 0h0m1 2h0m6-1h0m10 1h0m0-1h0m3 1h0m2-1h0m2 1h0m0-1h0m3 1h0m5-1h0m11 0h0m0 0h0m8 1h0m0-1h0m2-2h0m2 3h0m4-2h0m0-2h0m1 0h0m2 2h0m3-1h0m1 1h0m3-2h0m0 0h0m1-2h0m-94 7h0m4 1h0m1-1h0m1 1h0m1-1h0m1 1h0m3-2h0m2 2h0m0 0h0m0-1h0m0 1h0m1 0h0m1-1h0m1 1h0m7-2h0m3 2h0m1 2h0m0-3h0m1 0h0m1 5h0m1-1h0m5-2h0m2 1h0m0-1h0m2-2h0m1 5h0m1-4h0m5 0h0m0 1h0m3-2h0m3 4h0m1 0h0m6-4h0m4 3h0m1 0h0m2-2h0m6 0h0m3-1h0m-50 6h0m7-1h0" stroke="#061a6c" stroke-width="2.3"/><path d="M662 866h0m1 0h0m-14 7h0m6-5h0m0 4h0m5-2h0m2-2h0m0-1h0m0 1h0m-133 8h0m0 1h0m11-2h0m1 4h0m7-3h0m7 2h0m12 0h0m2 0h0m58 1h0m4-3h0m7-1h0m1 4h0m0-3h0m9 0h0m2 2h0m1-1h0m1 0h0m0 0h0m2 1h0m6-3h0m-124 4h0m2 3h0m2 0h0m0 0h0m3-1h0m4 4h0m2-6h0m0 1h0m1 4h0m4-2h0m1-2h0m1 1h0m0 0h0m2 0h0m2-1h0m1 0h0m1 2h0m2 0h0m1 1h0m2-1h0m2-2h0m1 3h0m1 1h0m0 1h0m2-1h0m0-1h0m1 0h0m0 1h0m3-1h0m4 1h0m2-2h0m2 2h0m4-2h0m1 1h0m6 2h0m0-3h0m3-2h0m2 3h0m4 2h0m2-3h0m0-3h0m1 3h0m3 0h0m1 1h0m2-4h0m2 5h0m2-2h0m1-1h0m3 2h0m4-3h0m1 4h0m1-2h0m2 1h0m2 2h0m1-2h0m2 1h0m1-3h0m10 1h0m4-1h0m2-1h0m-97 6h0m7 0h0m0 3h0m1-2h0m2-1h0m0 2h0m4-1h0m1 1h0m0 1h0m2 0h0m1 1h0m3-4h0m3 0h0m0 2h0m6 0h0m1-1h0m5 4h0m6-2h0m1 1h0m0-4h0m0 4h0m1-4h0m0 2h0m3 1h0m6-2h0m3 2h0m0-4h0m5 1h0m2 1h0m8 0h0" stroke="#17a0fa" stroke-width="2.4"/><path d="M651 871h0m-105 6h0m24 1h0m56 1h0m2-5h0m2 2h0m3 1h0m2-2h0m4 0h0m-78 4h0m19 5h0m37-5h0m5 3h0" stroke="#eb8cf0" stroke-width="2.5"/><path d="M612 824h0m-22 7h0m27-2h0m2-3h0m0 2h0m1 2h0m1-3h0m1 4h0m5-3h0m6 2h0m-51 4h0m5 0h0m11 2h0m3-2h0m1-3h0m4 0h0m6 1h0m2 2h0m1 2h0m4-3h0m7 0h0m1 2h0m5 1h0m-57 7h0m4-4h0m5-2h0m8 1h0m3 4h0m4-4h0m26-1h0m7 5h0m1-3h0m-71 8h0m16 0h0m5 2h0m7-3h0m2 1h0m12-3h0m1 3h0m10 2h0m7-4h0m3 0h0m4-2h0m4 0h0m-66 9h0m6-2h0m3 0h0m6 0h0m4 5h0m5-5h0m0 0h0m10 0h0m8-1h0m14 1h0m1 4h0m6-1h0m0-3h0m-58 7h0m3 2h0m5-3h0m9 3h0m6-2h0m1 1h0m5-3h0m10 0h0m3 0h0" stroke="#061a6c" stroke-width="2.3"/><path d="M579 776h0m17 0h0m5 0h0m-24 2h0m25 2h0m0 3h0m-31 7h0m14 5h0m11-1h0m59-1h0m7-3h0m-87 8h0m6 0h0m14 0h0m6 0h0m16 3h0m2-3h0m25 1h0m8-4h0m7 1h0m-86 9h0m3-2h0m5 1h0m8 3h0m5-2h0m0 1h0m6 1h0m2-5h0m3 4h0m0 0h0m4-3h0m2 1h0m1 2h0m35-2h0m7-3h0m2 1h0m0 4h0m1-4h0m-87 11h0m3-6h0m6 4h0m0 0h0m1-2h0m3-1h0m3 4h0m0 0h0m9-2h0m1 2h0m5-3h0m1 4h0m0-3h0m1 3h0m2-5h0m12 0h0m2 3h0m19-4h0m12 2h0m1-1h0m1 1h0m0 1h0m1-1h0m-93 10h0m0-3h0m5 1h0m1-3h0m0 3h0m2-3h0m1 4h0m1-1h0m10 2h0m0-3h0m2-3h0m0 1h0m1-1h0m1 5h0m1-4h0m3 4h0m2-4h0m0 2h0m2-2h0m4 3h0m1 0h0m2-2h0m2-1h0m1 1h0m2 0h0m1 4h0m9-6h0m48 1h0m-99 5h0m6 3h0m1-1h0m1 1h0m2-2h0m5 5h0m3-6h0m3 2h0m8-1h0m3-1h0m1 6h0m1-2h0m0 0h0m2-3h0m2 3h0m0-3h0m10 2h0m3-3h0m2 6h0m1-2h0m23-2h0m1 0h0m3 0h0m1 4h0m15-4h0m-103 7h0m9-1h0m2-2h0m1 4h0m7-3h0m10 0h0m1 0h0m3 5h0m5-5h0m1 2h0m2 3h0m6 0h0m2-6h0m1 4h0m3-4h0m0 5h0m3-5h0m0 4h0m3-4h0m4 6h0m2-2h0m16-2h0m4-1h0m22 4h0m-110 7h0m4-5h0m8 4h0m5-3h0m6-1h0m1 5h0m2 0h0m0-5h0m3 2h0m0-1h0m0 0h0m1 3h0m1 1h0m4-2h0m4-1h0m2 2h0m6-3h0m15 2h0m6-3h0m1 3h0m2 0h0m2-1h0m1-1h0m24 4h0m16-4h0m-115 5h0m4 2h0m1 2h0m2 1h0m2-4h0m1 3h0m1-4h0m10-1h0m1 3h0m2 0h0m4 0h0m0 0h0m5-3h0m1 2h0m6 0h0m0-1h0m10 1h0m2 0h0m0-1h0m1 4h0m4-2h0m4 3h0m6-5h0m5 2h0m1-3h0m0 4h0m2-1h0m5-1h0m34-1h0m-103 6h0m8 2h0m6-2h0m6 1h0m3 3h0m3-1h0m11 1h0m2-5h0m4 2h0m1 3h0m2-3h0m2-1h0m9 3h0m1 1h0m2 0h0m3-1h0m1 1h0m1 0h0m1-4h0m1-1h0m0 3h0m7 3h0m8-5h0m2 1h0m5 2h0m3 2h0m-92 0h0m5 3h0m3-2h0m0 3h0m2 0h0m2-2h0m6 0h0m5 0h0m4 4h0m2-6h0m5 4h0m2 1h0m4-1h0m4 0h0m1-2h0m6 0h0m1-1h0m4 0h0m2 0h0m0 3h0m2-2h0m6-2h0m15 1h0m9 3h0m12 2h0m1-5h0m-96 7h0m2 2h0m2-1h0m5 2h0m1-1h0m4-1h0m1 0h0m1-2h0m1 2h0m1-2h0m1 1h0m5-1h0m2 2h0m0-2h0m4 0h0m3 0h0m6 2h0m1 1h0m37-3h0m15 0h0m1-1h0m2 2h0" stroke="#eb8cf0" stroke-width="2.5"/><path d="M620 824h0m0 0h0m-23 6h0m11-4h0m6 2h0m1-1h0m8 0h0m-29 8h0m13-2h0m9 3h0m7-2h0m11 2h0m2-1h0m-55 7h0m0-2h0m1 3h0m10-3h0m11-2h0m1 1h0m7 2h0m2-1h0m13 2h0m3 1h0m-67 2h0m3 3h0m2-2h0m1 2h0m1 0h0m12-5h0m15 0h0m6 6h0m2-4h0m1 2h0m21-3h0m2 2h0m2-1h0m5 2h0m2-1h0m0-2h0m1 2h0m-69 4h0m2 4h0m5-3h0m10 2h0m1-1h0m1 0h0m3 1h0m5-1h0m0-2h0m7 0h0m0 0h0m2 0h0m4 5h0m2-5h0m0 1h0m8 2h0m-47 3h0m7 4h0m7-5h0m1 2h0m9-1h0m5-1h0m13 1h0" stroke="#061a6c" stroke-width="2.3"/><path d="M620 746h0m8 4h0m-67 18h0m26 11h0m9 2h0m-26 7h0m32 1h0m2-4h0m20 1h0m27 1h0m-77 4h0m1 2h0m13-1h0m3 0h0m1 2h0m4-1h0m1-2h0m2 3h0m15-1h0m38-1h0m-75 9h0m0 0h0m3-1h0m0-4h0m2 2h0m1 1h0m1 2h0m7-3h0m2 0h0m12 1h0m5 1h0m37 0h0m11-5h0m3 0h0m5 4h0m-91 5h0m0 0h0m1-1h0m1 2h0m3-4h0m12 2h0m4 3h0m2-2h0m0-2h0m6-1h0m1 0h0m4 3h0m5-1h0m28-1h0m5 4h0m7-1h0m2-1h0m4-2h0m-99 10h0m6-4h0m2 2h0m3 2h0m4-4h0m5 2h0m3 3h0m1-2h0m1 2h0m14-2h0m5 1h0m1 0h0m1-3h0m6-1h0m3 0h0m2 1h0m2 1h0m18-2h0m14-1h0m2 1h0m1 2h0m2-1h0m6 3h0m-104 5h0m1-2h0m1 0h0m0 3h0m3-1h0m1 2h0m1-1h0m5-1h0m1-4h0m6 6h0m11-3h0m1 1h0m1 1h0m1-2h0m6-2h0m0 3h0m9-2h0m9 3h0m2-3h0m3 0h0m27-2h0m19 3h0m-108 3h0m4 0h0m1 2h0m6 2h0m1-2h0m2-2h0m3 4h0m2-3h0m3 3h0m3-3h0m1 1h0m1 2h0m3 0h0m5 2h0m3-3h0m2 0h0m5 2h0m7 0h0m1-1h0m2 1h0m2 0h0m1-3h0m3 3h0m27-4h0m1 4h0m2-5h0m7 6h0m11-1h0m-111 5h0m2 1h0m2 1h0m0-1h0m5 0h0m0 0h0m1-1h0m2 2h0m4-4h0m7 1h0m5 2h0m2 0h0m1-5h0m1 2h0m4 4h0m2-4h0m0 3h0m5-5h0m2 2h0m2-1h0m7 0h0m2 4h0m2-5h0m7 1h0m1 1h0m1 1h0m2 3h0m3-3h0m7-1h0m4 0h0m15 1h0m1 2h0m3-3h0m-102 6h0m2 1h0m1 3h0m2-5h0m4-1h0m17 1h0m1 5h0m0-3h0m3-2h0m4 1h0m2 2h0m3-3h0m1 3h0m0 0h0m28-3h0m8 3h0m0 1h0m1-4h0m4 0h0m8 5h0m13-6h0m-106 7h0m6 4h0m4-1h0m0-1h0m2-2h0m0 2h0m7 0h0m2 0h0m0-1h0m1-1h0m1 3h0m3 1h0m0-3h0m1 1h0m0 0h0m0-2h0m3 2h0m1-1h0m4 1h0m1 3h0m7-2h0m6 1h0m6-1h0m13 0h0m13-1h0m1 3h0m1-3h0m11 1h0m20 1h0m-103 2h0m0 5h0m5-1h0m3-3h0m7-1h0m3 5h0m13 0h0m4-6h0m2 6h0m4-3h0m3 3h0m2-2h0m7-1h0m2 1h0m1 0h0m6 0h0m2 2h0m1-5h0m3 2h0m4 0h0m0 2h0m15-4h0m5 4h0m10-4h0m-102 6h0m1 1h0m3 3h0m7 1h0m1-4h0m4 2h0m0 1h0m5 0h0m1-2h0m4 3h0m15-3h0m3-1h0m1 1h0m2 2h0m2-3h0m3 0h0m2 2h0m3-2h0m2 3h0m1 0h0m19 1h0m7-5h0m3 4h0m4-4h0m4 4h0m-92 1h0m5 5h0m4-4h0m10 1h0m13 1h0m14-2h0m0 0h0m30 3h0m10 0h0m5-2h0m4 3h0m4-3h0" stroke="#eb8cf0" stroke-width="2.5"/><path d="M614 823h0m-22 6h0m8-1h0m4 1h0m8 0h0m12 1h0m0-1h0m8 1h0m-49 5h0m3-2h0m2 1h0m1 1h0m4-2h0m0 1h0m12 0h0m12-1h0m8 2h0m3 0h0m4 0h0m-63 6h0m23-2h0m4 3h0m3-4h0m8 4h0m1-1h0m12 1h0m2 1h0m6-3h0m-66 7h0m3-3h0m3 0h0m2 4h0m6-4h0m7 5h0m4-4h0m3 0h0m1 1h0m5-2h0m2 2h0m3 0h0m1 3h0m8-2h0m0-1h0m0 1h0m3-3h0m6-1h0m10 5h0m8-4h0m-70 6h0m20-1h0m2 4h0m10-1h0m1-2h0m0 3h0m1-2h0m1 0h0m15 4h0m1-2h0m2 0h0m6 1h0m10-4h0m-56 7h0m0-2h0m1 3h0m8 0h0m5-3h0m0 1h0m17-1h0" stroke="#061a6c" stroke-width="2.3"/><path d="M606 752h0m-8 6h0m-28 8h0m9 17h0m8-1h0m16-3h0m-8 7h0m0 3h0m11 0h0m22-2h0m-49 7h0m6-2h0m1-1h0m1 4h0m4-2h0m21-2h0m43-1h0m5 2h0m-83 5h0m3 1h0m0 2h0m0-2h0m1-1h0m2 1h0m3-2h0m1 0h0m1 4h0m5-1h0m3-2h0m0 3h0m7-4h0m4 3h0m0 0h0m1 1h0m42-4h0m3 4h0m6-1h0m-96 5h0m8-1h0m7 0h0m3 0h0m1 4h0m0-1h0m4-2h0m1 0h0m5-3h0m2 2h0m3-2h0m7 4h0m1 2h0m4-3h0m4 0h0m1 2h0m2-2h0m0-3h0m3 1h0m16 4h0m15-4h0m-88 8h0m11-2h0m14 0h0m4 1h0m10 2h0m4-1h0m3 2h0m11-2h0m15 3h0m31 0h0m-107 5h0m2-3h0m9 4h0m17-5h0m3 3h0m8-3h0m3 2h0m0 0h0m3-2h0m2-1h0m6 0h0m3 3h0m6-1h0m15-2h0m3 4h0m2-4h0m5 5h0m20 0h0m-109 6h0m2-1h0m3-3h0m0 0h0m3-1h0m4 5h0m1-2h0m0-2h0m11 2h0m0-1h0m7-1h0m2 3h0m3-3h0m5 3h0m2-1h0m9 0h0m1 1h0m2 1h0m26-4h0m31 1h0m-112 6h0m6 1h0m1 2h0m9-4h0m5 1h0m3-1h0m3 4h0m8-3h0m0-1h0m2 4h0m1 0h0m6-2h0m1 0h0m1 0h0m1-1h0m4 0h0m1 1h0m1-1h0m1 1h0m1-1h0m1 3h0m7-4h0m1 1h0m6 3h0m1-2h0m1 1h0m10-2h0m11-1h0m6 0h0m0 1h0m6-1h0m7 2h0m-108 5h0m1-1h0m5 5h0m6-6h0m2 1h0m2 2h0m2-1h0m0-1h0m5 3h0m1-1h0m10-2h0m8 1h0m1 0h0m6-1h0m0 4h0m1-4h0m0 1h0m4 2h0m9 2h0m14-5h0m7-1h0m5 6h0m9-4h0m8 0h0m2 1h0m0-1h0m-115 7h0m2-3h0m1 0h0m1 1h0m11 4h0m2-2h0m1-1h0m0 1h0m1 1h0m5 0h0m3 1h0m0-3h0m1 1h0m1-2h0m0 3h0m1-2h0m3 0h0m0-1h0m4 3h0m1-3h0m16 5h0m4-2h0m2 1h0m0-2h0m0 3h0m4-1h0m3-4h0m5 2h0m1-2h0m4-1h0m0 6h0m3-5h0m2 4h0m0-2h0m0-3h0m6 3h0m5 2h0m0 0h0m10-4h0m1 4h0m2-3h0m0 1h0m8 0h0m-111 3h0m6 3h0m2-2h0m3 4h0m2-1h0m2-1h0m5 2h0m4-5h0m1 2h0m1-1h0m6 1h0m4-2h0m8 4h0m2-3h0m4 4h0m7-4h0m0 0h0m8-1h0m1 5h0m0 0h0m10-2h0m7 1h0m0-2h0m12 4h0m-79 4h0m3-4h0m1 0h0m3 6h0m0-4h0m4 2h0m9-3h0m4 1h0m7 3h0m3 0h0m5-1h0m0-2h0m2 1h0m9-2h0m6 3h0m16-4h0m3 5h0m5 0h0m6 0h0m1-2h0m-75 7h0m6 0h0m1-3h0m7-1h0m1 3h0m3 0h0m8 1h0m14-4h0m27 3h0m2 0h0m7 2h0m6 0h0m2-3h0" stroke="#eb8cf0" stroke-width="2.5"/><path d="M593 829h0m21-2h0m2-1h0m5 2h0m-43 8h0m3 1h0m7-1h0m10 0h0m2-4h0m6 5h0m7 0h0m1-3h0m1-2h0m1 5h0m7-5h0m10 1h0m-60 10h0m1-2h0m4 2h0m2-5h0m6 3h0m0-3h0m2 0h0m6 5h0m3-2h0m5-4h0m0 4h0m5-4h0m16 5h0m0-4h0m0 2h0m5 2h0m5 0h0m4 1h0m0-4h0m-73 8h0m0-1h0m13 0h0m1 1h0m1-1h0m6-3h0m5 6h0m7-4h0m0-2h0m1 1h0m0 0h0m1 0h0m1 4h0m3-3h0m2 1h0m14 0h0m0 1h0m14-1h0m1-2h0m1 0h0m-51 10h0m2-5h0m2 2h0m0 0h0m9-2h0m6 2h0m6 3h0m0-1h0m3-1h0m12 0h0m0 3h0m5-6h0m1 1h0m-57 10h0m9-1h0m6 0h0m4-2h0m1-1h0m15 0h0" stroke="#061a6c" stroke-width="2.3"/><path d="M627 749h0m31 11h0m-94 15h0m7-2h0m59 2h0m-46 5h0m-5 8h0m2 0h0m12-4h0m4 0h0m13 0h0m6 5h0m9 0h0m30 0h0m-64 4h0m11-2h0m1 1h0m8-2h0m42 2h0m3 1h0m-79 6h0m0 2h0m1-1h0m0 0h0m2-1h0m7 0h0m0-4h0m5 6h0m1-1h0m1-4h0m3 0h0m2 2h0m8 1h0m-42 3h0m5 3h0m2 0h0m5-3h0m2 2h0m0-2h0m2 3h0m2-3h0m1 5h0m2-4h0m1 2h0m3-2h0m3 3h0m5-3h0m3 0h0m0 0h0m12 0h0m2 3h0m24 1h0m14-4h0m13 3h0m-103 4h0m1 0h0m2 1h0m10 1h0m10-2h0m10-1h0m4 1h0m2 0h0m5-1h0m0 4h0m7-2h0m2-3h0m24-1h0m-79 11h0m2-1h0m1 2h0m3-1h0m5-3h0m1 0h0m0 1h0m6-1h0m4 0h0m1 2h0m2-3h0m2 3h0m1 0h0m2-4h0m2 4h0m1-2h0m1 4h0m3-2h0m1 2h0m1-4h0m12 0h0m3 4h0m4-5h0m17 2h0m2 2h0m-80 4h0m1 1h0m1 2h0m2-1h0m6 0h0m4-3h0m12 2h0m5-2h0m0 0h0m5 2h0m2-2h0m1-1h0m4 1h0m1-2h0m0 6h0m3-3h0m1 1h0m1 1h0m6 0h0m5 0h0m4 1h0m13-3h0m2 0h0m3-1h0m23 3h0m-107 6h0m1-1h0m12-3h0m6 4h0m5 0h0m1 0h0m0-4h0m2 4h0m11 0h0m2-3h0m1 2h0m6 1h0m2-2h0m0 0h0m1 0h0m1 3h0m2 0h0m2-5h0m1 4h0m0-3h0m1 3h0m11 0h0m1-1h0m6 1h0m3 1h0m6-5h0m22 4h0m-100 3h0m6 0h0m2 0h0m0-1h0m1 3h0m2-4h0m1 2h0m2 4h0m3-5h0m4 3h0m2-3h0m1 3h0m2-2h0m3 2h0m2-2h0m0 1h0m0 2h0m4-1h0m7-1h0m3-2h0m19 1h0m5 3h0m2-4h0m2 3h0m1 0h0m2-3h0m4 3h0m8 1h0m6-4h0m9-1h0m1 1h0m-109 5h0m11 1h0m3 3h0m1-2h0m1 3h0m1-2h0m0-1h0m1 2h0m2-3h0m1 4h0m1-3h0m0-2h0m1 4h0m1-2h0m3-1h0m11 1h0m6 2h0m9-2h0m13-1h0m2 2h0m1-3h0m6 0h0m5 6h0m8-4h0m20 2h0m-110 3h0m13 1h0m9 4h0m2-5h0m2 3h0m1-3h0m3 3h0m7 2h0m10-2h0m0 0h0m2 2h0m9-5h0m3 0h0m1 0h0m11 2h0m2 0h0m0 2h0m5-1h0m4-3h0m15 3h0m3 0h0m4 1h0m6-3h0m-101 6h0m7 1h0m6-1h0m0 2h0m5-1h0m0 1h0m1-3h0m5 4h0m1-5h0m0 6h0m2-1h0m1-3h0m1-1h0m3 2h0m1 1h0m19-2h0m2-1h0m5 3h0m15-3h0m12 4h0m7-3h0m5 3h0m-85 2h0m3 2h0m3 0h0m14 1h0m2-2h0m0 3h0m11-3h0m1 0h0m0-2h0m3 2h0m1-1h0m27 2h0m16 2h0m2-3h0" stroke="#eb8cf0" stroke-width="2.5"/><path d="M591 830h0m9 1h0m2 0h0m-20 4h0m7-3h0m4-1h0m2 2h0m7-2h0m4 5h0m1-5h0m4 2h0m14 0h0m3 2h0m3-2h0m-60 8h0m2-1h0m2-2h0m8 3h0m5-2h0m2 3h0m9-4h0m1 1h0m5 1h0m17-3h0m9 5h0m3-4h0m3 1h0m-64 4h0m15 2h0m1 0h0m1-2h0m18 1h0m3 2h0m1 2h0m1-2h0m3 2h0m6-2h0m6-1h0m0 3h0m0-1h0m1-2h0m1-1h0m-65 8h0m1-2h0m1 3h0m6-4h0m2 5h0m9 0h0m1-1h0m1 0h0m17 0h0m7 1h0m8 1h0m7-1h0m13-4h0m-65 6h0m7-1h0m1 3h0m9 1h0m7 0h0m9-2h0" stroke="#061a6c" stroke-width="2.3"/><path d="M570 755h0m57 12h0m-26 10h0m41-6h0m-40 9h0m3 2h0m37-3h0m-42 8h0m3 1h0m11-2h0m35 1h0m8-1h0m-73 7h0m6 1h0m3-1h0m13-2h0m13 1h0m33 0h0m3 2h0m2-3h0m4-1h0m1 1h0m-84 4h0m5 2h0m1 2h0m2-4h0m1 1h0m1 4h0m0-3h0m2 1h0m3 1h0m2-2h0m4 1h0m5 2h0m4-1h0m0 1h0m4 0h0m37-4h0m-82 10h0m1-2h0m0 2h0m5-4h0m2 0h0m4 1h0m5-2h0m2 4h0m1-3h0m1 2h0m3 1h0m1-4h0m1 4h0m3 1h0m1 1h0m0-1h0m3 1h0m1-4h0m6 2h0m2-2h0m1 3h0m1 1h0m0-4h0m3 4h0m25-2h0m5-1h0m0 1h0m5-4h0m5 0h0m2 1h0m5 4h0m2-3h0m-97 9h0m3 0h0m0 0h0m1-3h0m11 3h0m4-4h0m6 1h0m4-2h0m3 0h0m0 3h0m1 2h0m6-4h0m1 0h0m1 3h0m3 0h0m3-2h0m6-1h0m38 0h0m4 3h0m3 0h0m2 2h0m-106 5h0m8-2h0m6 0h0m0 2h0m5 0h0m6-4h0m9 5h0m0-5h0m7 2h0m1 2h0m1 0h0m0-3h0m3 0h0m4 2h0m8-3h0m0 1h0m21 3h0m1-2h0m0-1h0m9 2h0m8-3h0m2 3h0m-100 3h0m8 4h0m11 0h0m10-5h0m3 5h0m6 1h0m4-5h0m0 0h0m7 3h0m11-4h0m2 3h0m12-2h0m12 1h0m23 0h0m1 3h0m-114 4h0m2-1h0m0 2h0m3-2h0m1 4h0m3-5h0m6 3h0m3-1h0m17 2h0m1-1h0m0-2h0m2 2h0m1 2h0m0 0h0m2-3h0m7 1h0m0-2h0m0 4h0m2-5h0m7 2h0m22 1h0m7-3h0m0 5h0m24-5h0m1 2h0m-112 7h0m6-3h0m2 4h0m7-1h0m3 1h0m2-3h0m0 2h0m4-1h0m4 0h0m2 1h0m1-2h0m4 0h0m0 1h0m1-2h0m1-1h0m3 5h0m0-3h0m1 1h0m0 0h0m4 1h0m3-3h0m5 0h0m2 1h0m9 3h0m1-1h0m6-1h0m3 2h0m5-5h0m1 5h0m3 1h0m0-3h0m22 0h0m8-2h0m1 4h0m-115 4h0m0-1h0m2 0h0m7-1h0m1 1h0m1 2h0m1-3h0m1 3h0m5-1h0m5 2h0m5-3h0m1-2h0m0 2h0m2 0h0m1 1h0m10-1h0m6 1h0m1 0h0m13 3h0m5-1h0m4-1h0m7 1h0m5-4h0m1 5h0m10-2h0m14-1h0m-95 6h0m2-3h0m8 6h0m1-2h0m2-2h0m1 3h0m0 0h0m8 0h0m4-3h0m12-2h0m7 4h0m9 0h0m4-1h0m3-1h0m1-1h0m1 1h0m4 1h0m5 0h0m16 0h0m3-2h0m1 4h0m5-4h0m5 1h0m2 0h0m-106 4h0m2 1h0m5 2h0m9 3h0m0 0h0m3-2h0m8 0h0m1-3h0m0 5h0m1-1h0m3-4h0m4 3h0m8 0h0m2 1h0m2-5h0m1 6h0m11 0h0m6-2h0m1 0h0m2-1h0m16-1h0m9-2h0m2 2h0m7 1h0m-88 6h0m3 2h0m6-2h0m6 0h0m19-2h0m3 0h0m3 0h0m25 1h0m2 0h0m6 4h0m7-5h0" stroke="#eb8cf0" stroke-width="2.5"/><path d="M509.5 854.8C516.02 853.37 537.58 852 548.6 850.2C559.62 848.4 566.6 847.28 575.6 844C584.6 840.72 594.05 835.68 602.6 830.5C611.15 825.32 619.7 819.43 626.9 812.9C634.1 806.37 640.62 798.05 645.8 791.3C650.98 784.55 655.07 776.08 658 772.4C660.93 768.72 661.6 768.3 663.4 769.2C665.2 770.1 667.58 769.17 668.8 777.8C670.02 786.43 670.7 807.95 670.7 821C670.7 834.05 670.25 847.55 668.8 856.1C667.35 864.65 666.73 867.8 662 872.3C657.27 876.8 649.4 879.95 640.4 883.1C631.4 886.25 619.25 890.07 608 891.2C596.75 892.33 584.15 891.7 572.9 889.9C561.65 888.1 549.5 883.78 540.5 880.4C531.5 877.02 524.07 873.2 518.9 869.6C513.73 866 511.07 861.27 509.5 858.8C507.93 856.33 502.98 856.23 509.5 854.8Z" fill="none" stroke="#1b1b1b" stroke-width="2.6" stroke-dasharray="5.2 3.4" stroke-linecap="butt"/><path d="M550 837.2C549.33 831.8 550.23 816.95 552.7 807.5C555.17 798.05 560.53 787.02 564.8 780.5C569.07 773.98 573.57 770.78 578.3 768.4C583.03 766.02 587.8 765.75 593.2 766.2C598.6 766.65 605.3 768.27 610.7 771.1C616.1 773.93 622.45 778.72 625.6 783.2C628.75 787.68 630.28 793.5 629.6 798C628.92 802.5 625.1 806.37 621.5 810.2C617.9 814.03 612.95 817.85 608 821C603.05 824.15 597.65 826.62 591.8 829.1C585.95 831.58 578.75 834.1 572.9 835.9C567.05 837.7 560.52 839.68 556.7 839.9C552.88 840.12 550.67 842.6 550 837.2Z" fill="none" stroke="#1b1b1b" stroke-width="2.6" stroke-dasharray="5.2 3.4" stroke-linecap="butt"/><text x="534.9" y="781.2" font-size="10.7" text-anchor="middle" font-weight="bold">G2/M</text><text x="534.4" y="792.4" font-size="10.7" text-anchor="middle" font-weight="bold">High Vim</text><text x="652.2" y="752.9" font-size="10.7" font-weight="bold">G1/</text><text x="638.4" y="763.8" font-size="10.7" font-weight="bold">High Vim</text><circle cx="514.2" cy="727" r="3.7" fill="#061a6c"/><text x="519.1" y="729.5" font-size="9.6">untreated</text><circle cx="514.2" cy="737.5" r="3.7" fill="#17a0fa"/><text x="519.1" y="740" font-size="9.6">day 3</text><circle cx="514.2" cy="747.3" r="3.7" fill="#eb8cf0"/><text x="519.1" y="749.8" font-size="9.6">day 14</text></g>
</svg></body></html>
